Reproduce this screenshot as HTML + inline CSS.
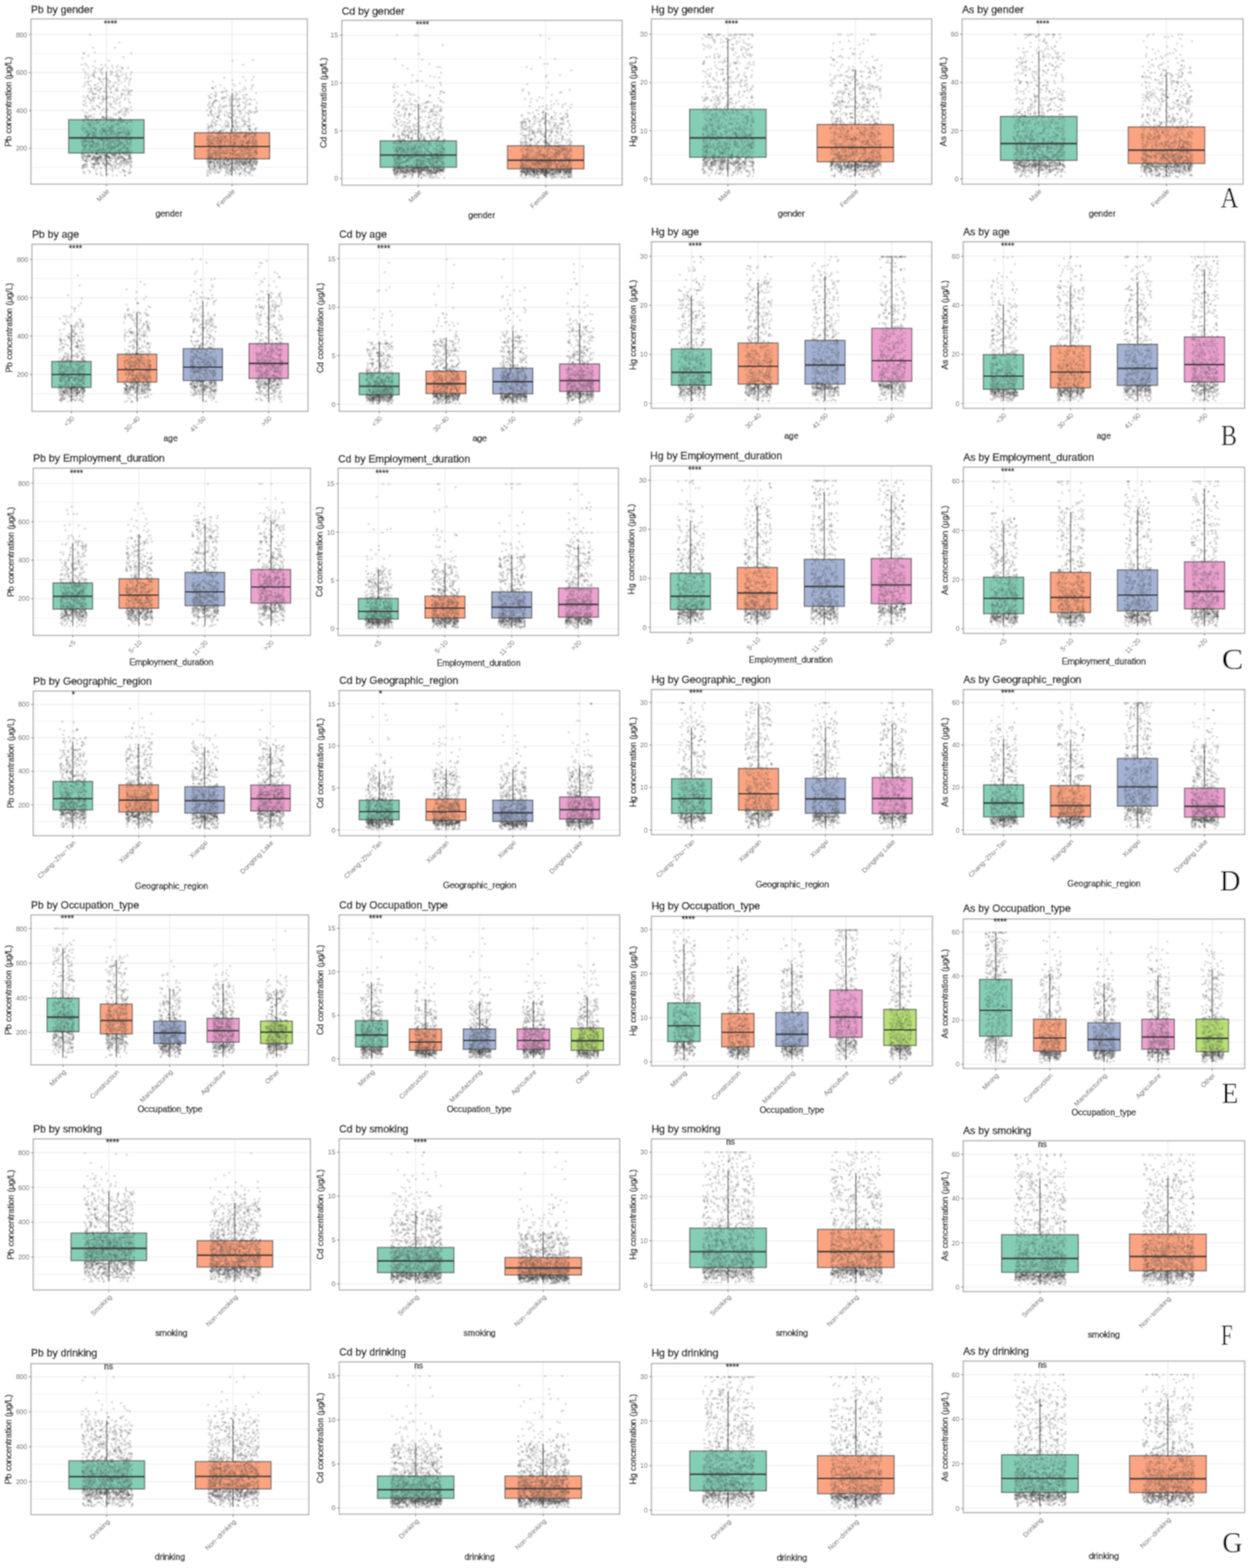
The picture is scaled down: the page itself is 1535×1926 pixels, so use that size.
<!DOCTYPE html><html><head><meta charset="utf-8"><title>Heavy metal concentrations by group</title>
<style>html,body{margin:0;padding:0;background:#fff}svg{display:block}.t{font-family:"Liberation Sans",Arial,sans-serif}.ti{font-size:12.85px;fill:#111;stroke:#111;stroke-width:.42px}.yl{font-size:8.4px;fill:#666;text-anchor:end}.xl{font-size:8.4px;fill:#666;text-anchor:end}.at{font-size:10.6px;fill:#111;stroke:#111;stroke-width:.33px;text-anchor:middle}.sg{font-size:10.6px;fill:#111;stroke:#111;stroke-width:.3px}.lt{font-family:"Liberation Serif","Times New Roman",serif;font-size:35.5px;fill:#111}.gm{stroke:#ececec;stroke-width:1.1;fill:none}.gn{stroke:#f1f1f1;stroke-width:1;fill:none}.pb{stroke:#a3a3a3;stroke-width:1.3;fill:none}.tk{stroke:#777;stroke-width:1;fill:none}.bx{stroke:#333;stroke-opacity:.7;stroke-width:1.35}.md{stroke:#3a3a3a;stroke-width:2.2}.wk{stroke:#6f6f6f;stroke-width:1.4}.pt{fill:none;stroke:none;marker:url(#d)}</style></head><body>
<svg width="1535" height="1926" viewBox="0 0 1535 1926">
<defs><marker id="d" viewBox="-2 -2 4 4" markerWidth="4" markerHeight="4" markerUnits="userSpaceOnUse" overflow="visible"><circle r="1.4" fill="#3c3c3c" fill-opacity=".185"/></marker></defs>
<filter id="bl" x="0" y="0" width="1535" height="1926" filterUnits="userSpaceOnUse"><feConvolveMatrix order="3" kernelMatrix="1 2 1 2 4 2 1 2 1" divisor="16" edgeMode="duplicate"/></filter>
<g filter="url(#bl)"><rect width="1535" height="1926" fill="#fff"/>
<g>
<path class="gn" d="M38 205.6H377.5"/>
<path class="gn" d="M38 159H377.5"/>
<path class="gn" d="M38 112.4H377.5"/>
<path class="gn" d="M38 65.8H377.5"/>
<path class="gm" d="M38 182.3H377.5"/>
<path class="gm" d="M38 135.7H377.5"/>
<path class="gm" d="M38 89.1H377.5"/>
<path class="gm" d="M38 42.5H377.5"/>
<path class="gm" d="M130.6 23.3V226.3"/>
<path class="gm" d="M284.9 23.3V226.3"/>
<rect x="84.3" y="147" width="92.6" height="41" fill="#85ceb7"/>
<rect x="238.6" y="163" width="92.6" height="32.3" fill="#fda481"/>
<path class="wk" d="M130.6 147V87.5M130.6 188V215.4"/>
<path class="wk" d="M284.9 163V115M284.9 195.3V215.4"/>
<path class="pt" d="M110.5 42.5l36 10-5 6-27 0-12 7 1 0 13-1 45 1-10 5-43-2-7 3 15 4 17-1 24 9-7 0-2-1-4-2-1 2-5 1-1-3-5 3-3-3-3 3-2-4-7 4-3-2-6 2-2-3-2-2-4 1 2 6 2 3 11 1 0-3 2 2 4-4 2 4 1-3 0 0 1 4 10-2 2 1 0 0 5-1 3-1 3 1 2-3 11 4-1 3-5 3-1-3-4 0-3 2-2 1-1-1-1-3 0 2-2 1-4-2-2 0-10 0-5 4-4 0-1-2 0-1-1-2 0 3-2-1-3 2-1-3-3 0-1 4 0 6 3-1 1-4 0 4 3-1 11-3 0 2 0-1 2 3 1 1 1-4 2-1 3 0 1 2 2 1 1 1 5 1 2 0 2-5 1 3 1-1 3 3 4-5 0 3 3-3 2 5 1-3 1-2-2 8-5 2-8-3-1 4-5-1 0-2-2 2-4 0 0-4-3 3-4-1-6 2 0-4-3 2-1 0-6 1-2-2-4 1-2 2 6 3 1 4 2-5 0 3 1 1 0-3 4-1 0 1 2-1 1 3 2-1 1 0 0 3 1-5 1 0 3 4 1-4 0 4 7-3 0-1 1 5 0 0 6-2 0-2 1 1 1 1 6-1 2 0 2 1 2-2 1 4 1-2 0 1 3-1 0 0-1 5-2-2-1 2-3 0-3-1-2 1 0 0 0-2-1 5-4-1-4-3-2 4-3 0-2-1-2-4-1 4-4 0-1 0-4-1-4-2 0 0-1 4-2-4 0 0-1 4 0-5-6 3 0 1-5 0 0 6 2-1 1-3 4 0 0 1 2 2 0 0 2-1 1-1 1-1 0 4 5-4 1 0 4 1 1 2 0 2 1-4 0 0 2 0 2-1 0 0 8 4 1-3 1 4 2-2 0-2 3 0 1 4 6-5 0 2 4-1 1 3 2 7-1-5-12 4-1-3-4 0-6 1 0-1 0 4-2-2-1-3-9 1-2-1-1 5-1-1-2-1-5 1-2-4-5 4-1-4-2 3-1-1-1 7 9 0 3-2 2 0 1 1 6-2 3 3 2-2 2 4 2-4 1 2 6-3 3 1 5 4 2-2 1 2 1-4 3-1 0 5 1-4 0 3 1-2 1 1 1-2 4 2-4 3-3 3-1-2-1 3-2-2-4-2 0 5-1-5-3 3 0-2-3 1-8 2-5 1-1 0-2-4-8 1-3 3-1-2-2 2 0-1-1 1-1-5-2 4 0 1 0-1-1 0 0-4-3 9 1 2 0 0 1-3 2-2 0 5 0-5 1 1 1 1 1 0 0 1 1 1 3 1 0-3 0 2 1 1 2-5 1 4 1-1 1 0 1-1 0 1 0 0 3 0 0 2 1-3 2-2 1 0 1 0 1 0 0 1 1 4 1-5 1 5 0-1 0-3 1 2 1-3 2 3 0 2 0-4 1 3 0-4 1 4 0 0 1-3 1 4 0-3 0 2 0-1 1 1 2-2 2 3 1-2 0 1 1-3 1 3 0 0 0-2 0-1 1 0 0 0 1 4 0-2 0 2 2-2 0 2 1-1 1 1 3 0 1-1 3 1 0-2 0 1 1 2-2 5-3-4-1 1 0-1-4 3-2-4-1 0-2 2 0 2-1-4-1 2 0 1-1-1-1 2 0-2-2 0-2 2-1 1 0-2 0 1-2-3-1 4-3-1 0 0-2-3-2 2 0-2-1 2-3 0-1 2-2-5 0 1-1-1 0 0-2 1-1 1-2 1 0-2-3 3 0-2-1 3 0-2 0-1 0 2-1-1 0-2-1 0 0 0-1 4-1-3-3 1-2 1-1 2 0 3 2 1 0-2 0-1 2 0 0 0 1 3 1-1 0 2 1 0 1-1 2-3 1 2 1 1 1-3 1 1 0-2 1 1 0-1 1 3 0 0 1-2 0 3 1-1 0 2 0-3 4 3 0 0 1-2 1-1 1-1 0 1 1 1 0 2 0 0 0-1 0-3 1 4 0-1 0 0 1 1 0-2 0 2 0-3 1-1 0 2 1 1 0 0 1-4 1 4 1-4 0 3 0 1 1-2 0-1 0 4 1-5 0 4 0-2 1 1 0-2 0 1 1 3 0-5 0 4 1-4 0 3 1 2 0 0 0-5 0 4 4 0 1-3 1 1 0 0 2-1 0 0 1 2 1-2 2 4 0-1 0-2 1-2 0 5 1-3 2-2 0 4 0 0 1-1 1 2 1-2 3 1 0-1-1 5-1-2-1 0 0 2 0 1 0-1-1-1 0 1 0-1 0 2-1 1 0-2-1 3-1-4 0 1 0 1-1 2 0-4-1 0-2 3-1-4 0 0 0 1-2-1 0 1 0 0-1 3 0-3 0-1 0 0-1 3 0-2-1-1 0 1 0 3 0-1 0 2-1 0-1-4 0 1-1 2 0-1-1-2-1 1-1-1 0 3-2-4 0 2 0 0 0 0 0-2-1 5 0-3-2 2 0-1-1 0-1-3 0 4-1 1 0-5 0 2 0 0 0-2-1 2 0 1-2-3-1 4-1 0 0-2-1-2 0 3 0-1-1-1-1 3-1-2-3 0 0 2 0 1-1-3 0 3-1-5 0 4-1-1 0-2 0 4 0-4-1-1 0 4 0 1 0-1 0-2 0 2-1-4 0 3-1-3-2 2 0-2 0 2-1 1 0 2-1-1 0-1 0-2 0 2 0-1 0-2 0 4-1 0-1 0 0-1 0-3-2 0-1 1-3 3 0 7 0-5 0 3 1-2 0 1 1 2 1-1 1-1 0 2 0 0 1-1 0 2 0-5 0 5 0-5 1 5 0 0 1-5 1 2 1-1 0 4 0-4 1 4 1 0 1-3 0 3 0-2 0-3 0 5 1-2 0 2 1 0 0-4 3 2 1-1 1 3 1-4 0 2 1-1 1 0 0 2 1-2 0-1 0 1 1 1 0-1 0 2 0-2 1 1 0 1 0-2 1 2 0-3 0 3 2 0 0 1 0-3 2 2 0-1 1 0 0 2 0-2 1 0 1-1 0 3 1-4 0 1 0 0 0 2 1 1 0-4 1 1 1 3 1-2 0-3 0 4 1 1 2-5 0 4 1 0 2-1 0 0 0 2 1 0 0 0 0-3 1 0 0 1 1 2 0-5 1 0 1 1 0-1 0 2 1 1 0-3 2 5 0-3 0-2 1 1 1 3 0-1 0-1 1 3 0-3 0-2 1 4 1-1 1-1 0 1 1-1 0-2 1 3 0-1 0 2 1-3 0-1 0 2 0 8-1-4 0 0-1 3 0-2-1 2-1-1 0 2-1-3 0 0-1 0 0 2-2 2 0-1 0 1 0-2-2 2 0-3 0 3-1-4 0 1-1-1-1-1 0 2 0 2 0-3-1 1 0-1 0 3-1-2 0-2 0 4-1-1 0 0-1 2 0 0 0 0-1-1 0-3 0 3-2-3 0 4 0-2-1-3 0 2-1 3-1-4-1-1-1 5 0-2-1-3 0 1 0 3-1-1 0-2 0 0-1 3 0 0-1-2-1 2 0-2-1 2 0 0-2 1-1-5 0 2 0 3 0-4 0 0-1 3 0-2 0 3-2-2-2 0-1 0-1-2 0 4 0-3 0 0-1 3 0-3 0 3-1-3-1 2 0-2 0 0-2 1 0-2-1-1 0 1 0-1 0 0 0 4-1 0 0 0 0-1 0-3-1 5-1 0 0-1-1 0 0-3-1 3 0-3-1 0 0-1-2 3 0 1-1 0 0 1 0-1-1-1 0-3-2 0 0 3 0 2 0-4-1 0 0 3 0-1 0-3 0 4 0 6 1 0 0-4 0 3 1-3 1 4 0-3 0-1 0 4 0-3 1 1 2 2 1-1 1 0 0 2 0-5 1 4 0-3 1 0 1 4 0-5 0 0 1 5 1-3 0 0 0 3 1-5 1 4 1 1 0-5 0 0 0 5 1 0 0-4 1 3 1 0 0 1 0-2 1 1 1-3 0 2 0 0 0-3 0 4 2 0 1-1 0 1 0-2 1 0 0 0 1 1 0 1 1-1 1 1 1-2 0 2 1-3 1 0 0 1 0 0 1-2 0 0 0 5 1-3 1 0 0 0 1-2 0 3 0 0 0-1 0-2 0 5 1-1 0-4 1 1 0 2 0-2 1 0 0-1 0 1 1 1 1 3 0-5 0 1 0 1 2-2 1 5 1-1 0 0 0 1 0-4 1 4 0-1 1-1 0 1 1-2 0 3 0-2 1-2 1 1 0 3 1-4 1 1 1-1 0 0 1 1 0 3 1-1 1-2 0 0 0 0 0-2 0 2 1 3 1-1 0 1 0-4 2 0 1 4 0 1-1 3 0-2-1 4 0-1-1-4 0 5 0 0 0 0 0-3-1 2 0-3 0 0-1-1 0 1 0 3-1-4 0 0 0 0-1 2 0 2 0 0-1-4 0 2-1-1 0 2-1-2 0 1 0 0-1-1 0 4 0-4 0-1-2 5 0-4 0 4-1-3 0 1-1-1 0 0 0-2 0 4-1-1-1-2-1 4-1-5 0 2 0 0-1 1 0-3 0 5 0-3 0 2 0 1-1-2 0 2-1-1 0 0 0-4 0 2-1 2 0-1-1 0 0 1-1-1-1-2 0 1 0 0-1-2 0 0 0 0-1 5-1-4 0 1 0 3-1 0 0-5 0 5 0-2-1 2 0 0 0-1-1 0 0-4 0 1-1 3 0 1 0-1-1-3 0-1-1 1 0 3-1-2 0-2-1 4 0 0-1-3 0-1-1 5-1-1 0 0-1-4-1 0 0 2 0 0-1 0 0 0 0 0 0 1 0 0 0-1-1 1-2 2-1 0-1-2-1-2 0-1-1 1 0 4-1 0 0 0-1 0 0-1-1 1 0-1-1 1 0-3-1 3 0-5-1 1-1 1-1 3 0 0 0-1-1-3-1 1 0 2-1-4 0 5 0-3 0 1 0 4 1 0 0 1 0 2 1-3 0 3 2 1 0 0 1-5 0 1 0 4 0-1 0-1 2-2 0 1 1 2 0-4 1 0 1 5 0-5 2 4 0-2 1 1 0 0 0-1 1 1 0 0 0-2 1 0 0-1 1 1 0 0 0 3 0-2 1-2 0 4 0-3 0 2 0 2 1-1 0 1 1-3 0 1 0-2 0 2 0-2 0 0 0 3 1 0 0-2 0-1 1 2 0-1 0-1 1-1 0 1 0 3 0-4 1 1 0-1 0 1 1 0 0 1 0 2 0-3 1 3 2 1 0-2 1-2 0 1 1 0 0 2 1-3 0 4 0-1 0-4 1 5 1-4 0-1 1 1 0-1 0 1 0 0 1 0 0 1 0 0 0 3 1-4 0 4 0-3 1 3 1-3 1 0 0-2 3 1 0 3 0-2 1 1 0 2 2-2 0-1 1-1 0 2 0-3 0 1 1 0 0 1 2-1 0 4 0-4 1 0 0 1 1-1 1 0 0 4 0-2 1-1 0 3 0-1 0 0 0 0 0-2 1 3 1-2 1 1 0 0 2-1 1-2 0 1 0 0 1 0 0 1 0 2 1-5 0 1 0 2 1-1 0 5 0-1-1 4-1-3 0 3-2-3 0 0-1 2 0-3-1 4 0-3-1 0-1 2-1-1-2-1 0 2-1-3-1 5 0-3 0-2-1 4-1-2-1 1-2-1 0 2-1-4-1 1 0 4-2-1 0-3-4 3 0-1 0 2-1-2-1 0-1-1 0 0 0 0-1 1 0-3 0 0-1 5 0 0-1-2-1 1 0 1-1-4 0 1-1 1 0-1-2-2-3 2 0 0 0 3 0-2-1-1 0-2-1 3 0-3 0 2-1 1-1-3 0 1-1 3 0-1-1 0 0 0 0 0 0 2-1-2-1 0-1-1-6-2 0 4 0-4 0 3-2 1 0 0-1-1-1 2-1 0 0 0 0 3 0 0 1-2 1 1 2 0 1-1 2 5 4-5 1 1 2 1 0 0 0-2 2 5 2-2 4-1 1 0 5 0 1 2 4-1 3 1 0-4 0 0 1 3 3-2 0 1 3 1 2-2 4 3 1 1 1 0 0-5 7 4 1-3 1-1-1 7-1 1-1 1-1-2-4 4 0-5 0 5-1-4-5 0-4 4-5 0 0-5-6 4-2 1-5 0-2-1 0-3-5 2 0 0-8-1 0-2-6 2-2 0 0-2"/>
<path class="pt" d="M285.5 74.5l25-1-12 6 13 15-13 0-23 1-14 5 24-2 16 0 8 0 1 6-1 2-9 1-6-5-6 3-2-2-16 1-6 2-4 1 1 1 0 0 3 5 8 0 0 0 2-1 1-4 2 4 1-1 7-1 4 3 5-1 4-2 3-1 7 0 6 5-11 2-2 0-3 1-7-2-1 1-1 2-3 0-1-3-3 4-3-3-2 3-3 0-9-2 0-2-1 4-1-2-4-2-2 4-1-2 1 8 0-5 2 0 3 5 1 0 0-2 1 0 1 0 0 0 3 1 4-4 0 1 2-1 1 4 1-4 5 2 1 3 0-3 4 0 1-1 2 0 1 4 0-3 2 2 0-3 2 0 0 0 4 4 1-5 1 0 2 4 1-2 3-1 2 1 4 0 3 4-1 5-7-3-1-1-2 1-3 0 0 3-1-5-6 3-1 1 0-3-1 3-1 0-3-1-1 1-2 0-2-3-1 3 0-1-4 1-1-1-2 2-1-1-1 1-3 0 0-3-2 3-7-1 0-4 0 1-1 1-1 2-3-3-1 2-1 6 3-3 0 0 1 5 1-1 0-1 4-3 5 2 1 3 1-2 1 2 6 0 6-3 2 0 1 3 2-2 4-1 1 2 1 1 1-1 3-2 2-2 5 5 1-2 2 2 4 0 2-4 1 3 0 1-3 1-4 0-3 2-1-1-3-1-1 4-2 1-2-4-2 1-4 3-2-4-2 3 0-1-1-1-3-1 0-1-2 4 0 1-1-4-3 3-1-2-6 1-1-3 0 3-1 2 0 0-1 0-2-4-2 4-1-2-2 0 0-2-1-1-2 3-1 0 5 7 2-2 3 2 1 0 1-4 2 1 2 2 6 1 2 1 3-5 1 0 0 0 1 4 1 1 0-3 1 3 2-1 1-1 1-3 3 0 3 1 1 3 1-2 1 2 1 1 1 0 3 0 1-5 0 2 1 1 5 5-4 2-1 0 0-4-1 4-1 1-1-1-2-2-1 0-1 3 0-3-2 2-3 1-1-5-2 5-1-5 0 4-1-4 0 2-3 3 0-1 0 1-1 0 0-3-4 3-1-4 0 1-1 2-1 0-1 1-1-4-1 3-6-1-4-1-1 0 0 2-1-4-2 0 0 5-2-1 0 0 0-3 0 3-2 1-2-3 0 3-1 3 2 2 0-3 0-1 4 1 1 4 1 0 2-2 2 2 3 0 1-1 0 1 1-1 1-4 0 4 2 0 1-2 4-2 4 4 0 0 1-1 0 0 4 0 0-2 1 3 0 0 2-4 1 2 3 0 0 3 7 0 3-3 1-1 0 3 0-1 0 0 1-1 2 3 4-2 0 0 0-2 2 0-1 8 0-3-1 3 0 0 0 0-1-2 0 4 0 0 0-4-2 2-1-3 0 1-2 4 0-3-1 0 0 0 0 0-1 1 0 0-1-1-1-1-1 1 0 2 0 0 0 1-1-1 0-2 0 1 0 1 0 1-1 0 0 0-1 0 0-5 0 5-3-5 0 1-1 2-2-2 0 4-1 0 0-3 0 3 0-5-2 4 0 0-1-2 0 3 0-2-1 1-1-4 0 4 0 0 0 0-1 1-1-2-1-1 0-2-2 3 0-2 0 1 0 3-1-2-3-3 0 5-1-4-1 4 0 0-1 0-1 0-1-4 0 2-1-1 0 3-2-2-1 2 0-5 0 1 0 1-1-2 0 3-1 0 0-2-1 1-3-2-3 1 0 4-1-1 0-3 0 4-2 0 0 0 0-5-1 3-1-3 0 5-1-1 0 5 0 0 0-1 1 3 0 0 0-4 0 2 0-3 1 3 1 0 0-2 0 2 2 1 0 1 1 0 0-2 1-1 1-2 0 4 0-2 1-2 0 5 0-3 1 0 1 2 1-4 0 0 0 1 0 3 1-3 0 4 0-1 1-3 0 1 0 0 1-1 0 4 0 0 0 0 1 0 0 0 1-2 0 1 0-4 0 0 0 4 1 1 0-4 0 4 1-2 0-1 1 0 1 3 1 0 0-4 0 0 1 1 0 0 0-2 1 5 1-1 0-1 1 1 1 1 1-5 0 3 1 0 0-3 0 1 0 3 0-3 0-1 3 3 0 2 1-2 0-2 1 2 1-1 1-1 0-1 1 0 0 3 1 2 1-4 1-1 0 5 1-2 1 2 1-4 0 4 1-1 0 1 1-5 0 5 2-4 0 0 0 1 1 2 2 1 0 0 1-5 0 4 0 1 1-3 0 1 1 1 1-3 1 4 0-5 0 0 1 4 0 1 0-1 0-4 1 2 0 1 0-1 1-2 1 4 1-1 0 1 0 1 1-5 1 6-1 4 0 0-1-3 0 2 0 0 0-3-1 0-1 1 0 2 0-1 0-2 0 5-1-3 0 3-1-3 0 1 0 2-1-1 0-3 0 0-2 1-1-1 0-1-1 1 0 0 0 3-1 0 0-4 0 1 0 2-1-2 0 0 0 1 0 3-1-4 0 0 0 0-1 2-2-1-1-2 0 4 0-2 0 3-1-1 0 1 0-2 0 2 0-1 0 1 0 0-1 0 0-2-1-1 0-2 0 5-1-4-1 2-1 0 0 2-2-5-1 0 0 2 0 2 0 0-1-3-1-1 0 2 0 1 0-3 0 2 0 0 0 0-1 2 0 1 0-1-1 0-1 0 0-3-1-1 0 0 0 1 0 4 0-5 0 3-1-2 0 3-1 1 0-1-1-1 0-2-2 4-1-1-1-4 0 0-1 4 0 0 0-1 0-2-1 3-2 1 0 0-1 0 0 0 0-4 0 1 0-1-1 3 0-2 0 3 0 0 0-5-1 4-1-3 0 2-1 2 0-2 0-2-1 0 0 2-2-3-1 5 0-2-1-1 0 2-1-1 0-1-1 0 0-1-1 1 0-1 0 4-1-3 0 2 0-2 0-2-1 5 0-5 0 0-1 1 0 2 0 0 0 2 0 0-1-5 0 3 0 1-1-2 0 8 1 0 1 0 0-1 1-1 0 2 0-3 0 4 1-3 1-1 1 3 1 0 0-4 1 4 1-4 0 0 0 1 1 2 0-3 0 5 1-5 1 1 0 4 1-2 1-2 0 2 1 2 0-1 0-3 0 0 1 3 0-3 0 1 0-1 1 1 1-1 0 1 0 2 2 1 0 0 1-3 2 3 0-5 0 3 1-1 1 3 0-2 2 0 0 0 1 0 2-3 0 4 0 0 1-2 0 3 0 0 0-2 1-1 0 3 0 0 0-1 0-1 0-2 2-1 1 5 0-1 0 0 1-4 0 3 1 1 1-2 1-1 0 2 1 1 1-2 0 0 1 1 0 2 0-4 1 4 0-5 0 4 1 1 1-5 0 1 0 1 1 1 0-3 0 5 1-3 0 2 0-1 0-3 1 3 1-1 0-1 1 2 0-1 0 1 0-1 2 1 0 0 0 1 1-1 0-3 1 0 0 3 1-1 0 1 1-2 1-1 1 1 0-1 0 3 1 2 0 0 0 0 1-3 0 3 0 0 1-5 0 3 0-3 0 8 0 0 0-1 0 0-1 3 0-3-1 3 0-2 0-1-1-1 0 1-1 4-1 0 0-3 0-2-1 2-1 2 0-4-1 4 0-1-1-1 0-2 0 4 0 0-1-4 0 0 0 2-1 1 0-2-1 2 0-1-1-2-1 1 0 2-1-1-1 2-1 1 0-1 0-2 0-1-1 2-1 0-1-2 0 4 0-5 0 5-2-1 0 0 0 1 0-3-1 2-1-1 0 0 0 0-1 1-1 1 0-1 0 0-1-4 0 0 0 1-1 3-1-1 0-1 0 1-1 0 0-1 0 0-1 1-1 1-1 0 0-3 0 1 0 0 0-1-1-1 0 5-3-3 0 1 0-1 0-2 0 0-1 2-1 0 0-1-1 2-1-3 0 2 0-1 0-1 0 1-2 2-1-2 0-1 0 2-1 0 0 3 0-4-1 2 0-2 0 4 0-2-1 2-1-5 0 0 0 2 0 0-1 3 0-1-1-4 0 5 0-4 0 2-1-3 0 3 0-1 0 1 0 1-1-3 0 0 0-1-1 4-1-2 0-1-1 2 0 0 0-1-1 3 0-1-2-2 0 3 0-1 0-1 0-3-1 5 0-2 0-2-1-1 0 4 0-1 0-2-1 10 0-2 1-2 0-1 0 4 0-3 1 2 0-1 0-2 0 2 1 3 0-2 0-2 0 0 0 0 1 3 0-3 0-1 1 5 0-4 0 2 0-3 1 1 0 0 0 1 0-2 1 3 0-1 1 2 0 0 1-1 1 1 0-3 0 2 0-2 0 3 1-1 0 0 1-1 1 1 0 1 1-1 1 1 0-2 0-2 1 2 0 0 0 3 0 0 0-1 0-4 1 1 0 2 1-3 1 5 1-5 0 4 0-4 0 5 1-1 1-1 0-2 0 0 1 3 0-3 0 0 0 0 0 3 1 1 0-3 0-1 1 4 0 0 1 0 0-2 0 0 0 2 0-2 1 2 0-3 0-2 2 5 0-3 0 1 1 0 0-1 0 0 1-2 0 5 1-5 0 5 0-3 1 0 1 0 0 2 0 0 0-2 1 0 1 2 0 0 1-2 0-1 0 1 0 2 0-3 2 4 0-2 0 2 1-4 0 3 0-2 0 1 1-2 1 4 0-2 0 2 1-5 0 3 1 1 1-3 0 4 0-5 0 3 1-1 0 3 1-2 0 1 1 1 0-1 0-2 1 0 0 2 0-1 1-3 0 5 0-4 1 1 0-2 1 0 0 4 0 1 1-2 0 2 0-5 0 5 1-2 0 2 0 0 1-2 0 0 0-3 1 2 1-1 0 3 0-2 0 0 1 3 0-2 0-1 1 1 1-2 0 3 0 1 1-2 0 4 0 0 0 0 0-1-1 3 0 1 0-3 0 3-1-1-1-3 0 1 0 1-1-1 0-1-1 0 0 4 0-1 0 1-1-3 0 4-1-2 0 2-1-1 0-3 0 4 0-3 0-1 0 3-1-4 0 0 0 3-1-3 0 2 0-1 0 0 0 1 0 3-2-4 0 1 0 3-1-1 0-4 0 2 0 1-1 0 0 0 0-2 0 0-1 0 0 0-1 3 0-2 0 2 0-4 0 2 0 0-1 0 0 2 0-4 0 3 0 1-1-1 0-1-1-1 0 0 0 2 0-3-1 0-1 4 0-3 0 4 0-5-1 4 0-2 0 2 0-3-1 0-1 2 0-3 0 0 0 5 0-3-1-1-1 1 0-2 0 3 0 0 0-3-1 1 0 3-1-1-1-2-1 1 0 1 0-1-1 1-1 0 0-1-1 1 0-3-1 4 0-2 0 3-1-1 0 1-1-2 0-3-1 2 0 2-1 0-1 0 0-4 0 4-1-3 0 2 0-1 0 2 0-2-1 0 0-1 0 2-1 1 0 1-1-5-1 1 0 2-1 0 0 2 0-3 0 3-1-3 0-1 0 4-1-2-1 1 0-3 0-1 0 0-1 0 0 1 0 0 0 2-3-1 0 2 0 1 0-2 0-3-1 1 0 1-1 3 0-4-1-1-1 1 0 4 0-3-1-2 0 1 0 0-1 0 0 1 0-1 0 2-1 1 0-4 0 5 0-5-1 1 0 2-1-2 0 10 2-1 0-3 0-1 0 0 1 2 1-1 0 3 0 0 2-1 1-1 1 0 0 2 1-4 0 0 1 2 0-2 0 4 2-4 0 4 3-3 0 2 0-2 1 1 0-1 0 2 1 2 0-5 1 1 2 0 1 1 1 0 1 3 0-5 0 0 1 5 0-2 1-1 0-1 1 3 2-1 0 2 1-3 0-1 0 4 1-1 0-4 1 1 0 1 1-2 1 3 0 1 0 0 1 1 0-5 1 1 0 1 2 1 0-2 1 3 0-4 1 4 2-2 0-2 1 2 0 0 1 3 2-1 1-1 0-3 0 5 1-3 0 1 2-2 1-1 2 1 0 2 2 0 0 2 0-1 1-3 0 1 1 0 0-2 1 4 0 1 1-2 0-1 1 1-4 8-2-4-1 3 0-2-1-1-1 1-1-1-2-1 0 5-1-5-1 3-4-1 0 0-1 3 0-2-1 0-4-2 0 2-5-3-1 4 0-1-1-3-1 1-1 3-1-2-1-1-1 1-1 3-8-3 0-1 0 0-2 0-2-1-1 2-2-2-3 3 0-2-2 0-1 4-1-3 0 3"/>
<rect x="84.9" y="147.6" width="91.4" height="39.8" fill="#85ceb7" fill-opacity="0.3"/>
<rect class="bx" x="84.3" y="147" width="92.6" height="41" fill="none"/>
<path class="md" d="M84.3 169.3H176.9"/>
<rect x="239.2" y="163.6" width="91.4" height="31.1" fill="#fda481" fill-opacity="0.3"/>
<rect class="bx" x="238.6" y="163" width="92.6" height="32.3" fill="none"/>
<path class="md" d="M238.6 180H331.2"/>
<rect class="pb" x="38" y="23.3" width="339.5" height="203"/>
<text class="t yl" x="33.4" y="185.3">200</text>
<text class="t yl" x="33.4" y="138.7">400</text>
<text class="t yl" x="33.4" y="92.1">600</text>
<text class="t yl" x="33.4" y="45.5">800</text>
<path class="tk" d="M35.4 182.3h2.6M35.4 135.7h2.6M35.4 89.1h2.6M35.4 42.5h2.6M130.6 226.3v2.6M284.9 226.3v2.6"/>
<text class="t xl" transform="translate(130.4 231.1) rotate(-45)" dy="6.2">Male</text>
<text class="t xl" transform="translate(284.7 231.1) rotate(-45)" dy="6.2">Female</text>
<text class="t ti" x="38" y="15.8">Pb by gender</text>
<text class="t at" x="207.5" y="266">gender</text>
<text class="t at" transform="translate(14.1 124.8) rotate(-90)">Pb concentration (μg/L)</text>
<text class="t sg" x="127.4" y="32.8">****</text>
</g>
<g>
<path class="gn" d="M419.8 190H764"/>
<path class="gn" d="M419.8 131.3H764"/>
<path class="gn" d="M419.8 72.6H764"/>
<path class="gm" d="M419.8 219.3H764"/>
<path class="gm" d="M419.8 160.6H764"/>
<path class="gm" d="M419.8 102H764"/>
<path class="gm" d="M419.8 43.3H764"/>
<path class="gm" d="M513.7 25V227.5"/>
<path class="gm" d="M670.1 25V227.5"/>
<rect x="466.7" y="173" width="93.9" height="32.5" fill="#85ceb7"/>
<rect x="623.2" y="179" width="93.9" height="28.5" fill="#fda481"/>
<path class="wk" d="M513.7 173V127M513.7 205.5V218.4"/>
<path class="wk" d="M670.1 179V138.3M670.1 207.5V218.4"/>
<path class="pt" d="M512.5 43.5l-3 0-22 0 56 12-29 11-29 6 33 1 22 9-3 0-10-4-33 2 6 4 16 3 25 2-2 6-6-1-5-1-22-1-1 9 6-2 2 0 5 0 22 2 1 3-9 3-4 0-5-2-26-1-9 2-4-3-1 3 0 1 2 6 14-1 2 1 40-1 0 0 3 1 1 0-5 2-12 2-1 0-19-1-3 0-2-1-10 2-5-3-4 3-1 8 1-2 1-1 7 2 3-2 1 2 6 0 1-3 6 2 2 1 3-4 10 5 1-1 1 1 3 0 9-5 2 3 1 1 3 1-4 6-3-2-1 2-3-2-1 0-8 2-1-5-1 0 0 5-3-4-3 2-3 1-3-1 0 2-3-3-3-1 0 1-4 0-3 0-2 2-5-2-1 2 0-2-2 3-2 4 4 2 5-3 0-2 3 1 1 1 0 1 1-2 5 0 3 3 2-1 5-1 2-1 1 4 2-2 1 2 2-1 0-4 6 5 1-1 0-2 0 1 1 2 1-3 1 2 1-4 2 5 4-1 1-2 1 2 0-1 1-2 0 10-3-2-2-3-2 3 0 0-1 0-2-2-1 2-4 0-1-3-4 5-7 0-10-3-2 0-1-1 0 4 0-2 0-1-5 1 0-3-1 5 0-3-4 1-2 1-1-4-2 3-3-2 0 5 2 2 0 2 1 0 3-2 2 3 8-3 3 2 6-4 1 2 4-1 1 4 2-5 3 3 6-3 0 0 1 5 2-5 0 4 4-2 2 3 1-4 5 1 0 1 3-3-3 9 0-3-1 1 0 4 0-1-3-2-3-1-1 4-1-4-1 2-4 0-2 1 0 1-1-4-9 4-1-1-2-3-1 4-1-2-3 1 0-2-4 3-1-5-2 1 0 4-2 0-1-5 0 4-2-4-1 3-2 1-3-2-2 0-1-2-2 5-2-2 3 3 4 2 5 3 2-2 0-2 0 4 1 0 3-3 0 2 2-4 1 2 1 3 1-1 1 0 2-4 1 3 0 0 2 1 2-1 1 2 1-3 2-1 2-1 4 0 1 3 2-3 0 0 7 5 2-3 2 0 0 0 2 3 1 0 0-5 1 1 1 4 1-4 0 9 0-3-5 4 0-4-6 1 0 1-2-3-2 5-1-4 0 3-3-3 0 1-4 3-3 0 0-3 0 2-1-1-2-3-2 5-1-3-1-1-1 1-3-1 0 3-1-4-3 1 0-1-1 4 0 0-1-1-1 1-2-1 0 2-2-2-1 1 0-2 0 0-1 0-3 3-1-1-1-4 0 5-5 0 0-2 0 0-1 2 5 6 0-1 2-4 0 3 1-1 1 0 0 2 1 1 0 0 2-1 0-1 1 0 1 0 0 1 1 1 0-5 4 1 0-1 0 1 0-1 3 2 1 3 0-4 0 1 0 0 1-1 2 4 2-1 1 0 2-3 1 1 0 3 1-1 1-2 0-1 2 4 1-2 1-2 0 2 1-2 0 3 0-2 0 3 1 0 0-1 6-3 1 3 1 0 0-2 3 2 1-3 0 2 2 1 1-2 0 1 0 0 1-2 0 0 0 0 1-1 1 5 4 0 0 0 1-2 0 0 0 1-1 3-1 1-1-2 0 5 0-1 0 0-2-3-1 3 0 0-1-3-2 4 0 0 0-1-1-3-1 1-4 3-1-1-1-2 0-1-1 4-1-5 0 1 0 1 0-2 0 3 0 1-2 0-1-3-1 4-1-3-1 2-1-1 0 1-2-3 0 3-1-1-1-1-2 3 0-4-2 1 0 1-1 2-1-1-1-1-3-3 0 5-1-4 0 3-2-2 0-2-1 5 0-4-1 2 0 1-1-3-1 3-1-3 0 1-2 0 0 1 0 2-2-5-1 4 0-4 0 2-1-2 0 0 0 1 0-1-1 0 0 0 0 3-2-1-1 2 0-2-2-1 0 0-1-1-1 1 0 1 0 5 0-1 0 5 2-1 1-3 0 2 0 1 0 0 0-3 1 3 0 1 0-4 0 4 1-5 0 4 0 1 1-3 0 2 1-1 0-1 0-2 0 1 1 2 0-2 0 0 0 2 1 2 0-4 1 4 0-3 0-1 1 2 0 0 0-2 1 3 1 0 0-1 0 1 1-2 0 3 1-5 2 3 0 2 0-2 0-1 0 0 0 3 1-2 0-1 0 2 0-4 2 4 1-3 1 1 0 0 0 1 0 0 1 1 0-4 1 2 0 3 0-1 1-3 0 1 0 1 0-2 1-1 0 4 0-4 1 2 1-1 1 2 0 2 0 0 2-4 0 4 0-3 0-2 0 0 2 0 0 0 0 5 1-4 0 2 3-3 1 1 1 1 0 0 1 2 0 0 2 1 0-3 0 0 0 3 0 0 7-3 0 2 2-2 1 2 0 0 1-2 0 2 2 1 1-5 1 3 0 1 1-2 1-1 1 0 0 1 1 1 0 1 0-2 1 1 0-1 0 1 0 4 0 3-1-4-1 2 0 2 0-3 0 4 0 0-1-1 0-4 0 5 0-1-1 0 0-3 0-1 0 2-1 1 0 2 0-4 0-1-2 2 0-2-1 3 0 1-1-2 0 0 0 3 0-1 0-2 0 0-1 1 0 1 0 0 0 0-1 0 0-2-1-1-1 2 0 2-1-2-1 2-1-2 0 2 0-4 0 1 0 1-1 1 0 1 0-4 0 0-1-1-1 5 0-4-1 3-3 0-1-4 0 3 0-1 0 3 0-4-1 4 0-1-1 1-1 0 0-4-1 4 0-5 0 3 0-3-1 5-1-5 0 4-1-1 0 0 0-1-1-2-1 5 0-3 0 2-1-2 0 2 0-3 0 4 0 0-1-4 0 3 0-2 0-2-1 1 0 2 0 2-1-4 0 3-2-2 0-1 0 4-2-5 0 1 0 3-1 0-1-3-1 3-1-2 0 0 0 3 0-1-1 1-1-3 0 2 0-3-1-1 0 5-1 0 0-4-1-1 0 5 0 0 0-5-1 0-1 4 0-1 0 1-1 1 0-3 0-2 0 2-2 3-1-4-1 2 0 2 0-1 0-4-1 0 0 5 0-3-1 1 0-3-1 4-1-1-1 2 0 0 0-1 0 3 0 0 1 2 0 1 0 0 0 1 1-2 1-1 1 1 0-1 1 1 0-1 0-1 0-1 1 3 0-2 0 3 0-4 0 4 1-2 0-1 0-1 0 0 0 0 1 4 0-2 0-2 1 1 0 2 1 1 2-2 0-2 1 1 0-1 0 1 1 0 2 3 0 0 1-2 0 1 0-3 0 4 0 1 1 0 0-3 0 2 0-4 1 0 1 0 0 1 0 2 1-1 0 1 0-2 1 0 0 0 1 0 0 0 1 3 0-3 2-1 0 0 1 2 0 2 1 0 0 1 1 0 0-1 0-1 1 2 0-5 1 5 0-3 0-1 0 3 1 0 1 0 0-3 1 1 1-1 0 3 1-3 0 0 1 4 0 0 1-2 0-2 1 0 0 1 1 3 2-2 0 0 0 2 0-2 0 0 1 2 0-2 1 0 0 0 1 1 0 1 1-5 1 2 0 0 0-1 0 2 0 0 0-3 1 5 0-4 0 4 1-2 0-2 1 1 0-1 0 1 1 0 1-2 0 2 1 1 0-2 0-1 0 4 0 1 1-5 0 2 0-1 0 1 1 1 0-3 0 2 0-2 1 4 0-3 0 4 1 0 0-3 0 1 1-3 1 1 0 1 0 3 0-2 2-1 1-1 0 8-1-3 0 1 0 2 0 0-1-2-1 1 0 2-1-3 0-1 0 4-3 1 0-1-1 0 0-4 0 1-1 0 0 4 0-5-1 2 0-1 0-1 0 1-1 4 0-5-1 4-1-1 0-3 0 2-1 0 0 3 0 0 0-1-1 0 0 0 0-3-1 4-1-3 0 2 0-1 0-3-1 2 0 0 0-1-1 0-2 4 0-5-1 1 0 4-2-1 0-1-1 0 0-3 0 0-1 3 0 1 0-3-1-1 0 2 0 2 0-4-1 5 0-2 0-1 0 2-1-4 0 4 0 0 0-3 0 1-1-2 0 5 0-5-1 4-1 1 0-2-1-1 0 2 0 1 0-4-1 3 0 0 0 1 0-4 0 3-1-2 0 1-2-3 0 5-1-3-1 2-1 0-2 0 0-4-2 5 0 0-1-5-1 5-1 0 0-5 0 5 0-5-1 1 0-1-1 0-1 2-1-1 0 0 0-1-2 2 0 0-1 3 0-5 0 2-1 0 0-1 0 3-1-1 0 0-1-3 0 5 0-3-1 0-1 2 0 1 0-4 0-1 0 2-1 1 0-3-1 2-1 2-1 6 1 0 0 1 0-2 0-3 1 0 0 4 0-1 0 1 0 1 0 0 0-3 1 0 0 0 0 1 1-1 1 2 0-4 0 4 1-4 0 4 0-1 0-2 0 1 0 2 1-2 0 1 0-3 0 3 0-2 1 0 0-1 0 0 0 2 0 0 1 1 0 0 0 1 1-4 0 4 0 1 0-3 0 2 1 1 0-2 1-3 0 2 0 1 0-2 0 1 1 1 0 0 0-1 2 2 0 0 0-2 0 1 1-2 1 1 0 3 0-5 0 4 0-4 0 5 0-1 0 1 1-2 0 1 1 1 0-5 0 3 0 0 0-2 2 2 0 0 1-3 0 4 0-1 0 2 0 0 1-1 0-2 0-2 0 5 0-5 1 1 0 2 0 1 0 1 1 0 0-2 0-1 0 2 0-3 0 3 0-2 1 1 0 0 0-1 1 1 0-1 1 0 0 0 0-1 0 4 0-5 0 4 1-1 0-1 0-2 0 1 1 3 0-2 0 0 0 0 1 3 0-2 0-1 0-1 0-1 1 2 0 0 0 2 0-2 1-1 0 2 0 2 0-5 1 3 0 2 0-2 1 0 0 1 0-2 0 3 0-3 0 0 0-1 1 3 0 1 0-2 0 1 0 0 1-3 0 4 0 0 1-3 0 2 0 0 0-1 0-2 1 4 0-4 0 2 0 0 0-2 0 1 1 2 0-4 0 0 0 1 0 3 1-2 0-1 0 4 1 0 0-1 0-4 0 2 0 2 0-3 0 0 0-1 1 2 0 1 0 1 0 0 1-3 0 0 0 2 1 2 0-1 0 1 1 0 1-4 0 3 0-3 0 3 0 0 0 1 1-3 2 1 0 2 0-3 0 1 0-1 1-2 0 4 0 0 0-1 1 0 0-2 0-1 1 1 0 4 0-1 1-2 0 3 0-2 0-2 0 2 1 0 0 2 0 0 1-3 0 1 0-1 0 2 1 0 0 1 0-5 0 1 1-1 0 4 0 0 0-1 0 2 0-2 0-3 1 4 0 1 0 0 0-3 1 2 0 0 0-4 0 5 0 0 0-1 1 1 0 0 1-2 0-1 0 0 0-2 0 3 1 1 0-1-1 4 0-1-1 0-2 0 0 4-2-4 0 1 0 1-1-2-2 0 0 0 0 0 0 1 0 1-1-2 0 3 0-3 0 5-1-3 0 0 0-1 0 1-1 0 0-2 0 2-1 0 0 0 0-2-1 1 0 0-1 1 0-2 0 4 0-4-1 3 0-1 0-2-1 3 0-2 0-1 0 3-1 2 0-4 0-1-1 0 0 0 0 2 0-2-1 3 0 0-1-1 0-2 0 1-1 2-1-3-1 0-1 4 0 1 0 0-2-2-1-3 0 1 0 2 0-3-1 1 0 3 0-3-1-1 0 2 0 3 0-2 0-3-1 2 0-2 0 1-2-1-1 2 0-2-1 0-1 0 0 0 0 2-1-2 0 1 0-1-1 0 0 2 0-2 0 1-1-1 0 4 0 0 0-4 0 2 0 3-1-5-1 3-1-2 0 2 0-3-1 0 0 1 0-1-1 2 0-2 0 5-1-4-1 2 0-2 0-1 0 0-1 0 0 2 0 0-1 0 0 0-1-1 0 1 0-2 0 2-1-2 0 0 0 5 0-5 0 0-1 0 0 0 0 2-1 0 0-1-1 0 0-1-1 2 0-2 0 0-1 2 0 2-1-4-1 0 0 1 0 0-1 4 0-2 0-2 0 2 0-3-1 3 0-3 0 1 0 1-1 3-1-3 0 1 0-3 0 4 0-2-1-1 4 7 7 0 2-2 0 0 1 1 0-1 1 0 7 2 1-2 11 2 0 0 6-2 4 0 1 2 1-2 2 2 1-1 3 0 3 1 7 0"/>
<path class="pt" d="M674.5 47.5l-11-4 0 27 18 2-9 6-4 0-22 4 6 2 49 2-14 6-16 0-1 2 3 7-2 6-24-4-6 8 1-2 7 4 38 0 2 0 10-3-22 6-15 3-13-4-5 6 7 4 1-4 7 2 7-3 10 4 7-1 18 5-7-1-3 1-1 3-5-4-5 0-3 2-6 0-5 1-4 1-12-1 8 5 2 0 7 2 0-1 3-3 2 1 4-1 4 4 16-2 4-3-3 10-1-3 0 4 0-2-2-2-2 4-4-4-6 0-1 3-4 1-4-3-2-1-2 4-2-2-1-3 0 0-5 2-5 2 0 1-2-5-4 1-2-1-7 3-1 1 1 7 1 0 1-3 1 2 2-2 2-1 1 3 1 0 0 0 4-3 2 4 1-5 0 3 3 2 0-4 3 3 1-1 1-2 1-1 1 2 0-1 2 4 3-1 0 0 3 1 1-3 1-2 0 0 2 2 3 0 6-1 1 1 1-1 0-1 1 4 0-2 4-2 2 4 0 1 2 3 0 2-7-2-1-1-2 1-1-1-1 1-2 2-1 1-2-4 0 1-1 2-1 0 0 0-1-4-4 4 0-3-2 0-5 0 0 0-5 3-1-1 0-3-6 2-2 0-1 3-3-4 0 4-5-5 0 0 0 4 0-1-2-3-2 5 0-3 0-2-1 1 0 2-1-3 0 5 1 4 1-2 1-1 1 2 1 0 1 1 1-1 2-1 0-1 1 5 1-1 1-3 0 2 2 1 1 0 6-2 1 2 1-3 0 3 2 1 1-3 6 1 1 1 2 0 2-1 1-2 1 3 0 1 2-4 3 4 0-4 1 1 2-1 3 1 0-1 0 2 8-2 4 3 0 6-2-4-3 3-3-2-2 4-1 0-2-2 0-3-3 2-1-2-1 5 0-5-2 4-4-3-1-1 0 0-1 4 0 0-1 1-4-2 0-3-1 5 0-4-1 4 0 0-1-3-1 1-2 0 0-3-1 1-3-1-1 0-2 5-1-2 0-3-1 2 0-2-1 1-1-1 0 2-3 0-1 2 0-1-3 1-1 0-2 0-1 0-1-3-2 1 1 6 4 0 0-2 1 4 1-3 3 0 1 2 1 1 0 1 0-2 1 0 0-1 1 0 2 1 2-3 6 4 1-2 3 3 1 0 1-5 0 4 1-1 0 1 3-2 2 3 2-3 0 2 5-1 0 2 4-3 4 1 0-2 0 1 3 1 3 1 2 0 1-2 2 3 0 2-1 3 0-2-1-2-1 3-3-2-3 3-3-4-1 5 0-1-2-3 0 3-1 1-1-4 0 4 0-4-2 0-1 4 0-1-1-3-4-1-1 5 0-1-1-2 0 1-1 2 0-1-1-2 0-1 0 1-1-1 0-1-1 5 0 0 0-5-1 1-1 0-3 4-4 0 0-5-1 0 0 0-1 3-1-1-2-2 0 4-5 0 0 0 0 0 0-2-2 3 0 0-1-3-2-1 0-1 0 4-1 0 0-3 0 3-1-4-2 2 0-2-2 2-1-2 0 0 0 3 0 7 1 0 1-1 0-2 2 0 1 2 1 0 1 1 0-1 1 1 0 1 0-4 1 2 0 1 0-3 0 2 3 1 0-1 0-3 1 5 1-4 1 3 0 0 1-3 3 0 1 1 0 0 2-1 0 1 0 3 2 0 0 0 0-1 1-3 0 4 1-3 3 0 0-1 1-1 1 4 0-3 0-1 1 4 2-2 0 0 0 2 1-2 0-2 0 4 2-4 1 1 0-1 1 2 1-2 0 3 2 0 0-3 0 3 1 1 1-4 0 4 1-4 0 3 0 2 1-1 0-4 0 0 1 1 0 4 1-3 0 3 1-5 1 2 0 0 0 1 0 2 1-1 0 1 0-5 1 5 0-2 0-1 0 1 1-2 0 1 0 1 1 0 0-3 0 3 1 1 1-2 0 1 1 2 0-5 0 4 0-2 2 3 1-1 0 0 1-2 0-1 0 2 1 2 0-2 0 3 0 4-1 1-1-3-1-2-1 1 0 1 0 2 0-2-1 3-1-1 0-3-1-1 0 3 0 1-1-1-1 1-1-2 0 1-1-3-2 2-1 2 0-4 0 1 0 4-1-3 0-2 0 3 0-2-1 2 0 2 0-4-1 2 0 1-1-3 0 1 0 0 0-2-1 5 0-3 0 0 0 0 0-2-1 5 0-1 0 1-1-3 0 2-1-3-1 3-1-3-1 0-1 2-2-3 0 3-1-2 0 4 0-2-1 2 0 0 0-5-1 3-1 1-1 1 0-4 0 4 0 0-1 0 0-2-1 2 0-2 0 0-1 1-1 0-1 0 0-1 0 1-1-3 0 1-1 0 0 3 0-5 0 3-1 2 0 0 0-4-1-1-1 4 0-2-1-1-1 3-2-4 0 3-2 2-1-4 0 0-1 4 0-5-1 4-1-2 0 1-1-1 0 1-1-1 0 3 0 0 0 0-1 0-2-1-1 1 0-4 0 3 0 0-1 1 0-5-2 11 1-2 0-1 0 3 0-1 1-3 1 1 0-1 1 3 0-2 1-2 0 1 0 3 1-3 0 0 0 3 1-2 0-2 1 0 0 2 0 1 0 2 1-5 1 3 0-1 0 0 0 3 0-1 1 0 1 1 1-4 0 1 0 3 0 0 1-2 0 0 2 1 0-3 0-1 0 1 2 1 0 2 0-1 1 0 0-3 0 4 0 1 1-3 0-1 1 4 0 0 1 0 1 0 0-2 0-2 0 3 2-1 0-2 0 4 1 0 0 0 0-2 0 1 0 1 1-5 0 5 1-2 0-3 0 5 1-4 0-1 0 3 0 2 1-5 0 4 0-1 1-3 1 2 0-1 0 4 1 0 0 0 0-1 1-2 0-1 0 4 1-2 0 1 0 1 1-3 0 3 0-4 0 2 0 2 0-3 1-2 0 5 0-1 1-4 1 1 1-1 0 2 0 3 1 0 0-2 1 2 0 0 1-2 0-3 0 0 0 3 0-2 2 0 1 4 0 0 1 0 0 0 1 0 0-3 1 2 1 1 1-2 2-2 0 3 1-4 0 1 0 0 1 0 0 4 0-3 1 1 0 2 0-5 0 5 0-2 1 0 0-2 1 1 1 1 1 0 0-2 0 1 2 2 0-4 0 8 0 3 0-5-1 3-1-2 0 1 0-1-1 3 0-1 0-3 0 0 0 0 0 0-1 5 0-1-2-1-1-1-1 2 0-4 0 0-1 4 0 1-1-3 0 2-1 1 0-2 0-2 0 0-1 4 0-5-1 1-1 3 0 1 0-3 0-2-1 2-1 1 0-3-1 3 0 2 0-2-1 2 0-1-1-2 0 3-1-3 0-2 0 1 0 3-1-3-1 1-1 2 0-3-1 0 0 2-1 1 0-3 0-1 0 3 0 1-1-4 0 1 0 4 0-4-1 4 0-4-1 1 0 1 0 0 0 1 0 0 0-4 0 1-1 0 0 4 0 0-1-1 0-2 0 2 0-4 0 2-1-1 0 0 0 0-1 4 0 0 0-4 0 0 0-1-1 5 0-3-1-1-1 0 0 0 0 0 0 3-1-1-1 2 0-5 0 4-1-1 0 0 0 0 0-2 0 0 0-1-1 3 0-3 0 5-1-3 0 2 0-1-1-1 0-1 0 1 0-1 0-1-1 4 0-3 0 0-1 3 0 0 0-3 0 1-1 0 0 3-1-4 0 3 0 1 0-2-1 0 0-3 0 3 0-1-1 0-1 3 0-2 0-1 0 0 0 2-1-4-2 4 0-4-1 2-1 3 0-4-1 4-1-1 0-4 0 1-1 3 0 1 0-5-1 3 0-1-1 2-1-2 0 1 0 2-1 0 0-1 0-2 0-1 0 4-1-1 0-2-1 2 0-2 0-2 0 7 0 0 0 1 0-2 1 0 0 3 0-3 0 1 1 4 0-3 0 3 1-2 0 1 0-2 1-1 0 1 0-1 0 0 0 3 0-3 0 4 1-3 0 0 0 0 0 1 0 0 1 2 1-4 0 4 0-3 0 1 0-3 0 4 1-1 0 2 0-3 0 2 0-2 1 3 0 0 0-4 0 3 1-1 0 0 1 1 0-2 0-2 0 1 0 0 1 4 0-2 0-1 0 0 0-2 0 3 1 2 0-2 0-2 1 4 0-2 0 1 0 1 1 0 0-1 1 1 0 0 0-3 0 3 0-1 0 1 0-3 1 2 1 1 0-2 0-2 1 3 1-3 0 4 0 0 0-1 1-4 0 5 0-4 1 0 0 2 1 0 0 2 1-2 0 0 1 0 0-2 0 2 0 2 0 0 0-3 1 3 0 0 0-1 0 1 0-1 1-1 0-3 0 5 0 0 0-2 0 1 1 1 0-2 0-2 0 1 0 2 1 1 0-1 1-3 0 0 0-1 0 5 1 0 0 0 0-3 0 2 0 1 0-3 1 3 0-1 1 1 0-5 0 5 0-3 1-1 0 1 0-2 0 1 1 0 0 2 0 2 0-1 1 1 0-4 0 2 1 2 0-5 1 4 0 1 0 0 0 0 0 0 1-2 0 1 0 0 0-2 0 2 0 1 2 0 0-1 1 1 0-5 0 3 1 2 0-3 0 2 1-4 0 5 0-1 0-4 0 2 1-1 0 3 0-3 0 2 1 1 0-3 0 3 0 0 1 1 1 0 0 0 0-2 1 2 0-1 0-2 0-1 0-1 0 5 0-4 0 4 1 0 0 0 1-1 0-3 0 0 1-1 0 3 0 1 0 0 1 0 0 0 0 1 0-1 1-4 0 4 0-4 0 1 1 3 0-2 0 1 1 1 0 1 0-4 0-1 0 0 1 5 0 0 0-4 0 3 0 1 1-4 0-1 0 2 0-2 1 4 0 0 0 1 0-1 1-1 0 2 0-2 1-2 0 2 0 1 0-2 0-2 1 1 0 3 0-2 0 2 0 1 0 0 0 5 0 1 0-3 0-1-1 0 0 2 0-3 0 1 0 0-1-1 0 4 0-2 0-1 0 0-1 0 0-1 0 4 0-2 0-1-1 2-1-3 0 3 0-3 0 0 0 5-1-5 0 2 0-1 0-1 0 2-1 1 0-2 0 1 0-1 0 0-1-1 0 3 0 2-1 0 0-5 0 3 0-3 0 1 0 0-2 2-1-2-1-1 0 1 0-1-1 2 0-1 0 0 0 0 0 1 0-2-1 5 0-2 0-3-1 0 0 0 0 1-1-1 0 3 0 0 0-3 0 1-1 3-1-4 0 2 0-1-1 0 0-1 0 2 0 1-1 0 0 1-1 0 0-3 0 1 0-2-1 3 0 0 0 0-1 0 0 2 0 0 0-2 0-3-1 2-1 1 0 0-1-3 0 1 0 0 0 1 0 2 0-3-1-1-1 2 0 0 0 0 0 0 0 0-1-1 0 2 0-2 0-1 0 4 0-3 0 4-1-5 0 2 0-2 0 0 0 0 0 0 0 1 0 1-1 2 0-4 0 5 0-3 0 2 0-3 0 2-1 2 0-5 0 5 0-3 0 3-1-5 0 2 0 0 0 2 0-2 0 1-1-3 0 1 0 1 0-2 0 0-1 0-1 2 0 1 0-3 0 3 0-2 0 0-1 0 0 0 0 0-1-1 0 4-1 0 0-4 0 0-1 2 0 1 0-3 0 0 0 0 0 0 0 5-1-5 0 0 0 3 0-3 0 3 0 0-1 1 0-1 0-1 0-1-1-1-1 4 0 1 0-3 0 3 0-4 0 0 0-1-1 0 0 2 0-1 0 1 0 1 0-3 0 3 0-2 0-1 0 1 0-1-1 0-1 5 0-5 0 1 0-1 0 0-1 3 0 1-1-4 0 3 0 1-1-1 0-3 0 2 0-2-1 0 0 4 0-3 0 2-1-3 0 0 0 2-1 0 0 0 0-2 0 4 0-4 0 1-1 3 0 0 0-2 0 3 0-5-1 3 0-1 0 3 0-2-1 1 0-3 0-1 0 2 0-2 0 1-1 0 0 0 0 0-1-1 0 0-1 1 0 0 0 2-1 2 0-5 0 3 0-3 0 1-1 3 0-4 0 0 0 0 0 6 3 2 3 0 5-1 3-1 2 1 1-1 3 2 2 0 0-1 10-1 0 1 4-1 2 2 1 0 0-2 2 0 1 1 0 0 3 0 4-1 1 2 1-1 2 1 2 0 3-1 1-1 0 1 0 0 1 0 2 0 0 0"/>
<rect x="467.3" y="173.6" width="92.7" height="31.3" fill="#85ceb7" fill-opacity="0.3"/>
<rect class="bx" x="466.7" y="173" width="93.9" height="32.5" fill="none"/>
<path class="md" d="M466.7 190.5H560.6"/>
<rect x="623.8" y="179.6" width="92.7" height="27.3" fill="#fda481" fill-opacity="0.3"/>
<rect class="bx" x="623.2" y="179" width="93.9" height="28.5" fill="none"/>
<path class="md" d="M623.2 196.8H717.1"/>
<rect class="pb" x="419.8" y="25" width="344.2" height="202.5"/>
<text class="t yl" x="415.2" y="222.3">0</text>
<text class="t yl" x="415.2" y="163.6">5</text>
<text class="t yl" x="415.2" y="105">10</text>
<text class="t yl" x="415.2" y="46.3">15</text>
<path class="tk" d="M417.2 219.3h2.6M417.2 160.6h2.6M417.2 102h2.6M417.2 43.3h2.6M513.7 227.5v2.6M670.1 227.5v2.6"/>
<text class="t xl" transform="translate(513.5 232.3) rotate(-45)" dy="6.2">Male</text>
<text class="t xl" transform="translate(669.9 232.3) rotate(-45)" dy="6.2">Female</text>
<text class="t ti" x="419.8" y="17.5">Cd by gender</text>
<text class="t at" x="591.5" y="267.5">gender</text>
<text class="t at" transform="translate(400.6 126.2) rotate(-90)">Cd concentration (μg/L)</text>
<text class="t sg" x="510.4" y="34.3">****</text>
</g>
<g>
<path class="gn" d="M799.8 190.2H1144.3"/>
<path class="gn" d="M799.8 130.9H1144.3"/>
<path class="gn" d="M799.8 71.6H1144.3"/>
<path class="gm" d="M799.8 219.8H1144.3"/>
<path class="gm" d="M799.8 160.5H1144.3"/>
<path class="gm" d="M799.8 101.3H1144.3"/>
<path class="gm" d="M799.8 42H1144.3"/>
<path class="gm" d="M893.8 23.3V226.3"/>
<path class="gm" d="M1050.3 23.3V226.3"/>
<rect x="846.8" y="134.3" width="94" height="59" fill="#85ceb7"/>
<rect x="1003.4" y="152.8" width="94" height="46" fill="#fda481"/>
<path class="wk" d="M893.8 134.3V48M893.8 193.3V216.8"/>
<path class="wk" d="M1050.3 152.8V85M1050.3 198.8V216.8"/>
<path class="pt" d="M924.5 44.5l-1-2 0 0-3 0-1 5-3-5-2 0-1 0-2 0-2 0-1 4 0-4-3 0-2 0-1 4 0-4-1 1-2 4-1-4-2-1-1 1-3 4-1 0-3-3-4-2-2 0-1 0-1 0-1 2-5 2 0-4 0 3-2-3 0 0-1 4-1-4 0 0 0 0-1 0-1 3-2-1-2-2-2 5 14 2 0-1 1 4 0-2 8 2 0-4 3 3 4 0 2-3 2 1 8 1 0 3 3-2 5-2 1 3 3 1 7 4-1 1-2-4-2 1-5 3-3-1-10-2 0 4-1-5-2 5-5-1-5-1-14 0-2 2-1-4-2 2-3-1-2-2 1 6 15 0 20 1 1-1 3 4 7-3 0-1 5 0 1 4 1-3 2-1 4 7-2 2-1-3 0 1-3 0-3 3-2-2 0-2-5 3-2 1-4-3-9 4-8-3-2 1 0 1-1-4-4 0 0 3 0 2-6-2-4 1-3 7 0-2 0 0 13 1 5 0 3-1 2 2 2-2 0-2 1 2 3 0 8 1 1 1 2 0 0 0 1-3 3 3 12-1 5 0 0 3-4 0-3-1 0 4-3 1-11 0-2-5-5 0-1 3-5 0-11 2-2-3-15-2 0 0 0 9 3 1 3-3 4-1 6 5 4-4 3 0 1 0 0 0 0 4 6-4 4 3 3 0 5-3 9 4 3-5 6 2 0 6-1 2-6 0-1 0-2-2-6-1-1 1-1 2-8 0-2 1-1 0-2-5-5 0-2 1-5 1-5 3-3-5-1 3 0 0-3-2-2 3-3 7 5-2 8-2 2 1 4 2 6-2 0 0 1-2 0 1 2 4 6-3 2 3 2 0 2-5 2 4 4 0 1-2 0 0 4 1 2-1 8 7-1 2-6-1 0-3-2 0-1 2-4 1-1-1-1-3-11 4-1-4-2 4-3-3-7 3-4 0-2 0-2 1-4-1-2-4 0 4-2-4-5 4 11 5 1 2 2-1 3-4 5 0 5 0 1 5 2-5 14 4 6 0 1 0 3-2 2 2 2-3 1 1 1 7 0 2-1 0-10-2-4 2-1-5-1 2-4 0-7 1-3-3-1 3-6-3-1 3-2 2-3-2 0 2-4 0-7 0-2-4-4 4 1 5 1-2 1 1 1-3 0 2 1-2 2 1 4 2 0 0 4-1 3 1 1-3 0 2 2 2 0-2 4-2 1 0 4 5 3-1 1-3 1 0 1 4 0-4 6 4 3-1 10-4 6 4 0-4 2 8-5-2-1 5-5-2-2 2-2-1-7-3-2 4-2-4-3-1-1 2-2 0-1 2 0-2-2 3-6-5-2 2-1-1-2 3-1-4 0 3-2-1-6 2-5-1-2 8 0-3 1-2 1 3 2-3 0 3 1-3 2 5 2-2 0 1 1-2 3-2 1 2 2 2 0-3 1-1 3 2 0 3 1-4 1 3 3 1 0-1 1-3 3 2 0 1 1-4 5 1 1 2 0 1 4-2 1 2 1 0 0-1 5 1 3-4 8 2 1 3 1 1 0 3-1-2-2-1-1 4-1 1-2-1-1 1-2-2-2 0-1-1-3-2-1 2-2 0-3-2-2 1 0-1-2 5-2-5 0 1-2-1 0 4-3-1 0-1-1-1 0 0-2 0 0-1-1 4-5-1-2-2 0 3 0-3-1 2 0-1-3 0-1 1 0-1 0 2-3-2-2-2-1 2-2-2-1 4 0 3 1 2 1-1 1 2 2-3 0 4 1-3 1 1 0-1 1 1 0 0 1 1 0-3 2-1 1 1 0-1 1 5 0-1 2-4 1 4 0-2 1 2 1 0 0-3 1-1 4 0 0 1 3 2 0 0 4 1 1-3 1 1 0 0 3 0 2-1 0 3 4-3 0 1 4 3 2 0 0-4 2 0 2 0 1 2 0-3 1 4 0-3 0 2 0 1 4 0 1-1 0-1 0-2 1 5 1-4 0 3 0 2-2 0-1 3 0 2 0-1-1 0-4-3 0 1 0-2-1 1-1 2-2 1 0-4 0 0-4 4 0 0-2-3-2 1 0-1-1-1-2 3-3-3-1 2 0 0 0 0-2-1-1 1 0-1-2 3-3-1 0 1-3-4-1 3-1-2 0 3-2 0-1 1 0-4-1 3 0-3-3 2-2 2-1-4-1 2 0 0-1 1 0 0-1-1-1-2 0 2-1-1-2 3 0 0-1-2-1 1-1-1-2 3 0 3 0-1 1 0 1 2 1-3 0 0 0 1 1 2 0-4 1 3 0 1 1-3 4 2 1-2 0 0 1 2 0 1 0 1 2 0 0-1 1-3 1 4 0 0 1-5 1 2 1-1 0-1 1 2 0 0 1-1 3-1 1 0 1 5 1-1 1 1 0-5 0 1 1 4 1-2 2 0 0 2 1-2 2 1 1-3 0 2 1 1 2-4 1 1 0 0 0 4 1-3 1 1 1 0 1-2 0-1 1 2 0 2 0-1 0-3 2 2 1 3 0-3 1 2 1 1 0-5 1 1 1 0 0 1 0 2 2-4 1 3 2 0 1-1 1 2 2 1 0-3 0 6-1-1-2 2 0-2 0 3 0 0 0-1-1 0 0 0-1 1-1 0-1-1 0 2-1-2-1 0 0 2 0-4-1 2 0 2 0-4-1 0-1 3-1 1 0-2-1-2-1 3-2-3-1 2 0 1-1 1-1 0 0-3-1 0 0 3 0-5 0 3 0 2 0-3 0 0 0 1-1-2-1 0-1 1 0-1-2 2-2 1-2 1-2 0 0-4-1-1 0 2-3 1-2 2 0-2-1-2 0 3-1-1 0-2-2 4-2-2-1 1 0-4-1 1 0 2-1 0-2-2 0 3 0 0 0-1-1-1 0-2-1 4 0-1-1-1-1 3-1 0 0-5 0 4 0-4-1 2 0 2-1 1-1-4 0 4-2 0-2-3 0 0 0 2 0-1 0 8 0-3 0 2 1 0 0 1 1-4 0 0 2 0 0 3 0 1 4-1 1-3 0 3 1-1 1-1 2 1 0-1 0-1 1 0 1 0 0 1 1 1 0 1 1-1 1-3 1 0 0 3 1-3 0 5 3-4 0 1 6-2 1 5 0-2 1-2 2 3 0-2 1 0 1-2 0 2 0 0 1-1 2 4 0-4 1 3 0 1 1-4 1-1 1 2 0-2 1 0 0 2 2-1 0-1 0 3 1 0 1 2 1-2 1-1 0-1 1-1 2 2 0-2 0 0 0 1 0 4 0-4 1 1 1 1 2 1 3-3 1 2 0-3 0 3 0-2 0 1 0 0 2 1 0 3 0 5 0-2-1-1 0-1 0-1-1 3-1-2 0 0 0 3-1 0 0 0-1 0 0 0 0-3 0 2-1 2 0-5-1 4 0 1 0-2-1 0 0-3-2 4-1-4-1 0-1 3-1 0 0-1-1-2-2 5-1 0-1-3-1-2-1 2 0-1 0 4-1-5 0 4 0 0 0-1-1-1 0 1-1-3 0 2-1 1-4 0 0 0 0-3-1 3-2-1-1 3 0-3-1 1 0-1 0 0 0 3-1-5-1 2 0-2 0 4-2 1 0-2-1-3-1 5-1 0 0-3-1-1 0-1-1 5 0-2-1-2-1 2 0-1-4 2 0 1 0-4-1 2-2 2-1 0-1-3 0-1-1 3-1-1-1 1 0-2 0 3-1 0 0-5 0 4-1 1 0 0-1-4-1 1-1 3 0 0-1 4 1 1 0-2 1-2 1 0 0 2 1-2 0 4 1 0 0 0 1-3 0 3 0-2 1-1 1 0 1 0 1 4 1-4 1 0 2 0 1 3 0-1 1 2 0-2 1-1 0-2 2 1 0 2 0-3 1 5 0-3 1 3 1-5 2 0 0 2 1 0 0 2 1 0 1 0 1-2 0 0 0 1 1 2 0-4 1 1 0-1 1 0 1 3 1-3 0 1 0 0 0 2 0-3 3 4 0-5 2 2 1 3 1-5 3 0 0 0 2 1 3 2 1-2 0 4 0-2 2-3 0 3 1 0 0-3 1 0 1 5 1-2 1 0 1 2 2-4 0 1 1-1 0-1 0 1 1 1 0-1 1 0 0 5 0 3-2-3-1 2-1-2-1 5 0-1-2-4-1 2 0 3 0-5-2 1-1 2-1 1 0 1 0-3-2 0 0-2 0 5-1-5-2 1-1 3 0 1 0-5-1 5-1-3-4 3-1-5 0 4 0-1-1 0 0 1 0 1 0 0 0-3 0 3-1-1-2 0-1-1-1 1 0-4 0 3-3 0 0-2 0-1-1 2-2-1 0 1 0 0 0 3 0-4-1 1 0-2 0 1 0 2-1 0-1-2 0 1-1-1 0-1 0 4-1 1-4-2 0 2-1-2 0-2-1 3 0 0 0 1-1-2 0 2-2-4-1 2-1-3-1 3-2-2 0 2 0-3-1 0 0 0 0 1 0 2-1 1 0 0-1-4 0 0-1 0-1 2 0 3 0-1 0 1 0 5 0 0 1 0 0-1 0 1 0-1 0 1 1-2 0-2 0 1 1 1 0 0 1-2 0 1 0 2 1 2 0-2 2 1 0 1 0-4 0 2 1 0 1 1 0-2 2-2 0 0 0 0 1 2 0-2 0 3 0 0 1 0 0 2 0-3 1-1 0 1 0 3 1-3 0 3 0-1 0 1 0 0 2-4 0 4 1 0 0-5 0 2 0 3 0-2 1-2 1 2 0-3 1 2 0 3 0-1 1-1 1 1 0-2 0 3 0 0 1-4 0 2 1 2 0-2 1 1 0-2 0 3 1-3 0 2 1 1 1-1 2 0 0 1 1-4 1 1 0-2 1 0 0 2 1 0 0 0 1 3 0-2 4-3 0 5 1-1 0-3 0 0 0-1 1 3 1 1 0-3 1 1 0 0 0-1 0 4 1-3 1 2 0-1 6 2 0-1 0-1 0-1 1 0 1 0 0-1 2 3 1-2 0-2 2 2 1 3 0-4 1 2 1 4 0 2-1-2 0 3 0-3 0 0 0 0-1 3-1 1 0-4-1-1-1 0 0 0-2 5-2-5-1 5 0-4 0 1 0 1-1-1 0 2 0-1-1-3 0 1 0 0-1-1 0 5 0-5 0 1-1 4-1-2 0-1-1 1-1 2 0-2-1 0 0 0 0-1-1 3 0-4 0-1 0 5-1-5 0 1 0-1-1 1 0 1 0 0-1-1 0 1-1 0 0-2 0 4-1 1 0-5 0 1 0 2-1 2 0-2-1-1 0 0-1 0 0 1-1 0-1-1 0-2 0 0-1 2-1 0-1 1 0 2-1 0 0 0-1-4 0 1-2-2 0 0 0 1-1-1 0 4 0-3-1-1 0 2 0 3 0-3-1 1 0-3 0 1-1 2 0-2 0 1 0 2-1 1 0-4 0-1-1 3-1-3-1 3-2-1-1 0 0 2 0-3-1 3 0-4 0 2-1 2 0 0 0-4-1 4 0-1 0-2 0 0-1 4 0-4 0-1-1 1 0 0 0 2 0-2 0 1 0 3 0-3 0 1-1 0 0 2-3-3-1-1 0-1 0 5-1-1 0-1 0-3-1 0 0 1 0 2 0-2 0 3-1-3 0 3-1-3-1 3 0-2 0 3-1 5 1-1 0-2 0 3 2 1 0-5 4 0 1 3 0-1 1 2 0-4 0 2 2 2 0-3 1-1 0 5 0-1 5-4 1 5 1-2 1-3 1 3 0-3 1 0 0 2 0-1 0 2 0 1 1-2 0 2 2 0 0-2 0 1 0 1 1-4 1 2 3 0 0 2 0-3 1 2 0 2 1-3 1-2 1 3 7 2 0-3 0 2 0-3 2-1 0 2 1 3 0-2 1 2 0-4 1 1 0 0 0 1 1-2 0 1 1 0 3 0 1 2 0-2 1-1 1 4 1 0 3-5 3 0 1 3 0-3 0 4 1 0 0 4 0-2-5 0 0 2 0 2-2-4-1 0-7 0 0 2-4-2-1 3-4-1 0-1-1 0-1 3-1 1-11-1-2-3-1 1-1 1-1 0-3-2-1 2-5-1-3 3-2-3-3-1 0 0-1 2-1-2 54 5 2 0 5 0"/>
<path class="pt" d="M1074.5 42.5l-3 0-2 0-24 0-4 1-9-1-3 0-6 11 8-2 11-1 18-2 0 5 5-4-10 5-11 5-22 3 12-2 13 5 2-5 10 3 12 6-15-3-1 5-6-5-2 0-5 5-8-1-2-2-2 1-10 1 2 3 1 0 1 0 3 3 30 0 7 0 10-2 3-1 5 7-9 3-1-1-1 0-6 1-3-2-15 1-5 0-8-3-2 3-8-2-4-1 9 7 9 2 2-1 2-2 4 1 1 0 0 0 3 3 1-2 5 1 1-1 3 1 6 1 1-5 1 3 0 1 5 0 1 1 0-5 7 2 0 8-5-2-7-2-2 4 0 0-9 0-1-1-6-2-2 3-1-1-3 1-2 1-2 0-1-2-2 0-4-1-2-1-1 2-3-1-3 1 0 2-6-4 1 7 1 3 2-4 8 4 5-3 5 2 5-2 1-2 3 4 2-2 0 0 7 3 5-5 13 2 3-2-2 10-2 1-1-1-2 1-2-1 0-1-2 0-2-2 0 4-1-3-5 2-2-1-1-1-1 3-1 0-2-5-1 1-1 1-8-2-1 0-4 2 0 1-1 0-1-2 0 2-14-3-2 3-2-1 10 8 2 1 1-2 2 2 2-1 1 1 1-4 0 0 3 0 3 3 3-2 1-2 7 0 1 2 3 3 1-5 4 0 3 1 2 0 4 1 6-1 1 3 0-2 1-2 0 8 0 3-14-5-5 2-1-2 0 5-1-5-2 1-3-1-4 5-6-3-3 0 0-1 0 4 0-4-7 0-1 0-1 4-4 0-1-5-1 4-5-4 3 7 1 0 2 4 1 0 1-2 3 1 1 0 0-2 0 2 1 1 2 0 5-1 2-3 2 1 2-2 2 3 1 2 8-3 0-2 1 2 3-1 1 4 1 0 0-3 0-1 2 3 2-2 3-2 1 1 4 10-1-4-4 3 0 1-5-2-1-3-1 5 0-5-1 4-3-2-1 1-1 2-4-3-1 2-2-4-3 4 0 1-3-1-3 0-2 1 0-5-2 4 0 1-1 0-4-2-3-3 0 3 0-3-3 3-1-1-1 0-2-2 0 4 0-1-2-3-2 10 1 1 5-1 1 0 4-4 0 5 1-3 16 1 4-2 0-1 2 5 3-5 2 4 1-4 1 0 1 3 2 0 1 0 2 2 8 0 3 0 0 2-7 2-1 2-1 0-4 0-6 0-1-4-2 3-4 0-5-3-3 0 0 4 0-4 0 0-5 1 0-1-1 2-2-3-3 2-8-1-2 1-1 3 0-4-2-1 1 10 0-3 4 4 0-4 1 4 1-1 1-2 0-1 0 0 0 3 3 1 0-1 0-4 1 2 1 2 7-3 5-1 0 0 1 0 1 0 3 4 4-1 4-3 4 4 2-1 1 0 1 0 3 2 3-2 0-3 1 4 1-1 3-2 1 1 3 3 0 3-4 0 0 0 0-1-1 4-1-3 0-2-1 1 0 0-1 3-1-2-1 3 0-1-3-2-1 2 0-2-5 1-1-1-4-2-3 2 0-2-1 3-3-2-1 2-1-2-3-1-2 0-4 3 0 1-2-1-1-1-1-2-1 4-1-1-1-1 0-2-5 0-1 3 0-1 0 3-2-2-1-2-1 0 0 3-3 3 0 1 1-2 0 1 3-1 2 5 0-3 2-1 2 1 1-1 2 2 0 2 0-4 0 3 2-4 0 0 1 1 0 2 1 0 1-1 3 3 0-4 1 4 0 0 0-1 0 0 4-1 0-2 0 1 0-2 1 0 5 1 1 0 1 0 1 0 1 2 2 0 1-3 2 5 1-4 0 3 0 0 0-4 1 5 0-4 2 1 0 1 1 1 3-3 1 1 1-2 0 2 0 3 2-5 0 2 0 1 2-1 2 2 1 1 2-3 0-1 2 7-2 1 0-2 0 1-1-2 0 2-1 1-3 1 0-1 0 2-1-4 0 2-1 2-1-4 0 1 0 0 0-1-1 3-1-4 0 5 0-3 0 3 0 0-1-5 0 1-1 4 0 0-1-2-1 0-3-2-1 2 0 0-1 1 0-1-1-2-1 1 0-1 0 0-1 3 0-2-1-2 0 0 0 5 0-3-1-2-2 4-2-1-1-2-2 4-2-2-3 2-1-2-2-2 0 2-1 1 0-3 0 4-1 0-1-5-1 3-1 0-1-2-2 1 0 2-1 1-1-3-2 0-1 1-1-2-1 0-1 2 0-1 0 3-1-5-3 1-1 9 1 1 1-5 1 4 1 0 1-3 0 2 1 1 1-1 1 2 2-5 0 3 0-3 3 0 0 0 0 0 2 3 1 2 1-5 0 2 1-2 1 4 0-1 1-3 1 3 0-3 0 2 1 1 2-3 0 3 1 0 1 0 0 0 0-1 0 1 1 1 0-1 0-1 1-1 0 2 1 1 1-1 0-2 0-1 1 1 0 2 0-3 0 1 0 3 0-2 1 2 0-2 2 0 0 0 2 1 0 2 0-5 3 5 1 0 0-3 1 3 1-5 0 5 1-5 1 5 0-2 1 1 1 0 0 0 1 1 1-2 1-2 2 2 0 2 0-2 1-2 2 2 1-1 0 2 0-4 3 0 0 5 1 0 0 0 2 0 1-1 0 6 0-1 0-1-1 3-1-1 0-1-2 0-2-2 0 3 0-1-1 0 0-2-1 1-1-2 0 0 0 5-1-5-1 4-1-1 0 2-2-1-1-3 0 3 0-3 0 1 0 2-1-4-1 2 0-1-1 1 0 1 0-2-1 2-1 1-1-4-1 2 0-1-1 4-1-5 0 2-1 3-5-2-2 2 0-1-1 0 0-4 0 5-1-4-1 3 0 1-1-3 0 3 0-4-2 2-1 2-1-4 0 3-3-4 0 4-2 1 0-4-2 4 0-3 0 2-2-2 0 3-1-2 0 1-1 1 0-3-2 1-2 2 0-2 0-2 0 1 0 3-2-3 0 1-1-1-1-2-2 1 0 7 1 1 0-2 0 2 0 1 2 1 1-3 0-1 1 4 1-2 0-3 1 2 1-2 0 2 0-1 0 3 2-3 3 1 0 2 0 0 1-3 1 0 0 0 0-1 1 2 0 2 1 1 1-1 0-1 0-2 1 4 0-5 1 1 1-1 1 4 0-2 1-2 0 1 0 1 0 1 1-1 1-2 0 2 1 0 0 0 0 3 0-2 1-1 2 0 0 2 1 1 0-4 1-1 0 1 0 1 1 1 0 1 0 0 1-4 1 0 1 2 1 0 1 2 0-4 1 0 1 2 0 0 1 2 0-3 0 1 1 2 0 0 1-3 0 1 0 0 0 1 1 1 1-3 2 1 1 1 2-2 0 0 1-1 1 3 0 1 0 0 1-3 1 4 1-4 0 1 0 3 0 0 1-4 1 4 1-4 0 3 2-1 1-2 0 2 1 0 0 8 0 0-1-5 0 4-1-3 0 2 0 2-1-3 0 0 0-2-2 4 0-3-3 2-1 1 0-3 0 0-1 0 0 4-1-1 0-4 0 1-1 0 0 0 0-1-1 4-1 0 0-2-2-1-1 3-1-4 0 5-1-3 0-1-1 1 0-2 0 3-1 0-1 1 0-1 0-1-1 1-1-3 0 1-3 2 0-1-2 2 0 1 0-5 0 1-1 0-1 3 0-2-1-2 0 3-1 1 0-2-1-1 0-1 0 2-1 2 0 0 0 0 0-3 0 0 0 2-1 2-2-1 0-1-1-2 0 0-2 3 0 1-1-2-1 2 0-1 0 1 0-5-1 1 0 4-1-1-1-4 0 2-1-2 0 5-1 0-1-2 0 2-1 0-1-4 0 3 0-3-1 0 0 4 0-4-1 3 0-1 0 2 0 0 0-2-1 0-1-2-1 2 0 0 0 0-1 0-1 1-1-3-2 2 0-2 0 10 2-2 0 2 0-2 0 2 1-1 1-2 0 2 0-2 2 0 0-2 1 1 1 2 1-2 1 0 0-1 0 1 0 1 0 2 0-2 1 3 0-5 0 3 0-1 0 3 1-2 1-1 0-2 0 0 1 4 0 0 0 1 0-4 1 3 1 0 0-3 1 2 0 1 1-1 0-3 1 2 0 3 1-1 0-2 0-2 2 0 0 5 1-5 0 0 0 1 1 4 0-3 0 2 2 1 1-1 1-3 0 3 1-4 0 3 4 2 1 0 0 0 1-1 0-2 0 3 1-2 0 2 0-4 1 0 0 0 2-1 1 5 0-1 1-4 0 2 1-1 0 4 0 0 1-1 0-1 1 1 0 0 1 1 0 0 0-3 1 1 0-1 1 1 0 1 0-4 0 1 1 1 2 2 0-1 0 1 1-4 0 1 0 3 0 0 1-2 1 3 0-1 0-4 0 5 2-5 0 2 1-2 0 1 0 0 1 3 0 1 1 0 0-4 0 0 2 4 0-1 0-4 1 2 0 0 0 6 0 2 0-1-2 0 0 0 0 1 0-3-1 4 0-2 0 0 0-1-1 1 0 0-1-3-1 2 0 1 0 0 0 2-1-1 0-2-1 2-1-3 0 4 0-5 0 5-1-4 0-1 0 2 0 3-1-1 0-3 0 2 0-3-1 2 0 1 0-2 0-1-1 1 0 1 0-2 0 3 0 1-1-2 0-2 0 4 0-3 0 1-1 2 0-3-1 0 0-1 0 5-1 0 0-3-1-2 0 1 0-1 0 0 0 0-1 5 0-2 0 2 0 0 0-5 0 1-1 0 0 0-1 1 0-2 0 4 0-4 0 5-1 0-1-2 0-1-1-2 0 3 0-3 0 5-1-1 0 1 0-4-1 3 0-3-1 1 0 2 0 1 0-5-1 4 0-1 0 1-1-1 0 1 0 1-1-2 0 2 0-3 0-2 0 5 0-3-1-1 0 3 0-1 0 0 0-2 0 1 0 2 0-4-1 5 0 0 0 0-1 0 0-1 0-1 0-3-1 1 0-1-1 4 0 1 0-5-1 5 0-2 0 1 0-1-1 1 0 1-1-1 0-3 0 4 0-5-1 2 0-1 0 0-1 3 0 0 0-2 0 3 0-3-1 3 0-1 0 0 0-4-2 2 0 3 0 0-1-2 0-2-1 1 0 1 0 0 0 2 0 0-1-1 0-3-2 4-1-3 0 3 0-1 0-3-1 1-1 3 0-1 0-2 0 2-1 1-1-2 0 1 0-4 0 3-1-1 0 2-1-3 0 2 0 2-1-1-2-3 0 1 0 1 0-3-1 1 0 3-1-2 0-1 0 3 0-3 0 2 0 1-1-1 0 0 0-2 0 3 0 1-1-5 0 6 1 0 0 5 1-5 0 3 0 0 0 1 3-4 1 3 0-2 0-1 2 3 0-3 1 4 1-3 0 0 1 0 0-1 0 1 1 1 1 2 0-3 0-1 0 5 0-2 0 1 1-2 0-2 0 3 0 1 0-3 0 3 1-3 1 2 1 1 1-4 1 1 0 2 0 1 0-4 0 2 1-1 1 0 0 0 0 1 0-2 1 1 0-1 0 0 1 0 0 3 1-1 0-1 0 1 0 2 2-3 0 1 0-1 0 3 0-2 1-2 0 0 0 5 0-5 1 0 1 4 1-3 0 3 0 0 0 0 1-3 0 3 0-3 0 3 0 1 0-4 0 1 0 3 1-1 1-4 0 2 1 0 0-2 0 1 0 1 1-1 0 2 1-3 1 0 0 4 0-4 1 0 0 1 0 4 0-1 1-4 1 5 1-2 0-2 0 3 0 1 1-2 0-3 0 4 0-3 1-1 0 3 1-3 0 4 1 0 0 1 0-4 0 1 2-2 0 2 0 0 0-1 1-1 0 4 0-4 1 0 0 2 0 3 0-5 0 0 1 4 0-4 0 3 1-1 1-2 0 0 0 4 1 1 0-3 0 1 1-3 0 1 0 1 0-1 1-1 1 0 0 0 1 5 0-3 0-2 1 4 0-4 1 0 0 5 1-1 2-4 0 10-1-3-5-1 0 1-1 0-1 0-1 2-1 1 0-2-2 0-3 1-2-1-4 1-4 0-1 1-1 0 0-4-2 0 0 1-2 2-1 1 0-4-1 5-3-5-3 0 0 1-3 2-3 2-2-4-2-1 0 3 0-2-2-1-1 1-4 2-1 2-3 0 3 1 0 0 16 0 4 0 0 0 14 1 0-1 3 1 9-1 1 0 2 0"/>
<rect x="847.4" y="134.9" width="92.8" height="57.8" fill="#85ceb7" fill-opacity="0.3"/>
<rect class="bx" x="846.8" y="134.3" width="94" height="59" fill="none"/>
<path class="md" d="M846.8 169.3H940.7"/>
<rect x="1004" y="153.4" width="92.8" height="44.8" fill="#fda481" fill-opacity="0.3"/>
<rect class="bx" x="1003.4" y="152.8" width="94" height="46" fill="none"/>
<path class="md" d="M1003.4 181H1097.3"/>
<rect class="pb" x="799.8" y="23.3" width="344.5" height="203"/>
<text class="t yl" x="795.2" y="222.8">0</text>
<text class="t yl" x="795.2" y="163.5">10</text>
<text class="t yl" x="795.2" y="104.3">20</text>
<text class="t yl" x="795.2" y="45">30</text>
<path class="tk" d="M797.2 219.8h2.6M797.2 160.5h2.6M797.2 101.3h2.6M797.2 42h2.6M893.8 226.3v2.6M1050.3 226.3v2.6"/>
<text class="t xl" transform="translate(893.6 231.1) rotate(-45)" dy="6.2">Male</text>
<text class="t xl" transform="translate(1050.1 231.1) rotate(-45)" dy="6.2">Female</text>
<text class="t ti" x="799.8" y="15.8">Hg by gender</text>
<text class="t at" x="971.8" y="266">gender</text>
<text class="t at" transform="translate(780.6 124.8) rotate(-90)">Hg concentration (μg/L)</text>
<text class="t sg" x="889.9" y="33">****</text>
</g>
<g>
<path class="gn" d="M1181.5 190.2H1526.5"/>
<path class="gn" d="M1181.5 130.9H1526.5"/>
<path class="gn" d="M1181.5 71.6H1526.5"/>
<path class="gm" d="M1181.5 219.8H1526.5"/>
<path class="gm" d="M1181.5 160.5H1526.5"/>
<path class="gm" d="M1181.5 101.3H1526.5"/>
<path class="gm" d="M1181.5 42H1526.5"/>
<path class="gm" d="M1275.6 23.3V226.3"/>
<path class="gm" d="M1432.4 23.3V226.3"/>
<rect x="1228.5" y="143" width="94.1" height="54" fill="#85ceb7"/>
<rect x="1385.4" y="155.8" width="94.1" height="45" fill="#fda481"/>
<path class="wk" d="M1275.6 143V62.5M1275.6 197V216.8"/>
<path class="wk" d="M1432.4 155.8V88.8M1432.4 200.8V216.8"/>
<path class="pt" d="M1302.5 46.5l-1-4-7 0 0 0-1 3 0-3-1 0-4 0-2 0-2 0-2 5-6-5-1 0-1 2-2 0 0 1-3-3-3 0-1 0-1 0-2 2 0-2-2 0-1 4-1-4-12 0 19 10 11-3 4 1 2 1 0-2 2 4 1-1 12-1-2 5 0 1-4 1-5-2-2 3-9-1-10-1-9 2-6 0 6 5 2 0 3-1 11-2 1 4 5-3 2 2 2-3 5-1 5 0 3 2 1 3 3-1 7 1-4 4-3 0 0 2-1-5-1 4-4 0-1 1-3-4-2 3-1-4-3 3-2-2 0 3-1-1-12-1-10 0-2 3-4-1-4 3 3 3 2-4 1 5 1 0 0-2 3 1 1 0 1-2 7 2 10-3 4 1 15 2 3-3 5 0 2 1-4 4-2 4-2-2-1 2-2 0-3-2 0 0-2-2-2 0-4 2-1 0-12 1-11 1-1-1-1 2-3-2-3-2-3 2-1 1 1 7 6-4 1 4 1-3 3 0 4-2 0 1 4 2 2 1 2 0 4-3 4 1 1 1 2 1 3-2 1-1 6 1 2-1 2 4 7 5-1-3-7 1 0 1-5-1-6-2-5 2-5 3-3-4-3 4-1-2-1-3-8 2 0 0-6-2-7 1 0 7 4-1 1 2 2 1 0 0 7 0 1 1 0 0 5 0 4-4 1 2 5-3 1 5 6-3 3 3 0-1 8-1 10 0 1-3-10 6-9 2-2 1-2-1-2 1-5 0-2 0-1-1-10-1 0 3-10-4 0 0-4 4-1 3 2 2 4 1 3 0 3-3 4 3 7-3 7 4 0-4 2 1 5 2 1-3 0-1 3 5 0-2 1 1 4-2 4 3 2-5 3 2 2 3 2-1-2 4 0 1-3-2-2 1-1 3-7-4-6 4-11 0 0-2-2 1-1-1-1 1 0 0-1-3-12 0-9-1-1 8 2-2 2 1 2 2 3-1 3-2 6 1 1 2 3 2 2-2 0 2 0-5 0 3 6 1 2-4 3 1 2 2 4 0 2-2 0 0 1 2 1-2 2-1 1 0 5 1 1 1 2 0 0-1 1 3 2-4 1 3-5 5-3 3-3-2-2-3-5 1-1 1-1 2-1-1-5-1-3 2-1-2-7 2-3-2-1-1-1 2 0 2-9-5-1 1-4-1-5 9 2-1 4 1 0 2 3-4 3 4 4-5 0 4 0-1 3-2 0 2 3-3 2 4 6 1 3-3 1-1 0 4 6-1 0 0 2-2 2 0 0 0 4 1 4 1 3-1 2-2 1 1 0 6-3 0 0 0-5 3-5-1-9 1 0-4-1 2-2-3 0 4-1-1-3-3-3 5-1-5 0 2-1-2-1 2-4-1 0 1-3-1-3 3-1 0 0 1 0-2 0-3-2 4 0 0-2-2 0 0-1 3-2-5-1 0-1 0-1 3-2-2-2 2 0 3 3 3 1 1 2-2 0 3 0-4 1 2 1-3 0 4 0-4 1 4 4 1 0-4 0 3 3-3 1-1 1 5 1 0 1-1 0-1 2-3 2 1 0 2 4 1 0-3 0 0 6 1 1 2 1-4 2 5 2 0 3 0 0-4 1-1 2 3 0 1 2-3 0 1 1 2 1-2 2 3 3-3 2-1 0 1 2 0 1 3 1-5 0 0 1 1 1 3-1 7 0-3-2 2-4-3 0 4-2-5 0 2-3-1 0 1-3-2-1 0-1 0-1 5 0-4 0 4-1-2-2 2-1-4-2 3-2-2 0 2 0-3-2 3 0-4-2 3-2-3 0 0 0 5-1-3 0-2-3 1 0 2-1 0-5-2-1 0-3 0 0 2-1-2-2-1-1 1 0 3-1-1-1 0 0 0 0-2 0-1-3 0-2 0 0 4 0 0-1-3-1 4-1-4-1 3-1-1 0 3 1 2 1-1 3 4 1 0 0 0 0-4 4 3 0 1 2-1 1 0 0 1 1-3 0-1 0-1 1 1 2-1 0 4 1-2 3 2 0-4 1 5 0-2 1 1 3 1 0-4 0 0 9 3 1 0 0-1 1 1 0-4 0 2 1-1 3 0 1 4 1-3 3-1 4 1 1-1 1-1 1 4 0-3 0 2 2-2 0 0 1 4 2-1 0-2 1-1 1 1 1 2 0 3-1 2 0 1 0-4-2 4-1-4-3 4 0 1-1-2 0 0-1 2-1 0 0-2 0 0-2-2-1 4 0-5 0 0-2 5-4-3-1 0-1 3-2-3-2-2-2 1 0 0 0 1-2-1-1 0 0 3 0-3-3 2 0-1-1 2-4-4 0 5 0-2-1 2-1 0 0-4-1-1 0 2 0 3 0-2-1 0-3-2 0-1 0 4-1 0-1 0-1 1 0-1-2-4-2 4-2 0-1 1-2-2 0-3 0 2-1 2 0 0 0-4-4 0 0 5 0 2 1 0 0 2 0-1 1 2 0-3 1 3 0 1 2-5 2 2 1 3 0 0 1-4 0-1 0 1 2 0 0 4 1-1 1-1 0-1 1 3 0 0 1-5 1 1 0 0 1 0 1-1 1 3 1 2 0-4 0 1 1 3 0-3 1 3 0-3 0 2 1-1 1 0 0-1 1 2 0 1 1-3 0 1 3-2 0 3 1-4 3 1 3 2 0 0 0-2 1 4 0-4 1 1 0 2 0-1 5-2 0 4 0 0 2-4 0 1 1 3 2-4 1 3 1-4 1 3 1-1 1 0 5 0 2 0 0-1 0 1 1 1 2 0 0 0 0-2-1 7 0 2 0-4 0 0-1 5 0 0 0-3-1-1 0 4-1-2-1 1 0 0-2-4 0 5-2-2 0 2 0-4-1 3 0-3-1 3 0-3-1 0 0 4 0-2-1 0-2-3 0 5 0-5 0 1-1-1 0 5 0-4-1 0 0 2-3 2-1-3 0 2-1 1 0-5 0 1-1 4-2-2-1-3 0 5-1 0 0-3 0 0 0-1 0 0 0 4-1-4-1 2 0-1-1 0 0 0-1 3 0 0-1-4 0 4-1 0 0 0 0-5-1 5 0-1-2-1 0 2-2-1-1-1-1 0-3 1 0-2-1 2 0-2-1 3-4-2 0-3 0 2-1 2-1-1-2-1 0 2 0-3-1-1 0 4 0-2 0 3-1-5-2 1-1 4 0-4-1 1 0 1 0 1-1 0-3 2 2 2 1 1 1-3 0 4 0-3 0 1 0-1 1 3 0 1 0-1 2-2 0 2 2-3 0 0 0 4 1 0 0-3 1 2 0 0 1-3 0 2 4 1 0-4 1 2 1 0 0 0 1 0 0-1 1-1 0 1 2 1 0-2 0 1 0 2 1 0 1-3 1 2 0-1 0 4 0-4 0 0 0 3 1-1 0-3 0 0 0 4 1 0 0-1 0 2 0-3 1-1 1 1 0-1 1 0 1 3 1 0 0-4 1 1 0 3 0 0 1-3 1 4 2-5 4 4 0 0 0-2 0-1 1-1 0 5 0-2 0-2 1 1 0-2 1 1 1-1 0 5 1-3 0-1 0 1 2 0 2 1 1-1 1 2 1-3 1 0 1 4 1-1 0 1 1-4 0 3 0 1 1-2 0 0 1-2 0 1 0 1 0-3 1 3 1 1 0-4 1 0 1 7-1 1 0-2 0 4-1-2 0 3 0-5-1 5-1-1 0-3 0 4-1-2 0-3-1 4-1-3-1 0 0 0-1 2 0-3-1 3 0 1 0-1-1 1-1-1 0 2 0-1-2 0 0-1 0 2-1-1 0-4-1 2 0-2-2 1 0-1-2 1-1 1-1-1-2 3 0 0-2-3-1-1 0 4 0-1-1 1 0 1 0-4-1 2-2 1-1 0-1-2 0 2 0-2-1 1 0 2-1-4-2-1 0 1-2 2 0-2 0 1-1 0 0 1 0 2-1-5-2 0 0 1-2 3 0-2 0 0 0 1-1-1 0 1-1-3 0 4-2 0-1-1-1-2 0-1-1 2 0 0 0 3-2-1 0-1 0-2 0 2-1-3-1 1-1 0 0 3-1 1-1-3-1 0 0-1 0 2-2 0 0 1 1 4 1-1 1 3 0 0 0 0 0 1 1-4 1 4 0-4 2 0 0 4 1-5 1 3 1 2 1-3 0 0 0 2 2 1 1 0 0-2 1-1 0-1 1 3 0-2 1-1 0 4 1-1 0-4 0 5 3-1 1-3 1 3 1 1 0-1 0-4 0 1 1 0 0 4 0-2 0-2 0 3 0-4 1 2 1 3 3-3 0-1 1 0 0 4 1-2 0 0 0-2 1 0 1 1 1-1 0 3 1-4 0 2 1-2 0 2 0-2 0 0 0 0 1 1 1-1 0 1 0-1 1 5 1-2 0 1 0-4 0 2 0-1 0 0 0 4 0-4 1 1 0 3 1-2 1 0 0 1 0-1 1-3 1 2 0 2 2-4 0 1 0-1 1 0 2 1 1 3 1-4 0 4 0-1 0-2 1 4 0-4 0 3 1-4 0 4 0-4 1 4 0-1 1-3 2 5 1-2 0 2 2-4-1 5 0 5-1-2 0 1 0 1 0-1-1-1-2-2 0 3 0-1-1 0 0-1 0 2 0-1 0-3 0 3 0-1-1 3 0-2 0 2-1 0 0-4-1 4 0-3-1 0 0 1 0 0 0 2-2-4 0-1 0 1 0 3-1 0 0-2 0 1-1-3 0 5-1-5 0 1-1 3 0-3 0 0-1 1 0 3-1-2 0-2-1 3 0 1 0-3 0 0 0-1-1 4-2 0 0-1 0 1-1-3 0 1-1 0 0 2 0 0-1-1 0-2 0-2-1 1 0 4 0-1 0 0-1 1-1-4 0 3 0-3 0 0 0 1-1 1 0 1 0 1-1-5 0 1 0 1 0 3 0-5-1 5 0-3 0 2 0 0-1-1 0 0 0-3-1 3 0 0 0 1-1 1 0-4-1 2 0-2 0 4 0-1-1 0 0-2 0 0 0 2 0 1 0-5 0 4-1-1 0-1 0 2-1 1 0 0 0-5 0 3 0-2-1 3 0 0-1 0 0-3 0 0 0 4 0 0 0-2-2 0-1 0 0 0 0 2 0-1 0-1-1-3 0 0 0 4 0-3-1 4 0-1-1 1-1-5 0 2 0-2 0 2-1 0 0 1-1 2-1-1 0 0 0 1 0-3 0 0 0-1-1 3-1-3 0 0-1 4 0-4 0-1 0 2 0 3 0 0-1-5 0 5 0-1 0 1-1-4 0 2 0 1 0-1 0-2 0 1-1-1 0 4 0-1 0-3-1 0 0 2 0 0-1 0 0 1 0-2 0-1-1 2 0 2-1-2 0-3 0 5 0-5-1 1 0 1-1 1 0 0 0-1-1-1 0 0 1 5 0 2 0-1 1 0 1 1 0 1 1-1 0 1 1-2 0-1 0 4 1-2 1 1 1 0 0 1 2-3 1-1 0 0 1 0 0 1 0 3 0-1 1-2 0 3 0 1 1-5 0 1 0 1 0-2 0 0 1 3 1-3 0 0 0 5 1-5 0 0 1 5 0-1 1-2 0-2 1 1 0 4 2-1 0-2 1-2 0 2 0-2 0 1 3-1 0 1 0 0 1 4 0-3 0-2 0 2 0 2 1-4 1 0 1 4 0 0 2-2 0 2 1-2 0 0 0-1 0 4 1-4 1 3 0-4 0 4 1 0 0 0 0-1 1 2 1-5 0 0 1 1 1 1 0 0 0 2 0-1 1-3 0 0 0 2 1-2 1 4 0-3 1 4 0-5 0 4 0-4 1 3 0-3 0 0 0 4 1 0 1 1 0-5 1 0 0 4 1-1 0 2 1-3 0 2 2-1 0-3 0 0 0 3 1-1 0 1 1 0 2 0 0 0 2 2 1-1 1 0 0-1 0-3 1 4 1-4 1 0 0 1 0 6-4 0 0-1-4 0-1 2 0-1-2 4-1-1-5-3 0 0-1-1-1 1 0 0-2 3-1-3-1 1-3 1-4-3-2 2-1-1-7 1 0-2 0 2-2-2-1 2-5-1-1 4 0-3-1-2-2 3 0-3 0 0-1 5 0-1-1-4-3 0-2 0-1 1-1-1 6 6 1 0 7 1 3-1 11 0 10 1 18-1 1 0"/>
<path class="pt" d="M1451.5 42.5l-2 5-2-5-8 2-5 1-4 0-14-3-6 0-2 2-4 6 41 3 18-3-12 6-18 1-25 1 7 2 3 5 4-3 14 3 4 0 2-5 2 2 5 5-5 4-11-5-3 2-3 3-2-2-18 0 0-3 3 10 4-3 5-1 9 5 6-2 12 2 5-3 2 0 8 8-7-1-3-1-1 0-16 2-8-3-2 0-2 2-6-1-2-1-3 3-8-1 2 8 4-3 3 3 2 0 4 0 5-5 5 1 0 1 3 0 0 0 2 3 14-3 2 0 1-2 1 4 2-4 6 5 2-5 0 4 1 1-10 1-1 3 0-3-1 4-2 0-1-1 0-3-3 1-5 3 0-2-1 0-1-2-2 0-5 3 0-1-4-2-1 2 0 0-14 2-2 1-2-2-1 2-3-1 0-1-1 1 4 6 1 1 6-5 5 1 1 1 3 0 2 3 3-5 0 4 5 0 0-3 5-1 1 4 1-1 2 0 1 1 3 0 0 1 1 0 0-1 0-4 4 5 5-3 5 8 0 0-1-2-2-2-4 2-3 2-4-3-2 3-5-4-1 2-5 0-1 2-6-3-3-1-12 4 0-4-4 4-5-2 5 4 1 4 3 1 2-1 3-2 4-2 3 2 3-1 0 1 3 1 3 0 1-2 6-1 4 3 0 0 1-1 5 2 4-3 8 2 2 0-1 7 0 0-1 1-5-5 0 5 0-4-2 2-1 0-4-1-1 2-7-3-6 0-1 4 0 0-1 0 0 0-2-4 0 3-2-1-1-1-1-2-1 2-8-2 0 4-2-2-1-2-1 5-1-3 0 0-2 2-2-3 0 4-1-4-1 3-1-1-3-1 0 4 1 4 2-1 1-3 2 1 2 3 0-2 9-2 2 2 1 2 3-3 0-1 1 4 0 0 2-1 11 2 4-1 1-1 1 0 0 0 5 2 0 0 6-1 1 0 0-1 0-2 2 4 0-5 0 2 3 2-3 4-1-2-2 1 0 0-4 0-2 3-3-1-1-1-1 3-1-3-3-1-1 4-6 0-2-4 0 3-8-3 0 2-8-3-8 5-6-3-1 5 7 0 4 3 0-3 4 4 1-2 1-2 2 4 2-4 1 0 0 2 7 0 5-1 2-1 2 0 8 2 1-1 0-1 2-1 3 0 2 4 0 0 0-3 3 1 1 2 3 5 0-2-1 3-5-4-11 2-1-1-5 4 0-3-5 2 0 0-2-4-10 5-2-3-1 0-3 0-1-1-4 2-3 2 0-3 0 0-1 1-5-1 0 1-1 2 0 0 4 4 5-1 5 0 1 2 0 0 1-1 5 2 9-5 1 3 1 2 1-5 2 4 0 1 2-4 0 1 1 3 1-2 0-2 1 0 0 3 0 1 1-2 3-1 4 2 0-3 0 0 2 3 5-1 1 2 3-5 2 11 0-5-1 5-4-5 0 4-1-2-3 0-1 3-1-1-3-4 0 3-1-3-3 4-5-2-1 2-2-4-2 5-6-5-3 2 0-2-1 0 0 1-1 3 0-2-1 2-1 0-2-1-3 0 0 2-5-1-2-4 0 2-2-2-1 0 0 5-3-2-1-3-1 3-1 2 1 3 2 2 1-4 0 2 5-2 2 3 1-1 2-1 1 2 1-2 1 2 1-1 1 3 0-1 0-2 1 3 1 0 2-4 0 2 3 0 0-2 1 4 2-3 1-1 0 3 1 1 1-2 1-1 2 2 1-3 5-1 0 2 3-1 0 0 1-1 1 5 0-4 0 2 0-3 3 2 0 1 1 1 1-4 0 0 1 2 2 1 2-3 5 4 2 4-1-2 0 1-2 3 0 1-1-5 0 3-1 2 0-3 0-2-1 2-5 2-1-4-2 2 0 0-3 1-2-1 0 1-1-3 0 5-1-1-1-1 0 1-3-3 0 4-2 0-1 0-2-5 0 3 0 0-2 1 0-2-2 1-1 0-1-3 0 0-1 0 0 1-1 0-1 3-2 1 0-2 0 2-1 0 0-3-1-2 0 5 0-1-3-2-1 2 0-2 0-2-4 4 0 0-1 1 0-1-1-2-1-1 0 1-2 2-4 0 0-1 0-3-2 3 0-1-1 1 0 4 1-1 0 0 0 4 1-1 0-3 1 1 0 4 3-5 1 5 1-5 0 0 0 2 1 2 0-3 0 1 2 1 1 0 1-1 2-1 0 1 1-2 0 0 0 3 1-3 0 4 1-3 1 3 0 1 0-5 2 3 0-2 1 0 0 1 1-1 7-1 0 5 1-5 1 5 1-2 0 2 2-3 1-1 4-1 1 3 0 1 2-3 1 4 2 0 1-5 0 1 0 0 1 4 0-1 0 0 1 0 1-1 0 1 2 1 1-5 0 5 2-3 1 3 1-4 0-1 4 0 1 1 0 7-1-2-1 3 0 1-1 1-1-5 0 0 0 3 0 0-1-2 0 1-1 2 0-2-1-2 0 1 0-1-1 2-2-2 0 2 0-2 0 2 0 3-1-2 0 1 0 1-3-3-1-2 0 1-1 3 0 0 0 1 0-3-3 0-1-2-1 0 0 0 0 3 0-3 0 5-1 0-1-4-1 0 0 0 0 4-1-3 0 0-2 3 0-3-1 2 0 1 0 0-1-5 0 0-2 1 0 2 0 1-1-4 0 3 0 0 0 2-1 0 0-5 0 3-2 2-1-3 0 0-1 2 0-2 0 0 0-2-2 2-1 0-1 2-1 0-2 0 0-3 0 3 0-3-1 2-3-3 0 4-1-3 0 4-2-4-3 3 0-2-1-2 0 1-1 3 0-2-1 3-1-1-1-1-2-1 0 0 0 4 1 0 0 5 1-2 0 1 0-3 2-1 0 5 1-3 1 2 2 1 1-2 1 1 2-1 0-3 0 4 1 0 0-3 2 4 0-2 2 0 0 2 0-1 0-4 1 0 1 5 3-5 1 2 0 3 1 0 1-1 1 1 0 0 0-5 2 5 0-3 0 0 1 2 2 1 1-1 0-2 0 1 0-3 2 0 1 2 1 0 0-1 0 4 1 0 1-4 1 3 1-1 1 1 2-2 1 1 0 0 0-1 0 0 2-2 1 5 0-5 1 1 0 0 0 1 0-1 0 4 1 0 0-5 0 1 1-1 0 2 1 3 0-5 0 4 0-3 0-1 1 3 0-2 1 2 1 2 0-4 0 0 1 4 0-1 1-2 0 2 0-1 0-2 3 2 1-3 0 4 0-4 0 4 1-1 1 1 0 6-1-2-1 3-1-1 0-1-1-1 0-2-2 0 0 2 0-2-1 5 0-4 0 0 0-1-1 2-2 3-1-1 0-2 0-2 0 1-2-1-1 5 0-4 0 3-2-4 0 0 0 5 0-2-1-1 0 0 0 3-2-1 0-1-1-2 0 1-1 1 0 0-1 1 0 1-1-1 0 1-1-1 0 1-1-2 0 2 0-1 0 0 0-4-1 2 0-2-1 3-1 2-1-3 0 3-1-4 0 3 0 0 0 0-1 0 0-3-1 3 0-2 0-1-2 2 0 0 0-1-1 2-1 0 0-4 0 5 0 0 0-1 0-1-1 1 0 1-1-4 0 1 0 3-2-3 0 1-1 2 0-5-1 2 0-1-1 2-1 0-1 2 0-3-1 2 0 1 0-4-1 4-1 0-1-1-1-3-1-1 0 0-1 5-1 0-2 0 0-1 0-1-1 1 0 1 0 0-1-1 0 1 0-4-1 0 0-1-1 3 0-1 0 3 0-2-1 0-1-2 0 2-1-3-1 7 1 2 0-1 0 1 1-3 0 5 1-2 0 0 0 2 2-3 0 3 0-1 0-2 0 3 1-2 1 1 0 0 0-3 1-1 1 1 1-1 1 0 0 2 1 1 0-3 0 0 2 1 3 2 0-1 1-2 0 0 0 1 1 1 4 1 0 2 0 0 1-4 0 0 0 1 1 2 1-2 0 0 1-1 0-1 0 0 0 2 1 1 0 2 0-5 1 2 0-1 1 0 0 1 0 3 1-2 0 0 0 0 0-3 1 4 0-2 0 2 1-1 1-2 1 0 0 0 0 4 1-4 1 0 1 3 0-4 0 5 1-2 0 2 0-4 0-1 0 4 1 1 0-3 0 0 1 0 0 3 1 0 0 0 0-2 1-2 0-1 0 3 0 1 2-4 0 1 0 2 1-1 0 2 0 1 0-4 0 2 1 1 0 0 0-4 1 1 0 4 1-5 0 2 0 0 0-1 0 1 0 0 1-2 0 1 0-1 1 4 1 1 0-5 1 5 1-1 0 0 1 0 0-4 0 0 0 0 1 2 0 2 0-3 1 0 0 3 0 0 1 1 0-2 1-2 0 1 0 2 1-1 1-2 1 3 0-3 0-1 1 4 0 7-1-5 0 5 0-2-1-2 0-1 0 5 0-3 0 2 0 0-1-2 0-2 0 1-1-1 0 5 0-1 0 1-1-3-1 3 0-2 0-2 0-1 0 4 0-4 0 2-1 1 0-1-1-1-1 4 0-2-1-2 0 4 0-5-1 5 0-3 0 0 0-2-1 2 0-1 0 1 0 0-1 2 0 1 0-3 0 2-1-1-1 1 0-3-1 3 0-3-1 2 0 2-1 0 0-2 0-2 0 4-1-3 0-1 0 4 0 0 0-1-1 0 0-3-1 4 0-1 0-4 0 3 0-2-1-1 0 4 0 1 0-5 0 1 0 0-1-1 0 4-3 0 0-1-1-1 0 3 0-2-1-1 0 0 0-2-1 5 0-4 0-1 0 3-1-3 0 1 0 4-1-1 0 1 0 0-1-5 0 5-1-2-2 2 0-2-1 2 0-3 0 2-1-4-1 5 0 0-1-3 0 2-1 1 0-1-1 0 0-2-2 0 0-1 0 4 0-2-1 0-1-3 0 1 0 4-1 0-1-4 0 4 0-5 0 2-2 1 0 2 0 0 0 0-1-2 0 0 0 2 0 0-1-5 0 1-1 3 0 1 0-3 0 3-1-1 0-4-1 3 0-2 0 1-1 1 0-3 0 4 0 0-1 0 0-2 0 2 0 0-1 0-1-3 0 1 0-1 0-1-1 0 0 1-1 0 0 4-1-3 0 1-1 1 0 1 0-1-1 7 0-3 0-1 1-1 2 0 0 4 1-1 0-3 0 1 0 2 0-3 1 3 0 2 0-5 0 4 0-4 1 1 0 3 0-2 1 0 0-2 0 1 1-1 1 2 0-1 0 1 0-1 1 1 0 2 1-4 0 3 1 0 0-1 0 2 0 1 1 0 0 0 1-5 0 0 1 1 1 0 1 4 0-4 0 3 0-3 0 2 1-3 0 3 0-2 0 4 1-1 0-1 1-3 0 5 0-5 0 0 0 2 1-1 1-1 0 1 0 2 1-1 1 2 1-4 0 4 0-1 2 1 0-4 1 1 0 1 1 3 0-1 0-3 0-1 1 0 0 5 0-5 0 1 0 0 1-1 1 0 0 1 1 2 1 1 0-3 0 0 0 2 0 0 1-3 1 5 0-5 1 3 0 2 0-4 0 0 0-1 1 1 1 4 0-4 1 0 0 3 0-4 0 0 0 4 1-3 0-1 1 2 0 3 0 0 1-3 0 1 0 2 1-5 0 0 0 2 1 3 0-5 1 0 0 0 0 5 0-1 1-2 0-2 0 2 1 3 0-4 1-1 0 4 1 1 0-4 2 1 0 1 0-1 1 2 0 0 0 0 0-4 0 1 0 0 0-1 1 5 0-4 0 2 1 2 1-4 1 1 0 3 1-2 0-3 0 2 0 1 0-1 0 2 1-4 0 4 0-3 0 4 0-2 0-1 1-1 0-1 1 5 0-5 0 4 0-1 1-2 0 10-1 0 0-1-2 1 0-5 0 1-4 1 0-2-2 4-1-1-1-2 0 0-1 0-2 3-1-3 0 0 0-1-1 1-1 0-1 0-2 0 0-1-3 3-1-2-1 0-1 1-1 1 0 2-1-3-1-1-1-1-1 4 0-4-1 4-3-2-4 1 0 0-1 2 0-2-1-3 0 3 0 2-1 0-1-4 0 4-1 0-1-4-1 3-3-4 0 4 0-1-1-3-1 2 0-2-1 1 0-1-2 0-1 2-1 2-1-2-1-1 0-1-1 0-3 6 7 0 6 0 6 0 3 0 4 0 2 1 1-1 3 0 1 0 2 0 7 0 2 1 1 0"/>
<rect x="1229.1" y="143.6" width="92.9" height="52.8" fill="#85ceb7" fill-opacity="0.3"/>
<rect class="bx" x="1228.5" y="143" width="94.1" height="54" fill="none"/>
<path class="md" d="M1228.5 176.3H1322.6"/>
<rect x="1386" y="156.4" width="92.9" height="43.8" fill="#fda481" fill-opacity="0.3"/>
<rect class="bx" x="1385.4" y="155.8" width="94.1" height="45" fill="none"/>
<path class="md" d="M1385.4 184.3H1479.5"/>
<rect class="pb" x="1181.5" y="23.3" width="345" height="203"/>
<text class="t yl" x="1176.9" y="222.8">0</text>
<text class="t yl" x="1176.9" y="163.5">20</text>
<text class="t yl" x="1176.9" y="104.3">40</text>
<text class="t yl" x="1176.9" y="45">60</text>
<path class="tk" d="M1178.9 219.8h2.6M1178.9 160.5h2.6M1178.9 101.3h2.6M1178.9 42h2.6M1275.6 226.3v2.6M1432.4 226.3v2.6"/>
<text class="t xl" transform="translate(1275.4 231.1) rotate(-45)" dy="6.2">Male</text>
<text class="t xl" transform="translate(1432.2 231.1) rotate(-45)" dy="6.2">Female</text>
<text class="t ti" x="1181.5" y="15.8">As by gender</text>
<text class="t at" x="1353.5" y="266">gender</text>
<text class="t at" transform="translate(1162.3 124.8) rotate(-90)">As concentration (μg/L)</text>
<text class="t sg" x="1272.2" y="33">****</text>
<text class="lt" transform="translate(1499.1 255.2) scale(0.846 1)">A</text>
</g>
<g>
<path class="gn" d="M39.3 483.6H378.3"/>
<path class="gn" d="M39.3 436.4H378.3"/>
<path class="gn" d="M39.3 389.2H378.3"/>
<path class="gn" d="M39.3 342.1H378.3"/>
<path class="gm" d="M39.3 460H378.3"/>
<path class="gm" d="M39.3 412.8H378.3"/>
<path class="gm" d="M39.3 365.7H378.3"/>
<path class="gm" d="M39.3 318.5H378.3"/>
<path class="gm" d="M87.7 300V505.3"/>
<path class="gm" d="M168.4 300V505.3"/>
<path class="gm" d="M249.2 300V505.3"/>
<path class="gm" d="M329.9 300V505.3"/>
<rect x="63.5" y="444" width="48.4" height="31.8" fill="#85ceb7"/>
<rect x="144.2" y="435" width="48.4" height="34.5" fill="#fda481"/>
<rect x="224.9" y="428.3" width="48.4" height="39.2" fill="#a4b3d5"/>
<rect x="305.7" y="422" width="48.4" height="42.8" fill="#eca1cf"/>
<path class="wk" d="M87.7 444V399M87.7 475.8V493.5"/>
<path class="wk" d="M168.4 435V383.3M168.4 469.5V493.5"/>
<path class="wk" d="M249.2 428.3V370.8M249.2 467.5V493.5"/>
<path class="wk" d="M329.9 422V360.8M329.9 464.8V493.5"/>
<path class="pt" d="M95.5 338.5l2 12-14 12 17 4-12 11 8-2 3-3-7 6-1 1 0 3-13 6 3 0 4 1 2-3 12 8 0-2-2 0-15 3-1-3-8-1 4 5 2 1 0 1 5-2 2 3 1 1 3 0 2 0 1-3 0 3 1-4 1 2 1 3 2-5 2 4 1 1 0-4 0 3 1 1 0-3-4 6-7-2-1 3 0 2-1 0 0-2-11-1-5 1 1 5 7 2 2 1 1-3 2 3 0-4 1 2 1 2 2 0 0 0 1-4 0 3 1-2 1-1 1 1 2 3 2-5 2 5 1-5 1 9-1-1-1 3-2 0-1-1-1 0 0-1-5-1-1 2-3-1-1 0 0 2-1-4-1 0 0-1 0 0-4 4-2-1-3 0-1 0 0 1 0 1-1-4 0 2 0 6 2-2 1 1 3 0 2 1 2 1 4-1 2-2 3 4 1 0 0-5 1 1 0-1 1 4 0-1 0 2 1 0 3-2 0 2 2-1 2 0 0 5-2-1-2 0-1 3-2-3-1-2-1 0-1 0-4 4-3-3 0 1-8-2-1 0-1 4 0-3-3 1-1 1 1 3 5 5 2-3 0-1 3 3 0 1 0-3 5 2 2 0 0 1 3 0 0-3 1 3 0-3 2 2 1-4 3 2 1 1 3-1 0 9-1-4 0 3-1 1 0-5 0 4-1-1 0-2-1 2 0-1 0 3-3 0-1-5-2 1 0 4-4-1-2-4-2 5 0-5-1 5 0-1-1 0-1-3 0 3 0-2-1 3 0 0-1-5 0 3-1 2 0 0-1-5-1 0-1 3 0 0 0-1-1 2-1 0-2-3-1 4 0 6 0-5 0 3 1-1 1 3 1-5 0 4 0 1 1 0 0-2 1-1 0-2 2 5 0-1 0-4 1 2 4 3 0-3 2-1 0 0 0 3 0-1 1 2 0-5 0 3 0-3 2 2 2 0 1 2 1 0 1-1 0-3 1 3 0 0 0 2 2-2 0-1 1-2 1 5 1-3 0 3 2 0 0 0 0-3 1 3 1-4-1 10 0-2-1 1-1-2-1-2 0 0 0 5 0-2-1 1 0-3-1 1-1 0 0-2 0 2 0 2-1-1 0 1 0-4-1 3 0 1-2 1-1-3-1 2-1 0 0 1-1 0 0-2 0-2-1 4 0-2-1-3 0 1-1 0 0 3-1-2-2 2 0-3-1 4 0-5 0 1 0 3 0-3-1 2-1 1-1-4 0 3 0 0-1-2-2-1 0 1-1 1 0 2-1-2-1 1 0-1 0-2-1 5 0-1 0 6 0-2 1 0 0-1 0 0 2 1 0-2 0 1 1 3 0 0 0 0 0 1 1-4 0 3 0-3 0 3 0-3 0 1 0 2 1-1 0 0 1-2 0 2 0-3 0 3 1-3 1 0 1 5 0-1 0-1 1-2 0 4 0-1 0 1 2-5 0 5 1-4 0 2 1 0 0 0 1 1 0-3 0 2 2-2 0 2 0-1 2 2 1-3 2-1 0 0 0 4 0-3 0 1 1 2 0-2 0 3 0-5 0 4 1 1 1-3 0 0 0-1 2 2 1 2 1-3 0 0 1 1 0 1 0-1 1 8 0-4-1 2 0-3-1 0 0 0 0 3 0-2-1 3 0-1 0 2-1-2 0-3 0 2 0-1-1 4 0-5-1 5 0-1 0 1-1-5-1 3 0-1 0-2 0 3-1 1-1-2-1 0 0-1 0 1-1 1 0 1 0-4 0 2 0 2-1-1-1 1 0 1 0 0 0-2-1-2-1 0 0 0-1 0 0 1-1-2 0 1-1 1 0 3-1-3 0 3 0-2 0 1 0 0 0-2 0 2 0-1 0-2 0 4-1-5-1 5-1-5-1 1 0 0-1 2 0 1 0-4 0 0-1 0 0 5-1-3 0 0-1-2 0 5 0-2-1 0 0-3 0 1-1 4 0 0 0-3 0 2 0 1-1 0 0-1 0-3 0 0-1 10 1-1 1 1 0-5 1 1 0-1 2 4 2-2 0 3 1-5 0 5 0-1 0-2 1 3 0-3 0-2 0 2 2 3 0-2 0-3 1 0 0 3 2-1 2 2 0 1 0-2 0 2 0-2 0 0 2 2 2-5 0 4 0 1 1-2 1 2 0-1 0-4 1 2 0 2 1 0 0-4 0 2 1-2 1 4 0 0 0-4 0 5 1-5 0 4 1-4 1 5 0-4 1 2 0-1 0 0 0-1 1 2 1 5-1 2 0 1 0 0 0-3 0 3-1-3 0 3-1-1 0-1 0 1 0-2 0 1 0 0 0-1-1 1 0-3-1 5 0-2 0 0 0-2-1 4 0-4-1 0-1-1 0 0-1 4 0 1 0-2 0-1 0 3-1-1 0 1 0-2 0-1 0 0 0 0-1 3-1-1 0 1 0-5 0 3-1-3 0 5 0-3 0-1 0 1 0-1 0 0-1 0 0 0 0 1-1 1 0-3 0 3 0 2 0-3-1 0 0-2-1 3 0-1 0 2 0 0 0-1 0 1 0-2-1 1-1 2 0-1 0-4 0 3-1-2 0 1 0-2-1 4-1-1 0 0 0-1-1 3-1-1 0 0-1 1 0-4 0 2-2-3-1 4 0-1 0-3-1 1-1 2 0-2 0-1 0 3-1-1 0-1-1 2 0 2 0 3 1-1 0 4 1-1 0-4 1 3 0-3 0 3 1 2 1-5 0 5 0-5 0 1 0 4 1-3 0-2 0 2 0-1 0 0 0 1 1 1 0-1 0-2 1 3 1-2 0-1 0 4 1 0 0-4 0 1 0 1 1-1 1 2 0 2 1-5 0 3 1-1 1-1 0 0 2 1 1-2 0 3 0-3 0 3 2-2 1 0 0 0 0 3 1-1 0-1 0 1 0 0 0 0 0 0 1-1 0-2 0 3 0 2 1-3 0 0 1-1 0 0 0 1 0-1 1 4 1-5 2 3 0 2 0-4 0 1 0 0 2-1 0 0 0 4 0-5-2 7 0 1-2 3-1 0 0-5 0 3-2 2-2-2-1-3 0 0-1 5-1-5-1 4-1-4 0 4-1-3-1 0 0 4 0-5-1 1 0 4-1-5-1 1-4 2 0-2-2 3 0 0 0-1-1-2-1 3 0-2-1-2 0 3-1-1 0 2-1 1 0 0 2 1 0 0 8 1 9-1 9 0 0 1"/>
<path class="pt" d="M172.5 346.5l5 3-10 9-12-3 24 9-3 3-10 0-11 7 13-2 1 0 0 0 13 4 2 1-5 3-9 3-6 0-7-3 0-1-1 2-3 4 0 4 0-1 4-1 0-1 1 0 2 1 1-1 1 2 5-2 1 3 3-5 1 1 5-1 2 1 1 2 0-1 2 1-2 7-1 1-7-1 0-2-4 1-2-2-2 3-1-2-1 0-2-2-7 1-1 5 13 1 1 3 1-3 4 0 3 4 2-3 0 1 0-2 4-1 0 3 1 0 0 2 1 0 1-4 0 9 0-2-1-1 0-1-2 0 0 3-3 2-1 0-2-4-3 4 0-3 0 1-3-3-6 5-2-4 0 4-2-2 0 2-5-2 0 7 0 0 0-3 2-1 2 5 3-5 0 0 1 2 0-2 2 1 1-1 1 4 3-1 0-2 2 1 3 2 1-1 2-1 0 3 1-1 0-1 2-2 1 4-3 5-5 0-1-2 0-1-5 4-1-3 0 3-1-2-1 1-3 1-7-1-1-3 6 10 1-5 1 5 3 0 0-2 4-1 1 0 0-2 1 4 5 0 3-4 1 5 2-3 1-1 0 1 1-1 1 4 1-3-1 5-2 3-1-3-5-1-1 5-2-4-1 1-1 0-4 3-2-5 0 1-1 1-6 2-4-1 1 8 0-3 1 2 0-3 2 4 1-5 0 2 1 2 0 0 2 1 1-4 1 2 2 1 1-3 1 3 0-2 0 0 0 1 0 0 1-1 0 1 0-1 2-1 0 3 1 0 1-4 1 3 0 2 0 0 2-2 1-3 3 2 2 2 0 0 0 1 0-3 2-2 1 0 0 11-1-1 0 1 0 0-1-3-1 2-2 0-2 0 0-3-2 3 0-3-1-1-1 5 0-2 0-1-1-1 0 3 0 1 0-5-1 5-1-3 0 2 0-1 0 2 0-1-1-2 0 2 0-2-1 1 0-1 0-2-2 5 0-1 0-4-1 0 0 1-2 1-2-1 0-1 0 5 0-4-2 4 0-2 0-1-2 0 0 3-1-1-1 0 0 1-1-1-1-3-1 4 0 1 0 5 1-4 0 2 2-1 2 1 0-2 1 1 0 0 0 3 1-5 0 3 0-1 1 3 0-1 1 1 0-3 0-2 1 5 0 0 1-3 0-2 0 0 0 0 1 2 0 3 1-2 0 0 0 2 0-5 1 3 0 2 0 0 0-5 1 0 0 2 1 0 0-1 0 1 1 2 1 0 0-4 0 4 1-3 0 1 2-1 0 2 1-3 0 2 2 0 0-1 0 2 0-1 1 2 0-1 1 2 2-4 0 1 1-1 1 4 0-1 0 1 0-2 1 2 0-4 1 3 0 0 0 0 0 1 0 2 0-1 0 1-1 1 0-2 0 3-1 2 0-1 0 0 0-1 0 2 0-1-2-1 0 2 0-3 0-2-1 4-1-2 0-2 0 5 0-1-2 0-1 1 0-5 0 3-1-2-2-1-1 4 0-3-1-1 0 0 0 2-1-1 0 2-1 0-1 0-1-1 0-1-1 1-1 2 0-4-1 5 0-5 0 5 0 0-1 0-1-4-1 4 0-5 0 0 0 3-1-1 0-1-1 3 0-3-1 4 0-1-2-2 0 0-1 0 0-1-1 4 0-2 0-3 0 2 1 6 0 2 0 0 1-2 1-2 1 5 1-4 0 2 0-1 0 3 0-3 0 1 1-2 0 2 2 1 0-3 0 3 1 0 0-4 0 5 0-1 1-4 0 0 0 2 1 3 0-1 2 0 0 1 1-4 0 3 1 1 0-2 1 1 1-3 1 4 0-2 0 0 0-2 1 4 0-5 1 4 0-1 0 0 1 1 0-3 1 4 1-2 0 2 1 0 1 0 0-1 0-2 1-1 0-1 1 4 1-4 0 2 0 2 1-4 0 5 1-1 0-2 0-2 1 5 1-5 0 10-1 1 0-3 0-1 0 0-1 0-1-1 0 2-1 2 0-2 0 3 0-5-1 4 0-1 0 2 0-4-1 2 0-2 0 0 0 3-1 1 0-1 0 0-1-3 0 0 0 2-1-3 0 3 0-2 0 1-1-1 0 1-1 1-1-3-1 3 0-2-2-1 0 5 0-1 0 1 0-2 0-1-1 1 0 0 0-1-1-2-1 0 0 1 0 1 0-1 0 0-1 4 0-3 0 3 0 0-1 0 0-3 0 1 0 0 0 1-1 0 0-2 0 2-1-2 0 2-1-1 0-3 0 3-1 0-1 1 0 0-1 0-3-2 0 2 0-2 0 3-2 0-2 4 1 0 0-1 1 2 0 0 1 1 0 0 1-5 3 3 0-2 1 0 0 4 1-3 0 0 1 2 0-2 0-2 0 0 1 4 0-3 0-1 1 4 1-1 0 1 0 0 0-2 1-1 0-1 1 2 0-2 1 3 0-2 0 0 1 0 0 4 1-2 0 0 0-3 0 5 1-5 0 5 0-5 1 4 1 1 0-5 1 2 1 2 0-2 1-2 0 2 0 2 0 0 0-3 1 4 1-1 0 1 1-1 0 0 0 0 1-2 0-1 1 3 0 1 0-4 0 2 1-1 0 3 0-4 0 4 1-1 0-2 1-1 0 4 0 6 0-1-1-1 0 1-1 1 0-4 0 0-1 4 0-5 0 3-1-2 0 1 0 2-1 0-1-1-1-3 0 4 0-3 0 2-2 2 0-1-1-1 0-1 0-1 0-1-1 4 0 1 0 0-3-3 0-2 0 3-1 2 0-1-1-1 0-2 0 0-1 3 0-2-2 0 0 2-1-4 0 1 0 3-1-2 0 1 0-2 0 0 0 2-1-3-1 1 0-1 0 1-1 4 0-1 0-3-1 2 0-1 0 0 0-1 0 2-1 1-1 0 0-4-1 0 0 3-1-2 0-1 0 0 0 2 0-2 0 4 0 1-1-2 0 2 0-1 0 0 0 0-1-1 0 1-1-2 0 7 0-3 2 3 0-2 1 1 1 2 0-3 0-1 1 4 1-4 0 1 0 1 2 3 1-1 4-2 1-1 0 0 1-1 1 4 0-4 2 2 1-1 0 3 2-1 1-3 0 1 1-1 0 3 1 0 1-2 0-1 0 0 1 2 0 0 3 3 0-3 4 2-3 3-2 0-2 1-1-1-5 1-3 2-3-2-3-2-4 3-2-1-4 5 3-1 5 1 0 0 1 0"/>
<path class="pt" d="M253.5 322.5l-7-4-10 0 5 15-2 3 24 6-4 1-13 0-7 2 7 5 14 0 1 2-3 4-10 3-10-1-1 0-3 4 7-2 4 5 2 0 3 0 10-3 5 6-2 2-1 0-2-4-4 1-1-1-2 0-5 3 0 2-7-4-8 2 9 3 4 4 7-1 1-3 8 1-17 5-2 3-3-2-2 0-4 10 1-5 1 3 3 2 1-3 5-1 2 3 2-4 1 4 5-2 0-2 3 5 5-2 0-1-2 6-2-1 0 1 0 2-1 1 0-3-2 2-1-2-2 2-1-1-4 1-4-1-2 1 0-2-2 0-2 0-1 3 0-2 0-1 7 8 2-2 1 0 4-1 1 4 1-3 0-2 2 2 1-1 2 3 1-2 0 2 2-4 0 3 1 2 3 0-1 1 0 5-4-2-2 2-2-4-2 2 0 2-3-4-1-1-1 4 0-1-1-2 0-1-3 0-7 1 0 3-1 1-3 6 1 0 2-5 0 0 3 0 3 4 3-1 1-2 8 1 2 1 1 1 0 1 5 3-1 1-1-3-4 1-1 0-1 4-1 0-1-5-3 0-2 2-5 2-1 1-1 0-2 0-4 0-1-1 2 4 2 2 1 1 2-2 3 1 0 1 1-1 1-1 1-2 0 4 1-3 1 0 2 1 2-1 5 0 1 0 3-2 0 4 1 6-1 0-2-3-1-1-1 2-1-2 0 0-2 0-1 4-1 0 0 0-2-1-2-1-1 2-2-1-1-3 0 0-1 1 0 1-2 3 0-1 0-2-1 3 0-1-3-3 0 2-1 1 0-1-2 2 0-3 0 0-1 9 0-5 0 0 1 0 2 5 0-4 1 1 1 1 1 1 0-1 0 1 1 1 0-1 0 1 1-4 1-1 2 1 0 1 1-2 1 5 1-4 1 3 0-3 2 4 0 0 1-5 0 2 0 1 0-1 0 0 1 1 1 0 2 1 2-3 0 0 1 4 0-5 2 5 2-4 2 3 0 3 0 4-1-1-1 1 0-3-1 3 0-2-1-2 0 3 0-1-1 0-2-2 0 4 0-4-1 1-1-2-1 5 0-3 0 1-1-3-2 5 0-2 0-1 0 2-1 0-1-2 0 3 0 0-1-1-1-1-1 2 0-3-1 0 0 1 0-1-1-2 0 2-1-1-1 0 0 1-1-1-1 1-1-2-2 0 0 3 0-1-1-1 0 2 0-2-1 4 0-1-1 0 0-4 0 0-1 4 0 1-1-3 0 4 1 0 0 5 0-1 1-1 0 2 0-1 1 1 0-5 0 1 0 1 0 2 0 1 0-4 1 4 0 0 1-1 0-3 1 4 1-1 1-4 1 0 1 1 0-1 0 3 0 0 1-3 0 3 1 0 1 2 0-1 1-3 0 0 2-1 0 2 0-1 1 3 1-2 0 2 1-1 1 0 0 0 0-1 1-2 0 2 0 0 1-2 0 1 1-1 0 4 1-3 0 3 0-1 1 1 0 0 0 1 0-4 0 4 1-3 3 0 0 3 0-5 1 2 1 3 0-2 0-3 0 1 1 2 0 4-1-1 0 4-1 0-2 1 0 0 0-4-2-1 0 4-1-4-1 5 0 0-1 0-1-5 0 2 0-2-1 3 0 0 0-3 0 0-1 1-1 4 0-5 0 2-1 1 0 1 0-4 0 5 0-1 0 1-1-5 0 0-1 0 0 4-1-3 0 0-1 3 0 1 0-4 0 1-1 0 0 3 0-4-1 1 0 1 0-2 0 0-1 3 0-4 0 3-1-2 0 4 0-2 0-2-1 2-1 1-1 1-1-3 0 3 0-3-2 3 0-2 0-1 0-1 0 3 0-2-1-1 0-1 0 1-1 2 0-3 0 3-1 2-1-2 0 4 0 4 1-5 0 5 2-4 1 4 0-3 0 3 1-5 0 2 0-1 0-1 1 2 0-2 1 5 1-4 0-1 0 0 1 0 0 0 1 0 0 2 0-2 1 0 0 4 1-4 0 2 1 0 2 1 0 0 1-1 1 2 0 1 0-2 2-1 0 0 1 2 0-4 1 3 0-1 0-2 2 3 1 2 1-5 0 0 1 2 0 0 1 1 1-3 0 2 0 3 0 0 0 0 1-4 0 0 1 4 0-5 0 4 0 1 0-5 1 2 0 1 0 0 1-1 0 5-1 4-2-1 0-1-1-3-2 3-1 1 0-2 0 3-3-5 0 2-1-2-1 3-1-2 0 1-1-2 0 5 0-3-3 1 0-1-1 3-1 0-1-5 0 1 0-1 0 1-1 2 0 2 0-1-1 1-1-4 0 4-1-3 0 1-1 2 0-3 0 3-2 0-2 0 0-3-2 0 0 0-1 7 1 1 0-1 0-3 0 3 0 1 1-1 1-3 0 0 0 4 0-3 1 1 1 2 0-3 0 4 1-2 1-1 1-1 1 3 0-2 0-1 1-1 0 0 0 4 1-3 1 4 1-5 0 1 0 0 0 4 0-5 0 4 0-3 0 3 1 1 0-4 1 2 1-3 0 1 0-1 1 4 0 1 1-5 1 5 1-2 0-1 1 3 2-4 0 4 1-4 0 2 0-1 1 2 0-2 1 0 0 1 0-2 0 0 0 1 0 3 1-4 1-1 1 5 0-4 1 2 0-3 0 3 0-1 1 0 0-1 0 3 1 0 0-2 0 8 0-4-1 5 0-3-1 3 0 0-1-1 0-4 0 0-1 5 0-5 0 5-1 0-1-1 0-2 0 3 0-4-1 2 0-1-1 0-1 0-1-2-1 0 0 2-1-1 0 1 0 1-1-3 0 0-1 1 0-1 0 4 0-1 0 1-1-2 0 1 0-3 0 5 0-1-1 1-2-2 0 1-1 1 0-5 0 0-1 1-2 4 0-1-1-4-1 1 0-1-1 2 0 2 0-3 0 0-1-1 0 1 0 0-1-1 0 2 0-1 0 4 0-1-1-3-1 2 0-3-1 2-1-1 0 6 1 4 2 0 0-2 1 2 1-5 0 2 1 2 0-2 1 2 0-3 2 0 1-1 0 4 1-1 1 1 0-3 2 0 1 4 1-4 1 3 1-4 1 4 1-3 2 4 1-3 0-2 1 1 0 0 1 3 0 1 3-4 0-1 1 2 1-2 0 4 1-4-3 9 0-1 0-1-1-1-1 5-2-3-2-1-7 4-4-3 7 5 1-1 12 1"/>
<path class="pt" d="M327.5 320.5l-6 3-2-1-1 5 19 7-23 1 26 1 2 4 1 0-7 5-12-3-2 4-2-1-2 4 12 1 9 2 5 7-12 0-4-2-6 1-2-1-5 4 8 4 5-4 2 1 2 3 0-2 2-3 5 5 3-2 0-2 1 1 1 3 1 5 0-2-7 3-3-2-2 1-3-4-2 5-5-2-4-1-1-2-2 2-2 7 0 2 4 0 0-3 1 3 1 0 1-1 3 0 6 0 4 0 0-1 1-2 2 3 1-2 1 1 1 1 2-1 0 1 3-3-3 9-4-4-1 4 0-2 0-2-3 3-2-1-1 3-1-5-7 1-1-1-2 4-5 4 1-2 2 3 2-1 0 1 5-2 3 4 4-2 1 2 2-3 1 2 0-1 7-1 1 2 1 0 1 4 0-1-3 2-1-2-12 0 0 1-2-1-9-1-1 4-1-2-2-2 2 8 2 0 1 0 6 3 1-5 3 1 2 1 1 3 2-2 1-3 0 5 1 0 0 0 5-2 2 6-3 1-2-4 0 3-1-2-4 2-3-2-2 2-15 1 1 2 1 4 0-4 4 1 0 3 2-3 16 0 0-1 2 1 2-1 1 3 0 1 2-2 1 6-2-1-2 4-2-3-1-1 0 1 0 0-6 1-3 1-3-3-1-1-4 3-2 1-1-1-5-2 0 8 2 1 0-2 2 3 0-5 3 5 0-2 3 1 1-1 0-3 1 3 0-1 0-1 7 2 0 1 1-4 0 3 3 2 1-2 0-2 1 4 1 0 0-3 1 1 2-1 1 1 0-3 0 5 1-5 1 2-1 9 0-2-1 1 0-1-1-1-1 2 0-1-1 1 0-2-2-1 0 1-1-1-2 3 0 1-1 0-1-4 0 3 0-1 0-1-1 3 0-5 0 4-1-1-1 1 0-3-1-1-1 5-3-3 0 1-1-2 0-1 0 4-1-2 0 3-3 0 0-2 0 1-1-4-6 1 0 7 0-2 1 3 0 0 1-2 0 2 1 1 0 0 2-3 0 1 0 0 1 2 1-2 0 2 1-3 2 2 1 1 1 1 1-3 0-2 1 5 1-5 0 1 0 2 0-1 1 3 2-4 0 3 0 1 0-5 1 1 0 2 1-1 3 0 2 0 0 1 0-3 3 5 0-2 0 0 0 1 0 0 2-2 0 3 0-1 1 0 0-2 1 9-1 0 0 0-1 0 0-3-1-2 0 5 0-2 0 2-2-2-2 1 0-1-3 1 0-2-1 0 0-1 0 1-1 0-2 3 0-5 0 0 0 2 0 2 0 1-1 0-1-4 0 4-1-1-1-4 0 3-1 1 0-4-1 5-1-1 0 1-1-3 0-2 0 4-2 1 0-1 0-3-1 0 0 1-1 2-1 0-1-3 0 4-1-1 0 0-1 1-1 0 0-4 0 2 0-3 0 3-1 6 2-2 0 2 1-2 0 0 1 3 1-3 0 4 0-2 1 0 2-2 0 2 1-1 0-1 1 0 0 3 0 0 0 0 1-4 1 5 0-3 1 2 0-1 1-2 0 1 0 1 0 2 1-2 1-2 0 3 2-1 1 0 0 1 1 1 0 0 0 0 1-3 0 0 0 3 1-5 0 5 0-4 1 3 1-1 0-1 0-1 1 1 2 0 1 2 0-2 1 2 0 0 0-1 1-1 1 1 0-1 0 2 0-1 0 1 1-1 0-2 0-1 0 4 0 4-1 2-1-3-1 4-1-4-1 3 0-1 0-1 0-2-1 0 0 2-1 0 0 3-1-4 0 4-1 0 0-2 0 0 0-2-1-1-1 2 0-2-1 0-1 3 0 1 0-4 0 4-1-1-1-1-1 0 0 3 0-5-1 5 0 0 0-5-1 5-1 0 0-3 0 1-1 2 0-5 0 4-3-4-1 3-1-1-1-2 0 0 0 1-1 3-1 1 0-5-1 2 0 0 0 3-1-4 0 3-2-4 0 4 0-3 0 3 1 2 1 4 0-4 2 0 0 5 1-3 0-2 0 3 1-1 0 3 1 0 0-5 0 3 0 1 0-4 1 3 1 2 1-3 0 0 0-1 0 0 1 2 0 1 1-2 0 1 0-3 1 1 1 2 0 1 0 1 0-4 0 3 2-2 1 1 0 2 4 0 0 0 0-1 0 0 0 1 1-5 0 0 0 5 1-5 0 1 1-1 0 5 1-4 0 4 1-5 0 0 1 3 1-3 1 3 0-1 0-2 1 1 0 1 0 2 1 1 0-5 0 8 0 2-1 1 0-3 0 3-1-3-1 2 0 0 0-1-1-2 0 0 0 0-1 3 0-3-1 0-1 3 0-2 0 2-1 1 0-1 0 0 0-4 0 1-1 4 0-3-1-2 0 3 0 2-2-5-1 5 0-1 0-3-1 3 0-1-1 2 0-2 0 0 0 2 0-4-1 4-1-3-1-2 0 4 0-2-1-2-1 1 0 0-1 3-2 1 0-5-1 0 0 4 0-3-1 0-1-1-1 2 0 3-1-5 0 1 0 3 0 0-2-2 0 1-1 3 0 0 1 1 0 1 1-2 0 3 0 2 0-5 2 2 0 0 1 2 0 0 1-4 0 0 1 2 0 2 0 0 2-3 0 3 1-2 0 3 1-1 0-2 0-2 0 2 1 1 0-1 0-2 0 4 0-1 0 1 1 1 1-2 0 0 0 1 1-3 1 2 0-3 0 2 0 0 0-1 1-1 1 4 0-4 0 3 1-1 1-2 1 1 0-1 0 5 1-1 0-4 0 5 2-4 1 4 1-1 0-1 0-2 0 3 1 1 0-1 0-1 0 1 1-4 1 3 1 1 1-3 1 2-3 4-1 1-2 0 0 1-2-3 0 2 0 0-1 3-1 0 0-1-1 1-1-3 0-2-1 0 0 3-1-1 0-1-2 1 0 1 0-2-2-1 0 5 0 0-2-3-1 0-1 1-1-1 0-1-3 0-1 0-1 3 0-4 0 4 0-2-1 1 0-3 0 1-1 0-1 0 0 7 0 0 3 0 0 1 1-3 1 4 0-3 1-1 2 3 1 2 2 0 1-1 0-3 2 4 3-2 1 0 2-3 0 3 2-1 0-1 2-1 3 3 1-2 1 2 0-3 1 7-1 3-1-3-1 1-1-2-4 0-1 1 0 3-4-1-5 0-2-3-4 5-1 0-1-2-4 1-1 0 16 3 15 0"/>
<rect x="64.1" y="444.6" width="47.2" height="30.6" fill="#85ceb7" fill-opacity="0.3"/>
<rect class="bx" x="63.5" y="444" width="48.4" height="31.8" fill="none"/>
<path class="md" d="M63.5 460H111.9"/>
<rect x="144.8" y="435.6" width="47.2" height="33.3" fill="#fda481" fill-opacity="0.3"/>
<rect class="bx" x="144.2" y="435" width="48.4" height="34.5" fill="none"/>
<path class="md" d="M144.2 454H192.7"/>
<rect x="225.5" y="428.9" width="47.2" height="38" fill="#a4b3d5" fill-opacity="0.3"/>
<rect class="bx" x="224.9" y="428.3" width="48.4" height="39.2" fill="none"/>
<path class="md" d="M224.9 451H273.4"/>
<rect x="306.3" y="422.6" width="47.2" height="41.6" fill="#eca1cf" fill-opacity="0.3"/>
<rect class="bx" x="305.7" y="422" width="48.4" height="42.8" fill="none"/>
<path class="md" d="M305.7 446.3H354.1"/>
<rect class="pb" x="39.3" y="300" width="339" height="205.3"/>
<text class="t yl" x="34.7" y="463">200</text>
<text class="t yl" x="34.7" y="415.8">400</text>
<text class="t yl" x="34.7" y="368.7">600</text>
<text class="t yl" x="34.7" y="321.5">800</text>
<path class="tk" d="M36.7 460h2.6M36.7 412.8h2.6M36.7 365.7h2.6M36.7 318.5h2.6M87.7 505.3v2.6M168.4 505.3v2.6M249.2 505.3v2.6M329.9 505.3v2.6"/>
<text class="t xl" transform="translate(87.5 510.1) rotate(-45)" dy="6.2">&lt;30</text>
<text class="t xl" transform="translate(168.2 510.1) rotate(-45)" dy="6.2">30~40</text>
<text class="t xl" transform="translate(249 510.1) rotate(-45)" dy="6.2">41~50</text>
<text class="t xl" transform="translate(329.7 510.1) rotate(-45)" dy="6.2">&gt;50</text>
<text class="t ti" x="39.3" y="292">Pb by age</text>
<text class="t at" x="209.5" y="542">age</text>
<text class="t at" transform="translate(15.4 402.6) rotate(-90)">Pb concentration (μg/L)</text>
<text class="t sg" x="84.4" y="309.3">****</text>
</g>
<g>
<path class="gn" d="M416.5 466.7H761"/>
<path class="gn" d="M416.5 407.1H761"/>
<path class="gn" d="M416.5 347.6H761"/>
<path class="gm" d="M416.5 496.5H761"/>
<path class="gm" d="M416.5 436.9H761"/>
<path class="gm" d="M416.5 377.4H761"/>
<path class="gm" d="M416.5 317.8H761"/>
<path class="gm" d="M465.7 300V505.3"/>
<path class="gm" d="M547.7 300V505.3"/>
<path class="gm" d="M629.8 300V505.3"/>
<path class="gm" d="M711.8 300V505.3"/>
<rect x="441.1" y="458.3" width="49.2" height="26.7" fill="#85ceb7"/>
<rect x="523.1" y="455.8" width="49.2" height="27.7" fill="#fda481"/>
<rect x="605.2" y="452.3" width="49.2" height="31.5" fill="#a4b3d5"/>
<rect x="687.2" y="447" width="49.2" height="33.8" fill="#eca1cf"/>
<path class="wk" d="M465.7 458.3V419.5M465.7 485V495.5"/>
<path class="wk" d="M547.7 455.8V414.5M547.7 483.5V495.5"/>
<path class="wk" d="M629.8 452.3V406.3M629.8 483.8V495.5"/>
<path class="wk" d="M711.8 447V397M711.8 480.8V495.5"/>
<path class="pt" d="M477.5 322.5l-5 12 6 18-4 4-9 0-2 1 16 25-20-2 10 5 12 2-13 3-2 5-8-4 8 10 15-2-10 8-19-3 11 6 9 1 8 2-7 5-21 2 3 2 1-1 0-1 1 3 4 0 3-2 1 1 1-1 2 1 3 0 2 0 1-1 0 0 0 0 0 1 1 3 0-4 2 1 0 2 2-2 1 3 0 0 1-5 1 6-1 3-3-2-1 1-3 3-1-3-2-2-9 2-3-2 0 1 0 0-1 2-1-1-2 3-2-2-2 1 0-1-1-1 1 4 2 3 0-1 1 3 0 0 2-3 6-1 1 0 0 1 0 3 0-5 1 1 0 1 1 3 0-1 1-2 1-2 1 4 0 1 0-1 2-3 0 1 1 1 4 1 1 0 0 1 2-2 0 2 3 2-3-1-2 3 0 1-1-2-4-1 0 2-1 2-2-1-3-4 0 3-1 1-2 1-5-2 0 0 0 0-3 0-3 5 0 3 3-3 1 0 2 0 0-1 0 1 0 2 0 0 1-2 6-2 1 4 1-1 0 0 0 2 1-4 0 4 0-3 2 2 2 1 2-4 0 2 0 2 0-3 2-2 5 0 1 5-1 6-3-4 0-1-1 5-1-3 0-2-1 1-2 2-1-1-3-2-1 2-1-2-4 2 0-1-2 2-1 1-2-4-3 5 0-3-2 2-1 1 0-1-1-2-1 3 1 5 0-1 0-3 0 3 1-2 0 3 1-2 0 0 2-1 0 4 1-3 0 1 0 0 0 2 1-4 1 3 0-1 0 2 1-1 1 1 0-5 1 1 0 2 2-2 2 0 0-1 1 4 1 1 1-5 2 5 1 0 0-3 1 2 2-2 0-2 3 5 2-4 3 2 0-2 0 2 0 2 1-2 0 6 0 2-1-4-1 4-1-4 0 1-2 0 0 1 0 2 0 0 0-5 0 2-2 0 0-2 0 2-1-2 0 1-1 3 0-1-1 1-1 1-1-1-1 0 0 0-1 1 0 0 0-1-1-1-1-2 0 0-1 3 0-2-1-1-1 0 0 1 0 0-1 1 0 2-1 0-3-3 0 3 0 0-1-5-1 0 0 3-1-2-1 1 0 1-3-3 0 3 0-1-1 2 0 0 0 1-1-1 1 7 1-5 0 3 0 2 1-2 1-2 0-1 0 4 0 0 1-1 0 0 0-1 3 0 1 3 1-5 0 5 0 0 1-4 0 4 0-5 0 5 0 0 0 0 0-4 0 1 1-2 0 2 0 2 1 0 0-1 0-2 1-1 0 1 1 3 0-2 0 0 1 1 0 0 0 1 0 0 1 1 0-5 0 3 1-2 1 1 0-1 0 0 0-1 1 2 0-1 1 4 0-4 0 2 1 1 0-1 0 0 0 2 1-4 0 2 0 2 0-5 1 0 0 0 0 4 2 0 1-3 0-1 2 2 0 3 0-2 1-3 0 5 1-5 0 1 1-1 0 2 0-2 0 0 1 5 0-3 0 9 0-2 0 0-1-1-1-1 0 3 0-1 0 1-1-4 0 1 0 0 0 0 0 2 0-2-1 0 0 2-1 2 0-1-1-4 0 4 0 0 0-3 0 4-1-3 0 2 0 1-1-3 0 1 0 0-1-1 0 2 0-2 0 0 0-1 0 4-1-5 0 5 0 0 0-1-1 0 0-4 0 5 0 0 0 0 0-1 0-4-1 1 0 2-1-2 0 4-1-2 0-3 0 5 0-4-1 0 0 1 0 2-1-4 0 5-1-5 0 4 0-3-1-1 0 3 0 0-1-2 0 2-1 2 0 0-1-2-1 0 0-2-1-1 0 4-1-3 0 0 0 1 0 2-2-4-1 4 0-4-1 5 0-1-1 1 0-1 0 1-1-1-1-2-2 8 1-4 0 2 0 3 0 0 0 0 1-1 1 1 0 0 0-2 1 2 0-5 0 5 1-5 0 1 0 3 2 1 0-1 0-2 0 1 1-1 0 0 0 1 1-3 0 3 0-3 0 1 0-1 0 5 1-4 0 0 1 2 0 0 0 2 1-1 0 0 0 0 0-4 0 5 1-1 0-3 0 1 0 3 0-4 0 0 1 4 0-5 0 4 0 1 1-1 0 0 0-1 0 2 0-1 1-1 0-3 0 0 0 0 0 0 1 5 0-1 1 1 0-2 0 0 0 1 0-3 0 1 1-1 0 1 1-2 0 5 0-3 1 1 0-2 0 1 0-2 1 5 0-4 0 3 0-4 1 5 0-3 0 2 0-3 1 2 0-3 0 2 1 1 0 0 0 0 1-1 0 0 0-1 0 4 1-3 0-2 0 1 0 3 1 0 0-3 1 1 0 3 0-3 0 3 1-2 0-1 0 2 0-3 1 1 0 3 0-1 1-2 0 2 0-4 0 3 0 2 0-5 1 0 0 3 0 2-1 5 0-3 0 0 0 4 0-4 0 0-1-1 0 1 0 0 0-1 0 2-1 0 0 1 0-3 0 2 0 2 0-1 0 2-1-2 0-2 0 2-1-2 0 4 0-3 0-1 0 3-1-1 0-3 0 2 0 1-1 1-1-4 0 2 0-1 0-1 0 4-1-3 0 4 0-5-1 2 0 2 0 1 0-2-1-1 0-2 0 4-1 1 0-4 0 0 0 0 0 2 0-1-1-1 0-1 0 4 0-4-1 2 0 0 0 1-1-3 0 2 0-1 0 2 0 2-1-2 0-1 0-1 0-1 0 5-1 0 0-5 0 1 0 0-1 1 0 0-1 2 0-4 0 3 0 2 0-5 0 1 0 0-1 1 0-2 0 5 0-3-1 0 0-2 0 1 0 3-1-4 0 3 0 2 0-4-1 4 0-3 0 2 0-1 0-1 0-1-1 1 0 0 0 2 0 0 0-1 0-3 0 3 0 2 0-4 0 4 0-5-1 3 0-1 0 3 0-2 0 1-1-4 0 3 0-1 0 1 0-1 0 1 0-3-1 5 0-5-1 5 0-5 0 1 0-1 0 5 0-1-1-1 0 0 0 2 0-4 0 2 0 2-1-3-1 1 0 2 0-1-1-2 0-1 0 0-1 1 1 4 4 2 1-2 0 0 2 0 0 1 0 2 1 0 0-2 4-1 0 1 1 2 1 0 0 0 1-3 0 0 1 1 1-1 3 0 1 1 3-1 1 1 1 0 0 3 0-4 1 0 0 1 1-1 2 3 0-1 2-2"/>
<path class="pt" d="M548.5 318.5l9 7-19 26 17 2 1-5-23 13 2 13 21 4-13 6 1 1 4 1 0 9-2-5-8 4 0-4-2 10 6 0 4-4 5 3 4-3 2 4 5-3-2 10-8-2-20 1 0 2 26 5 1-3 1 2 1 1 2 5 0-2-4 0-3 3-1 0-2 0-1-1-4 0-3-2-1 0-3 1 0 2-1-3 0 3-5-1-1 1-1 0-1 4 0 0 1 1 2-1 1 0 1-2 1 2 1 1 2 0 0 1 1-4 0-1 1 5 1-5 1 4 0-1 3 0 7 1 1-2 1 1 2-2 3 0 2 6-2 4-3-1 0 0 0 0 0-3-1 1-1 3-1-5 0 4-2 0-2 0-1-4-2 4 0 0-3-3 0 3 0-4-2 2-6 1-3 0-1-3-2 4 0 6 2 1 1-5 1 0 0 3 2-3 2 0 4 3 1 0 1-2 2 1 1-1 2 0 0 3 1 0 2-4 2 4 2-1 3 2 2 5-1-2-6 3-2-1-1 1-4-5-1 1-1 1-2 2-2-1-1 2-1-4-1 3-2-4-1 4-3-4-1 5-1-2-1 6 0-1 1 1 2-2 1-1 2 5 2-5 1 4 1 0 1-2 1 0 3-2 2 4 0-2 1 1 6 1 5 1 0 0 1-1 1-2 0 1 2-2-2 7-3-1-2 4 0-1 0-4 0 4-1-4-1 3 0-3-1 0-1 4 0 0-1-2 0 2-1-1-1 2-1-5 0 4 0 0-1-2-1 3 0-5-1 2 0-1-1 1-1 0 0-1-2 4-3 0-1-1-1 0-1-3 0-1 0 1-2 3 0-3-2 9 0 0 0-2 1 0 0-1 0 4 1-4 1 0 0 1 1 2 1 0 0-2 2 3 0 0 0-5 1 0 1 5 0-1 1-4 2 0 0 1 3 0 0 3 1-2 1 0 1 1 1 1 1 1 1 0 1-4 0 0 0-1 0 0 0 1 1 0 1 3 0-1 0 1 1-2 0 1 1 2 1-4 0-1 1 5 0-5 1 5 0-2 0-3 0 2 1 2 0 1 0-1 1-1 1 6 0 1-1-3 0 1 0 1-1 0 0-2 0 4-1-1-1-4 0 4 0-4 0 2 0-1-1 1 0 3 0-2-1 1-1-3-1 2 0 2 0-3 0 3 0 0 0-2-2-1 0 3 0-2-1 0 0 1 0-3-3 1-1-2-2 3 0 2 0-2 0-3 0 3 0-3-1 0 0 4-2 1-1-4 0 0 0 3-1-2 0 1 0 2 0-1-1 1-1-5 0 5 0-3 0 1-1 1 0-2 0-1-1 1 0-1-1 4 0-1 0 0-2-4 0 5 0-5 0 2-1 3 0 0-1-3 0-1-2 6 1 1 0-2 1 1 0 3 0-3 1 1 0-2 1 3 1-1 1 2 0 1 1-4 1 3 0 0 0 1 0 0 1-3 1 2 0-1 0 2 1-2 0-2 1 0 0-1 0 4 0 1 2-2 0 1 0 0 0 0 1-1 0 2 1-2 1-3 0 1 0 0 0 4 1-3 0 2 0 0 1 0 0 0 0-3 0 0 1-1 0 4 0-3 1 3 0-2 0 3 0-5 1 4 0-2 0-1 1 3 0 1 0-3 0 0 0 0 0 1 1 1 0-1 0 2 1-2 1-2 0 0 0 1 0 3 0 0 1 0 1-2 1-1 0-1 1 3 0 1 1-3 1 0 1 0 0 6 0-2 0 2-1 2-2 1 0 0 0-2 0 1-1-1 0-1-1 1 0 0 0 0 0-3 0 1 0 0-1 0-1 3-1-2-1-1 0 0 0 3-1 0-1-1 0-1 0 2 0 1 0-1-3-4-1 1 0 3 0-2 0 0-1-1 0 0 0 2 0 1-1-3 0 0 0 2-1 0 0-2-1-1 0 3-1 2 0 0 0-5 0 0 0 0-1 1-1-1 0 2-1 1 0 0-1 0 0 1 0 1-3 0 0-1 0-3 0 0 0 0-1 1 0-2-2 3 0-2-1 4 0 0 0-5-1 3 0-2 0-1 0 5-1 5 1-4 0 4 0 0 0-2 0-1 0 4 0-1 0-2 0 1 0-2 0 1 1-1 1 0 0-1 1 0 0 4 0 0 0-1 0 2 0-3 1 2 0 0 0-2 0 0 0 3 0-1 1-2 1-2 0 2 0 2 1-2 0 1 0-3 0 3 0 1 1-4 0 5 1-4 0 3 0 1 0 0 0-3 1-1 0 0 0 2 0-1 1 3 0-1 0 0 2-3 0 4 0-4 0-1 1 1 0-1 0 1 0 4 0-3 1 2 0 1 0-2 1-1 0-1 0-1 0 3 1 0 1 2 0 0 2-1 0-3 0 3 0-3 1-1 0 3 0-2 1 4 0-2 0 1 0 0 1 1 0-2 0 2 0-3 1 2 0-1 0-1 0 3 1-1 1-1 0 0 0-1 1 1 0 2 0-1 0-1 0 2 0-1 2 0 0-4 0 0 0 4 0-4 1 1 0 3 0-4 1 5 0-2 0 0 1 1 0 0 0 1-1 2 0-1 0 2-1-2 0 0 0 3 0-1 0 2 0-4 0 0-1 4 0-2 0 3 0-1 0-4-1 0 0 2-1 1 0-3-1 3 0-2 0 4 0-2-1-2 0-1 0 2 0 1 0 1-1-4 0 4 0 1-1 0 0-2 0-3 0 0 0 1 0 0-1 0-1 2 0-3-1 3 0-3 0 0 0 0-1 1 0-1 0 0 0 2 0 1 0 1-1-3 0 3 0-4 0 0-1 0 0 2 0 3 0-2 0-2 0 0-1 3 0-3 0 1 0-2-1 2 0-2 0 1 0 1-1-1 0 3 0-2-1 0 0 1-1 2 0 0 0-5 0 0-2 2 0 2 0-3 0 4 0-4-1-1 0 0 0 0 0 0-1 0 0 3 0 0-1 1 0-1-1-1 0 2 0-4 0 2-1 3 0-1 0-2-1-1 0 4 0-3 0-1 0-1 0 2 0-1-1-1 0 0 0 0 0 0 0 0-1 1 0-1-1 0 0 1 0 0 0 0-1 0-1 2 1 5 0 1 1-3 0 0 0 2 3 0 0 1 2-3 0 3 1-1 1-2 2 1 1 2 3 0 1-1 1 0 0-2 2 3 1-3 0 2 1 0 0-1 0 0 3 1 2-2 2 3 3-3 2 3"/>
<path class="pt" d="M618.5 318.5l-2 22 6 12 22 1-6 4-7-1-15 9 1-2 9-1 18 6-21 0 0 5 22 7-1 3-1-5-17 1 0 0-7 0-5 2 10 7 6-4 5 4 3 5-12 0-5-2 2 5 7 4 10 5-7 2-4-3 0-2-7 4-5 5 0-3 2 4 0 0 2-2 1-2 13 4 1 0 2 1 2 0 6-1-2 7-3-1-3 1 0-1-1-3 0-1 0 1-2-1 0 5-2-1 0 1 0-5-1 0-1 4-3-1 0 2-3-4 0 0-2 3 0-1-3-3-1 5-5-4 3 5 2 0 1 5 0-5 0 1 2 3 1-4 1 0 4 5 1-1 1-1 0 0 6-1 1-2 2 1 7 6-5 1-1-1-1 3-1 1-2-5-3 0-1 1-1 0-1 4-5 0 0-3-1-2 0 5 0-5-6 2-1-1 0 4-1-5-1 5 0 0 1 6 2 0 1-5 4 0 1 0 0 0 1 4 0-2 1 0 1-2 1 0 0 5 10-5 1 0 0 0 3 1 0 1 3 2 1 2-1 2-2 1-1-2 0 2-1 2-1-1-1-1-1-2-6 0-2 0-2 4-1-3 0 3-1-1 0-3-2 1 0 1-2-1 0-2-4 4 0-3-4 7 1 3 2-4 0-1 1 4 0 0 2-3 2-1 0 4 1-4 2 2 1 3 0-1 1-1 0 2 2-5 1 5 1 0 0-1 3 0 1 0 3-4 2 1 5-1 1 1 0 8-1-3-2 4-1 0 0-3 0 4-1-1 0-3-1 3 0-4-2 2 0 3-2-3 0 0-1 2 0-3 0 2-1 0 0 1-1-3 0 1-2 3-1-5-3 3 0-3 0 4 0-1 0 2-1-3 0 1 0 0 0 2-1-2-4 1 0 0-1 1-1-5-1 1-1 0-1 4-2 6 1-1 1-2 1 3 0-3 0-2 0 1 1 4 0-1 0 1 0-1 1-4 0 3 1-3 0 0 1 1 0 4 0 0 1-3 1 3 0-1 0-1 0-1 0 1 0 1 0 1 1-2 0 0 0 2 1-1 0-2 1-1 0-1 0 1 0 1 0 1 0 0 3-1 0 1 1 0 0 2 2 0 0-4 2 3 0-1 1-2 0 2 0-3 1 1 0 2 0-3 0 2 0 3 1-5 0 1 2-1 0 3 0 0 1-3 0 1 1 4 2-3 1-1 0 3 0 0 0 1 1-1 1 4 0-1-1 2 0 1 0-4 0 1 0-1-1 2 0 1 0 2 0-4-1 4 0-4-1 4-1-2-1-3 0 0-1 4-2-1-1-3 0 5 0-4 0 2 0-1 0 3 0-1-1-3 0 3 0-4-2 1 0 3 0-1 0 0-1 1 0-1-1-1 0 2 0 1-1 0-1-5 0 0-1 1 0 3 0-1-2 0-1-1 0 1 0-2-1-1 0 2 0 1 0-1 0 1-1 0 0-2-1 3 0-2 0 3 0-5-1 0 0 2 0 1 0-2-1 4 0-4 0 4 0-1-1-2 0-1 0 2-1-2 0-1-1 3 0-2 0 3 0-1-1-1 0 1 0-1-1-1-1 6 1 4 0-5 1 3 1-2 1 3 0 0 0-1 1 1 1-4 1 0 0 2 0 1 1-1 0-1 0 4 2-4 0 4 1-5 2 5 1-5 0 1 0 2 0 1 1-4 1 1 0 3 2-2 1 1 0-3 0 1 0 4 1-1 0-1 0 2 1-5 0 4 0-2 0 2 1-4 1 5 0-4 1-1 0 1 0 0 0 1 2 0 0-1 1 4 0-3 0-2 0 2 0-2 1 1 0 2 1 2 0-1 0 1 1-4 0 2 1 2 1 0 0-3 0 3 0 6 0-4-1-1-1 4-1 0-2-1 0 0 0-1 0-2 0 4-1 0 0-4 0 3-1-3 0 2 0 0 0 2-2 1 0-5-2 5 0-5 0 4-1-3 0 4-1-2-2 0 0-2 0 4-1-2 0-2 0 3 0 1-1-1-1-2 0 3 0-2 0-1-1 0 0-1 0-1 0 3-1-1 0 2-1-3 0 1-1 1 0-3-2 5 0-5-1 3 0 2-1-5 0 4 0-3-1 0-1 1-2 0 0 1-1-1 0 2 0-1-1 1 0 1-1-3 1 8 1-1 0-1 0 2 0-1 0 0 0-1 1 0 1-2 1 1 0 3 1 0 0-1 1 2 1 0 1-1 0 1 1 0 0 0 0-3 1 3 0-2 0-1 0 3 1-1 0 0 0 1 0-3 0 2 0-1 1-2 0 2 0 1 1-2 1 0 0 1 0 0 0-1 0 2 1-3 1 2 0-2 0 3 0 0 1-4 0 5 1-4 0 4 1-1 1 0 0-4 0 5 1-2 0 2 1-5 0 4 0-4 1 5 0-2 0 1 0 0 1 0 0-4 0 4 0 0 0 0 1-3 0 4 0-4 1 4 0-1 0 1 1-1 0-4 0 3 1 2 1-2 0-2 0 3 0-2 1 0 0 0 0 3 1-5 0 0 1 4 0-4 0 1 0 2 0 6 0-3 0 5 0-4 0 0 0 2-1 2 0-3 0-2 0 1 0-1-1 1 0-1 0 0 0 2 0 1 0-3-1 0 0 3 0-3 0 0 0 5-1-4-1-1 0 1 0-1-1 1 0 4 0-2-1-2 0 0 0 1-1 2 0 0 0-1 0-2-1-1 0 1-1 1-1-1 0-1 0 4 0-4 0 4 0-3 0 0-1-1 0 3 0-1 0 2-1-3 0 0 0 1 0 2 0-4-1 1 0-1-1 0 0 0 0 2-1 0 0 2-1-4 0 4-1-1 0 2 0-2 0 0-1 2 0-4 0 1-1 0 0 2 0-2 0 0 0-2-1 1-1 0 0 3 0 0 0-2 0-1-1 0 0-1-1 2 0-2 0 2 0-2-1 1 0 2 0-2 0 2 0-1 0 0 0 0 0-2-1 1 0-1 0 0 0 2 0-1 0 0-1 4 0-3 0-2 0 1 0 0-1 3 0-2 0 2 0 0-1 1 0-1 0-4 0 4 0-2-1-2 0 0 0 3 0-3-1 3 0-2 0-1 0 2 0-1-1 1 0 3 2 2 1 2 2-3 4 2 0-1 0-1 1 0 4 1 0-1 1 3 2-3 0 1 1-1 1 0 1 1 0 1 1 0 4-2 2 1 2-1 2 1 1 0"/>
<path class="pt" d="M704.5 324.5l11 3-11 7 1 8 2 7 1-1-7 7-4 5 23 2-3 9-21 1 7 4 7 0 7 1 4-2-10 7-14 3 14-1 8 3 5-2 3 1-2 8-9 0-3-2-6 1-3 1-4-3-1 2-3 6 3-1 2-1 7-1 1 2 2 3 5 0 3 0 2-1 7 3-2 4-6-1-1-1 0-3 0 0-2 1-2 4-4-2-1 1-1 1-2-1-3 0-1-2 0-2-1 5 0-2 0 0-3-3-1 5 1 1 0 4 5-1 2 2 2-1 3-1 0-2 1 3 1 1 0 0 2-4 1 2 2-1 4 3 0-5 2 0 2 4 2 2-1 0-1 4-1-4-1 2-1 2-6 0-4-2-4 2-2-1-8 0-1 2-1 0 1 1 0 1 2 0 1 3 6 0 2-4 1 4 0-1 1 2 2 0 4-5 1 5 3-5 2 2 1 5-3 1 0 3 0-2-1 1-1-1-1-3-1 0-1 3 0-3-2 5 0 0-2-3-1 2-3 1-3 0-1-4-6 4-2 6 1 0 6-3 0 3 1-1 0-2 0 2 1 1 1-3 1 1 1-3 1 0 1 3 0 0 3-2 1 0 0 4 2-4 0 4 1-3 0-1 2 3 6-1 0-2 3 0-1 7-2 2-1-1-1-3-2 5-6-3-1-2 0 4 0 1-3 0 0-3-1 2-1-1-1 1-3-2-2-1-2-1-1 2-1-2 0 2 0 3-1 6 0-4 3 3 1-3 1 0 0 0 1-1 1 5 0-2 0 2 6-1 2 1 0-3 3 1 0-3 0 1 0 3 1-2 0 0 0 3 2-5 2 2 0 3 1-5 0 4 5 2 0 4 0 0-1-4-2 3-1-1-2 0 0 0-1-1-1 1-1 3-1-5-1 5 0 0-2-3 0 0 0 2-1 1 0-2 0-1-2 2 0-3 0 4 0-5-1 5-2-3-1 3 0-5-3 0-2 2 0 2-1-1-2-1 0 1-1 0 0-2 0 3-1 1 0-2 0 0-2 1 1 4 0-2 1 2 1 3 1-5 0 4 0-2 1 3 1-2 1 0 0 1 0 0 1-4 1 1 1 3 0 0 0 1 0-4 1 2 0 2 0-5 1 4 2-1 0-1 0 0 0 2 0 0 0-1 0-3 2 5 0-5 0 5 1-2 0 1 0-4 1 4 1-4 0 4 0-3 1-1 0 4 0 1 0-2 0-3 1 4 0 1 0-4 1-1 1 5 0 0 0-1 2-2 0 2 1-4 0 1 1 3 1-3 1-1 0 3 0-2 1 2 1 0 0-1 1-1 0 4 0-5 1 4 0 7-1-1 0-2-1-2-1 3 0-2-1 2 0 1-1-4-1 4-1-1 0 0-1-3-2 3-1-1 0 2 0 0-1-4-1 2 0 3 0 0 0-3-1 2 0 0-1-2 0 3 0-3 0-1 0-1-1 2 0 0 0 3-1-1 0-4 0 2-1 2-1-2-1-1-2 3 0 1-1-5 0 4-1 1 0-2-1 0 0 2-2-1 0-3-1 2 0 0-1 0 0 0 0 0 0 0-1 1 0-3-1-1-1 4 0-2 0 6 0-1 0 4 0-1 1 0 0-2 0 1 0 1 0 1 1-2 0-3 1 3 0 0 1-2 0 2 0-2 1 1 0 3 1-5 1 5 0-3 1-1 0 4 1 0 0-2 0-2 1 4 0-4 0 4 2-1 1-2 0-2 0 0 1 0 1 3 0 0 0-2 0 2 1 2 0-3 1 3 1-1 0 1 0 0 1-5 0 3 1 2 0-2 1-1 0 3 1 0 0-5 0 5 1-3 1 1 0-1 0 3 0-1 1 0 0-4 1 1 0-1 0 5 1-2 0 2 0-3 0 1 0-2 0 1 1 3 0-3 1 1 0-1 1 2 0-3 0 2 0 0 1 0 0-1 0-1 0 1 0 1 0 1 1-4 0 4 0 5 0 0 0 2-1-4 0 3 0 1-1-4 0 1 0-2-1 3 0 1 0 0 0-2 0-2-1 1 0 3 0-3 0 0-1-1 0 0 0 0-3 4 0-4 0 2 0 3 0-2 0-3 0 3-2-1 0 0-1-2 0 4 0-1-1-3 0 0-1 5 0-3 0 0-1 2 0-3-1 0-1 3 0-4-1 2 0 1-1 2 0 0 0-2-1-1 0 0 0 3-1 0 0-1 0-1 0 0-1-2 0 2 0 0-1-2 0 1-2 1 0-3-1 5 0-4 0 1 0 2 0 0 0-4-1 1-1 4 0 0 0-5 0 1 0-1-1 3 0-1 0-1 0 3 0 0 0 1-1-3-2 3-1-3 0 3 0-3 0 2 0-4 0 10 0 0 0-2 0 1 1-2 0 3 0-1 0-2 0 4 0 0 0-1 1-2 0 0 0-1 0 1 0-2 0 3 0-1 1-1 0 0 0 0 0 3 0 0 0-2 0 3 0-5 2 3 1-1 0-1 0-1 0 5 1-2 0 2 0-1 0-2 0 0 1 1 0 2 0-5 1 1 1 2 0 1 0-3 0 2 0 0 0-3 1 0 0 0 1 1 1-1 0 4 0-1 0-1 0 1 1 0 0 0 1 0 0 2 0-3 0 0 1-1 0 2 0-1 0 3 0-1 1-1 0 2 0-3 0 2 1 0 0-4 0 0 1 3 0 1 0-1 1-2 0 2 0 1 1-1 0 2 1-1 1-3 1 3 0 0 0 0 0-3 0 2 1 0 0 2 0-1 0 1 0-3 1 3 0-4 1 4 0-2 0-3 0 1 0 4 1-1 1 0 0-3 0 3 0-1 0 0 1 1 0-2 1-1 0 4 0-2 0-1 0-2 1 5 0-2 0 3 0 2-1-2 0 5-1-3 0 2 0-4-1 2 0-1 0-1-1 0-1 4-1 0 0-2 0 0-1-2 0 2-1 2-1-4 0 5 0-1 0-3-3-1 0 4-1-2-2-2 0 0 0 1 0 0-1 0-1-1 0 2 0 1 0-1-1 1 0-1-1-2-1 1-1 1-1-2 0 0 0 1-1 3-1-1-1 2-1 0 0 0 0-4 0 4-1-2-1-3 0 1 0-1 0 0-1 1-1 4 0-4 0 1 0 0-1-1 0 4 0-1-1-2 0 0 0 0 0 7 2-2 15 0 0 2 1-2 1 1 1-2 1 0 0 2 1-1 5-1 1 1"/>
<rect x="441.7" y="458.9" width="48" height="25.5" fill="#85ceb7" fill-opacity="0.3"/>
<rect class="bx" x="441.1" y="458.3" width="49.2" height="26.7" fill="none"/>
<path class="md" d="M441.1 474.5H490.3"/>
<rect x="523.7" y="456.4" width="48" height="26.5" fill="#fda481" fill-opacity="0.3"/>
<rect class="bx" x="523.1" y="455.8" width="49.2" height="27.7" fill="none"/>
<path class="md" d="M523.1 471.3H572.3"/>
<rect x="605.8" y="452.9" width="48" height="30.3" fill="#a4b3d5" fill-opacity="0.3"/>
<rect class="bx" x="605.2" y="452.3" width="49.2" height="31.5" fill="none"/>
<path class="md" d="M605.2 468.8H654.4"/>
<rect x="687.8" y="447.6" width="48" height="32.6" fill="#eca1cf" fill-opacity="0.3"/>
<rect class="bx" x="687.2" y="447" width="49.2" height="33.8" fill="none"/>
<path class="md" d="M687.2 467.5H736.4"/>
<rect class="pb" x="416.5" y="300" width="344.5" height="205.3"/>
<text class="t yl" x="411.9" y="499.5">0</text>
<text class="t yl" x="411.9" y="439.9">5</text>
<text class="t yl" x="411.9" y="380.4">10</text>
<text class="t yl" x="411.9" y="320.8">15</text>
<path class="tk" d="M413.9 496.5h2.6M413.9 436.9h2.6M413.9 377.4h2.6M413.9 317.8h2.6M465.7 505.3v2.6M547.7 505.3v2.6M629.8 505.3v2.6M711.8 505.3v2.6"/>
<text class="t xl" transform="translate(465.5 510.1) rotate(-45)" dy="6.2">&lt;30</text>
<text class="t xl" transform="translate(547.5 510.1) rotate(-45)" dy="6.2">30~40</text>
<text class="t xl" transform="translate(629.6 510.1) rotate(-45)" dy="6.2">41~50</text>
<text class="t xl" transform="translate(711.6 510.1) rotate(-45)" dy="6.2">&gt;50</text>
<text class="t ti" x="416.5" y="292">Cd by age</text>
<text class="t at" x="589" y="542">age</text>
<text class="t at" transform="translate(397.3 402.6) rotate(-90)">Cd concentration (μg/L)</text>
<text class="t sg" x="462.9" y="309.3">****</text>
</g>
<g>
<path class="gn" d="M799.8 465.4H1144.3"/>
<path class="gn" d="M799.8 405.1H1144.3"/>
<path class="gn" d="M799.8 344.9H1144.3"/>
<path class="gm" d="M799.8 495.5H1144.3"/>
<path class="gm" d="M799.8 435.3H1144.3"/>
<path class="gm" d="M799.8 375H1144.3"/>
<path class="gm" d="M799.8 314.8H1144.3"/>
<path class="gm" d="M849 297V501.5"/>
<path class="gm" d="M931 297V501.5"/>
<path class="gm" d="M1013.1 297V501.5"/>
<path class="gm" d="M1095.1 297V501.5"/>
<rect x="824.4" y="428.5" width="49.2" height="44.8" fill="#85ceb7"/>
<rect x="906.4" y="421.3" width="49.2" height="50.5" fill="#fda481"/>
<rect x="988.5" y="418" width="49.2" height="53.8" fill="#a4b3d5"/>
<rect x="1070.5" y="403.3" width="49.2" height="65.2" fill="#eca1cf"/>
<path class="wk" d="M849 428.5V364M849 473.3V492.5"/>
<path class="wk" d="M931 421.3V347M931 471.8V492.5"/>
<path class="wk" d="M1013.1 418V339.5M1013.1 471.8V492.5"/>
<path class="wk" d="M1095.1 403.3V314.5M1095.1 468.5V492.5"/>
<path class="pt" d="M850.5 315.5l10 0 0 0 3 3-3 4-8-1-7 8 6-1 2 2-1 2-1 0-5 0-12 5 31 2-1 4-9 3 0 0-1-4-3 2-9-1-2 9 18-3 0-1 1 4 3 1 1-4-3 7-2 0-1 0-2 0 0 1-3-2-5 0-2 3-2 1-7-2-2-1-1 0 6 5 1 2 3-1 1 1 0 1 2 1 3-2 6-2 7 4 1 6-4-1-3 1-5-3-2 1-2-2-1 2-3-2-3-1-2 3 0-1-3 0 0 2-2-3 2 7 3-1 0 2 4 2 0 0 2-3 2-1 4 0 8 1 2-1 2 2 2 3-1 0-4 3-1 1-4 0-3 0-1 1-2-1-1-3-2 0 0 3-4 0-4-4-1 1-3-1 4 10 1 1 1-2 0 2 0-4 6 3 2-2 2 2 1-3 4 4 0-2 1 0 2 0 1-1 4-2 1 4 1 0 1-1-5 4-5-1-1 4 0-4-3 1-2 2 0-2-3 3-6-1-7-2 4 8 1-2 0 4 3-4 0 0 4 1 1 2 4-4 3 2 9 3 0-5 1 4 1 1 1-5-1 8-3-1-1 2 0 2-2-3 0 1-2-1-1 1-3-2-2 4-8-5-3 3-2 0-2 1-2 0 1 7 1-4 8 4 3-5 7 1 3 0 1-1 1 1 4 2 1-2 2 8-2-1-8-1-1 2-3 0-2 2-1-4-4 2-3-2-4 2-3 4 0 0 5 3 4-1 1 0 0-1 1 3 0-4 2-1 4 3 1 2 2-5 1 2 1 2 4 0 1 0 1-4 0 3 0-3 1 0 0 1 0 8-4 2-2-4-2 3-3-1-1 1-1-3-1 4-1-4-1 1 0 3-3-4-3 3 0-4-1 4 0 1-2-2-2-3-2 6 0 5 3-4 0 0 1 3 1-2 3 2 0 0 2-4 1 1 0 3 1 1 0-3 1-1 3 2 0-1 1 3 3 0 2 0 1-2 3 2 2-2 0-2 0 3 1-2 0 3 1-2 1 4-1 2-1 0 0 1-3 0 0-1-1 1-1-4 0 2-1 2-2-2 0-1 0 4-1-3 0 0 0 1 0 2-3-1 0-1-1-1 0-1-1-1-1 3 0 2-1-2-1-1 0 0 0 3-2-5-1 4 0-2-1 3 0-4-1 3 0-4 0 2-1-2 0 3 0-1-2-2-1 0-2 1-1 3-1 3 1-1 3 5 0-3 2 2 3 0 3-2 1 0 0 0 0-1 1 2 1 0 3 1 3 0 1-3 1-1 1 5 2-4 0 1 1 0 0-1 0 2 0 0 1-2 1 2 1 2 1-1 0 1 1-3 0 2 0 3-3 2-1-1-1-2-1 2 0-2-2 3-1 0-1-2-1 2-1 0 0-2-1-1 0 1 0 1-1-1-2 2 0 1 0 1-1 0-1-1-1-2 0-2 0 2-1 0-1 2 0-3-1 1 0 0 0 2-1-3 0 3-1 0 0-4-1 4 0-2 0 0-1 1 0-1-1-2-2 1-1 2-1-3 0 4 0-1 0 8 0-1 0 1 1 0 0-5 2 3 0-1 1-1 0-1 0 0 0 4 1-2 0 1 3-1 1 3 1-1 1 0 1 0 0 0 1-4 0 1 1 1 1 3 0-5 1 3 1-2 0 4 1 0 0 0 1-3 0 0 0-2 2 2 0-2 0 4 2 0 0-1 0-3 0 1 0 3 2 0 0 1 1-1 0-3 0-1 0 2 1 3 1 0 0-5 0 0 0 5 1 0 0-1 1 1 0 0 0-3 1 5 0 4-2-5 0 1 0 4 0 0-1-1 0-1-1-1 0-2 0 5 0-5 0 2-1-1-1 2 0 2 0-2-1 1 0 1-1-1 0 0 0-3-1 0 0 1 0 1 0-1-2 2 0-1-1 0-1-1-1 3-1-5 0 4-1-2 0 2-2 0 0 0 0 0 0 1-1-5-1 0-2 2-1-2-1 4 0-2 0 2 0-3-1 3 0-4 0 0-1 3-1-3 0 3 0 2-1-4 0 4 0-2 0-1-1 0 0 2 0-4 0 5-1 0 0-3-2 0 0 9 0-5 0 0 1 4 0 0 0 0 1 1 0-4 0-1 1 4 1 1 0-5 1 5 0-5 0 4 0-1 0-1 1 3 0-4 1 2 0-1 1 2 1-4 1 2 0 3 1-2 0-3 1 5 1-2 1-3 0 3 0-1 0 2 0 0 1 1 1-4 0 0 0-1 0 2 0 3 1-1 0 0 2-2 0 1 0 0 0-1 0-1 0 3 1-4 0 4 1-2 0-2 1 3 0-3 0 4 0 0 2 0 0 0 0 0 0-3 1 3 1-3 0 2 0-2 0-1 2 4 0-4 0 5 0-4 0-1 1 2 0-2 0 0 1 3 0-2 0 2 1 2 0 0 0 0 0-5 1 0 0 4 0-3 0 5 0 3 0-2 0 2 0-2-1 4 0-3 0 2 0-1-1-2-2 2 0 1-1-4 0 3 0 2 0-1-1-2 0 2 0-1-1 1 0-3 0 1 0-1 0 1 0-1-1 1 0 0 0 1 0-3-1 2 0 2 0-3-1 3-1-3 0-1-1 5 0-1 0-2 0 0 0 2-1-4 0 4-1 0 0-3-1 1 0-1-1 3 0 1 0-3 0-1-1 4-1-3 0 0 0-2 0 5-1-2 0 0-1 0 0 2 0-2-1 1 0-1-1 0-1-3 0 2-1 3 0-3-1-1 0 2-1 2 0 0 0 0-1-1 0-3-1 4 0 0 0-2-1-1-1 2 0-3 0 2 0-1-1-1 0 2-1-3 0 0 1 9 0 1 1 0 0-3 0 0 0 3 1-4 0 2 0 0 0-1 0 0 2 3 1-2 1 3 0-4 0 4 2-2 1-1 0 0 0-1 1 2 0 1 1-2 1 3 0-1 0-4 0 1 1-1 0 5 1-5 1 4 0-2 0-2 0 3 1-1 0 1 0-1 0 0 1-1 1 3 1-2 0-2 0 2 1-1 0 2 3 0 0-3 0 4 1 0 1-3 0 1 1-1 3 2 0-1 0 0 1 3 1 0 0-5 0 4 0-3 0 10-1-3 0 1-2 0-3-3-1 1 0 4-3-5-5 4-1 1 0 0-1-3-6-2-1 3-3-3 0 3-2-3-1 0-2 1 7 5 7 0"/>
<path class="pt" d="M921.5 316.5l18-1 0 0 7 0-28 11 2 1 1 0 8 2 1-2-5 8-4-4-4-1 0 7 22 3 3-4 4 6-2 4-2 1-2-3 0 3-2-2 0 2-7-3-10-2-1 2-2 4 1 2 2 2 9-4 3 4 1-2 1-1 3-1 3 1 1 3 1-4 3 4-2 6-3 1-1-4-2 4-3-1 0-2-3 2-1 1-2-5-4 0-1 2-1 0-5 9 1-4 2-1 4 4 2 1 3-3 1-2 16 8-1 3-2-1-1 0 0 1-4-5-3 2-7 3 0 0-3-1-5-3 0 1-4-2 0 4-2-4 9 9 4 2 3-1 2-4 5 5 0-4 8 3 0-3-2 9-2-4-5 5-1-5-3 0-4 5-1-4 0 4-4-2-2 2-5-3-1 1 3 8 1-1 1-3 7 4 1-3 3-2 0 1 2 3 2 1 2-2 2-3 1 1 0 2 2-2 3 1 1 6-2 2-4-2-5 1 0-1-5 2-3-2-2 3 0-1 0-1-5 1-2-2 0 9 3 0 0-1 9 0 1 1 3-2 1-2 0 0 1 4 0-2 2-1 2-2 3 2 1 5-1-1-4 5-2-5-9 2-1-2-1 0 0 2-3 3-5-5-1 1 3 9 2-2 5-1 0 1 1 2 5-4 1 0 2 2 3-1 3 3 1-2 0 2 1-2 2 2-4 7-5 0-1-1-4-4 0 3-2-3-3 5-1-4 0 0-3 1-2-1 0 4-1 0-1-1-1-2 0 1-1-3-2 9 2 0 0 2 0-4 4 0 5-1 1 2 0 3 1-3 5 3 0-3 1-2 1 2 2 3 0 0 2 0 1-1 1-1 1 2 0-4 4 0 0 7-2 2-2 0-1-1-1 1-2-3-1 3-2-4-1 2 0-1-1 4-1-5 0 1-5 4-1-1 0 0-2 1-1-1-1 1 0-5-1 3 0 2-4-5-1 1-2-1 0 4 0 7 1-1 1 1 1-4 0 2 0-3 1 4 0 1 0-3 1 1 0 0 1 2 0-3 2 0 1 1 2 0 1 2 1-3 0 0 0-1 2 2 0-1 1 0 0 3 2 0 4-1 2-3 0 2 1-2 0 4 0 0 1-1 0-2 2 2 0 1 1-3 1-1 2-1 0 4 0 5 0 2-1-1 0-3 0 4-1-3-2 0-1 3 0-3-2 1-1-2 0-1 0 4-1 1 0 0-1-1-2 1-3-5-1 4 0 0-3-1 0 2-2-4 0 3-1-2 0 3-1-4 0 0-1 4 0-3-1 2-1-4 0 0-1 5-1-2 0 2-1-4-1 0-1 4-1 4 3-2 0 4 0 0 1-1 1-1 1 2 0-4 1 0 0 4 0-5 1 5 2-1 1 1 0-5 0 2 1 0 2-1 1 2 1 0 0-2 0 2 0 1 0-3 1 3 1-4 0 4 0 0 2-1 1-1 2 1 1-3 2 0 0 2 1-1 1 3 1-4 0 1 1 0 0 0 0 3 0-4 1 4 0 0 1-4 0 5 0-5-1 6 0 1 0 2-1 2 0-2-2-3 0 1-1 3 0-3 0 2-6 0 0-2-1 4-3-1-1 0-3-4 0 3-2 2-1-4 0 0-2 0-1 3 0-1-1 2-1-1-2-4 0 2-3 2 0-3 1 9 1 0 1-4 2 2 0 3 1-3 1 0 0 0 0-1 2 2 0-2 0 3 1-1 0-2 2 2 0 2 1-4 1 1 1 2 2-3 0 2 0-3 0 0 1 5 0 0 0-4 1 0 2 1 0 0 0 3 2-1 1 1 1-3 0 0 0 2 0 0 1 1 0-5 0 0 1 5 1 0 0-2 0-3 1 2 0 1 0-2 1 3 1-4 1 7-2 2 0-2 0 4 0 0-1-5 0 1-1-1 0 2 0-2-1 3-1 1-1-2 0-1-2 1 0-2 0 0-2 0 0 4-2 1-2 0-1 0 0-3 0 0 0 3 0-1-1 1 0-1-1 1-1 0 0-3-1 0 0-2 0 5-1-2-1 2 0-2 0 1-1-4 0 1-1 4 0-4-1 2 0 1 0-4 0 4-2-4-1 2-1-1-2 1 0 3 1 6 0-4 0 3 1 1 1-1 0 1 0-1 0-4 0 3 1-1 0 0 0-1 0 4 1-4 0 4 1-5 0 2 0 2 1-2 1 1 1-2 0 2 0-3 0 2 1-1 1 3 0-4 0 4 0 1 0-1 0-1 0 1 0 0 1-1 0 1 0-3 0 4 1-1 2 1 0-5 1 5 1-1 1-3 2 3 0-4 0 1 0 4 0-5 1 1 0 3 0-1 1-2 0 2 0-1 1-1 0 2 1 2 0-1 1-1 0 1 2 0 0-1 1 1 1 1 0-2 0 1 1 1 0 0 1-4 0 1 0 0 0 5 0 0 0 2-1-1 0 0 0-1-1-1 0 4 0-3-1 2 0-2 0 1 0 0 0 2 0-3 0-1-1 1 0 0 0 3-1 1 0 0 0-4 0 4 0-1 0-2-1-1 0 0 0-1 0 3 0-1-1 2 0 0 0-3-1-1-1 1 0 4 0-1 0-3-1 2-1 0 0 1 0-1-1 0-2 1 0-3 0 4 0 0-1-2-1-2 0 2-1-2 0 1 0 0 0 0 0-2-1 1 0-1-1 1-1 2-1-2 0 2 0-2 0 0 0 3 0-1 0 2 0-3 0 0-1 2 0-1-1 0 0 1 0 1 0-2-1-1 0-1 0 2-1-1 0 0 0 3 0 0 0 0-1 0 0-3-1 0 0-2 0 4-1-1 0 2-1-4-1-1 0 2-1 1 0 2-1-3 0-2 0 7 0 1 1-1 0 1 0 1 0 1 2 1 0 0 1-2 0-1 0-1 0 4 1-1 0-4 1 2 1 0 0 2 1-1 0-3 2 5 0-1 0-3 1 2 0-2 0 2 0 0 0-2 1-1 1 0 0 3 0-3 3 4 1-4 0 2 2 0 0-1 0-1 2 0 0 5 1 0 0-2 2 2 1-3 0 1 0-2 1 0 0-1 0 1 1 4 0-3 0 0 1 1 0 1 2 1 0 0 1-5 0 1-1 7-4-1 0-1-3 1-2 0-3 1-4 2 0 1-1-4 0-1-2 3-2-1-4-2-1 0-4 5 21 1 0 0 7 0 1 0"/>
<path class="pt" d="M1020.5 315.5l6 0 3 4-1 1-10-1-18 4-3 3 12 1 3-1 4-1 12 9-7 1-9-1-6-1-2-1-6 8 1-2 8 0 1-1 5 3 1-4 0 5 4-2 2-2 9 8-1 0-4 1-3-2-8-2-2 1-4 3-1-3-8 1 0 9 2-1 3-1 5 1 4-1 2 0 8-3 1 0 1 5 1-3 3 9-1-3-5-2-4 4-1-3-1 0-4 1-9 2-1 0-4-2 7 7 1 0 8 2 0-3 1-2 4 0 4 4 1 1 3-5 2 5-1 3-4 0-2 0-4-1-1 4-5 0 0 0-1 0-1-4-4 1-1 3-5-3-2 1 1 4 2 0 1 4 12 0 7-4 1 4 7-2-9 3-2 0-2 4-4-4-5 2-5 3-1-5 0 2-3 0 1 9 2 0 1-5 12 4 0-2 2 1 1 0 3 2 3-3 5-1 1 3 0 5-3 1-5-1-1-2-2 4-2-1 0 0-5-4-5 0-2 1-2 1-5 7 2-3 4 0 1 2 5-2 4 1 5 3 1 0 1-1 1-2 1 3 3-3 1 10-3-2-1-1 0 3-3-5-3 4-1-4 0 3-2-1-1 1-2 0-9-3-1 4-1-4-1 7 1 2 6 1 0 1 2-2 0 0 4-3 1 2 1 1 2 1 1-1 0 2 6 0 1-3 0 3 2-1 1-2 3-1-1 10 0 0 0-1 0 1-1-2-1 1 0-1-2 2-1-5 0 4-2-3-3 2-1 2-4-2-2-2 0 4-2 0-5-1-1-3-2 2-1-1-1 1-1-2-1 1 0 7 4 0 1-3 2 0 0 3 3-1 1-2 0 3 1 1 4 1 0-5 2 5 1-3 1 1 3-3 0 2 1 0 3-2 0 2 0 0 2 0 1-2 0 5 0-2 1-2 1 1 0 7-1-3-1 5-1-2-1-2-3 2 0-1-1 1 0 1 0 1-2-2-1-2-1 1-1-1 0-1-1 5-2-3-1 0-2 3-2-4-1-1-1 4-1 0 0-3 0 3-2-3-3-1-2 0 0 1-1 6 1 3 1-4 1 4 2-4 2 3 1-1 0 0 1 3 2 0 1-4 1 1 2 3 0-5 2 5 1-5 0 1 3 4 3-4 0 4 0-4 1 4 2-5 0 2 0-1 2 3 0-2 1 2 0 0 2 0 0-3 0 3 0-3 0 0 0 0 0 8 0-3-1 0 0 5 0-3-2-1-2 4-1-2 0 2-2 0-2-5 0 2-1 1-2-2 0 0 0-1-1 3-2-1-1 2 0 1-3-1-1 0 0 1 0 0 0-2 0-2 0 4 0-2-1 2-1-2-2 2-1-3-1 2-1-1 0 1-1 1 0-3-1 0 0 1-1-1-1 2 0 2 2 1 0 2 0-1 1 0 1-2 2 1 1 3 0-4 1 0 0 0 2 3 0 2 0-1 2-1 0-1 1 1 0-3 0 4 0 0 1-2 1-2 0 5 0 0 0-2 2-2 0 1 0 1 1 1 4-4 1 2 0-2 1 3 0 0 0 2 2 0 0 0 0-4 2-1 0 1 2 1 0 1 1 0 1-3 0 9-1 1 0-4 0 1 0 2 0 1 0 1 0-3 0-1 0 0-1 3 0-1 0-3-1 5 0-1-1-1 0-1-2 3-1 0-1-4 0 4-2-1 0-4-1 2-2-1-1 1 0 3-2 0 0-1-1-2-1 0-2 1-3-3-1 5-1-5 0 5 0-5-1 2 0 3-1-3 0 3-1-1 0-2-2 3-1-3 0-2-1 3 0 5 2-2 1 3 1 2 0-3 1-1 1 1 1-1 1 2 0 0 0-1 1-1 1 0 1 1 0 1 1-3 1 5 0-5 1 4 0-2 1 0 0 1 1-2 2 0 0-1 1 5 0-2 0 0 3-3 1 4 0 1 2-4 0-1 0 2 1 3 1-5 1 1 1 1 0 1 1 0 2-1 0 3-2 3-1 1-1-1-2-1-1 2 0 1 0-4-1 2 0 3-1-4-3 2-1-2 0 3-1-3-2 3-2 1-1-1 0-2-1 2-2-4-1 0-3 2-2-2 0 4 0-1 0-1-1 1-1 0-2-1 0 2 0 6 0-2 1-1 0 1 1-1 0 1 2-2 0 5 1-2 0-2 0-1 1 1 0 1 0 2 0 1 1-2 0 0 0-2 0 1 0 1 1 1 0-2 0-1 1 0 1 4 1 0 0-3 0 3 0-3 1 0 0 0 0 1 0 1 1 1 0-1 1-2 1-2 0 5 0-1 1 1 1-5 0 1 2 1 0-2 1 1 0-1 1 1 0 4 0-2 0 2 3-1 3-4 0 2 3 0 0 0 1-2 0 2 0 2 0-3 1 5 0 3 0-1-1 0 0 0 0-2-2 2 0 0 0-1-1 2 0 1 0-3 0 4 0-3 0 1 0 0 0 2-1-1-1-1-1 0 0-1 0 0-1-2 0 4 0-3 0 2-1 0 0-2 0 3-1-2 0-2 0 0-1 3 0-3 0 2-1 1 0 0 0 0 0-3-1 1 0 0 0 1-1 1 0 0 0-3 0 0 0 2-1 0 0-1 0-1-1 4-1-1 0 0 0-2 0 0-1 2 0 0 0-3-1 5 0-4 0 0-1-1 0 3 0 2 0-5 0 4-1 0-1-2 0 3 0-3 0 1 0-2 0 3 0-2-1 0-1 1 0 1 0-3 0 2-1-1 0 1 0-1 0 0-1-1 0 2 0-3-1 2 0-1 0 1 0 1 0-1-1-2-1 3-1-3 0 2 0 0-1 0 0 1-1-2 0-1 0 1 0 7 1 1 0 1 0-4 1 3 1-1 0 2 1 0 0-4 0 4 1-1 0-1 0-2 0 5 0-4 0 3 1-4 1 2 1-2 0 5 0-4 1 2 2-3 0 5 0-3 1 0 2 1 1-3 1 4 3 0 1-3 1 2 0-3 0 0 1 2 1 3 0-5 2 1 0 4 1 0 1 0 0-3 0-1 0-1 0 2 3-2 0 2 1-2 0 0 1 5 0 0 0-2 0-2-5 10-1-5-1 4-2-3-2-1-2 0-4 3 0 0-1-3 0 1-3 1-5 2-1 1-1-5-3 0 7 6 6 0 0 0 5 0 4 0 6 0"/>
<path class="pt" d="M1082.5 315.5l1 0 0 0 1 0 1 0 3 0 0 0 1 0 2 0 0 0 1 0 1 0 1 0 3 0 1 0 2 0 0 0 0 0 2 2 2-2 0 0 1 0 1 0 0 0 0 0 2 0 0 0 3 0 0 0-12 8-2-1-1-3-3 4-3-4 0 3-2 0-8-4 1 10 16-1 3 0 10 3-4 1 0-1-1 1-7 3-3-1-2-2-8 8 2 1 23 6-1-4-10 1-6 4-10 0-2 3 6 2 0-2 0 2 12-1 3-2 2 4 4 5-2-1-13-1-4 1-2 1-3 0-3-2 5 4 1 2 5 3 3-1 5-4 1 2 8-2 1 5 1 6-3-3 0-2-6 2-2-1-10 1-1 3-1-1-6-4-1 6 1 2 1 0 1 1 3-2 0 4 6-1 2 1 2-3 2 1 4 0 8-2-1 5-1 0-6 2-2 2-3 1 0-2 0-3 0 2-3 2 0-4-7 3-1-1-1 3 0-3-7 9 0-1 1-2 4-2 1 1 1 4 2 0 3-4 0 0 1-1 4 2 0 0 7-2 7 3 1-1 0 3-2 3 0 0-7 0-1 0-3 1 0 1-1-3-2 4-6-5-1 1-9 6 4-1 2 1 2 2 0-2 8 3 2-4 1 5 1 0 3 0 0 0 3-1 1-2 1 2 1 1-2 4-1 1 0-4-5 3-3 0 0-2-1 3-4-2-2-1-1 3-1-4 0 5 0-2-4 1 0-2-1 9 1-4 1 0 2 1 1 3 0-1 1-1 2 2 1-4 0 4 0 0 1-1 1-3 2 0 1 1 1 0 5 2 2 1 2-2 0 0 2-3 2 1 0 6-3 1-1 2 0 1-1-3-3 0-1 3-1-5-10 3-4 0 0-3 0 1-1 2-1 2-1-1 0-2-1-1-1-1 0 5-2-2 0 0 0 7 3-4 0 4 1 1 3 0 1-4 3 1 0 0 1 0 3-1 1 2 0-3 1 5 0 0 0 0 1-1 1-2 0-2 1 2 2-2 0 0 1 2 0 2 1-4 2 2 1-2 2 0 2 3 0 3-1 4 0 0-2 1-1-3-5-1 0 1-1-2-3 3 0-2-1 0 0 0-1 0-1 3-1 1-1-1 0 0-1-3-1 2 0 1 0-2-1 0-1-2-1 0-2 2-1 1-2 2-1-1 0 1-2-2 0 1 0-4 1 10 0 1 0-2 1-1 0 1 0-2 1 3 1 0 1 0 0-1 0-2 2 4 0 0 2-5 1 5 0-1 2 1 0-3 5 3 0-2 0 2 1-3 1 2 1-4 2 0 0 1 1-1 1 3 2-2 0 0 4 4 1 6-1 0-1-2 0-2-1 4 0-3-1 2-1-2-1 2 0-1 0 2 0-2-1 2-2-1-3-1 0-2-2-1-2 2 0 0 0-2 0 1-1 2 0-1-1 1-1 1-1 0-2 0-1-1 0-3 0 1-4 1-1-1 0-1-1 1-3 1 0 1 0 3 0 5 4-2 1 1 4-4 1 2 0 0 1-2 0 5 1 0 1-2 1-3 0 5 3-3 1-2 0 2 1 2 4 0 0 0 0 0 1 1 0 0 1-2 1 2 0-2 1-1 0-1 0-1 2 1 2 0 0 1 1 0 0-1 0 5 0 3-1-1 0-2 0 2-1-2-2 0-1 5 0 0-1-4-1 2-1-1 0 0-1 2-1 0-1-4 0 0-1 3-2 2 0-4-1 1 0 0-2 0-3-1 0 3-2-2-1 1 0 2-1-2 0-1 0 3-2-3-1-1-1 4 0-3 0 2-4-4 0 1 0 0 1 9 0 0 0-3 1-1 0 4 1-3 0 3 0-1 1 1 1 0 0 0 0-4 0 2 1 0 0-2 1 2 3-1 1 0 4 4 0-5 1 5 0-3 1-1 1 2 0-2 0 2 1 0 1-2 0 2 0-3 1 4 0-1 0-2 2 0 1 2 4 1 0-2 1 1 1 1 1 1 0-4 0 0 0-1-1 7 0 4-1-3-1-2-1 3 0-3-1 2 0 3-1 0 0-5-1 0 0 4 0-1 0 2-1-4 0 2-1 0 0-3-1 0 0 2-1 2-2 0-1-1 0-2-1 3 0 0 0-2-1 1-2 0 0 1-1-3-1 2 0 0-1-2-2 0 0 4-1-5 0 2 0-2-2 5 0-5-1 2-1 2 0-3 0 0 0 3-2-1-1 2 0-5 0 8 0 1 0 1 0 0 1 1 0-2 1 1 0 1 0-5 0 5 0-1 1 0 0-4 0 0 1 1 0 1 0 1 1 2 1 0 0-3 0 3 0-2 1 2 1-4 1 4 0-2 0-1 0 3 1-5 1 4 0-4 0 4 0 1 0-5 0 5 1 0 1 0 0-1 0-4 0 5 0-5 0 2 1 2 0-4 0 1 1 4 0-3 1 3 1-2 1-1 0-1 0 3 1-1 0-1 1-2 1 4 0-4 0 3 0 2 1-3 0 1 1-2 0 0 0 0 1 2 1 2 0-1 1-4 0 5 0-4 1-1 1 3 0 0 1-1 0 2 0-3 0 4 1 0 1-3 0 2 1-3 0 4 0 2 0 1-1 0 0 3-1-4 0 2 0-2-2-1 0 4 0-2-1 3-1-4 0 0 0 3 0-3-1 4 0-1 0-2-1 2 0-3-3 4 0-5-1 0 0 3 0 2-1-2-1-1 0 3-1-4-1 1 0 0 0-1 0 2-1-2 0 0 0 1-1-2 0 2-1 1 0 2-1-4 0 2 0-2-1 3 0-2 0-1 0 2 0-2 0-1-1 1 0-1-1 2 0-1 0 0-1-1 0 3 0-3-1 1 0 0-1 1 0-1-1 3 0-4 0 0-1 0-1 3 0 0-1-2-1-1 0 0 0 4 0-4 1 9 1-3 1 4 0-2 1 2 1 1 1-3 0 0 0-1 1 4 1-5 2 3 2-1 4-1 1 0 0 1 1 1 2-2 1 2 1 2 1-3 0 1 0 2 2-3 0-1 1 0 1-1 0 1 1-1 0 2 0 1 1 1 0 3-2-1-2 0-5 4-1-3 0 2-5-2-6 2-1 1-5 1-2 0-1-4 24 5 4 0"/>
<rect x="825" y="429.1" width="48" height="43.6" fill="#85ceb7" fill-opacity="0.3"/>
<rect class="bx" x="824.4" y="428.5" width="49.2" height="44.8" fill="none"/>
<path class="md" d="M824.4 457.3H873.6"/>
<rect x="907" y="421.9" width="48" height="49.3" fill="#fda481" fill-opacity="0.3"/>
<rect class="bx" x="906.4" y="421.3" width="49.2" height="50.5" fill="none"/>
<path class="md" d="M906.4 450H955.6"/>
<rect x="989.1" y="418.6" width="48" height="52.6" fill="#a4b3d5" fill-opacity="0.3"/>
<rect class="bx" x="988.5" y="418" width="49.2" height="53.8" fill="none"/>
<path class="md" d="M988.5 448.3H1037.7"/>
<rect x="1071.1" y="403.9" width="48" height="64" fill="#eca1cf" fill-opacity="0.3"/>
<rect class="bx" x="1070.5" y="403.3" width="49.2" height="65.2" fill="none"/>
<path class="md" d="M1070.5 443H1119.7"/>
<rect class="pb" x="799.8" y="297" width="344.5" height="204.5"/>
<text class="t yl" x="795.2" y="498.5">0</text>
<text class="t yl" x="795.2" y="438.3">10</text>
<text class="t yl" x="795.2" y="378">20</text>
<text class="t yl" x="795.2" y="317.8">30</text>
<path class="tk" d="M797.2 495.5h2.6M797.2 435.3h2.6M797.2 375h2.6M797.2 314.8h2.6M849 501.5v2.6M931 501.5v2.6M1013.1 501.5v2.6M1095.1 501.5v2.6"/>
<text class="t xl" transform="translate(848.8 506.3) rotate(-45)" dy="6.2">&lt;30</text>
<text class="t xl" transform="translate(930.8 506.3) rotate(-45)" dy="6.2">30~40</text>
<text class="t xl" transform="translate(1012.9 506.3) rotate(-45)" dy="6.2">41~50</text>
<text class="t xl" transform="translate(1094.9 506.3) rotate(-45)" dy="6.2">&gt;50</text>
<text class="t ti" x="799.8" y="289">Hg by age</text>
<text class="t at" x="971.8" y="539">age</text>
<text class="t at" transform="translate(780.6 399.2) rotate(-90)">Hg concentration (μg/L)</text>
<text class="t sg" x="845.4" y="306">****</text>
</g>
<g>
<path class="gn" d="M1182.8 465.4H1528.5"/>
<path class="gn" d="M1182.8 405.1H1528.5"/>
<path class="gn" d="M1182.8 344.9H1528.5"/>
<path class="gm" d="M1182.8 495.5H1528.5"/>
<path class="gm" d="M1182.8 435.3H1528.5"/>
<path class="gm" d="M1182.8 375H1528.5"/>
<path class="gm" d="M1182.8 314.8H1528.5"/>
<path class="gm" d="M1232.2 297V501.5"/>
<path class="gm" d="M1314.5 297V501.5"/>
<path class="gm" d="M1396.8 297V501.5"/>
<path class="gm" d="M1479.1 297V501.5"/>
<rect x="1207.5" y="435.5" width="49.4" height="42.8" fill="#85ceb7"/>
<rect x="1289.8" y="424.8" width="49.4" height="51.7" fill="#fda481"/>
<rect x="1372.1" y="422.8" width="49.4" height="50.7" fill="#a4b3d5"/>
<rect x="1454.4" y="413.8" width="49.4" height="55.5" fill="#eca1cf"/>
<path class="wk" d="M1232.2 435.5V374M1232.2 478.3V492.5"/>
<path class="wk" d="M1314.5 424.8V350.8M1314.5 476.5V492.5"/>
<path class="wk" d="M1396.8 422.8V347M1396.8 473.5V492.5"/>
<path class="wk" d="M1479.1 413.8V330.8M1479.1 469.3V492.5"/>
<path class="pt" d="M1232.5 315.5l5 1 6-1-22 4 25 5-5 10-15 1 4 4 6 1 7 7-18 0-1-5-4 4-1-2-2 8 1-2 7 3 4-3 15 0 4 5-2 4-3-4 0 1-14-2-12 11 1-5 3 1 1 0 8-1 14 7-5-1-6 4 0-4-7 3 0 2-7-1-1-4 1 8 7-1 2 1 0 0 10-2 2 1 2 3 2 0 2-3 1 4 1-2-7 3-2 5-1-2-1 0-10-1-2-2-3 4 1 6 1-1 0-2 2 3 6-2 8 2 7-3 1 4 0 5-1-1-1-1-1-1-2 2-2-3-6 4-1 0-1 1-4-4 0 0-2 3-2-2-2-2-5 1 0 6 4 2 2-3 1 5 1-1 0-4 4 1 4 1 3 2 4-3 0-1 3 1 0 2 3 3-6 0-2 2 0-2-2 5-7-3-1 2-2-4-3 5-4-1 0-2-2 2 0 0 0-1 0 8 0-1 0 0 1-1 2 0 3 0 2-2 1 0 8 4 3-5 1 3 1 2 2-2 3-2 2 4 0 3-1 0-3 3-3-3-2-2-3 2-1-2-2 1-2 1-2 1-2 0-2 2 0-2-4 0-1-1 0 0-2 2-1 5 2-2 1 0 1 1 9 2 0 0 2-4 0 4 0-4 3 4 7-3 8 9-1 1-2-1-1-3-2 4-1-4-3-1-4 1-8 0-2 2-2-3-1 5-2-2-1 0-3-3 2 10 0-4 2 3 0 1 1 1 0-3 1 2 4-1 1-2 1 3 1 1 1 0 3 0 2-5 1 2 0 1 1-1 2 0 0 0 1 3 1-5 0 2 2-1 1-1 0 3 1 1 0-2 1-2 1 2 0 2 0 0 1 6-2-2 0-2-2 1 0 1-2 2-2 1-1-3-1 3-1-4-1 3-2-4 0 4-6 0-1 1 0-2-3-1-1-2-1 1 0 0 0 4-1-3 0-1-2-1 0 2 0-1 0 1-1 1-2 4 0 2 2-1 0 1 0 0 1 2 1 0 0-2 0-1 3-1 0 2 0 1 0 0 1 0 0-1 0 0 1-2 2 0 2 1 0-1 1 3 1-1 2 2 1-4 1 2 1-3 1 4 0-3 0 4 1-2 1 2 0-3 1 1 3 2 2-5 1 1 2 3 0 4 0-2-1 1-1-1-1 0-2 5 0-2-1 0 0 0-2 1 0 1 0-4 0-1-1 5-1-3-1-1 0 3-2-2 0 2 0 1 0-4 0 4-2-4-2 1-1 1 0 1 0-2-1 3 0 0 0 0-2-1 0 1-1-1 0 0-1 1 0-1 0 0-1 1-1-2-3-1-1 2-1-1 0 1 0-4-1 5 0-5 0 2-1 0 1 8 0-3 0 0 0 2 1-1 0 1 0-2 2 1 2 0 0 2 1-2 0-1 1 1 0-1 0 2 1 0 2-3 1 2 0 3 3-5 2 4 0-2 1-1 1 3 0-1 0-1 0 3 1-2 0 0 0 2 1-3 0 3 0-4 0 4 1-4 1 1 0 2 1-3 0 1 1 0 0 1 1 1 0 1 2-2 0 1 1 0 0 1 1-1 0-3 2 9 0-3 0 2-1 1-2 1 0 0 0-4 0 0 0 2-1 1 0-3-1 4 0-1-1-3 0 3 0 0-1-4-1 3 0-1 0 0-1 2 0-4-1 1-2 3 0-4 0 2-1 0 0-2-1 4-1 1 0-3-1 0 0 0 0 3-1-4-1 1-1 2-1-2-1 1-3 0-1 0 0 0-1 2 0-3-1-1 0 0 0 3-1-2 0 3-1 0 0-3 0 3-1 0 0-5 0 4 0-3-1 0 0 2 0 0 0-3-1 9 0-2 0 4 1 0 1-5 0 4 0 1 0-2 1-3 0 5 0-3 2 0 0 2 0-2 1 2 1-3 0 3 1 1 0-3 0 2 1-1 0-1 0-1 0 2 0 1 1-4 0 0 0 5 1-5 1 4 1 0 0-4 0 4 1 0 0-2 3 3 0-3 0 2 1-1 2-3 0 5 1-2 0 1 0-4 1 3 0 1 0-4 0 3 0-3 0 1 2 2 0-2 1 1 1 0 0 1 1-1 0 1 1 1 0 1 0-1 1 0 0-3 0 2 0 1 2-3 0 1-1 4 0 4 0 1 0 0 0-3 0 3-1-5 0 4 0 1-1-2 0-1-1-1 0-1-1 5 0-2-1-3-1 1 0 0 0 0-1 1-1 3 0-4 0 2-2 1-1-1 0 0 0-1-1 3-1-1 0-4-1 4 0 1 0 0 0-4-1-1 0 0 0 2-1-1 0 4-1 0-1-4-1 2 0 1 0 1 0-4-1 4-1 0 0-2 0-1 0 0 0 2 0 0-1-3 0 1-1 3-1-3 0 1 0-2 0-1-1 1-1-1 0 5 0-4-1 3 0-4-1 5 0-3 0 0-1 0 0 3-1 0 0-3 0 7 0 1 0-4 1 1 0 0 0-1 1 2 0-2 0 3 1 2 0-5 0 0 0 3 0 2 1-3 0-2 1 5 0-3 0 1 0-3 0 2 0-1 0 0 0 3 1-1 0 0 0-2 0 2 0-1 0 1 0-1 1-2 0 0 0 1 1 4 1-1 0-4 0 3 1-3 0 0 0 1 0 0 0 0 1-1 0 3 1 0 0-1 1 2 0 1 0-4 1 1 0 1 1-2 0 1 1-2 0 5 0-4 1 1 0 2 1 1 0-5 1 4 0-4 1 1 0 3 0 0 0-4 0 1 0 2 0 0 1-3 0 2 1 0 0 0 0 2 1 1 0-3 0-2 0 3 0-1 1 1 0 2 0-4 0 2 1 0 0 2 0-2 0-2 1 0 0 3 1-1 0-2 0 0 0 2 1-1 0 2 0-3 0 4 0-4 0 4 0-2 1-2 0 2 0 0 0-2 0 3 0-1 2-1 0-2 0 5 0 0 0-4 0 4 0-4 1 1 0-1 0 1 1 3 0-2 0-2 0 5-2 0-1 0-1 0 0 2-1-2 0 3-1-1 0 3-2-1 0-1-1 1 0-4-1 2-1 1-1-1 0 0-2 0 0-1 0 4-2-4-2-1 0 5-1-5-1 1 0 0-1 2 0-3-2 1-1-1 0 1-2 0-1-1 0 3-1-3-1 2-1 1-1 2-2-1 13 2 8 0 2 0 3 0"/>
<path class="pt" d="M1306.5 317.5l7 0 1-2 1 0 7 0-10 7-12 4 7 1 4-1 4 3 6-3 5 1 0-1-9 5-1 3-5-4-6 1-1 3-2 4 17 1 2 0 6-2 1 1-1 6 0-2-12 0-4 4-9-1 0 0-4 7 2 1 0-3 1 3 1-1 4-1 3 1 6-4 1 3 13 2 1 0 1 4-2-2-4 2-1-1-4 3-1-4 0 2-8 1-6 0-3-4-2 5-2 5 1 0 6-2 3-1 2 2 5-1 0-1 3 1 0 2 5 1 1-5 5 1 0 5-2 1-2 0-1-1-4 4-4-4 0 4-3-4-1 5-3 0-7-3-1 0 0 2-1-4-1 9 1-1 8-2 2 1 0 2 5 0 0 0 15-1-2 5-11-1 0 0-4 4-4-2-8-2-3 11 2 0 1-3 2 1 3-1 1 2 6 1 6-1 5-1 6-1 0 8 0 1-7-3-2 0 0 3 0-2-5-2-1 4-3-3-5 0 0-1-8 4 2 4 1-2 2 4 0-4 2 4 3-4 6 0 4 3 0-2 1 2 0 1 4-5 6 6-4 3-1 0 0-3-1 3-1 2-2-4-1 1 0 0-7 3-2-2-2 1 0 0-4-1-6-1 5 9 6 0 0-2 6-2 2 3 1-4 5 2 0-2 4 4 0 3-4 3-2-4-5 5 0-4 0-1-1 3-6-1-2-2-2 2-3 0-2 0-3 6 0 2 2-4 1 3 1 0 4 1 1 0 1-1 6-3 0 5 1-1 1 0 1 0 2 0 0 0 1 1 1-5 3 3 4 1 2 7 0-2 0-2 0 4-1-4-1 1-3-2-3 2-1-2-1 1-1 4-3-1-1-3-2 4 0-1-1-4 0 4-1-4-1 5 0-2-3 2-6-2-1 0-2-2 1 6 2 1 0-2 1 1 3 1 2 3 0-1 1 1 0-5 2 3 0-1 0-1 1 2 1 0 6-1 0-2 0 0 1 2 0-1 2 3 2 1 2-3 0 3 1-5 0 1 1 3 2 0 1 1 0-1 1 6-1-1-1 2-1-2-2-2 0 3 0 1-1-4-1 4 0-5-4 2-1 2-2-3 0 3-2 0-1-3-2 1-2-1 0 4-1-1-1-4-1 4-1-1 0 1-1 1-2-5-1 4-1 0-2-2 0 8 0 0 2 1 0-3 3 1 1 1 1-3 1 2 1 2 1-2 1 0 0 2 0-1 0 1 0 0 1-1 0 1 0-2 2-2 0-1 1 2 1 2 0-2 1 0 2-2 0 0 1 4 1-1 1-1 1-1 0 2 1 2 0 0 2-1 0-1 1 1 2 0 1 1 1-3 0-1 1 3 0-4 0 8 0-2 0 5-1-5-2 5-1-3-1 0 0 2-2-2-1 2-1-1-2-2-1 2-1 1 0 1-2-3 0 0 0 2-1-1 0-3 0 2-1-2-2 4 0-1-1 2-1-2 0 2-1-5-1 2-3-1 0-1-1 3 0 2 0-2-1-2-1 2 0-1-1-2 0 4-1-4-1 3 0-3 0 0-1 6 1 1 0 3 1 0 1-3 0 0 1 2 1 2 1-2 0-2 1 1 1 3 0 0 1-2 0-1 0-2 1 2 0-2 1 0 1 4 1 1 0-5 1 1 0-1 2 0 0 3 0-1 0-1 0 1 1 1 0 0 0 1 1-2 0 3 0 0 3-1 0 1 0-2 0 1 1 1 3-4 0 2 1 0 3-3 0 2 0 2 1-4 0 0 0 1 1-1 0 2 0 0 0-1 1 0 0 7 0 0 0 1-1 1 0 0-2-4-1 0 0 1 0 0 0 2-2-3-1 4-1-2-1 1-1-1 0 1 0 2-1-2 0 1 0-3-3 1-1 2-1-1-2 1-1 0 0-1 0-1 0-2-1 3-2 1 0-3-2 2 0 2-1-5-1 5 0-2-1 2 0-4-1-1 0 3-1 1 0 0 0-1 0 2-1-3 0 0 0-1-1 1-1 7 1 2 0-3 0 2 1-1 0 2 0-2 1 1 0-4 1 1 0-1 0 4 1 0 3-2 0 0 0 3 1-1 0-1 0-1 1 3 0-3 1-2 1 2 1 0 0 1 1 2 2-4 0 1 3 2 0 0 1 0 0 1 0-3 1-1 0 4 0-5 0 5 0-1 3 1 1-4 0 2 0 0 1 1 0 0 1-4 0 1 2 1 1 0 1-2 2 11 0-1-1-1 0 2 0-1 0-2-1 0 0-2-1 4 0-1-1 1 0 1 0-2-1-2-1 2-1-2 0 4 0 0 0 0-1-2 0-1 0 1 0-2 0 1-1 3 0-4 0 4 0-1-1-3 0 4-1-5 0 0 0 0-1 4 0 1 0 0-1 0-2 0 0-1-1 0 0-2 0-1-1 4 0-5-1 5-1-3 0-2-1 4 0-3 0 3-1 1 0-2 0 2 0-1 0 1-1-3-1 3 0-3 0 2 0 0-1 1 0-3 0 3 0-3-1 2-1-2 0 1 0 2-2-2 0-2-1 4 0 0-1-2 0 2 0-1 0 0-2-4 0 3 0 1 0-3 0 3-1 5 0 1 1-2 0-2 1 0 0 0 0 2 0 0 0-2 1 3 0 1 0 1 1 0 0-5 0 5 0-2 0-3 0 3 1 1 0-2 0 0 0 3 0-4 0-1 0 4 1-2 1-1 0 0 0 0 0-1 1 2 0-2 0 2 1 2 0-4 0 0 0 3 1 0 1 2 0-1 1-3 0 2 0-3 1 4 0-4 1 1 0 1 0-2 0 2 1 3 0-2 0-2 0 0 1 2 0 2 1-5 0 4 0-1 0-3 1 1 0 3 1-2 0-2 0 0 1 2 0-1 2 0 1 0 1 1 0 0 0 0 0-1 0 4 1-2 0 1 0-1 0-2 0 0 0 1 0-1 2 0 1 2 0-3 0 5 0-2 0 1 1 0 0-1 1-1 0 2 0-4 1 1 0-1 0 1 0-1 0 1 1 0 0 0-1 6-1 2-1-3-1 2-3-2-2 1-1-1 0 4-2-2-1 2 0-2-1-2-2 0 0 1 0 4 0-4-1-1-1 1-1-1 0 3-1 2-2-4-4-1-1 0 0 0-1 4-1 1 0-4-1 2-1 2 0-5 0 0 0 3 0 3 7 0 7 0 11 0"/>
<path class="pt" d="M1381.5 316.5l2-1 1 0 1 0 11 0 0 0 10 0 1 0 5 0 0 3-2 2-28 6 12 1 2 1 4-1 3-2 0 8-4 1-8-3-2 2 6 4 1 3 1-4 8 0 2 4 2-4 4 10-3-1-2-1-1 3-9-1-2-4-1 5 0-5-4 1-2-1-3 10 1-1 9-1 12 2 4-2 1 7-1 1-3-3-8 1-3-2-1 5-7-3-1 0-2 0-2-2-1 0-2 1 6 6 1 2 0-1 3 0 3-2 6 1 3 1 7-1 1 1 1 3-7 6-2-5-2 3-1 1-2-3-3 4-1-1-5-3-3 0 0 0-1 2 0 0-3 6 2-1 3 3 9-1 1-1 1-1 3-1 1 1 3 3 3-3-4 6 0-1-3-1-5 5-2-4-6 3-2-2-1 2-4-4-1 3 1 8 2-3 6 3 4 0 1-5 2 3 2-3 0 4 0-2 2-2 0 2 1 0 2 3 0 0 8 0 0 5-4 0-1-3-1 2 0 0-1-2-3 1-2-2-2 2-1-1 0 3-1 1-7-5 0 0 0 3-2 2 0-2-5 2 0 2 1 0 5 1 2 2 6-4 3 4 2 1 4-2 1-3 4 4 1-2 1 6-13-2-3 0 0 3-5 0-9 0-2 2 1 3 2-1 1 0 1-1 5 3 0-1 7 1 5-2 3 3 2 1 1 0 5 4-3 0-3 1-1-2-2 2-3-3-2 3 0-3-2-1-1 5-2-5-1 1-6 3-3 1-1-3-2 1 5 8 0-4 6 2 1 1 0 0 3 0 3-2 1 1 2-3 2 4 1-1 1 0 1 0 1 1 2 0 3-2 0 4-1 4-1-1-1 2 0 0 0-3-1 2 0 1 0-4-2 3 0 0-1-1-5 0-4 0 0-3-1 5-1-2-2 1 0-2-1-2-1 4-2-2-2 3-1-1-1 1 0-5-2 5-1 0-1 6 0-5 1 2 0 2 1 0 0-1 1 2 1-2 1 0 1 1 1 1 0-1 1-2 1-1 0-1 3 5 0-2 0-1 1 3 4-2 0-3 0 0 1 1 1 2 1 2 1-2 0-2 0 1 4 3 2-2 1 1 0-1 4-1 0-2 0 3 0 3 0 2-1-2 0 3-2-3 0 0-3 2 0-2 0 4-1-4-1 5-1-4-1 4 0-1-4 0-4-1-1-1-1 3 0-1 0-4 0 2-1-2 0 3-1 2 0-2-1 1 0-3-3 1 0 2-1-3-1 4 0-3-1 1-1 2-2-1 0-2 1 9 2-4 0-1 1 4 3 1 1-1 1-4 1 4 0-4 0 5 1-5 2 2 0-1 0 0 1 0 1-1 0 5 0-5 0 4 2-1 0 0 2 0 1 1 2 1 0-3 1-2 0 5 1-1 1 1 0-1 1 0 0 0 2-1 1 0 1-1 0 3 1 0 1-3 0 8-1-1-3 1-2-1-2-2 0 0 0 0-2 3-1-2-1 1 0-1-1-1 0 1 0 0-2 3 0-4-1 2 0-2-1 0 0 4 0-4 0 1 0 0-1 0-1 1 0-2-1 2 0 1 0-1 0-2-3 4 0-1-1 0-2-2-1-1-2 4-1-1 0-4-2 3 1 7 0 0 1 1 1-1 1-3 0 1 0 2 0-1 2 0 0 0 1-1 0 3 1-2 0-3 1 2 1 2 0-3 0 2 2-1 0 0 0-2 1 5 1-3 0-2 0 4 1 0 1-1 0-3 1 0 0 2 3 3 0-5 1 2 1 1 1-1 1-2 0 0 0 4 1-2 0 0 1 3 0-4 1 1 2 2 0 0 0-3 1 0 0 3 1 1 0-2 1-2 0 9-2-1 0-2 0-1 0 1-1 0 0 1 0 1-1 0-1 0 0 0-1 1 0-4-1 4-2-2 0 2 0-2 0-1-1 4 0 0 0-3-1-1 0 2 0 1 0-1 0 1-1 0 0 0-1 1-1-2 0 2-1-5-2 5 0-3 0-1-1 0-2 3-2-1-1 0 0 2-1-3 0 2-1-1-1 0-1 1-1-4-1 0-1 5 0 0 0-3-1 2-1 0 0 0-1-1 1 7 0 0 0-3 0 2 1-2 1 2 0-3 0 2 1 0 1 3 0-5 2 0 0 1 0 4 1-1 1-1 1 2 0 0 1-4 0 0 1 3 0-4 0 0 1 0 0 3 0 0 1 2 1 0 0-4 0-1 0 4 0 0 1 1 1-1 0 1 1-1 1-2 0-1 0 3 2 1 0-2 0-1 1 1 0-1 1 3 0-1 0-2 1 1 2 0 0-2 0 3 0 1 0-2 0-2 0 4 1-3 1-1 0 3 0 0 0 1 0-5 1 0 1 0 1 0 0 1 0 4 1 0 0-5 0 5 0 6 0-1 0 0 0-3-1 3 0-4 0 3-1 2 0-4 0-1 0 1 0 3-1 1 0-1 0-2 0-2-1 2 0 1-1-3 0 5-1-2 0 0 0 2 0-3 0 1 0 2 0-1 0-4-1 5 0-5-1 0 0 0-1 1 0 0 0 2-1 0 0-2 0 0 0 4-1-3-1-2 0 2 0 3 0-3 0 2 0 1 0-1 0 0-1-4 0 0-1 0 0 1 0 3-1 0 0 1 0-2-1-3-1 2 0 3 0-3-1-1-1 3-1-3 0 3-2 0 0 0-1-3 0-1-1 2 0 1 0-3 0 3-1-1-1 3 0-1 0-3-1 4 0-4 0 2 0 1 0-2-1-2 0 4-1-4 0 5 0-1 0-3 0 3-1 1 0-4-1 2 0 1-1-1 0-1 0 6 1-2 0 0 0 5 1-4 1-1 0 1 0 0 0 0 0 1 1 3 0-1 0-3 2 0 0 3 1-1 2 2 1-1 0-3 0 3 1-2 0-2 0 0 0 0 1 0 0 1 1 3 0-4 1 4 0-2 1 3 0-4 1-1 0 3 1 0 1-3 1 5 0-5 1 4 0 0 1-2 0-2 2 0 2 1 1 4 0-3 0-1 0 3 1-4 1 5 1-5 0 0 1 3 1-1 0-1 1-1 0 1 0 3 1-2 0 8 0-3-2-1-1 0-2 4 0-3-3-1-3 2-1-2-4 0 0 4-4 1-3-2 0-1-2-2-1 2-1-2 0 2-2 3-3-1 13 2 9 0 7 0 1 0"/>
<path class="pt" d="M1463.5 315.5l4 0 4 0 0 0 3 1 2-1 4 0 2 0 3 0 4 0 4 0 1 0 1 5-1 3-4-3 0 0-9 1-7 0-7-3-3 4 5 5 0 1 1-2 0 0 2-1 4 2 4-2 1-1 1 4 5-1 8 2 0-5 0 10-9-3-1 3 0 1-1-5-8 1 0 2-3-2-4 4-2-5-1 2-2 5 5 2 3-1 4-1 1 1 2-2 5 2 3-1 4 2 2-2-1 8-4-1-1 1-2-3-1 0-9 3-6-1-2 3-1 5 6-1 0 1 5-2 5 0 2-2 2 4 2-3 6 0-1 8-13 1 0 1-2-1 0 1-10-4-2 5 3 0 2 1 1 3 3-4 0 5 1-5 3 3 4-2 0 2 0 0 7-1 2 2 2-2 1 4-4 2-3 1-4-1-1-1-2 4 0 0-3 0-4 0-3-3-3-2-1 2-1 3-2-2 2 8 9-4 0 4 1 0 7 0 3-4 0 0 6 2 0 6-2-1-5 3-1-2-1 2-8-1-3-1-7 0 0 2-1 3 2 1 2 1 1 0 6 0 0 1 6-4 7-1 2 0 1 4 3-1 0 3-13 3-8 2 0-5-6 0-2 0-1 5-1 6 8 0 1-1 3 0 0 0 3 0 4-1 11 0 0-2 0-1 1 3 0 6-1 0-3-3-4 5-7-2-1 0 0-2-3 3-3 0-6-3-2 8 1-1 2 2 1-2 3 3 4-2 1 1 0-4 5 2 3 3 4-1 6 1 1 0-4 3 0 2-3 1 0-2-1-2 0 3-6-1-1 2-2-5-4 0-2 4 0 0-1-1-3 1-1-1 0-2-1 1-1 1 0-1-1 1 0-3-1 2 1 7 1 1 3 1 1-4 0 4 1-2 3-3 0 3 0 2 0-2 0-1 1 3 0-1 3-3 0 2 1-3 0 4 0-2 1 2 0-2 2 0 1 2 1-4 0 5 0-5 1 4 2 0 0-4 0 0 1 4 2-2 0 3 0-5 1 3 2 2 0-3 2-1 0 9 0-2-1-2-3 5-1-3-3 1-2 2-1 0-1-3-4 3-1-1 0-2-2 0 0 2-2-2-2 0-2 2-1-4-1 3-1-1-1 3-2 3 2 0 0-2 0 2 1-2 0 5 2 0 1-5 0 4 1-1 1 2 1-1 0-3 0-1 1 3 0 2 1-5 1 2 0-2 1 5 0-3 0-2 2 4 1-2 0 0 0 0 0 2 6-2 0-1 2 4 2-5 1 1 1 2 1-3 1 5 1-3 2 1-1 7 0-1-2-3 0 5 0-2 0 2-2-3-1 0-1 2-2 0 0-3 0-1-1 4-1-1-1 0-4 1-1 0-1-1-2-2 0 2-2-2-2-1 0 3 0-3-2 4 0-1-2-2 0 3-3 1 0-1-1 0 0-2-1 7 1-1 0 1 0-3 1 4 0-2 1 1 0-2 1 2 0 0 0-1 2 3 0-5 1 5 1-1 1-3 0 3 1-1 0 2 0-5 1 1 2-1 0 1 1 4 0-4 3 2 1-2 0 3 1-4 1 3 1 0 0 1 2 0 2-1 0-2 2 0 0 3 2-3 3 3-1 2 0 5 0-5-2 4 0-1-1-1-1 2-1-1-1 0-1 0-2 1 0-3 0 3 0 1 0-1-1-3 0 0 0 1 0-1-1 1 0-2 0 2-2-1 0 4-2-3-1 3 0-2-1-2-2-1 0 4 0-2 0 3-1-4-4-1 0 4-2 0 0-2-1 0 0 0 0 3-1 0 0-5 0 3-1-1 0 1-2 2 0-3 1 7 1 1 0-2 1 2 1-4 0 1 1 2 0-2 1 4 2-1 2 1 0-2 1-2 0 0 1 4 0 0 2-3 1-2 1 2 1 3 0-5 0 2 0 2 0-2 1-1 1 0 0-1 0 1 0 2 1 0 2 0 0 0 0-1 3-1 0 0 1 2 1 2 1-3 1 0 0-1 1 1 0-1 0 1 0 0 1-2 1 2 0 7-1-2 0 0-1 2-1 1 0 1 0-1-1-1 0 1 0-3-1 0 0 0-1 2 0 1-1-3-1 3-1-1 0 2 0-4 0 1-2-2 0 3-1-1 0 2 0-3 0 0 0 0-1-1-1 3-1 2-1-4-1 0-2 0 0 2 0 1-1-1 0-1-1 3-2-1 0-3 0 0-1 3 0 1-1-4 0 1 0 3 0 0-1-2 0-2-1 1-1-2 0 5 0-5-1 3 0-2 0 1-1-2-1 2 0 0 0 3 0-2-1 1 0 2 1 5 0-5 0 5 0 0 1-3 1-1 0 4 1-5 1 0 0 5 1-4 0 4 1 0 0-1 0-1 1-1 0-1 1 2 0 1 0-1 1-2 0 2 0-3 1 1 0 4 1 0 0 0 0-1 1-1 0-2 0 0 1-1 0 5 1-1 0 1 2-4 1 0 0 3 1-1 0 2 0-1 0 0 3 1 0-1 1-2 0 0 1-1 1-1 0 1 1 1 0 3 0-3 1 2 1-3 0 4 0-1 1 1 0-4 1 3 0 0 0-4 2 5 0-4 0 0 0 3 0 7 0-2-1 2-1-1 0-4-2 2 0 2-1-2-1-2 0 2 0-1-1 0 0 0-1 0 0 1 0 0 0 1 0-1-1 3-1-5 0 3 0-1 0 1-1 1 0-4-1 4 0-4-1 4-1 0 0 1 0-2-1-2 0-1 0 2 0 2-1 1 0-1 0-3-1 3 0-2 0 2-1 0-1 1 0-4 0-1-1 5 0-5 0 5-1-5 0 5-2-5 0 0-1 2-1 1-1 2 0-1-1 1 0-4 0 1-2-1-1-1 0 5-1-1 0 1-1-5 0 3 1 3 0 0 2 0 1 0 1 5 0-3 0 0 2 0 1-1 1 3 1-1 0-1 0-2 1 4 0-1 1 1 0-2 1 0 2 0 0-2 1 1 0 1 1 2 1-4 2 1 0 1 1-2 0 5 0-4 1 0 2-1 1 2 0 1 1-2 1-1 1 0 1 2 1-2 1 4 2-1-2 3-3 0-1 2-1-2 0 4-4-4-1 1 0-1-3 1 0 3-1 0-4 0-2-4-1 4-2-4-4 3-2 0 0 3 8 0 4 0 6 0 0 0 9 0"/>
<rect x="1208.1" y="436.1" width="48.2" height="41.6" fill="#85ceb7" fill-opacity="0.3"/>
<rect class="bx" x="1207.5" y="435.5" width="49.4" height="42.8" fill="none"/>
<path class="md" d="M1207.5 462H1256.9"/>
<rect x="1290.4" y="425.4" width="48.2" height="50.5" fill="#fda481" fill-opacity="0.3"/>
<rect class="bx" x="1289.8" y="424.8" width="49.4" height="51.7" fill="none"/>
<path class="md" d="M1289.8 457H1339.2"/>
<rect x="1372.7" y="423.4" width="48.2" height="49.5" fill="#a4b3d5" fill-opacity="0.3"/>
<rect class="bx" x="1372.1" y="422.8" width="49.4" height="50.7" fill="none"/>
<path class="md" d="M1372.1 452.5H1421.5"/>
<rect x="1455" y="414.4" width="48.2" height="54.3" fill="#eca1cf" fill-opacity="0.3"/>
<rect class="bx" x="1454.4" y="413.8" width="49.4" height="55.5" fill="none"/>
<path class="md" d="M1454.4 447.8H1503.8"/>
<rect class="pb" x="1182.8" y="297" width="345.7" height="204.5"/>
<text class="t yl" x="1178.2" y="498.5">0</text>
<text class="t yl" x="1178.2" y="438.3">20</text>
<text class="t yl" x="1178.2" y="378">40</text>
<text class="t yl" x="1178.2" y="317.8">60</text>
<path class="tk" d="M1180.2 495.5h2.6M1180.2 435.3h2.6M1180.2 375h2.6M1180.2 314.8h2.6M1232.2 501.5v2.6M1314.5 501.5v2.6M1396.8 501.5v2.6M1479.1 501.5v2.6"/>
<text class="t xl" transform="translate(1232 506.3) rotate(-45)" dy="6.2">&lt;30</text>
<text class="t xl" transform="translate(1314.3 506.3) rotate(-45)" dy="6.2">30~40</text>
<text class="t xl" transform="translate(1396.6 506.3) rotate(-45)" dy="6.2">41~50</text>
<text class="t xl" transform="translate(1478.9 506.3) rotate(-45)" dy="6.2">&gt;50</text>
<text class="t ti" x="1182.8" y="289">As by age</text>
<text class="t at" x="1355.5" y="539">age</text>
<text class="t at" transform="translate(1163.6 399.2) rotate(-90)">As concentration (μg/L)</text>
<text class="t sg" x="1229.2" y="306">****</text>
<text class="lt" transform="translate(1499.3 547) scale(0.838 1)">B</text>
</g>
<g>
<path class="gn" d="M40.8 758.9H381.3"/>
<path class="gn" d="M40.8 711.7H381.3"/>
<path class="gn" d="M40.8 664.4H381.3"/>
<path class="gn" d="M40.8 617.1H381.3"/>
<path class="gm" d="M40.8 735.3H381.3"/>
<path class="gm" d="M40.8 688H381.3"/>
<path class="gm" d="M40.8 640.8H381.3"/>
<path class="gm" d="M40.8 593.5H381.3"/>
<path class="gm" d="M89.4 575V780.5"/>
<path class="gm" d="M170.5 575V780.5"/>
<path class="gm" d="M251.6 575V780.5"/>
<path class="gm" d="M332.7 575V780.5"/>
<rect x="65.1" y="716" width="48.6" height="32.3" fill="#85ceb7"/>
<rect x="146.2" y="710.8" width="48.6" height="36.5" fill="#fda481"/>
<rect x="227.3" y="703" width="48.6" height="41" fill="#a4b3d5"/>
<rect x="308.3" y="699.5" width="48.6" height="41.3" fill="#eca1cf"/>
<path class="wk" d="M89.4 716V666.8M89.4 748.3V768.9"/>
<path class="wk" d="M170.5 710.8V656M170.5 747.3V768.9"/>
<path class="wk" d="M251.6 703V643M251.6 744V768.9"/>
<path class="wk" d="M332.7 699.5V639.3M332.7 740.8V768.9"/>
<path class="pt" d="M87.5 622.5l-5 4 12 5-4 0-7 0 13 14-11-1-6 1 1 6 24-2-7 9-8 1-2-2-3 1-1 3 7 1 3 2 3 1 1-1 3 1 5 3 0 2 0 1-1-1-2 1-1-1 0-3 0 4-2-1-4-4 0 2 0 2-3-4-3 3-8-2-1 2-4-1 10 9 0-4 1-1 3 3 2-1 3 3 6-4 0 1 3 3 0-4 1 2-2 7 0 1-1-4-1 1-1 3-4-4 0 3-1-3-6 4-3-2-1 0-8-3 0 3-3-3 0 9 5 2 4-2 1-3 0 4 7-2 3-2 2 3 0 2 0 0 2-5 8 9-2 0-3 2-1-5-3 3 0-1-1-2-2 2-2-2-1 2-1 0-1 3-1-3 0 3-1-2-6-2-1 3 0-3-1 1 0 2-4-3 0 9 1-4 2 3 3-2 0 4 1-5 1 3 0 1 1-2 4-2 1 3 0-1 2 0 0 2 1 0 0-2 2 0 0-1 4-1 1 2 1 1 1-2 2 5-2 1-2 1-1 2-1 0 0-3-5 4-1-1-4-3-1 0-2 4-1-2-1-1-2 1-1 2-3-2-1 0-1 1 0 6 0-1 2 0 3 0 4-3 1 0 0 3 4 0 1 0 4-3 1 3 1-3 1 2 1 3 0 0 3-4 0 2 2 0 2 0 1 0 0 1 1 6-1 1 0-4 0 1-2 3 0-5-2 4-1-2 0 2-2 1 0 0-1-1 0-4 0 5 0-1 0-1-1-1 0 2 0-3-2 4 0 0-1-2-1 0 0 2 0-2-1 0 0-2 0 3-1-4 0 0 0 5 0-3-1 3-1 0-1-5 0 3-1 0 0-2-1 1 0-2-2 3-2-2 0 1 0 3-1-3-2 2-1-2 0-1-1 1-1-1-1-1 0 6 0 5 0-5 1 3 3-2 0 1 0-2 1 4 1 1 0 0 0-4 1 1 0 3 2-4 0 1 1 3 0-4 0 1 1 3 2-4 1 0 0 2 0-3 1 2 0 0 1-1 0 3 2-2 0 3 0-2 0 2 1 0 0-2 0 1 0-4 0 0 1 0 1 0 0 1 0-1 2 1 1 2 0 2 1-5 0 5 1 0 0-1 1-2 0 3 0 0 1-4 0 1 0-2 1 4 0 0 2-2 0 0 0 8-2-4 0 2-1 2-1-4 0 1 0 1 0-2 0 3 0 1-1-4 0 1-1 4-1 0 0-3 0 1-1-3 0 2 0 1 0-3 0 2 0-1 0 1-1 3 0-4 0 2 0-1-1 1 0-1 0 3 0-1-1-3 0 4 0 0 0 0 0-3 0 3-1 0-1 0 0-1-1 0 0 1 0-5 0 2-2 1 0 2 0-3 0-2-1 2 0 1 0 0 0 2 0-1-1-1-1-2 0 4 0-3-2-1 0 0 0 1-1 2 0 0-1-2 0-1 0 4-1-3 0 1 0 0-1 1 0-1-1-1-1 0 0 1 0 1 0-1-1 2 0-4-1 3 0 0 0-3 0 1-2 9 0-1 1-2 0 3 0-3 0 2 0 1 1-4 0 1 1 0 1-2 0 1 0 0 1 2 0-1 0 1 2 1 1-1 0 1 0-4 1 0 0 3 0-1 2-2 1 3 0-3 1 2 0-1 0-1 0 4 0-1 0 1 1-4 1 5 1-1 0-3 0 4 0-2 0-2 1-1 0 4 0 1 0-5 1 2 1-1 0-1 0 5 0-3 1 2 0 1 0-2 1 2 0-3 1-2 1 5 2-3 0-1 0 3 1-1 1-3 1 4 0-1 0-1 0 3 1-2 1 2 0-5 0 3 1 6 0 2 0-1-1-2 0 1-1 1-1 1-1-4 0 1-1 1 0-1 0 2-1-1-1-3 0 4 0-1-1-2-1 2 0 1 0-3 0 1-1 3 0-3-1 0 0 0-1 0 0-2-2 0 0 5 0-2-1-3 0 1 0 4-1-2-1 2-1 0 0-1-1 1 0 0 0-1-1-2 0 0 0-1 0 1 0 2-2-2-1 1 0-3-1 2-2 2 0-2-1 3-1-5 0 3-2-1 0 3 0-2 0-2-1 0 0 5 0 0 0 3 1-3 0 4 0-1 1-1 1-2 1 5 0-2 0-2 0-1 0 0 1 5 0 0 1-2 1 0 0-2 1 0 0-1 0 3 0-3 0 0 0 2 1-2 0 0 0 2 1 2 0-1 0-1 0 3 2-4 0 3 0 0 0-1 1 1 0-2 0 0 0 1 1-1 0 3 0 0 1-1 0-3 0 3 0-2 0-1 1-1 0 3 0 2 0-5 1 5 1-3 0-2 1 3 0 1 1-2 0 1 1 0 1 0 1 2 0-2 1-2 0 4 1-4 0-1 0 0 0 5 1-5 0 5 0-4 0-1 1 1 0 0 1 3 0-3 1 4 0-4 0 3 1-1 0 2 1-4 1 9 0 1-1-3 0 0 0 1 0-1-1 2 0-4 0 0 0 1 0 2-2-1 0-2 0 5-1-2 0-3-1 1 0 0 0 3-1-3 0 1 0-1-1 4 0-5-1 2 0 2 0-1 0 0 0 1-1-3-1 0-1 1 0 0 0-2 0 5 0-1-1 1 0-2 0 0 0-3 0 0-1 1 0 2 0-2-1 0 0 3 0-4-1 0 0 1-1 4 0-2-1 0 0-3 0 0 0 3-1-1 0 1 0-2-1-1 0 4 0 1 0 0-1-5-1 5-1 0-1 0 0-1 0-1 0 0 0-3-1 1 0-1 0 5 0-1 0-3 0 2-1-3 0 0 0 2 0 2 0-2 0-2 0 3-1-1 0-1-1 4-1 0-1-3 0 1-1-3 0 4-1 1 0 4 1 0 1-2 0 1 0 0 1 1 0-2 2 0 0-1 0 0 0 4 1-4 0 0 0 4 1-4 2 4 0-2 0 0 1 3 0-5 0 0 0 3 3-3 2 2 1 1 1-3 2 1 1 2 0-2 1-1 1 2 0 3 1-2 0-3 0 5 0 0 0-4 2-1 0 3 0-3 1 1 0 4 1-3 0 3 0-5 0 1 0-1 0 1 1-1 0 0 2 3 0 0 0-3 2 1-1 5-2 2-3-2-1 2-2 3-3-3-7-2 0 1-5 1-1 2-1-4-1 0-3 0 0 3 0 2-2-2 5 3 6 1 9 0 7-1 3 0"/>
<path class="pt" d="M169.5 618.5l-4 8 8-2 3 6-15 7 6 2 12-2 1 6-3 3-13 0-7-2 3 8 8-4 8 3 4 2 2-2 2 6-2 1-10 1-1-1-3 0-11 3 4-1 0 1 0-1 4 5 1-1 4 1 1-5 5 5 3-1 1-2 5-1 1 4-5 2-3-1-1 0 0 1-1 2-3-2-2 1-2 2-2-1-1 0-4 1-6-4-1 5 1 3 1-1 6-1 2 0 0 5 0-1 2 1 1-1 1-1 3 1 2-1 2-1 10 9-1-4-5 0-2 4-1 0-2-2-4-1-2 2 0-1-3 1-2 1-1-3-1-2-2 3-2 2-1-3 0 2-1-3 0-1-1 2 0-1 1 6 1 1 0-1 2 4 4 0 6-5 3 3 1-3 3 5 6-3 2 0 1-1 0 0 1 6-1 1 0-1-4 0 0 1 0-1-2 4-1 0-2-5 0 5-1-1-1-2-2 0-1-1 0 4-1-3-1 3-2-5-1 5 0 0-1-3-1 2-6 0-1-3-1 1-1-2-1 10 1-1 0 1 0-4 0 2 1 3 3-5 1 4 0-2 0-2 0 0 4 1 1 3 1-4 1 3 1-2 2 3 1-1 2-2 1 0 0 3 0-3 6 2 2-3 0 1 1 0 0 4 1-3 1 2 0-1 1 2-2 5 0 0-2 1-1-2-1-2 0 3-4-3-6 2-2-3-1 3 0 1-2 1 0 0 0-3-4 3 0-1-3 5 1 2 3 0 0-3 1 3 1-3 1-1 0-1 2 1 0-1 0 5 0 0 1 0 0-3 0 2 1-1 3-1 1 2 6-3 1 1 1 0 0-1 1 3 0 0 3 0 0-2 1-1 0 4 0 6 0-4-1-1-1 0 0 0-1 3 0-3-1 0 0 4-1 0-2 0 0 1 0-2-1 0 0 2-1-1 0 1-1-3-1 0 0 0 0 0-2 3-1-2 0-1-1-1-1 0-1 1 0-2 0 3-1 2 0-1 0 1 0-3-1 3 0 0-4-3 0 1-3-1 0-2-1 0-3 4 0 0-1-4 0 4-1 4 0 1 1 0 1-2 0 3 0-3 0 3 1 1 0-1 1 0 0-2 1 2 0-2 1 2 0-1 2 0 0 0 0-3 0 2 1-1 1-1 0 3 0 2 2-1 0-2 0 0 0 2 0 0 1 0 0-3 1 4 0 0 0-5 1 3 2 0 1-3 1 1 0 2 0-1 1-1 0-1 1 2 0-1 0 4 1-4 1 1 0 1 0 1 2-2 3 0 1 3 0 0 1-1 2-1 0 2 0-2-2 8-1-5 0 4 0 0-1-4 0 1 0 0-1-1 0 4-1-3 0 1-1 3 0-2 0-3-1 2-1 2 0 1 0-4-1 4-1 0 0-2 0 2-1-5 0 2 0 2-1-4 0 1 0 4-1-4 0 0-1 4 0-1 0 0 0 0-1-1-1 1 0 1-1 0 0-4-1 1 0-2-1 0 0 5-1-1-1 1-1-4 0-1-1 1-1 2-1 0-1 0 0 2 0-3 0-2-1 4 0-2-1 0-1-1 0 0 0 1-1-1 0-1 0 5 0 0 0-1-1-4 1 10 1-1 1-1 1 3 0-5 0 0 1 1 1 4 1-3 0 1 1-3 0 1 1 1 0 3 1-1 0-4 0 0 1 3 0 2 1-1 0-4 0 2 0 2 1 0 0 0 0-1 0-2 1-1 1 1 0 4 0-1 0-3 0-1 1 5 1-1 0-4 0 4 1 0 0 0 1-1 0 2 1-4 1 4 3 0 1-5 0 4 0-2 0 1 0-2 1-1 0 2 0 1 0-1 1-1 0 1 0 3 0-3 1-2 0 5 0-2 0 1 2 1 0-5 1 1 1 2 0 1 0 1 0 5 0 1-1 0 0-4 0 3 0 0-1-4-1 2 0 0 0 2-1 0 0-4 0 1 0 0-2 0-1 0 0 1 0 0 0-1-2 2 0-1 0-1-1 4 0-2-2-1 0 2-1-1 0 1 0-2 0 0 0-1-1 2 0 0-1-3 0 4-1-3 0 1 0-2-1 2 0 0-1-1 0 0-2 2-1 0 0-3-1 3-1 0 0-1-1 0-1-2-2 5-1-5 0 3 0-3 0 1-1-1-2 2 0 2 0 1-1-1 1 6 0-2 1 1 0 2 1-4 1 1 0 2 0-4 2 1 1 3 0 1 0-3 0 3 0-1 0 0 0 1 1-5 1 2 0 2 1-3 0 1 0 2 1-4 0 1 1 3 1 0 0 0 1 0 1-3 0 0 1 1 0-2 0 5 2-5 1 4 0-2 0 1 1-3 0 3 1 0 0 2 0-5 0 1 0 4 1-1 0-1 1 0 0 2 0-5 1 5 0-5 1 0 0 3 1 2 0-4 0 3 1 1 0-1 0-4 0 4 1 0 2-4 0 2 1 2 0-2 0 3 2-3-1 4 0 1 0 1 0-1-1 1 0-1 0 4 0-5 0 0-1 2 0 1-1 2 0-4 0 0-2-1 0 2 0 0 0 0-1 1 0-1 0 0 0-1 0 0 0 4-1-1-1 1 0-2-1 2 0-2 0 1 0-4-2 1 0-1-1 0 0 2-1 1 0 1 0-1 0-2-1 1 0 1 0 1 0-1-1-2 0 2-1 1 0-4 0 4 0-2-1 0 0-2-1 3 0-2-1 0 0 4 0 0-2-5 0 4-1-3-1-1 0 2 0 2 0-4 0 4 0-2 0-1-1 2 0-1 0-1 0-1 0 0-1 3 0 2-1 0 0 0 0-3 0 1-1-3 0 1 0-1 0 2-1 1 0-3-1 4 0 0 0-4 0 4 0-1 0-2-1 2 0-3 0 5-2-4 0 1 2 4 1 4 0-2 0 2 1-2 0-2 1 0 0 1 0 2 0 1 1 1 0 0 1-5 0 4 1-2 1-2 1 1 1-1 0 2 0 2 1-4 0 1 0 2 0 2 1-2 0-1 1 1 1 2 1-1 0-4 1 0 3 2 0 0 1-2 0 3 2-1 0 2 0 1 0-5 1 1 0 4 1-1 0 0 0-4 0 1 1 2 0-1 1-1 0 0 0 2 3 0 0-2 1 0 1-1 0 2 0 1 0 1 1-1-1 4-2 4-2 0-3-1 0 1-8-2-2-2-2-1-2 0 0 4-2-4-1 3 0-2-4 5"/>
<path class="pt" d="M255.5 594.5l-5 29-5-5-2 3 24 12-8 2-2 0-10-5-5 3-4 0 0 6 3-1 1 3 1-3 1 3 5-3 1 0 2-1 6 2 8-3 0 10-2-1-5 1-2-3-6 4 0-1-3-3-4-1 0 5 0-3-1-2-2 4 0-4-1 4 1 4 1 0 0 0 1 3 2-1 1-2 3-2 3 1 2-1 0 5 2-4 1 3 0-2 2 0 1 3 2-1 1-1 3 0 1-3 0 11 0-4-2 4-4-5-2 5 0 0-1-2 0 2-1-1-1 1-9-5-1 2-4 2-5 0-1 0 0 0 0-2 0-2 6 7 2 0 6 4 3-1 0-4 0 5 4-4 2 0 2 4 0-4 3 3 0-3 1 3 1 2-5 0-5 0-1 3-7-1 0 3-3-4 0 3 0-4-9 8 3 3 3 0 0-5 1 0 0 3 1-1 10 3 0 0 2-5 0 3 6-3 2 0 0 5 1-3 0 1 2 6-5 1-1-4 0 2-1 1 0 2-5-5-3 1-2-1 0 2-1 1-1-2-2 0-1 1-1-2-2 1 0 0-1 0-1-1 0 0-3 2-2 7 1 1 4-4 1 4 0-1 3-1 4-1 2 2 7-3 4 4 0-1 1 0 3-3 1 3-2 5-5 2-1-3-2 3-3-3-4 4-3-4-1-1-2 4-4-4 0 1-2 0-1 3 0 7 0-2 3 1 1 1 1-4 1-1 1 2 0-1 1 2 6 2 2 0 1-1 2-1 0 0 5-3 0 5 2-4 1 0 0 0 0 3 2-4 1 8 0-2 0 3-2 1 0 1-1-4-2 4-1-2 0 2-1 0 0-2 0-3-1 2-1 3 0-2-1 0 0-3-2 3 0 2-1-5 0 3-3 2-3-4-2 1-2 2 0-2-3-1 0 1-1 1 0-3 0 0-3 3 1 6 1-1 5 3 1-4 4 4 0 0 1-1 1 1 1-3 1 3 4-1 2 1 2-5 0 4 1-4 0 5 1-1 0-3 4 3 2 4-1-1 0 1 0 1-2-2 0 4 0-3 0-1-1 4 0-5-2 5-2-5-1 5 0-4 0 3-1 1 0-1-1-4 0 4-1-2 0-1-1 1 0 0 0 2-1 0-1-3-1 1-1 0 0-2-5 1 0 1 0 3-1 0 0-1-1-1-1 1 0 0 0 0 0-3 0 3-1 1-1 0-1-5-2 2 0 0 0 3-1-1-1-3 0 2 0 1 0 1 0 3 1-1 0-1 0 0 1 4 0 0 0-1 0 2 1-1 1-1 0 2 0-5 1 0 0 4 0 0 0-3 0 2 2 2 1-3 0-1 1 4 0-3 0 3 0-1 4-2 0 1 0-3 0 1 1 1 0-1 0-1 1 5 0-2 2 2 0-3 2 3 1-3 2 0 0 1 1 1 1-3 1-1 0 2 0 2 1-2 0 2 0 1 1-4 0 2 1-3 0 1 2 3 0 1 0-1 0-2 1 1 0 0 1-3-1 11-1-3 0-2-1 0 0 1 0 1-1 1-1-2-1 0 0 0-1 3 0-2 0 2 0 0-2 1 0 0-1-1-1-4 0 4-1 1 0-4 0 4 0-3-1 2 0-3-1 3 0-1 0 1-1-3-1-1 0 1 0 4-1-2 0 0-1-2-2-1 0 0 0 4-1-1-1-2 0-1-1 4 0-4 0 5 0-1 0 0 0-2-1 3 0-1 0-2 0 3-1-2-1-2-1 2 0 0 0 0 0-1-2 0-1 0-2-1 0 1 0 9 0-1 1-1 0-2 1 3 0 0 0-1 1 2 0-4 1-1 0 3 0-3 0 2 1 1 0 2 0-2 0-1 0-2 0 1 1 3 1-3 0 4 0-3 1 2 0-1 1 2 0-3 0-2 1 5 0-1 0-3 1-1 0 5 0-4 0 0 1 1 2 3 0-3 0 1 0-3 0 1 0-1 0 1 1 1 1 0 0 2 0 0 1-4 0 1 0 2 1-1 1 2 0-3 1-1 0 5 1-5 1 0 1 2 0 3 0-5 1 4 0-3 1 0 0 0 0 0 1 0 0-1 0 3 1 2 0-3 0-1 0 3 0 1 1-2 1 2 0-4 1 1 0 1 0-3 0 4 0 1 1-3 0 3 1-3 0 6-1 3 0 0-1-1-1 1 0-1-1 0 0 0-2 0 0-2 0 3-1-2-1-3 0 2-1 3 0-3 0-1-1-1-1 0 0 1 0 3-1 1 0-5 0 1-1 4 0-5-1 2 0 0-1 3 0 0 0-1-1-2-2 1 0-2-1 2-1-1 0 1 0 2 0-4-1 2 0 0 0-2-1 1-1-1 0 2 0-3 0 4 0 1 0-5-1 5 0-4 0 1-1-1-1 4 0-1 0-2-1 0 0 1 0-2-1 0-1 2 0-3-1 2 0 0 0 2 0 0-1-2 0-2 0 1-1 8 0 0 1-1 0 1 0 2 1-5 1 5 0-3 0 0 1 1 0 0 1-1 0 0 1 3 0-4 0 3 1-1 1 1 0 1 0-1 1 0 1-3 1 3 0-2 0-2 0 1 0-1 1 5 0-3 1 3 0-1 1 0 0 0 0-3 0 3 0-1 0-2 1-1 0 4 0-3 0-1 0 1 1 2 1-1 1 2 0 0 0 1 0-1 0-2 1 0 1-1 0 2 1 2 0-3 1 0 0 0 2-2 0 2 1 0 0-1 1 4 0-3 1 0 0 2 0-3 1-1 0 5 1-2 1-1 0 1 1-1 0-2 0 5 0-5 0 5 0 4 0-3 0 0 0 0 0 3-1-2 0 1-1 0 0 2 0-4-2 0 0 3 0-3 0 2 0-1-1 0-1 3-2 1 0-3-1 3-2-5-1 4-1-4 0 5-1-4-2-1 0 0-1 3-1-1 0 1 0-3 0 3-1-2-2-1-2 1-1 1 0 3-1-5 0 2-1 2-1-4-1 3-1 2 0-5-1 5 0-5-1 0 0 2 0 0 2 5 1-1 2 0 1 1 1 3 0-2 0 0 1 0 0-1 2 1 3-1 1 0 2 4 1-5 1 2 0-2 2 0 0 1 0 0 1 2 1-3 2 4 2-3 0 1 0 3 0-4 2 0 0-1 2 5 1 0-3 6-4-3-1-2-17 0-3 3-2 1-1 0 0-2-1 1 6 3 8 1 8 0 2-1 2 0"/>
<path class="pt" d="M333.5 594.5l-12 0-3 0 7 18 13 0 8 5-18 6 2 3 4 3 4-2 9-2 1 3 0 2-5 0-1 4-4-4-1 4-5-1-6 2 0 0-2-4-5-1 4 11 1-2 1 0 0-1 4-2 2 3 1-3 3 2 1 2 1 0 1-2 3-1 7 8-2 1-3 0-3-2 0 1-1 0 0 0-1 2-2-4-1-1-1 0-6 1-11 3 0 3 7 4 2-4 5 1 1 2 2 1 3-3 5-2 1 1 0 3 2-1 2-3 1 2-1 5-6 3-7 1 0 0-1-2 0 2-3-3-4 3-2 0 0-4 0 3-4-3 0 0-2 0 1 9 1 1 1 0 0 0 4-3 1 2 0-4 1 0 0 5 5 0 0-5 0 2 15-1 1 2 1 8-3-5-1 0 0 3-3 1-1-1-2-3-8 4 0 0-3-2-2-2-6 2-1-2-2 8 1-1 3 1 7 2 0 0 2-1 7-2 2 1 0 0 2 2 1-2 2 0 0 3 2 6-2-1 0-1-1-3 0 5-1-2-1-1-5-1-1 2 0-3-1 5-1-1 0-2-6 2-1 1-3-3-4 0-1 0 0 1-1 8 0 0 1-2 3-3 9 5 1 0 0-4 1 3 1-4 1 1 1-1 0 2 0-2 2 1 2 2 0-2 1 1 1-2 3 5 1-5 3 3-1 7-1-4 0 1-3 3-3-1-2-2-1 3-1 0-1-4-2 2 0 0-1 3-2-4-2 4-1-2-3 1-1-2-6 6 2 2 2 0 1 0 0-4 0 1 3-1 1 1 2-1 2 2 1 1 0-1 1 3 1-1 1-4 1 5 0-4 1 1 1 0 3 3 2-1 1-2 0-2 1 3 0-1 3 0 0-2 1 10 0-1-1 1 0-3-1 3-1-4-1 0-2 0-1 3-1-2 0 1-1 3-2-3 0 0-1-2-1 0-1 0-1 0-2 2 0 2-1 0-4 0-1 0 0-3-1 1 0 2-3-2-1 2-1 1-1-2 0-1-1 2 0 2 0 4 0-2 1 0 1 3 3 0 0-5 1 1 0-1 1 5 0-5 1 1 0 3 1 1 0-1 1-4 0 2 0 3 0-1 1-1 0-2 1 1 0 2 1-4 0 0 1 0 0 1 0-1 0 2 0 2 1 1 0 0 0 0 0-1 1 1 0-1 0-3 2 2 1-1 1 2 0-4 0 0 0 3 1 0 0-2 0 4 0-3 1-2 0 2 0 1 1-2 0-1 1 1 1 3 0-2 0-2 0 1 1 1 4 2 0 1 0-4 0 2 1-1 0 1 1 1 0-1 0 6 0-2-1 4 0-2 0-2 0 0-2 1 0 3 0-2 0 2-2-5-1 0 0 1 0-1-1 1 0 1 0 1-1-1 0 2 0 0-2-1-1 1-2-4 0 0 0 1-2 3 0 1-1-3 0 3-1-3 0 0-1-1 0 3 0 0 0-2-2-1 0 0 0 4 0-1-1-2 0 3 0 0-1-3-1 2 0-1 0-3-1 2 0-2 0 1-1 2 0-2-1 2 0 1-2 0 0 1 0-2 0 2-2-1 0 1-1-4 0 2-1-3-1 7 1 2 1-1 0 3 0-5 2 4 1-4 1 5 0-2 0 2 1-3 0-2 0 2 1 1 0 1 0-1 0-1 1-1 0 2 0-1 0 0 1 3 1-4 1-1 0 0 0 1 1 3 2 1 2 0 1-3 1-1 1-1 0 2 1 2 2-2 2 3 1-3 0 1 2-3 1 4 2 1 1-2 0-2 0-1 0 6-1 5-1-2 0-1-1 3-1 0 0 0-2 0 0-2 0 1-1-1 0-2-1 4-1 0-1-3-1 0 0 0-3 3-1 0 0-4 0 0-1 0 0 3 0 0-1 1 0-1 0 1-1 0 0-5-2 0 0 5-1-1 0 0 0-3-1-1 0 3-1-3-1 5 0-5-1 3-1-1 0 0 0 0-1 1 0 0 0-2-1-1-1 4 0 1-1-2-1-1 1 8 0-1 1 0 0-3 1 4 0-3 0 4 1-4 0 3 0-3 0 1 4-1 0 4 0-1 0-2 0-2 0 5 1-3 0 3 0 0 1-3 0-1 0 3 0-2 1 1 0-3 1 3 1-1 2 2 0-2 2 1 1-2 0 0 2 4 0-5 0 5 1-5 0 1 0 2 1-1 0-2 1 1 0 1 1-1 0 4 1-4 0-1 1 1 0 1 0 3 1-3 0 2 1 0 0-4 1 4 1 0 0-2 0 3 1 0 0-4 0 2 1 2 0 6 0-3-2 0 0-2-1 1-1 1 0 3-1-4 0 4 0-3-1-1-1 4 0 0 0 0 0 0-1-2 0-1 0-1-1 1 0-1-1 2 0-2 0-1-1 0 0 4 0 0-1 1 0 0 0-2-1 2 0 0 0-5 0 1-2 3 0-3-1 3 0-4-1 0 0 4-1-1-1-3-2 2 0-2-1 2-1 2-1 0 0 0-1-3 0 0-1-1 0 4-1-2-1 1 0-2-1 3-2 1 0-5-1 4 0 7 0-3 2-1 0 2 0 0 2 0 0 1 1-4 0 1 1 1 0-2 0 3 0-2 1 2 0 2 0-2 0-3 0 5 1-4 0-1 0 1 0 1 1 2 0-1 0 1 0-2 0-2 1 2 0 2 0-3 0-1 0 1 1 3 1-4 1 2 0 0 0 2 0-4 1 2 0 2 0-2 1 3 0-2 0 2 1-1 0-4 2 2 1 0 1 0 0 2 0 0 1-3 0 2 1 0 2-1 1-1 1-1 0 5 0-2 1-3 0 2 0 2 0 0 0-3 0 1 2-2 0 4 0 1 1-2 0 2 0-3 1 0 1 3 0 2-2 4-1-3-1 3-1-2-2-2-2 0-1-1 0 2-1 3-1-4 0-1 0 0-1 2-1-1 0-1-1 0 0 2 0 0 0-2-1 0 0 3-1-2-2 4-2 0-1-5-1 0-1 4 0-3 0 1-1-1 0 4 0 0-1-2-1 1 0-1-1 1-3 0 0-1 0 6 1-2 3-1 1 5 1-5 2 4 2-1 1-2 1-1 0 3 2-1 1 1 0-3 1 4 0 1 2-4 1 4 3-4 6 4 1 0 0-5 1 1 0 5-6 5 0-5-3 1-1 1-4 0-12 3-1 0 0-1-1-1-1-1 0 0-2-1"/>
<rect x="65.7" y="716.6" width="47.4" height="31.1" fill="#85ceb7" fill-opacity="0.3"/>
<rect class="bx" x="65.1" y="716" width="48.6" height="32.3" fill="none"/>
<path class="md" d="M65.1 732.5H113.8"/>
<rect x="146.8" y="711.4" width="47.4" height="35.3" fill="#fda481" fill-opacity="0.3"/>
<rect class="bx" x="146.2" y="710.8" width="48.6" height="36.5" fill="none"/>
<path class="md" d="M146.2 731H194.8"/>
<rect x="227.9" y="703.6" width="47.4" height="39.8" fill="#a4b3d5" fill-opacity="0.3"/>
<rect class="bx" x="227.3" y="703" width="48.6" height="41" fill="none"/>
<path class="md" d="M227.3 727H275.9"/>
<rect x="308.9" y="700.1" width="47.4" height="40.1" fill="#eca1cf" fill-opacity="0.3"/>
<rect class="bx" x="308.3" y="699.5" width="48.6" height="41.3" fill="none"/>
<path class="md" d="M308.3 721H357"/>
<rect class="pb" x="40.8" y="575" width="340.5" height="205.5"/>
<text class="t yl" x="36.2" y="738.3">200</text>
<text class="t yl" x="36.2" y="691">400</text>
<text class="t yl" x="36.2" y="643.8">600</text>
<text class="t yl" x="36.2" y="596.5">800</text>
<path class="tk" d="M38.2 735.3h2.6M38.2 688h2.6M38.2 640.8h2.6M38.2 593.5h2.6M89.4 780.5v2.6M170.5 780.5v2.6M251.6 780.5v2.6M332.7 780.5v2.6"/>
<text class="t xl" transform="translate(89.2 785.3) rotate(-45)" dy="6.2">&lt;5</text>
<text class="t xl" transform="translate(170.3 785.3) rotate(-45)" dy="6.2">5~10</text>
<text class="t xl" transform="translate(251.4 785.3) rotate(-45)" dy="6.2">11~20</text>
<text class="t xl" transform="translate(332.5 785.3) rotate(-45)" dy="6.2">&gt;20</text>
<text class="t ti" x="40.8" y="566.8">Pb by Employment_duration</text>
<text class="t at" x="210.5" y="816.8">Employment_duration</text>
<text class="t at" transform="translate(16.9 677.8) rotate(-90)">Pb concentration (μg/L)</text>
<text class="t sg" x="85.7" y="584.5">****</text>
</g>
<g>
<path class="gn" d="M415.3 742.6H759.5"/>
<path class="gn" d="M415.3 683.3H759.5"/>
<path class="gn" d="M415.3 624H759.5"/>
<path class="gm" d="M415.3 772.3H759.5"/>
<path class="gm" d="M415.3 713H759.5"/>
<path class="gm" d="M415.3 653.6H759.5"/>
<path class="gm" d="M415.3 594.3H759.5"/>
<path class="gm" d="M464.5 575V780.5"/>
<path class="gm" d="M546.4 575V780.5"/>
<path class="gm" d="M628.4 575V780.5"/>
<path class="gm" d="M710.3 575V780.5"/>
<rect x="439.9" y="735" width="49.2" height="25.5" fill="#85ceb7"/>
<rect x="521.8" y="732.3" width="49.2" height="27" fill="#fda481"/>
<rect x="603.8" y="727" width="49.2" height="32.3" fill="#a4b3d5"/>
<rect x="685.7" y="722.3" width="49.2" height="36" fill="#eca1cf"/>
<path class="wk" d="M464.5 735V699.3M464.5 760.5V771.4"/>
<path class="wk" d="M546.4 732.3V691.8M546.4 759.3V771.4"/>
<path class="wk" d="M628.4 727V681.8M628.4 759.3V771.4"/>
<path class="wk" d="M710.3 722.3V669.3M710.3 758.3V771.4"/>
<path class="pt" d="M477.5 594.5l-7 0-8 16-10 33 6 7 17 0 4-1-10 5-4 16-10 5 10 0 13 7-17-2-11 3 1 4 5-1 15 0-2 9-19 0-1 6 13 0 0-3 3 2 1 1 1-1 3-3 0 4 1-1 2-2 4 3 2-1 0 4-1 2-1-2-5 1-2-3-1 4 0-2-1-1-1 2-1-3-1 4 0 0-1-3-4 2-1 1-3-2-4 0-1 1-1 4 2 3 1 1 1-4 1 2 3-3 0 3 0 1 3-2 7 0 0 3 1 0 1-4 0 1 3-2 1 1 5 1 2 8-5 0 0-2-1-1-1-1-3 2 0 1-1-3-3 1 0 1 0 0-2-1-3 4 0-2-1 0-1-2 0 1 0 2 0-3-2 4-1-3-1-1 0 4-1-5-1 0-1 0-1 3 0-3-3 4 0 0 1 7 2-4 1-1 1 1 2 3 0-3 2 4 1-4 1 1 3-2 1 1 0 2 2 1 0-3 0 3 1-1 1 2 0-2 0-1 1 1 1-1 2 0 1-1 1 3 1-1 0 1 1 1 0-3 0-2 1 2 2-2 0 1 1 1 0 9-3-5 0 4-1 1-1-2-2 2-1-1 0-4 0 4-5-2-2 0 0-2-3 0-4 2-1 2 0-1-2-3-1 3-3 1-2 1-1-4 1 6 0 2 1 1 1 0 0-2 2 0 1 1 1 1 0-3 0 0 2 0 0-1 0 3 2-3 1 5 0-5 1 4 1 0 1-1 0 2 0-3 0 2 1-3 0 0 0-1 1 2 1 1 0-2 0 3 1 1 1-1 0-4 1 1 3-1 1 4 0-2 1 3 2-4 1 4 1-1 1-2 2 7-1-2 0 4-1-5 0 4-1-1-1 0 0-1 0 3-1-1-1-3 0 1-1-1 0 4-1-5-2 3 0-2 0 2 0-2-1 1 0 0-3 2 0-4 0 5-1 0 0-4-1 1 0 2-2 1-1-1 0-3 0 0-1 3 0-2 0 0 0 2-1-2 0-2-2 2-1 0-1 1-1-3 0 4 0-1-1 2-1-4-1 1-1 1 0-1 0-2-1 1-1 5 0 1 2 0 2 4 0-4 2 3 0-1 0-3 0 2 0 2 1-3 0 2 0 2 1-2 1 0 0-3 1 0 0 1 0 3 1 1 0-3 0 3 0-3 1 1 0 2 0-3 1 2 0-2 0-1 1-1 0 3 0-1 0 3 1-1 1-3 0 2 0 2 3-1 1 0 1-1 1-3 0 2 1-2 0 0 0 4 0-2 0 0 1-1 0 2 1 0 0 0 0 0 0 2 1-3 0 3 1-4 0 0 0 0 0 1 1-1 0 3 1-3 0 0 0 3 1-1 0-3 0 2 1 1 0 2 0-1 0-1 0 0 1-3 0 6-1 5-1-1 0-2 0 0 0-1-1 2 0-2 0-1 0 4 0 0-1-3 0 3 0 0-1-2 0 1-1 1 0-4 0 3 0-3-1 3 0 1-1-2 0 3-1 0 0-2 0 1-1-4 0 1 0 2 0-1 0-2-1 4-1-2 0 0-1 3 0 0 0-3-1 1 0 2 0 0 0-2-1-3 0 0 0 2 0 3 0-4-1 2 0 2-2-1 0-2 0-1 0 3-1 0 0-4-1 2 0 0 0 0 0 1 0-2 0 4 0-3 0-1 0 2-1-3 0 0-1 3 0-3 0 0 0 2 0 1 0 1-1-4 0 5-1-5 0 5 0-4 0 4-1-4 0 4 0 0 0-5-1 0 0 2 0-1 0 3 0-3 0 0-1-1-1 5 0-1 0-3-1 2 0-2 0 2 0-2-1 3-1-2 0 1-1-3-1 2 0 9 0-4 1-1 0 2 0 3 0-1 1-4 0 2 0 1 0-1 1 2 0-4 0 3 1 1 0 1 0 0 0-4 1 4 0 0 0-2 1-3 1 2 0 2 0-1 0 1 0-2 1 2 0-1 0 0 1 2 0-5 0 1 0 0 0 3 0-3 0 3 0-3 1 4 0-5 0 2 1 0 0 3 0-2 0-3 0 1 0-1 0 2 1 0 0 3 0-5 0 3 1 2 0-3 0 3 0-4 1 4 0-3 0 3 0 0 0-2 0-1 0 3 1 0 0-2 0 0 0-3 1 0 0 2 1 3 1-4 0 0 0 1 1 3 0-1 1 0 0-3 0-1 1 0 0 5 0-4 1 0 0 4 0-4 0 1 0-1 0 2 1-1 1 3 0-1 0-4 0 1 0-1 0 1 0 4 1-2 0 2 0-4 1 4 0-4 0 0 1 1 0 1 0-1 0 1 1-1 0 0 0 1 0 1 1-2 0 0 0 3 0-1 0-2 1-1 0-1 0 3 0-2 0 1 0 3 1 0 0-3 0 0 1-1 0 1 0-1 0-1 1 3 0 5 0 0-1-1 0 1 0 2-1-3 0 1-1-2 0 1-1 1 0 1 0 0 0-2 0 0-1 0 0-1 0 5 0-3 0-2 0 3-1 0 0-3 0 0 0 4 0-3-1-1-1 1 0 1 0-1 0 2 0 2 0-4 0 2 0-1 0 2 0-4-1 0 0 4 0 0 0-3 0 2-1 1 0-2 0-1-1 1 0 0 0 2-1-1 0-3 0 1-1 0 0 0 0 2 0-2-1 0 0 3 0-4 0 3-1-3 0 1 0 4 0-3 0 3 0-4-1 2 0-3 0 0 0 5 0-4 0 2 0-1 0 1 0-2-1 2 0-3-1 3 0-1 0 1 0-2 0 1-1 2 0-2 0 2 0-3 0 4 0-3 0-1-1 0 0 1 0-2 0 2 0 2-1-1 0 2-1-2 0-1 0-1 0 1-1-2 0 3 0 2 0-1 0-2 0 1 0 0 0-1-1 3 0-2 0 0 0-2 0-1 0 4 0-3-1-1 0 1 0-1 0 2 0-1 0 3-1-2 0 0-1-1 0 3 0-2 0-2 0 0-1 3 0-2 0 1 0-1-1-1 0 2 0-1 0-1 0 4 0-4 0 0 0 1-1 1 0 0 0-1 0 1 0 2-1 0-1-4 0 0 0 3 0 1 0 2 0 0 1 3 2-3 0 3 1-1 1 0 0 1 1-3 1 0 1 2 0 1 3-3 3 2 0-1 4 2 0-2 3 2 1-1 1-2 0 0 1 3 2-3 1 3 1-3 0 2 1-1 3-1 0 3"/>
<path class="pt" d="M559.5 598.5l-20-4-2 0 2 7 9 21-15 6 6-2-3 25 0-2 6 3 18 5 0 0-2-1-21 1-5 0 6 6 2-3 6 4-6 7-5 0 3 1 15 5 6 6-18 0-1-1-3-1-7 8 9-3 4 1 3 0 4-1 3 2 2-3 2 4 0 6-4-1-3 0-3-2-7-2-5 5-3-2-1 8 0-1 2-1 1 0 2 1 1-1 6 2 0-1 7-3 2 0 0 0 1-1 1 5 0-1 1-2 3-2 2 1 1 9-1-4-1 4-4-3-1 1 0-1-2 2-2 1-2-2 0 3-1-2-3-3-1 2-3-2-2 0-2 2-1 1-1 1-1-2-2-2 0 1-1 8 1 0 2-3 0 0 2 1 1 3 2-4 1 4 1-1 2-1 3 3 0-4 0 3 1-3 5 1 2 3 3 0 2-5 1 5 3-5 0 2-5 5-1 3 0-2 0-2-1 5 0-2-3 2 0-3-4-2-3 2-1-2-3 2-1 2-2-2 0-1-3-1-3 4-1-2-1 6 1 1 1 0 1 1 1-1 4 0 0 2 0-1 0-1 1 1 0 1 1-2 1 1 2-4 0 4 1-4 1 5 0 0 1-5 0 3 1-2 0 4 1-2 1 2 3-5 1 0 2 2 1 2 2 1 0-1 5-1 0 3-1 2-1 0 0 2-1-3 0 3-2 1-1-1 0 1-2-2-1-1 0 2-1-3-5 4-2-1-1-4 0 1-2-1-1 3 0 0 0 0-1-2-2 1-2-1 0 4-1 0-3-1-2 1 0 0-1 0 0 5 0 1 1 0 1-5 0 1 1-1 0 5 1-3 0-1 3 1 0-1 2 1 0 1 0-1 0-2 0 5 0 0 1-3 0 0 0 2 1 1 0 0 1-5 0 3 1-3 0 5 1-1 0-1 1-2 0 2 0 1 1-3 1 0 2 1 0 3 1-2 0 1 1-1 1 0 1 1 1 0 0 1 2-4 0 2 1-2 0 1 1 1 1 1 1 1 1-4 1 0 0 1 1-1-1 8 0-1 0 1 0-1-1 3 0-1 0-3 0 2-1-1 0 0-1 3 0-4-1-1-1 3 0-2 0 2-1-2 0 1-1 2 0-2 0 1 0 0 0-3 0 1 0-1 0 2-1 2 0-2 0 0-1-2 0 4-1-4 0 0-1 1 0 1 0 2 0-2 0 1-1 2 0 0 0-5 0 4 0-4 0 0-1 1 0 4 0-3-1-2 0 3 0 2-2-4-1 3 0-2 0 2-1 1 0-5 0 4-1-1 0 1 0 0 0-2 0 1-1 0-1 0-1-1-1 2-1-2 0 2 0 0 0 1 0-1-1-2-1 0 0 1-1-1 0 1 0 1 0-4 0 5 0 0 0 0 0-1-1-3 0-1 0 5 0-4 0 3 0-1-1-1-1 1-1 2 0-2 0 2-1 0 0 0 0 0 0 4 1 2 0 0 1-3 1-1 0 2 0 2 1-5 0 0 1 3 0 2 0-4 1 4 0-4 0 4 1-5 0 2 3-1 0-1 0 5 2-5 0 0 0 5 0-5 1 3 0-2 0 3 0-1 1-1 0 3 0-3 0 3 0-4 0 3 2-3 0 4 1-5 0 3 1 2 1-3 0-2 0 3 0-2 0 0 2 1 1 1 0-1 0-2 0 4 1 0 0 1 0 0 1-1 0-2 0 0 1-1 1 3 0-1 0 2 0-3 1-1 0 1 1 2 0-4 0 4 1 1 0-4 1 2 0-3 0 3 0 0 0-2 0-1 1 0 1 2 0 2 1 2 0 5-1-2 0 0 0 1-1 0 0-3 0 2-1-3 0 4-1 0 0-3 0 1-1 1-1 0-1-1 0-2 0 2-1-1 0-1 0 3-1 1 0 1-1-2 0-1-1-2-1 0 0 0 0 3-1 0 0-3 0 2-1 2 0-1-1-3 0 2-1-1 0 2-1 2-1-1 0-2-1 2 0-4 0 5 0 0-1-2-1 1-1-1-1-1 0 2-1-4-1 5 0 0-2-1 0-1-1-2-1 1 0-1 0-1 0 4-1-1 0-3 0 0 0 3 0-3-1 5 0-1 0 1 0 0-1-5 0 3-1-1 0 4 0 3 1 0 0 1 0 1 0 0 0-4 0-1 1 4 0-1 0-1 0 3 2 0 0-1 1-3 0-1 0 0 0 0 0 0 1 1 0 1 1-2 0 5 0-5 0 5 0-1 1-1 0-3 0 5 0-3 0 1 2-3 0 2 1 1 0 0 0 1 0 0 1 1 0 0 0-1 0-4 1 5 0 0 0-5 0 5 0-3 1 2 0-1 1-2 0 4 0-5 1 3 0 2 0-5 1 5 0-2 0-1 0-2 0 3 1-2 0 3 0 0 1 1 0-2 0-3 0 0 1 0 0 0 0 2 0 2 1 0 0-3 0 1 0 2 0 1 1-3 0 1 1-2 0 3 0 0 0 1 1-1 0 1 1 0 1 0 0-2 1 1 0 1 0-5 0 3 0-2 0 0 0 2 1-1 0-2 0 4 0 1 1 0 0-4 0 3 0-1 1-1 0 0 1 2 0 0 0-2 0 1 1-1 0 2 0 2 0 1 0-1 0 1-1 0 0 1 0 0 0-2 0 5-1-1 0-4 0 0 0 1-1 2 0-3 0 4-1-2 0-1 0-1 0 4 0 0-1-2 0 1 0-1 0 1 0 1 0-1-1-1 0 1 0-2 0 4-2-5-1 1 0 0 0-1 0 4 0-4-1 3 0-1 0 2-1-2 0-1 0-1 0 2 0-1 0-1-1 4 0 0-1-2 0-1 0 3 0-2-1-1 0 1 0 1 0 0-1-3 0 0 0 5-1-4 0 1-1-2 0 2 0-2-1 4 0-4-1 0 0 2 0 2-1-2 0-1-1 3 0-2 0 1 0 1-1-2 0 2 0-2 0 2 0-4 0 1-1 4 0-5 0 1 0-1 0 2-1-2 0 3 0 1-1-4 0 3-1 1 0-3 0 1 0 1-1 1 0-2 0 3 0-1-1-4-1 2 0-2 0 0 0 4 0-4-1 1 0 1 0 3-1-4 0 0 0 0 0 0 0 7 1-1 5 0 0-1 3 3 2-2 0 0 2-1 2 0 0 2 0-1 0 0 2 1 7-1 0 0 1 0 0 0 1-1 1 0 1 2 0 0 2 0 1 0"/>
<path class="pt" d="M638.5 594.5l-3 0-6 0-1 5-1-5-6 0 20 35-16 4 18 10-8 2-22-3 6 10 18 3-24 3 24 7 4 6-14-2-1-2-5 1-3-1-2 0 0 10 5-2 7-2 6-1 2 2 8 9-1-3 0 3-3 0-6-3-6 2-3-2-1 2-11 4 0 1 0-2 1 1 1 2 3-2 1-2 0 0 1 5 1-5 1 4 1 0 1-4 0 4 3-4 0 1 2 0 6-1 0 1 3-1 0 2 1 1 0-3 0 5 1-1 2-4 0 1 1 9-2-3-1 0-1 2-2 2-1-5-8 1-1 0-2 2-5 2-1-4-4 3-1 1 0-3 0 3-1-4 0 2-1 2 2 1 0 0 2 1 6 3 1-2 1 1 2 1 0-1 1 1 1-4 1 3 2-1 3 1 0-3 1 5 5-1 2-1 2-2-3 8 0 2 0-2-1 2-1 0-4-1 0 0-1-1-5 2 0-4-1 4 0-3-1-1-3 0-1 2-1 2-4-4-1-1 0 5-1-1-1-2-1 2-1-3-1 8 2 2 1-1 2-3 1 4 0-1 2 0 1 0 2-2 6 0 2 1 1 0 3-1 1 2 0 1 3-4 1 1 0-1 1-1 4 0-2 7 0 2-1-2-3 3 0 0-1 0-1-3 0-1-3 3-2-3-1 5-1-1-2-2 0 3 0 0-3-2-5 0 0-1-3-2-2 0-1 1 0 6 0 3 2 0 7 0 2-3 2 3 0-4 1 2 1 3 0-1 1 1 0-2 1 2 2-1 1-1 1 0 2 0 0 1 3-2 2 2 3 4-1-2-1 1-1 1 0 3-1-2-2-2-1 4 0-2 0 1-1-1-1-2-2 4-1-3 0-1-1-1-1 4 0 0-1 0-1 1-1-4 0-1-3 5 0-2-1-1-1-2-1 4-1 0-2 1-1-5-1 5-1 0-1-1-1-2 0-1-1 2-1-1 0 8 0-2 0-2 1 5 0-5 0 3 1 0 0-2 1 1 1 3 0 0 0-2 0-1 3 2 0-4 0 1 0 0 2 0 1 3 1-3 0 4 0 0 0-5 1 2 1 0 1-2 0 2 1 0 0-1 0 4 2-3 1-2 1 4 0-2 1 3 1-2 0 0 0 0 0-2 1 1 1-1 0 4 1-1 0 1 0-4 0-1 1 4 1 1 0-3 1 2 1 0 1 1 1 0 0-4 0 4 0-1 1-4 0 2 1-1 0 3 0-3 0 2 1 5-1 2-1-3 0 2-1-2 0 3 0-3-1 1 0-2 0 3-2 1 0-4 0 0-1 5 0-5 0 0 0 3 0-2 0-1-1 2 0 0 0 3 0-3 0 0-1 2 0 0 0 1 0-1-1-4 0 1 0 2-1-2 0 3 0-3-2 2-1 1 0-3-1 1 0 0 0 0 0 1 0 1-1 0 0-4-1 4 0-1-1-3-1 3 0 0-1 0-3 1-1-1 0 0 0 0-1-1 0 0 0 3 0-4 0 2-2-1 0 0 0 3 0 0-1-1-1 0 0 0-1 0 0-4 0 0-3 5 1 3 1-2 0 4 1 0 0-3 0-1 1 3 0-1 1 3 0-1 0 0 1 0 0-1 1 2 1-1 1-4 1 0 0 3 2 2 0-3 1 3 0-2 0-2 1 0 0-1 0 3 1-2 0 1 1 2 0-2 2 3 1-2 1 2 1-2 0 0 1 2 1-1 0-2 2 1 1 1 0-3 0 0 0 3 0-3 0 2 1-3 0 3 1 2 0-5 1 1 0-1 1 1 1 4 1 0 0-3 0-1 0 4 0-4 0 3 1-3 0-1 0 11-1-2-1-1 0 1-1 2 0-3 0 1 0 1-1-4 0 5 0-3-2-2-1 2-2-1-1 1-1 0-1 0-2 2 0-3 0 4 0-1 0 0-1 1 0-4 0 3 0 1-1-4 0-1 0 0-1 4 0-4 0 5 0-2-1-2 0 1 0 1-1-3 0 5 0-5-1 3-2-2-1 4-1-4 0 0-1-1 0 4 0-4 0 4-2 0 0-2 0 2 0 0 0 1 0-1 0 1-1-3 0 0 0 0 0-1 0 2-1-1 0 3-1-1 0 0-1 0-1-1 0-3-1 5 0-2 0 5 0 2 1 1 0-3 0 0 0 3 1-4 0-1 1 2 0 3 0-3 0 1 1-3 0 2 0-2 1 4 0 0 0-1 0 0 1-3 0 3 0-2 1 4 0-2 0 1 0 0 0-3 1 2 0-1 1 3 0-4 0 4 0-4 1-1 1 2 1 1 0 0 0-2 1 3 0 1 0-2 0 2 0-1 0-2 1-2 0 4 0-4 0 1 0-1 0 3 0 2 1-3 0 0 0 1 0-1 1 1 0 2 1-1 0-1 1-3 0 4 0 1 0 0 1-3 0-2 0 5 0-1 1 1 1-1 0 1 0-2 1 0 0 1 0 0 0-3 1 1 0 2 1 1 0-2 0-2 0 2 0 2 1-1 0-2 0 3 0 0 0-1 0-3 1 4 0-3 0-2 0 5 1-2 0-2 0 4 1-2 1 1 0 0 0-1 1 0 0-3 0 3 1-2 0 0 1 1 0 2 0 3 0 3 0-4 0 4 0-3-1 2-1-1 0-2-2 1 0 2 0-1-1-1 0-1 0 1 0 0-1-1 0 4 0-2 0-1-1 0 0 0 0-1 0 1 0 1-1 2-1-3 0 2 0-3-1 3 0-3 0 2-1-2 0 2 0 0 0-2 0 5 0-5-1 1 0 4 0 0 0 0 0-3-1 3 0-3-1-1 0 3 0-4 0 1-2 1 0 0 0 3 0-3 0 0-1 3 0-1-1-4 0 2-1 1 0 1 0 1 0-5-1 1 0 1 0-2-1 2-1-2 0 5 0-1 0-4 0 1 0-1 0 1 0-1-1 5-1-5 0 1 0 2 0 2-1-3 0 3 0 0 0-1-1-4 0 1 0 0-1 3 0-2 0-2 0 0 0 2 0-2 0 0-1 0 0 0 0 2 0 0-1 0 0-1 0 1 0 1 0 0 0-3 0 5-1 0 0-5-1 0 0 0 0 2-1 3 0-3 0 0 0-1 3 6 3 0 0 1 3 0 3-2 0 2 0 1 3-2 1-1 5 2 1-1 1-1 2 1 0 1 2-1 0 2 0-1 2 0 1-1 1 0 1 0 0-1"/>
<path class="pt" d="M708.5 594.5l-3 0 4 8 5 5-14 6 23 4 2 5-5 1-6 1 6 0 4 2-26 4 1 8 5-2 2 1 19 0-18 7-9 5 14 4 1-1 3-4 10 6-6 0-5 1-7 0-3 4-2-5-3 11 1-3 3 3 4-2 1 0 1 1 1 1 11 0 2 6-1-5-7 5-1-5-12 1-2 4-1-1-1 0-2-1 0 1-2-1 1 7 3-4 1 4 4-4 1 1 0 1 3-1 1 1 1-1 0 0 1 3 2-3 4 0 6 0 4 2-3 8-1-4 0-1 0 0-1 0-3 3-2-1-1-1 0 1-3-1-2 0-3 4-2-1-4-1-3-2-1 4 0-5-3 5 3 2 6 4 0-3 3-2 1 3 2 0 1 2 7-3 4 0 0 1 1-3 1 2 3 2-2 6-2-3-1 1-1 3 0-5 0 0-2 1-1 1-2-2-2 1-1 3-1 1 0-3-1 3-1 0-3 0-5-3-2 3-3-5 0 4-1 4 8-2 3 2 1 2 0-4 2 2 1 1 5-3 2 2 8 9-1-2-4 0-1-2-2 1-3 2 0 1-1-3 0 2-1 1 0-2-1 2-2-4-4 2-5 0 0-3-3 2-3 9 2 0 1-3 5 1 1-2 1-1 2 2 0 0 5-1 5 3 0-4 0 4 3 0 0 0 2-4 4 9 0 2-1 0-2 0-1-5-1 4-3-4-1 0-2 5-1-2-4-1-2 0-1 2 0 1-2-3-2-2 0 3 0-3-1 1-1 3-1-3-1 2-1-1 0 3-3-5-1 10 0-1 0 1 2 0 0-3 1 3 1 0 1-3 0 1 0-2 0 0 1 5 3 0 0-1 0-2 0-2 3 4 0-2 0 0 3 1 0 1 1 1 0-1 2-1 1 0 0 1 1-1 0 1 1 0 2-2 0 3 0-1 3 0 1 1 0-3 1 2 2 1 1-1 1 0 0 3-1-1 0 1 0 2-1 1 0-3-2 2-2 2 0 0-1-2-1 1-3-2-1-1 0 3-1 1-2-5-1 2 0-2-2 4-1-1-2-3-1 4 0-3-1 0 0 3-2-1 0-3 0 5 0-1-1-3-1 3 0-1-1-1-4 9 2-1 0-3 0-1 0 5 1-4 1 2 0 1 0-4 0 5 1-1 1 0 0 1 0-1 1-1 0-3 1 5 1-2 0-3 0 4 0 1 1-2 0-3 1 4 1 0 0 0 0-1 1 2 1-1 1-4 0 2 0 0 1-2 1 3 1-1 0 0 2 3 0 0 1-2 0 1 0 1 1-4 0 0 1 4 0-4 0 4 2-4 1 3 0-3 0 3 1 1 0-4 1-1 0 5 0-1 1 1 0-2 0-2 1 4 0-5 1 1 0-1 1 4 0 2 0 4 0-1 0 0-1-3 0 1 0 4 0 0-1 0 0-4-1 1 0 1-1 2-2-4 0 3-1 0 0 0 0-4-1 2 0 0 0-1-1-1 0 0-1 0 0 2 0-1 0 3-1-1 0-1-1 0 0 1 0 2 0-1-1 0 0-2 0 2-1-2-1 1-1-1 0 2 0-4 0 3-1 0 0-1-1-2 0 5-1 0 0-5 0 2-1-1-1 2 0 1 0-4 0 1-1 2-1 1 0 1-1-3 0 0 0-2-1 2-1 3 0-3 0 0-2 3 0-2 0-3 0 1-1 1 0-1-1 2 0-3-1 1 0 1 0 3-1 0 0 5 1-2 0-2 2 2 0-1 1-1 1 3 0 2 1-4 0 4 1-4 0 0 1 2 0-3 1 0 0 3 1 1 1-3 1-1 1 1 0 4 1-3 0 1 1-3 0 0 1 5 1-2 1 2 0-3 1 2 0 1 1-4 2 0 0 1 1 3 0-5 2 3 0 1 1-4 0 4 0-3 1 0 0 2 0 1 0-4 0 2 0-1 1 4 1-3 0-2 1 2 0-2 0 4 1 0 1-4 1 7-1 4 0 0 0-1-1 1 0-3 0 3-1-2 0-1-1 2-1 1 0-3-1 1 0 2-1-1 0 0 0-4 0 2-1 2 0 0-1 1 0 0 0-2 0-1-2-2 0 4-2-4-1 3 0-1 0 1-1 0 0 1-1 1 0-2-1-1 0 0-1 1 0-1 0 1-1 2 0 0 0-3-1 2 0-3 0 1-1-1 0 0 0 1 0 0-1 3 0 0-1-1 0-2-1 2 0-2-1 2 0 1-2-3 0 2-1-3-1-1 0 4 0 0-1 1 0-3 0-1-1 1 0 2 0 0 0 1-1-5 0 5-1 0 0-3 1 9 0-3 0 3 0-5 0 4 1-1 0-1 0 3 1-4 0 4 0 0 1-2 0 1 0-1 0-2 0 1 0 0 0-1 1 4 0-5 0 5 0-2 0-2 1 2 0-3 0 1 1 1 0 0 0-2 1 4 0-2 0-2 0 2 1-2 1 0 0 5 1-1 0-1 0-2 0 1 1 1 1 2 0 0 0-2 0 1 0 0 0 1 1-2 1 2 0-2 0-1 0-1 1-1 0 1 0 4 0 0 0-4 1 2 0 2 0-3 1 3 0-3 0 2 0 0 0 1 0-2 1 1 0-1 0-1 1 2 0-2 0-1 2-1 0 1 0 0 1 0 0 2 0 2 0-1 0 1 1-5 0 3 1 0 0 0 1 0 0 1 0-3 1 3 0 1 0-2 0-1 0-2 1 5 0 0 0 0 1-5 0 2 0 3 0-5 0 3 1 2 0-3 0-1 1 4 0 0 1 0 0 5 0-3 0 1-1-2 0 4 0-4 0 0 0 2-1 0-1-1 0 0-1 0 0 1 0 1 0 2-1-1 0-1 0-1 0-2 0 1-1 3 0-1 0-1 0-1-1 2-1-3 0 1 0 3 0-4 0 5 0-4-1 0-1-1-1 4 0-2 0 2 0-4-1 5 0-2-1 0 0-3 0 2 0 2 0-2-1-1 0 0-2-1 0 2-1 0 0-1 0 0-1 4-1-2 0 1-1-2 0-2-2 2 0 1-1 2-1-3-1-2 0 0 0 4 0-3-1 0 0 2 0-1 0 0-1 2-1-3 0 0 0 0-1 3 0 0 0-3 0-1-1 1-1-1 0 1 0 2 0-2 0 1 0 0 0-2-1 3 0-3 0 4 0-4 1 8 2-2 7 0 1 1 1 2 2 0 0-2 17-1"/>
<rect x="440.5" y="735.6" width="48" height="24.3" fill="#85ceb7" fill-opacity="0.3"/>
<rect class="bx" x="439.9" y="735" width="49.2" height="25.5" fill="none"/>
<path class="md" d="M439.9 751H489.1"/>
<rect x="522.4" y="732.9" width="48" height="25.8" fill="#fda481" fill-opacity="0.3"/>
<rect class="bx" x="521.8" y="732.3" width="49.2" height="27" fill="none"/>
<path class="md" d="M521.8 747H571"/>
<rect x="604.4" y="727.6" width="48" height="31.1" fill="#a4b3d5" fill-opacity="0.3"/>
<rect class="bx" x="603.8" y="727" width="49.2" height="32.3" fill="none"/>
<path class="md" d="M603.8 745.8H653"/>
<rect x="686.3" y="722.9" width="48" height="34.8" fill="#eca1cf" fill-opacity="0.3"/>
<rect class="bx" x="685.7" y="722.3" width="49.2" height="36" fill="none"/>
<path class="md" d="M685.7 742.3H734.9"/>
<rect class="pb" x="415.3" y="575" width="344.2" height="205.5"/>
<text class="t yl" x="410.7" y="775.3">0</text>
<text class="t yl" x="410.7" y="716">5</text>
<text class="t yl" x="410.7" y="656.6">10</text>
<text class="t yl" x="410.7" y="597.3">15</text>
<path class="tk" d="M412.7 772.3h2.6M412.7 713h2.6M412.7 653.6h2.6M412.7 594.3h2.6M464.5 780.5v2.6M546.4 780.5v2.6M628.4 780.5v2.6M710.3 780.5v2.6"/>
<text class="t xl" transform="translate(464.3 785.3) rotate(-45)" dy="6.2">&lt;5</text>
<text class="t xl" transform="translate(546.2 785.3) rotate(-45)" dy="6.2">5~10</text>
<text class="t xl" transform="translate(628.2 785.3) rotate(-45)" dy="6.2">11~20</text>
<text class="t xl" transform="translate(710.1 785.3) rotate(-45)" dy="6.2">&gt;20</text>
<text class="t ti" x="415.3" y="567.5">Cd by Employment_duration</text>
<text class="t at" x="587.8" y="817.5">Employment_duration</text>
<text class="t at" transform="translate(396.1 677.8) rotate(-90)">Cd concentration (μg/L)</text>
<text class="t sg" x="460.9" y="585.3">****</text>
</g>
<g>
<path class="gn" d="M798.5 740.4H1143.8"/>
<path class="gn" d="M798.5 680.2H1143.8"/>
<path class="gn" d="M798.5 620.1H1143.8"/>
<path class="gm" d="M798.5 770.5H1143.8"/>
<path class="gm" d="M798.5 710.3H1143.8"/>
<path class="gm" d="M798.5 650.2H1143.8"/>
<path class="gm" d="M798.5 590H1143.8"/>
<path class="gm" d="M847.8 572.3V776.8"/>
<path class="gm" d="M930 572.3V776.8"/>
<path class="gm" d="M1012.3 572.3V776.8"/>
<path class="gm" d="M1094.5 572.3V776.8"/>
<rect x="823.2" y="704" width="49.3" height="44.8" fill="#85ceb7"/>
<rect x="905.4" y="697" width="49.3" height="51.5" fill="#fda481"/>
<rect x="987.6" y="687" width="49.3" height="57.8" fill="#a4b3d5"/>
<rect x="1069.8" y="686" width="49.3" height="55.5" fill="#eca1cf"/>
<path class="wk" d="M847.8 704V639.8M847.8 748.8V767.5"/>
<path class="wk" d="M930 697V621.5M930 748.5V767.5"/>
<path class="wk" d="M1012.3 687V604.3M1012.3 744.8V767.5"/>
<path class="wk" d="M1094.5 686V608.5M1094.5 741.5V767.5"/>
<path class="pt" d="M832.5 591.5l10-1 4 2 2 0 2-2 0 0 8 9-4 0-3-5-14 8 6 13 19 7-14-3-3 0-8 0-3-1 8 6 4 3 1 0 3 1 1-2 1 2 9 6-12 1-17-1 1 4 1 1 9-1 6 2 12 1-3 1-2 4-3 1-1 0 0-2-9 1-9 0-2-1 2 3 1 3 2 2 8-1 1-2 5-1 1 3 1 0 2 1 9 3-1-1-4 2-4-2-10 4-1-2-1-3-1 4-8 1-1 2 8 4 1-1 0-3 1 3 6-1 10 1 2-4 3 0-1 10 0-3-5 2-1-3-1 3-1-2-3 4-2-2-2-1 0 0 0 2-1-1-8-3-2 1-5-1 0 9 0-1 1 0 1 1 6-1 1 1 4 2 1-2 3 0 1-1 1 3 2-5 0 2 1-1 0 4 5-3 3 1-1 6 0 2-5-2-1-1-3-2-2 1-1 0 0 3-2-2-1 2-2-3-5 3-1-1-3-2-2 4-1 0-1 5 4 0 0 0 1 1 1-2 0-2 1 1 4-1 3 2 0-2 1 0 0-1 1 0 2 5 3-2 1-1 4 2 4-1 1-2 1 0 0 1 0 7-4-3-2 3-3 0-5-1-3 2-1-4-2 4-1-3-3 3-2-3-4 2-1 0-1 7 4-3 2-1 1 4 0-4 1 3 5-3 0 1 1 0 1 4 1-3 4-2 1 0 1 4 4-1 0-3 1 2 1 1 1-3 1 3 0 2 1-1 2 7-1-1-1-1-1-3 0 0 0 2-2 1-1 1-2-1-1-1-1 1 0 2-4-1-2-2 0 0-2 2 0 1-4-3 0 2 0 0-1-3-4 1 0-1-2 0-1 1-1 1 0 2-1 3 1 3 0-5 0 2 1 2 0-2 1 2 0 1 4 0 1 0 0-3 2 0 0 3 1-4 2 3 1-4 0 4 2 0 1-4 0 5 2-5 1 1 0 0 0 1 1-1 7-1 1 2 1 3 0-5 1 1 1 4 0 4 0-3-1 3 0-3-1 0-1 5-2-3-1 2-2-4 0 3-1-3-3 3 0-3 0 2 0-1-2 4-1-2-1 2-1-3-1 1-2 1-1-2 0 3-1-2 0-1-1-1-1 1 0 0-1 3-1 0 0 0-1-5-5 5 0-2 0 1 0 0 0 1 0-2 0 7 1-1 0 2 0-2 1-1 0-1 1 3 1-3 2 3 0 0 0-2 0 0 2-1 0 2 0-1 0 2 2 0 0-1 1-2 0 4 1-2 1 0 1-3 2 2 1 2 0-2 0-1 3 1 1-2 1 3 2-3 1 2 1 2 1-4 1 1 1 3 0-4 2 1 1-1 0 11 0-5 0 1 0-1-1 0 0 4-1-4 0 2-1 3-1-1-1-1-1 0-1-3 0 0-1 0-1 1 0 1 0 3-1-5-1 1-1 0 0 4-1 0 0-3 0 1-1 2-1-1-1-3 0-1-1 1 0 4-1-5-1 3-1-3-1 5 0 0-1-4 0-1-1 3-1-3 0 4 0 1-3-2-1 1-1-3 0 2 0-1-1 0 0 2 0-1-3 3 1 5 0-3 0 0 1-2 0 3 0 0 1 1 5-3 0-1 1 1 0 3 0-3 1 1 2 1 3 1 0-2 1-2 1 4 1 0 0 0 2-2 0 3 1-1 0-1 1 0 0-3 2 0 0 3 5 2 0 0 0-4 0 2 1-2 3 3 0-4 0 7 0 2-1-3 0 3 0-1 0-1 0-1-1 2 0 2 0-1 0 2-1-1 0-3 0 3-1-1 0 2-1-4 0-1-1 2 0-1-2 4 0-5 0 0 0 4-1 0 0-2-1 2 0-1-1 2 0 0 0-4-1 1 0 3 0 0-1-1-1-3 0 4 0 0-1 0-1-5 0 1 0 2-2 0 0-1 0 0-1 2-1-2-1-2 0 4 0 0-1 1 0-3-1 3 0-2 0 1 0 0-1 1 0 0 0-5-1 1-1 1 0-2 0 0-1 2 0 0-2-1 0 4 0-2 0 2-1-5 0 2 0-2-1 5-1-1 0-2-1 6 1 0 0 1 0 1 0-3 1-1 0 1 0 0 0 3 1 1 0-1 0 1 1-4 1 4 0-5 1 1 0 4 1-2 0-2 1 4 1-3 0 0 0-1 0 0 2 2 0 0 0-3 1 3 0-1 0 1 0-1 0-2 0 4 1-1 0 0 1-2 0 4 0-1 1-2 0 3 1-4 0 3 0-1 1-3 0 5 1-2 0-3 0 1 1 3 0 1 0-5 2 0 1 5 0-2 1 0 0 0 0 2 0-2 0-2 1-1 0 2 0 1 0-2 1 3 0-3 0 0 1 2 1-1 1 3 0-1 1-1 0-3 1 4 0 0 0-1 1-2 0 3 1 1 1-3 0 0-1 6 0-2-1 3-1-3 0 3 0 1-1 1 0-1 0-1-1-3-2 4 0-1 0-1-1 2 0 1-1-3 0 3-1-3 0 1 0-1 0 3 0-1-1-4 0 1 0 4-1-4 0 0 0 1 0 1 0 0-1-1 0 1 0-3 0 1-1 3 0-4 0 3 0 0 0 1-1-3 0 0 0 4 0 0 0-2 0-2-1 3 0-2 0 3-1-5 0 2-1-2 0 2 0 2 0-1-1-2-1 2 0 0 0 2 0 0 0-5 0 2-1 0 0 3 0-3 0-2-2 5 0-3 0 0 0 0 0 0-1 3 0-4 0 0-1 4 0 0 0-5 0 1-1 1 0-1 0 1 0-1-1 3 0-1 0 2-1-2 0 0 0-2 0 3-1-1 0-3-1 4 0-1 0 1 0 1 0-1-1-2 0 2 0-1 0-2-1 2 0 0 0 6 0 1 1-2 0-1 0 1 0 0 0-1 0 1 3-1 0 1 1 2 1-2 0 2 1-4 1 5 0-2 2-2 0 0 1 4 1-5 0 4 1-2 0 1 0-2 0 0 0 1 0-1 1 2 0-3 1 2 1 2 0-3 1 0 0-1 1 1 1 1 0-2 0 4 1-4 1 5 0-1 1 1 0 0 1-4 1-1 0 1 1 1 1 3 1-1 0 0 0-2 2-1 0 2 1 1 0-4 1 2 0 2 1 5-7-1-3-1-1-1-4 1-3 0-2 2 0-1-2-2 0 3-3-2-3 2-2 1-1 0 0-4-1 1 0 3"/>
<path class="pt" d="M914.5 590.5l6 0 6 0 7 0 12 3 1 5 0 1-1-2-1-3-25 3-2 3 13 5 4-4 12 10-20-3-10-2 5 9 5-2 0 3 2-4 8 5 0-5 7 2-3 4-2 5-5-2-1 1-3 1-1-2-1-2-4 3-6 2 2 3 8-1 1-2 1 0 5 0 8 1 0 3 2-1 1 5-2 3-1-2 0 0-2-3-7 1-2 0-1 2-6 0-7-1-2 5 6 3 4 1 6-3 1 1 0-1 14-2-1 7 0 4 0-2-4-1-2-1-6 1-5 3-2-5-5 3 0 1-5-4-2 2 3 4 5 4 3-3 10 2 4-3 2 5 5-3 0 4-1 1-5 0 0 3-3-4-4 4-1-2-1-2 0 3-1 1 0-3-3-1-1 5-7-3-5 6 1 2 2-1 5-3 1 4 1-3 5-1 5 0 2 4 1 0 1 1 3 0 2 0 3-3-6 4 0 2-4 0-4 0-10 3-3 0-3-2 0-1-1-2-1 1 0 4 3 4 2 1 1-4 4 0 1 5 3-4 1 3 3-4 9 2 4-2 0 3-1 3-3 0-3 4-1-2-1 2-7-2 0 3-1-4-2 0-1 3-5 1 0 0-1-4-3 1 0 1-1-1-1 1 0 8 3-3 1-2 1 1 0 1 1 1 2-2 8-1 3 2 3 2 9-2-1 9-1-4-2 4-2 0-2-2 0 0-1 1-2-2-1-2 0 3-2-2 0 1-2 3-3 0-1-5-7 0 0 4-2-2-1-1 0 0-1 2 1 6 1-1 3-1 8 4 4-2 0 2 1-3 0 0 1 3 1-1 3-4 0 3 2-3 1 1 1-1 0 2 3 0 2 7-2-3-2 0 0 3-1-1-3-1-3 3 0-2 0 3 0 0-2-5 0 0-1 5-1-4-1-1-1 5 0 0 0-2-1-1-1-1-1-1-1 3 0-1 0-1 0 1-4-1-2-1-1 3-1 2-1-2-1 2-1-2 2 5 0 0 1 1 0 2 0 0 1-1 0-2 1 0 2 0 0 3 1 0 2-5 1 5 1-2 4 0 2-3 1 2 2-1 1 1 1 3 1-5 3 0 2 0 0 1 2 0 1 9 0-4-1 4-1-1-2 1-1 0-1-4-1 4 0-2 0-1 0 3 0-3-1-1-1 0-1 1 0 1-1 1-2-1 0-2-2 0 0 2 0 0-2-1 0-1-1 1 0 3-1-4 0 3 0-1-3 3-1 0-1 0-1-2 0-2-1-1-1 0 0 5-1-4-3 4 0-3 0 0 0 2-1-1 1 5 0-1 1 0 0 1 1-2 0 2 0 0 1 1 0 1 0-2 1-1 0 0 1 4 0-4 0 3 1 1 1 0 2 0 2-5 0 4 1 1 2-3 0 1 0-2 2 1 1 2 1 1 1 0 1-5 1 0 0 0 0 5 2-3 1-2 1 0 1 1 3 4 1-3 0 0 1 5 0 1-1 2-1 1 0-4-1 0 0-1-1 2 0 0 0 2 0-3 0 0 0 2-1-1-1 1-2 1-1 1 0 0-1-4-1-1 0 3 0-2-1-1-1 3 0 0-1 1 0-3-1 1-1 3 0-4-1 3-1 0-2-4 0 5-1-1-1-1-1 2 0 0-1-3-1 0 0-2-1 2-1-2 0 3 0 2-1-3-2-1 0 4 0-4 0 0-1-1 0 3-1-3 0 10 0-3 1 2 0 2 0-2 2-2 1 2 0-3 2 3 0-3 0 0 0 1 2-1 0 5 1 0 0-1 1-4 0 5 0-4 0-1 2 2 0-1 1-1 0 2 1-2 1 3 0-2 0 0 1 3 1-1 2 1 2-4 0 0 1 3 1 1 1-3 3 2 0-3 1 4 0-1 1 0 1-1 0 1 0-3 0 5 0 0 1 0 0 6 0-3-1-2 0 1 0 4-1 0 0-4 0 1-1-2-1 0 0 4-1-4 0 1 0 1-1 2 0-1-2 1 0-3-4 4-1 0 0-4-1 4 0-3 0-1-2 2 0-2 0-1 0 2-1 2-1-4 0 5 0-3 0 1 0-2-1 4 0-1 0-1 0 0 0 2-1-5 0 3 0 1-1-3 0 3 0-3-1 1 0-2-1 3 0-2 0 2 0-3-2 1 0-1 0 5-1-1-1 0 0-1-1-2 0 4 0 0-1-2 0 0-1 1 0-1 0 1 0-3-1 3 0-3 0 2 0 5 1 2 0-3 0 3 1-1 0 1 0-1 0 2 1-1 0-1 0-2 1-1 0 4 0-4 2 1 1 1 0 1 0 2 0-3 0 3 1-2 1-1 1 0 0-2 2 3 0-2 0 2 0 0 1-3 0 5 1-5 0 0 1 1 3 0 1 1 0 1 1 2 0-4 1 3 1 1 0-3 0 3 0-5 0 0 0 1 1-1 0 3 1-3 0 2 0-2 0 2 2 2 0 0 0 1 1-5 1 3 1 0 1 1 1 1 0-4 0 2 0-1 1 2 0 5-1-2-1 2 0-2 0 4-1-3 0-1-1-1 0 4-1-1 0 2-1-2-1 2 0-2 0-2 0 1 0-2 0 4-1-3 0 1 0 3 0-4 0 2-1 2 0-2-1-3 0 5 0 0-1-2 0 0-1 0 0 2 0-4 0 3 0-4 0 2-1-1 0 2 0 1-1-4 0 3-1-1 0 2-1-2 0 1 0-2 0 1-1 3 0-4-1 2 0-2-1 0 0-1 0 1 0 4-1-1 0-3 0 2-1 0 0 1 0 0-1-4 0 4 0-4-1 4 0-3 0 0-1 3-1-2 0 1-1 0 0 1 0-1-1 1 0-1 0 0 0-2-1 2 0 0 0 1-1 1-1-4 0 4 0-1-1-3 0 2 0-2 0 0-1-1 0 10 0-4 0 1 1-1 0 4 1 1 1-5 0 4 4 0 1-1 0-1 0 1 0-3 1 2 0-1 3-1 0 3 0 2 1 0 0-4 1 3 0-2 0 0 1-1 0-1 0 0 2 1 0 0 2-1 0 4 2-4 1 0 1 2 0 0 0 2 1-4 0 0 1 3 1-2 0 2 0 1 0-4 2 3 0 0 1 0 0-1 0 0 2 0 0-2-6 7-4 3 0-4-4 2 0-2 0 0-2 3-1-2-6 3-1-3-2 1-1 0 0 0 0 0-4-2"/>
<path class="pt" d="M999.5 590.5l2 0 1 0 1 1 1-1 1 0 2 0 1 0 3 0 1 2 2-2 0 0 3 0 5 0 3 0 1 0-4 6-24 1-1 1 3 7 0 0 1-5 3 4 2-2 1-2 3 1 5-1 2 0 9 3-1 3-7 0-1 2-5 0-1-2-4 1-1-1-1 2-3 0-3-2 3 7 0-1 0 1 4-1 6 1 3 2 12 1 1 2-4 1-4-1-2 2-1-2-8 0-2 5-1-3 0 1-5 1-1-2-3 1 1 7 8-4 21 6-3 5-3-5-1 0 0 2-3 1 0-3-10 4-2 1 0 0-5-1-2-1 0 4 7-1 2 2 2 3 1-2 4-1 4-1 1 1 9 1-6 6-2 1 0 0 0-3-1 2-1 1-8 1-1-5-1 1-1 2-3 0 0-1-6 1 0-1-2 5 2 0 1 2 8 1 0-3 1 1 1 1 1-2 5 0 3 4 2-2 1 1 1 1 3 1-5 4-1-4-1 2-18 1-1-2-3 0 0 9 3-4 0 5 2-1 6-3 1 3 3-2 6 1 0-2 4 0 0 2 7-3-4 6-4 5-1-3-13 1-4 2-1 0-4-1-1 0 1 3 4 3 0-4 0 5 3-2 3 0 3-3 3 3 2-3 7 0 1 1 2 2 0-1 0 8-3-1-2-1-2 0-1 1-3 2-1-4 0 2-3-1-2 0-1-2-2 3-2-3 0 1-6 2 0 4 3 3 0-1 1 2 1-2 1-2 2 4 4-1 2-1 0 2 7-3 2 3 1-1 4-2 2 6-1 3 0 0-1-5-3 0-5 4-2-3-1-1-1 5-3-1-2 1-1-3-2 3 0-3-4-2-1 3-1-3-2 3 0-1-1 1 0 6 0 2 2-2 1 1 0-2 3-2 0 4 2-1 2 0 1 2 3 0 1-1 1-2 0 3 2-3 0-2 1 1 0 1 1 3 1-3 2-2 0 2 0 2 1 0 6-2 1 3 0 5-1-3-2-1-1 1 0 2-1 1 0-3-1 2 0-1 0 2-1-2-2 0-4 2 0-3-1 2-1-1-2 2 0-2 0 3 0-5-1 4-6-4-2 4 0-1 0 0 0-2-2 3-1-3 0 2-1-1-1 0 0 0 0 1 0 7 0 0 1-2 1 0 2-1 0 2 0-3 1 3 1-2 1 4 0-2 1 2 0-4 0 1 1 1 0-3 0 2 1 1 1-1 0-2 0 1 1 4 0-4 0 0 5 2 0 0 0-3 1 4 1-4 1 4 0 0 0 1 2-1 1-3 3-1 2 5 1-1 0-4 0 1 1 1 1-2 0 5 0-2 1-3 1 3-1 7-1 0-1 0-1-4-2 4-3 1-1-1 0-3-1-1 0 0-2 1 0 3-1 0 0-1 0-3 0 5-1-5 0 1 0 2 0-3-1 0 0 4-2-3-1 1-1 2-1-1 0-1-1 0 0 1-1-3 0 2-1 1 0-3 0 3-2 0 0 2-1-4-1 0-1 1 0 2 0-3 0-1-2 3-1 4 0 0 0-1 2 4 0 1 0-4 2 1 4 2 0-1 1-1 3 0 0-1 0 3 1 0 1 1 1-2 1-1 0-2 1 4 1-3 1 4 3-1 1 1 3-3 1 3 1-4 0-1 2 0 2 5-1 6-2 0-1-3-1-1-4 3-1-2-1-2-1 4 0-3 0 3 0-1 0 2 0-3-2 1-1 1-4-2-1 1 0-1 0-2-1 2 0 0-1-1-1 3-1 1-3-5-1 1-1 4-1-4-1-1 0 1-1 4 0 0 0-1-1-2 0 4 2 4 2-1 1 2 0 0 2-1 1-1 2 0 0-1 2 0 0 0 0-1 1 0 0 2 1 1 0 0 1 0 1 0 0 1 0-2 2 0 2 0 1-1 0 3 1-5 1 0 0 1 0 3 0-4 0 0 1 4 1 0 0 0 2 0 1-4 1 5 0-4 3 0 0-1 0 6 0 4 0-1-1-1 0 2 0-4-1 2-1 0-1-1 0 4-3-5 0 2 0 0-1-2 0 2 0 3 0-2-1-1 0 2-1 1 0-4 0 3-1-2-1 0 0-2-1 2 0 0-1 0-1 0-1 0 0 2 0-2 0-2-1 0-1 1-1 4 0 0 0-2 0 1-1-3 0 0 0 4 0-2-1 2-2-2 0-1 0 2 0-3 0 2-1-3 0 5 0 0-1-4-2-1-1 5-2-3 0 2 0 0 0 1-1-3-1 8 1 0 0-2 0 1 1-1 0 2 0-3 2 4 1-2 0 2 1-1 0-4 1 3 0 2 2-2 1 0 0 1 0-3 0 0 1 3 0-2 1-2 0 5 1 0 0-4 1 3 0 0 0-3 1-1 0 4 2 1 1-1 2-2 0-1 0 4 0-3 1-1 0-1 1 5 0-4 1 3 0 1 0-4 1 1 0 3 0-1 0 1 1-4 0 2 0 2 0-3 1 1 0-3 1 2 0 0 0 2 0-1 0 1 0-4 0 3 1-1 0 3 3-2 1 0 0-3 0 5 0 5 0-2-1 2-1-4-1 3 0 1-1-2 0 3 0-4 0 1 0 0-1-1 0 0 0 4-1-4 0-1 0 3-1-1 0 3-1-1 0-1-1 1 0-3 0 4 0-1 0 0 0 1 0-1-1-3-1 1 0 2 0-3-1 0-1 2 0-3 0 5 0-5 0 2-1 1-1 1 0-1 0 0 0 0 0 0-1-2 0 3-1-2 0 3 0 0 0-2-1 0-1-3-1 0 0 3-1-1 0 3 0-4 0 3-1-1 0-1 0-1 0 2-1 1 0-1-1 0 0-1-1-2 0 5-1-5 0 0 0 1-1 0 0-1-2 2 0-2-1 0 0 2-1-2-1 3 0 1 0-3 0 8 0-2 1 2 0 2 2-3 0 2 0 1 2-5 0 2 2-2 0 4 2 0 1-2 1 0 0 3 1-5 0 0 1 0 0 0 1 2 2 0 1 0 0-1 2 1 0-1 1 2 0 0 0 1 2 1 0-1 0-1 1-1 0 3 1 0 0-1 0-2 3 1 1 0 0-2 0 1 0-1 2 0 0 0 0 4 1-5 1 1 0 2 0 1 0 3-1 2-5 0-1 1-10-1-4 2-5-3 0 1-6 0"/>
<path class="pt" d="M1079.5 593.5l3-3 1 0 4 0 2 0 10 2 1 1 1-3 5 0 3 4-6 5-6-2-7-1-4-1-2 1-4 4 1 3 5 2 2-3 3 0 0 0 3 3 3 0 2-1 4-1 7 5-1 0-9 3-1-3-3 0 0 3-6-3-1-1-1 1-1 3-8-4 0 6 6 3 5-3 6 3 6-3 5 3 1-1 0 0 1-1-4 6-1 1-5-3 0 5-1-2-14-2 4 7 0 0 4 1 0-1 3 1 0 0 2 2 0-1 1-2 1-2 1 0 3 2 4-2 0 0 1 1 3 4-2 5-6 1-1 0-2-4 0 2-2 1-4-4-7 5-1-1-3-2-1 1 6 5 3 0 2-2 1 0 3 3 5 1 0-4 2 1 0 0 6 5-1 2 0-1-1 0-1 0-5-1-5 0-2 3-3 2 0-1-4 0-6 0-1 1-1 3 7 0 8 1 4-3 5 4 1-4 3 2 0-1 2 0 0 8-6-3 0 1-3 2-1-3 0 5-1-1-3-2-2 2-5-4 0 2-8 0-2 4 5 3 2 1 0-2 3 1 0-3 2 0 3 1 1 3 0 1 2-2 3-3 2 2 1 0 0-1 5 5-1 2-1 0-3 1-3 2-1-5 0 4-2-2-1 0-3 2-2 1-3-1 0 1-5 0-2-4 2 5 7 4 1-2 1-2 1 3 3 0 0-1 4 0 3-1 0 1 7 7-3 1-4 1-3-4 0 3-2 1-4-3-5 0-2-2-2 1-6 2 0 1 1 6 1 0 0 0 2-3 0 2 4 2 0 0 3 0 1-4 3-1 0 5 4 0 2 0 0 0 2-1 0-3 1 3 2-4 2 1 2 9-1 1-1 0-1-2-1 2-1-1-2-3 0 1-3 1-1 0 0-1-2-1-3 2 0-1-1 2-1-1-1-3-1 2-4 0 0 3 0-4-1 4-1-4-1 3-1 0-1 0 0 7 0-5 1 3 1-2 2 4 1-4 3-1 2 0 1 2 2 1 0-2 0 0 0 3 0-4 1 4 1-1 2-2 0 1 0 2 2-3 0 0 3 1 2 3 4-4 1-1 1 1 0 5 0 4-2 0-1-3-1 0 0 2 0-1-1 2-1 1 0-3-1 3-1-1-1 0-1-3-1 4-1-4-1 1 0 2-1-3-1 1 0-2-2 4-1-4 0 3 0-3 0 3-1-2-1-1-2 3-1 1 0-1 0 0 0 2-1-1-1 0-2-2 0 1-1 0-2-1-2 5 2 4 0-3 1 1 0-3 2 3 0-3 0 5 1-5 0 2 0-2 2 4 2-1 0 1 2-3 0-1 2 1 0 0 2 1 1 0 1 2 0-4 1 3 0 1 0 1 1-2 0 2 1-2 0-3 1 1 2 3 2-1 1-3 0 5 1-3 0 3 2-3 1 2 1-2 0-1 0-1 1 4-1 6 0-3-1-1 0 1-3 3 0-4-1 4-1-4-1 0 0 4-2-2-1-1 0 3-1-3 0 4-1-4 0 3 0-2-3 0-1 3-1-2-1-1-2-2-1 2 0 0 0 3-1-3-1-2 0 5 0-2 0-2-1 0 0-1-1 1-1 3 0 1-2-4 0 1-1-1 0 4 0-4-2 1 0-2 0 10 0 0 1-4 0 0 0 0 0 5 1-1 0-3 1-1 0 1 0-1 0 0 1 4 1-3 1 2 1-2 1 2 0 2 3-1 1-2 1 3 1-5 0 0 0 5 4-2 1-3 0 3 0-3 1 5 3-5 0 5 0-4 1 1 0-1 0 4 3-4 3 0 0 1 0 2 1 0 0-1 0 3 0 3-1-1-2 1-2 1 0-1-1 0-1-2-1-1-2 0 0 5-2-5-1 4 0-3-1 4-1-3 0 2 0-3 0 0-1-1-1 1 0 1-1 2 0-3-2-1-1 4 0-3 0 2 0 0-1-2-1 0 0 2 0 2 0-5-2 1 0 4-1 0 0-2 0 2-1-3-1-2 0 4 0 0-1-2 0 2 0 0-2 0 0 0 0 4 0 2 0-3 0 3 1-1 1 2 3-5 0 5 0-3 2 3 0-5 0 5 0-1 1 1 0-5 0 4 4 1 0-2 3 2 1-3 0-2 0 3 1-3 1 5 0-1 0-4 1 1 2 4 0-2 1 2 0-2 0 1 0 1 3-2 0-1 1-2 1 1 2 4 2-3 0 8 0 1 0-1 0-2-1 2 0-3-1 3 0 0 0-1 0 0-1 2 0-5 0 2-1-2-1 2 0-1-1-1 0 1 0 0-1 0 0 2-2 1 0-2-1-1 0 4-2-1-1-2-1 2-1-4-1 0-3 5-2 0 0-5-1 0-1 4 0-4 0 1-1-1 0 3 0 1 0 0-2-4-1 4-1 1 0-5-2 3-1 0 0 1 0-4-1 1 1 6 0 1 0 2 0-1 1-2 0-1 1 2 0 3 0 0 2-1 0-4 0 3 0 0 1 0 0 2 0 0 0-2 0 0 1-1 1-2 1 3 0 1 3-1 0 2 0 0 1-5 0 1 1 3 0-4 1 2 0 3 0-3 0 1 1 1 0-2 0 2 0-4 1 2 0-1 0 3 2 1 0-3 0 0 1 1 0 0 1-2 0 1 0 2 0-1 1-2 0 1 0 3 1-5 0 1 0-1 0 0 1 1 2 3 1 0 0 0 0-4 0 4 2 0 0-4 0 3 0 2 0-1 0-3 0 1 2 3 1-1 0-1 0 0 0 1 0-1 0 0 0 2 1 0 0-2-1 5 0-2 0 2-3 1-1 0 0-3-1 1 0 1-1 0-2 1 0 1 0-1 0-2-1-1-1 3 0 1-1-1 0 1 0-2-1-1-1-1-1 1 0 2-1-3 0 4 0-1 0-1-1-1-1-1 0 1-1 2 0-1 0-1-1 0-1-1-1 0 0 2-2-1-1 0 0 2-1 0 0 0-1 2 0-4 0 2-1-2-1-1 0 5 0-3 0 0-1 0 0 3-1-5 0 1-1 0 0 0-1 1 1 5 0 1 2 2 0-4 5 0 5 0 6 2 3 3 1-3 0-2 0 0 2 0 0 5 3-5 0 0 1 1 3 2 1-1 0 2-2 3-8-1-4 4-2-2-3 0-3-1-3 1 0 3-7-5-1 4"/>
<rect x="823.8" y="704.6" width="48.1" height="43.6" fill="#85ceb7" fill-opacity="0.3"/>
<rect class="bx" x="823.2" y="704" width="49.3" height="44.8" fill="none"/>
<path class="md" d="M823.2 732.3H872.5"/>
<rect x="906" y="697.6" width="48.1" height="50.3" fill="#fda481" fill-opacity="0.3"/>
<rect class="bx" x="905.4" y="697" width="49.3" height="51.5" fill="none"/>
<path class="md" d="M905.4 728.3H954.7"/>
<rect x="988.2" y="687.6" width="48.1" height="56.6" fill="#a4b3d5" fill-opacity="0.3"/>
<rect class="bx" x="987.6" y="687" width="49.3" height="57.8" fill="none"/>
<path class="md" d="M987.6 720.3H1036.9"/>
<rect x="1070.4" y="686.6" width="48.1" height="54.3" fill="#eca1cf" fill-opacity="0.3"/>
<rect class="bx" x="1069.8" y="686" width="49.3" height="55.5" fill="none"/>
<path class="md" d="M1069.8 718.5H1119.1"/>
<rect class="pb" x="798.5" y="572.3" width="345.3" height="204.5"/>
<text class="t yl" x="793.9" y="773.5">0</text>
<text class="t yl" x="793.9" y="713.3">10</text>
<text class="t yl" x="793.9" y="653.2">20</text>
<text class="t yl" x="793.9" y="593">30</text>
<path class="tk" d="M795.9 770.5h2.6M795.9 710.3h2.6M795.9 650.2h2.6M795.9 590h2.6M847.8 776.8v2.6M930 776.8v2.6M1012.3 776.8v2.6M1094.5 776.8v2.6"/>
<text class="t xl" transform="translate(847.6 781.6) rotate(-45)" dy="6.2">&lt;5</text>
<text class="t xl" transform="translate(929.8 781.6) rotate(-45)" dy="6.2">5~10</text>
<text class="t xl" transform="translate(1012.1 781.6) rotate(-45)" dy="6.2">11~20</text>
<text class="t xl" transform="translate(1094.3 781.6) rotate(-45)" dy="6.2">&gt;20</text>
<text class="t ti" x="798.5" y="563.8">Hg by Employment_duration</text>
<text class="t at" x="971" y="814.3">Employment_duration</text>
<text class="t at" transform="translate(779.3 674.5) rotate(-90)">Hg concentration (μg/L)</text>
<text class="t sg" x="844.9" y="581">****</text>
</g>
<g>
<path class="gn" d="M1183 742.1H1528.5"/>
<path class="gn" d="M1183 681.8H1528.5"/>
<path class="gn" d="M1183 621.5H1528.5"/>
<path class="gm" d="M1183 772.3H1528.5"/>
<path class="gm" d="M1183 712H1528.5"/>
<path class="gm" d="M1183 651.6H1528.5"/>
<path class="gm" d="M1183 591.3H1528.5"/>
<path class="gm" d="M1232.4 573.8V778"/>
<path class="gm" d="M1314.6 573.8V778"/>
<path class="gm" d="M1396.9 573.8V778"/>
<path class="gm" d="M1479.1 573.8V778"/>
<rect x="1207.7" y="709" width="49.4" height="44.8" fill="#85ceb7"/>
<rect x="1289.9" y="703" width="49.4" height="49.5" fill="#fda481"/>
<rect x="1372.2" y="700" width="49.4" height="50.5" fill="#a4b3d5"/>
<rect x="1454.5" y="690" width="49.4" height="58" fill="#eca1cf"/>
<path class="wk" d="M1232.4 709V643.8M1232.4 753.8V769.3"/>
<path class="wk" d="M1314.6 703V629.3M1314.6 752.5V769.3"/>
<path class="wk" d="M1396.9 700V625.5M1396.9 750.5V769.3"/>
<path class="wk" d="M1479.1 690V600.5M1479.1 748V769.3"/>
<path class="pt" d="M1219.5 591.5l1 0 3 1 3-1 8 0 5 3-19 5 21 2 0 10-24 5 27-1-20 8 7 4-9 3-1 0-1 5-1-5-1 1-1-1 1 9 5 2 7-1 1 1 5-2 2-1 2 1 0-3 1 5 1 0 3-4 0 0 0-1 3 9-1 0-1 2-7-1-1-2-4 0-4-1-5 4-2 0-5 0-2 5 1 1 3-3 1 2 9 0 0-3 4 4 0-4 3 3 0 0 3-4 3 0 5 3 0 4-2 4 0-3 0 2-6-2-1 1-8 2-1-2-1-1-4 3-1-4-1 2-6 2 6 3 4 2 3 0 0-1 17-2-1 5-2 4 0-3-1-1-2 3-2-2-5 2-1-2-2 3-4 0 0 0-5-3-4 1-2 3 1 1 0 1 1 1 1 2 1-3 1 3 2 1 1-5 8 1 4 2 5 2 5-4 2 0 0 6-6 3-6-3 0 0-1 4-2-2-8 0-1 1 0-3-1 1-1 2-5-3 1 5 3 1 1 1 1-1 1 4 1-1 1 0 2-1 1 2 0 0 1-4 0 1 0-2 2 4 2-4 1 5 2-2 2 1 4 1 1-5 1 1 2-1-2 10-1-2-1-2-1 3-1 2-2-4-4-1 0 1-2 1-1 2-2 0-5-3-1 0-1 3 0 1-1-4-1 0-2 4-2-2 2 5 2 0 10 1 2-2 2 4 3-1 1-3 1-1 5 5 0-2 1 1 2-1 0 7 0-1-2 2-1-1-2 0-5-4 0 3-1-1-2 2-6-3-2 0-1 3-2-4 0 4 0 0-2-3 0 3-2 1 0-1-1 2 0 1 1 4 1-5 0 3 2 1 1 0 3-3 1 3 0-3 2 2 0 1 5-2 1 2 2-4 1 0 0 2 0 3 0-1 0 0 1 0 0-4 2 4 3-1 3 1 0-1 0-3 1 9-2-3 0 5-1 0-1-2-2-2-1 3-1 1 0-2-1-2-1 0 0 0-1 4 0-3 0 1 0 1 0-2-2 2-1-1-1-1-1 0-2 3 0-2-3 0 0-1 0-2-2 1-1 2-1-3-7 0 0 5-1-2 0 6 1 2 0-2 2 1 1-2 1-1 3-1 1 4 1-1 0 1 2-3 1 1 0 2 0 0 1 0 1 0 0-1 0-1 0 3 2 0 2-2 3-1 0 2 0 0 0 0 1-2 1-1 0 4 0-2 2 2 0-3 1-2 0 4 2-3 0 3 0-2 1 1 1-1 0 0 2 2 0 7 0 0-1-1-1-1 0 2 0 0 0-1-1-4 0 2 0 0 0-1-1 4-1-1 0-1-2-1 0-1 0 1 0 2 0-1-1-1 0 1 0-3-1 0 0 2-1 0-3 0 0-2 0 1 0 3-1-1 0-2-1 3 0 0-2 0 0-2-1-2-1 4-1-4-2 0 0 2-2 1-1 2 0-4-1 1 0 1 0-2 0 4 0-3-2-2 0 0 0 5 0-3 0 1-5 3 1 2 0 1 1-1 1-1 0 0 2 2 0 2 0-3 1-2 0 3 0 0 0-2 2 1 0 1 2-1 0 2 0-3 0 1 0 3 2-1 1-4 0 5 0-1 1-1 1 0 0-3 1 1 1 4 0-1 2 1 0-3 1 0 0 3 0-3 1-2 0 2 0 0 0-1 1 1 0 2 2-1 0-3 2 3 0-3 1 0 0 3 1-3 1 5 0-1 0-4 0 4 2 0 0-3 0 4 1-2 0-2 0 3 1-2-1 8-1-4-1 5 0-1-1-4-3 4 0-4 0 2-4 2-1-1-1 2-1-1 0-2 0-1-1 4 0 0-1-5 0 1 0 0-1 1 0 1-2 2-1 0 0-1 0 1 0-3-2-2-2 5 0-1 0-1-1-1 0 2 0 1 0-3-1-1 0 4-2-1-2 0 0 1 0 0-1-4 0 4 0-1 0 0-2 0 1 3 1 2 0 1 1 1 0-4 1 2 0-3 1 0 0 0 1 4 1-4 0 1 1 4 2-3 0-1 1 2 0-2 1 0 1 1 1-1 1-1 0 5 1-3 1 2 0-1 0 0 1-3 4 5 0 0 0-3 1 2 0-1 0-3 1 0 1 2 0 2 0 1 1-1 0-1 1-2 0-1 1 1 1 0 0 3 1-4 1 0 1 4 0 1 0 4 0 2-1-3 0 3 0-4-1 3 0 1 0-5 0 0 0 1-1 1 0 1-1-1 0 3 0-1-1-4-1 1-1 3 0 1 0-4 0 2-1-3 0 1 0 1-1 1 0 0 0-3 0 5-1-1 0-1 0-1 0 2 0 0 0-4-1 1 0 2-1-2 0 0 0 1-2 1 0 0-1-2 0 4 0-3-1 3 0-5 0 3-2 2 0-5-2 5 0-3-2-2 0 1 0-1 0 0-1 3 0-1 0 0 0 0-1 0 0 2 0 1-1-1-1 1-1-2 0-2 0 3-1-4 0 5 0-3 0 0-1-2-1 1 0 2-1 1-1 7 0-2 1-3 0 3 0-1 0-2 1 1 0-1 1 0 0 3 0-3 0 2 0-2 0 3 0-1 1 1 0-3 0 5 0-2 1-1 0 3 0-2 0-1 0-1 0 4 1-1 0 0 0-2 0 1 0 2 1 0 0-4 0 1 0-1 0 1 1-1 0 3 0-1 0-3 1 2 0-1 0-1 1 5 0-4 0 1 0 0 0 1 1-1 0-1 0 0 1-1 0 1 0 1 0-2 1 3 1 1 0-4 0 2 1 2 0-4 1 5 0 0 1-4 1 0 0 1 0-2 1 3 0 0 0 1 0-1 1-3 0 4 0-1 0 0 1 1 0 0 0-1 1-2 0 1 0-2 0 0 1 4 0-2 2 3 0 0 0 0 0-3 1 3 0-4 0 2 0 0 1-2 1 1 1 0 0 1 0 0 1-2 0 1 0 0 0-1 0 2 0-1 0-1 0 4 1-3 0 3 0-1 1 0 0-1 1-2 0 1 0-1 0 7-1-2 0 1-1 0-1 2-1 2 0-5 0 2 0-2 0 2-1 1 0 0-1-3 0 3-2 0 0-1-1-1-1 1-1-2 0 2-7 1 0-2-2-1-1 2 0-1-1-1 0 3-2-2-1 3 0-4-1 1 0-1-5 0 0 5-1-4 0 1 0-2-1 1 0 1 10 5 7 0 2-1 2 1 5 0"/>
<path class="pt" d="M1299.5 591.5l0 1 2 1 2-2 1 0 6 0 2 0 15 2-17 1-6 1 0 10 8-3 14 0 4 6-30 7 22 2 3-1 3-1-4 3-3 1-4 3-17 0 1 2 1 5 1 0 1-2 3 2 2-5 1 1 0-1 3 1 4 4 7-2 3-2 1 3 2-2-1 8 0-3-2 3-7 0-4-1-1-3-6 0-2 5-1-3-6 2 0 5 1-3 2 5 0-3 1 2 2-3 9 3 1-4 4 2 4-1 2 0 4 0-7 7-4 1-5 0-1 0-6-2-1-1-1 4-5-1-1 7 3-2 2 3 5-5 1 3 2-2 6 2 7-3 2 1 1 2 1-2 1 3 1-2-2 7 0-1-1 2-3-4-3 5-7-1-4-3-5 0-1 3 0-1-2 0 0 2-5 2 5 2 1 0 4-3 2 1 10 0 2 0 7 1 0 3 1-2-5 8-2 0-5 0-6-5-3 4-3-2-1 3-7 0 7 3 4 0 3 1 1 0 0 2 3 0 2 0 5-3 1 2 2-3 1-1 1 1 2 7-8-2-10 2-1 0-1 0-1 2-7 1-2 0 10 5 2 0 1 1 2 0 1-3 1 1 1 1 5 1 3-5 1 5 0-3 2-1 2 8-2-2 0 4-1 0-1-5 0 4 0-3-2 4-2-5 0 4-5-2-9-1 0 2-1-1 0 2-4 1-5 5 1-1 0 1 0 0 1 1 1-2 0 2 2 0 2-2 4 0 0-1 4 3 5-3 1 1 5-3 1 5 1 0 4 5-3-3 0 4-3-4-1 4-1 0 0-5-2 4-3-2 0 1-5-3-2 3-4-2-1 4 0-3-1 3-1-1-2 1-1-2-1-3-1 1-1 3 2 6 0-2 4 0 0 0 1-2 2 4 1-2 1-1 0 0 7 0 5-1 1 3 0 2 1-4 0 0 1 4 0-5 1 1 0 2 3-1 0 2 2 0 1 3-1-1-1 0 0 0-1 1 0 2-1 0 0-2-2-1-1 5 0 0 0-1-1-1 0-2-1 2-1-2-1 0-2 1 0 2 0-1-1 1-2-1-1 1 0-2-1-1-2-1-2 2-1 0-1 2-1-2 0-1-3 0 0 2 0 2-2-4-1 0 0 4 0-3 0-2-1 5 0-2 0-2-1 2 0 6 3-2 0 3 1 1 0-1 2-3 0 0 1 3 0-3 1 1 2-1 0 2 0 1 1 0 3-2 0 0 0 3 3-1 0 1 2-5 0 4 1-1 1 0 1 0 0 1 3-1 1-1 2-2 0 0 0 3 1 2 0 0 0-3 0 3 1 0 0-4 1 1 1-1 0 3 0 0 1-3 0 5-1 0 0 0-1 1 0 0 0 3-1 0 0 1-1 0 0 0-2-1-2-1 0 0 0 1-1-4-1 1 0 0-1 0 0 4 0-1-1 1 0-4-1 4 0-1-1-2-1-2 0 1 0 3 0-4 0 2-2 1 0 2 0-4-1 4 0-1-2-1 0 2-1-1 0 1-1-2 0-2-1 3-1 0 0-4-1 0 0 5-1-3 0 2 0-4-1 2-1-2-1 0-2 5 0-4-2 10 2 0 0-1 0-3 0 2 1-2 1 1 0 2 1 1 0-5 0 5 1-1 0-2 3 3 1-1 0-4 0 1 1 4 1-1 0 0 0-2 1 1 2-2 2 2 0 2 1-5 1 3 0 1 0-2 1-1 0 2 1 2 0-5 1 1 0 3 1-1 0 2 1 0 1 0 0-2 1 2 0-1 2-4 3 5 1 0 1 0-1 3 0 0-1 3 0 0-1-4-1-1-1 1-2 1-1-1 0 0-1-1-1 3 0 2-1-4 0 3-1 0 0-4-2 3-3 1-1 1-1-4 0-1-1 1 0 4-1-2 0-1 0-2-1 4 0 0 0 0-1-1 0-1 0-1-1-1-1 0-1 5 0-1-1-1 0-1-1 3 0-1-1-1 0 2 0-1-3-4 0 8 1-2 0 3 0-3 0 0 1 3 0 2 0-4 2 3 1 1 0-2 0 1 1 0 0 1 0-4 1 0 1 0 0 3 1 0 0-1 2-3 0 3 0 0 1-2 0 4 0 0 0-5 1 2 0-1 0 2 1-3 1 4 0-2 1 0 1 3 1-1 1-4 0 4 4 0 0-4 0 4 0 1 0-3 1 2 0-1 0-3 1 2 0 3 0-4 0 3 2-3 1 3 2-2 0-1 0 2 0 2 0-2 1 1 0 1 0-2 0-3 1 6 0 1 0-1-1 4 0-2-1-2 0 5-1-5 0 1-1 3 0-4 0 5-1-1 0 1 0-2 0-3 0 3-1 2 0 0 0-4-1 4-1-1 0 1-1-3-1 3 0-2-1-1 0 0 0 1-1 2 0 0-1 0 0-3-1 1 0-2-1 1 0 3 0-5 0 3-1-1 0-1 0 0-1-1-1 1-1 3 0 1-1 0 0-1-1-2 0-1 0 2 0 1-1 1 0-5-1 4 0-1-1 1 0-2-1 0 0 2 0-3-1 3-1-2 0 2-1-3 0 3 0 0-1-1-1-1-2 3 0 0 0 0-1-1 1 7 0-4 0 1 0-1 1 4 1-2 0-3 0 3 0-2 1 0 0 2 1-3 0 0 1 2 0 1 1-2 0-1 1 0 0 1 0 1 1 1 0-1 0 2 1-3 0 0 0 4 1-4 0 2 1 0 0 1 0-1 0-1 1 0 0 0 0-1 0 3 0-1 2-3 0 3 0-2 0 0 0 1 0 2 0-2 1-2 0 2 0-1 0-1 1 0 0 3 0-1 1-2 1 2 0 2 1-4 1 3 0 1 1-2 0 0 0 0 1 1 0-1 0-1 0 3 0-1 1 1 0-2 0-2 0 1 1-1 1 1 1 1 0 2 1-4 0 0 1 2 0-1 0 3 1-2 0-2 0 3 1-3 1 3 0-3 0 0 1 3 0-1 0 1 0 1 0 3-1-1 0 2-1-2 0 0-1 0 0 0-2 5-1-5-1 1-3 0 0 2-1-1 0-2-1 1 0 0-1-1 0 3-1-3 0 2-1 0-1 0 0 0-1 3 0-4-1 1-1 1 0-3 0 2-3 1-1-1 0-1-4 2-2-3-1 1 0 2-1-2-1 0 4 5 9 0 5 0 3 1 2-1 6 0"/>
<path class="pt" d="M1384.5 591.5l1 0 0 0 1 0 16 0 9 0-10 4-15 4-1-4 8 7 10 1 4 8-1 0-15-2-7 2-1-4-2 1 1 9 4-2 2 1 11-3 0 3 4 0 7 1 0 0-6 4-4-1-2 3-3-1-10 0-3-1-1-1 4 8 2-4 6 4 5-4 0 4 4-3 1 4 0-1 4-2 2-2 2 7-1 4-2-5 0 1-3 3 0-1-3 0-3-1-1-2 0 1-12 3-3-1-2-2 7 8 2-3 5 5 1-2 1 2 2-1 1 1 2-2 4 0 4 2 0-5 1 5-9 1 0 0-1 2-3 3-3-5-7 0-8 2 7 5 0 2 1 2 7-4 3 3 4-4 8 2 1 0-1 8-1-1-1-3-2 4-1 1-1-1-1 1-8-5 0 2 0 0-8 2 0-2-4 5 0 0 4 2 0 1 1-1 0-3 12 2 9-2 3 5 1 0 0-3-13 7-2 0-11 0-2-1-3-1 2 7 2-2 4 5 3 0 2-2 1 2 1-2 4-2 5 1 7 0-2 8-4-3-2 4-10 0-3-4-6 3 0-1-3-3 1 7 4 0 0 3 9-3 1-1 3 0 5 2 6 1-2 3-3 4 0-3-4 2-4-1-1 1-6 1 0-1-1 0-2-3-1 4 0-2-2 0-5 0 0 9 1-5 4 1 2 1 1 3 1-4 0 2 2-3 2 5 0 0 3-4 1 1 5-2 3 2 1-2 1 5 0-4 2 3 0-3 1 3 0-2 1 0 0 2 1-3 0 6-1 4-4-1 0-3-2 4-2-4-1 3-1 0 0-4 0 0-1 0-1 2-1 3-1-2 0-3-1 2 0 2-2 1-1-4-4-1-1 4-4-3-2 2 0-2 0-1-2 5 0 6 1-3 1-1 0-1 1 0 1 1 0 4 1 0 0-1 1-3 0 3 0-3 1 1 2 3 2 0 2 0 3-5 1 1 2 4 0 0 0 0 1-4 1 3 0-2 1 3 1-2 0 0 0-3 2 1 4-1 0 2 0 2 2-2 0-2 0 2 1 2 0 6 0-4-1 5 0-2 0 2-1-4 0 0-1 3 0-1 0 0-3 0-2 0 0 0 0 1-1 1 0 0 0-5-1 5 0-2 0-1-4 2-1-1 0 1 0-3-1 4-1-1-3-3 0-1 0 0-2 3 0 0-1-1 0 0-2 1 0-3-1 2-2 0-1 0 0 0-1 0-1-1-1 9 1-4 0 2 2 3 0-5 1 0 0 2 2 3 1-2 1 1 0 0 1-3 0-1 0 2 0-1 1 1 0-1 3 2 2-1 2-2 1 4 0-1 0 2 1-5 1 5 0-4 0-1 1 2 0 2 1 0 0-3 1-1 0 3 2 0 2 2 1-1 1-3 1 3 1 0 0-1 0 4 0 4-1-2-3 0 0-3 0 5-1-1-1-1-1-2-1 0-1 0 0 1 0 2-2-2 0 1 0-1 0-2-1 2-2 3 0-4-1 3-2-4 0 2-6 1-2-2-1 4 0-1 0-1-2-2-1 1-1 2 0-1 0-3-1 4-1-4 1 8 0 3 0 0 2-3 1-1 0 2 1-2 0 2 3-3 1 0 1 1 1 0 0-1 1 1 0-1 0 2 1 1 1 1 2 1 1-3 0 3 0-5 1 4 0-1 0 0 0-3 1 3 0 2 1 0 0 0 1-5 2 3 0-3 0 5 1-2 0 2 0-5 1 5 2-1 1-3 5 2 0 1-2 7 0-4 0 3-1-1 0-3-1 1 0 2-3 0 0-3-1 0 0 0 0 3-1 2 0-4-1 4-1-1-1-3-2 4 0-1 0-2 0 0-1 1 0-3 0 4 0 1-1-1 0 0 0-4-1 2 0 0-1 0 0-2-1 4 0-3 0 2 0 2-2-2 0 0 0-3-1 0-1 1 0 3 0-2 0-2-1 2 0 2-1-1-3 2 0-4 0 3 0 1-1 0 0-3-1 3 0 0-2-5-1 4 0 6 1-2 0 1 1 0 0 2 1-2 1 2 1-5 0 4 0-1 1 0 0-1 0 3 0-3 1-2 1 0 0 1 1 0 2 4 0 0 0-1 2-3 1 3 0 1 0 0 1-1 0 1 0-3 1-2 1 4 1 1 1-3 1 1 0-3 0 2 1-1 1 4 1-4 0 4 0-4 2 2 1 0 0 1 0-4 1 1 0 4 2-2 0-2 0 1 0 1 0 2 1-3 0-1 2-1 1 5 0-3 0-2 0 7-1 0-1 4 0-3 0 0-1 2 0-1 0 1-1 1 0 0 0 0 0-1-1-2 0 0 0 3 0-1 0-1-2 2 0 0 0-1-1 0 0 0-1-3 0 3 0-3-1 4 0-5 0 2-2-2 0 4 0-2-1 3 0-4 0 1-1 3-1 0 0 0 0-3-1 1 0 1 0-3 0 4 0-1-1-2-1 1 0 2-1-1-1 1 0 0 0-1 0 1-1 0 0 0 0-5 0 2 0 2-1-1 0-2 0-1 0 2-1-2 0 3 0 2-1-3 0 2 0-1 0 2-1-2-1 0 0-1 0 1-2 1 0-1-1-2 0 3 0-1 0 0-1-3 0 0-1 2-1 3 0 2 1 4 0-3 0-1 0 0 1 1 0 0 1 1 1-1 0-1 1-1 0 3 1-2 0-1 0 2 0-1 0 1 1-2 0 5 1-4 0 2 0 1 0-1 0 0 0-1 1-2 0 3 0-1 0 1 0-1 0-1 1 0 0-1 0 3 0-2 1-1 0 0 0 1 1 4 0-5 0 4 0 0 1-3 1 0 0 4 0-5 0 4 0-4 0 3 1-2 0 4 1-5 1 3 2-1 0 3 0-2 1 0 0 2 0-4 1 2 0-3 0 5 0-2 1 0 0 0 0-2 0 2 1 1 0 1 0-1 2-2 0 2 1 1 0-1 1-4 1 1 0-1 1 5 0 0 1-3 0 3 0-3 0 0 1 3 1-3 0 9-1-4 0 2-1 0 0-3-4 1 0-1 0 2 0-1 0-1-1 5 0-2-2-3 0 1 0-1-1 4-1-2 0-1-1 0-1 1-1 1 0-3-1 1-1 0 0 0-1 0-1 0-1 1-1 0-1 1 0 0-2-3 0 0-1 1 0 3-1-3-2 0 0 2-1-3-3 0-1 3 1 3 3 1 19-1"/>
<path class="pt" d="M1465.5 591.5l3 0 2 0 2 0 2 0 9 0 3 0 6 0 3 0 0 0 0 5-4 1-6-3-5 3-7-3-10 7 15 0 1 0 4 3 1-1 7 6-1 0-13-2-9 2 0-3-2 5-1-1 0 4 3-1 0 4 0-2 1-3 1 3 1 2 6-2 0 2 2-4 8 2 7 1 0 1-1 5-1-2-10 1-3 1-7-3-3 1 2 8 3-3 10 0 3 2 8-3-7 10-5-2-1 1-7-3-11 1 2 9 4-1 0-1 2 0 1 1 5-3 6 0 8 1 4 0 0 7-2-1-2 2-2-2-3 3 0-3-2 1-1 0-4-2-2 0-1 0-4 3-4 1-5-4-1 6 7 3 13 2 4-2 1 1 4-1 2 7-1-3-1-1-4 1-5 1-7 0-1-1-5 3-5 0-2 3 2 4 2-5 0 1 2 2 4 0 7-2 11 3 0-3 3-1 1 1-2 7 0-2-6 5-1-5-1 1-3 3-15-1-1 1 0-4-1 3-1-3-1 0 0 3 0-3 7 10 1-3 3 2 1 0 0 2 3 0 2-1 1 0 9-3 0 2 2 2 1-1 0-4-3 9 0-3-6 5-5-4-5 0-3 3-4 0-2 1-2 3 3 1 6-3 3 5 1 0 2-3 2 3 0-3 3 3 3-1 2-1 1-1 3-2 1 4 1 5-3-1 0 2-2 1-1-3 0 3 0-1-8-4-1 5-2-3-1 2 0-3-6 3-1-3-1 3-2-1 0 0 0 2-1-5-1 1-1 3 1 5 1-3 0 4 2 1 0-5 1 5 1-4 1 2 2-1 1 0 1 0 2-2 2 3 1-3 7 5 3-4 1 0 5 3 0 5 0-2 0 1 0 3 0-3-2-1 0 1-2 2 0-3-4 1 0 1 0-3-1 0-1 2 0 3 0-2 0 0-1 0-1 1 0-1 0-1-2 3 0-3-1 1 0-3-1 0 0 2-1 3 0 0 0-5 0 3-1-1-1-1-1 3 0 0-1-2-2 0-2 3 0-5 0 3-2-2 0 3 0-1-1-3 0 2-2 0 0 2-1 0 0-4 1 7 0 2 0 0 3-1 5 0 1 2 1 0 0 0 1-2 0 1 1 2 1-2 1 0 2 2 0-4 1 1 1-1 0 4 0-5 1 4 4-1 0-1 2-1 1 3 0-4 4 2 0 0 0 1-3 7-4 0 0-2 0-1-1 3 0-4-2 4-1 1-3-1 0-1-1 0-2-3 0 3-2-2-1 2-1 0 0-1-2 1 0-2-1 0-3 3 0 1-1-1 0-3-1 0 0 2 0 1-1 0 0-1 0 0 0 4 2 3 0-4 3 0 1 5 1-3 0-1 1 3 0 0 4-4 0 0 2 4 2-4 0 5 1-2 0-2 0-1 0 1 1 0 0 4 1-5 0 2 3-1 0 4 1-4 1 2 0-2 2 0 0 2 0-3 0 3 0-1 2 0 1-1 2 5-2 3-1-3 0 0-2 0-1 0-1 3-2 0 0 2 0-2-1 1-2-4 0 2-1-2-1 4-1 0 0-2 0 3-1-4 0 4 0-2-1-1-2 1-2-3 0 0-1 1-1 1-1 0-1 0 0 3 0-3-1-2 0 2 0 1 0-2-2 4 0-4-2 0 0 3 0 1-1-1 0-2 0 0-1 2 0-3-1 0 1 6 0 3 1-3 0 1 1-2 0 0 1 4 1-4 0 4 2-1 0-3 0 0 3 5 0-1 1 1 1-4 0 1 0 0 0 2 2 0 0 0 0 0 0 1 0-3 0-1 4 1 1 0 1 1 0-3 1 0 0 0 2 2 2-2 0 5 0-2 1 1 1 0 0-2 0-1 0 2 1-2 1 0 1 4 0-4 1 2 0-2 0-1 1 0 0 4 0 1 0-4 0 2 1-1-1 4 0 4 0-4-1 0-2 3 0-1-1 2-2-3 0 4 0-4-1 0 0 3-1-1-1 0 0-3-1 4 0-3-1-1 0 4-1 0 0-4 0 5-1-3-1-1 0 2-1 1 0-4-1 0 0 5 0-5-1 1-2-1 0 3-1-1-2-2 0 4-1 1-1-4-1 3 0-4 0 2-2 1-1-1 0 2 0-1-1-1 0 0-1 3-1-3 0 1 0 2-1 1 0 3 0 0 1 1 1-1 0-3 0 2 1 0 2-1 0 3 0 0 0 0 1-2 0-1 2 2 1 2 2-3 1 2 0-3 1 3 0 1 1-2 0 1 1 1 0-1 1-2 0 1 0 0 1 0 1 2 0-3 1 1 0-1 0-1 1 4 0-4 0 3 0-4 1 3 1-2 0-1 1 5 0-3 0 2 1 0 0 0 0 0 0-3 2 3 1-2 0 1 5 5 0 1 0-3 0 0 0 5 0-5-1 5 0-2 0 1 0-2 0 3 0-1 0-3-1 0-1 2 0-3 0 4-1-3 0 2 0 1-1-4 0 3 0 0-1-2 0-1 0 0-1 2 0-1-1-1 0 4-2-1 0 1 0 0 0-1-1-2 0 3 0-1 0 0 0-2-1 2 0 1 0 1 0-2-1-3 0 4-1-1 0-2 0 1 0-2 0 2 0 2-2 0 0 0 0-2-1 3 0 0-1-4-1 1 0-2-1 2 0 3 0-2-1-3 0 0 0 3 0-1-1 2 0 1 0-4-1 1-2 0 0 0-1 1 0 2-1-1 0-2 0 3 0-4 0-1-1 3-1 1 0 0-2-2 0 3 0-5-1 0 0 2 0 8 0-3 0 4 2-3 1 1 0 0 1-1 0-2 0 1 2 1 0-1 1 1 0 2 1-3 1 1 0 0 1 0 1-1 1 2 0-3 0 5 0-1 1-3 0 0 1 2 0 1 2-3 1 1 1-1 0-1 0 5 2-3 1 3 0-5 1 2 1 1 1 2 0 0 0-4 2 1 0-2 0 1 0 2 0 2 1-2 1-1 0-2 0 0 1 1 1 0 0-1 1 5 0-5 0 2 0-1 1 0 0-1 0 2 0-2 0 1 0 3-1 4-1 3-1 0-2-4-1 0-1 2-3 0 0-1-1-1 0 0-1 4-3-4-2-1 0 3-2-1-1 2-3-4-1 0 0 3-1 1-1-2-1 0-1 2-3-2 5 4 2 1 20-1 3 1"/>
<rect x="1208.3" y="709.6" width="48.2" height="43.6" fill="#85ceb7" fill-opacity="0.3"/>
<rect class="bx" x="1207.7" y="709" width="49.4" height="44.8" fill="none"/>
<path class="md" d="M1207.7 735H1257"/>
<rect x="1290.5" y="703.6" width="48.2" height="48.3" fill="#fda481" fill-opacity="0.3"/>
<rect class="bx" x="1289.9" y="703" width="49.4" height="49.5" fill="none"/>
<path class="md" d="M1289.9 733.8H1339.3"/>
<rect x="1372.8" y="700.6" width="48.2" height="49.3" fill="#a4b3d5" fill-opacity="0.3"/>
<rect class="bx" x="1372.2" y="700" width="49.4" height="50.5" fill="none"/>
<path class="md" d="M1372.2 731H1421.6"/>
<rect x="1455.1" y="690.6" width="48.2" height="56.8" fill="#eca1cf" fill-opacity="0.3"/>
<rect class="bx" x="1454.5" y="690" width="49.4" height="58" fill="none"/>
<path class="md" d="M1454.5 726.3H1503.8"/>
<rect class="pb" x="1183" y="573.8" width="345.5" height="204.2"/>
<text class="t yl" x="1178.4" y="775.3">0</text>
<text class="t yl" x="1178.4" y="715">20</text>
<text class="t yl" x="1178.4" y="654.6">40</text>
<text class="t yl" x="1178.4" y="594.3">60</text>
<path class="tk" d="M1180.4 772.3h2.6M1180.4 712h2.6M1180.4 651.6h2.6M1180.4 591.3h2.6M1232.4 778v2.6M1314.6 778v2.6M1396.9 778v2.6M1479.1 778v2.6"/>
<text class="t xl" transform="translate(1232.2 782.8) rotate(-45)" dy="6.2">&lt;5</text>
<text class="t xl" transform="translate(1314.4 782.8) rotate(-45)" dy="6.2">5~10</text>
<text class="t xl" transform="translate(1396.7 782.8) rotate(-45)" dy="6.2">11~20</text>
<text class="t xl" transform="translate(1478.9 782.8) rotate(-45)" dy="6.2">&gt;20</text>
<text class="t ti" x="1183" y="565.5">As by Employment_duration</text>
<text class="t at" x="1355.5" y="815.5">Employment_duration</text>
<text class="t at" transform="translate(1163.8 675.9) rotate(-90)">As concentration (μg/L)</text>
<text class="t sg" x="1229.2" y="583">****</text>
<text class="lt" transform="translate(1500.3 822) scale(1.119 1)">C</text>
</g>
<g>
<path class="gn" d="M40.8 1009H380.8"/>
<path class="gn" d="M40.8 968H380.8"/>
<path class="gn" d="M40.8 926.9H380.8"/>
<path class="gn" d="M40.8 885.8H380.8"/>
<path class="gm" d="M40.8 988.5H380.8"/>
<path class="gm" d="M40.8 947.4H380.8"/>
<path class="gm" d="M40.8 906.4H380.8"/>
<path class="gm" d="M40.8 865.3H380.8"/>
<path class="gm" d="M89.4 848.8V1026.5"/>
<path class="gm" d="M170.3 848.8V1026.5"/>
<path class="gm" d="M251.3 848.8V1026.5"/>
<path class="gm" d="M332.2 848.8V1026.5"/>
<rect x="65.1" y="959.8" width="48.6" height="35" fill="#85ceb7"/>
<rect x="146" y="964" width="48.6" height="33.5" fill="#fda481"/>
<rect x="227" y="966.3" width="48.6" height="32.5" fill="#a4b3d5"/>
<rect x="307.9" y="964.3" width="48.6" height="32" fill="#eca1cf"/>
<path class="wk" d="M89.4 959.8V910.8M89.4 994.8V1017.7"/>
<path class="wk" d="M170.3 964V914M170.3 997.5V1017.7"/>
<path class="wk" d="M251.3 966.3V918.3M251.3 998.8V1017.7"/>
<path class="wk" d="M332.2 964.3V917.8M332.2 996.3V1017.7"/>
<path class="pt" d="M90.5 887.5l-14-1 19 10-1-1 0 1-1 1-4 1-11-1-5-2 4 7 7 3 21 0-1 2-3 4-1 0-2-4-4 2-4-3 0 1-4 2-1 2-5-1-2-3-1 3 0 1 2 2 1 4 9 0 5-4 6 2 0 1 1-1 1-3 2 2-6 6-1 0-2 1-1 0-2-1 0 1-1 0-1 0-3-3 0 2-3 3-1 0 0-2-5 0-1 1-3-1 2 7 1-4 2 1 0 2 5 2 4-2 0-3 1 0 1 4 1-3 1 4 4-4 2 3 0-1 0 2 1-4 3 1 0 2 0 0 1-4 2 10-5 1-1-2-3 1-1-3 0 1-2 1-2-3-2 2-2 2-4 0 0-4-1 5-1-1 0-2 0 1 0-3-6 0-2 1 1 7 0 1 0 1 1-3 2 3 4-1 1-2 0 1 2-1 0 4 1-2 0 1 1 1 4-5 1 3 1-3 2 5 0-3 3 1 0 0 5-1 2 1 1-3-2 11-4-4-5 4-4-5-2 4-1 1-1-4 0 4-3-3-1 2 0 1-1 0-1-4-2 2-1 0-2-2-1-1 0 3 0 3 2 5 0-2 1-1 4-2 0 1 1 4 1-5 3 1 0 0 1 1 1 1 0-2 1 4 1-1 1 1 1-1 0 1 1-2 2 2 0-4 1 3 2-1 2 1 1-1 1-3 0 5 4-3-2 7 0-1-1 2-1-1-2-3-2 4 0 0-2 0 0-1-2 1 0 0-5-4-3 5 0-2 0-1-1-1-1 1 0 0-4 1-2-1-2-1-2 3-1 7 2-5 0 1 1 2 0 0 1 1 0-4 2 1 1 0 1 3 1-1 4-3 0 5 0 0 1 0 0 0 1-5 0 5 1-4 1 4 0-4 2 1 1-1 0 3 0-2 0 0 1 3 1-2 1 0 4-2 1 0 1 3 0-1 0 1 0-3 0-1 0 4 1-1 0-1 0 2 1 0 0-3 1 10 0-5-1 4-1 0 0 0-1-2 0-2-1 2-1 2 0-3-2-1 0 2-1 2-2-2-1 1-2 2 0-2-2-2 0-1 0 1-2 2-1 1-3-1-1 2-1-4 0 1-1 3 0-3-1 0 0 2-1-3-1 0 0 1-4-2 0 2-1 3 1 1 0 2 0 0 1 2 0 0 1-2 0-2 1 5 0 0 1-3 1-2 1 5 0-4 0 0 1 0 1 4 0-3 0 1 0-1 0 2 0 0 1 1 0-4 0 1 0 3 1-3 1 1 0 0 0 2 1-3 1-1 1 2 1-2 0-1 6 1 0-1 1 5 0-3 0 2 1-4 1 1 1 0 0 1 1-1 0-1 1 5 1-5 0 0 1 3 0 2 0-1 2-4 0 0 0 6 0 3 0 2-1 0 0-1 0-2 0 3-1-1 0 1 0-2 0 2 0 0-3-4 0 4-1-4-1 3-1-3 0 3 0 1 0-3 0-2 0 1 0 4-1-3 0 2 0 1 0 0-2-1-1-1 0-2-1 0-2 2-1 2 0-2-1 1-1-4 0 2-2 3 0-5 0 2 0 0 0-1-1 2-1 2 0-1-1-4 0 3-1-3 0 4 0-2 0 3 0-3-1 2 0-3-1-1 0 2 0 2-1-1 0 0-1-2-1 0-1 0-1 0 0 1-1 0 0 6 1-2 0 3 1-1 0 3 0-3 1 3 0-3 0 3 1-3 0 0 1 3 0-3 0 0 0 2 0 1 0 0 1-3 1-2 0 4 0-4 0 4 0-2 1-2 1 4 1-2 0 0 0 0 0-2 0 4 1-1 0 2 1-2 0 1 1 1 0-5 0 2 0 0 0 0 1 0 0 0 0-2 0 0 0 1 1-1 1 2 0 1 0-3 1 5 0-3 0-1 0 3 0 1 1-2 0-3 0 2 1 0 0 1 1-1 1 0 0 2 0-3 0 4 2-3 0 3 1-4 3-1 0 4 0 1 1 0 1-5 0 4 0-2 0 2 0 0 1-1 0 2 0-2 1 1 0 1 1-3 1 3-1 1 0 4 0 1-1-3 0 0 0 0-2 1 0 0-1-3 0 0-1 3 0 2 0-1 0-1-1-3 0 0 0 1-1 4 0-5-1 4 0-4-1 0 0 2-2-2 0 1-1 3 0-4-1 2 0 3-1 0 0-3 0 2 0-1 0 1-1-2 0 0 0-2-1 0 0 3 0-3-1 1 0 3 0-3 0 4-1 0 0-1-1-4 0 1 0 0 0 2 0-2-1 4 0-2-1-1 0 2-1 0 0 1-1-2 0 2 0-4 0 1-1 1-1-2 0 0 0 3 0-1 0-2-1 4 0-2 0-2 0-1-1 4-1 1 0-1-1-2 0 0 0-2-1 5 0-4 0 0-1 3 0-3 0 4 0-5 0 2-1 3 0 1 1 5 0-1 1 0 0 0 0-3 0 2 0-2 0 0 1-1 0 1 0 3 0 1 0-3 1 0 0 0 0-1 0 3 0-2 1 1 0 1 0 0 0-1 1-3 1 0 0 4 0-2 1 1 0-1 0 1 1-1 1 0 0 0 0-1 0 1 1-1 0 1 1 1 0-3 1 5 0-1 0-1 0-2 0 1 0 1 1 1 0-4 1 1 0-1 0 0 0 1 1 3 1-3 0 3 0 0 1 0 0 0 0-2 0 3 0-3 1-2 0 1 1 1 0 0 0 0 1 2 0 0 0-1 1-1 1-2 0 3 1 0 0-3 1 0 1 4 0 0 0-2 0-2 1 1 0 4 0-5 0 4 0 1 1-1 0-3 0 0 1-1 0 1 0 3 0 0 1-2 0 0 0-2 0 0 0 0 1 3 0 1 1 0 0-3 0 6-1 2 0-1 0-1-2 2 0-2 0 2 0 0 0-3 0 2-1 1 0 1-2 1 0-5-1 3 0-3 0 4-1-3 0 0-2 1 0 0-1-1-1 3 0-3-1-1 0 3-1 0-2 2 0-5-1 1-1-1 0 2 0 3 0-2-1 0 0 0-2 2-1-3 0 1 0 0-2-3 0 5 0-2-1 2 0-3-1-2-3 0-1 3-1-1 1 8 2-2 0 1 1 2 2-1 1-1 1 0 2-3 2 1 1 0 0-1 3 1 1 1 1 3 3-5 3 2 1 0 4 1 0 0 1-2 0-1 1 8-8-1 0 2-13-2-6 0-1 0-1 0"/>
<path class="pt" d="M159.5 870.5l26 6-11 6-10 6 8 5 4 0 1 6-15-5 0 0-8 11 4-1 3-3 6 3 6-1 13-2 0 10-3-4-1 4-3-5-18 0-2 9 7-1 4 0 4 3 2 0 0-2 6 2 0 0 2-2 1-3 1 1-1 7-1-1-5 2-1 1-8-2-1 0 0-1-3-1-2 4-3 0-2-4 0 2 0 1-2-1-1 0-1 3-1 4 1-3 4 4 0 1 1-3 1 1 2 1 4 0 2-4 0 5 0-1 1 0 2-4 1 5 3-2 0-3 1 2 3 1 2-1 3 0 1 0-1 8-1-4 0 0-1 3-3-1-2 1 0-1-1 3-7-1-1 1-2-5-3 1-6 0 0 1-1-1-1 0-1 4 0-1 0-2 0-1 1 8 1 2 3-5 2 0 2 5 3 0 1-1 3 1 6-3 2-2 1 4 0 0 2 0 2 0 0-3 0 0 2 5-7 2-1-2-2 2 0 0-1 0-4-1-2 0-1 0-2 4 0-4-2 1-3-1-3 2-3-1 0 5 5-1 2 3 0-1 4 1 1 1 1-2 2-2 1 2 1 3 0-5 0 2 5 1 4-3 2 3 2 6-1-3-1 1-1 0-1 4-6-4-1 1 0-1 0 0-1-1-3 4-1-3 0-1-1 3 0 1-4 0-2 1-2-1-3 0-1-3-2 1 1 6 1 0 0 3 0-3 2-2 0 1 1 1 1 1 0 1 0-3 0 4 1-4 0 1 2 3 0 0 1-5 1 1 3 4 0-1 1 0 0-3 0 2 1 1 1-1 1-1 0-1 1 1 1 1 3 2 1-1 0-2 0-1 0 1 4 3 0-4 2 1 0-1 1 3 0-2 1 1 0-2 0 5-1 5 0-5 0 5 0-3-1 2-1-2 0 0-1-2 0 1-1 4-1 0 0-3-1-1-1 3-1-1-1 2-1-5-1 5-1-5 0 5 0-4-1 3-1-4 0 1 0-1-1 1-1 3 0 0-2 1-1-4-1 3 0 0-1 1-2-4-1 3-1-4-2 3 0 2 0-5-2 1-1 3 0-4 0 8 0-2 1 1 0 3 0-2 0 0 0 2 0 1 0-1 1 1 2 0 1-3 1-2 0 5 1-1 2-2 0 2 1-3 0 3 0-2 1 3 1-2 1-1 1 2 0-4 2 3 2 0 1 1 1-1 1-3 0 5 1-4 0 4 1-5 0 4 2-2 0 3 0 0 0-2 0 1 0-2 0-1 1 1 0 0 0 3 0 0 1 0 0-3 0 0 1 1 0 1 1-4 1 3 1-1 0 0-1 7-1 1-1 0-1-1 0 1 0-4 0 2-1 2 0-2 0 0-1 1 0 0 0-1-1-2 0 3 0-3-1 4 0-3 0 4-1-5 0 0 0 2-1 0-1 1 0-2 0 0-1-1 0 1-1 2 0-3 0 3-2-2 0 1 0 3 0-3 0 3 0-4-2 0 0-1 0 5-1-2 0-1-1 0 0 0 0 1 0-2-1 0 0 3 0 1 0-5 0 3 0-3-1 5-1-4 0 0-1 1 0-1 0 3-1-2 0-1-1 0 0 4 0-5-1 0-1 4 0-3-1 1 0-2-2 3 0 1 0 1-1-5 0 2-1 9 0-1 1-2 2 0 1 1 1 0 0 0 0-1 0 3 0-5 1 5 1-1 1-4 3 2 0 1 1 2 0-4 0 3 0-1 1 1 0 0 0-4 1 1 0 0 0-1 2 4 0-2 0 3 0-2 1-1 1 0 1-1 1 3 1 1 0-3 0 2 1-1 1-1 0 1 0-2 1 4 0-3 1-1 0 4 0-2 0-1 1 3 0-2 1 2 0-3 1-1 1-1 0 4 0-2 1 1 1-2 0 4 0-3 0-1 0 4 0-1 1 4-1 2 0-1 0 2 0-5-1 3 0 0 0 0 0-2 0 3-1 0 0-2-1 2-1-1 0-2 0 4-1 0-1-5-1 3 0 2 0-3 0 2 0-3 0 1-1-1 0 1-1-2 0 3 0-1-2 1-1-1 0-1 0-1 0 3 0 2 0-5-1 1 0 1 0-2 0 4 0 0 0-2-1 1-1-2 0 4 0-1-2 0 0 0 0-3 0 3-1-2-1 0 0 3 0 0 0-1 0-1-1 2 0-5-1 1-1 2 0-3 0 2-1 2 0 0 0 0-1 1-1-3-2-2 0 5 0 0 0-5-1 5 0-4 0 2-1 2 0-4-1 0 0 1 0-1 0 0-1 0 0 8 1 0 0 1 0-3 0 3 0 0 0 0 1-1 0 1 0 1 0-5 0 0 1 3 0 1 0-1 0 1 2-4 1 2 1 3 0-3 0-1 0 2 0 2 1-4 0 0 0 3 0-1 0 1 1-1 0 2 0-3 0 3 1-3 0 0 1-2 1 4 0 1 1 0 0-5 1 3 0 1 0 1 1 0 0-2 0 0 0 1 1-1 0-3 0 0 1 5 0-1 0-1 0 2 0-2 1 0 0 1 2-4 0 1 0 2 1-1 0 0 0 0 0-1 0 3 0-4 1 2 1 2 0-4 1 3 1 2 0-2 0 0 1 2 0-3 0-2 1 4 2 1 0-1 0-1 1 1 0-4 0 4 0-4 1 5 0-2 0-2 0 0 0 0 0-1 1 1 0 1 0 3-1 3 0-1 0 4-2-1 0 1 0-5-1 4 0 1 0-2-1-3 0 0 0 4-1 0 0-1 0 1-1-3 0 1-1 0-1 1 0 2 0-4 0 3-1 0 0-1 0-2 0 2-1-3-1 3-1-1-1 2 0-1-1 0 0 2 0-3-2 2 0-4 0 2 0 0-1-1 0 1-1 3 0-3 0-1 0-1-1 0 0 0-1 0 0 0 0 0 0 1 0 0-1 0 0 0 0 0 0 0-1-1 0 2-1-2-1 0 0 4-1-4-1 1 0-1 0 0 0 5-1-2 0-1 0 3 0-2-1 0 0 0 0-2-1 1 0 1 0-3-1 4 0 0-1-2 1 7 1-3 0 4 1-4 0 1 0 0 1-1 4 3 1-3 1 0 1 0 0 1 2 1 0 2 1 0 2-2 1 0 0 2 2-2 1-2 0 0 1 3 0-1 1 3 1-5 1 2 1-1 1 0 1-1 1 5 2-5 0 5 2-3 0-1 0 1 0-2-2 8-9-2-2 1-8 2-9-2"/>
<path class="pt" d="M249.5 886.5l-7-2-6 5 9 13 4 1 15 0-7 3 0 3-4-3-16 4-2 3 2-1 0 5 1-2 3 2 6-3 14 0 5 3 1 6-4-5-8 5 0-1-2 1-2-5-4 0-4 1-2 2-1-1-1-1-1-1-1 5-2-1 4 2 2 3 1 1 1-4 4 1 2 3 0-3 0 1 7 2 0-4 5 0 3 5 3 2-3-1-5 3-5 2-1-3-5-1 0 4-2-3-1-1-3 4-6 2 6-1 3 3 1 2 0-4 1 4 1-4 6 2 2-2 1 4 2-2 2-1 0-1 3 4 2 5-1-1 0-1 0 1 0 0-4 0-3 0 0 2-1-5-1 1-4-1-1 2 0-1-2-1-2 2-1 1-1 1 0 1-3-3-1 0-1-2 0 2-1-1-3 3-1 7 1-4 0 3 1-2 1 3 4-4 1 4 2-3 0 0 4 1 1-1 4 2 2-1 0 1 0-1 1-3 2 5 1-4 1 4 3-2 2 3-3 0-6 4-2-2-2-1-1 0-2 0-1 1-2 1 0 2-1-2 0 1-3-1-2-2-1 0 0 2-2-3-1 4 0-3 0 2-1-2 1 7 0 0 2 3 3-3 2 0 0 1 1-1 1 1 3-1 4-1 4 3 1-4 4 5 2 0 0-1 2 0 0-2 0 2 1 7 0-5-2 0 0 4-2-2 0 1-1 2 0-4-1 0 0-1-1 1-1 1 0-2-2 2 0-2-1 5 0 0 0-1-1-3 0 1-2-2-1 5 0 0 0-2-2 2-1-4-1 3 0 1 0 0-1-3-1-1-1 1-1 2 0 1-1 0 0 0 0-3-2 0 0-1 0 4-1-1-2-1 0 2 0-4-1 3-1-1 0-3 0 3-1 8 1-4 0-1 0 3 1-1 1 3 0-2 1-1 1 3 1-1 1 0 1 1 0-3 1 3 1-5 0 1 1 3 1 1 0-2 0-1 1 3 0-3 1 1 0 0 0 1 0 1 0-3 0 0 1 2 0 1 0-2 2 1 0-3 1 1 2-1 1 2 0 1 0-3 1 2 0 2 1-2 0 2 0 0 0-3 1 2 1-4 1 4 0-2 1 2 0-3 0 2 0-2 0 3 0-3 0 1 0 2 1-2 0-2 1 5 2 0 1-1 0 1 0 5-1 1-1-2 0-1 0 2-1-3-1 2 0 1-1 0-1 1 0 0 0-4 0-1 0 4 0 1-1 0-1 0 0-3 0-2-1 0 0 3-2 0 0-3 0 1 0 3-1-1 0-1 0 1-1 1-2-3-1-1 0 0-1 1 0 1 0 2 0-3 0 4-1 0 0 0 0-2 0-3-1 1 0 4-1 0-1-2-2 1 0-1 0 1 0 1-2 0-1-3 0-2 0 2 0 0 0 3 0-5-1 5 0-4 0 2 0 2 0-2-1-2 0 4 0-5-1 2 0-1 0 4-1-2 0 2 0-1 0 1 0-2 0 0 0 0-1 1 0-3-1 0 1 5 0 3 1 1 2-4 1 5 0-1 0-2 1 3 0-2 0-1 1 1 1 2 0 0 1 0 0-1 0-2 0 3 1-2 0 2 0-3 0 1 1 1 1-1 1-3 1 3 1 0 0 0 1 1 0-1 0 1 1-4 0 4 0-1 1-3 0 1 0 2 0 0 1-1 0 2 1-4 1 5 1-4 0 1 0 3 0-4 0 0 1 1 0-2 0 0 1 2 0 0 0 3 0 0 1-2 0-2 0 4 1-3 1 1 0-1 0 1 0-1 0 0 0 3 1 0 0-2 1-1 0-1 1 1 0-2 1 5 1-2 0-3 0 6 0 5 0-3 0-1-2 3 0-3 0 0 0 3-1-2 0-2-1 1 0-1-1 5-1-2 0 1 0 1 0-3-1-1 0 0-1-1 0 2-1 3 0-4 0 3 0 0-1 0 0 1 0-3-1 3 0-4 0 2-1 2 0-4-1 4-1-3 0 2-1-1 0-2 0-1 0 4 0-3-1 3 0 0 0 0-1-2 0-1-1 4-1 0-1 0 0-3-1 3 0-1-2-3-1 4 0-3-1-1-1 2 0 2 0-4-1 3 0-3 0 0-1 0 0 3 0-2 0 0-1 0 0 3-2-1 0-1 0 2-1-3 0 9 1-2 1 2 0-2 1 1 0-3 0 2 1-3 0 4 1-2 0 3 1-1 0-3 0 4 1-4 0 1 0-2 1 2 0-2 1 2 1-1 0 3 1 1 0-3 0 3 1-4 0 2 0 2 1-2 0-2 1 0 0-1 0 5 1-2 0-3 1 5 0-3 1 1 1-1 1 2 0-3 0 2 1 0 0 0 0 1 0-3 2 3 0-2 0 1 0-2 1 3 0 0 1-2 0 0 0 2 0 0 1 1 0 0 1-1 0-3 0 4 1-1 1-3 0 3 0 0 1 1 0-3 0 2 0 1 1-4 0 2 1 1 1-1 0-1 0 7 0 1-1-3 0 1 0 3 0-4 0 0 0 0-1-1 0 0 0 2 0-1 0 0-1 1 0-2-1 4 0-3-1 0 0 2 0-3 0 1 0 0 0-1-1 4 0-4-1 3-1 1 0-1 0 1 0 0-1-3 0 2-1 1-1-1 0-2-1 1 0-2-1 3 0-1 0-2 0 5-1 0 0-3 0 0 0-2 0 5-1-3 0 1 0 1 0-4-1 4 0-1 0-1 0 0 0 2 0 0 0-4 0 3 0 2-1-4 0 0 0-1-1 2 0-2 0 1 0-1 0 3-1 2 0-3 0 2 0-3-1-1 0 2 0-2 0 0 0 5-1-3 0-1-1 2 0-2 0 1-1 1-1-3 0 2-1-1 0 2 0 2-1-3 0 1 0-1 0 0 0-1-1-1-2 3 0 0 0-2-1-1-1 3 0 1 0 1 0-2 0 6 0 0 2-1 0 0 0 2 1-3 1-1 2 2 1 0 1-1 2 4 0-5 1 2 0-1 0-1 1 3 0-3 0 1 3-1 0 4 1-4 0 2 1 2 1-2 1-1 1-1 0 0 1 2 0-1 1-1 1 5 1-4 0 3 0-1 1 0 1-2 1 3 0 1 2-5 1 0 1 3 0 0-1 3 0 2 0 0-2 1-1-1-2 0-4 2-1-1-1 0-2 0-1-2-1 2-1-3-4 1-1 0 0 2 0-3-1 2-2 0-1-1-5 2"/>
<path class="pt" d="M321.5 872.5l10 16 4 4-16 4 8 9 11 4-10-2-7 3-3-1 1 6 0-2 5-1 3 3 0-3 3 4 5-2 0 0 3 2 1 0 3-1 4 2 1 0 1-1-1 5-2-1-1 2-2-3-3 3 0-3 0-1-2 4-7-1-3 0 0-2-2 1-1-1-1 0-1 1 0 9 1-5 0 4 4-2 1 0 2 3 1-2 0 0 1-1 5 2 1-3 8 2 0 8-1-2 0 2-1 0 0-1-1-1-1-1-2-2-2 4-4-3 0 2-1-3 0 4 0 1-3-5 0 0-2 3 0-3-1 3-3-3-1 2-2 1-1-3 0 5-2-4 0 0 0 9 0-1 3 1 3 0 4-4 0 3 1 0 1-3 1 2 1 0 2-1 1 0 4 0 2-1 3 5 2-2 1-3 0 3 1 1-4 5-1-2-4 1-3 1-4 0-1 1-5-3-1 1-1 2-1-3-2 1-3 2-2-1 0 7 4-4 2 3 5-2 0 2 1-3 2 3 0 2 2-2 0 1 1 1 0-1 1 1 1-1 1 1 0-4 0 0 3 4 0-5 2 0 1 4 0-3 1 3 0-3 2-1 0 5 3-1 0 1-2 2-4 2-3 2-1-4-3-1-1 4-4-4-1 1 0 1-1 1 0 0-2 0-3 0 0 2-6-5 0 7 2 3 0-2 2-1 0 3 3-3 1-1 0 0 1 5 0-2 0-3 3 5 0-2 1 1 0 0 0 0 3-3 1 4 1-3 1 2 0 1 0-3 2 0 0 3 1 0 1-4 1 3 0-4 1 4 1 1 3 0 0-3 1-1 1 3-1 5-1 1-1-1 0 1 0 1 0-5-1 4-1-1-1 0 0-3-1 0 0 3-1 0 0 2 0-2-1 1-1-2 0 3 0-4 0 4-1-5 0 4-1 1-1-4-1 4 0 0 0 0-1-4 0 4-1-1 0-3-1 4-1 0-2 0-1-3-2-1 0-1-1 2 0-2-1 0-1 4-1 1 0-4 0 2-2-1 0 3 0-1 0 0-1-3-1-1-1 11 0 0 1 0 1-1 0-2 0 1 0 0 0-2 0-1 0 5 0 0 2-2 0 0 0 0 0-2 0 2 0 0 0-2 1 3 0 1 0-2 1-2 0 2 0 0 1 2 0-2 0-2 0 0 1 4 0 0 1-1 0-4 0 0 1 4 0 0 1 1 0-5 0 5 0-2 0-3 0 1 1 0 0 4 0-1 0-1 1 1 0-2 0 1 1-2 0 0 0 4 0-2 0 0 1 2 1-2 1-1 0 1 2 1 0-1 1 2 0 0 0 0 0-2 1 2 0-2 0-3 0 5 0-5 1 0 2 3 0-1 1 1 0 1 0-1 0 1 0-3 1 2 0-3 0 3 0 0 1-1 1 0 0-1 0 1 1-2 0 1 0 4 1-3 1 0 0-2 0 5 0-1 1-1 0-3 0 8 0 0-1-1 0-1 0 3-1-3 0 1-1 0-1 3 0-3 0 3 0-4-2 5 0-5 0 3-1-2 0 0 0 4-1-1 0-4-1 0 0 4-1-2 0-2-1 0 0 4 0-4-1 2 0-2 0 1-2 2 0 0-2-3 0 3 0 1-1 0-1 0 0 1 0 0 0-2-1 0-2-3-1 3 0 0 0 0-1-3 0 4-2 0 0-2-1 1 0 2-1-4 0 3-1-2 0 0 0 0-1 2 0-4 0 2-1 2 0 1 0-5-2 1 0 2 1 7 0-2 2-2 0 5 1-2 0-2 1-1 0 5 0 0 1-4 0 2 1-1 0 0 0 2 0 1 1 0 0-4 0 1 1 0 0 2 0-1 0-3 0 3 1 1 0-3 0-1 1 0 0 3 0-1 1 2 1-4 0 2 0-2 2 4 0-4 1 2 0-1 0 1 1 0 1-2 1 4 1-2 1 3 1-4 1 4 0-3 1 3 0-2 0-1 1 1 0-2 1 0 0 1 1 3 0-5 0 1 0 1 2 2 0-3 1 3 1-2 0 3 1-2 0-3 0 8-1 0 0 1-1-3-1 2 0 0 0-1 0 3-1-2 0-1-2 3 0-3 0 3-1 0 0-1-1 2-1-3 0 2 0-2-1-2-1 2 0-1-1-1 0 5 0-3 0 0-1 2 0-3 0 3 0 0-1-2 0 1-1-2 0 4-1-5 0 5 0-1 0-4-1 5-1-5 0 1-1 2 0 0 0-3 0 2-1 2 0-3-1-1 0 4 0-2-1-1 0-1 0 3-1 1 0-1-1 2 0-4-1 4 0-4-1 4 0-4 0 2 0 2 0-1-3 0 0-3 0 4 0-2 0-3-1 0 0 3 0 0 0-3 0 4 0 0-1 0 0-1 0 0 0 0 0 1-1-3 0 1 0 7 0 0 0 0 1 0 0-2 0 4 0-3 1 1 0-3 1 5 0-2 0-3 0 1 0 1 1 1 0 1 0-4 0 0 0 0 1 4 0 0 1-1 0-1 0 1 1-3 0 4 0 0 1-2 0 3 1-3 0 2 1-2 0-2 1 5 1-5 0 2 0-2 0 1 0-1 1 3 1 0 0 2 0-1 1-4 2 4 0-2 0 2 0 1 1-4 0 4 0-1 0-2 0-1 0 3 0-1 0 0 0 2 1-3 0 3 0-1 1 0 0-1 0 0 0 2 2-5 0 1 0 1 1-1 0 2 0 2 1-5 0 1 0 0 0 4 0-4 2 0 1 1 0-2 0 1 0 0 0-1 0 1 1 2 0 0 2 1 1-1 0-1 0-1 1 4 0-2-1 3-1 0-1 2-1 0 0 3-1-1 0-4 0 1 0 2 0 2-2-4-1-1-1 0-1 0-1 3-1-3 0 4-1 1-1-5-1 5 0-4-1 2 0-2-2 3 0-4 0 4-1-3 0 0-1 3-1-4 0 0-2 1 0-1-3 3 0 0-1 2 0-3-1 2-1-2 0 1 0-3-1 5-1-4 0 1 0 0 0 3 0-4 0 2 1 6 0-3 1 5 1-5 2 0 1 4 2-2 0 1 1-2 0 0 3 1 0 0 2-2 1 1 1-1 1 5 1-3 2-2 0 2 2-2 0 4 2-1 0 2 2-2 0 0 0-2 2 4 1-4 0 2 0 0 1 0-1 7-2-3-1-1-3 0-5 0-4 1 0-1-3 2-6 0-2-2 0 2-1 0"/>
<rect x="65.7" y="960.4" width="47.4" height="33.8" fill="#85ceb7" fill-opacity="0.3"/>
<rect class="bx" x="65.1" y="959.8" width="48.6" height="35" fill="none"/>
<path class="md" d="M65.1 981H113.7"/>
<rect x="146.6" y="964.6" width="47.4" height="32.3" fill="#fda481" fill-opacity="0.3"/>
<rect class="bx" x="146" y="964" width="48.6" height="33.5" fill="none"/>
<path class="md" d="M146 982.8H194.6"/>
<rect x="227.6" y="966.9" width="47.4" height="31.3" fill="#a4b3d5" fill-opacity="0.3"/>
<rect class="bx" x="227" y="966.3" width="48.6" height="32.5" fill="none"/>
<path class="md" d="M227 983.5H275.6"/>
<rect x="308.5" y="964.9" width="47.4" height="30.8" fill="#eca1cf" fill-opacity="0.3"/>
<rect class="bx" x="307.9" y="964.3" width="48.6" height="32" fill="none"/>
<path class="md" d="M307.9 981H356.5"/>
<rect class="pb" x="40.8" y="848.8" width="340" height="177.7"/>
<text class="t yl" x="36.2" y="991.5">200</text>
<text class="t yl" x="36.2" y="950.4">400</text>
<text class="t yl" x="36.2" y="909.4">600</text>
<text class="t yl" x="36.2" y="868.3">800</text>
<path class="tk" d="M38.2 988.5h2.6M38.2 947.4h2.6M38.2 906.4h2.6M38.2 865.3h2.6M89.4 1026.5v2.6M170.3 1026.5v2.6M251.3 1026.5v2.6M332.2 1026.5v2.6"/>
<text class="t xl" transform="translate(89.2 1031.3) rotate(-45)" dy="6.2">Chang~Zhu~Tan</text>
<text class="t xl" transform="translate(170.1 1031.3) rotate(-45)" dy="6.2">Xiangnan</text>
<text class="t xl" transform="translate(251.1 1031.3) rotate(-45)" dy="6.2">Xiangxi</text>
<text class="t xl" transform="translate(332 1031.3) rotate(-45)" dy="6.2">Dongting Lake</text>
<text class="t ti" x="40.8" y="840.8">Pb by Geographic_region</text>
<text class="t at" x="210.5" y="1091.5">Geographic_region</text>
<text class="t at" transform="translate(16.9 937.6) rotate(-90)">Pb concentration (μg/L)</text>
<text class="t sg" x="87.9" y="857">*</text>
</g>
<g>
<path class="gn" d="M416.5 993.7H761"/>
<path class="gn" d="M416.5 942H761"/>
<path class="gn" d="M416.5 890.3H761"/>
<path class="gm" d="M416.5 1019.5H761"/>
<path class="gm" d="M416.5 967.8H761"/>
<path class="gm" d="M416.5 916.2H761"/>
<path class="gm" d="M416.5 864.5H761"/>
<path class="gm" d="M465.7 848.3V1026.5"/>
<path class="gm" d="M547.7 848.3V1026.5"/>
<path class="gm" d="M629.8 848.3V1026.5"/>
<path class="gm" d="M711.8 848.3V1026.5"/>
<rect x="441.1" y="982.8" width="49.2" height="24.2" fill="#85ceb7"/>
<rect x="523.1" y="981.5" width="49.2" height="26.3" fill="#fda481"/>
<rect x="605.2" y="982.8" width="49.2" height="26.2" fill="#a4b3d5"/>
<rect x="687.2" y="978.8" width="49.2" height="27.5" fill="#eca1cf"/>
<path class="wk" d="M465.7 982.8V949M465.7 1007V1018.7"/>
<path class="wk" d="M547.7 981.5V944.5M547.7 1007.8V1018.7"/>
<path class="wk" d="M629.8 982.8V944.5M629.8 1009V1018.7"/>
<path class="wk" d="M711.8 978.8V940.3M711.8 1006.3V1018.7"/>
<path class="pt" d="M470.5 864.5l-13 16 16-2 2 6 2 24-1-2-19 5-3-4 8 19 5 2 0-2 13 4-8 4-12 6 1 0 9-4 2 1 0 0 7 8-1 2-7 0-11 0-1-2-3-2 0 3-4 3 0 4 1-3 1 1 3-2 1 3 1 0 6-4 6 1 0 1 1 3 6-5 4 5 0 1-1 2-1 2-2-4-1 0-4 1 0-1-1 4-5 0-5-3-1 1 0-1-1 3-2-4 0 1 0 3-2-1-1-1-1 2-2 7 0-1 0 1 1-3 3-2 0 4 4-3 0 1 3 2 0-3 1 1 0 3 1-3 0 3 2-4 2 3 0 1 1-1 2 0 4-1 1 0 0-3 0 2 2 3 1-3 1-1 0 2 0-3-1 9 0 0 0-2-2 3-1-4-1 0-3 2 0-1 0 0-1 2 0-3-1 1-2 0-1 4 0-3-1 1-5 0-1 2-1-4-1 0-2-1 0 3-5-3 0 5 0-3 0 2-1-1-2 1 0 7 3-3 2 0 0 3 0-5 3 4 8-2 2 1 1 0 2 2 0-3 0-1 0 4 1-4 0 2 4 0 1 1 4-1 0 0 1 0 1 3-1 3-1 0-1 2-1-5 0 4-4-2-1 0 0 2 0 0-2 0 0-3-1 4-1-1 0 0 0 0 0 1 0-2-1 0 0 0-1 1 0-1-2 1 0-3 0 1-1 0 0 1-1 2-2-4-2 0 0 4 0-2-1 0 0 0-1-1 0 1-2-3 0 3-2 1 0-3-2 3-1 0 0-1 0 4 1 1 0 3 0-2 0-2 1-1 0 3 0-3 0 3 1-1 0 3 0-4 0 1 1-1 0 0 1 2 0 1 1-1 2-1 0-1 2 4 1 0 1-2 0 2 0 0 0-5 0 3 1-2 0 0 1 1 0 2 1-2 0 3 0-4 1 2 0-1 1 2 1 0 0-2 1 3 1-4 2 2 0 1 0-3 0 0 1-1 1 1 1 3 0-1 0 1 1-3 0 2 1 2 0-1 0-3 1 0 0 2 0-3 1 0 0 3 0 0 0 1 1-4 0 5 1 0 0-1 1-1 0 6-1-1-1 0 0 2 0 0-1-2 0 2 0-2-1 3-1-2 0-3 0 2-1 2 0 1 0-1 0 1-1 0 0-2-1 1 0-1 0-1 0 3-1-3 0-2 0 5-1-1 0-1 0 0-2-2 0 4 0-5-1 4 0-2 0 1-1 1 0 1 0-4-1-1 0 0 0 0 0 5 0-4-1-1 0 4-1-3-1 3 0-2-1 3 0-2-1 0 0-2 0 4-1 0 0 0-1-5 0 0 0 0-1 5 0 0-1-1 0 1 0-1 0 0-2-1-1-2-1 4-1-2 0-2 0-1 0 3 0-2 0-1-1 0 0 4 0 0 0-1 0 1 0-3-1 3-1-2 0 2 0-4-1 1 2 9 0-3 0-1 1 0 0 0 0 1 0 2 1 0 0-3 0 4 0 0 0-4 1 0 1 4 0-2 0-2 0 1 1 0 1 4 1 0 1-1 0 1 0-5 2 1 0 1 1 3 0-1 0-3 0 2 1-2 0 1 0 3 0-2 0-1 1-1 0 2 0-3 1 2 0-1 0 2 1-1 0-1 0-1 1 1 0 2 0 2 0-2 1 2 0-4 0 3 1 1 0-4 1 3 0 1 0-5 1 3 0 1 1-2 0 2 1-1 0-1 0 0 1-2 0 5 1-5 1 2 0-1 1-1 0 4 0 0 0-1 1-1 0 3 0-5 1 2 0 1 0 2 0-2 1 0 0 2 0-1 1-1 0-3 1 1 0-1 0 2-1 4 0 5 0 0 0-3 0 1-1 0 0 2 0-3-2-1 0 3-1 1 0-4 0 0 0-1 0 3 0 1 0-1-1 0 0-3 0 1 0 2 0 0 0 0 0-3-1 1 0 0-1-1 0 0 0 3 0-2-1 1 0 0 0-1 0 2-1 0 0 1 0-3 0 0 0 2 0 1 0 1-1-2 0 1 0-3 0 1 0 0-1-1-1 4 0-3 0-2-1 5 0-5 0 1 0 3-1-4 0 4 0-2 0 3-1 0 0-1 0-3 0-1 0 4-1 0 0-1 0 0-1-2 0 1-1-1-1 1 0 1-1 2 0-1-1 0 0-3 0 0 0 2-1 2 0-4 0 0-1 3 0 0-1-1 0-3 0 4-1-3 0 2 0 1 0 1 0 0 0-2 0 0 0-3-1 0 0 4 0 1 0 0 0-1-1 0 0 1 0-3-1 2 0-2 0 2 0-2-1 0 0 0 0 3-1-1 0-4 0 0 0 2 0 3 0-2 0-2-1 4 0-3-1 3 0-1 0 3 1 0 0 1 1 1 0-2 0 1 0 1 0-3 1 2 0 3 0-2 0 2 0-3 0 1 0-1 0-1 0 4 0-5 0 3 1-1 0-1 0 2 0-2 1 2 0 2 0-4 0-1 0 0 1 4 0-4 0 3 0-3 0 3 0-2 0 3 0-3 1 1 0 1 0-3 0 1 0 1 0 1 0-2 1 3 0 1 0-1 0-2 0 1 0-1 0-1 0 4 0-4 0-1 0 4 0-4 0 3 0-2 1 3 0 1 0-3 0-1 1 0 1 0 0 0 0 1 0-2 1 4 0-3 0 1 0 3 0-2 0-1 1 1 0 0 0 1 0-4 0 3 1-1 0-2 0 2 0 2 0-4 0 0 0 1 1 4 0-1 0-3 1 1 0 2 1 0 0-3 1 3 0-3 1 0 0-1 0 0 0 2 0 2 1-2 0 0 0 3 0-2 0 1 1-2 0-2 1 2 0-1 1 1 0-1 0 0 1 1 0-2 0 0 0 2 1-1 0 2 0 1 0-2 1 1 0-2 0 1 0 2 1-1 0-3 0 1 1 2 0-1 1-1 0-1 0 3 0-2 0-1 1 0 0 4 0-3 1 3 0-4 0 5 0-3 0 1 0 1 0-1 1-3 0 1 0 0 0 3 0-1 0-3 0 0 1 3 0 1 0 1-4 2-2-1-1 0 0 0-2 0 0 1-3 2-1 1-1-2-1-2-1 1 0-1-2 1 0-1-1 5 0-3 0 0-1 0-1-1 0-1 0 3-2-3 0 1-1 3 0-4-1 1 0-1-1 4-1-3 0 2-2-1 0-2 0 2-1 1-1-1-1-1-1 0"/>
<path class="pt" d="M559.5 864.5l2 0-1 8-20 21 4-1 20 13-9 2-8-1-8 5 0-4-7 6 7 3 3-3 4 1 18 6-27 7 3-2 14-1 8 5 0 6-1 0-8-1-1 1-16 2 3 2 3-3 16 1 3 0-1 8-2-3-1 5-4-5-2 5-9-5 0 0-2 3-3 0-2-1-1 2-3 0 1 3 1 4 0 0 1 0 0-3 0 2 0-2 1 0 3 2 2-3 1-1 1 3 0-3 3 3 1 1 2-1 4 0 0-1 0 1 1-1 1-1 0 4 1-5 1 4 0 0 0 1 1-1 1-1 2 2 0-4 1 4 3 1-4 4 0-3-2 2 0-1-4 1 0-1-4-2-1 5 0-1-3-2-1 0 0 0-2-2 0 2-3 0 0-1-4 0-2 2-2 0 1 4 1 3 1-3 0 0 2 0 1-1 1 1 1 3 3-1 2-2 1 3 0 0 1-3 2 1 0 0 3 1 0-2 2 2 1 0 1 1 1-1 0 2 1-5 1 3 3-3 2 5 0 2-1 2-1-2-1 3-6-2-3 2-3-3-3 4-1-5-1 3 0-1-1 3 0-4-1-1-3 2-1-1 0 2-1-2 0 3-4 0-1 4 0 3 1-3 0 2 1-2 3 1 1 2 1-4 1 4 1-4 1 3 0 1 1-2 0-1 0 0 3 3 3 0 1-3 0-2 0 4 2 1 3-1 3 0 1-1 3-2 0 3 1-2 0-2 0 11-2-5 0 3-2 2 0-3-1 3-1 0-3-3-1 1-3 0 0-2 0 2-1 0-1 1-2-2-1-1-1 2 0-3 0 5-1-1 0 1-1-1 0 0-1-3-2 1 0 1 0 0-1-2 0 0 0 0-1 3-1 0-1 1-1 0-1 6 1-3 1 0 1-1 0 2 0 0 0-1 1 2 1-2 1 3 1-2 1 0 0 1 0 1 2-1 0-2 0-2 1 3 0-1 1-2 1 5 0-3 0 3 0-5 0 1 2 1 0-1 0-1 0 4 0-4 1 0 0 4 1 1 1-3 0 2 0 1 1-2 0 0 0 0 1 2 0-1 0 1 0-2 1 0 0-1 1 3 1-2 0-1 0 2 0 1 1-3 1 1 0 2 0-3 1 0 0-2 1 3 0-2 0 3 0-4 0 3 1 0 0-1 0 3 1-1 0-4 0 3 0 0 0-3 0 3 1 2 0-2 1 2 0 5 0-1 0 2-1-1 0-3 0 0 0 4 0-4 0 3-1 1 0-5 0 0 0 5 0-4-1 2 0 2-1-1-1 1 0 0 0-4-1 0 0 0 0 3 0 0-1 0 0-4 0 5-1 0 0-2 0 0-1-1 0-1 0-1 0 5-1-3 0-2 0 0 0 4 0 0-1-1 0-3 0 4 0-2-1-2 0 4 0 1-1-3 0 2 0-2 0 2 0-2-1 1 0-1-1-1 0 1-1 0 0 0-1 0 0 0 0 1-1-3 0 5 0-3-1-2 0 4 0 1-1-1 0-3 0-1-1 0 0 0 0 0 0 1-1-1 0 4 0 0-1-4-1 1 0 0 0-1 0 2-1-2 0 4 0-1 0 0-1-1 0-1 0 3 0 0-1-2 0 0 0-1-2 4-2-3 0 2-1-1-1 3 0 3 1 0 0-3 0 2 0 0 0 3 1-5 0 4 1 1 1-2 0 0 0 2 1 0 2-3 0 0 1-2 0 5 0-3 0 1 1-2 1 1 0 2 0-2 0 3 0-3 0 0 1 0 0-2 0 3 1-1 0 0 1 0 1 3 0-3 1-1 0 3 0-2 1 1 0 0 0-1 0-2 1 0 0 5 2-1 1 0 0-4 0 1 0-1 2 4 0-3 1 0 0 4 0-5 1 2 0 2 0-3 1 4 0-5 1 3 1-2 1-1 0 4 0-4 1 4 1 1 3 0 0 1-1 5 0-4-1 0 0 2-2-1-1 1-1-2 0-1 0 5 0 0-1-2 0-2 0-1-1 4-1-3 0-1-1 4 0 0 0-2-1 3 0-1 0 1-2-2 0-1 0-1 0 3 0 0-1-3 0 1 0 3 0 0-1-2 0 0-1 2 0-4 0 0 0 4-1-2 0-1 0 0 0-2-1 5 0 0 0-3 0 3-1-3 0 1 0-3-1 5 0-2 0-1 0 0 0-2 0 4 0 0-1-2 0 0 0 2 0-4 0 2 0 2-1-1-1 1 0 0 0 0 0 1 0 0 0-3 0 2 0 1-1 0 0-3 0 1-1 2 0 0-1-5-1 5 0-2 0 0 0-1 0-1-1 2-1 1-1-2 0 1 0 0 0 2 0-3-1 3 0-4 0 3 0-1-1 2 0-5 0 3 0 0-1 1 1 2 0 1 0-1 0 1 0 2 0 0 0-1 0 0 1 0 0 1 0 1 0 0 1-2 0-2 0 1 0 1 1 3 0-3 0 2 0-4 1 3 0 2 1-3 0 3 0-4 0 3 0 0 0-4 1 5 0 0 0-4 0 0 0 2 1-2 0 2 0-2 0 3 1-2 0-2 1 1 0-1 0 3 0-2 0 4 0-5 1 1 0 0 0 3 0-3 0-1 1 3 0 1 0-4 0 1 0 4 0-3 0 2 1-4 0 4 0-1 1-1 0 1 1-2 0 0 0 3 0-3 1 3 0-4 0 3 1-1 0 0 0 3 0-1 1 0 0-1 0-2 0 4 1 0 0-4 0 3 0-1 1 0 0-1 0 2 0 0 0 0 0-2 0 2 1-4 0 4 0-2 1-1 0-1 0 4 0-3 0 1 0 3 0-2 1-2 0 0 0 3 0-3 0 2 1 1 0-2 0 0 0 3 0-3 0 3 0-2 0-3 0 4 0 1 1-4 0 2 1 1 0-1 1 0 0 0 0-1 1 2 0-3 0 2 0-1 0 1 1-2 0 2 0-2 0 0 0-1 0 3 0 0 0-1 1 0 0 0 0-2 0 3 0-1 0-2 1 1 0 1 0-1 1 0 0 1 0-2 0 5 0-3 0 1 0-1 1 2 0-3 0-1 0 0 0 2 0 4-1 0 0 3 0 0-2 1-3-1 0-3 0 2 0-2-1 4-1-1 0 1-1-3 0 3-4-4 0 1-1-1 0 4-3 1 0-5-1 0-3 0 0 1-2 3-3 0 0-3 0 3 0 0-2-4 0 3-1-3 0 1-1 3"/>
<path class="pt" d="M616.5 877.5l7 15-6 11 15 0 2 8-16 0 26 6-9 3-1 5 0 0 5 3-14 3-10 9 5-2 2-1 1 2 10 1 0 1 3-4 1-1 8 7-1 0-4 4-6-2 0 2-2 0-1-5 0 5-14 0-2-4-1 4 4 3 0 2 2-1 3 2 1-4 1 3 0-3 3 1 5 1 6-2 2 1 1-2 1 2 0-2 1 5 1-5 0 6-1 2-4 3-4 0-3-2-1-3-1 3-1-1-1 2-6-2-1-1 0 4 0-1 0-3-2-1-3 4-1-2-1-1-1 8 0 0 3 2 1 0 1-2 1-2 1 1 3-1 4 4 4-1 0 0 4-2 1 2 3-1 1 2 0-3 1 1 1-3 1 5 1 2 0 2-1-3 0 5 0-4-1 0 0 2-1-3 0 1 0 4-1-4-3 3 0 0-3-1-1 0-1 1 0 0-1-4-3 4-1-1-2 1 0-4 0 1-1 3 0 1-1-4-2 4-3 0-2-5-1 2-1-2 0 2-1-1 0 6 0 3 2 1 1-4 1 1 0 3 3 0 0 0 0-2 0 2 1-2 0-2 2 2 0-1 1 3 1-1 3 1 0-1 1-2 1 1 1 0 4-3 0 1 2 1 0 1 1 1 0-4 3 0 1 5 2-5 0 5 0 0 1 4-1 2-1-4-1 4-1 0-1-2 0 1-1-4 0 1-1 2 0 1-1 1 0-3-2 2 0 1-1 0-3-2 0-2-1 1 0 2-2-3-1 3 0 1-2 0-1-3 0 3 0-5-1 4 0 0-2-4 0 1-1 3-1-4-2 5-1-4 0 3-1 1-1-1 0-2 0 3 0-5-1 6 0 3 2 1 0-1 2 0 1-1 0 2 2-2 1 0 1 1 2 0 0-3 1 5 1 0 0 0 1-1 0-3 0 4 1-3 0 2 0-3 0-1 1 3 1 0 1 0 0-1 2 1 1 2 0-4 0 2 1-2 0 4 1-3 0 1 1 1 0-1 0 2 1-1 0 0 1 0 0-1 0-2 0 0 1 3 1-1 0-1 2-1 0 0 0 4 0-1 1-2 1 5-1 2 0-2 0 1 0-2-1 2 0 1 0 1-1-1 0-3 0 0 0 3 0 1-1-1 0-2 0 0 0 0 0 1-1 2-1 0 0-2 0 2-1-1 0 1 0-4 0 4 0-2-1 2-2-1 0 0-1-2 0 3 0-2-1 0 0-2 0 1-1 2 0 1-1 1-2 0-1-2-1 2 0-1-1-4-1 1 0 3 0 1-1 0 0-4-1 4 0-4 0 4-1 0-1-5 0 1 0 0-2-1 0 3 0-2 0 1-1 1 0-2 0 0 0 1-1 0 0-2-1 2 0 2 0-1 0 2-1-2 0 2-1-4 0 4-1-1 0-4 0 3 0-1-1 9 0-3 1 3 0-3 1 3 0-5 0 0 0 4 0 1 1-4 0-1 0 2 0 0 0 2 0-3 0 4 1-4 0 2 0 1 1-4 1 0 0 5 0-4 0 0 1 4 0 0 0-5 1 1 0 2 0-2 0 1 1 0 0 3 0-1 1-4 0 5 0 0 0-3 1-2 1 5 0-3 0 0 1 3 0-5 1 4 0-4 0 4 0-3 1 4 0-2 1 1 0-2 0-2 0 5 2 0 1-5 0 4 0-3 1 0 1 0 0 0 0 2 0-3 0 5 1-3 0 2 1-3 0 2 1-2 0 1 1 1 1-3 1 0 0 3 0 1 0-2 0-2 1 4 1-3 0 1 0-2 0 4 1-2 1 2 0-3 1 3 0 1 1-1 0-4 0 4 0 1 0 5 0 0 0 0-1-2 0-1 0-1-1 5 0-5 0 2 0-1-1 3 0-1 0-1-1-2 0 5-1-5 0 5 0 0 0-3 0-1 0 2-1 2 0-1 0-4-1 0-1 3-1-2 0 4 0-1 0 1-1-3-1-1 0 3 0-1-1-3 0 1 0 4-2-5 0 4 0-2 0 2-1 1 0-2-1 0 0 2-1-4 0 1-1-2 0 5-1-4 0 2 0 0 0 2 0-2-1 0 0 2-1-1 0-3 0 1 0-2-1 2 0 1 0-3 0 1 0-1-1 3 0-3-1 0-1 2 0 3 0-4 0-1 0 3 0 1-1 0 0 1 0-2 0 2-1-5 0 0 0 5 0-3 0 0 0-2 0 2-2 1 0 0 0 0 0 0-1 0 0 2 0-5 0 4 0-1-1-2 0 1 0-1-1 3-1 1 0 6 1-3 0-2 1 4 0-2 0-2 1 0 0 2 0 1 0-1 1 3 0-1 0-3 1 1 0 3 0-1 0-2 0 3 1-1 0-2 0-2 0 5 0-1 0-4 1 3 0 1 1-1 0-1 0-1 0 2 1-3 0 3 0 0 0 1 0 0 1-1 0-1 0 0 0 1 0-2 0 2 0-2 0 2 1 1 0 0 0 0 0-2 0 3 1-1 0-3 0 2 0 0 0 1 0 1 0-2 1 0 0 0 0-1 1 0 0 3 1-3 0 3 0 0 0-2 0-2 0 2 0-1 0 2 0-1 1 2 0 0 0-3 0 0 0 0 0 2 0-2 1 2 1-3 0 4 0-2 0 1 1 0 0 0 1 1 0-2 0-1 0 1 0 0 0-1 0 2 0-1 1-3 0 0 0 5 0-1 0-4 1 3 0-1 0 2 0 1 1-4 0 1 0 2 0-1 0-2 1 0 0 1 0 2 0 0 1-4 0 3 0 1 0-4 1 5 0-5 0 5 0-3 0 0 0-1 0 1 1 2 0 0 0 1 0-2 1 2 0-2 0 0 0 0 0 0 1 1 0-4 0 3 0 2 1-1 0-4 0 0 0 2 0 3 0-4 1 2 0-2 0-1 1 3 0-3 0 4 0-3 0 2 1 0 0 2 0-1 0-4 0 0 0 3 0 1 0-1 0 1 0 0 0 2 0 1-1 0 0-1 0 4 0-4-1 0-1 2-1 1 0-2-2 0-1 2-1 1-2-3-1-1 0 2 0 0-1-2 0 0 0 0 0 0 0 0 0 1-1-1-1 0 0 4-1-3 0 0 0-1 0 2-2-1-1-1 0 3-1 1-1-4 0 4-1-1 0 2-1-4 0 3-3-3 0-1-1 0 0 0 0 0-1 0-2 3-1 0-1-3 0 1-1 0 0 0 0 2-1-3"/>
<path class="pt" d="M710.5 864.5l15 0 0 0 1 0-15 21-3 0-10 14 22 2 1 1 1 7-5 2-14 1 6 3 13 6-5 1-9 1-1-3-5 9 16-2 4-1 2 2 2 0-20 5-2 2 2 1 4 2 6 0 6 3 1 0 3-1 2 7-2-5 0 1-1 0-2 3-2-4-4 0-1 0-4 5-2-2-3 0 0 2-1-2-2-3-1 5-5-4-1 2 1 7 0-4 2 1 1 0 0 3 1 1 0 0 1-5 0 2 1 0 0 2 5-2 1 2 1-4 0 3 3-3 0 3 1-2 0 4 3 0 1-2 0 0 2-2 0 1 0 3 1-1 2 0 0 0 0 1 0-2 0-2 1 2 1-3 2 10-1-2-4 1-1-2-1 0 0 2-4-3 0 4-1 0-3 1-1 0-3-3 0-2-1 3-2-1-1 3 0 0-3-5 0 0-1 0-1 3-1 1 0-3 0 2-2 5 4 3 0-5 1 4 4-3 0 4 1 0 2-5 4 4 1-1 1-3 1 4 3-2 1 3 2-5 2 1 0 0 2 1 1-1-1 5-1 1 0 2-3-3 0 4-1 1-1-5-2 2-3 1 0-3-2 2-2 3 0-4-3 1-1-1-1 3 0-3-1 4 0-1-2-4 0 5-1-5-2 3-1-3-1 1-1 6 0 0 0 2 0-2 2 3 1-4 0 2 0 1 0 0 1 1 1-2 2 1 1 1 0-3 1 4 0 0 0-2 1 1 0-3 1 4 0-5 0 4 0-3 1 4 0 0 0-5 2 0 1 1 1 3 0-3 0 0 0 3 2-3 2 4 2-4 1 2 5 7 0 0 0-3 0 3-1-3 0 4 0 0-1-3-1 3 0-5 0 2 0 2-1 0-1 1-1-4 0 2-1 0 0 1-1 0-1 1-2-2 0-1 0 1-1 0-1 2-1-5 0 0-1 5 0-4-2 4 0-4-1 4-1-4 0 4 0-2-1-1-2 1 0 0-1-3 0 2 0 3-2 0 0-4-1 2-1-3-1 5 0-3-1 6 0 3 2-3 0 1 0 2 0 0 1-1 0-3 0 4 1-4 0 1 1-1 1-1 0 5 0 0 1-2 1 1 0-2 1 1 0-3 0 2 0-1 0-1 1 1 0-1 2 1 1 1 0 3 0-5 0 2 1 1 0 0 1-2 0 2 0 1 0-2 0 0 0 1 1 0 0 2 0-2 0 1 0-4 3 2 1 0 1 2 0-3 1 1 0 3 0-3 0-2 2 0 0 5 2-1 0-1 0 2 0-3 1 1 0 0 1 2 0-3 1 3 0-1 0-1 1 0 0-3 0 0 0 5 1-2 0 2 0-3 0 1 1 2 0-4 0 9 0 0 0-2-1-2 0 3 0-1-1 3 0-1-1-4-1 0 0 5-1 0 0-5-1 4 0-1 0 2-2-2-1-1 0 2-1 1 0-2-1-2 0 2 0 0 0-3 0 3-1-1-1-1 0-1-1 3-3-2-1 2 0-3 0 4-1-4 0 4 0 0 0-2 0-2-1 3 0 2 0 0 0-4-1-1 0 1 0 2 0-3 0 1 0 0-1 0 0 1 0 0-1-1-1 1-1-2 0 3 0 1-1 1 0-3 0 1 0-3 0 0-1 4 0 1-1-2-1 2 0-3-1-1 0 1-2 8 0 1 1-2 0-1 1-2 2 2 0 0 0 1 1 1 0 1 1-3 0 3 1-5 0 1 1 4 0-5 0 0 0 0 1 5 0-1 0-4 1 1 1 2 0 2 0-4 0 2 1-3 1 2 0 1 1-2 0 4 1-2 0 2 0-3 1 1 1 1 0 1 1 0 0-4 0 3 1 1 0-1 0 0 1-3 0 4 0-2 0-2 0-1 1 4 0-4 0 1 0 4 1-3 1-2 0 4 1 0 0-1 0 2 1-1 3-1 1 1 0-4 0 2 0 0 0 3 1-5 0 0 0 1 0-1 0 1 0 3 1-1 0-3 0 3 0-3 0 0 1 4 0 1 0 3 0 1-1-3 0 1 0 2-1 2 0-3 0 3-1-4 0 2 0 1 0-1 0 2 0-3 0 2-1-3-1 0 0 1 0 0-1 2 0 1 0-1-1 1 0-2 0 2 0-2-1-1 0 1 0 0 0-1 0-1 0 4-1-4-1-1 0 1 0 3-1-2 0 1-1 0 0 1-1-4 0 2 0-1 0-1 0 4-1-3 0 1-1 0-1 3 0-1 0 0 0 0-1 0 0-2 0-2 0 0-1 5-1-1 0-3 0 3 0-2-1 1-1 1 0-1-1-2 0 2 0-3-1 4 0-2-1 2 0 0 0 0 0 0 0-4 0 3 0 2 0-5-2 2 0 0 0-2 0 5 0 0-1-4-1 2 0 0 0-1 0-2 0 3-1 2 0 0 0-3 0 1 0-2 0 2-1 0-1-1 0 3-1 0 0-5 0 3 0 1 0-2-1 4 0 1 0-1 1 3 0 2 0-4 0 1 0 1 1 1 0-3 0 1 0 3 0-5 0 1 1 4 0-2 0 2 0 0 0-3 1 0 0-1 0 3 0-3 0 0 1-1 0 0 1 1 0 1 0 0 0-2 0 4 0 1 0-4 1 1 0 0 0 1 0-2 0 4 1-4 0-1 0 0 0 1 0 1 1-1 0 3 0-2 0 2 0-3 1 0 0 0 1 2 0-2 0 2 0-2 1 2 0-2 1 0 1 3 0-4 0 0 0 2 1 0 0 1 0-2 0 0 0 1 0 3 1-4 0-1 1 1 1 0 0-1 0 5 0-4 0 0 0 3 0-3 0 0 1-1 0 0 1 5 0-3 0 3 0-4 1 1 0-1 0 4 0-1 0-3 1 2 0-3 1 1 0 3 0-3 0 3 0-4 0 0 1 4 0-3 0 0 0 2 0-3 0 1 1 3 0-2 0 2 1 0 0-4 0 2 0-1 0-1 0 2 0 0 1 1 0 0 1 1 0 0 0-1 0-2 1 0 0 0 0 0 0 3 0-4 1 2 0-2 0 2 1 1 0 0 0-3 1 2 0 0 0-1 0-1 0 2 1 1 0 3-1 3 0-3-2 2-4-2 0 0-4 1-1 0 0 1-3 2 0-2-2-1 0-1 0 2 0-1-1 0-2-1-1 0-1 3 0-3-1 5 0-1-2-4-2 3 0-2-2-1-1 1 0-1-2 4 0-4"/>
<rect x="441.7" y="983.4" width="48" height="23" fill="#85ceb7" fill-opacity="0.3"/>
<rect class="bx" x="441.1" y="982.8" width="49.2" height="24.2" fill="none"/>
<path class="md" d="M441.1 997H490.3"/>
<rect x="523.7" y="982.1" width="48" height="25.1" fill="#fda481" fill-opacity="0.3"/>
<rect class="bx" x="523.1" y="981.5" width="49.2" height="26.3" fill="none"/>
<path class="md" d="M523.1 997H572.3"/>
<rect x="605.8" y="983.4" width="48" height="25" fill="#a4b3d5" fill-opacity="0.3"/>
<rect class="bx" x="605.2" y="982.8" width="49.2" height="26.2" fill="none"/>
<path class="md" d="M605.2 998.3H654.4"/>
<rect x="687.8" y="979.4" width="48" height="26.3" fill="#eca1cf" fill-opacity="0.3"/>
<rect class="bx" x="687.2" y="978.8" width="49.2" height="27.5" fill="none"/>
<path class="md" d="M687.2 994.5H736.4"/>
<rect class="pb" x="416.5" y="848.3" width="344.5" height="178.2"/>
<text class="t yl" x="411.9" y="1022.5">0</text>
<text class="t yl" x="411.9" y="970.8">5</text>
<text class="t yl" x="411.9" y="919.2">10</text>
<text class="t yl" x="411.9" y="867.5">15</text>
<path class="tk" d="M413.9 1019.5h2.6M413.9 967.8h2.6M413.9 916.2h2.6M413.9 864.5h2.6M465.7 1026.5v2.6M547.7 1026.5v2.6M629.8 1026.5v2.6M711.8 1026.5v2.6"/>
<text class="t xl" transform="translate(465.5 1031.3) rotate(-45)" dy="6.2">Chang~Zhu~Tan</text>
<text class="t xl" transform="translate(547.5 1031.3) rotate(-45)" dy="6.2">Xiangnan</text>
<text class="t xl" transform="translate(629.6 1031.3) rotate(-45)" dy="6.2">Xiangxi</text>
<text class="t xl" transform="translate(711.6 1031.3) rotate(-45)" dy="6.2">Dongting Lake</text>
<text class="t ti" x="416.5" y="840">Cd by Geographic_region</text>
<text class="t at" x="589" y="1090.8">Geographic_region</text>
<text class="t at" transform="translate(397.3 937.4) rotate(-90)">Cd concentration (μg/L)</text>
<text class="t sg" x="465.2" y="856.3">*</text>
</g>
<g>
<path class="gn" d="M800 993.4H1145"/>
<path class="gn" d="M800 941.1H1145"/>
<path class="gn" d="M800 888.9H1145"/>
<path class="gm" d="M800 1019.5H1145"/>
<path class="gm" d="M800 967.3H1145"/>
<path class="gm" d="M800 915H1145"/>
<path class="gm" d="M800 862.8H1145"/>
<path class="gm" d="M849.3 847V1025.3"/>
<path class="gm" d="M931.4 847V1025.3"/>
<path class="gm" d="M1013.6 847V1025.3"/>
<path class="gm" d="M1095.7 847V1025.3"/>
<rect x="824.6" y="956.5" width="49.3" height="42.8" fill="#85ceb7"/>
<rect x="906.8" y="943.8" width="49.3" height="51.5" fill="#fda481"/>
<rect x="988.9" y="956" width="49.3" height="43" fill="#a4b3d5"/>
<rect x="1071.1" y="955" width="49.3" height="44.5" fill="#eca1cf"/>
<path class="wk" d="M849.3 956.5V893.8M849.3 999.3V1016.9"/>
<path class="wk" d="M931.4 943.8V867.5M931.4 995.3V1016.9"/>
<path class="wk" d="M1013.6 956V893.3M1013.6 999V1016.9"/>
<path class="wk" d="M1095.7 955V889M1095.7 999.5V1016.9"/>
<path class="pt" d="M865.5 863.5l-13 0-13 0-1 0-1 0-3 0 13 5 15-1 1 4-10 4-6-4-10 0-1 0 5 5 6 3 2 2 10-1 2 6-6-2-1 2-4 0-6 1 0-5-3 3-6 8 2-5 1 3 8 1 5 0 5-2 0 0 2-1 3 3 1 0 2 0 1 4-4 2-8-4 0 1-7 2-2-3 0 5 0-2-7 5 10-1 3-1 1 2 2 2 0 0 7 0 0 0 3-3 2 10 0-1-4-2 0 0-2 1-1 1 0-1-6-3 0 0-2 1-1 0-3 4-1 0-2-1-3-2-6 3 1 4 2-3 6 3 3 2 0-2 3-2 1 4 0-4 7 2 1 0 6 8-1-1-11 1-2-3-4 0-4-2-2 5-2-2-4-1-1 4 8 3 1-1 5 3 4-5 0 0 1 1 0 2 1-1 1-2 1 5 1-5 1 4 2 1 2-1 0 1 3-3 1 0-1 5-2 3-5 1-1-2-11-1-5-2 0 4-1-1 0-3-6 9 5 2 2 0 8-4 7 3 2-3 1 4 4-3 1 2 2 1 1 2-1-1-2 0-3 5-4 0 0-2-5-2 0 4-5-1 0 0-3-2-1 0-1 0-2-1-2 0 0 2-2 6 2-1 1 0 2 1 1 2 2-1 1-4 2 0 1 3 5 2 0-1 3-3 3-1 0 1 2 1 3 1 1-3-3 9-1 0-1 1-1-2-4 1 0-2-3 3-1 1-4-3-1 1-1-2-2-1-1 4-1-3-2 3-1 0-1-3-2 4-1 4 3 0 0-1 1-1 2 2 0-1 1-1 1 0 0 0 1-1 1 3 1-2 2 4 0-5 1 2 0-2 2 5 0-1 2-1 0 2 3-4 2-1 0 0 0 3 0-1 1 1 0-1 2 3 0 0 1-1 1 0 0-2 1-1 0 2 0 1 0 1 1-5 0 2 1 2 1 1 0-3 1 9-1-1-2-4 0 4-1-2 0 2-1-4 0 5 0-4 0 4-1 0-2-1-1 0 0 0 0-4 0 1-1 4-1 0-1 0 0-3-1-1-1 2 0 1 0 1-1-3 0 1 0-1-1 2 0-3-1 3 0-4 0 4-1-2-1 3-1-1 0 1-2-4-1 3 0-2-1 2 0-4 0 2 0-2-1 3 0-3-1 0 0 4-1-2-1 2 0 1 0-2-1-3 0 3 0-3-2 3 0-2-2 0 0 9 0-1 1 0 1 0 3-2 1 4 1-1 0 0 0-3 1 3 2-2 1 3 0-5 1 2 1 3 1-5 0 4 1 1 1 0 0-3 1 2 0-2 1 1 0-2 0 4 0-3 1 3 0 0 0-2 1 1 0-1 0 2 1-5 0 4 1 0 0-2 1 0 0 0 0 1 2 0 0 2 1 0 0 0 0-1 3 0 0 0 0-4 2 5 0 0 0-4 0 0 1 3-1 7 0-5-1 4 0-2 0-1-1 0 0 1 0 3 0 0 0-4-1 4 0-2-2 1 0-1 0 0-1-2 0 0 0 0 0 0 0-1-1 3-1-2 0 0-1 0 0 0 0 1-1 1 0-1-2-2 0 1-1 1 0-1-1 4-4-2 0-1 0 0-1 3-2-2 0 2-1 0 0-5 0 5-1-4 0-1-1 5 0-1-1 1 0-1-1-3 0-1 0 3 0-2-2 0 0 2-1-3 0 1 0 4-1-1 0-3 0 3 0-2-1 3 2 4 0 0 0-3 0 0 1 4 1 1 0-4 0 2 1 0 0 2 0-5 1 0 0 2 0-1 0 4 1-5 0 0 1 5 0-4 1 0 1 2 0 0 1-2 0 2 0-3 1 4 1-3 0 1 1 0 0 1 0 0 1-3 1 0 0 0 1 3 0 2 1-2 1-3 0 5 3 0 1-4 2 2 0-1 0 0 1 1 0-3 0 2 0-2 1 2 0-1 0 0 0-1 1 3 0 2 2-1 0-3 0 3 1-2 0-1 0 1 0 2 1 7-1-1 0-1-1-3 0 1-2 3 0-1 0 1 0-1-1-2 0 4 0-2-1 2-1-2 0-3-1 0 0 4 0-1-2 2 0-4 0-1-1 2-1 2 0-1 0 2 0-2-1-1 0-1-1 0 0-1 0 4 0-3 0 3-1-1 0-3 0 0-2 3-1-2 0 3 0 0-3-1-1-3 0 4 0-2 0 2-1 0 0 1-1-4-1 1 0 1-1-3-1 5 0-3-4-1 0 2 0-2-1 0 0 4 0 6 1-5 1 2 0 0 1 2 0 1 0 0 0-5 0 2 1 3 0-3 0 3 1-4 0 4 0-2 1-2 1 3 1-4 0 5 1-2 0 2 0-5 0 4 1 0 0 0 0-3 0-1 1 5 1-2 1-3 1 2 0 0 0 2 1-4 0 5 1-1 0 1 0-5 0 5 0-5 1 3 0-3 1 0 2 3 0 2 2-2 0-1 0-1 1 4 0 0 1-3 0 1 1-1 0 1 0 0 1 2 2-1 1 0 0-2 0 2 0 0 0-2 0 0 1 1 0 0 0-3 1 0 0 2 0 3 1-2 0-3 0 0 0 11 0-2 0-1 0 0-1-1 0 0 0 2 0-1-1 3 0-3 0 2-1-2 0-2 0 1-1 0 0 3 0 0 0-1-1-3 0 4 0 0-1-2 0 0 0 3-1-3 0 3 0-3 0-1 0 1-1-1 0-1 0 1-1 0 0-1 0 3-1-3-1 2 0 0-1 1-1-2 0 3 0-3 0 1 0-2-1 0 0 3 0-1 0 2 0-4-1 4-1 0 0-2 0 3-1-3 0 2 0-3 0 2 0-3 0 1-1-1 0 1-1 0 0-1 0 1-1 1 0-1 0 3-1 0 0-1-1-2 0 1-1 1 0-2 0 2 0-1-1 0 0 2 0 1 0 0 0-4-1 3 0-1 0 1-1-2 0 2 0-2-1 1-1-2 0 2-1 1 0-3 0 1 0-2-1 0 0 3 0 0 0-1-2-2 1 7 1 0 2 1 2 3 1-4 1 1 0 1 0-1 1-1 1-1 0 1 0 1 0-2 0 2 1-2 0 5 2-5 1 1 0-1 0 0 1 4 1-1 0-2 2 0 2 1 1 0 1-2 4 0 1 0 0 0 2 0 3 1-3 7-11 1-1 0-5 0-1-1-8 0-3-1"/>
<path class="pt" d="M943.5 863.5l-1 0-5 0-8 0-6 0 0 0-2 0 2 5 4-3 4 0 1 1 1 3 6-2 2 1 4-3 0 7-1-2-1 4-3-3-6-1-3 3-4-2-2 1-4-2 0 4-5 0 0 4 0 0 5 3 1-5 3 0 6 0 1 2 2 2 1-4 6 0 0 5 1 0 5 5-2-3-1 1-1-2-4 0-3 1 0-1-17 5-2-1 1 7 9-2 8-2 2-1 0 3 2-3 3 2 2 0 1 0 1 1-7 5-8-1-5 0-2 0-5 0 0 1-3 4 0 3 4 1 2 1 1-4 0 1 2-2 0 5 2-4 5-1 1 5 1-4 7 2 1 2 1 3-4-1 0 2 0-2-4-1-3 2-1 3-2 0-8-4-1 4-2-4-2 1-1 7 1-1 2-2 1 2 3 3 2-5 3 4 1-4 1 4 1 1 0-4 3 1 3-2 0 5 1-3 9 0 2-1-9 10-10-2-2-3-1 4-4 1-1-4-5-1-1 2 0 0 1 5 4 4 4 0 1-5 0 5 3 0 3-5 1 5 3 0 1 0 5 0 1-4 0 2 2-2 2-1-2 9-6-3-7 3-2 0-3 1-3-3-2 0-2-1-1 1 0 1 0 0 2 5 1 3 0 1 2-2 0-1 8 1 0 2 1-3 9 2 5-3 1 2 0-1 0 0 0 6-5 0-1 0 0-1-2 0-3 0 0 2-2-3 0 3-1-2-3-1-2 2-4 1-1 0-3 0-3 2-1-3-1-1 1 5 1 0 0 2 1 1 1 1 0 1 1-5 1 2 0 1 1 1 2-3 1 1 0 3 3-5 1 4 2 0 0-3 0 1 0-2 1 5 2-1 0 1 1-4 2 2 3-1 0-1 1-1 1 3 0 1 2-4 3 9-3 0-1 0-1 0 0-1-1 2-2-4-1 4 0-2-1 0-2 0-2 0-4 0 0 1 0 0-2-1 0 0-1 0 0 2-1 0 0-3-1 1 0-2-7 4-1 2 0 3 3 1 0 1 1-5 1 0 1 5 3-4 0 0 1-1 0 4 1-1 1 2 0-3 1 2 0-3 0 0 1 3 0 0 2-3 1 1 0 1 1-3 0 4 0-2 2 3 2-5 0 0 1 1 0 3 1-2 1 2 0-1 1 2 0 0 0-4 1 0 1 1 0 1 1-1 1 3 1 3-3-1 0 1-4 3-1 0-1-2 0-3-1 1 0 1-1 1-1 0-1 1 0-2 0 0-2 1-2-1 0-2-1 5-1-1 0-3-1 0-3 0-1 2-1-2-1 2 0-3-1 0 0 3-1 0 0 0-1 1 0 1 0-3 0-1 0 4-1-4 0 2-1 1 0 0 0 0 0 5 1 0 2-2 0 3 0-3 1 0 0 4 0-1 0-3 1 0 0-1 1 2 0 0 0-2 1 3 1 1 1-3 1 3 0-2 0 2 1-1 0-2 1 1 0 0 1 1 0 1 1-2 0 2 1-3 1-1 0 2 1 2 0 1 2 0 1-2 3 0 0 1 0 0 2 0 1-3 2 3 1-1 0 2 1-1 0-2 1 2 1 4-1 0-1-1 0 1-2 0-1 2 0 0-1-1-1 2 0-5-2 2-2 0-1 2 0 0-1-3-2 0 0 0-1 3 0 0 0 0 0 1-1-3 0 0-2 2-1-4 0 0-1 0 0 3 0 0 0-1-2 0 0 0-1-1-1 0 0-1 0 3-2-1-1 0 0 0 0-1-1 2 0 2-1-1-1-4 0 4 0 0-1 1-1-2 0 8 0-1 1-3 0 0 0 3 1 1 2-2 0-3 1 5 0 0 2-1 1-3 0 4 1-1 0-3 2 1 0-2 0 4 0-3 0 1 1-1 0 1 0-2 0 3 1 2 0-5 1 4 1-1 0-2 1 1 1 1 1-2 0 4 0-5 1 4 2-2 1-2 2 0 0 3 1 0 0 1 0-1 1-1 1-1 0 2 1 1 1-4 0 3 1 2 0-5 0 2 3 3-1 6-1-3 0 1 0-1-1 3 0-5-1 0-1 5 0-2-1 1 0 1 0-5 0 2 0 0 0-1-1 0-2 0 0-1 0 4-1 0-1-1-2-3 0 3-1-1 0-1-2 0 0 4-2-2-1-1 0-1 0 0-1 1 0-1-1 2-1-1 0-1 0 4-1-2 0-1-1 1-1-2-2 3-1-2 0 1-1 0 0 2-1-1 0 0 0-1 0-1-1 3-1-1 0-3 0 2 0 1 0-2-1-1 0 3 0-1 0 7 0-4 1 3 0-3 0 0 0 0 0 1 1 2 0 1 1-2 0 2 1-2 0-1 1-1 0 4 0-4 2 1 1 4 0-1 0 0 1 1 0-1 1-1 1 2 0-2 0 0 0 0 0 1 1 0 0-1 0-3 0 2 1-1 0 2 1 0 0 0 0 0 0 0 1 0 0 1 0-1 0-1 0-2 0 1 0 3 1-2 1 3 1-2 0 0 0-3 1 2 1 3 0-4 0-1 0 2 0 3 1-4 0 2 0 1 0 0 0 1 1-2 1-3 0 4 0 0 0-3 1 0 1 3 0-3 0 1 0-1 0 0 1 3 0-3 0 0 2-1 0 4 0-2 0 1 1-3 0 2 0 0 1 3 0-1 0-1 0-3 1 4 0 0 0-1 0-2 0 4 0 0 1-4 0 4 0-1 1-1 0 0 0 2-1 1-3 0 0 0 0 1 0 3 0-4 0 3 0-2-1-1 0 3-1 0 0-3 0 0-2 2 0 2 0 0 0-3-1 3-1-4 0 1 0-1-1 2 0 3-1-5 0 2-1-2 0 4 0-4-1 5 0-2-1-1-1-1-1-1-1 3-1 1 0 1-1-2 0 2-1-3 0-2 0 4-2-2 0 1-1 0 0 1 0-4-1 5 0-4-1-1 0 2 0 2 0-2-1-2 0 4-1-3 0 1-1-1 0 1-2-2-1 2 0 0-1 4 1 1 1 0 0-1 4 1 0 2 0 1 1-1 1-1 0 2 0-4 1 5 0-2 1 0 4 0 1-3 0 0 0 1 2 3 1-3 0 0 6-1 5 4 1-3-2 5-4 1-3-1-2 0-1 2-7-2-7 2 0-2 0 2-1 0"/>
<path class="pt" d="M1017.5 863.5l-3 0-1 0-1 0-2 0-9 3 5-2 3 5 9-1 8 6-23 4 8 2 4-3 10-1 2 11-3-1 0-1-3-3-1 1-8 3 0 1-8-3-6 1 8 3 1 4 1 0 5-2 2 3 2 0 1-5 1 0 4 2 4-1-2 5-2 3-1 1-2-4-2 0-10 1-2 4-3-4 0 1-3-2-2 2 0 9 0-3 2 1 4 1 4-2 0 3 14-3 4-2 0 0 3 10-4 0-1 0-10-3-2 3 0-1 0 0-3-2-3 3-2 2 0 1 3 1 6 1 2-2 2 3 0-3 6 0 0 3 2-4 0 5 0 0 3 3-9 1-1 2-3-1-6-4 0 3-2 0-8-2-2 4 2 4 2 0 1 1 1-2 0 1 0 0 3 2 2 0 2-3 1 2 0-2 2 1 3-2 1 3 5 1 7-5 1 6-3 1-1 4-4-4 0 1-2-1-3 0-2-1 0 4-4-3-1 2-2 2-4-2 0 2-6-2 1 4 3-1 1 0 1 0 0 3 4-2 0 3 1-1 6-2 0 3 2-4 1 0 2 2 1 1 1 0 4 0-1 5-4 2-1-4-1 0-2 5-1-2-3 2-1-5-1 3-3 1-2-3-1 1-2 0-1-2-2 4-1-4-1 11 1-4 3 4 1 0 2-4 1-1 0 4 1-1 1-2 0 2 2 0 2-3 0 0 7 4 4 1 4 0 1-3 1 0 0 9-1-2-1-3-1 4 0 1-3-4-1 4-1-4-4 2-3 1 0-2 0 2 0-3-1 4 0-2-1 2-1-1-4 1-1 0-1-2 0 1 0-1-1 1-1-2 0 2-1 1-2-5-2 0 0 9 0 0 3-2 2 0 0 0 3-1 0 1 1 3 0-4 1 4 0 0 1-4 3 4 2 1 0-5 0 3 1 0 1-3 0 5 2-1 1 0 0-3 1 0 3 3 0 1 1-2 1 0 1-2 2-1 2 7-1-1-1 4-1-2-2 0 0 2-1 1-1-3-1-1 0 1-1 0-1-2-1 4-2-2-2 3 0-1-1-3 0 4-1-4-1 2 0-1 0 2-1 0-1-2 0-1-1 3 0 1 0-3 0 3-3-1 0-3-1 3-1 1-2-4-2 4 0-1-1 0 0-1-1 1-1-3 0-1 0 1 0 0 4 5 0 1 0 2 0 1 0-1 3 0 1 0 0 0 4-3 0 5 1-3 1-2 0 0 0 2 1-2 1 3 0 2 0-4 1 4 1 0 0-1 0-1 1-2 0 1 1 1 1-1 1 2 0 1 1-1 0-2 1-2 0 3 1-1 1 3 0 0 0-3 2 0 1 3 0 0 1-5 2 1-1 7 0-1 0-1 0 5-1-5 0 1-1-1-1 1 0 2 0 2-1-1-1 0 0 1 0 0-1-2-1 1 0-4-1 5 0-1-1-2 0 0 0 3-1-4 0-1-1 4-2-2 0-1-1 2 0-1 0 0-1 0 0 1-1 1-1-4 0 4-1-2 0 0-1 0-1-1 0 3-1-3 0 1 0 0-3-2 0 0-2 3-1 2 0-4 0 1-1-1 0 4 0-4 0 2 0-1 0-1-1 3 0-4 0 4-1 0 0 3 0 2 0 0 2 0 0-2 1 0 0-1 1 0 0 5 2-1 0-1 2-2 0 1 0-1 1 4 1-5 1 1 0-1 1 2 4 1 1 2 0-3 0-1 1 2 0-3 1 0 1 5 0 0 0-1 0 1 2-5 0 3 0 1 2-4 0 5 0 0 0-4 2 4 0-5 0 5 1-4 0 2 1-2 0 1 0 1 0-2 1 3 1-2 0 3 0-4 1 2 0 2 1-4 0 8-1 1 0 1-2-2 0 0 0-1-1 3 0-5 0 0 0 2 0 3-1-2 0 0 0 2-1-2 0 2-1 0-1-2 0 1 0-3 0 2 0-1 0 2-1 0 0-4 0 5-3-5 0 0 0 3-2-1-1 1 0-1-1 1-2 2-2-1 0-1-1-2 0 0-1 1 0 0 0-2-1 5 0-1-1 1 0-2 0-3-4 3 0 0-1-3 0 4-1-4-1 1 0 0 0 1 0-1 0 2 0-3-1 3 0 1-1-4 0 2 1 9 0 0 1-5 1 4 0-3 0 0 0 3 1 0 0-1 0-3 0 0 0 5 0-4 1-1 0 0 0 4 0 1 0-1 0-3 1 2 0 1 1-2 0 3 0-2 1 0 0-1 1-2 0 5 0-1 0-2 1-1 0 0 0 4 0-1 1-1 0 2 0-3 0 2 1 1 0-5 0 1 1 4 0-2 0 2 1-4 0 3 0-2 0 0 2 1 0 0 1 1 1 1 0-5 1 5 1-2 0-2 0 2 1-1 0 3 0 0 2-5 0 3 1-1 0 1 1-1 0 3 0-3 1 1 1-1 0-1 1 2 0-2 0 0 0 4 0-3 0 0 0 3 1-2 1-3 0 1 0-1 0 4 1 0 0 1 0 0 0-5 0 0 1 1 0 0 0 0 0 1 1-2 0 7-1 2 0-3 0 2-2-1-1 0 0-1 0 5-1-1-1-4 0 0 0 1-1 2 0-2 0 4 0-2 0-2-1 0 0 4 0-3-1 3 0 0 0 0 0-5-1 5 0-4 0 0 0 0 0 3-1-4-1 2-1 0 0-1 0 1 0 1 0 2-1-5 0 1-1 0 0 0-1 3 0 0 0-3 0 4-1-3 0 1 0-2 0 0 0 1-1-2 0 3 0-2-1 4 0-4-2-1 0 3 0-3-1 4 0-4-1 2 0 1-1-2 0 4 0-5 0 2 0-1 0 4 0-4 0 1 0 2-1 0 0-2 0-1 0-1-1 1 0 4 0-5 0 5-1-5 0 5 0-3 0-2-1 5 0-3 0 1 0-3 0 1 0 1-1-2 0 1-1-1 0 3 0-1 0 3-1-4 0 4 0-4 0 1-1 2 0-4 0 6 0 0 1 1 2 4 1 0 1-2 2-1 1 2 0-1 2-2 0 2 0-3 1 2 1-2 0 0 0 1 1 1 1-2 1 4 0-3 1 1 0-2 0 0 3 5 1-5 1 5 1-3 0 0 0-1 2 4 1-3 0-1 0 0 1-1 1 0 2 2 1-2 0 3 2-1-7 6-9 1-5-2-1-1-10 2"/>
<path class="pt" d="M1108.5 863.5l-12 0-2 0-1 0-2 0-9 0 15 6 0 0 11-2 1-3-20 7-4 8 3-1 12-1 10 4 2-4-1 9-5-1-3-2-6 4-3-1-3 1-3-3-1-1-5 4 1 3 1-1 2-1 0 0 1 2 7 1 3-2 2 0 1 4 0-2 12 8-1-2-3-1-1 2 0-3-1 4-7-4 0 0-1 0-6 1-1 0-1 3 0-2-1-3-3 3-1-1-1 2-3 2 4 3 0-2 3 2 0-1 0 3 10-2 1-3 0 1 4 1 3 3 2 4-1-1-5-1-3 3-2 1-2-5 0 2-6-2-5 2 0-2-1 1-1 2-1-2 0 7 0 0 8 1 6-1 6-1 0 1 2-2 1 1 0-1 1 4 1-4 2 3 1 4-1 1-1 2-1 1 0 0-3-2-6-2 0 2-3-2-1 4-1-4-11 7 1-2 3 4 0-4 5 2 0 1 4 1 3-2 1 1 0-1 1-1 6 4 0-3 1-1 5 1 0 5-7 2-9 0-8-2-1-1-1 1-5 1 0 8 1 0 2-3 5 0 1 0 1 1 3 0 0 1 1 1 0-2 1 3 0-1 2 0 1 1 1-5 1 2 0 1 1 0 2 2 5 0 2-2 1 6-2 1 0-1-2 1 0-2-5 0-1 0-1 2-1-4-4 5-1-4-1 2 0 2-1-5 0 3-2 0-1-2 0 4-9 2 1 2 0 1 2 1 1-4 1 3 0 0 2-3 1-1 5 2 2-1 1 3 1-2 4-2 1 0 0 1 0 4 2-1 4-3 2 4 2 6-1 0-1-3-1 3-1 0 0-1-1 1 0-3-1 1 0 0 0-1-1 1-2-3-1 3 0-3-1 4 0-4 0 3-1-3-2 2 0 3-1-4-1 2-1-1-2 2-1-1-2 2 0-5-2 5-1 0-1-3-1-1 0 1 0 1 0-3-4 4-1-2 0 1 1 7 0-3 1 2 1-1 1 1 0-1 0 2 2-3 1 2 1 1 0-3 0 2 0-1 0 3 0-5 2 4 1-3 2-1 0 1 1-1 1 4 0 0 0-1 1 0 1-3 2 5 1-2 2-1 0 1 1 2 5-1 0-1 2 0 0-3 1 9-2 1-1 1-1 0 0-2 0-2 0 2-1-1-1 0-1 1 0-3-1 4-2 0 0-2-2 3 0-2-1-2 0-1-1 2 0-1-1 4-1-2-4-3-2 0-1 4 0-2-1 3 0-5-1 0-1 5-1-2-1 2-1-5-1 2 0 3 0-2 0-1-1 8 0-1 1-3 0 0 2 4 0 1 1-2 3-1 1 0 0-2 0 4 2-2 0-1 1-1 2 4 2-4 1 2 1-2 0 4 0 0 0-2 1 3 1-1 0-1 0-1 0-1 1 4 2 0 0-1 0 0 1-1 0 2 0-1 0 1 1-1 0-1 2-3 3 5 1-5 1 9-1-2-1 2 0-1-1-1 0 1 0 0-1 2 0 0-1-1 0 2 0-2 0 0 0-1-1-1-1 4-1-2 0-1-1-1-1 1-1 1-2 2-1-4-2-1 0 2-1 3-1-2 0 2 0 0-2-5 0 2 0-2-1 3 0-3-1 2 0 0 0 3-1 0 0-4-1 1 0 3-1-5 0 1-1 2 0 1-1 1 0-2 0-1-1-2 0 2 0 0-1-1 0 0 0 1-2-1 0 2 0 0-1 5 0 3 1-2 1-1 0 2 0-2 3 2 0 1 1 0 0-1 1-2 0 1 0-2 3 3 1 1 3-4 0 3 1 0 2-4 1 5 1-2 1 1 0 1 0-5 1 3 0 0 1 2 0-3 0 1 0-3 1 3 1 1 1 0 1 1 2 0 0-3 1 1 0-3 0 5 1-4 1 0 0 3 0 0 1-1 1-1 0 5 0 1-1 2 0-3 0-1-1 2 0 1 0-2 0 4-1-5 0 0-2 1 0 4 0-2-1-2 0 0-1 3-2-1-1 2-1 0-2-3 0 2 0 1-1-3-1 1 0-2-1 1 0 2-2-4-1 5-1-2 0-3-1 5-2-1-3 1-1-1-2-2-1 0 0 3-2-2-1 6 1-1 0-1 0 0 0 0 0 2 0-3 1 2 0 0 0-1 0 1 1 1 0-1 0 2 0 1 1-3 0 2 0-3 0-1 1 4 0-1 0-2 0 3 0 1 1-3 0 1 0 1 0-2 0 0 1 2 0-2 0 1 0-3 1 3 0 1 1-1 0 1 1-1 0 1 0 1 0-2 0 0 1 0 0-1 0 3 1 0 1-2 0 1 0-4 1 2 0 3 0-5 2 0 0 2 0 0 1-1 0 3 0-4 0 5 0-3 1 0 1 0 0-1 2 3 0 0 1-4 0 2 0 1 0-1 0 0 1-2 0 3 0 1 0-1 1 0 0-2 0 0 0 4 0-5 1 2 0 0 1 3 1-4 1 4 0 0 1-1 1-3 0 1 0-2 0 4 2 1 0 0 0 0 0 0 0-3 1 2 0 1 0-3 0 3 0-2 0 7 0-2 0 0 0 1 0-1-1-1 0-1-1 5 0-3 0 0 0-1 0 1 0-1-1 0 0 0 0 2 0 2 0-4 0 0 0 1-1-2 0 4 0-3-1-1 0 5 0-1 0-2-1-1-1-1 0 3 0-2 0 1-1 3 0-5 0 4 0-1 0-2 0 3-1-2-1 0 0 2 0-1 0 0-2-1 0-2-1 1 0 1-1 3 0-4 0-1-1 1 0 3 0-4-2 2 0 0 0 3 0-3 0 0 0 1-1 1 0-3-1 1 0 3 0-2 0 1-1-3 0 0-1 0 0 2-1-2 0 2 0 2-1-2 0-3-1 3 0 0-1-2 0 3 0-4-1 3 0-1 0 0 0 2 0 1 0-2-1-3 0 3 0-2 0 0 0 0 0 1-1 2 0-2-1-2-1 3-1-3 0 1-1 1 0 1 0-1 0 0-1 4 1 0 1 3 1 0 0-1 2 0 0 0 1-2 2 0 0 1 1 1 2 3 0-4 1 0 2 2 0-1 0-1 3 0 3-1 1 4 0-1 4-3 1 2 1-2 0 5 0-3 0 3 2-3 1-1 0 1 1-2 1 5 0-4 0 0 0-1 0 1 0 0-6 7-3 0-4-1-1 2-2-1-4 0-2 1-4 0"/>
<rect x="825.2" y="957.1" width="48.1" height="41.6" fill="#85ceb7" fill-opacity="0.3"/>
<rect class="bx" x="824.6" y="956.5" width="49.3" height="42.8" fill="none"/>
<path class="md" d="M824.6 981H873.9"/>
<rect x="907.4" y="944.4" width="48.1" height="50.3" fill="#fda481" fill-opacity="0.3"/>
<rect class="bx" x="906.8" y="943.8" width="49.3" height="51.5" fill="none"/>
<path class="md" d="M906.8 975H956.1"/>
<rect x="989.5" y="956.6" width="48.1" height="41.8" fill="#a4b3d5" fill-opacity="0.3"/>
<rect class="bx" x="988.9" y="956" width="49.3" height="43" fill="none"/>
<path class="md" d="M988.9 981.3H1038.2"/>
<rect x="1071.7" y="955.6" width="48.1" height="43.3" fill="#eca1cf" fill-opacity="0.3"/>
<rect class="bx" x="1071.1" y="955" width="49.3" height="44.5" fill="none"/>
<path class="md" d="M1071.1 980.8H1120.4"/>
<rect class="pb" x="800" y="847" width="345" height="178.3"/>
<text class="t yl" x="795.4" y="1022.5">0</text>
<text class="t yl" x="795.4" y="970.3">10</text>
<text class="t yl" x="795.4" y="918">20</text>
<text class="t yl" x="795.4" y="865.8">30</text>
<path class="tk" d="M797.4 1019.5h2.6M797.4 967.3h2.6M797.4 915h2.6M797.4 862.8h2.6M849.3 1025.3v2.6M931.4 1025.3v2.6M1013.6 1025.3v2.6M1095.7 1025.3v2.6"/>
<text class="t xl" transform="translate(849.1 1030.1) rotate(-45)" dy="6.2">Chang~Zhu~Tan</text>
<text class="t xl" transform="translate(931.2 1030.1) rotate(-45)" dy="6.2">Xiangnan</text>
<text class="t xl" transform="translate(1013.4 1030.1) rotate(-45)" dy="6.2">Xiangxi</text>
<text class="t xl" transform="translate(1095.5 1030.1) rotate(-45)" dy="6.2">Dongting Lake</text>
<text class="t ti" x="800" y="839">Hg by Geographic_region</text>
<text class="t at" x="973" y="1089.5">Geographic_region</text>
<text class="t at" transform="translate(780.8 936.1) rotate(-90)">Hg concentration (μg/L)</text>
<text class="t sg" x="846.2" y="854.5">****</text>
</g>
<g>
<path class="gn" d="M1183 993.4H1528.5"/>
<path class="gn" d="M1183 941.1H1528.5"/>
<path class="gn" d="M1183 888.9H1528.5"/>
<path class="gm" d="M1183 1019.5H1528.5"/>
<path class="gm" d="M1183 967.3H1528.5"/>
<path class="gm" d="M1183 915H1528.5"/>
<path class="gm" d="M1183 862.8H1528.5"/>
<path class="gm" d="M1232.4 847V1025"/>
<path class="gm" d="M1314.6 847V1025"/>
<path class="gm" d="M1396.9 847V1025"/>
<path class="gm" d="M1479.1 847V1025"/>
<rect x="1207.7" y="964" width="49.4" height="39.5" fill="#85ceb7"/>
<rect x="1289.9" y="964.8" width="49.4" height="38.7" fill="#fda481"/>
<rect x="1372.2" y="931.5" width="49.4" height="58.8" fill="#a4b3d5"/>
<rect x="1454.5" y="968.3" width="49.4" height="35.5" fill="#eca1cf"/>
<path class="wk" d="M1232.4 964V907M1232.4 1003.5V1016.9"/>
<path class="wk" d="M1314.6 964.8V908.3M1314.6 1003.5V1016.9"/>
<path class="wk" d="M1396.9 931.5V862.8M1396.9 990.3V1016.9"/>
<path class="wk" d="M1479.1 968.3V916.5M1479.1 1003.8V1016.9"/>
<path class="pt" d="M1244.5 863.5l-14 3 18 4-22 10 19 7-28-2 7 6 3-2 13 4 3-1 0 2-1 3-3-3-3 5-8-2 0-2-1 0-2 0 0-1-3 3-5 2 8 1 3 5 3-1 6 0 10-1 0 5-1-2-1 2-10 1-9 1 0 0-4-3-3 0-2-1-1 3 1 6 1-3 3 1 4 1 6 1 1 0 1 1 3-3 0 2 2 2 1 0 4-2 3-3 2 9-1-3-1 4-2-2-3 2-2 0-3-3 0-1-4 2-3 2-1-2-7 0-2 1-2 8 4-1 1-4 0 1 2 2 2 0 0 0 6-2 5 1 0 1 1-1 1 0 1 3 1-1 5 0 1-1 0 8-2-4-2 3-4-2-2 0-3 0-1 2-1-3-6 1-2-2-2 3-1 2-1-3-2 2 0 0 0-4-2 9 11 0 5 0 0 0 0-2 3-1 3 1 2 3 3-4 0 2 2 0 3 3-1 5-4 1-1-1-1 0 0 0 0-1-1-3-1 5-1-4 0 1 0 0-2-1 0-1-2 1-10 0 0 3-2 1-1-5-2 5-2-1 0-1 3 6 0 2 4 0 5-1 2-3 2 2 0 1 2-4 1 0 6 0 2 1 3 1 0 5 0 4-1-4 0 3-2 1-1-5-3 0-2 0-6 0-1 4 0 1 0-2-2 2-2-2 0-1-1 2 0-2 0 2-8-3-1 4-1 4 4 0 1-3 0 5 1-2 0 0 2 1 5-2 2 1 0 0 0 2 0 0 5 0 1-2 4 2 0-2 2 0 4 2 0-2 1 1 0 0 0 0 1-3 0 6 0 1-1 1-1 0-4-1-1 0-1-1-2 4 0 0 0-4-1 2-1 2 0-4 0-1-1 2-1 3 0-3-2-2 0 3-2 0-2 2-1-2 0-3 0 4-1-1 0-1-1-2-1 3-1-3 0 0-2 5-5-5-1 3 0 8 2-2 0-3 1 1 0 1 1-1 1 4 1-2 0 1 1-3 0 0 1 0 2-1 1 2 1 1 0 2 1 0 2-2 0 1 1 0 1-1 1-1 0 2 2-3 0 0 2 0 0 0 1 0 0-1 1 4 0-3 0-1 1 3 1 1 1 0 1 1 1-4 0 2 1 1 1-4 0 5 2-1-1 5 0 1-1-1 0-2 0 4 0 0 0-1-1-4-1 3-2 0-2 2 0-5-1 0-1 2 0-1-1 4 0-3-1 2 0 1-1-5 0 3 0 2 0-5-2 5-1-1 0 1-1-1 0 1 0 0-1-1-1-2 0 1-2-2 0 0-2 0 0 4-1-5 0 5 0-2 0 0 0 2-1-5-1 4 0 1 0-2 0-1-4 2 0-3 0 2-1 2 0 0 0-3 0 1 0 2 0-3-1 2 0 0 0 1 1 5 0-1 0-3 0 5 2-5 0 5 1-2 0 1 0 1 1-4 0 4 0-4 0 0 1 2 1-2 0 4 0-4 0 1 1 0 0 2 1 1 1-3 1 2 0-2 0-2 1 3 1-2 0 3 0-3 1 4 0-4 0 4 0-3 1 3 0-4 1 1 0 1 1 1 1 0 0-3 1 2 0-3 1 0 0 2 0 1 0-3 1 0 1 1 0 0 2 4 1-4 0 0 0 3 2-1 0-3 0 5 0-1 2 0 1-2 0 2 1-1 0-3 1 8-1 1-1-2 0 2-2 0-1-2-1 0-2 3-1-4 0 4-1-2 0 1 0 0 0 1 0-2-1-2 0 1-1 2-1 2-1-5 0 0-1 1 0 0-1 1 0 0-3 0 0 0 0-2-1 2 0 1-1 1-1-2-2 3 0-1-1-4-1 4-1-1 0 0-1 0 0-1 0 0-1 0-1 1-1 0 0 2 0-2-1-2 0 2 0 0-1-3 0 7 1 0 0-1 0 3 1 0 0 2 1-2 0-3 1 3 0 2 1-3 1 1 0-3 2 1 0 0 1 3 0-3 0-1 0 1 2 1 0 1 1-3 0 1 2 4 0-2 1-3 0 2 0 3 0-2 1-3 2 5 0 0 1-3 0 1 1-1 1-1 1 3 0 0 0 1 1 0 0 0 1-3 1 1 0-3 1 5 0-3 0 1 1-2 0 4 2-2 0 2 0-4 0 0 0 0 0-1 0 0 1 2 0 3 0-1 0 1 0-4 1 4 0 0 0-1 0-3 2 10-1-4 0 0 0 3 0-2-1-1 0 1-1 2 0 1 0-3 0-1-1 3 0-1 0 0 0 2 0-3-1-1 0 3 0-1-1-3 0 3 0-2 0 0 0 4 0 0 0-4-1 2 0-1 0 0 0 2-1 1 0-1 0-3 0 2 0-1 0 1-1-3 0 3 0-1 0 1 0-3 0 0-1 5-1-1 0 1 0-4 0 0 0 3 0-2 0 2-1-4 0 2 0 1 0 1-1 1 0-4 0 2-1-2 0 0 0-1-1 3 0 1 0-2 0 2 0-1-1-1 0 3 0-2-1 0 0 2 0-1-1-4 0 3 0 1 0-4 0 4 0-3 0 2-1 1 0 1 0 0 0 0 0-5-1 4 0-1 0-2 0 2-1 2 0 0 0-2 0 2 0-1 0-2 0 3 0 0 0-4-1 4 0-2 0-2 0 3 0-4-1 0 0 2 0 2-1 0 0-2 0 2-1-3 0 3 0-1-1 1 0-4-1 1 0 1-1 2 0 1-1-4 0 2 0 0 0-1-1 3 0-2-1-1 0 3-1 0-1-1 0-1 0 1 0 5 1-2 0-1 0 4 0-4 0 0 1 1 1 1 0 1 0 0 0-1 0 0 0-1 0 3 1-1 1-2 0 4 0-2 0 2 1-1 0-3 0 1 1 1 0-3 0 0 2 1 0-1 1 1 0 1 1 2 0-2 1 3 0-1 0-4 0 0 0 0 1 0 0 0 1 5 0-1 1-1 0-3 1 0 1 1 0 3 0-3 1 0 0 0 0 0 0 4 1-5 0 3 1-3 0 4 1-1 0 2 1-3 0-2 0 1 1 3 0-2 1-2 1 3 1-1 0-2 1 0 0 2 1 1 0 1 0-3 1-1 0 3 0-3 0 0 0 2 1-1 0-1 0 1 1 2 0-2 0-1 1 1 1 3 0-1-8 4 0 0 0-1-2 1-3-1-2 0-1 0-1 0-2 1-5-1-1 2-1-2-3 3-2-1"/>
<path class="pt" d="M1300.5 863.5l15 6 1-4 0 6-14 2 2 3 11 5 5-4 3 9-19-2-5 8 1-1 2-2 0 3 2-2 18 0 6 3 3 3-4-2-10 5-2-2-1 0-4 1-4-1-5-1-1-2-2 7 2 4 7 0 1-3 2-2 0 0 5 0 1 4 3-4 1 0 1 2 8 0 0 1 1-1 0 1 0 4-1 3-10-4-9 5-8-5-3 10 0-2 1-1 0 1 0-1 2 1 1 0 2 2 2-4 2 2 5 1 3 0 2-3 3 3 2 0 3 5-4 2-2-2-2 1-1-1-1 1-6 0-3-1 0-2-5 0-3 9 8 0 2-2 0 2 3 2 1-3 1 2 0-1 1-1 4 2 1 1 2-3 5 1 1 4-1 0-2 4-5-2-1 2-1-1-2-2 0 2-2-3 0 0-1-1-1 4-1 1-5-3-1 3-1-3-2-1-2 1 0 1-1 5 3-1 0 0 4 4 2 0 2-1 4-4 5 2 2 0 2-1 2 4 2 0 0-1 0 0 0 0 2-3 0 5-1 1-3-1-3 0-2 2-4-2-1 0-5 1-1 1-2-2-2 4 0-2-3-2 0 4-4 4 0-1 2 4 2-4 2 3 2 0 0-3 1 1 0 2 4 0 1 1 1-4 0 4 0-1 7 1 2-1 1 0 2 1 0-1 2 0 1 0 1 1-2 3-1 1-1 1-2-3 0 1-1-2-3 0-1 4-1 1-4-2-3 1-1-3-5 4 0-1 0 1-5-2-1 8 0 0 1-3 8-1 1 3 4-4 5 1 0 3 1-2 1 0 2 1 0 1 1 1 1 0 0-2 0-1 6 3 1 4-1-3-4 1 0 4-1 0-1-5 0 3-1-1 0 0-3 3-4-3 0 0 0 2 0-3 0 2-2 2-1 0 0-1-1 1-1-4-2 1-1 0-1 2-1-4-1 2-1-2-1 3 0 2-1-1-1-4 0 5 0-3-2-2 0 9 1-2 0 3 0-2 0-2 0 2 0 3 1-3 0 0 1 0 1-2 0 5 1-3 0 2 2-4 2 2 6 1 2-3 1 0 0 3 0-2 1 1 0 3 0-3 1 0 0 0 0 2 1-4 2 3 0-2 0 1 2-2 2 5 0-1 2 1 3-2 0 3 0 1-1 2-1 1-1-2 0 2-2-4 0 4-2 0-1-1-1-1-1-2-1 1 0 4-1-3 0 2-1-1 0 0-1 0-1 2-1-1 0-3-2 0-1 0-1 4 0-4-1 3-1-2-1 0-3-1 0 1-1 2 0-1 0-1-2 0-2-2 0 3 0 1-1 0 0-4-1 1 0 0 0 10 1-3 0-1 1 0 0-1 0 5 1 0 0 0 2 0 0-3 0-1 0-1 1 4 0-4 1 0 0 2 2-2 0 2 1 0 0 2 0-1 1-3 1 0 0 2 1 2 1-3 0 3 0-3 2 0 0 3 2-3 0 2 1 2 0-2 0-3 0 2 1-1 1 0 0 2 0-1 1-1 1 4 0 0 0-4 2 2 0 2 0-3 1 0 1 0 1 1 0-1 1 0 0 3 1 0 0 0 2-5 0 9 0 2 0 0-1-4-1 1 0 2-1-4 0 5 0-2 0-2-1 2 0 0-1-3 0 2-1 1 0-2-1-1-1 2 0-1-1-1 0 3 0 0 0-3-1 1-1 3 0-1 0 1 0 1 0-4-1-1 0 5 0-1-2-4 0 0-1 2 0 2-1 0 0-4 0 3 0 1 0-2 0 3 0-4-1 0-1 1-1-1 0 3 0-2 0-1 0 1-1 2 0 1 0-5-1 3-2 0 0-1 0-2-1 1 0 4-1-1 0-1 0-2-1-1 0 1-1-1 0 5 0-1 0 0-1-1-1-2 0 1-1-1 0 3-1 4 1 3 0-3 1 3 0-3 0 1 0 2 0-2 1 0 0-2 0 3 0 1 0-4 1 1 0 2 1-2 0-1 1 4 0-3 0 2 0-1 0-1 0 0 0 2 1 0 1 1 0-1 0-1 0 1 0-2 0-1 1 3 0-3 1 2 0-2 1-1 0 5 0-4 0 0 0 2 1-2 0 4 0-1 0-2 1-1 1 4 0 0 1-2 0-2 0 2 0 0 1-1 1-1 0 2 0 2 1 0 1-2 0 2 0-4 0 0 0 3 1 1 0-5 0 2 1 3 0-3 0 0 0 3 1 0 0 0 0-3 0 1 0-3 1 1 1-1 0 5 0-1 1-3 0 1 0-1 1 2 0 1 0-3 1 1 0 1 0-3 1 1 0 1 0-2 0 0 1 2 0-1 1 0 1-1 0 4 1-4 0 11-1-4 0 0 0 0 0 1-1-2 0 3 0-2 0 4-1-3 0 2 0 1-1 0-1-5 0 5 0-3 0 2 0 1 0-5-1 1 0-1-1 0 0 3 0-2 0 2 0 0 0 1-1 1 0-1 0-1-1 1 0-3 0 3 0 0 0 1-1 0-1-2 0 1 0-3 0 1-1 1 0 0 0 1 0 1-1-1 0 0 0 1-1 0 0-4 0-1 0 1 0 2-1 1 0-3 0 2 0-3 0 1-1 3 0-3-1 3 0-2 0 2 0-1 0-1 0 1 0-2-1 4 0-1-1 0 0-3 0 3-1-1 0-3 0 5-1 0 0 0 0-4 0 4-1-5 0 4 0-2 0 2-1 1 0-2-2 2-1-1-1 1 0-5 0 4-1 1 0-1 0 0 0 1-1-3-1-1-1 1 0 1-1-2 0 2 0 0-1-2 0 3 0 4 0-1 0 1 1 2 0-3 1 2 0-1 0 3 1-5 1 0 0 4 1-3 0 1 1-2 1 1 0 0 0 0 1 1 0-1 0 1 1 0 1 1 0-3 0 0 1 1 0 3 0-2 1-1 0 0 0-1 1 2 1 0 1 1 0 0 0-1 0 0 0 3 0-4 0 1 0 0 2 0 0-2 1 5 1-5 0 5 0 0 1-1 0-1 0-2 1 3 0 0 0-1 1-3 0 4 1-1 0-1 1 3 0-4 1 2 0-1 1 0 0 3 1-3 0-2 0 0 0 1 1 1 0-2 0 1 0 0 1-1 0 0 0 4 0-4 0 3 0-3 1 0 1 0 1 3 0 2 0-5 1 2-2 4-1 0-5 0-2 1 0 2-2-2-6 2-1-2-1 1 0 0-11-1"/>
<path class="pt" d="M1413.5 863.5l-4 0-1 0-1 0-5 0 0 0 0 0-2 0 0 0-1 0-1 0 0 0-3 0-2 0-8 0-1 0-3 0 0 0 1 2 6 3 1 0 3-4 1 5 1-3 2 0 0 3 1-3 1 0 2 3 3-3 0 0 1 3 0-4 3 1 1 2 2 1 2-2-3 6-3-3-1 3-1 2-11-2-1-3-4 4 0-4-5 3 0 5 4 1 1-3 0 2 4 1 0-2 0 0 7 2 2-3 7 1 3 3-2 7-4-2-4 1 0-3-1 2-1-2 0-1-1 5-4-5-6 0-1 0-2 5-1 3 4 3 2-1 2-1 7 0 6-2 6 0 0-1 2 9-1-2-3-1 0 1-3-1 0 5-1-2-4-3-1 1-4 2-8 0-2-3 0 0 0 4-5 3 2 3 6-1 1 2 5-1 4-1 4 2 2-3 3 2 1-2 0 2 3 0-3 4-1 0 0-2-1 1-3 1-1-1-7 1-7 1-5 1-2-3 1 7 3 2 5 0 0 1 2-1 2 1 0-3 1 2 5 0 3-2 4-1 0 1 3 3 2-4-1 5-1 1-1-1-1 2-5 2-1-2-6 0-2 1-5-2-5-1-1 1-1-1 0 0-2 7 0 4 2-2 0 1 1 0 0-1 1 2 5-2 0 2 1-2 2 2 0-1 1-2 1 3 1 0 8-4 0 1 2-2 2 2 3-2 2 3 0 8-2-1-2-3-2-1-1 1-5 1 0 1-1 0-2 0-1 2-3-3-1 0 0 1-1-3-1 4-3-1-5-1-1 1-1 0 9 7 1-2 2 0 0 0 6-2 1 0 1 1 4 3 1-3 4 4 0-1 2-2 0-1 1-1 0 6 0 2 0-2-1 3-2-2 0 0-1 4 0-5 0 4-1-4 0 4 0-3-1 3 0 1-2-2 0-1-1-1 0-1-2 4-1-1 0 1 0 0 0-4 0 2-1 2-2-2-2 3 0 0-1-3 0 0-2 1-1-2 0 3-4 1 0-4-3 1 0 0-1 1 0 0-1 0 0-3-1 0 0 3 0-2-1 9 0-1 2 0 2-2 2 3 3-1 0 0 1-3 1 3 1-2 1 1 0-2 0 1 0 2 1 2 1-1 1-1 3-2 1-1 0 3 2-1 2-2 1 1 0 3 1-4 1 1 1 1 1-2 3 3 0 3 0 1-1 2-2-2-1 4 0-2 0-3-1 4-1-2 0-2-1 1-1 3 0 1-1-1-3-4-1 3 0-2-4 1 0 2-2 1-3-4 0 0-1 4 0-2 0-3-1 3 0 0 0 1-2-3 0-1 0 3-2-2-1 1-2 3-2 3 1 3 1 0 0-4 1 2 0 1 1-2 6-1 0 3 1-3 0 1 1-2 0 4 2-2 0 0 0 2 2-2 1-2 1 3 2 1 1-1 1-3 1 1 2 1 2 0 1 2 2 0 0-2 0 2 3 5-1-3 0 1-1 1 0 1-1-3 0 4-1 0-2-1 0 0-2-2-1 3 0-4 0 2 0-2-2 2 0 1 0-2-1 4-2-5 0 2 0 1-1 2-1-5 0 0 0 5 0 0-1 0-3-1-1-2 0-2-1 1-1 1-2 2-1 1 0-2-1 1-2 1-1 0-1-4 0 2-1 0 0 1 0 0-1 2 1 0 0 3 1 1 1 1 0-5 0 4 2 0 0-2 1 1 0 2 0-2 1 1 2-1 1 2 0-3 2 0 1 0 0-2 0 1 1 2 1 2 2-3 0 0 1 1 0 1 1-2 0 1 0-2 1 1 1 2 0 1 1-5 0 1 0 2 1-1 1 3 1 0 0 0 1-1 0-4 1 3 0 1 1 0 1-2 2-2 0 2 0-2 2 4 0-3 0 5-1 4-1-1 0-2-1 1 0 3-1-1 0-1 0 0-1 2-1-5 0 2 0-1-1 1-1 1 0-1-1 0 0 3 0-4-1 0 0 3 0-3 0 3-1-2 0 3-1-3 0 3-2-2 0 2-1-5 0 2-4-1 0 4-1 0-1-5 0 5 0 0 0-3 0 0-1-1 0-1 0 0-1 4-1 0 0-2 0 1-1-1 0 1-1-2 0-1-1 4-1-1-2 2 0-5-1 4 0-2-1-1 0 0 1 9 0-2 1 0 0 0 1-1 0 0 1 4 0-4 1 4 1-3 0-1 1 3 2-1 0-2 1-1 0 5 0-4 0 4 0-5 1 1 1 3 1-1 0-1 1 2 1-1 2 0 2 2 1-2 0-1 1 1 0-3 0 2 1 3 1 0 0-4 0 0 1 4 0-5 1 1 0 2 0-2 0 4 2-3 0 1 1 2 1-2 1 1 0 1 1 0 1 4 0-2-1 3 0 1-1-1 0-4-2 4 0-1-1-1-1-2 0 2-1 2 0-3 0 3-2-4-1 4-1-2 0 2 0-3-1 4 0 0 0-3-1 1 0 2-1-4 0 2 0 1-1-1-1 1 0-1-1 0-2 0 0 2-1-2 0 2-1-2 0 1 0 0-1-3 0 4 0-3-1-1-1-1 0 5 0-2-1 2 0 0 0-2 0-1-2-1 0 2 0 1 0 0-1-1 0-1 0 3-1 0 0-1-1-2 0-2-2 1 0 0 0 2 0 5 1 3 1-2 1-3 0 5 0-3 0 2 1-4 2 0 0 0 1 3 3-1 0-1 1 4 0-5 1 2 1 3 0-3 1 0 0-1 0-1 0 4 1-2 0-1 0 4 1-5 1 0 0 2 1-2 0 3 0-2 0 1 1 0 0 0 0-2 1 5 0-2 0-2 0-1 1 0 0 3 0 2 1-2 0 1 0-3 1-1 0 4 0-1 1 0 0-2 1 0 0 0 1-1 2 2 0-1 1 0 0 2 0 1 1-3 2 3 0-2 0 3-2 4 0 0-3-1-1 3-4-2 0 2-1-4-1 0 0 0 0 4-1 0 0-3-3 3-1-2-1 1-1 0 0-4-3 5-3-3 0 1-1 0 0-2-1 0-2 2-2-3 0 4 0-2-1 3 0-4 0 3 4 2 3 4 0-4 10 4 5-3 1 2 3-3 2 0 2 1 1 6-2 1-11 0-1-2-4 1-3 1-3-2-5 1"/>
<path class="pt" d="M1467.5 864.5l11 1 12 7-1 0-5 10-2 0-9 1-8 4 1 5 5 1 20-5-3 7-1 4-3 0 0 0-2-2 0 0 7 7 5 1-9 2-5 1-11 0-3 3 0 6 0-2 10 0 2 1 0-2 0 2 2-4 0 3 1 2 8-5 2 4 2 1 2 0 0-2 0 3-1 3-7-1-3 2-5 0 0 1-1 0-1-5-2 0-8 2-2-2 0 5-2-1 0 0 0 0 0 6 8-4 0 4 3 0 1 1 9-5 3 1 7-1 1 9-3 1 0-2-1 3-2-5-1 3-3-3-5 0-2 4-1-3 0 4-2-1-1-3-1-1 0 5-1-3-3 0-1-2-1 1-1 4-2-1 3 4 2 3 3 0 2 0 0-3 2 3 2-4 1-1 5 1 1 0 1 0 2 3 7-4-8 6-1 3 0 2-2-1 0 0-1-2-1 0-1 3-3-4-1 4-3-2-2 0-1-2 0 1-1-1 0 4-1-3-1 3 1 4 0-2 1 1 0 1 1 0 0 1 0 0 1-3 1 2 7-1 2 2 0-1 4 2 1-4 1 4 0-1 0 1 1-5 2 1 2 2 3 5-1 1-2 0 0-2-3-1-4 3-3 0-1 1-2 1-1-3-1 1-2 2-2-5-1 0-1 3-2-2 0-1-2 3-2 1 0-3-1-1 0 5 0-1 0 2 0 5 1-1 1-4 1 0 1 5 6-3 1 2 4 0 0-1 1 2 1-2 1-1 4 0 0 2 2-4 1 5 1-5 2 0 2 1 0 8-1 2-1-1-1-3-3-1-1 1-2 0 0 2 0-3-1 4-2-3 0-1 0 2-1 1-2 0-3 0-1-3 0 2-1 3-1-4-3-1-1 3-1 1 0 0-4-4 0 2-2 0 0 1 0 4 0 0 2-1 0 2 0 2 1 0 1-1 0 0 1 1 0-2 1 0 1 1 0-1 3-2 0 4 1-2 2 3 0-2 1-2 1 1 0 1 1-1 0-2 1 2 0 3 1-1 0-4 1 0 0 5 1-3 0-1 3 4 1-5 0 3 0 2 1 0 1-3 1 2 1-4 2 5 1 0 0-5 1 2 0-2 1 7-1 1 0 3 0-3-2-2-1 1 0 2-1 2-1 0 0-1-1 0 0 1-1-5 0 3-1 1 0 1-2-1-1-3-1 0 0 3 0-1-2-2-1 2 0 1-2 0-2-1 0-2-1 2 0 2-1-1 0-3-1 1-1-1 0-1 0 3 0-2-1 4-1-3 0 3 0-3-1-1-1 4 0-5-1 4 0-4 0 5-2-1 0-3 0 4-1-1 0 0 0 0-1 0 0 0 0 3 0 1 0-1 1 0 0 1 0 1 1 1 0 0 3-4 0 3 0-2 1 4 0-2 0 0 0-1 1-1 0 3 0-1 0 2 1-2 0 2 1-3 0 3 2-2 0-3 1 4 2-2 1 1 0 2 2-4 0 3 1-1 1-2 1 0 0 4 1-3 0 2 0-2 0 1 1 0 1 1 1-1 0-1 1-1 0 3 2-2 0 1 0 2 1-5 0 3 1-1 1 1 0 1 0-1 1-3 0 5 1 0 0-5 0 4 0 2-2 5 0 0 0-4 0 1-1 2-1-3 0 4 0-2-1-1 0 0-1 3 0-3 0 2-1-2 0 1 0 2 0 0 0 0 0-5 0 2-1-2 0 2-1 0-1 1 0-1-1 0 0-2 0 3-1 0 0-1-1 2-1-3 0 3-1 0 0 0 0-1 0-3-1 4 0-3-1 1 0 1 0-2-1 4 0-5 0 4 0 0-1-3-1-1 0 3-1-2 0 0 0 4-1 0-1-3 0 2 0 0 0-1-1-3 0 5 0 0 0 0-1-1 0-3 0 1-1-1 0 1 0 0-1-1-1 1 0 2-1-4-1 0-1 5 0-4-1 0 0 1 0-1 1 7 0-2 1 3 0 1 0 0 0-4 1 1 0-1 1 5 0-1 0 1 1-3 0 0 0 0 1-2 0 2 0 2 0-2 0 1 1-3 0 0 0 3 0-3 1 1 0 2 1 1 1-3 0 0 0 0 2-1 0 3 0 2 0-5 1 2 0 0 0 0 1 2 0-4 0 1 0 4 0-5 1 1 0 1 0 2 1-1 0-3 1 5 0-2 0 2 0 0 0-2 0 2 1-4 0 3 1-2 0 3 1 0 0-2 1 0 0-2 1 1 0-2 0 4 0 0 1-2 0 1 0-1 2 3 1-4 0 4 0 0 2-3 0 0 1 1 0-3 0 1 0 3 0-1 1 1 0-1 0 2 0-2 0 2 1-1 1-2 0 3 0 5 0 0 0-4 0 1 0-1 0 2-1-1-1-1-2 5 0-2 0-1 0 2 0-3 0 4-1-5 0 5 0-5-1 5 0-2-1 0 0 1 0 1 0-2 0-1-1 2 0-3 0 1 0-1 0 4-1-1 0 1 0-1 0 1 0 0 0-2-1-3 0 0 0 5-1 0 0-1-2-3 0 3 0-4 0 4-1 0 0 1 0-1 0-1 0 1 0-3-1 0 0 4 0-1-1 1 0-3 0 3 0 0 0-5 0 0-1 5 0-2 0 2 0-2-1 2 0-3 0 1-1 2 0-2-1 0 0 0 0 0-1 0 0 2 0-4 0 4 0 0 0 0-1 0 0-1-1 0 0-4 0 4 0 0 0 1-1 0 0-1 0 1 0-1 0 1-1-4 0 1 0 3-1-1 0-1-1 2 0 0 0-1 0 0-1 0 0 1 0-2 0-3 0 4-1 0 0-3 0-1 0 2 0 3-1 0 0-5 0 4 0 0-1 0 0-1 0-1 0 2-1-4 0 5 0 5 0-3 0 2 0-2 1 0 1-1 1 3 1 1 0-3 0 3 0 0 1 0 0-2 2-2 2 5 0-4 1-1 1 1 0 0 1 0 0 0 0 0 0 1 1 0 1 3 0-4 1-1 1 0 1 4 1-3 0-1 0 0 0 1 1-1 1 1 0 1 0-2 0 0 0 0 1 1 0-1 1 2 1 0 0-2 1 3 1 0 0-2 0 0 1-1 1 0 0 0 0 1 1 3 0 1 1-2 0-3 1 2 1 3 0-5 1 2 0-1 1 2-2 3-2 3-12-1-1-1-1-1-5 2 0-1-1 0-4-1-1 0 0 2-2-2-1 1 0 1-1-2"/>
<rect x="1208.3" y="964.6" width="48.2" height="38.3" fill="#85ceb7" fill-opacity="0.3"/>
<rect class="bx" x="1207.7" y="964" width="49.4" height="39.5" fill="none"/>
<path class="md" d="M1207.7 986.3H1257"/>
<rect x="1290.5" y="965.4" width="48.2" height="37.5" fill="#fda481" fill-opacity="0.3"/>
<rect class="bx" x="1289.9" y="964.8" width="49.4" height="38.7" fill="none"/>
<path class="md" d="M1289.9 989.5H1339.3"/>
<rect x="1372.8" y="932.1" width="48.2" height="57.6" fill="#a4b3d5" fill-opacity="0.3"/>
<rect class="bx" x="1372.2" y="931.5" width="49.4" height="58.8" fill="none"/>
<path class="md" d="M1372.2 966.5H1421.6"/>
<rect x="1455.1" y="968.9" width="48.2" height="34.3" fill="#eca1cf" fill-opacity="0.3"/>
<rect class="bx" x="1454.5" y="968.3" width="49.4" height="35.5" fill="none"/>
<path class="md" d="M1454.5 990.3H1503.8"/>
<rect class="pb" x="1183" y="847" width="345.5" height="178"/>
<text class="t yl" x="1178.4" y="1022.5">0</text>
<text class="t yl" x="1178.4" y="970.3">20</text>
<text class="t yl" x="1178.4" y="918">40</text>
<text class="t yl" x="1178.4" y="865.8">60</text>
<path class="tk" d="M1180.4 1019.5h2.6M1180.4 967.3h2.6M1180.4 915h2.6M1180.4 862.8h2.6M1232.4 1025v2.6M1314.6 1025v2.6M1396.9 1025v2.6M1479.1 1025v2.6"/>
<text class="t xl" transform="translate(1232.2 1029.8) rotate(-45)" dy="6.2">Chang~Zhu~Tan</text>
<text class="t xl" transform="translate(1314.4 1029.8) rotate(-45)" dy="6.2">Xiangnan</text>
<text class="t xl" transform="translate(1396.7 1029.8) rotate(-45)" dy="6.2">Xiangxi</text>
<text class="t xl" transform="translate(1478.9 1029.8) rotate(-45)" dy="6.2">Dongting Lake</text>
<text class="t ti" x="1183" y="839">As by Geographic_region</text>
<text class="t at" x="1355.5" y="1089">Geographic_region</text>
<text class="t at" transform="translate(1163.8 936) rotate(-90)">As concentration (μg/L)</text>
<text class="t sg" x="1229.2" y="854.5">****</text>
<text class="lt" transform="translate(1498.1 1094.1) scale(0.988 1)">D</text>
</g>
<g>
<path class="gn" d="M38 1289.6H378.8"/>
<path class="gn" d="M38 1247H378.8"/>
<path class="gn" d="M38 1204.4H378.8"/>
<path class="gn" d="M38 1161.8H378.8"/>
<path class="gm" d="M38 1268.3H378.8"/>
<path class="gm" d="M38 1225.7H378.8"/>
<path class="gm" d="M38 1183.1H378.8"/>
<path class="gm" d="M38 1140.5H378.8"/>
<path class="gm" d="M77.3 1123.8V1308"/>
<path class="gm" d="M142.9 1123.8V1308"/>
<path class="gm" d="M208.4 1123.8V1308"/>
<path class="gm" d="M273.9 1123.8V1308"/>
<path class="gm" d="M339.5 1123.8V1308"/>
<rect x="57.7" y="1226" width="39.3" height="41.3" fill="#85ceb7"/>
<rect x="123.2" y="1233.3" width="39.3" height="36.7" fill="#fda481"/>
<rect x="188.7" y="1254.3" width="39.3" height="27.5" fill="#a4b3d5"/>
<rect x="254.3" y="1250.8" width="39.3" height="29.5" fill="#eca1cf"/>
<rect x="319.8" y="1254.3" width="39.3" height="27.5" fill="#b8e076"/>
<path class="wk" d="M77.3 1226V1165.5M77.3 1267.3V1298.5"/>
<path class="wk" d="M142.9 1233.3V1179.3M142.9 1270V1298.5"/>
<path class="wk" d="M208.4 1254.3V1213.5M208.4 1281.8V1298.5"/>
<path class="wk" d="M273.9 1250.8V1208M273.9 1280.3V1298.5"/>
<path class="wk" d="M339.5 1254.3V1214.8M339.5 1281.8V1298.5"/>
<path class="pt" d="M67.5 1140.5l2 0 3 0 4 0 3 0 3 0-5 6 13 9-3 5-2-2-3 3-8-1-2 0-7 4 0 3 3 0 1 2 0-4 1-1 1 2 0 2 6-3 2 1 0 3 0 0 1-5 4 4 2-2 3 0-1 4-3 5-2-2-1 0-1 2-4-5-2 2-2 2-7-2-1 9 2-1 0-4 2 4 1-1 1-3 1 2 7-2 3 2 1 1 0 2 4 0 3-5-2 8-1 2 0-1-3 2 0-5 0 4-6-1-4-1-3-1-5 1-1 0 1 8 2-4 8 1 1 3 1 1 6-3 0 3 3-1 1 2 0 4-3-1 0 2-3-4-4 3-1-4-2 4 0 0-2-4 0 5-2 0-6-3 11 9 1-5 1 2 0 2 4-3 2 3 0-4 1 3 0 0 2-1 1 2 0-1 2 2 0-1-6 5-2 2-1-3-7 0 0 3-4 0-1-2-1-1-2-1-2 4 1 5 4 1 5-2 1 2 6-3 9 1 0-3-1 11-1-4-4 3 0-1-3-2-1 2-1-3-2 4-2-1-1-2-6 4 0-4-3 1 0-1-1 4 3 2 4 2 1-1 2-2 0 3 2 1 0-3 2-1 1 4 1-1 1-1 1-1 0 4 1-4 1 2 0 0 0-1 0 0 3-1 0 2 1 1 1 5 0 0-3-3 0 0 0 0-1 5-1-1 0-4 0 5-1 0-1 0-3-3-1 0 0 2-1 0 0-1-1 2 0-1-1-4-1 0-1 1-1 1 0-2 0 2 0-1-1 3-1-3 0 1-1 1-1-1-1-2 0 1-1 4-1-1 0-2 0 3 0 0 0 5 0 0 3 0 0-2 0 2 0-3 3 2 1-2 2 4 0-4 2 0 0 0 1 0 1 0 0 3 0-4 0 3 1 2 0-3 0 0 2-1 2 2 1-1 2 2 1 0 3-4 0 11-2 0 0-5 0 1 0 2 0 1-1-4-2 0 0 4 0 0-1-2 0-1-1 0 0 2 0 2-1-5 0 3 0-2-1 3 0 1 0-3-2 3 0-1 0 0-1-4 0 3 0 1 0-2-1 2 0-1 0-3-1 3-1 0 0 2-1-4 0-1 0 0 0 1-1 2 0-2-1 0-1 2 0 2 0-1 0-1 0-2-1 2-2 1-1-2-1 3-1-1 0 5 2-2 0 0 1-1 0 2 2 2 0-2 1-2 0 3 0 2 0-5 1 0 1 4 1-3 1 1 0 2 2 0 1-4 0 0 1 4 0-1 1-1 1 3 0-3 2 3 0-3 1 1 0 1 0-4 0 2 1 0 1-2 0 2 0 2 0-2 1 1 0 1 0-4 0 3 0 0 1 2 1-1 1-4 0 2 0 1 0 4 0 2 0 1 0-3-1 3 0 1 0 0-1-3 0 2-3-1-1 0-1 2 0-3 0 3-1-2 0 0 0-1-1 1 0-2-1 2 0-2-1 0-1 4-1-5 0 2-1-1-1 4 0-5 0 2-1 1 0 0 0-3-1 3-1 2-1-1-1 1 0-3-1 2 0-4-2 1 0 2-3-3 1 8 0 0 0 3 1 0 0-3 2 3 0 0 0-4 1 2 0-1 0-1 1 4 0-1 1 1 0-4 1 0 0 4 1-3 0 2 0-2 1 1 0 0 1 1 0-3 0-1 2 5 0-2 0 2 1-5 0 2 0-2 0 0 1 5 0-4 0 4 0-3 0 0 0-2 1 0 2 3 0 0 0-2 1 4 1-3 0 0 0 3 1-1 2-2 0-1 0-1 1 3 0-3 0 2 0 3 1-3 0 1 1 1 0 7 0-5-1 3-1 0-1 1 0 0 0-3 0-1 0 0-2 4 0-1 0-3 0 0-1 2 0 0-1 1 0 0-1-1 0 0-2-1-1 0-2 4 0-4 0 2-1-1 0-1 0-1 0 5-1-2 0-2 0 0-1-1 0 0-2 1 0 0-1-1 0 4-2 1 0-1 0-4 0 1 0-1-1 4 0 1-1-3 0-2-1 3 0 2 0 0-1 0-1 6 1 0 0-3 1 0 0 1 0-1 0 0 2-1 0 2 1-2 0-1 1 1 1 4 1-1 0-3 1 0 0 2 0 0 2-1 0 0 0 0 1 0 0 3 1-2 0 0 0 1 0-3 1 4 1-5 2 2 0 3 0-5 3 3 0 0 1-2 1 4 0-2 2 2 0 0 1-2 0-3 0 4 0-3 0 1 1 1 0-1-1 8-2-1 0 1-1-1-1-1 0 0-1-2-1 0 0 3-1 0-1-2-2 1 0 0-1 1 0-2-2-1-3 1 0 2-1 1 0-4-2 5 0-4 0 2-2 2 0-3 0 3 0-1-1-2-1 3-1-3-1 3 3 4 1-2 2 0 0 4 3-4 0 1 0 1 1-3 0 1 3 3 1-2 0-2 0 5 5 0 1-2 1-3 1 3 1-1 1 0 0 2 0-2 1 0 0 5-1 1-3 0-2 0-1 1-3-2-7 1-1 0-4 2-2-3 12 7 3 0 1 0"/>
<path class="pt" d="M140.5 1154.5l-5 9 21 10-4 2-5-1-9 1-8 6 1-5 6 3 4 1 5-1 0-3 3 1 2 5-2 0-1 0-1 4-5 0-1-1-1-2-1 3 0 0-1 0-2 0-1 1-1 0-4 4 4 1 3-4 0 3 7 2 1-4 1 0 7 1 2-1-2 6-1 2 0-2-3 2-1-2-2 0 0-1-6 3-1-2 0 4-4-4-1 2-2-3 0 10 1 1 0 0 2-1 4-1 7 2 3-5 3 5 4 4-6-2-2 3-6-1-2 1 0 1-2-3-3 2 0-4-4 6 1 1 1 3 1-2 3 3 3 0 0-4 0-1 4 4 1-3 2 2 2 1 1 1 0 0 1-1 2-1 0 0 3 1-4 2-1 1-2 4 0-2-1 2-3-1-5-3-3 2-4-1-3 3 0 6 6-4 1 1 6-1 2 1 4 0 0 0 1 3 0-3 1 1 2 0 0 1 1-1 1 1 0-2 1-2 0 1-1 7 0 1 0 2-1-1-1-4 0 3-2 1-1-4 0 4-1 1 0-1 0 0-5 0 0-4-2 2 0 0-1 0-2 2-1-4 0 4-1 0-1 1-3 0 0-5-1 3-1-1 0 0 1 9 0 0 1-1 0-3 0 4 0-3 1 0 0 3 0 0 0-5 1 2 2-2 2 5 1-1 2 1 0-2 1 2 1-2 1-2 0 0 2 2 0-3 1 5 0-3 0-1 2 2 0 0 0 2 1-3 1 1 0 0 1-2 1 4 0-5 0 4 0-4 1 3 0 4 0 2 0-1 0 2-2-1 0-1-1 2 0-1 0-1-1-1 0 3-1-2-1 1-1 2 0-4 0 1 0 3-1-5 0 3-1 2 0-2-1 1-1 1 0-3-1 0 0 3 0-5 0 1-2 0-1 4-1-4 0 3 0-1-3 1 0-4-1 5 0 0 0-1 0-4-1 0 0 2 0 2 0-3 0-1 0 4-2 0 0 0-1 1-1-1 0-2 0 5 1-1 1 2 0 3 0-2 0 0 1-1 1 0 0-2 1 0 0 5 1-1 0-4 0 5 0-5 1 3 0-3 1 3 1-2 0 2 0 1 0-1 1 0 0 2 0 0 1 0 2-1 1 0 1-1 0-2 0 1 0 0 0 0 0 0 0-2 1 5 0 0 0-2 2 0 1 2 2-2 0-1 0 3 1 0 2-3 0 0 1 2 0-1 0-3 0 10 0-3 0 3-1-3-1-1 0 3 0 2-1-2 0 2-1-1 0-1 0 1 0-1 0-1 0 0-1-2-1 0 0 0 0 2 0 2 0-3-1 1 0 2 0-3-1-1 0 3-2-2-1 0 0 2-2-2 0-1-1 3-1-2-1 2 0 1 0-4-1 5 0-1 0 1-1 0 0-4 0 0-2 3 0-1-1 1 0-1 0-2 0 4 0-3-1-1-1 0-1 4 0-3-1 2 0 7 0-5 1 2 0 1 1-3 0 1 1-1 0 3 1-3 0 3 0 2 1-3 0 2 0-1 0-1 1 3 1-1 1-2 0 0 0 2 0-4 1 5 1-2 1-1 0 1 0 2 2-1 1 1 0 0 1-3 0-1 1 2 0 2 0 0 1-4 0-1 0 4 1-1 1-1 0-2 0 2 0 0 2-1 1 2 0 1 0-3 1 1 0 1 0 1 1-4 0 2 1 1 1 2-1 5-1-4 0 0 0 4-1-3 0 0 0 2 0 1-1 0-1-4-1 0 0 0 0 2-1-2 0 0 0 5-2-1-2 0-1 0-1 1 0-5 0 2-1 2 0-4-1 5-1-2-1-3 0 3-1 2 0-5-1 3-1-2-1-1 0 0-1 0-1 5 0 0-1 0-1-2 0 0 0 1 0 1-1-5 0 3 0 2 0 5 0-2 1 3 0-4 1-1 0 5 1-5 0 3 0-1 0 2 1-4 1 5 1-5 0 3 1 1 0 1 0-4 0 3 1-3 0 2 0-3 0 3 1-1 1 1 0 1 1-3 0 2 0 2 1-1 0-4 1 2 0 2 0-4 1 2 0 1 1 0 0 1 0-2 1 1 1 1 0-4 0 5 1-5 0 4 0-2 1-2 0 5 0-1 1-4 0 4 0-2 0-1 0 4 1-5 0 5 0-3 1-1 1-1 2 1 0 0 1 9 0-1-2-2 0 2 0-2 0 2-2 2 0-3-1-1-1 2-1-1 0-2 0 3 0 2-1-1 0-1-1 0-1-3 0 3-1-2 0 4 0 0-1-3-1 2 0-4-2 3-1-2-1-1 0 3-1 2-1 0 0 0 0-3 0 1-1 0-1-1 0 3-1-3 0 2 0-2-1-2-1 2 0 3 0-3-1 1 0-3-1 3 2 7 0-2 0 1 1-1 0 1 0-3 1 2 0 0 0-2 2 0 1 2 0 1 4-2 0 4 2-3 0 2 0 0 1-3 1 2 0-1 1 3 2-2 4-2 1 2 0 2 1-4 1 8-3-2-6 2-1-2-1 1-2-2-5 5-3 0 0-5-4 8 5-2 12 2"/>
<path class="pt" d="M210.5 1180.5l3 7-8 8 0 2-5 0-1 1 1 6 6 1 10-1 4 3-4 0-11 4-9 2 2 1 1 0 9 2 4-1 0 2 0-1 1 1 3-5 2 0 2 3 1 1-3 2-1 2-1 2-2 1-1-1 0-2 0 0 0-1-2 4-8-1-2 1-4-4 3 10 3-4 2 4 5-3 3 0 1 3 2-1 2-1 1 2 1-4 1 4-1 3-1-2-2 4-1-2-4 3-1 0-3-4 0 2-1-2-1 0-1-1 0 3-2-3-1 1-1 2 0 2-1-4 0 1 0 1-3 2-1-3-1 9 1-1 6-1 1 1 5-3 2 0 1 2 4-3 0 4 3 0 1-3 1 1 0-2 1 11-4-3-1 2-3-1 0 1 0-1 0-3 0 5-1-4-1 4 0-4-3 3-1 0 0-1 0 0-1 1-1-4-5 1-2 4-1 0-1-5 0 4 0 7 0-1 0-2 2 3 0-1 0-4 1 3 4 1 1-3 2 1 1 0 1 2 0-2 2 3 0-3 3 2 0-3 1 1 0 1 0-1 1 1 1 0 0 2 1-1 3-4 1 4 0 7-1-5-1 5 0-5-2 3-1-2-1 3-1 1 0-4 0 3 0-2-1 2 0-2 0 3 0-4-1 4 0-2 0-3-2 0 0 2-1 0-1 2 0 1-1 0-2-1 0 0 0-2-1 0-2-2 0 4-2-2 0 1-1 0 0-2 0 4 0-4 0 4-1-2 0 0-1 2-1 0-1 3 1 1 2 2 1 0 0-1 2 0 0-4 1 0 0 0 0 3 0 2 2-1 0-1 0-2 0 3 2-2 0 2 2 0 0 1 0-2 1-3 0 3 0 0 0-1 0-2 0 1 1 2 0 1 1 1 0-1 1 1 0-2 0-2 0 1 1-2 0 1 1 4 0-3 0 0 2 0 0 2 0-2 0-1 1 4 0-2 1 1 0-2 0-2 1 2 0-1 0 4 1 0 1-5 0 4 0 3 0 2-1 2 0-5 0 2-1 2-1-4 0 1-1 1-1-1 0 4 0-5-1 2 0-1 0 1 0-2 0 5-1 0 0-4 0 0 0 0 0 4-1-3-1 0 0 3 0 0 0-4-1 2 0-3-1 2 0-1 0 2-1-1 0 3 0-3 0-2 0 2-1 1 0 1-2-2 0-1 0-1 0 3 0 1-1-1 0-1 0 0-1 1 0-1-1-2 0 0 0 0 0 4-1-3 0 0 0 4 0-3-1-2 0 5 0-1 0 1-1-1 0-4 0 0 0 1-1 0 0-1 0 1-1 4-1-4 0 0-1 2 0 1 0-2 0 6 0 1 1-1 0-1 0 3 0-3 1 4 1 0 0-4 0 2 1 2 1-2 0 0 0-3 0 3 0-3 1 0 0 2 0 3 1-4 1 3 0 0 0-1 1-2 0 1 0 3 2 0 0-2 0 0 0 2 0-3 1 1 0 0 0-2 0 4 1-4 0 1 1-2 1 0 0 3 0-2 0 0 0-1 0 1 1 0 0-1 1 0 0 3 1 2 0-5 0 0 1 2 0 1 0 1 0-4 0 0 1 1 1 2 0-2 0 3 1 0 0-4 0 5 1-5 3 8-1 0 0-1 0 4 0 0 0-3-1 3 0-4 0 4 0-3 0-1-1 4 0 0 0-2 0 1 0-3 0 1-1 1 0 2 0-1 0-3 0-1 0 4-1-3 0 3 0-3-1 3 0-4-1 0-1 1 0 1 0 0-1 2 0 0-1 1 0-1-2 1 0-3-1-2 0 1 0 4 0-2-1 1 0 0 0-4 0 2 0-2 0 5-1-5 0 0 0 1-1 3 0-1 0 2-1-2 0 0 0 1-1 1 0-2-1-3 0 1 0 4-1-5 0 1 0 2-1 1 0 0 0 0 0-4-1 4-1-1 0-1 0 1 0-3-1 3 0 1-1-1 0 0 0-1 0-2-2 4 0 2 0 1 1 0 0 3 1 0 0-2 0 3 1-1 0-3 0 3 0 0 0-3 0 2 1 2 0-4 0 1 0-2 0 3 1-3 0 1 1 1 0 2 0-3 0 0 0-1 1 1 0 0 0 3 1-3 0-1 0 4 0-3 0-1 0 0 1 0 0 5 0 0 0-4 1 1 2 2 0 0 0-1 0-2 0 2 0 2 1-2 0-2 0 0 1 0 1 2 0 0 0-1 1 0 0 1 0-3 1 0 1 3 0-2 0 4 0 0 1-2 0 2 0-4 1 0 1 1 0-1 1 1 0 2 0-2 0 0 1 1 0 1 1 1 0-3 0-1 1-1 0 3 1 2 0-5 0 5 0-4 0 4 0 1 0 4-1-1 0 0-1-2 0 2 0-3 0 5-1-5-1 1-2 1 0 0-1 1-3-3-2 2-1 2-1-4 0 1-1-1 0 3-1-2-1 1 0-1 0 0-1 2 0-3-2 0 0 2 0-2 0 3-1-3-1 5 0-3 0 1 0-3-4 2 2 5 0 1 9-2 0 0 2 1 3-1 4 2 0-2 3 2"/>
<path class="pt" d="M282.5 1186.5l-16-2-3 2 15 5 2 7-3-3-4-1-1 3-7 0 0 6 8 2 3-1 2-2 8 9-4 0-1 0 0-2-1-2-1 4-7-1-4 0-1 1 0-3 0-2-2 3-1-1-2 3-1 2 1 1 2 1 4-1 1 0 3-1 5 4 3-4 6 2 1 4-5 1-3 2-1-2-1-2-3 4 0 0-1-2-5 0-1 2-1-1 0-2-4 3 1 4 4 3 0-3 0 3 7 0 1 0 0-2 1-1 2 1 0 1 3-4 3 0 1 5 1 2-1 3-5-1-1-1-3 0-1 2-2-4-4 5-1-5-4 5-1-1-2-2 0 0 0-2 4 6 2 3 0 2 3-3 5 2 1-1 5-2 1 4 0-3 0-2 1 5 1 0 3-4-1 5-1 0 0 2-1 1-1 1 0 1-4-4-1 0-1 0 0-1 0 5-1-2-1 2-1-2-2 0 0-2-1 2 0-2 0-1-1 0 0 3-3 1-1-2-2 0-1 3 0-1-1 1-1 0 0 6 1-5 1 1 0 4 1-2 1 2 0-4 0 0 0 3 1-2 1 0 1 3 0-1 0-2 0-1 0 0 2 3 1-1 1-1 0 3 1 0 0-1 2-3 1 3 0 0 1-2 0 0 0-2 2 4 0-2 1 3 0 0 0 0 1-2 0 2 2-1 1-2 0 1 0 0 1-2 2 7-1 2-1-4-1 0 0 4-1 0 0-2-1 3 0-4 0 1-1 2-1-4 0 1-1 4 0-5 0 3 0 2-1-4 0 2 0 2 0-3 0 2-1 0 0-3 0 2-3-2 0 3-1-1 0-2 0 2-1 0 0-1 0 1-1-1 0-1 0 2 0 2 0-5-3 1 0-1 0 2 0 0 0-2 0 3-1 2-1 0-1-5 0 0-1 5 0-2 0 2-1-3 0 2 0 1 0-3-1 1 0-1 0 2 0-4 0 11 0-3 0 1 0-3 1 4 0-2 0 1 0 2 1-1 1 1 0-1 0-4 1 1 0 3 0-3 0 1 1 0 0 2 0 1 0 0 0-4 0 1 1-1 0 2 0-1 1 0 0 3 0-3 0 3 0-3 1-1 0 0 0 1 1 1 0 0 0-2 1 0 0 1 0-2 0 2 1 1 0 2 1-4 0 4 1-3 0 2 0 1 0-1 1 1 1-3 0-2 0 1 0-1 1 4 0-1 1-3 0 2 1 0 0-1 1 0 0 0 0-1 0 0 0 2 0 0 0 3 1-4 0 0 0 2 0 2 0 0 1-2 1-2 0 2 2 1 1-1 0 4-1 3 0-1 0 0-1 2 0 0 0-3 0 1-1-3-1 1 0-1 0 0 0 3-1 2 0-3 0-2-2 0 0 2 0 0 0 0-1 0-1 3 0-5-1 5-1 0 0-3 0-2-1 1 0 2-1-2-1 0-1 1 0 2 0-3-1 4 0-5 0 4-1-3 0 4 0-2-1 2 0 0-1-5 0 5 0 0 0-3-1 1 0-2 0-1-1 1 0 0-1 4 0-5 0 3-1-3 0 1-1 0 0-1-1 1 0-1 0 4 0-4 0 1-1 6 1-1 1 1 0 4 0-5 1 2 0 0 0 2 1-1 0-2 0 2 2 2 0-2 0 1 2-2 0-2 0 3 1 0 1 1 1 0 0-2 0-2 0 0 1 2 0 0 0-2 0 0 1 1 0-1 2 0 1 0 0 4 0-2 1 3 1 0 0-3 0 0 0 3 1 0 0-2 0-3 0 4 1-3 1 3 0 1 0-5 1 1 1-1 0 0 0 1 0 3 0-2 1-2 0 0 0 5 1-5 0 2 1 6 0 3-1-4 0 2-1 2 0-3-1 3-1-5 0 1-1 2 0 0-1 1 0 1 0-3-1-2 0 5-1-2-1-3 0 5 0-2 0 1 0-2 0 3-1 0-1-4-1 3 0 0-2-2 0 3-1 0 0-5 0 0 0 5 0 0 0 0 0-4-2-1 0 4-1 1 0-5 0 3-1 1-1-2-1 2 0 1 0-5-1 2-1 2 0 1 0 0-1-4 0 4-1-4 0 0-1 4 0-4 0 2 0 0 0 6 1 0 0-2 0 2 1-1 0-1 1 3 0-2 1-1 0 1 0 1 1 1 1 1 0-4 1-1 0 2 0 2 0-2 1 2 0 0 0-2 0-1 1 2 0-3 0 4 0 1 0-5 1 0 0 2 0-2 0 1 1 0 1 2 0-1 1 2 0-4 0 2 0-1 0 0 0 0 0-1 1 1 0 3 0 1 0-3 1 1 0-2 0-1 0 3 1 0 0-2 0 0 1 1 1-1 0 0 1 4 0-4 1 4 0 0 0 0 1-5 0 3 1-1 0 0 1-2 0 3 0 1 0-4 1 2 1-2 0 1 0 4 1-1-1 3-1 1-1 1-3 0 0-2-3 0-2 4 0-3-1-1-1-1-1 3-1-1-2 1-3-1 0 1-2-1 0-1-1 0 0 0-1 2-2-2 2 6 0-1 0 1 3-1 0 1 12 1"/>
<path class="pt" d="M350.5 1143.5l-15 11 1 12 15 33-7-1-15 5 0 1 11 0 10-3 1 4 0 5-6-1-2-2-2-1-10 4-3 1-1-5-1 9 17 2 1-1 2 0 3-2 1 3-1 4-2 1 0-4-1 5 0-4-1-1 0 1-4 1 0-1-4 2 0 1-1-4-1 0-2 4-1-1-1-1-2 2 0 1-1-5 0 2-2-1 1 9 1 0 0-4 1 3 0 1 1-2 0 1 1-2 1 0 0 0 2 1 1 1 4 0 0 1 1-2 2 0 0 0 0 1 1-1 1 1 0 0 1-3 0 5 2-5 5 5-2 4-1 2-2 0-4-4-3 2 0-1-1-1-1 4-1-1 0 0-4-3 0 0-3 9 2-3 1-1 0 5 1-5 0 1 0 4 0 0 12-3 2 1 4-3-1 7 0 4-1 0 0-4-1 3 0-2-1 1-2 1-2-3-1 2-9-2 0 4-1-2 0 1-1-1-3 0-2 7 0-4 0 1 3 3 3-3 0 3 2 0 1-4 1 1 1 1 0 0 1 3 0-3 1 1 2 0 2 1 0 1 0-1 6 1 0 0 0 0 2 0 0 1 0 2-1 3-3 0-1 0-1 0 0-5 0 5-1 0 0-4 0 4 0-5-1 5 0 0 0-4 0 3-1 0 0 1 0 0-1 0-1-1 0-2 0 3-1-3 0-2-1 5 0-2-1-1 0 0 0 2-1-1 0-2 0-1 0 4 0-1-1-2 0 3-1-2 0 0-1-2-1 5 0-1 0-2-1 1-1-3-1 5-1-4-3 6 1 2 0 0 0 0 0-2 0 0 1 0 1 0 0 0 0 2 0 1 1-3 1 3 0 0 0-1 1-2 0-1 0 5 0 0 0-3 0 2 1 1 0-5 0 5 0 0 0-1 1 0 1-4 0 1 0 0 1 0 0 4 0-2 0 1 1-1 0-3 0 2 0-1 0 2 0 2 1 0 0-5 1 2 0 2 0 1 1 0 0-5 1 1 1 2 0-3 0 4 0-3 0 2 1-3 0 4 1-4 0 2 0 2 1 0 0 1 0-5 0 2 0-1 1 4 0-5 0 3 0 1 1 1 0 0 0-2 1-2 0-1 1 3 0 1 1-3 0 2 0-1 1 3 0-1 0 0 0-2 0-2 0 4 0 0 0-2 1 0 0 9-1 0-1-1-1-2-1-2 0 3-1-2 0 2 0-3 0 4-1 0 0 1-1-4 0-1 0 0 0 1-1 0 0-1-1 5 0-2-1-2-1 2 0 1 0 0 0-4-1 5 0-4 0 3 0 0 0-2-1 2 0 0 0-1 0-1 0 3 0-3-1 2-1-3 0 1 0 0 0-2 0 5-1-4-1 1 0 2-1-3-1 0 0 4 0-4 0-1-1 1 0-1 0 3-1 1-1 0 0-4 0 0 0 5 0 0-3-3 0 1 0 8 1-3 0 3 0-1 1 1 0-2 0-1 0-1 1 0 0-1 1 3 0-2 1-1 0 5 0 0 1-2 0 1 0 1 1-4 0 4 0-4 0 3 1 0 0-2 2-2 0 5 0-3 1-1 0 4 0-1 1 0 0-4 1 0 0 1 0 0 1 0 0 2 0-1 1-2 0 1 0-1 0 2 0 0 1-2 0 2 0 3 0 0 0-5 1 2 0 0 0-1 2 3 0-2 0 2 0 0 1-3 1 2 1-3 1 1 0 1 0 1 0-3 0 3 0-3 1 0 0 4 1-4 0 0 1 3-1 5 0 1 0 1 0 0-1 1 0-2 0 2-1-4 0-1 0 4 0-1 0-3 0 0-1 2-1 2 0 0-1-1-2 2-1-2 0 0 0-1-1 2-1-2 0-2 0 5 0 0 0-2 0-2-1 3-1-3 0 3 0-1 0-1-1-1 0 3 0 1 0-1-1-2 0-2 0 2 0 3 0-2-1-3 0 2 0 3-1-5 0 0 0 5 0-2-1 0 0-2 0 4 0-3-1 2 0-4 0 4 0 0-1-1 0 1-1-2 0 3-1-1-1-1 0-1 0-1-1 4 0-5 0 0 0 5 0 0-1-4 0 3-1 0-1-4 1 9 1-1 1-1 0 1 0 3 1-4 0-1 0 3 0-2 0 0 0 3 0-2 0-1 1-1 0 5 0-3 1-2 0 5 0-4 0-1 1 1 0 2 0 0 2-2 0-1 0 0 1 4 0-1 0 0 1-3 0 3 0-3 0 5 1-4 0 1 0-1 1-1 0 5 1-1 0-3 0 2 1 2 0-3 0-2 1 5 0-1 0-4 1 0 0 1 0 3 0-2 0 1 1 0 1-1 0-2 0 5 0-4 0 3 1-1 0 2 0-4 0 4 0-3 2 2 0-3 1 2 0-3 1 4 0-3 0 3 1-1 0-1 0 0 1 0 0-2 0 1-2 7-1-1-5 4 0-5-3 5-2 0-1-5-2 4 0-4-1 0 0 2 0-1 0 0-1 2-1 0-1-3 0 3 0 1-1-1-1-3 0 1-2 4 0-2-1 3 0 3 8-1 9-1"/>
<rect x="58.3" y="1226.6" width="38.1" height="40.1" fill="#85ceb7" fill-opacity="0.3"/>
<rect class="bx" x="57.7" y="1226" width="39.3" height="41.3" fill="none"/>
<path class="md" d="M57.7 1249.3H97"/>
<rect x="123.8" y="1233.9" width="38.1" height="35.5" fill="#fda481" fill-opacity="0.3"/>
<rect class="bx" x="123.2" y="1233.3" width="39.3" height="36.7" fill="none"/>
<path class="md" d="M123.2 1253.5H162.5"/>
<rect x="189.3" y="1254.9" width="38.1" height="26.3" fill="#a4b3d5" fill-opacity="0.3"/>
<rect class="bx" x="188.7" y="1254.3" width="39.3" height="27.5" fill="none"/>
<path class="md" d="M188.7 1268.8H228.1"/>
<rect x="254.9" y="1251.4" width="38.1" height="28.3" fill="#eca1cf" fill-opacity="0.3"/>
<rect class="bx" x="254.3" y="1250.8" width="39.3" height="29.5" fill="none"/>
<path class="md" d="M254.3 1266H293.6"/>
<rect x="320.4" y="1254.9" width="38.1" height="26.3" fill="#b8e076" fill-opacity="0.3"/>
<rect class="bx" x="319.8" y="1254.3" width="39.3" height="27.5" fill="none"/>
<path class="md" d="M319.8 1267.8H359.1"/>
<rect class="pb" x="38" y="1123.8" width="340.8" height="184.2"/>
<text class="t yl" x="33.4" y="1271.3">200</text>
<text class="t yl" x="33.4" y="1228.7">400</text>
<text class="t yl" x="33.4" y="1186.1">600</text>
<text class="t yl" x="33.4" y="1143.5">800</text>
<path class="tk" d="M35.4 1268.3h2.6M35.4 1225.7h2.6M35.4 1183.1h2.6M35.4 1140.5h2.6M77.3 1308v2.6M142.9 1308v2.6M208.4 1308v2.6M273.9 1308v2.6M339.5 1308v2.6"/>
<text class="t xl" transform="translate(77.1 1312.8) rotate(-45)" dy="6.2">Mining</text>
<text class="t xl" transform="translate(142.7 1312.8) rotate(-45)" dy="6.2">Construction</text>
<text class="t xl" transform="translate(208.2 1312.8) rotate(-45)" dy="6.2">Manufacturing</text>
<text class="t xl" transform="translate(273.7 1312.8) rotate(-45)" dy="6.2">Agriculture</text>
<text class="t xl" transform="translate(339.3 1312.8) rotate(-45)" dy="6.2">Other</text>
<text class="t ti" x="38" y="1115.5">Pb by Occupation_type</text>
<text class="t at" x="208.8" y="1365.5">Occupation_type</text>
<text class="t at" transform="translate(14.1 1215.9) rotate(-90)">Pb concentration (μg/L)</text>
<text class="t sg" x="74.4" y="1131.5">****</text>
</g>
<g>
<path class="gn" d="M416.5 1273.8H761"/>
<path class="gn" d="M416.5 1220.4H761"/>
<path class="gn" d="M416.5 1167H761"/>
<path class="gm" d="M416.5 1300.5H761"/>
<path class="gm" d="M416.5 1247.1H761"/>
<path class="gm" d="M416.5 1193.7H761"/>
<path class="gm" d="M416.5 1140.3H761"/>
<path class="gm" d="M456.2 1123.8V1308"/>
<path class="gm" d="M522.5 1123.8V1308"/>
<path class="gm" d="M588.8 1123.8V1308"/>
<path class="gm" d="M655 1123.8V1308"/>
<path class="gm" d="M721.2 1123.8V1308"/>
<rect x="436.4" y="1253.5" width="39.8" height="32.5" fill="#85ceb7"/>
<rect x="502.6" y="1263.8" width="39.8" height="26.5" fill="#fda481"/>
<rect x="568.9" y="1263.8" width="39.8" height="25.2" fill="#a4b3d5"/>
<rect x="635.1" y="1263.8" width="39.8" height="25.2" fill="#eca1cf"/>
<rect x="701.4" y="1263" width="39.8" height="27.3" fill="#b8e076"/>
<path class="wk" d="M456.2 1253.5V1206.8M456.2 1286V1299.6"/>
<path class="wk" d="M522.5 1263.8V1227.5M522.5 1290.3V1299.6"/>
<path class="wk" d="M588.8 1263.8V1230M588.8 1289V1299.6"/>
<path class="wk" d="M655 1263.8V1229.3M655 1289V1299.6"/>
<path class="wk" d="M721.2 1263V1224.3M721.2 1290.3V1299.6"/>
<path class="pt" d="M458.5 1146.5l-5 7 10 3 5 19-18 14 13-1-8 6-4 0-6 3 19 5 1 0 4 8-3-1-2-2-1 2-5 0-1 2-2 0-3-1-1-1-1 2-5-5 6 10 1 1 1-4 0 0 4 2 3 0 0 1 1 1 1-4 4 3 1 0 0 3-6 1-3 2-1-3-1-1 0 1-3 4-1-3-3 1-6 8 0-4 1 1 1 0 1 2 1-3 2 4 0-1 2-4 4 3 1 0 1-1 4-2 2 1 1 3 5 2-3 1 0 0-2 0-2 4 0 0-1-4 0 4-1-1-2 1-5-2-6-1-3 9 5-1 0-2 1-2 1 0 0 0 3 4 1 1 2-4 2-1 4 5 1-1 1-4 0 4 1-4 3 11-1-5 0 3-1-3-1 4-1-1 0-1-2 2 0 1-1-2-1-1 0-2 0 2 0 0-1 1-2-2 0 0-1-1 0 4-1-3-4 4 0-5 0 1-2 3-1-2-4 0 0 6 1 1 5-3 2 4 0-1 2-2 1 3 2-2 0 2 1-1 0-2 7 4 0-5 1 3 1 0 0 6 0-2 0 3 0 1 0-2 0 2-1-1-1-4 0 3 0-3-1 0-1 5 0-4 0 1 0 1-1 2-2-3 0 1-2 2-1-3 0-1-1 0 0 3 0-4 0 4-1-4 0 2-2 2-1-2-1 3 0 0-2-3 0-2-2 1 0 4-1-5 0 1 0 0-1-1-1 5 0-4 0 3 0 1-1-2 0 2-1-1 0 4 0 2 0-2 1-2 0 5 0-1 1-1 1-1 0 2 0-4 1 1 2 2 1 2 0-2 1 0 0 0 0 1 0 1 1-3 0-2 1 2 0-1 0 4 0 0 0-5 1 0 0 1 1 4 1 0 0-1 0-1 1-3 0 0 1 1 2 3 1-2 0 0 0 0 1-1 1 3 1 1 0-3 0 3 0-2 1 0 0 1 0 0 1-1 1-1 0 0 1 1 1 0 0 2 0-1 0 7 0-5-1 1-1 3-1-2-1-2 0 0 0 3 0 0-1 0-2-3 0 4 0 0 0-1-1 2 0-5-1 4-1-2 0-1-2 1 0 0-2-2 0 2 0 1-1-2-1 1 0-1-1 4 0-5 0 5 0-4-1 3 0-2 0 1-1 1-1-3 0-1 0 0 0 2 0 0 0 0-1 1-1 0 0 1-1-2 0-2 0 4-1-1 0-1 0 1-1-3 0 0 0 1 0 3 0-4 0 4 0 3 1 3 1-1 0-2 1 2 0-2 0 1 0-2 0 1 2 4 0-4 2 3 0-2 1 0 2 2 0-3 0 4 0-5 0 4 1 0 0-2 1-2 1 3 0 2 1-2 0 2 1-2 0-2 0 0 1 0 2 0 0 0 1-1 0 1 1 4 1-1 0-1 1-1 1 1 1 2 1 0 0 4-1 0 0-3 0 1 0-1 0 3-1-3 0 4 0-4-2 5 0-1 0-3-1 4 0-5-1 1-1 3 0-1-3-3 0 4 0 0-1-4 0 3-1 2 0 0 0-3 0 0-1 3 0-4-1 2 0-3-1 5-1 0 0 0-1 0 0-3 0 2 0-4-1 2-1 1-1-1 0 0 0-1 0 4-2 0 0-1-2-4 0 1 0-1 0 5 0 0-1-5 0 4-1 1 0-4 0 6 0 4 0-3 1-2 0 1 0 3 0 1 0 0 0-2 1 1 0-2 0 1 0-2 1 2 0 1 0-2 0 2 0-3 0 3 0 1 1-3 0 1 0 1 0 1 1-2 0 2 0-3 0 0 0 3 0 0 0-4 1 0 0 2 1-1 0 1 1-3 0 3 0-3 0 5 0-1 2 1 0-1 0 1 0-5 0 4 1 1 0 0 0-2 0-2 0 3 1-2 1 0 0 0 0 3 1-5 0 4 1 0 0 0 1-1 0 0 0-1 0 3 0 0 0 0 0-4 2 3 0 0 0-3 1 2 0-1 0 3 0-1 1-1 0 1 0 1 1 0 1-4 0 2 0-2 0-1 0 4 0 0 0 0 1 1 0-1 1 0 0-2 0 0 0-1 0 4 0-2 1-1 0 3 0-3 0-1 0-1 1 1 0 3 0-2 0 8 0 1 0-1-1-4-1 4 0-3 0 0 0 3 0-2 0-2-1 1 0 0-1-1 0 2 0 2 0 0-1-3 0 0 0-1-1 0 0 0 0 4 0 1 0-1-1-2 0 0-1 1 0 1-1-3 0-1 0 1 0 2 0-2-1 1 0-1-1 2 0-2 0-1 0 0 0 2-1-1 0 0-1 0 0 1 0 3-1-2 0-3-1 5-1-5 0 2 0 3-1-2-1 1-1-1 0-3 0 2 0-2-1 1 0-1-1 1 0 1 0 3 0-3 0 1-1-3 0 0-1 3 0 1 0-2 0-1-1-1 0 3 0 0 0 2 0-3-2 1 0-3 0 8 2-2 0 3 1-3 0 3 1-3 2 1 0 2 1-1 1 1 1-3 4 0 0 3 1-3 0 2 4 0 3 1 3-2"/>
<path class="pt" d="M520.5 1142.5l11 9-20 2 23 1-10 4-1 6 4 23-12-5 16 7-20 8 22 11-11-1-8-1-4 10 2 0 8-3 9-1 3 8-6 2-14-1-1-3-2 1 2 10 0 0 1-4 6 3 3 0 2 1 3-1 1 1 2 0 5 5-1-4-7 0-2 3-1 2-2-2-9-3-3 5 1 4 0 2 1-4 3 3 0 1 0-1 0-2 0-1 3 4 4-3 3 0 3 3 1-1 1-1 3 2 2 0 1 2-5 2-1 1-1 0 0-3 0 1-3-1 0 4 0-3-1-1-1 4-2-5-3 3-5 1-3 1 0 3 0 1 3-1 7 0 9 0 1 2 2-2 1 1 0-3 1 2 1-2 0 2 0 1 0 7-3-3-1-1 0 4-6-1-1-1 0 3-2-1 0-1-1 1 0 0-2 1-1-2 0 2-1-2-2-2-2-1-2 0-1 2-1 1 1 5 1 2 1-3 0 2 0-2 0 3 1 0 0-3 1-1 0 5 0 0 4-3 1-2 2 3 0-2 1 4 0-2 0 1 1-3 0 2 1 2 0-5 1 1 2 3 1 0 0-4 1 1 1 3 2 1 0-4 1-1 0 4 0-4 1 4 1-4 0 5 0 4 0-1-1 2 0 1-1-5-1 5-1-1 0 1 0-4-3 3-1-2 0 1 0-3-2 0 0 2 0 3 0-4-2 3 0-2-1 1 0 0 0-1-1 2 0-1 0-1-1 2-1-1 0 0-1-3 0 1 0-1 0 4-1-2-1 2 0-4-1 5-1-3 0 3 0-3-1-1 0 4 0-1 0 0-1-2-1-2 0 5 0-5-1 0 0 4 0-4 0 5-1-1 0 0 0 4 2 3 0-1 0-4 1 4 0-3 0 3 1 1 1-1 0-4 0 5 1-5 0 5 1-5 0 5 0-2 0 1 1 1 0-3 1 2 0-2 0 3 0-1 2-4 0 3 1 0 0-3 1 1 0 3 0-3 0 0 1-1 0 0 1 1 0 1 0-2 0 5 0-1 1-2 0-1 1 2 0-3 2 5 0-5 1 4 1-1 0 2 0-2 1-3 1 2 0 3 0-5 0 0 1 1 1 0 0-1 0 4 0-3 0-1 1 3 0 6-1 2 0-4 0 4 0 0 0 0-1-2-1-2 0-1-1 1 0 2 0 0-1-1-2 1 0 2 0 0 0-5 0 1-1 1 0 0 0-2 0 5-1-3 0 1-1 0 0 1 0-4 0 5-1-5 0 1-1 3-1-2 0-1 0-1 0 1-2-1-1 2-1 1 0-3 0 4 0-3-1 4 0 0-1-3 0 0 0 0-1-2 0 4 0 1 0 0 0-4 0 1 0-2 0 0-1 0 0 2 0 1 0-1 0 1-1 0 0 1 0 1-3-4 0 4 0-3 0 0 0 8 0-3 0 1 0 3 1-1 0-3 1 1 0 3 0-3 0 1 0-3 1 3 0 2 0-4 0-1 1 0 0 0 0 5 0-1 0-2 0-2 0 2 0 2 0-2 0-1 1 3 0-1 1 0 0 0 0 2 1 0 0-3 0-2 1 2 0 0 0 1 0 2 1-1 0-3 0 3 1-2 0-2 0 4 1-2 0 2 0-2 1-2 0 3 0 0 0-1 0 0 1 2 0-1 0-1 0 2 0 0 1-1 0 1 0-2 0 2 0-2 1 3 0-4 0 3 0-2 1 3 0 0 0-3 0-1 1 1 0 1 0-3 0 4 1 0 0-4 1 4 1 0 1-2 0-1 1 4 0-2 0-1 0 2 0-1 0 1 1-3 0 2 0-3 0 1 0-1 0 1 0 0 2 2 0 0 1-2 0 8-1 2 0-3 0-1-1 1 0 2 0 0 0-1 0-2-1 3 0-3-1 0 0 1 0 1 0-1 0-2 0 3-1-1 0 1 0 2 0-3-1 1 0 0 0 2-1-2-1 0 0-3 0 2 0 0 0 1 0 2-1-3 0 1 0 2 0 0 0-1 0 1-1-5 0 3 0 2 0-2 0 2 0 0 0-1 0-2 0 1 0 2-1-5 0 0 0 4-1-1 0 0 0 2 0-5-1 2 0-2 0 1 0 0 0-1 0 4 0 1 0-2 0 0 0-2 0 3-1-2-1 3 0 0 0-5 0 5 0-4-1 4 0-5 0 5 0-2 0-1-1-1 0 1 0 2 0-1 0 2 0-2 0-2-1 2 0-2 0 0 0 2 0-1-1-2 0 3 0 0 0 1 0-1 0 2 0-4 0 2 0-3-1 5 0-1 0-1-1-1 0-1 0 0-1 2 0-2 0 3 0-1 0 1-1-4 0 0 0 2 0-1 0 2 0-1-1-1 0 2 0-3 0 1 0 1 0 2-1 1 0 0 0-5 0 3 0-3 0 3-1-1 0 0 0-2 0 5 0-3-1 2 0 2 2 0 1 1 2 0 2 1 2-2 0 2 1 0 1-1 2 1 1 0 0-1 3 1 0-2 0 3 1-3 0 0 2 0 0 0 0 0 1 1 0-1 2 1 1 2 1 0"/>
<path class="pt" d="M593.5 1140.5l-1 12 3 7-14 10 10 5-14 0 12 17-11 8 17 1 5 0-15 6-3 2-3 9 10-2 13 0-4 7 0 0-4 1-1-1-2-1-4-3-10 2 2 9 12-2 10 4 0 1-2 0-1 0-2-1-5-1-1 3 0 0-2 2 0 0-1-2-2 1-4-3-3 3-2-4 0 6 1 2 1 0 1 2 1-4 2 3 2 2 0-5 1 3 1 0 2-2 4-1 0 4 4-1 2-3 0 4 4 0 0 5-2-3-1 0-3 0-1 2-3-2-3 0 0 1-4 2 0-1-1 1-1-3-1 0 0 1-2 3-1 0-2-2 0 9 4-2 1-3 0 5 3-3 1 1 0-1 2-1 1 4 0 0 2-1 1 1 1-2 4 2 0-1 0 0 0-3 1 4 2-2 1-3 0 10-4-2 0-1 0 2-1-2-3 4 0-4-1 3 0 0 0 0-1-1 0 1-2-2 0 0-1 2-2 0 0-1-1 2 0-3-1 0-2 3-1-2-2 0-3 2 1 3 0 1 1-2 0 1 1-1 0 4 1-1 2-4 1 5 1-4 0 1 1 3 1 0 2-2 1-3 1 4 2-1 0 0 2-3 0 4 1-4 0 2 1-1 1 4 0-4 0 2 0-2 1 4 0-3 0 1 0 0 1-3 1 4 0-1 1 1 0 1 0 3-1 1 0-2 0 0 0 1-2 3 0-2 0 2-1-5 0 0 0 0-1 3 0-2 0 3 0 0 0-3 0-1-2 4 0-1 0-2-1 2 0-1-1-1 0 2-1 0 0-3-1 0 0 0 0 1-1 1 0-2 0 4-1 0 0-2 0 3-1-2 0 0 0 0-1-1 0-1-1 1 0 2 0-2-1 2-1-3 0 3-1 0 0 0 0-4 0 3 0 2 0-4-1 3 0-1-1-3 0 0-1 1 0 4 0-5-2 2-1 3 0 5 0-1 0 1 0 1 1-5 0 1 1 0 1-1 0 4 1-4 0 5 0-4 1 1 0 1 0-3 0 5 0-1 1-4 0 4 1 0 0-3 0 2 1-2 0 3 1-3 0 0 0 2 0-3 1 5 0-4 0 2 0-1 1 0 2-1 0 3 0-1 0-2 0 3 1-4 0 4 1 1 0-1 0-4 0 2 0 1 1 0 0-2 0 0 1 1 1 3 0-2 1 1 0 0 0 1 1-1 0-1 1 1 0-3 0 0 0-1 1 5 0-5 0 4 0 1 0-1 0-4 1 3 0-2 0 3 1-2 0-1 1 0 0 4 0 1-1 3 0 0-1-3 0 4-1-2 0 3 0-1 0-1-1-1 0 0 0 3-1-3-1 0-1 3 0-1-1-3 0-1 0 2-1 2-1-1 0-2 0 0-1 1 0 0 0 1-1 1 0-1-1 0-1-2 0 4 0-2 0 1-1-3-1 3-1-3 0 1 0-1-1 4-1-4 0 1 0 1 0-3-1 1 0 1 0 3 0-5 0 0 0 3-1 2 0-1 0-3 0 4-1-2-1 2 0 0-1 0 0-5 0 5-1 0 0-3 0 7 0 1 0-1 1 2 0-2 0 1 0-1 0 1 0-4 1 3 0-1 0 2 1-2 0 1 0-1 0-2 0 1 0-1 1 2 1-1 0 0 0 2 1-2 0 4 0 0 1-1 0 1 1-3 0 1 0-3 1 5 0-2 1-3 0 2 1-2 0 2 0-1 1 4 0-3 0 0 1 3 0-2 2 0 0 2 0-4 1 2 0 2 0-2 0 0 0 1 1 1 0 0 0-5 0 5 0-2 0-3 1 2 0 2 0-2 0-2 1 3 0-1 0 0 0 3 0-2 1-2 0 3 1 0 0 1 1-2 0 0 0-1 1 3 0-3 0 1 0 1 2 0 0-4 0 0 0 3 1 5 0-1 0 0-1 0 0-1 0 1 0 0 0 4 0-4-1-1 0 0 0 2-1-2 0 2 0-1 0 1-1 0 0 0-1-1-1-1 0 5 0-4 0 0 0 1 0 0-1 0 0-2 0 5 0-3 0 2 0 1-1-4-1 0 0 4 0-2 0-2-1-1 0 1 0 1 0-1 0 3 0-1 0 0-1-1 0 2 0-2 0 0-1 2 0 1 0 0 0-1 0-3 0 1 0-1 0-1 0 0-1 0 0 4 0-1 0-1 0 1-1-2 0 3 0-3 0 0 0 1 0-1 0 1-1 1 0-3 0 3 0-2 0-1 0 5-1-2 0-1 0 0 0-1 0 0 0 1 0-2 0 4-1-1-1-3 0 0 0 5 0-5-1 1 0 4 0-2 0-1-1-1 0 2-1-1 0 3 0-1 0-1 0-1-1-2 0 0-1 3 0-3 0 5 0-5 0 1-1 1 0-1-1 1 0 0 0-1-1 1 0-2 0 2 0 0 0 3 0 3 1 0 1 0 2-1 0 0 3 1 0-2 1 3 1-1 0-2 1 2 4 0 1 1 0-2 1-1 0 1 1-1 3 1 1 1 0 0 1-1 1-1 0 0 1 3 1-1 0-2 1 2"/>
<path class="pt" d="M654.5 1140.5l5 0 1 31-7 7-5 6 16 14-15 0-3 7 22 2-6 0-3 3-1-4-2 1 5 7 4 8-10 1-2-5-3 1-2 0-5 9 6-4 2 2 10 1 4-3 1 6-1 0 0 3-1 1 0-1 0-3-1 2-1 0-3 1-1 0 0-2-3 0 0 1-1 0 0 1-6-2-5-1-1 7 0-1 1 4 3-1 1-2 0-1 1 0 2 5 1-2 1 1 2-4 0 2 6 0 2 1 5 2 1 3-1 3-2-1-1 0-3-1 0-3-1 4 0-3-5-1 0 0 0 1-1 1 0-2-3 4-2-4 0 3 0 2-1-1 0-4-1 0 0 3-1 2-1-3-1 1-2-2 2 10 0-3 1 3 1-3 1 1 1 0 2-2 1 2 0-2 2 4 0 0 1-5 2 1 0 4 0-3 3-2 1 5 0 0 4 0 0-3 2 2 0-2 1 2 0 1 1 6 0 0-3 0-1-5 0 4-1 0 0 0 0 0-1-3 0 4-4-5-1 0-2 5-1 0-4-4-1-1-1 0 0 0-1 0-1 2-1-1-1 1-1-1-1 3 0 3 1 1 0 2 0-2 1 3 0 0 0-2 1-1 1-1 0 0 1 2 0 1 0 1 3-3 1 1 0 1 0-1 1 0 0 2 0 0 2-2 1 0 2 2 0-3 0 0 2 2 0-4 1 2 0 1 1 1 4-1 0-1 1 1 1-1 0 1 1 0 0-1 0 4 0 2-1 1 0 0-1 0 0 1-1-2-1 3 0-4 0 4-1-5 0 4-1-2-1-2 0 1 0 4 0-3 0 2-2-4 0 0 0 1 0 4-1-2 0 1-1-4 0 2-1 2 0 0 0-1 0-3-1 3-1 1 0-1-1 1 0 0 0-3 0 4 0-5-1 4-1-3-1 4 0-2 0 2 0-1 0-4-1 2 0 3 0-3-1 0-1-1-1 0-1 2 0 2 0-3 0-2-1 0 0 5 0-1-1-1 0 0-1-1 0 9 0-4 0 2 1-2 0 1 0 3 0 0 0-4 1 3 0 0 1 1 0-5 0 5 1-2 0-1 0-1 1 1 0-2 1 0 1 5 1-1 0-2 0 3 1 0 0-2 0 2 0-2 1-3 0 2 1 0 1-2 1 5 1-5 0 3 1 0 1 2 0-5 0 1 2-1 0 1 1 0 0 1 1 0 0 0 1 1 2-3 0 1 0 2 0 0 1 2 0-4 1 2 0 1 0-1 1 1 0 7 0-5 0 4 0 0-1-2-1 2-1-4 0 1 0-1 0 3 0 1-1 0-1-1-1-2 0 0 0-1 0 3-1 0 0-1 0 1 0-2-1 4 0-3 0-2-1 4 0-1 0 2 0 0 0-5-1 1 0-1-1 1 0-1 0 5 0-5-1 4 0-4 0 3 0 0-1-2 0-1 0 2 0-2 0 5 0-1 0-4 0 2 0 1-1 1-1 1 0-2 0 1-1-1 0-1-1 2-1-4-1 3 0 0-1 2 0-5 0 1-1 4 0 0 0-1-1-3 0-1 0 3-1-3 0 3-1 0 0-2-1 4 0-4 0-1-1 5 0 5 0-3 0 1 0-2 0 0 0 5 2-4 0 0 0 1 0 0 0 2 1-3 0 1 0 3 1 0 0-2 0 1 0-1 1-2 0 4 1-4 1 1 0-2 1 4 0-3 1 1 0-2 1 1 0 2 0 2 0 0 1-4 0 4 0-3 1-2 0 0 0 3 0 0 1 2 0-3 0 3 0-4 1 3 0-3 1 3 0-2 0-1 0 3 0-4 1 1 0 3 1-1 0 2 0-4 0 3 0-2 1 3 0-4 0 1 0 2 1 1 0-4 0 1 0-1 1 2 0-1 1 1 0-1 0 2 1 0 0 1 0-2 0 0 1-3 1 4 0-2 0 1 0-1 1 0 0 1 0 1 0-3 1 4 0-3 0-2 0 6 0 5 0-4 0 2 0-2-1-1 0 1 0 2 0 2 0-4-1 1-1 0 0 2 0-1-1 2 0-2 0-3-1 0 0 1 0 3 0 0 0 1-1-2 0 1 0-4 0 4 0-1 0-3-1 2 0-2 0 3-1-1 0-2 0 0 0 1 0 2-1-2 0 0 0 1-1 0 0 1 0 2 0-1 0 0 0-2 0-2-1 3 0 2 0-4-1 1 0-2 0 4 0-3 0 0 0-1-1 3 0-3 0 2 0 2 0-3-1 0 0 4 0-5-1 3 0-1 0-1-1 2 0-3 0 2 0 0 0-1 0 4-1-3 0-1 0 2 0 0 0 2 0-3 0-2-1 2 0-1 0 2 0-1 0 1-1-2 0 2-1-3 0 0-1 5 0 0-1-1 0-3 0 1-1-2 0 3-1-3 0 1 0 0 0 0-1-1 0 2 0 2 0-4 0 2 0 1 0-2-1 0 0-1 0 4 1 4 1-2 0 2 0 1 3-2 0 0 0-1 0 2 0 1 2-1 2-2 4 1 1 0 8 2 1-1 0-1 0 2 2 0 0-2"/>
<path class="pt" d="M715.5 1140.5l14 12-10 6 10 26-1 1-15 2-3-2 15 7 5 0-2 3-11-1 0 6 9 2 5 0 3 8-2-1-6 0-3 2-3-4-6 7 14 5-9 4-1 0-1 0 0-5-8 1 7 8 3-1 0 2 1-2 2 1 7 1 1 1 1-2 2 0 0 5-1-2-1 4 0 1-1-4-1 4-3 0-1-5-2 3-1-3-2 3-2-2-4 1-1 2-2-3 0 9 2-1 0 1 0-2 2-1 2 0 0 4 0-5 0 1 1-1 3 4 1 1 2 0 5-2 0 2 1-1 2-3 1-1 0 4 1-2-2 8-4-4-1 5-1-3-1-1 0 3-2-1 0-3-3 1 0 4-1-5-2 1 0 0-2 3-1 1-1 0-2-3-2 8 1-3 1 3 1-3 0-1 1 2 1 0 1 0 1 1 1 2 0-4 1-1 0 0 0 0 5 0 0 2 0-1 1 4 3-3 6 3 1 1 0 1-2-1-2 4-1-3-1 4 0-1-1-4 0 1-1 1-2-1 0 2-3-1-1-2-4 5-2-2-1 0-3 2 0-3 0 1 0 2-1-4 1 9 1 0 1-2 1-1 0 2 0 0 0 2 1 0 0-5 1 3 0 0 0-1 1 2 1-2 1 3 1-2 2 2 2-3 1 2 0-2 0-2 0 5 0-3 0 0 1-1 0 4 0-1 0 1 0-1 1-1 0 0 1 2 0 0 1-4 0 1 0-1 1-1 1 5 0-1 1 0 0-1 1-3 2 1 0 6 0 4 0 0-1-2 0 2 0-2 0 0-1 0 0-2 0 2 0-2-1 2 0 1-1-1-1 1 0-2-1-2 0 1 0-1 0 2 0-2 0 1-1-1 0 4-2 1 0-2 0 2-1-1 0 0-1-4-1 0-1 5-1-2-2-1 0-1 0 2 0-3 0 4-1 0 0-2-1 3-1-3 0 2 0-1-1-2 0-1 0 0 0 4 0 0-1-4-1 4 0-4 0 5-1-2 0 0 0 2-2 6 0 0 0 0 1-2 0 2 1-3 0 3 0-2 0 0 0-3 1 3 0 2 0-4 0 1 1 2 0-1 0-2 0 1 1 2 0-1 0 1 0 1 1-3 0-2 1 2 0 0 0 0 0 2 1-2 0 0 1 1 3-2 0-1 1 1 0 4 0-2 0-3 0 3 1 1 0-1 1 2 1-2 0 1 0-4 0 1 1 4 1-1 0-4 1 4 0-1 0-2 1 3 0-1 0-2 0 0 0-1 1 5 0-4 1 4 0 0 1-3 0-2 1 4 0-4 0 4 1-3 0 1 0 1 0-3 0 9 0 2 0-5-2 1 0 2-1 0 0 2-1-5 0 3-1-3 0 0 0 0-1 3-1 0 0-1 0-1-1 4 0 0 0-3 0-2 0 2-1 3-1-1 0-4 0 0 0 5-1-1-1 0 0-4 0 3-1 1 0 1 0-4-1 4 0-4 0 3-1-1 0 2 0-1 0-4 0 1 0 3-1 1 0-4-1-1 0 1-1 1-1 1-1 1 0 1 0-1 0-2 0 3 0-1 0-2-1-1-1 0 0 1 0 0 0 3-1-5 0 3 0-3-1 3-1 1 0-3 0 0-1 1 0-2 0 6 1 2 0-2 0 0 0 5 1 0 0-1 0-2 1-1 1 1 0 1 0 1 1-2 0 3 0-5 0 2 1-1 0 4 0-1 0-1 0 2 0-1 1-2 0-1 0 4 1 0 0-2 0-2 0 0 0 0 1 3 1 0 1-3 2 1 0-2 0 5 0-3 0-2 0 5 1-3 1 1 1-1 1 2 0-3 0 1 1 1 0-1 1-2 0 1 0 2 0-2 0 2 0 1 2-2 0 1 0 2 0 0 0-1 1-1 1 0 0-2 0 0 0 1 0 0 0 1 2 0 0 1 0-4 1 5 0 3 0 1 0-2 0 0 0 1 0 3 0-1-1-3 0 2 0 2 0-1-1-2 0 0-1-1 0 2-1-3 0 1 0 0-1 0 0 1 0 2 0 0 0-3 0 1-1-2 0 3 0-2-1 2 0 2 0 0-1-1-1 1 0-3 0 2 0-2-1 0 0-2-1 5 0-2 0 2 0-3 0-1-1 3-1 0 0-3 0 0-1 3 0-1 0 0 0 2-1-1 0 1 0-3 0-2 0 3-1 2 0-5 0 3 0 0 0-1-1-1 0 1 0 2 0-1 0 1 0-1-1 0 0-1 0 3 0-3-1 1 0 2 0-1 0-4 0 1-1 2 0-1 0 2 0-2-1 2-1 0 0-2-1 0 0 3 0-2 0-3 0 2 0 3 0 0 0-5 0 3 0-2-1-1 0 3 0-1 0-1 0 3-1-2 0 2 0-4-1 2 0 6 1-1 0-1 3 1 1 0 1-1 0 2 1-1 2-1 0 0 1 1 0 2 0-1 2-1 1 2 1-3 1 3 0-2 1-1 0 3 0 0 1 0 0-3 2 0 0 0 2 0 0 0 0 1 1 2 3-2 0-1 0 0 0 3 1-2"/>
<rect x="437" y="1254.1" width="38.5" height="31.3" fill="#85ceb7" fill-opacity="0.3"/>
<rect class="bx" x="436.4" y="1253.5" width="39.8" height="32.5" fill="none"/>
<path class="md" d="M436.4 1271.3H476.1"/>
<rect x="503.2" y="1264.4" width="38.5" height="25.3" fill="#fda481" fill-opacity="0.3"/>
<rect class="bx" x="502.6" y="1263.8" width="39.8" height="26.5" fill="none"/>
<path class="md" d="M502.6 1280H542.4"/>
<rect x="569.5" y="1264.4" width="38.5" height="24" fill="#a4b3d5" fill-opacity="0.3"/>
<rect class="bx" x="568.9" y="1263.8" width="39.8" height="25.2" fill="none"/>
<path class="md" d="M568.9 1278H608.6"/>
<rect x="635.7" y="1264.4" width="38.5" height="24" fill="#eca1cf" fill-opacity="0.3"/>
<rect class="bx" x="635.1" y="1263.8" width="39.8" height="25.2" fill="none"/>
<path class="md" d="M635.1 1278H674.9"/>
<rect x="702" y="1263.6" width="38.5" height="26.1" fill="#b8e076" fill-opacity="0.3"/>
<rect class="bx" x="701.4" y="1263" width="39.8" height="27.3" fill="none"/>
<path class="md" d="M701.4 1278.3H741.1"/>
<rect class="pb" x="416.5" y="1123.8" width="344.5" height="184.2"/>
<text class="t yl" x="411.9" y="1303.5">0</text>
<text class="t yl" x="411.9" y="1250.1">5</text>
<text class="t yl" x="411.9" y="1196.7">10</text>
<text class="t yl" x="411.9" y="1143.3">15</text>
<path class="tk" d="M413.9 1300.5h2.6M413.9 1247.1h2.6M413.9 1193.7h2.6M413.9 1140.3h2.6M456.2 1308v2.6M522.5 1308v2.6M588.8 1308v2.6M655 1308v2.6M721.2 1308v2.6"/>
<text class="t xl" transform="translate(456.1 1312.8) rotate(-45)" dy="6.2">Mining</text>
<text class="t xl" transform="translate(522.3 1312.8) rotate(-45)" dy="6.2">Construction</text>
<text class="t xl" transform="translate(588.5 1312.8) rotate(-45)" dy="6.2">Manufacturing</text>
<text class="t xl" transform="translate(654.8 1312.8) rotate(-45)" dy="6.2">Agriculture</text>
<text class="t xl" transform="translate(721 1312.8) rotate(-45)" dy="6.2">Other</text>
<text class="t ti" x="416.5" y="1115.5">Cd by Occupation_type</text>
<text class="t at" x="588.5" y="1365.5">Occupation_type</text>
<text class="t at" transform="translate(397.3 1215.9) rotate(-90)">Cd concentration (μg/L)</text>
<text class="t sg" x="452.9" y="1131.5">****</text>
</g>
<g>
<path class="gn" d="M800 1277.2H1145"/>
<path class="gn" d="M800 1223H1145"/>
<path class="gn" d="M800 1168.9H1145"/>
<path class="gm" d="M800 1304.3H1145"/>
<path class="gm" d="M800 1250.1H1145"/>
<path class="gm" d="M800 1196H1145"/>
<path class="gm" d="M800 1141.8H1145"/>
<path class="gm" d="M839.8 1125.5V1309.3"/>
<path class="gm" d="M906.2 1125.5V1309.3"/>
<path class="gm" d="M972.5 1125.5V1309.3"/>
<path class="gm" d="M1038.8 1125.5V1309.3"/>
<path class="gm" d="M1105.2 1125.5V1309.3"/>
<rect x="819.9" y="1231.8" width="39.8" height="47.7" fill="#85ceb7"/>
<rect x="886.2" y="1244.8" width="39.8" height="41.2" fill="#fda481"/>
<rect x="952.6" y="1243.5" width="39.8" height="41.8" fill="#a4b3d5"/>
<rect x="1018.9" y="1216" width="39.8" height="58.3" fill="#eca1cf"/>
<rect x="1085.3" y="1239.8" width="39.8" height="44.5" fill="#b8e076"/>
<path class="wk" d="M839.8 1231.8V1160.5M839.8 1279.5V1301.6"/>
<path class="wk" d="M906.2 1244.8V1186.3M906.2 1286V1301.6"/>
<path class="wk" d="M972.5 1243.5V1183.8M972.5 1285.3V1301.6"/>
<path class="wk" d="M1038.8 1216V1141.8M1038.8 1274.3V1301.6"/>
<path class="wk" d="M1105.2 1239.8V1176.8M1105.2 1284.3V1301.6"/>
<path class="pt" d="M827.5 1145.5l1-3 4 0 7 0 6 0 0 9-10-5-4 4-4 6 2 1 10-4 0 2 3-1 1 2 0 1 9-2 1 5-1 1 0 1-5-4-7 1-1 2-11-2-1 5 2 4 5 0 1-1 3-1 1 2 5 1 3-1 2-4 3 2-1 7 0 1-2-4-8 2-9 3-2-2 0 0-3 6 1 1 2 1 3-5 8 1 12 2 0 4-1 0-1 2-2-1-1 2-5-3-4 2-1 0-8 2-1-5 6 11 3 0 2-2 2 0 4-1 1 0 4 4 0 5-2-4-1-1-2 2-2 3-4-3-3-1-3 2-2-3 0 4-1-4-4 9 2 0 6-2 0 0 1 3 4-4 2 4 0-2 2-2 6 2 2 2-5 3 0 1-2-2-1 0 0 2-13-1-2 2 0 5 1-1 0 0 3 4 7-3 6 0 0-2 6 2 0 9 0-5-1 4-1-1-3 1-2 1-1-2-6 1 0-2-5 1-1 0-1-1-2 2-1-1-1-2 2 6 3 1 1 0 2 2 4-4 3 4 1 1 1-4 0 2 2 2 0-4 1 3 2-2 0-2 2 1 1 4 0 4 0-1-5 2-1-2-1-1 0 4-2-2 0-1-1 1-4 2-4-2-2-2-2 2-1-1-2 0 0 7 2-1 0 2 1-4 1 5 0-4 1-1 2 4 2 1 0-1 1 1 4-1 0-3 2 0 1 0 1-1 4 0 1 1 3 0 0 7 0 0-2 1-3 2 0-4 0 3-1-3-1 4-2 0 0 0-1-2 0-3-1 1 0 3 0 1-1-5 0 3 0 1 0-2 0 2-1 0-1 0 0-2 0 1-1-1-1 2 0-3-1-1 0 3-1-3-1 1 0 4-1-4-2 0-2 2 0-2-2 0 0 4 0-5 0 5 0-2 0 3 0 5 1-5 0 4 2-3 2 1 1-2 2 4 0-3 0 2 0 0 1-1 8-1 1 0 0 0 2 3 1 0 1 0 1-4 0 3 3-1 0 7-1-2-1 4 0-3 0-2 0 2-2 0-1-2-1 1 0 3-2-2 0 1-1 1-1-2 0-2 0 5-1-2-1-2 0 4-1-2 0 1 0 1-1-4 0 4 0-4-2 2 0 2-1-4-2 3-1-4-1 2 0 2-1-1 0-3-1 1 0 2-1-3 0 3-1-2 0 1 0 0-1 2 0-1 0 0 2 5 0 2 1-4 1 4 0-4 0 0 0 2 1-2 0 1 0 4 0-4 0 0 1 2 0-3 0 1 0-1 1 4 1-2 1 0 0 0 0 2 2 0 0 0 0-3 1 4 1-1 0 0 0-2 1-1 0 0 0 3 1-1 0 0 1-3 1 3 0 0 2-2 0-1 1 3 0-1 1 3 1-3 0-1 0 1 1 1 0 1 2 5 0 0 0-3-1 0 0 2-1 3 0 0-1-2-1-1-1 3 0-2 0 2-1-3-2 1-1-2 0-1 0 5-1-2 0-3 0 4 0-2-2 3-1-4 0 1-1-2-1 1 0 4 0-2-2-1-2 3 0-5 0 2 0 1-1-3-3 2-1 0 0 2-1-2 1 5 0 1 0 2 0-3 0-1 2 5 0-1 1-4 2 5 0 0 0-5 0 0 2 0 0 2 0-1 0-1 1 2 0 3 0 0 1-5 3 0 0 0 1 1 0 0 0-1 1 2 1 0 0-2 0 1 1 2 0-2 1-1 0 2 0 1 1-1 1 3 0 0 0 0 0-3 0 1 0-2 1 3 0-4 1 5 1 0 0-1 0-4 0 1 1 0 1 6-1-1-1 1-1 3 0 0 0-1-1-3 0 3-1-1-1-1 0 3 0 0 0 0 0-1-1 0 0-1 0-2 0 1-1 4 0-1 0-2 0 1-1-1-2-1-1 0 0 0 0 0 0 2-1 2 0-2 0-1 0 3-1 0 0 0 0-4 0 0-1 1 0 2 0 1 0 0-1-2-1-1-1-1-1 0 0 1-1 3 0-5-1 3 0 0 0 1 0-1 0 0 0-1 0 1-2 2-1-5 0 2-1-1 0 7 1-2 0 2 1 3 0-3 0-2 1 3 0-1 0 3 1-3 0-2 0 0 0 3 1-2 0 4 1-3 1-2 1 4 0-2 0 1 0-2 2 1 0-1 1 1 0 1 0-2 1 2 0-1 0-2 0 0 0 5 1-5 0 0 0 4 0-3 0 4 0-2 1-2 0 1 1 2 0 1 1-2 0 2 1-2 2 2 0-2 0 0 1-3 0 2 0-1 0 1 2 0 0 3 1-5 0 5 1-4 0 0 1 1 1 1 0-1-1 8 0 0-2-4 0 1-2-1 0 0 0 1-1 3-1 1 0-5 0 1 0 2-1 1-2-4 0 0-6 4-1-1-2-1-1 2 0-4-1 0-1 0-1 3 0-2 0 0 0 1-1 2 0 0-1-4 0 11 0-5 3 5 3-2 2 2 2-1 2 1 1-2 0-3 3 5 7-5 0 0-8 6"/>
<path class="pt" d="M899.5 1142.5l18 0-5 5-8 3-7 1-3 4 12-3 10 1-22 11 12 7-8 1-4 5 1-1 15 5 1-2 2-3 2 3 0 1 3 7-7-4-18 5 4 5 1 0 1-4 7 4 1-1 0-1 3-1 5 1 1 7-3-2-6 2 0 0-2 1 0-1-2 0-10-4 5 11 1-4 0 3 1-4 0 1 6 1 0 3 2 0 2-1 2-3 0 1 1 1 2-2 3 6-2 3-2 0-7-3-1 2-1-3 0 0-1 3-3 0 0-2-4 4-1-4-1 3 0 3 1 1 3 3 3-3 3 0 4 0 0 3 2-1 0-1 2 2 5-1-1 5-3-1-5 0-2 0 0 3 0 0-9-1-2 6 3-3 2-1 2 0 1 3 0-3 2 4 1-4 2 5 0-1 2 0 4-1 1-2 2 8-3 1-1 1-4 0-1-3-1 2-1 1-1-5 0 0-5 5-2-4-4-1-1 7 0 2 3 0 9 1 0-2 0 2 1-1 1 1 0 1 9-2 0 1 1 0-1 6-1 0-2-4-1 2 0-2 0 1-2 2-5 0-1-1-2-2-1 4-3-4-1 3-1 1 0-4-1 3 0-2-1 0-1 3-1 6 0 0 2 1 0-3 1 1 1-2 1 1 2-2 1 1 1-1 1 5 1-5 1 4 1 0 0-1 1-2 1 2 0-1 0-1 1 3 1-1 1 2 1-5 1 3 1 0 0 0 0 1 1-1 0-2 1 3 1-2 0 1 1 1 1 6 0-2-1 2-1-4-2 1 0 3 0 0-1 0-1 1 0-5-1 0-1 5-1-3 0 0 0 1-2 0 0 2-1 0 0 0 0 0-1 0 0-5-2 2-1 2-1-3-1 2-1-1-2-2 0 1-2 1-1 2 0-1 0-1 0 1-1 1-1 5 1 0 1-3 1 4 0 0 0-3 0 4 0-3 1-2 1 4 0-3 0 4 0-1 1-3 0 2 1 1 2-2 0 0 1 1 1-1 1-1 1 3 0-1 2 1 0 0 1-4 0 0 1 4 0 0 1-3 0-1 0 1 1 0 0-1 1 5 0-5 1 1 0-1 0 4 2-1 0 0 1-3 1 5 0-3 1 2 0 0 0-2 0 9-1-1-2-3-1 4 0-1-1 1-1 0-1-4 0 4 0-5 0 4 0-2-1 2 0-2-1-1-1 1 0 1 0-2-1 0-1 4 0-5-1 4 0 1 0-3-1 3-1 0-1-5 0 0 0 5-1-5 0 2-2 1-1-3-1 2 0 0-1 1-1 0-1-3-1 4 0-3 0 0 0 3 0 5 0 2 0-3 1 2 0-2 0-2 0 2 1 1 0-3 2 0 0 1 0-1 1 4 0 0 1-4 0 1 3-1 0 0 1 5 0-2 1-1 2-2 2 3 1 0 0-2 0-1 1 2 0-1 0 0 1 3 0-4 1 2 1 0 1-1 0 1 0-1 0 3 0 1 1-5 1 4 1 1 0-4 1 0 0 8 0 2 0-5-1 3-1-2 0 4 0-4 0 0-1 2-1 2 0-1-2-3-1 2 0 2 0 0-1-4-1 1-1 2 0-3 0 0 0 1-1-1 0 2-1 1 0-3 0 1 0 0-1 0 0-2 0 2-1-2-2 2-1 3-1 0 0 0 0-2-1 2 0-1 0-2-1 1 0-1-1-1 0 1 0 0-1 3-1-2 0-3-1 5 0-3-1-1-1 8 0 1 0-4 1 3 0 0 1 1 0-2 1 2 1 0 0-4 0 4 1-2 0 1 0-3 1 3 0 1 0 0 1 0 0 1 1-1 0 1 0-2 0-3 0 5 1-1 0-1 1-1 0 3 0-1 1-1 0 0 1 1 0-2 0 1 1-2 0 2 0 0 1 0 1 0 0-3 0 5 0-4 1 4 0-1 0-3 1 3 0-4 0 5 1-2 0 1 1 0 0-1 0 0 0 1 1-3 0 2 1-3 0 4 1 0 1-3 1 2 0-3 0 4 1 0 0-3 1 3 0-3 0 0 0 1 0 3 0-2 0 2 0 0 0 5 0-2 0-2-1 1 0 2-1 1 0-4 0 1 0 2-1-2 0 0 0 2-1-3 0 2-1 2 0 1 0-1 0-4-1 1 0 2 0-3 0 4-1 0 0-4 0 1 0 4 0-2-1 0 0-2 0 4-1-5-1 2 0 0 0-1 0 3 0-2-1-2 0 5 0-1 0-2-1-2 0 0 0 1 0 3 0-1 0-3 0 2-1 2 0 0 0-4 0 4-1-1 0 1 0-3-1 4-1-5-1 0 0 0 0 5 0-3-1 3-1-2 0 0 0-3 0 5-1-5 0 2 0 2-1-4 0 2 0 1 0-3-1 2 0 3 0-3 0-1-1 1 0-2 0 1-1 2 0-1 0-1-2 3 3 3 0 0 2-1 1 1 0 1 0-2 0 0 3 4 1-2 1-2 1 3 1-2 4 3 0 1 1-5 1 4 1-3 1-1 1 2 1-1 1 1 1-2 0 5 1-4"/>
<path class="pt" d="M976.5 1142.5l-14 11 11 0 3 2 7 4-2 3 0-3-15 2-2 0-5 4 23 4 1 0 3-2-2 8-1-2-16 6 3 2 2-1 3-3 10 5-1 4 0 1-3-2-3 1-1-4-6 2-11 8 2 1 0 0 0 0 1-3 0 0 3 2 0-1 0 1 1-1 1-2 2 2 1-2 4 4 7 0 2 1 0 5 0-1-2 0-3 0-1 1-2-3-3 1-1 2 0-5 0 0-1 2 0-2-5 5 0-3-4-1-2 9 1 0 0-1 11-1 2 1 3-2 0 3 3 0 1-4 2 0 0 0 2 4-2 5-4 1-1-4-2 1-3 1-1 1 0-1-2-2-1 4-2-3-1 4 0-1-3-1-1-2-3-1 0 5 1 2 3 0 13 1 0 2 2-1 0 0 1 2 2 0 4-5-4 10-1-3-2 2-3 0-1-2-1-1-1 0-1 5-1 0-1-5 0 5-1-3-6 0 0 3-1-4 0 7 0-2 3 0 5 0 9 1 3 2 1-2 3 4 0 0 1 3-1 0-1 2-2 0-1-1 0 1-5 0-1-2 0-2-3 1-1 3-7-4-2 2-1-1-2 4 1 5 2 0 0-3 0 0 2 3 1-2 2-2 0 3 3-3 4 5 1-4 1 2 1 0 2-2 1-1 1 3 1 2 2-2-1 4 0 3-2-1-1 1 0 0 0-2 0 1 0 1-1-2-1 3-4-2-1-3 0 1-1 0-2-1-2 4 0-1-4 0-1 0 0-2 0 4-2-3-1 3 0 4 1-1 2 1 1 2 1 0 1 0 3-5 0 2 0 2 1-1 2 2 0 0 1-1 0-4 1 2 1 0 1 3 0-2 2-3 2 3 4 0 1-3 0 6 0 4 0 0-1 1 0-2-1-2-1-1-2 5 0-1 0 0-4 1-2-5-1 3 0 0-2 0-2 1-2-3 0 3-1-4-1 4-1-2-1 2 0-3-1 2 0-3-1 0-1 3-1 0 1 8 1 0 1 0 0-5 1 2 0-2 1 5 1-3 1 2 0-4 0 1 2 1 0 2 1 0 1 1 0-3 2-1 1 0 0 3 1 0 0-3 1 0 0-1 1 5 0-2 1 0 0-2 0 3 0-2 3 3 1-5 0 2 2-2 0 0 1 0 1 4 0 1 1 0 0 3 0 0 0-2-1 3-1-2 0 4 0-2 0-3-2 1-1 3-1-1-1-3-1 0 0 5-1-4 0 1-1 3 0-1 0-4-2 0 0 4 0-2 0 0-1-2 0 4 0-1 0-1-1 1 0-3-2 2 0 3 0-5 0 1 0 0-1 2-1 1 0 0-1-3 0 3-2-4 0 3 0 0 0-2 0 2-2-2-1 2-1 1-1-2 0 2 0-2 1 7 1-2 1 3 0-4 1 1 0 4 0 0 2 0 0-2 0-1 1 1 0 1 1-2 1 3 1-4 0 1 0-1 0-1 0 1 2 1 1-2 0 2 1-1 0 3 1 0 1-2 1 2 2-4 2 3 0 2 0 0 0-1 0 0 1 1 0-1 1 0 0 1 0-4 1 2 1-1 1 7-1-3-2 5-1-2 0-1 0-1-1-1 0 1 0 3-1-4 0 3 0 2-1-5-1 4 0 0-1 0 0 0-1 0 0-1 0-2-1 4 0 0-1 0 0-5 0 2-1 2-1 0 0-2 0 3-1-4 0 4-2-3 0 3 0-2-1-1-1 1 0 2 0-1-1 0-1 0-1 0 0-1 0-3-1 3 0-3-1 4 0 0 0 1-1 0 0-5 0 1 0 0 0 3-1-1 0-3 0 0-1 2 1 8 0-1 0-3 0 3 1 2 0-1 1-2 1 0 0 0 0 1 0 2 1-3 0 2 0 0 0 0 0 0 0 0 1-3 0 4 0-3 0 1 0-2 1 2 1-1 0 3 1-3 1-1 0 4 0-5 0 4 0-1 1-3 0 0 1 2 0 3 0-4 0 4 0-4 1 1 0 1 0 2 1-1 0-1 0 0 1-2 0 4 0-5 1 5 0-5 0 2 1-2 0 5 0-1 0 0 0-2 1 3 0-3 0-1 0 3 1-1 0 1 1-2 1 1 1 2 0-5 0 4 1-2 0-2 1 5 1 0 0-1 0 0 1-2 0 1 1-3 0 3-1 4 0 2 0-3-1 2-1-2 0 3 0-3-1 4 0-4-1 2-1 0 0 3 0-5-1 1 0 0-1 0 0 3 0 1 0-3 0 1-1 2-1-4 0-1-1 4-1-2 0 1 0 1 0-3-1-1 0 5-1-1-1-1 0-1 0 0 0 0-1 1 0-1 0 0 0 3 0-3 0-2 0 0-1 3 0-3 0 2 0-1-1 0-1 1 0 3-1-3 0-2 0 5 0 0 0 0 0-4-1 2 0-3-1 0-2 1 0 3 0 1-2-5 0 2 0 0-1-1 3 5 0 2 2-2 1 5 2-3 0-2 2 2 1-2 6 0 1 0 1 2 1-2 1 4 5-4 0 5 0-5 0 6"/>
<path class="pt" d="M1026.5 1143.5l2-1 2 3 0-3 1 0 1 3 1-1 1-2 1 0 2 0 2 0 1 0 2 0 1 0 0 0 1 0 2 0 1 0 2 0 1 0 0 0 2 2 0-2 0 5-8 3-2-3-4 4-1-2-4-1 0 2-3-1 0 0-4 5 2-1 2 2 5-2 5-1 5 0 1 3 1-3 2 3 3-2-2 7-4 2-8-1-4 1-8-4 0 2 9 6 0-1 11 1 1-1 1-1 3 5 1-3-1 6-5 3-8-3-5 2-2 0 0-4-1 1-3 2-1 8 0-2 3 0 4-1 1 3 8-2 1-2 0 1 2 1 3-2 0-1 1 1-1 6-2 2-2 1-2 1-1 0-5-1-1-4-2 4-3-3 4 10 0-3 9 3 6-4 0 0 1 2 0 6-11 0-3 1-8 0-1-2 2 8 1-4 2 1 0 1 2-1 2-1 0 4 2 1 4 0 2-2 1-2 0 3 0-2 1 3 2-3 3-1-4 10-2-1-1-1-5-2-3 1-1 2-1 1-1-1-3-1-3 1-1-4 2 8 3 1 1-2 1 4 1-2 0 2 3 0 2 0 0-3 0 2 1-3 0 3 4-4 5 1 1 2 1-1-3 7-3 1-1 1-1-3-3-2-2 1-1 2-5-3-3 4 0-2 0 0-1-2 0 11 0-4 3 3 0-3 1 4 3-2 0 1 2-1 1 0 0 1 2 0 2 1 1-4 0 3 0-1 2 0 1-2 2 0 1 1 0-1 1 3 1-2 0 2 0 3-3 1 0-1-1 3-2 0-2-2-3-2-3 3-1-2 0 1-2 2 0-1-2 1-1-1-2 1-1-2-2-2 1 10 4 0 0-2 2-2 0 5 0-1 1-1 0-2 1 3 0 1 2 0 1 0 1-3 0 2 1-1 1 2 0-4 1 2 1 1 4 0 1-4 0 5 1-3 1 0 2 6 0 0-1 2 0-3 0 3 0-4-1 0 0 3 0 1 0 0-1-2-1 3 0 0 0-5-1 1-1 0-2 3-2 0 0-4 0 2-2 3 0-2-1-1-1 3 0-3-1 3 0-4-2 4-1-2 0 2-1-4-1 0-2 0 0 0 0 3-1-4 0 4 0-4-1 4-1-4 0 3-1 1 1 7 2-4 1 4 1-1 0-1 0-2 1 3 0 0 1-4 0 4 0 0 1-2 0 3 3-5 0 0 0 2 0 2 0-1 1-3 0 5 2-5 1 5 0 0 1-3 1-1 1-1 2 5 2-3 0 1 0-2 2 4 2 6-1-4 0 2-1-3-1 3 0-2-1 0-4 2-1-3 0 4-1-4 0 5 0-4-1 0 0 4 0 0-1-3-2-2-1 0 0 3 0 0-4 2-1-3 0-2 0 2-1-1 0 3 0 0-1-4 0 2-2-1 0 3 0-2-1 1 0-3 0 0-1 2 1 5 0 2 1 1 0-4 1 1 0 0 1 4 0 0 0 0 2-4 1 0 0 4 1-4 2 4 0-5 1 0 2 2 1 0 0 0 1 1 0 2 1-4 0-1 0 1 0 0 0 1 1 2 2-1 1-1 3-1 1 4 0-2 1 2 0-4 0 2 1 3 0 0-1 2 0 1-1-1-2-2 0 5 0-3-2 1 0-1-1-2-1 4 0-4 0 3-1-1-1 3-2-2-1-3 0 4-1-4 0 3-2 2-2-3 0-2 0 1-1 3 0-4 0 4-1-3-1 4 0-3-1 0 0 2-1-3-1 4 0-3-1 1 0 2 0-2 0-3-1 2 0 2 0 3 1 2 1 1 1-1 0 1 2-1 0 2 0-2 1 1 1 0 0-1 1 1 1-4 0 2 3-2 0 5 0 0 2 0 0-3 1 1 1 2 0-3 3 1 1-3 0 2 0 0 2 1 0 2 0 0 1 0 0-5 1 0 2 2-1 8 0-2 0-2 0 2 0 2 0 1-1-3 0-1 0 0-1-1 0 3-1 2 0 0-1-5-1 5-1-3 0-1 0-1 0 2-1 2 0-2 0 2-1 1 0-3-1 2 0-1 0 0 0 1-1-1 0 2 0-5-1 4-1-4-1 1 0 2 0 0-2 1 0-2-1 1 0-3-1 0-1 4-1-2 0-1-1 4 0-5 0 5 0-3-1 2 0-1 0 1-1 1 0-4 0 2-3 2 0 0 1 2 0 2 1 1 0 0 2 1 0-5 1 1 1 1 1-2 0 4 1-1 1 2 0-1 0 0 0-3 1 4 1 0 0-3 2-2 1 1 0 4 2-3 0 3 1-4 0 0 2 2 0-2 1 1 1 1 1-2 0-1 0 0 0 2 1 0 0 3 0-5 1 4 0-3 0 2 1 2 0 4 0-1-3 3-1-5-2 1 0 0-2 2 0 1-5-4-2 1 0 0-2 3-1-2-2-1 0 3 0-4-1 0 0 5-1-5-3 1 1 9 0-4 3 3 1 2 5-5 0 0 2 4 0-1 0-1 3 0 4 4"/>
<path class="pt" d="M1094.5 1142.5l15 0-1 4-10 9 7 2 13 2-5 4-10-3-3-2 0 0-5 1-3-1 19 7-6 9-3-4-1 5-1-3-2 2-1 0 0-1-2-1 0 9 2 0 1-3 1 1 3 1 3-4 0 1 1-1 12 1 0 8-5 2-3-4-14 0-3 1 2 8 1-4 0 5 1-2 4 1 1 0 2-4 0 3 8 2 3-5 1 4 1-1 1 6-9-3 0 5 0-3-1 1-1-3-2 5-6 0-4-1 1 6 1-1 4-2 2 4 4-1 5-3 6 10 0-1 0-4-1 4-6 1-3 0 0-1-7 0-4-3-2-1-1 0-1 6 0 3 1 1 3 1 1-3 9-2 1 5 1-5 3 0 2 5 3-1 1 7-1 0 0-5-1 1-8 2-1 0 0-1-3-1-1 1 0 3-1-4-1 2-1-2-1 3-2-3-3 10 1-5 0 3 2 1 0-4 3 2 1 3 1 0 5-4 3 0 4 4 2 1-4 4-6 0-3-1-1 2-2-4-1 4 0-5-7 2 0 7 1 2 1-3 0 3 1 0 3 0 2-5 1 5 2 0 0-1 3-1 2 0 0-2 1 3 0-2 0-1 1 3 0-3 3 2 2 2 1 3 0 2-1-4-1 5-1 0-1-5 0 1 0 3-3-4 0 5-1-2-2-1 0 1-4 2-1-1 0-4 0 4 0 0-1-2 0 2 0-1-3 2 0 0-1-3-2-1-1 3 0 5 2 0 1 2 1-2 1-2 1 3 2-2 1 0 0 3 1-4 0 1 1-1 0 3 1-1 1 1 1 1 0-5 1 1 0 0 3 4 0-1 1-2 0 2 1-1 0 0 1 0 2 1 0-3 1 0 0 4 0-4 1 7 0 2 0-4 0 5-1 0-1-4 0 4-1 0 0 0 0-4-1-1 0 4 0 0-3-3 0-1 0 3-2 1 0-1 0-1-2 1 0 0-1 2 0-3 0 3 0-2-1 0 0-1 0-2 0 2-1-2 0 5-1-4 0 0-1 3 0-1 0-3-2 3 0 2 0-5 0 3 0 0-3-3 0 2-1 3 0-2-1 2-1-3-1 2 0-2-1 0 1 9 0-1 0-1 1-2 0 4 1-5 0 2 1-1 1 4 0 0 1-2 1-2 1 1 0-1 1-1 1 5 0-1 1-3 1-1 0 5 0-1 1-1 0 1 0 1 1-4 0 2 0-3 1 0 0 2 1 1 0-2 0 0 1 1 2-1 1 4 0-4 2 4 2-1 1 0 0-2 1 3 0 0 0 5 0-4 0 2 0-2 0 4-2 0 0-4-1 4-1-3-2-1-1 1-1 4-2 0 0-1-2 1-1-2-1 2-1-3-1 3 0-1-1-1-2 1-1-3-1 2-1-3-1 2-1 1-2 1 0 0 0 4 1 1 1 2 0-3 0 0 1-1 0-1 2 3 0-3 1 0 0 3 1 1 1-2 0-2 0 3 1 2 0-3 1 1 2 2 0 0 1-2 0-1 1-1 0 1 2 2 0 0 0 1 0 0 1-1 1 0 0 0 1-2 0 3 0-4 3-1 0 2 1 2 1 0 0 0 1-3 1 2 0 0-1 3-2 3 0-1-1 3-1-3 0 0-1 0 0-2 0 2-1-1-1 4-1 0-1-2 0-2-2 1 0 3 0-4-1 4 0 0 0-3 0 1-1-3-1 1 0 2-1-2 0 4-1 0 0-5 0 0-2 5-2-2 0 0-1-1 0 0 0 1-2 2 0-2 0-2 0 2 0 0 0-1-1 2 0 1-1-4 0 4 2 6 0-3 0 3 0-1 1-1 0-1 1 3 0-1 0 0 1-3 1 0 0 0 1 1 0 2 0 1 0-3 0 0 0 2 0-4 1 5 0 0 0-2 0-1 1 1 0 0 0-1 0 3 0-1 1 0 0 0 0-1 0-3 0 4 0-4 1 4 0-4 0 2 1 1 0 2 0-4 0 3 0-3 2 2 0 2 0 0 0-5 0 2 0-2 1 4 0-1 0 1 0 1 0-4 1 2 1-1 0-1 0 0 1 2 0 1 0 0 0-2 1-2 0 4 0-2 0 1 0 0 0-2 1 4 0-4 0 2 0 1 1-3 0 0 0 1 1-2 0 5 0-2 0-1 1-1 0 1 0 1 1-3 0 5 0-3 0-2 0 5 1-1 0 1 0-3 1 1 0-3 0 9 0 1 0-2-1 0 0 0 0 3 0-1-2-1 0 1 0-4 0 4 0-4-1 2 0-2 0 4-1-2 0-2 0 0-1 1 0 1-1 3-1 0 0-4 0 4-1-2 0-3-2 4 0-3-1-1 0 2 0-2-1 0 0 2-1 0 0 1 0 2 0-3-1-1-1-1-1 0 0 2-1-2-2 4 0-4-1 3-1-1-1 2 0 1-1-4 0 2 0 1 0-2-1-1-1 1 1 5 1 0 2-1 0 5 0-2 5-3 4 4 2-1 0-3 1 4 1-4 2 5 0-4 1 4 1-2 0-3 0 3 4-3"/>
<rect x="820.5" y="1232.4" width="38.6" height="46.5" fill="#85ceb7" fill-opacity="0.3"/>
<rect class="bx" x="819.9" y="1231.8" width="39.8" height="47.7" fill="none"/>
<path class="md" d="M819.9 1260H859.7"/>
<rect x="886.9" y="1245.4" width="38.6" height="40" fill="#fda481" fill-opacity="0.3"/>
<rect class="bx" x="886.2" y="1244.8" width="39.8" height="41.2" fill="none"/>
<path class="md" d="M886.2 1268H926.1"/>
<rect x="953.2" y="1244.1" width="38.6" height="40.6" fill="#a4b3d5" fill-opacity="0.3"/>
<rect class="bx" x="952.6" y="1243.5" width="39.8" height="41.8" fill="none"/>
<path class="md" d="M952.6 1270.3H992.4"/>
<rect x="1019.5" y="1216.6" width="38.6" height="57.1" fill="#eca1cf" fill-opacity="0.3"/>
<rect class="bx" x="1018.9" y="1216" width="39.8" height="58.3" fill="none"/>
<path class="md" d="M1018.9 1249.3H1058.8"/>
<rect x="1085.9" y="1240.4" width="38.6" height="43.3" fill="#b8e076" fill-opacity="0.3"/>
<rect class="bx" x="1085.3" y="1239.8" width="39.8" height="44.5" fill="none"/>
<path class="md" d="M1085.3 1265H1125.1"/>
<rect class="pb" x="800" y="1125.5" width="345" height="183.8"/>
<text class="t yl" x="795.4" y="1307.3">0</text>
<text class="t yl" x="795.4" y="1253.1">10</text>
<text class="t yl" x="795.4" y="1199">20</text>
<text class="t yl" x="795.4" y="1144.8">30</text>
<path class="tk" d="M797.4 1304.3h2.6M797.4 1250.1h2.6M797.4 1196h2.6M797.4 1141.8h2.6M839.8 1309.3v2.6M906.2 1309.3v2.6M972.5 1309.3v2.6M1038.8 1309.3v2.6M1105.2 1309.3v2.6"/>
<text class="t xl" transform="translate(839.6 1314.1) rotate(-45)" dy="6.2">Mining</text>
<text class="t xl" transform="translate(906 1314.1) rotate(-45)" dy="6.2">Construction</text>
<text class="t xl" transform="translate(972.3 1314.1) rotate(-45)" dy="6.2">Manufacturing</text>
<text class="t xl" transform="translate(1038.6 1314.1) rotate(-45)" dy="6.2">Agriculture</text>
<text class="t xl" transform="translate(1105 1314.1) rotate(-45)" dy="6.2">Other</text>
<text class="t ti" x="800" y="1116.8">Hg by Occupation_type</text>
<text class="t at" x="972.5" y="1366.8">Occupation_type</text>
<text class="t at" transform="translate(780.8 1217.4) rotate(-90)">Hg concentration (μg/L)</text>
<text class="t sg" x="836.9" y="1133.3">****</text>
</g>
<g>
<path class="gn" d="M1182.8 1280.2H1528.5"/>
<path class="gn" d="M1182.8 1226H1528.5"/>
<path class="gn" d="M1182.8 1171.9H1528.5"/>
<path class="gm" d="M1182.8 1307.3H1528.5"/>
<path class="gm" d="M1182.8 1253.1H1528.5"/>
<path class="gm" d="M1182.8 1199H1528.5"/>
<path class="gm" d="M1182.8 1144.8H1528.5"/>
<path class="gm" d="M1222.7 1128.8V1312.5"/>
<path class="gm" d="M1289.2 1128.8V1312.5"/>
<path class="gm" d="M1355.7 1128.8V1312.5"/>
<path class="gm" d="M1422.1 1128.8V1312.5"/>
<path class="gm" d="M1488.6 1128.8V1312.5"/>
<rect x="1202.7" y="1203" width="39.9" height="69.8" fill="#85ceb7"/>
<rect x="1269.2" y="1251.8" width="39.9" height="39.5" fill="#fda481"/>
<rect x="1335.7" y="1256.3" width="39.9" height="34.2" fill="#a4b3d5"/>
<rect x="1402.2" y="1251.8" width="39.9" height="37" fill="#eca1cf"/>
<rect x="1468.7" y="1251.8" width="39.9" height="40" fill="#b8e076"/>
<path class="wk" d="M1222.7 1203V1144.8M1222.7 1272.8V1304.6"/>
<path class="wk" d="M1289.2 1251.8V1195.5M1289.2 1291.3V1304.6"/>
<path class="wk" d="M1355.7 1256.3V1208M1355.7 1290.5V1304.6"/>
<path class="wk" d="M1422.1 1251.8V1198M1422.1 1288.8V1304.6"/>
<path class="wk" d="M1488.6 1251.8V1190.5M1488.6 1291.8V1304.6"/>
<path class="pt" d="M1210.5 1145.5l4 0 1 0 4 0 0 0 1 0 5 0 2 0 0 0 2 0 0 0 1 0 3 0 2 0-4 1-9 1-3 3-1 0-4-1 0 2 0-1-3-3 0 0-1 4 0-4 2 10 4-3 1 2 1 0 1-2 2 1 0 0 3-2 1 4 0-5 2 5 2-4 3 2 0 0 4 0-3 3-2 1-6 2-2 1-1-3-1 1-2 2-1-4-4 2-1 0-1 1-2 0 0 0 1 5 2-1 0 0 8-1 0 3 1 1 0-4 1 0 0 4 3-3 1 2 1 1 1-4 1 1 0 3 5 4-3 0-4 1-2-2-1-1 0 4-1-2-3 2-4-2-2 3 0-2-4 1 0 7 2-2 1-1 3 2 1 0 2 0 2-2 0-1 1 4 3-2 1 1 2-3 1 3 2-4 4 0-4 9-5-3-1 5 0-5 0 4-2 0-1 0-1-4-5 1 0 3-1-4-1 3-1 2 0-2-1 1-1-4-1 4 0-1 0 5 5 2 3 1 0-5 0 2 1 0 1-1 1 3 1-1 0-1 1-1 0 3 8-1 0-2 2 4 1 1-2 0 0 0-4 0 0 4-1-1-2 0 0 1-2 1 0-3-3 1 0 0-5-1 0-2-1 2-2-1-1 0-2-1 1 6 1 0 5 4 1-4 2 0 1 1 0-1 2 5 2-2 0 0 1-3 0 4 0 0 1 1 0-2 1-1 4 3 0 0 2-2 2 7-4 1-5-4-1 3-1-2-2-1-2 2-2 1-1 0-2-2-4-2-2 4 0-4 0 5-1 3 3 0 2-2 2 0 0 2 3-1 0 3 2-2 2-2 1 5 1 0 3-3 1 1 1-1 0 3 0-5 1 0 3 0 1 0 0 5 0-2 1-1-4 6-1 3-1-3 0 2-2-1-1-1-1 3 0-3-1 2-2-3-1 0 0 3 0-1-2 2 0-2-1 0-3-2 0-1-2 0 0 5-1 0-2-3-1 8 0-1 0 0 2 2 0-5 1 5 1 0 0-2 0-2 0 4 1-2 2-3 0 3 1 2 1-3 3 0 2 0 1 1 1-3 1 5 0 0 4-3 1 1 2 1 1-4 1 10-3-2-2 2 0 1 0 0-5-2 0-2 0 3-1 1-1-2 0-2 0 4-4-2 0 2-1-5-1 0-2 2-1 0 0-1-1 2 0 2-2-4 0 2-1 1 0 0-2 5 1 2 1 0 1-5 1 5 0-5 1 1 2-1 3 4 0 0 0-4 1 5 1 0 0-5 2 0 1 5 2-2 0 0 3-2 0 4 1-5 1 0 0 0 1 5 0-5 0 5 1-5 2 1 1-1 0 11-2 0-1 0-1-3-3-2-1 2 0 0-1-2-1 5-1-3-1-2 0 1-1 3-1-1-1-2-3-1-2 2 0 3-1-1-1 0-1-2-1-2-2 3 0 0 2 6 1 1 1 0 0-1 4 0 1 0 0-2 1 0 3 4 3-2 0-3 0 3 1 2 0-3 2-1 2 1 0-2 0 3 2 2 1-2 0-1 0 3 1 6 0 0 0-2-2-1-2 3 0-5-2 2-1 3-1-1 0-3-1 0 0 2-1-2-1 2-4 1-2-2 0 0-3 1-1-1 0 2-2-1-2 2 1 2 1-1 5 0 0 2 1-2 0 4 1-4 2 1 2 2 1-1 0-2 2 4 0-4 0 5 4-3 1 3 1-3 1-1 1 3 1 6 0-1-1 2-1-4-1 2 0 1-1-4-1 2-1 0-2 3-3-1-1-2 0-2-1 1-3 4-1-2 0-3 0 1-1 2-1 0-2-3 0 0-1 2-2 0-1 2 0-1 0 8 1 0 1-1 0-4 1 5 0-3 0 2 1-3 0-1 0 5 1 0 0 0 0-4 1 3 0 0 0-2 0 0 1 0 0-2 0 5 0-2 1-2 1 0 0 2 0-1 0 0 0 2 1-4 0 5 0-2 0-2 2 3 3 1 0-5 0 2 0 2 1-3 0 1 1 2 2-2 1-2 1 5 0 0 2-5 3 5 0 4-1 0 0-1 0 1-1-1 0 3-3-4 0 1-1 3-1-5 0 5 0-3-1-2 0 3 0 1-1-3 0 3-1-2-1 3-1-3-1 1 0-3-1 0-1 5-1-3 0 3 0-5-1 1 0-1-1 4-1-2 0 0 0-2-2 1-1 3 0 1 0-2-1-2-2-1 0 5-1-3 0 1 0-2 0 7 0-1 0 4 1-1 1-2 1-2 1 5 0 0 1 0 0-5 1 3 0-3 1 2 2 3 1-2 1 1 0-4 1 4 1-4 2 4 0-4 1 2 0-2 2 1 4 1 0 0 1-1 2 4 1-1 0-3-1 8-1-3-4 1-3 4-2-3-3-2 0 1-2 2-1 0-2-3-2 5 0-3-1-1-2 4-3-5 0 2 1 6 1 1 6-1 9 3 2-3 7 1-1 5 0-2-2 2 0-1-2 1 0-2-4 1-10-1"/>
<path class="pt" d="M1295.5 1145.5l4 6-11-1-7 5 4 1 7 10 9 2 1 7-7-2-10-3 12 10 5 2 0 2-2 1-2 0-15-1-1 0-2 7 7 2 2-1 1-4 1 3 2 1 4-3 2 2 1 0 2 5 0 1-1 2-2-5-7 5-1-2-4 1 0 0-4-1-5 6 1 0 2 1 1-4 2 0 1 0 4 2 0 0 1 0 0 3 1-5 2 2 4-1 2 0-5 6-2 4-2-3-5-2-4 5 0-3-2 0-1 1 0 1-1-4 2 11 2-2 7-3 3 3 1-1 1-1 0-1 1 1 2 1 2 2 2-4 0 4 1 3-1 2-4 0-4 1 0 1-2 0-5-3-1 2-1-1-1 0-5 6 3-3 3 3 1-3 0 1 1 4 2-2 1-1 3-2 8 1 1 9-1-2 0-2-1 0-1 4-12-3-3 0-5 0 0 3-1 3 2 4 2-3 2-2 6 4 0 1 7 0 2 0 3 0 1-4 1 1 0 2-4 3-1 0-6 2 0-2-1 4-1-5-1 0-1 3-1 0-1 1-1 0-1-3-2-1 0 1-5 5 3 0 0 5 2 0 2-1 1-3 1-1 0 1 1 2 0 2 5-5 1 3 0 1 3-3 0 3 1-1 0 2 4-4 0 4 1-5 0 5 1 6 0-2 0-1-1 1-1-1 0 1-1 2 0 0-1-2 0 1-1-3-2 2 0 0-2 1 0 0 0 0-2 0-2-4 0 2-1 0-3 2 0 1-2-4-1 1-1 1-1-2 0 4-1 0 0-3-1 2-2 7 1-1 0-4 1 1 1 0 2 4 0-5 1 0 0 3 5-3 0 3 0-2 1 2 0 2 1 0 0-4 1-1 1 0 3 0 1 4 1-2 0-1 3 1 0 1 0 2 1-5 0 2 2 6 0 3-1-4-3-1-1 4 0 0 0 1-1-5-1 2-2-1 0 0-2 4-1-5 0 5 0-5-1 0-2 4 0 1-2-1 0 1 0-5-2 3 0 0-1-1-1 2-2 0-2 0-1 0 0-4 0 6 0 1 0-1 1 2 1 0 0 0 0 2 1-3 0 0 1 0 0-1 1 0 0 1 0 4 1-3 0 2 0 1 2-1 0-4 1 4 3-4 0 0 1 1 0 4 0-2 0 0 1-3 0 3 1-2 1 4 1-5 1 0 0 3 1-3 0 3 0 1 1 0 0 1 1-5 0 3 0 1 0 1 1 0 0 0 0-4 1 2 1 2 1-3 0-2 1 0 0 6-1 5 0-3 0 3-1-1 0-2 0 0-1-1 0 0 0 1 0 2-1-1 0 1-1-4-1 3 0 1 0-2-1 2 0-3-1-1 0 3 0-1 0 3-1-2-1 1-1-4 0 2 0-2 0 5-1-4 0-1-1 4 0-4-2 2 0-1 0 0 0 2-1-2 0 0-1 4 0-4 0 2 0 0-1 0 0-3-1 2-1-2 0 2 0-1 0 3-1-2-1-1 0 1 0 1-1 0 0 2 0-5 0 4 0-3-2 4-1 6 1-2 0-1 0 0 4 2 0 1 0 0 0-4 1 4 1-2 0 1 0-1 0-3 0 4 1-4 1 1 1-1 0 4 0-4 0 0 1 3 0 1 1 1 0 0 1-1 2-1 0 0 0 2 0-4 0-1 1 0 0 3 1-3 1 0 0 4 0 1 0-3 0 0 1 3 1-2 0-1 2 0 0 1 1-1 0 0 0-2 0 4 1-1 1 1 1 5 0-1-1 2 0-1 0-3 0 3 0 0-1 2 0-2 0 2 0-3 0 3 0-4-2 3 0-2 0 3 0-1 0-1 0-3 0 5 0-1-1 0 0-1 0-1 0 0-1 2-1 0 0-3 0 3 0 0 0-4 0 3 0 0-1-3 0 4 0-2-1 3 0-2-1 0 0 1 0-4 0 2 0-2-1 3 0-2 0 4-1 0 0-1 0-3 0 2 0-1-1 0-1 0-1-2 0 3 0 1 0 0 0 0 0-1 0 2-1-2 0-1 0 1-1-1 0 0 0 1 0 1 0-1-1 2 0-5 0 2 0 2 0-1-1-1 0 2 0-1 0 2 0-1 0-4 0 3 0-3-1 0 0 0 0 3 0 1 0-3 0 0 0 2-1 2 0-3 0-1-1 3 0-3 0 0 0 4 0-2-1 0 0-1 0-2 0 2 0-1 0 3 0-4-1 2 0 2 0-1-1-1 0 1-1-2 0 5 0 4 1-4 1 4 2-3 1 3 0-1 0-3 1 0 0 1 0 2 1-3 0 5 0-5 2 0 1 0 0 0 0 1 0-1 0 4 1 0 0-3 1 2 0-1 0 1 1-3 0 1 0 3 1-4 0 3 1-3 1 0 0 0 1 1 1 2 0-1 0 1 0-1 1-1 0-1 0 5 1-2 0-3 0 1 0-1 0 3 0 0 0-1 1-1 0 3 0-4 0 3 1-1 0 2 0-1 1 2 0 0 1-1 0-2 1 0 1-2 0 0-5 6-11 1-2-1-2 1-3 2-2-1"/>
<path class="pt" d="M1363.5 1145.5l-16 20 17 5-13 2-1 9 9-1 0-3 2 7-14 6 1-1 9 2 9 1-1 6-9 0-2 1-6 0 12 3 1 0 5 1-3 5-2 1-1 2 0-4-3 2-4 2-2-4-1 4-2-5-1 3-1-2-3 7 1 3 5-2 8-1 1-2 2 2 0 1 1 0 1-3 3 5 0-1 0-2 2 4-2 3-2 2 0 0-4-4-3 4-1-3-1 2 0 1-2-2-1-1-2 2-1-4-1 3-2-2-2 3 1 6 0-2 1 0 9-2 2 1 1 4 0 0 1 0 1-1 1-2 1-2 3 4 1-1 1 0 1 2 0-3 1 2 1-2-2 9-1-4-3 4-2 0 0-1-5 1-1 0-4-5-3 2 0 0 0-1-1 0-2 1-1 1-1 4 7 4 1-2 1-2 4 4 1-2 0 2 6-4 1 3 3-2 1 3 1-5-3 10 0-2-5 2 0-3-1-1-1 3-1 2-3-5-2 3-1-1-2 3 0-5 0 4 0-3 0 0-1 4-1-3 0 2-1-1-1-3-3 11 3 0 0-3 3 2 2 0 1 0 4-2 0 1 1-2 0 2 1 2 0 0 1-5 4 4 1-1 1 1 0 0 1 0 2 1 1 6-2-1-1 0-1-1 0-3-2 2 0 1-1 2 0-1-2 1 0 0-1-1-1 0-1-2-3-2-1 0-3 4-1 0 0-3-3 0-1 0-3 6 0 1 0 1 2-3 1 1 0 3 0-2 1 2 4-4 1 0 0 4 0 1 1-3 1-2 1 4 0-2 1 1 0-2 2 2 0-3 0 4 1-3 0 2 0 2 0 0 1-2 1-1 0-1 2 3 0-3 0 1 2 3 0-3 2 0 1-1 0 4 0-2-1 3 0 2-2 2-1-1 0-3 0 4-1-2 0-2-1 1-1 1-2 3-1-5-1 2-1 3-1-4-1 4 0-2 0-3 0 4 0-1-1 2 0-1-2-3 0 2-2-1 0 0 0 3-1 0-1-1 0-4-2 2 0-1 0 1-1 3 0-4 0 0-1 8 1 2 0-3 1 1 0 1 0-1 1-2 0 1 0-1 0 4 1-2 0-2 0-1 0 1 1 3 1-4 2 3 0-2 0-1 0 1 1 2 0 1 0-3 0 4 2 0 0-4 1-1 0 1 0 2 3-3 0 3 1 1 0 0 0-3 0-1 0 2 0 3 1-1 1 0 1-2 0 1 0 1 0 1 1-2 0 2 1-2 0 2 1-2 0-2 1 1 0 1 1 1 0-4 0 4 0-1 0-1 1 1 0-1 1 2 1-2 0 1 0 7-1-4 0 4-1-1-1-2 0 1 0 1 0 2-1-5 0 1-1 3-1-2 0 2 0-1-1-2 0 0 0 3-2-3 0 1-1 3-1-5 0 5-1 0-1 0 0-2 0-2-1 4-1-1 0 1-1-3 0-1 0 4-1-5 0 3 0-1-1-2 0 0-1 3 0 1 0-1 0 0 0 2 0-2 0 2 0-3 0 0-1 1 0 0 0-2 0 3 0-1 0 2 0-3-1-1-1-1-2 4-1 0-1 0 0-3 0 1 0 7 0 0 1 2 0-1 1-1 0 2 0-4 1 0 0-1 0 5 1-2 0 2 0-1 1-3 0 4 0-5 2 3 0-3 0 1 0 2 1-2 1-1 0 4 0 0 1-3 0 1 0 3 1 0 0 0 1-5 0 3 2 0 0-3 0 5 1-5 1 4 0-3 0-1 1 0 1 4 0-3 1 3 0 0 1 1 0-1 1 0 0-4 0 5 0-5 1 1 0-1 0 0 1 3 0 2 0-1 1-2 0-1 1 3 0-2 0-2 1 3 0 5-1 2 0-2 0 3-1-4 0 3 0-3-1 4 0-1 0-2 0 0-1 1 0 0 0 2 0-4 0 0-1 3-1-3 0 4 0-1 0-3 0 1-1 3 0-2 0 1 0-2 0 0-1 1 0-2 0 1-1 1 0 0 0-2-1 3 0-1-1-2 0 3 0 0 0-2-1 3 0-5 0 3-1-3 0 0 0 1-1 1 0 3 0-5 0 1-1 2 0 2 0-4 0 3-1-4 0 0 0 2 0 0 0 0 0 3-1-2 0-2 0 1 0-1 0-1 0 0 0 4-1-2 0 2 0-2-1-1 0 2 0 1 0-2-1 2-1-4-1 0 0 1 0 3-1-4 0 0 0 2 0-1-1 2 0-3 0 1 0 4 0-1 0-1 0-1 0 2-1-3 0 3 0-4 0 2-1 3 0-2 0 0-1-1 1 4 0 0 1 1 0 3 0-4 1 4 0-1 0 0 0-1 1 1 1 2 1-3 0 2 1 1 0-2 0-3 1 1 0 2 0 0 2 1 1-3 0 1 1-1 0 0 1 3 0 0 0-1 0-3 1 0 1 0 1 0 2 0 0 0 0 4 0-2 2-1 1 2 0-2 1 3 0-1 0-1 1-1 0 2 0-3 1 1 0-1 0 2 1 0 1-1-1 6-4 1-4 0 0-2 0 1-6-1"/>
<path class="pt" d="M1433.5 1156.5l-20 7 6 2 8 1 6 4-19 0-4 2-1 3 3 4 8 1 0-1 5-1 1 7-16 3 2 2 1 0 0 0 1-1 0 2 1 1 3 1 1 0 2-3 3 0 5-2 5 0 1 7-11 3 0 1 0-3-9-2-5 1 2 10 6-1 2 1 4 0 2-5 5 0 4 1 0 3-2 4-9 3-2-2-1-1 0-2-2 1 0 3-6 6 5-3 1 2 8 0 3-2 2 1 0 0 0 0 3-1 0 6 0 3-3-3-1 3-2-3-3 0-5-1-1 5-4-2-4 0-1 1-1-2-1 3 0-5 1 8 3 1 3-2 0 2 0-2 2 3 0-4 3 1 0 1 0 3 4-1 0-2 1 0 9 9 0-3-3 0-2 1-4-2-1 4-2-5-9 2-3-1-2 0 0 3 1 2 2 5 1-5 0 5 0-1 2 1 2-1 3-3 4 4 1-3 2-1 0-1 0 2 3 0 1-1 4-1 0 10-3-2 0 1-1 2-2-4 0-1-2 1-2 1-2 2 0-3-1 3-1-1-6 1 0-3-2-1-1 1-2-1 1 11 1 0 2-3 3-2 2 2 0-2 0 4 0 0 1-2 0-1 1 2 1-1 1-2 1 4 3-1 0 0 1-2 1 1 2 2 0-1 1 0 0 2 1-1 0-1 0-2 2 6-1 3-1-3 0 2 0 1-1-2-1-1 0 4 0-3-1 3-1-1-1 1 0-3 0-1-1 3-1 0 0 0 0 1 0 0 0-4-1 3-1-4-1 3-1 0 0 1-2 0-1 1 0-5 0 2-3 2-2-3 0 2 0 0 0 1-1 1 0 0-1-3-2 0-1 2 0 3 0 3 2-2 0 2 1-4 1 3 0-2 2 3 0-1 3 2 1 0 1-4 1 2 1-1 1-1 0 4 2-1 0-1 1 2 0-2 0-1 0 1 0-1 0 3 0-2 2-3 1 1 0 0 1 3 1-2 2 2 0-1 2-3 0 9-1 0 0-2 0 3 0-3 0 4-1-4-1 1 0 3 0-3 0 0-1 1 0 0-1 2 0-4-1 1-1 3-1-3 0 0 0 1 0-1 0 2-1-3 0 0-1 4-1-4 0 3-1-1 0 2-2-4-1-1 0 3 0-3-1 4-1-1-1 2 0-2 0 0 0 2 0 0-1-1-1-2 0-2 0 5 0-3-1-2 0 4-1 0-1-2 0 1-2 2-1-4 0-1 0 4 0 2 0 0 1 3 0-1 1 3 2-4 1-1 1 3 0-3 1 4 0 0 1 1 1-5 1 1 1 3 1-1 2 2 0 0 1-3 1-2 0 5 0-4 1 4 1-4 0-1 0 4 1-3 1 3 1-1 0 2 1 0 1-2 0-3 0 3 1-3 1 0 0 1 0 1 1 8 0-4-1 1 0-1 0 0-1 2 0 2 0 0-1 0 0-3-1 4-1-1 0-3 0 1 0 0 0 3-1-1 0-2 0 0-1 0 0 3 0 0 0-5 0 1-1 3 0-1-1 1 0-3-1 3 0 0 0-2 0-1-1 3 0 0 0-3 0 0-1 4 0-4-1 2 0 0-1-2 0 3-1-3 0-1 0 0-1 4-1-2 0-1 0 0-1 0 0-1 0 3-2 0 0-1 0 0 0 1 0-2-1 4-1-1 0-2 0-1 0 0-1 3 0-2 0 2-1-3-1 0-1 3 0 7 1-4 1 3 0-1 0 0 0-1 1-2 1 3 0-1 1 2 0-4 0 3 1 0 0 1 0-4 2 2 0-1 0-1 0 2 1 1 1 1 1 1 0 0 0-2 1 1 1 0 1-2 0-2 3 1 0-1 0 5 1 0 1-1 0 0 0 0 0-3 0 3 1 0 2-1 1 1 0-2 1 1 1 1 0 1 0-5 0 3 0 2 1-4 0 4 0-4 0 0 0 7 0 2 0 1-1-1 0-1 0-1 0-1 0 2 0 2-1-4 0 1 0 1 0 0 0-1 0 0 0-2 0 3-1-1 0-2 0 0 0 2 0-1-1 0 0-1 0 5-1-2 0-3 0 1-1 2-1 2 0-5 0 0-1 0 0 3 0 2 0-1 0-2-1 3-1-3 0 0 0 0-1 1 0 1 0-1 0-1 0 1-1-3 0 4 0-3-1-1-1 2 0-1-1-1 0 2 0 1 0 0-1-1 0-2 0 2-1 2 0-2 0 1 0-1-1 0 0 1 0-2 0 2-2-2 0 4 0-1 0-4 0 0 0 1-1 0 0 0 0-1 0 2 0 0 0 1-1-1-1 1-1 0 0 1 0 0 0-2 0-2-1 2 0 1 0-1 0-1 0 1 0-2-1 5 0-3 0 0 0 4 0 1 1 4 1-1 1-3 1 0 1-1 1 2 0-2 0 2 0-1 4 1 3-2 0 0 1 1 0 4 3-2 0 0 0 2 1-5 0 0 0 4 0 0 0-4 0 1 2 4 2 0 1-1 1-4 0 0 1 4 1 0 0 4-9 0 0 0-3-2-2 2-3-2-7 0"/>
<path class="pt" d="M1499.5 1145.5l-14 16-9-2 5 7 1 2 5 0 4 1-1 3-1 3-1-4-4 2-4 8 11-4 8 3-4 6-1-3-8 0-3-1-4 3-4 5 2 2 7-1 1 2 1-1 1-4 4 2 4 3 6-4 1 8-2 0-1-2-2 2-1-2-1 3-9-1-2 2-1-3-6 3 3 6 1-2 4 1 4-2 1-1 1-1 0 2 2-1 0-1 1 1 0 1 2 1 5 4-4 2-3 2-1-1 0-2-3 1-5-2-2 3-3-3-2 1-2 1 5 8 0 0 3-3 1 2 1-2 2 1 3-1 0 2 1-2 2 3 1-1 4-2 1 4-1 4-3-3-5 1-4 3-6-1-1 1-1 0-2-2 0 2 2 3 2-2 2 1 1 2 0 2 2-1 2-1 2 2 2-4 3 0 2-1 1 3 2 5-1 3-2-1-6-1-3 2 0-3-1-2-6 4-5 2 1 4 4-1 4-3 0 4 1 1 0-2 1 1 0 1 5-4 3 1 0 0 0 5-2 2-1 1-2-4 0 4 0 1-3-5-6 0-1 2-4 1 0 6 1-1 1 1 0 2 1-3 1-1 0 2 2 1 1-4 2 0 0 5 0-4 0 0 3 4 2-2 1-1 1 2 0-3 1 0 0 0 1 4 1 0 1-3 3-2 0 1 3 1 0 0 0 7-4 0-1-3-2 3 0 2-1-3-1-1 0 2-1-3 0 1-1-1-1 5-1 0-1-1 0-3-2 3-1-1 0-3-1 2-2-1-2 1-2 3-1-5-1 1-1 4 1 2 2 0 0 4 0-2 1-2 2-1 0 3 0 2 1-4 0-1 0 1 1-1 1 3 0-1 0-2 2 5 0 0 2-5 2 2 1 1 1 0 0 2 0-5 1 3 3 0 0-3 1 4 2-1 1 0 0 0 1-2 0 10 0 0-2-1 0 0-1-1-1 0-1 2 0-1-1-2-1-1-1 4 0 0-1-2-1-3-1 4 0 1-1-2-1-3 0 4 0 0-2-4-1 1 0 0-1 1-1 0 0-1-3 3-1-3 0-1-1 3-1-1 0 1 0 0-1-3 0 3 1 5 1 2 0-2 0 2 1 0 0-2 1-1 1-1 0 4 1 1 0-2 0 1 0-3 1 4 0-2 0-2 0 1 0 2 1-4 0 3 0-3 0 5 1-5 0 0 1 0 0 1 0 1 0-1 1 4 0-5 1 0 1 2 0 3 1-1 0-1 0 2 0-1 1-1 2 0 0 0 1-3 0 5 2-4 0 4 0-5 0 1 1 3 1-4 1 5 0-3 1 2 0 0 0 4 0 0 0 0 0-2-1 1 0 4-1-5-1 2 0 0-1 3 0-3 0-2 0 1-1 4 0-4-1 0 0 1-1 3-1-2-1 1-1 1 0-4-2 3-1 1 0-2-1 2 0-5-1 2-1 1 0-2-1-1 0 1 0 0 0 0-2 2 0-1-1 0 0-1 0 4-1-4-1 3 0 0-1-2 0-1-1 8 1 0 2-1 0 1 1 1 0-3 1 1 0 2 1 0 0-4 2 0 1 5 0-3 0 1 0-1 0 0 0-1 1 4 0-1 0-3 0 4 1 0 0-1 1-1 1 1 0-4 0 1 0 4 0-4 0 2 0-2 2 4 1-2 1 2 0-2 0-3 1 4 0 1 0-2 0 2 0-5 1 3 0 1 1-2 1 0 0 3 0-4 1 0 0-1 2 5 0-1 1-2 1 2 0 0 0 5 0 0-1 2 0-1 0-4 0 5-1-2 0 2-1-3 0-2-1 0-1 0 0 0 0 5 0-1 0 1 0-2 0-2 0 2-1 2 0-4 0 3 0-2 0 2 0-3-1 4 0-2 0 0 0-1 0 1-1 2 0-3-1 2 0 1-1-3 0 3 0-3 0 0 0-2-1 3 0 0 0-1 0 2-1-1 0 1 0 1 0 0-1-4 0 1 0 1 0-1-1 1 0 0 0 0 0-3-1 3 0 0 0 1 0-4-1 3 0 2 0-3-1 3 0-2-1-1 0 3-1-3 0 3-1 0 0-2-1-1 0 3 0-1 0-1-1-1 0 3 0 0 0 0 0-3 0 1-1-2 0 0 0 0 0 3 0-2 0 1-1-1 0-1 0 3 0-2-1 2-1-4 0 2-1-2 0 5 1 5 0-4 1 2 0 0 0 3 0-4 0-1 0 2 0-2 1 1 0 3 0-2 1 1 0-3 0 0 1 1 0-1 1 5 0-4 0-1 2 0 0 1 0-1 1 0 1 3 1-3 0 1 1 3 0-3 0 2 0 0 0-2 1-1 0 3 1 0 0 1 0-3 0-1 0 1 2 1 0-2 0 0 2 3 0-3 1 1 0 4 1-4 1 1 0-2 0 0 0 1 0-1 0 0 1 5 0-5 0 1 0 2 1-1 0 1 0-2 1 2 1-2 0 4 0-4 0-1 1 3 0-3 0 3 1-3-9 8-2-2 0 0-1 0-1 0 0 1-2 0-5-1-2 2-1 0-2-1-1 0"/>
<rect x="1203.3" y="1203.6" width="38.7" height="68.6" fill="#85ceb7" fill-opacity="0.3"/>
<rect class="bx" x="1202.7" y="1203" width="39.9" height="69.8" fill="none"/>
<path class="md" d="M1202.7 1241H1242.6"/>
<rect x="1269.8" y="1252.4" width="38.7" height="38.3" fill="#fda481" fill-opacity="0.3"/>
<rect class="bx" x="1269.2" y="1251.8" width="39.9" height="39.5" fill="none"/>
<path class="md" d="M1269.2 1275H1309.1"/>
<rect x="1336.3" y="1256.9" width="38.7" height="33" fill="#a4b3d5" fill-opacity="0.3"/>
<rect class="bx" x="1335.7" y="1256.3" width="39.9" height="34.2" fill="none"/>
<path class="md" d="M1335.7 1276.8H1375.6"/>
<rect x="1402.8" y="1252.4" width="38.7" height="35.8" fill="#eca1cf" fill-opacity="0.3"/>
<rect class="bx" x="1402.2" y="1251.8" width="39.9" height="37" fill="none"/>
<path class="md" d="M1402.2 1273.8H1442.1"/>
<rect x="1469.3" y="1252.4" width="38.7" height="38.8" fill="#b8e076" fill-opacity="0.3"/>
<rect class="bx" x="1468.7" y="1251.8" width="39.9" height="40" fill="none"/>
<path class="md" d="M1468.7 1275.3H1508.6"/>
<rect class="pb" x="1182.8" y="1128.8" width="345.7" height="183.7"/>
<text class="t yl" x="1178.2" y="1310.3">0</text>
<text class="t yl" x="1178.2" y="1256.1">20</text>
<text class="t yl" x="1178.2" y="1202">40</text>
<text class="t yl" x="1178.2" y="1147.8">60</text>
<path class="tk" d="M1180.2 1307.3h2.6M1180.2 1253.1h2.6M1180.2 1199h2.6M1180.2 1144.8h2.6M1222.7 1312.5v2.6M1289.2 1312.5v2.6M1355.7 1312.5v2.6M1422.1 1312.5v2.6M1488.6 1312.5v2.6"/>
<text class="t xl" transform="translate(1222.5 1317.3) rotate(-45)" dy="6.2">Mining</text>
<text class="t xl" transform="translate(1289 1317.3) rotate(-45)" dy="6.2">Construction</text>
<text class="t xl" transform="translate(1355.5 1317.3) rotate(-45)" dy="6.2">Manufacturing</text>
<text class="t xl" transform="translate(1421.9 1317.3) rotate(-45)" dy="6.2">Agriculture</text>
<text class="t xl" transform="translate(1488.4 1317.3) rotate(-45)" dy="6.2">Other</text>
<text class="t ti" x="1182.8" y="1120">As by Occupation_type</text>
<text class="t at" x="1355.5" y="1370">Occupation_type</text>
<text class="t at" transform="translate(1163.6 1220.7) rotate(-90)">As concentration (μg/L)</text>
<text class="t sg" x="1219.9" y="1136">****</text>
<text class="lt" transform="translate(1500.2 1354.8) scale(0.942 1)">E</text>
</g>
<g>
<path class="gn" d="M40.8 1565.4H381.3"/>
<path class="gn" d="M40.8 1522.6H381.3"/>
<path class="gn" d="M40.8 1479.9H381.3"/>
<path class="gn" d="M40.8 1437.2H381.3"/>
<path class="gm" d="M40.8 1544H381.3"/>
<path class="gm" d="M40.8 1501.3H381.3"/>
<path class="gm" d="M40.8 1458.5H381.3"/>
<path class="gm" d="M40.8 1415.8H381.3"/>
<path class="gm" d="M133.7 1399V1584.5"/>
<path class="gm" d="M288.4 1399V1584.5"/>
<rect x="87.2" y="1514.5" width="92.9" height="34" fill="#85ceb7"/>
<rect x="242" y="1524" width="92.9" height="32.5" fill="#fda481"/>
<path class="wk" d="M133.7 1514.5V1463.3M133.7 1548.5V1574.3"/>
<path class="wk" d="M288.4 1524V1477.5M288.4 1556.5V1574.3"/>
<path class="pt" d="M104.5 1416.5l38 1 13 1-44 10 13 5-17 11 6-3 4 3 13-3 10 3-8 6-8-2-8-1-1 1-4 0-8 8 12 0 2 0 1-4 4 3 13 1 1-2 5 2 1-4 21 11-8 0-1-4 0 2-20 2-8 0-1-2-5 1-13-2-4-2 5 6 0 5 4-1 1-2 0-1 2 2 6 2 6-4 4-1 2 3 11-1 0 2 1-3 0 2 7-1 1 1 4 2 2-5 1 1 1 2 0 0 1-2 2 1-5 9-1-4-2 4-1-2-2 2 0-5-2 4-7 1 0-5-1 2-3 3-3-5 0 4-1 0-2-2-1-1-7 2 0 2-2-3-4 0-3 3-1-1 0-3-1 1-9 3-2-4-1 2 2 6 0 0 2 1 0-3 1 2 4-3 0 4 1-3 6 4 4-4 3 2 2 2 2-1 2-1 11 1 0 1 2-5 1 1 2 2 1 1 2-2 2 3 0-4 2 4 1-5 2 3 3-2 0 2 1 2 3-5-3 9 0-1-3-2 0 4-4 1-1-3 0-1-3 2 0 0 0 0-2 1 0-2-1 2-1 1 0-1-4 1-2-4 0-1 0 4-2-4-2 2-2 3-2-3-1 2 0-4 0 2-8 3-5-2-2 0 0-2-1 2 0 1-1-1-1-2-4 2-1-1-1 0 0 2-3 6 3 1 2-4 1 3 1-1 2 1 2-1 0 1 1 1 0-3 3-1 6 4 1-1 1-3 2 1 0 2 1 1 5 0 4-5 3 2 2 1 1 2 1-2 3 2 5-2 0-2 0 0 4 2 2 2 1-1 1-3-3 10 0-2-4 0 0 1-1-3 0 3-1-4-1 1-3-1-3 5-4-3-1 1 0-1-1 1-2 1 0-4-3 0-1 0-6 4-3-3-2 2-2 1-1 0-1-3-1 3-1-2 0 1 0-2 0 2-1-1-1-1-4 2-4-1-1-1-4 6 2 2 4-3 1 5 0-4 1 0 0 4 0 0 0-2 1-2 0 2 3 2 4-5 2 2 3-2 2 0 1 2 3 1 0-2 0 4 1-1 0-3 2-1 4 0 1 4 3 0 0 0 4 1 1-4 2 0 1 3 0-3 1 1 2-2 1 1 1-1 2 0 2 1 1 2 3 0 1-1-1 7-4 2-2-1-1-2-2-2-3 4 0 0-1-4-1 1-3 2-1 1-2-4-4 5-1 0 0-1-2 0-1-1-2-2-2-1 0 5-7-4-5-1-1 1-1 0-5 0-3 1-1 3-1-1 0-1-1-3-1 6 1 4 0-3 0 0 1-1 0 4 0 0 0-1 2-1 0 1 2-1 3 1 0-2 0 4 1-1 0-2 0 0 0 2 0-2 1 3 0-2 3-2 1 2 1-2 2 1 1 2 0 1 0 0 1-2 0-2 1 2 1 0 1-2 0 0 1 1 2 2 1-2 0 0 1 3 1-2 1-3 1 3 1 1 1-1 1 2 2 0 0-1 1-2 5 0 3 3 3-3 0 1 0 1 1-1 0-1 1-2 0 4 1 1 0-3 1-1 0 2 1 0 1 2 0-5 5 2 0 2 1 0 1-1-1 8-1-3 0-2-1 1-2 3 0-3 0-1-1 2 0 3-1-4-1 2-1-1 0-2-1 2-1 2 0-4-1 5-1-3 0-1-1 0 0 1 0-1-1 1-1 1-1-1 0-2-1 5 0-1 0-2-1-2 0 3-1 0 0 0-3 2 0-3-1-1 0 3-1-1-1 2 0-3 0 3-1-1-2 0-1-2-1 3-1-2 0 1-1 0 0-3 0-1 0 5-1 0-1-5 0 5 0-2 0-1 0-2-1 0 0 5 0-5-1 1 0 0 0 1-1 3-1 0 0-5 0 2-1 3 0 0-1-4-1 2 0 0 0 1-1-3 0 0 0 0-1 4 0-4 0 4-1-2-1-3 0 1 0 0-1 3-1 0-1-4 0 3 0 0 0-1-1 0 0 2 0-1-1 0-1 2 0-1-1 1-1-5-1 5-1-5 0 5-1-2-1 2 0 0-1-4-2 1-1 0 1 8 0 1 1-3 0 3 0-2 0 2 1-5 1 1 0 0 0 1 0 1 1-1 0 2 0 0 0-2 0 2 1 1 1-4 1 2 1 1 1-1 1 1 0 0 0 0 1-3 1 4 1-2 0-3 1 2 0-2 0 5 0-4 1 3 1-4 1 3 0 0 1 0 0 2 0-1 3-3 0-1 0 5 0-5 0 0 0 2 0 2 0 1 1-4 0 0 0-1 1 5 0-2 1-2 2 3 0-2 1 0 0 3 1-2 0-1 0 2 1-2 0 1 0-3 1 5 0-2 0-2 0 3 0-4 0 4 1-3 0 0 0 1 0 1 0-2 1 2 0-2 0 3 2-3 0 2 1 2 0-4 1 4 0-4 1 1 0-2 0 5 0-1 2-1 0 1 0-3 0 0 1-1 0 5 0-3 0 3 0-4 1 2 1-3 1 3 0 2 1-2 0 1 1-4 0 5 0-4 2 2 1-3 1 3 0 1 0-2 1-1 1 0 0 4 1-4 1 0 0 3 0-2 1-2 0 4 0-1 1-1 0 1 0-1 1 2 0-1 0-2 1 1 1 3 0-3 0-1 1 3 1 0 0 6 0-2 0 0 0 0-1 0-1 1 0-2-1 3-1 0 0 0 0 0-1-3 0 1-1 3 0 0 0-1-1-4 0 4 0 1 0-1-1-2 0 0-2 2 0 0 0-3-1 2 0-2 0 4-1-1-1 0-1-2 0 0-1 2 0-2 0-2 0 1-2 1 0-2 0 5 0-3-1 3-1 0 0-2-1-2-1 3 0 0 0-2 0 2-1-4 0 1-2 0 0 1 0 2 0-2 0-2 0 0-1 1 0-1 0 3-1-2 0 4 0-4-1 1 0 3 0 0-1-5-1 5 0-3 0-2-1 0 0 5-1-4 0 1-1 2 0-1 0-1-1 3 0-2 0-2 0 3 0-1 0 1 0-3-1 0 0 2 0 2 0-2-1 1 0-2-1 0 0 0 0 3-1-3-1 3 0 0 0-3 0-1 0 3-1-4 0 1 0 3 0 0 0-1-1-2 0 3 0-2-1-1 0 1-2-2 0 0-1 2-2 3 0-2 0-3 0 1-1 4-1-4 0 2 0-2-1-1 0 1 0 0-1 1 0 0 0 3-1-3 0 1 0 2-1-3 0 0-1 3 0-3-1 3 0-4-1 1 0-1 0 2 0 0 0-1-1 0-1 3 0-2-1 1-3-2 0 4 0 5 1-1 0-2 1 1 0 0 0 1 0-4 1 4 0 0 1-4 0 2 0 2 1-3 0 2 1-3 0 5 0 0 1-4 0-1 0 1 1 4 0-2 1 1 0 1 0-3 0-1 0 2 1-2 0 4 0-1 0-1 1-3 1 1 0 3 0-2 0-2 1 2 1 2 0-1 1 1 0-2 0-1 1 3 0-3 0 3 1 1 0-4 0 2 1-2 0-1 0 4 1 0 0 1 1-5 0 1 1 2 0 1 0-2 1 2 0-1 0 1 0-4 0 0 0 4 1-3 0 0 0 0 0-1 1 3 1-2 0 2 1 2 0 0 1 0 2-5 0 3 0 0 1 2 0-2 1-3 0 2 1 3 0-3 0 2 0 0 0 0 1 1 2-1 0-3 1 3 1 1 0-4 0 3 0 1 1 0 0-4 0 4 1-3 1 3 0-2 1 2 1-3 0-2 0 4 0-4 1 0 2 4 0 1 0-5 0 0 1 0 0 4 1-1 0-2 0-1 1 4 0-2 0-1 1 2 1-2 0-1 0 1 0 2 0 1 1-1 0 2 0 0 1 0 1-2 0 2 1-2 0-3 0 1 1 2 1-2 1 1 0 1 0-2 0 4 0-2 0 1 1-4 2 0 1 1 0 7 0-1 0 3-1-2-4-2 0 4-1 1 0-2 0-1-1-2-1 4 0-4-1 5-1-1 0-4 0 0 0 3 0 0-1 2 0 0 0-5 0 1-1 3 0 0-1-1-1-3 0 5 0-1-1 0-1 0 0-3-1 3 0 1-1-3-1-1 0 0-1 3-1-1 0-2-1 3 0-4 0 1 0 0 0 2-1 0 0-3 0 0 0 1 0 2 0-1-2-2 0 1-1-1-1 3 0 1-1-1 0-1 0-2 0 5-1-5-1 2 0 3-2-3 0-1 0-1 0 3-1-2 0 4-1-1 0 0-1-1-1-1 0 1 0-2-1 0-1 0 0 3 0-1-1 2 0-4-1 0 0 0 0 4-1-1-1-2-1 0 0 1-1-1-1 1 0-1 0 2-1-3-1 1 0 0-1-1 0 3 0 0 0-1 0 0 0 2-2-4 0 2-1 0 0-2-1 0 0 2 0-2 0-1 0 5-1 0 0 0 0-4 0 0 0 2-1-1 0-2 0 1 0-1 0 1-3 1 0-2 0 3 0-1 0-2-1 1-1 2 0 0-1-1 0-1-1 10 0-5 1 3 0 0 0 0 0 0 0-1 1 2 0-3 1 4 0-5 0 0 1 5 0-3 0 0 1 3 0-4 0 0 1 4 0-3 1 0 0 1 1-2 0 2 1-3 0 3 1 0 0 2 0 0 0-1 0-2 1-1 0 1 1-1 0 0 1 0 0 2 0 2 0-3 1 3 1-1 0 0 0 1 0-3 1 1 0 1 0 0 0-4 1 4 0-2 0 2 1-2 1 2 0-1 1 0 0-1 2 1 0 2 0-2 1 1 0-4 0 3 1-3 1 5 0 0 0-2 1 1 2 0 0-1 0 2 2 0 0-3 0 2 1 1 0-2 1-1 0-1 1 3 0-2 0-2 0 3 0 1 1-3 0-1 1 2 1 1 0-3 1 5 0-3 0 3 0-5 0 3 1-3 0 2 2 2 0-4 1 5 0-4 1-1 0 3 0-3 1 2 1 0 0-2 0 0 0 0 1 5 1-3 0 1 0-1 1-1 0 2 0 0 1 2 0-2 1 2 0 0 0-2 0 1 0 0 1-4 0 3 1 1 0-1 0 0 0 0 1-1 2 1 0 1 1 1 0-4 0 0 1 3 0-2 0 0 0 1 1 2 0-2 1-3 0 2 0 2 0-3 1 3 0-2 0 1 0-3 1 4 1 1 0-2 0-3 0 0 1 2-2 7 0-2 0 2-1-3-1 5 0-2 0-1-1 1 0-2-1-1 0 1 0 0 0-1 0 4-2 0-1-4-2 0-3 3-1-2 0 3 0-4-1 5 0-5-1 3-1 2-2-1 0 0-1-2 0 1 0-3 0 2 0 3-1 0 0-5 0 4-1-4 0 3-1 0 0-3-1 5 0-4-1 2-1 1 0 0-1-3 0 0-2 1-1-1-1 1 0 2 0-1 0 0 0-2 0 4-3 0 0-3-1 1 0-2 0 3 0-1 0 1-2 1 0-1 0-4 0 4-1-3 0 1-1 0-1 0 0 0-1 0 0 0-1 2 0-2 0-1 0 0-1 3 0 0-1 0-2-2-3 2 0 1-1-4 0 4-1-2 0-3 0 0-1 0 0 0 0 3-1-3 0 2-1 1 0-1 0 2-2-1-1 2 0-3-1-2 0 3 0-2-1 1 0-1-1 1 0 1-1 1 1 4 0-1 0 2 1 0 0 2 0-5 2 1 1 1 1 3 0-3 0 1 3-1 1-2 1 4 1 1 0 0 4-4 0 2 1 0 0 1 1-4 1 3 3 1 1 1 0-1 0-1 1 0 0 0 1 2 0-3 0 0 2-1 0 3 0 1 1-2 1-1 0-2 2 0 1 2 2 1 1 2 0-2 1-2 1 0 0-1 1 1 1 2 0-2 1 3 0 0 1-3 1 2 2-2 0-1 0 5 0-4 1 4 2 0 0-1 2-3 0 4 1-4 0 4 0-4 2 3 0-2 0 1 1 0 0 2 2-1 1 0 1-3 0 3 0-2 1 2 1-4 2 0 0 0 0 9-3-3-3 3-1 0-2 1-2-2-1 1-2 0 0-2-1 2-2 0-1-1-2-2 0 2-1 0-1 0-2 1-1-1-3-2-2 0-2 1 0 0 0 4-1-4-1 0-4 3-1 0-1-2 0-2-3 3-1 1-2-4 0 4-1-2-1-1 0 1-3-2-2 4-1-4-1 2-2-1-4 4 7 3 2-2 1 2 8-1 6 1 0-1 21 0 3-1 5 1 0 0"/>
<path class="pt" d="M308.5 1416.5l-33 27 6-3 35 11-52-3 25 4 7 4 23 7-3-4-11 3-5-1-21-3-11 5-10-4 12 5 5 3 9 0 4-3 1 0 1 3 0 0 5 1 5-1 0 0 18 5-1 3-5-2-11-1-2 0-2 0-3-2-8 4-1-3-18 2-4-3-1 3-3 4 2 1 8 0 3 2 2 1 4-3 2 3 3-2 4-1 2 1 3 2 3-3 0 2 2-1 3-3 0 2 1-1 6 4 3-1 0-2 2 3 1-4 0 2 0-2 2 4 1-4 3 9-1-2-1 1 0 0 0 0-1-1-1-2-2 4 0 1-4-2-3 0-1 2 0-5-1 3 0 0 0 2-1-5 0 4-2-2-1-2-3 1-2 3-1-3 0 3-1-4-2 5 0-3-2-2-1 1-1-1-3 3-3 2-1-2-5-1-4-2-3 2-3 3-1-2-3 2 2 4 0 0 0-2 1 0 3 4 6-3 1 0 6 1 1-3 2 1 1 3 2-1 0 1 3 0 0-3 2 0 1 0 2 3 5-3 0 0 1 2 0-1 2-2 2 4 0-4 2 5 0-3 4 1 5-3 2 0 2 4 0 2-7 1-3 2 0 2-1 0 0-2-3 1-4-4-2 1 0 3-3-2 0 3-1-4-3 2 0-1-5 3-1-3 0 1-3-1-1-2 0 4-1-1-2 2-1-5-4 0 0 3-1 2-1-2-2 0-5 2-2-5-2 4-3 6 1-4 4 5 2-5 3 5 0-5 0 5 1-3 1-1 1 0 1 3 0 0 2-1 2-1 1 3 2-4 0 2 1-3 0 0 1 4 0-2 4 3 1-3 0 3 2 0 1-1 0 1 4-4 1 2 1 1 3-1 1 2 1-5 0 0 2 5 0-4 1 4 0-2 1-1 2-1 0 3 1 0 3 0 2-4 2 4 0-2 2 2 0-3 0 4 2 0-3 5 0-4-1 2 0 0-4 1 0 2-6-4 0 1-1-1-2 4 0-1-4-4-1 2 0 2-1 1 0-1-2-3-1 4-4-1-1-2-3 0-4-2 0 4 0 1 0-3-4-1-2 3-1 1 0-3-1 3-1-1-2 1-2-1 0-1-3 2-3-2-1 1-2 7 1-3 0 3 2-1 0-2 1-1 0 1 0 2 4 0 0-1 1-1 0 0 0-2 1 5 3-1 2 0 1-1 0 2 0 0 1-3 0-2 0 5 4-1 1-1 1 0 2-3 1 2 0 2 2-2 2-1 1 0 1 1 2 1 1-1 0 3 1 0 2-2 2 2 1-1 0 0 1-1 2-3 1 5 4-4 1 3 1-2 1-1 1 2 1-2 1 0 3-1 3 11 0 0 0-1-5 0 0 0-2-3-2 2 0 2 0-3-1 1-1 1-1 1-1-4-3 4-3 0-1-3 0 3-1 0-1-2-1 0 0 2 0 0-1 0-5-1 0-2-2 2-3 1 0-3 0 2-1 1-1-4-2 1-2 2-2 0-2-1-1-3-2 5-1-1 0 0-1 1-1-4-1 3 0-2-1 0 0-1 0 2-1 0 0-1-2-2 0 5-1-5-2 5 0-3 0 1-1-2-1 3-1-3 0 4 1 4 2 1 0-3 0 1 0 0 1 3 0 0 0-4 2-1 0 2 0 1 1-2 0 1 1 3 1-4 0 3 0-1 0 2 0-2 1 2 0-2 0 2 0-5 1 4 1 1 0 0 1-2 0 2 1-2 1-3 1 2 0 2 1-2 0 1 0-2 0-1 0 3 0-3 1 5 1-4 0 4 1-4 0 2 0 1 3-1 1 1 1 0 1-1 1 0 1 2 0-2 3 1 1-1 0 1 3 0 0 1 0-3 1 1 0-2 0 0 1 2 0-1 1 3 0-5 0 0 1 5 4-3 0-2 1 1 0 2 1-2 0-1 0 5 1-1 0 1 2-1 0-4 1 4 0-3 0-1 1 4 0-1 1 1 0-1 1-2 1 4 0-3 1 1 1-3 1 4 0 1 0-4 2 2 1 0 0-3 0 3 1-2 0 0 1 4 0 5 0 0 0 0-2 1 0 0-1-2 0-1-1 0 0-1-1 4 0-5 0 5 0 0-1-2 0-3 0 4-1-3-1 2-2-2-1-1-1 1 0 2 0 0-1 2-1-2-2 0 0 0 0-2-1-1-2 2 0-2 0 4 0-1 0 0-1 0 0 0-1 0 0-3 0 1 0 3-1-4-1 1-1 0-1-1 0 5 0-4 0 4-1 0 0-4 0-1-2 0 0 1 0 3-1-1 0-1 0 2-1 0-1 1 0 0-1 0 0-4 0 4-1-1 0-2-1 1-1 2-1-2 0-3 0 3-1-3 0 1 0 3 0-3 0 3 0 1 0-4-1 0-1 1-1 2 0-1-1-3-1 2 0 0 0 2-1-3-1 2-1 2 0-4 0 4-1-4-1-1 0 5 0-5 0 5 0-1 0 1 0-3 0 0 0 1-1-1 0 0-1 3 0 0 0 0 0-3 0 1-4-3 0 5-1-2-1 0-1 1 0-2 0 1-1 1 0 0 0-2 0 1-1 2 0-1-1 1 0-4 0 4-1-5 0 5 0-5 0 4-1-3 0 2 0 2 1 3 0-1 1-1 0 3 0 1 1-1 1 1 1 1 0-1 0-1 1-1 0 3 1-1 0 1 1-5 0 3 0-2 0 0 3 4 0-5 0 1 0 2 1 1 1-2 0-1 0 0 0 0 1 4 1-2 0 0 0 0 1-3 1 2 0 2 0-4 1 5 1-3 1-2 0 0 0 2 1-2 0 3 1 2 0-4 0 3 0 1 1-2 0-1 0 3 0-4 0-1 1 1 1 4 0-1 0-1 1-2 1 3 1-1 1 2 1-5 0 0 0 4 0 0 1-3 0 1 0 2 1-1 2 2 1-3 0 0 0-1 1 0 0-1 0 0 1 5 0-3 2 1 1-1 1 0 1 2 0 0 0-2 1 3 0-1 0 0 1-1 0 2 0-1 1-3 0 0 2 3 0-1 0-1 1-2 0 0 0 0 2 5 0-1 0 1 1-2 1-3 1 4 3-4 1 3 0 2 0-1 0-1 1 0 0-1 0 0 1 0 1 1 0-2 0 1 0 2 1 1 0 3 0-2 0 3-1-2 0 0 0 2-1 2 0-4 0 2-1-2 0-1 0 2 0 3 0-2-1-2 0 1 0 1-2 1 0 0-1-4 0 2-1 0 0-2 0 3 0-1 0 2-1 1 0 0-1-1 0 1-1-4 0 2 0-2-1 1 0-2-1 4 0-3 0 1-1 2 0-2-1 3 0-1 0-3-2 3 0 1 0-4-1 2 0-2 0 0 0-1-2 5 0-4-1-1 0 1 0 4 0-5-1 5 0-5 0 4 0-3-1 2 0-2 0 2 0 2-1-3 0 0-1-1 0 2 0 2-1 0 0-1-1 0 0 0 0-2-1 0-1 2 0-1 0-2-2-1 0 3-2-3 0 0-2 3-1 2 0-4-1-1-1 2-3 3 0-1-1-2 0 0 0 2 0 1-1 0 0-4 0 3 0-4-1 0-1 0-1 2 0 1 0-3 0 0 0 2-2 1-1-2-1 4 0-2-1-1 0 1-1 0 0-2-1-1 0 1-1 0 0 0-2 1-1 2 0-2-1-1 0 2 0-2 0 2-1-3 0 1 0 4-1-2 0 2 0-3-1-2 0 5 0-1 0 5 0 0 0 1 1-4 0 3 0 2 0 0 1 0 0-1 0-4 1 0 0 5 0-3 0 2 1-4 1 0 0 4 0-1 0 2 1-4 1 3 0-2 1 2 0-3 0 3 0-1 0 2 0-4 1 2 1 0 0 1 0-3 1 4 0-2 1-3 0 2 1-2 0 0 1 1 2 4 0 0 0-5 2 1 0 2 0-2 0 2 1 2 1-3 0-2 0 4 0 1 0-1 0 1 1-4 1 4 0-3 0 1 0 0 1 1 1-2 1 3 1-5 1 2 0 0 1 1 0-2 1 1 0 1 1 0 0-2 0 4 0 0 1-2 1-2 1 0 0 1 0-1 0 2 0-1 1 3 0-1 1-4 0 1 0 4 0-1 0-2 1-1 0 1 0-2 0 5 0-1 1-4 0 2 0 0 1 0 0-2 0 2 1-2 0 1 0 0 1 2 0-3 1 1 0 0 1 2 0-2 0 0 1 0 1 3 0-2 1-2 0 1 0 4 0-1 3-4 0 1 0 4 0-1 0-3 2 3 3-3 0 1 1-1 0-1 0 1 0 4 0 0 0-3 1 1 0-3 1 3 0-3 0 2 0 0 1-2 0 5 1-1 1-4 0 5 0-2 1-3 0 3 0-2 1 4 0 2 0 4 0-3 0 2 0 0-2 0 0 0 0-2-1-1 0 1-1 1 0 2-1 0 0 0 0-3-1 0 0 2 0-4-1 5 0 0-1-5-1 5 0-2-1 0 0-3-1 1 0 3-1 1 0 0 0-3 0 1-1 2 0 0-1 0-1-3-1 3 0 0-1-5-1 5 0-2 0 0 0 2 0-3 0 2-1-3 0 3 0-3 0 2 0-1 0-2-1 4 0 0 0 1-1-2 0-2-1 3 0-3-1-1 0 4 0-3 0 2 0-1 0 3 0-3 0 3 0-4-1 3 0-2-1 0 0 0 0 1 0 0-1-1 0-2 0 1 0-1 0 4-1-4 0 0 0 0-1 4 0 1 0-1-1-2 0 2-1 1 0-5 0 5 0-1 0-3-1 3 0-4-1 4 0-1 0 2-1-2 0-1 0-2 0 4 0 1 0-5-1 4 0-1 0-3 0 4 0 0 0-4-1 3 0 2-1 0 0 0 0-1-1-4 0 0-1 5 0 0-1-3 0 2 0-3 0 4-1 0 0-1 0-4-1 4 0-2-1 2 0 1 0-3 0 3-1-3 0 1 0-3-1 1 0 4 0-3 0 2-2 1 0-4 0 3 0-3 0 1-1-2 0 1-1 0 0-1 0 1 0 4-1-2 0 1 0 0 0 1 0-1-1-3 0 3-1 1 0 0 0-3-1-2-1 2 0 0 0-1 0-1 0 5-1-3 0-1 0-1 0 4 0 1 0-2 0-2-1 4 0-5-1 1 0 4 0-4-1 3 0-4 0 4-1-4 0 4-1 1 0-2 0-2 0 2-1 2 0-2-1 2 0-5 0 6 0 1 0 0 1 2 0-2 0 1 0-1 1 1 0-2 0 1 2-1 0 0 1 4 0-3 2 0 1 3 0-3 0 0 1 1 0 2 0-2 0 0 1-2 0 0 1 3 0-3 0 4 0-4 0 5 0 0 0-2 1-3 1 5 1-5 0 5 1 0 0-2 0 2 1 0 0-3 1 3 0-1 0-2 0 1 0 1 1-4 0 1 0 2 0-3 0 0 1 5 0-2 1-3 0 5 1-5 0 2 0-1 0 1 0 1 0 2 1-3 0-2 0 5 0-5 0 4 0-3 1 3 0-2 1-2 0 0 0 5 1-1 0-4 1 2 1 1 0 2 1-2 0-3 1 2 2-2 0 5 0-4 1-1 0 4 0-3 1 0 0 2 0-2 0 1 0 1 1-1 1 3 0-3 0 0 1 0 0 0 0 2 1-4 0 1 0-1 0 0 0 4 2-1 1-3 2 3 0 0 0-1 0-1 0 0 1 0 1 2 0 1 1 1 0 0 1-4 0 2 0-3 1 2 0 3 1-4 1 1 0 2 0-2 1-1 0 2 0-3 0 0 0 0 1 0 1 3 0-2 2 4 1 0 0-4 0 0 0 0 1 0 1-1 0 3 1-3 0 1 0 4 0 0 0-2 1-2 0 4 0-2 1 0 0-2 1 3 0-2 0 2 0 2-2 1 0 0-1-1 0 0-1 4-1-3-2 2-1 1 0 0-1-1 0 0-1 0 0 2 0-3-2 0-1 0-1-2-1 1-1 1-1 0-2-2-2 4 0-3-3-1 0 0-1 4-1-1 0 0-1-3-1 2 0-1-1 2 0-3 0 5-1-5-1 2-1 2 0-3-1 0-3 1-1 0 0 2 0-3-1 0 0 1-1 3 0-4-1 1 0-2-1 2 0 3-1-1 0-2 0 1-2-3-1 4-5-2-1 0 0-2-4 3 0-1-1 3-1-5-2 1 0 3-1 0-1 1 0-4 10 7 0-2 3 2 1 0 5 0 9-1 9 0 1 1 14-2 0 1 4 1"/>
<rect x="87.8" y="1515.1" width="91.7" height="32.8" fill="#85ceb7" fill-opacity="0.3"/>
<rect class="bx" x="87.2" y="1514.5" width="92.9" height="34" fill="none"/>
<path class="md" d="M87.2 1533.3H180.1"/>
<rect x="242.6" y="1524.6" width="91.7" height="31.3" fill="#fda481" fill-opacity="0.3"/>
<rect class="bx" x="242" y="1524" width="92.9" height="32.5" fill="none"/>
<path class="md" d="M242 1541.8H334.9"/>
<rect class="pb" x="40.8" y="1399" width="340.5" height="185.5"/>
<text class="t yl" x="36.2" y="1547">200</text>
<text class="t yl" x="36.2" y="1504.3">400</text>
<text class="t yl" x="36.2" y="1461.5">600</text>
<text class="t yl" x="36.2" y="1418.8">800</text>
<path class="tk" d="M38.2 1544h2.6M38.2 1501.3h2.6M38.2 1458.5h2.6M38.2 1415.8h2.6M133.7 1584.5v2.6M288.4 1584.5v2.6"/>
<text class="t xl" transform="translate(133.5 1589.3) rotate(-45)" dy="6.2">Smoking</text>
<text class="t xl" transform="translate(288.2 1589.3) rotate(-45)" dy="6.2">Non~smoking</text>
<text class="t ti" x="40.8" y="1390.8">Pb by smoking</text>
<text class="t at" x="210.5" y="1640.8">smoking</text>
<text class="t at" transform="translate(16.9 1491.8) rotate(-90)">Pb concentration (μg/L)</text>
<text class="t sg" x="129.9" y="1407">****</text>
</g>
<g>
<path class="gn" d="M416.5 1550H761"/>
<path class="gn" d="M416.5 1496.2H761"/>
<path class="gn" d="M416.5 1442.2H761"/>
<path class="gm" d="M416.5 1577H761"/>
<path class="gm" d="M416.5 1523.1H761"/>
<path class="gm" d="M416.5 1469.2H761"/>
<path class="gm" d="M416.5 1415.3H761"/>
<path class="gm" d="M510.5 1398.8V1584.5"/>
<path class="gm" d="M667 1398.8V1584.5"/>
<rect x="463.5" y="1532.3" width="94" height="31" fill="#85ceb7"/>
<rect x="620.1" y="1544.5" width="94" height="21.8" fill="#fda481"/>
<path class="wk" d="M510.5 1532.3V1487M510.5 1563.3V1576.1"/>
<path class="wk" d="M667 1544.5V1512.8M667 1566.3V1576.1"/>
<path class="pt" d="M520.5 1415.5l0 0-20 0-20 2 38 2 1 11 15 9-46-2 8 6 10 1 13-3 16 3-10 4-15 0-8 3-2-2 41 7-38 2-5 5-2-4-3-1-11 7 3 1 5 3 12-1 3-2 7-2 5 0 5 1 2-1 2 4 2 1-14 2-6 1-8 3-2-3-1 3-4-1-2-4-4 4-3 5 3 2 8-2 3 1 9-2 3 2 6-3 25 4 0 4-2-2-1 0-8 4-1 0-2-2-5 1-10-3-6 2-8-3-3 4-4 1-4-1-3 6 0 0 1-3 1 3 1-4 7 0 0 3 5 0 0 2 4-4 0 3 3 0 0 0 3 0 3-4 4 2 2 0 1 0 0-2 0 3 1-3 4 5 1-1 1 1 1-4 1 1 0 3 1 0 5-4 0 4 2-2 5 2 0-3-1 9-1-4-1 4 0-1-2 1 0-3-1-2-1 3 0 1-3-1 0-3-1 5-1-5 0 5-1 0-1-2-2 1-1-1-1 0-5 0-6-2 0 1 0 2-1-4 0 5 0-5-9 3-1-3-1 5-1-1 0-4 0 4-8 0-4-2-6 0 0 3-2 6 1-2 2-2 0 2 1-1 3 2 2-3 1 1 2 2 1 0 1-2 0 0 0-1 1 4 1-1 1-1 1 0 0 1 2-1 4 1 2-4 2 0 0 1 1 0 1 1 2 0 1 0 5 1 1 2 1-5 4 0 0 3 1 2 4-3 2-2 1 4 4-2 7 6-1-2-1 1-1 1 0-1 0 2-4 0 0 2-2-5-3 3-1 0 0 1-1-3 0 1-3 1 0-2-2 3 0-3-1 0-2 3-2-1-1 1-6 1-3-5-2 3-1-3-1 4-2 0-1 0 0-2-1-1-1 4-1-1-2 0-1 0 0 0-1-1-6 0-1 2 0 0 0-5-5 5-1 0 1 2 2 1 1 3 1-5 2 4 0-2 3-1 0 1 2-1 3 4 1-1 1-1 1-1 2 0 0 1 5 0 2 0 0 0 8-3 1 4 8 0 2 1 3-4 2 4 1-5 2 5 0-5 1 4 0 0 1-3 1 3 0-4 1 3 1-1 1 8-1 1 0-3-1 3-7-3 0-1-2 1 0 3-1-5-1 1-2-1-4 2 0 2-3-2 0-2-1 1-2 3-2-2-1 2 0-3-2 1-2 1-1 2 0-4-5 1-2-1-1 4-3-1-3-3-6 4-2 0 0-2-3 2-2-5-1 5 1 6 1-3 7 2 0 0 1-4 2 0 1 0 4 0 1 1 0 2 1-2 1 1 3 0 2 3 0-5 1 4 1 0 1-2 1 2 2 0 0-3 0-1 1 3 1-3 1 0 1 3 0 1 1 1 1-5 1 3 4 1 0-4 7 5 0-3 1-1 0 1 1 3 0-4 1 4 2-2 2-2 0 2 1-3 0 1 3 1 0 1 1 1 0-1 1 2 0 6-1-1 0 0-2-4-1 3-3-1 0 3-2-1 0-3 0-1-1 4-1 1-2-3 0 2-1 0 0-1 0 2-1-4 0 1-1-1 0 4-1-1 0-1-2-1-1-2-1 2 0 3 0-4-3 3 0 0-4-1 0-1-1 2-2 0 0 1 0-1-1 0-2 1 0-3 0 1-1 2-3-4 0 3-1-1 0-3-2 0-1 3-3 0 0 0 0-2-1 4 0-1-1-1-1 2-2-4-1 4-2-3 0 2-1-1-1 0-3-1-1 0 0-2-2 1 0 2 0 1-1-4-1 3 0 5 0 2 1-2 1 0 0-1 1 0 0 4 2 0 0-2 0 2 0-5 0 3 1-2 0-1 0 1 0 1 0 2 2-4 0 3 0-3 0 1 2 4 0-5 0 5 1-3 1 1 0 0 0 0 0-1 0-2 1 4 2-3 0 1 0-2 0 4 0 1 0-1 1-3 1 3 0-1 2-1 0 2 1 1 0-1 0-4 1 5 0-1 0-4 0 0 0 1 1 4 0-4 0 0 0 4 0-5 1 1 1-1 0 4 1-4 1 2 0 0 1 1 0-3 1 2 0 0 1 2 0 0 1-4 0 4 1-2 0 0 1 1 0 2 0-1 0 1 0-3 1 2 0 1 1-1 0-2 1-1 2 0 0 1 1-1 0-1 0 3 0 1 1-3 0 0 3-1 0 3 1 1 0-3 1-1 1 5 0-2 0 0 0-1 1-2 0 1 1 0 0 3 0-4 1 4 1 1 1-2 1-3 0 5 0 0 1-4 1 3 0 0 0-3 1 3 1-3 0 2 0-3 0 5 1-3 0 1 1 0 0-2 0 4 1-2 0-1 0 2 0 0 0 0 1 1 0-3 0 1 0-3 0 5 2-4 1 0 1 10 0-2-1-2 0 2 0 2 0-2-1 1 0 0-1 1 0-5 0 4-1-2 0 3-1-3 0 2 0-3 0 3-1-3 0 2 0-2-1 1 0 1 0 0-1-3 0 3-1-2-1 3 0 1 0-2 0 1 0-1 0-1 0 3-2-2 0 1 0 1-1-5 0 2 0 1 0-2-1 4 0-3 0 0 0-1-1 4 0-1 0-2 0-1 0-1-1 5 0-5 0 5 0-5 0 3-1-3-1 3 0-3-2 5 0-5 0 5 0-5 0 4-1-4-1 1-1 1 0-2-1 1 0 3-1 0 0-4-1 1 0 2 0-1-1 2 0-4 0 1 0-1-1 0 0 5 0-2 0 1 0-2-1 1 0-2-1 3 0 0-1-4 0 3 0 0 0-2 0-1-1 4 0-2-1 2-1-2 0 1-1 0 0-3-1 3 0-3-2 2-1 1-1 1 0 1 0-1 0-2 0-2 0 3-1-1 0 0 0-1 0 0 0 3-1-2 0 0 0 3 0-2-1-1-1-2 0 5 0-5-1 5 0-2-1 1 0-4-1 1-3-1 0 1 0-1-1 0-1 2 0 0 0 3 0-4-1 1-1 0 0 1 0-1 0-1 0 1-1 2 0-2 0 0 0 1-1-2 0-1 0 1 0 2-1-1 0 3 0-2-1 0 0 0 0 2-1-1 0-1-1-2-1 1 0 2-1-2 1 6 0-2 0 2 0-1 1 4 2-1 0-3 0-1 0 5 0-3 0-1 1-1 0 0 1 0 1 0 0 5 1-5 0 1 0 4 1-2 1 1 0-4 0 5 1-5 0 4 0-3 0 3 1-4 0 5 1 0 0-2 0-1 0-2 1 5 1 0 0-5 1 0 0 1 0 0 0-1 1 2 0 1 1 2 1-5 0 3 1-1 1 3 1 0 0-1 1-1 0-2 1 2 0-2 0 0 2 2 0-2 1 3 2 1 0-3 1 3 0-3 0 2 2-4 0 1 0-1 0 2 1 3 0-4 1 3 0-3 1 1 0-1 1 0 0 0 0 1 0 1 1 0 1-1 0 3 0-5 0 3 1-2 2 3 0-1 0 0 0 2 1-4 1 4 0-3 1 0 0-2 1 1 2-1 0 2 0 3 0-3 1-1 0 0 1 1 1-2 0 1 1 0 0 1 1 1 0 2 1 0 0-4 1-1 0 4 1-1 0 1 0-3 1 0 1 4 1-4 0 0 0 0 1 1 0 1 0 0 0-1 1 3 0 0 0-2 2-1-1 8-1-1 0-3-1 5 0-2 0-2 0-1-1 3 0-3 0 5-1-2 0-1 0 3 0-5 0 4-1-4 0 4 0 0-1-3 0-1 0 5 0-4 0 3-1-3 0 2-1 0 0-2 0 4 0-3 0 1-1 2 0-4 0 2 0-2-1 4 0-3-1 2 0 0 0-1 0 0-1-1 0-2-1 5 0 0-1-1 0-2 0 3-1-4 0 3-1-2-1 3-2-4-2 4 0 0 0-2-1 1 0-1 0-2 0 4-2-3 0 1 0 0-1-3 0 4-2-4 0 2 0 0-1 3 0-4 0 4 0-5-1 4-1-4 0 4 0 0 0-1-1-1 0 0-1-2-1 3 0 1-1-2 0 1 0 0 0 2-3-3 0 2 0 0-1-4 0 0 0 4 0 0-1-2-1-1 0 4 0-3-1-1-1 0 0 1 0 1 0-2 0 3 0 0-1-3 0 2 0-3-1 3 0 1-1-2 0-1-2 3-1-4-2 3 0 0 0-2-1 1-1 1 0-3 0 0-1 4 0-4 0 4-1-1 0 1 0 0 0-2 0-2 0 5 0 0-1-3 0 1-1 0 0-2 0 0-1 1-1 3 0-2 0 0-2 0 0-1 0 3-1-5-1 1 1 9 0-3 0 0 1 4 0-1 0 0 1 0 0-3 1 1 0-2 1 0 1 1 0 2 1-2 0 2 0-1 1 0 0 1 0 2 0-4 1 2 0 0 1 1 0-3 1 2 0-3 1 4 0-3 0 2 0 2 1-1 0-3 0 4 0-2 1 0 0-1 1 0 0 1 0 0 0 0 0-2 1 1 0-2 0 2 0 2 0-4 0 0 0 3 1 2 0-2 0-1 1-1 0-1 1 2 0 2 0-1 1 0 0 2 0-2 0 2 0-1 0-1 1-1 0 3 0-3 0 2 1-4 1 5 0-4 0-1 1 5 0-1 0 0 0 0 1 1 0-3 0-2 0 5 1-5 0 1 0 2 1 1 0 1 1-1 1-2 1 1 0 2 1-5 0 5 0 0 1-3 0 3 3-2 0 2 0-3 0 3 0-5 1 1 0 3 0 0 0 1 0 0 1-3 0 2 1-4 0 0 1 5 0 0 1-5 0 4 1 1 0 0 1-3 0 0 1 3 0-3 0-1 0 3 0-1 0 1 0-1 1-2 0 4 0 0 1-2 0-3 0 1 0 0 0 4 1-4 0 0 0 2 1 2 1-3 0-1 0 3 1 1 0-1 0-3 0 2 0 1 0 0 1-2 0-1 1 0 0-1 0 2 0 3 0-5 1 1 0 2 0 1 0-3 1-1 1 4 0 1 0-5 0 4 0-4 1 3 0 2 0-4 0 3 1 1 0 0 0-4 1 4 0-2 0 2 2-5 0 3 0 2 0 0 0-2 1 2 0-3 0 1 1 0 1 1 0 1 0-2 0-3 0 6 0 1 0 3-1-2 0 1 0 0-1 1 0-2-1 0 0 2 0 0 0-4 0 3-1-2 0 4 0 0-1-4 0 3 0-4-1 2 0-1 0 1 0 3-1-5 0 3 0-2-1-1 0 0 0 0-1 1 0 0-1 2 0 0 0-1-1 3 0-2 0-3 0 0-1 5 0-2 0-3-1 0 0 1 0 1-1-1 0 3 0 1-1-2 0-1-1 1 0 0 0-2 0-1 0 4 0-2 0-2 0 0-1 2 0 2 0-4 0 3 0 0-1-1 0 0 0 2 0-2 0-2-1 0 0 0 0 2-1 0 0 0 0 1 0-2 0 0 0 1-1-2-1 3 0-2 0 4-1-2 0-2-1 3 0-4 0 3 0 0-2 1 0-3 0 0-1-1 0 1-1 2 0 1 0-3 0 3 0-1 0 1 0-1-1-2 0 4-1-4 0-1-1 0 0 1 0 2 0 2-1-4 0 4 0-5 0 2-1-2-1 4-1-4 0 2 0-2 0 1 0 0 0-1-1 1 0 0-1 4 0-5 0 4-1-2 0 0 0-1 0 1 0-1 0 3-1-4 0 0 0 4 0 1 0 0-1-1 0 0-1-2 0-2 0 3 0-2-1 3 0 0 0-2 0 0-1 1 0 0 0-3 0 3-1-3 0 1 0-1-1 0 0 0-1 2 0 0 0-2 0 0-1 1 0 0 0 1-1-2 0 1 0 3 0-2 0-2-1 2 0-2-1 0-1 1 0 2-1-3 0 0 0 5 0-5-1 3 0-3 0 0 0 2 0 2-1-2 0 2 0-3 0 2 0-2 0 3-1-4 0 4 0-2-2 0 0 0 0 0 0-2-1 5 0-4 0 0 0 1 0 0-1 0 0 0 0-2-1 0 0 0 0 0 0 3-1-3 0 5 0-1 0-4 0 5 0-2 0-1 2 6 0 1 1-3 1 0 6 2 0 0 1 0 0 0 0 1 1-2 0-1 0 0 1 3 0-3 1 1 1-1 1 1 2 1 13-2 3 0 0 3 0 0 0 0 0-1 1-1 1 2 3-1 0-1 1 0 0 0 1 3 1-4 1 0 0 1 0 0 0 2 1-2 2 0 1 3 1-3 2 2 2-2 0 0 2 2 3 1 1-1 2 0 1-1"/>
<path class="pt" d="M683.5 1415.5l-16 0-29 0 56 11-13 7 9 3-46 5 49 7-54 12 38 7 11 7-6-3-44 2 9 8 27-2 4 0 7 1 10-3-15 5-1 1 0 1-5 1-22 0-12-1 2 4 12 4 14 0 6-2 3 1 15-3 3 11-28-3-5 0-16 2-3 1-6-2-1 4 0 4 1 0 16-4 2 3 1-3 8 4 1-5 8 0 0 3 9 1 1-1 0 2 2-4 10 7-13-2-7 0-12 4-11-3-2 1-1-1-13 1 1 6 1 2 2 0 0 0 5 1 1-1 1-1 1-3 0 4 1-2 2 3 6-5 3 4 1-2 2 3 1-1 0 0 4-1 1 0 0 1 3 1 1-2 3 2 0-2 1-1 1-1 1 2 0-1 4-1 1 3 2 0 2-3 1 2 1 2 8 2-2 2-1 2-2-3 0 0-2 1 0 0-4 0-1 2-1-2 0 2-1-3 0-2 0 3-3 2-4-3 0-1-1 0-1 1-1-1 0 1-1 1 0-1-2 0-1-2-2 5-4-1 0-1-1-3-2 1-2 4-5-1 0-4 0 0 0 3-2 0 0-2-4 2-1-1-1 1 0 1-1-1 0-3 0 0-1 1-2 3-1 1-1-1 0-1-1-1 0-2-3 9 1-2 2 3 2 1 0-3 1 3 2-4 1 3 1 0 0 1 1-1 6-3 1 0 2-1 0 0 1 1 2 4 3-5 1 0 2 4 4-3 1 0 1 3 1-4 2 3 1-1 3 1 0-3 0 1 3 3 0 1 0-3 5 2 2-1 0 0 1 0 0-1 1 3 2 0 1-3 1 3 1 0 0-3 1 2 1-1-4 8-1-4-1 3-4 0 0-2-8-1 0 0 0-1 0 2-2 0 0 1-1-2-1 2-1 2-1-5 0 1-1 1-2 1-1 0 0 0-1 1-2-2 0-1 0 3-2 1 0-1-1 1-3-2 0 1-2 1 0-5-1 4-4 0 0 0-2-2-2 2-1 1 0-4-2 0-1 1 0 2-2-3-1 2 0-2-1 1-3-2 0 0-1 5 0-2 0 4 0 2 1 0 2 0 1 2 1-4 1 1 1 0 2 1 0-3 0 3 0-1 2-2 1 3 0-3 1 4 1-4 0 5 1-2 0-2 5 0 1 1 0-1 1 3 0-4 1 1 0 4 1-4 0 0 2 2 3 1 2-1 0 0 0-2 1-1 1 0 0 1 0 0 1 4 1-4 1 4 0-1 1 0 0 1 1-1 0 0 1-4 1 0 1 5 0-3 0 3 2 0 1-1 0-4 1 5 4 0 0-1 1 0 0-4 0 2 1 0 0 3 1-3 1 3 1-2 1-3 0 3 1 0 2-2 0 1 2-2 1 2 0 5 0 2-1 1 0-3-1 2-1-1-1 3-1 0 0-5-1 1-1 4 0-1-2 1 0-2 0 0-1-3-1 5-1-2 0 2 0-1-1-1 0 0-1 0-1-3 0 1 0 3 0-1-1 1-1 1-1-2 0-3-2 3 0 1-1-2 0 0 0 0 0 1-2 2-1-2-2 0 0 1 0 1 0 0 0-4 0 2-1 0 0 0 0-3-2 5-1-2-2 0-2-1-1 2-1-3 0 4 0-1-2 1-1 0-1-1 0 1-1 0 0-4 0 0-1 4-1-4-1 4 0-3 0 2 0 1-1-4-1-1 0 4 0-3-1 4 0-5 0 0 0 4 0 0 0 0 0 0-3-1-1 1-1 0 0-4-1 5 0-4 0 4 0-5-1 5-1-3-1 0 0 0-1-1 0 2-1-1 0 1-1 0-1 1-1 0 0-3-1 7 1 1 0-2 1 2 1 2 0 0 0-3 0 2 0-1 1 1 0-1 0 1 0-2 1-1 0 1 0-1 0 2 0 0 1 0 0-3 1 2 1-1 0 1 0 0 0 0 1 2 0 1 0-1 1-4 0 5 0-5 0 5 0-2 0 0 1-1 0-1 1 0 0-1 1 5 0-5 0 4 0-4 1 3 0-2 0 2 0-3 0 1 0 2 0 2 1-1 1-3 0 1 0 3 1 0 0-1 0 1 0-1 1 1 0 0 0-1 0-2 0 2 0-2 1 2 0 0 0-1 0 0 0 0 1 2 0-4 1-1 0 5 1-5 0 3 1-1 0 3 1-5 0 2 0 0 0 0 0 0 2 1 1-3 0 0 0 0 0 3 1-1 0 2 0-4 0 4 0-4 0 4 0 1 2-1 1-3 0 2 1 2 0-2 1-1 1 1 0 1 1-2 0 3 0-1 0-2 0 1 1 1 0-1 2 1 0-1 0-1 1 0 0 2 0-3 0 0 1 4 0-4 0 4 0-1 1-2 0-2 1 5 0-1 1-4 1 5 0 0 1-2 0 2 0-1 1-1 0-2 0 1 0-1 1-1 0 2 0 1 0 0 1-2 0-1 0 2 0-1 1 2 1 0 0 1 0 1 1-1 0-3 1 3 0 1 1-1 0-1 0 0 1 0 0-2 2 2 0 1 0-2 0 2 2-4 0 2 0-1 0-1 0 3 0 2 2-2 1 1 0-1 1 2 0-2 0-1 0 1 0 7 0-4 0 5-1-5 0 1 0 2 0 1 0-3 0-1-1 3 0 0 0 2-1-3 0 3-1-1 0 1 0-5 0 3-1-1 0 3 0 0-1-1 0-4 0 1 0-1-1 0 0 5 0 0-1-3 0-2-1 4 0 1-1 0 0-4 0 4 0-4-1 2-1 2 0 0-1-2 0-2 0-1 0 5-1-1 0-1-1-3 0 2 0-1 0 2 0-3 0 1 0 0-1 1 0 2 0-4-1 5 0 0 0-3 0 3 0-2 0 0-1-2 0 2-1 2 0-3 0 1 0 1 0-2-2 1-2 0 0 1 0 1 0-3 0-1-1 2-1 0 0-1 0 2 0 0-1 1 0-4 0 4 0-3-1-2 0 3 0 2 0-2 0 2-1 0 0-1 0-4 0 3-1 2-1-2 0-2 0 3 0 0 0-3-1 1 0-2 0 1-1-1 0 5-1 0 0-1 0 0 0 0 0-3-1 2 0-1 0-2 0 1 0 2 0 1-1-1-1 1 0-2 0-1 0 3 0 0 0 1-1-1 0-3-1-1 0 0-1 0-1 4 0-1 0 2 0-5 0 4-1 0 0-1 0-1 0 3 0-1-1-4 0 2 0-2 0 1 0 4-1-1 0-4 0 1-1 1 0 0 0 3 0 0 0-2-1-2 0 4-1-5 0 2 0 0-1 3 0-1 0 0 0-2-1-2 0 3 0 0-1 2 0-2 0 2 0 0 0-1-2-3 0 3-1 0 0-4 0 0 0 5 0-2 0 0-1-1 0-2 0 5-1-1 0-1-1 0-1-1-1-2-1 0 0 1 0 4-1 0-1-4 0 0 0 1 0 3-1 0-1-4 0 1 0 9 0-5 0 1 1-1 0 5 0 0 0-3 0 2 1 1 0-3 0 3 1-1 0-2 1-1 1 3 0-2 0-2 0 2 0 0 0 1 1 2 0-2 0-1 1 0 0 2 0-1 0-1 1-2 0 2 1 1 0 2 1-1 0-2 0 2 0-2 1 0 1 2 0-2 0 0 0-1 0 3 1 1 0-3 0-1 1 3 0-4 0 4 0-3 0 0 0 3 0-4 0 3 1-1 0 1 0-1 0-2 0 1 0 4 0-2 0-2 1 4 0 0 0-4 0 4 0-3 1 2 0 0 0-2 1 2 0-2 0-1 1 3 1-3 0 1 0 2 0-4 0 0 1 0 0 2 0-2 0 1 0 3 1 0 0-1 0-2 0 3 1 1 0 0 0-3 0-2 1 5 0-2 0-3 0 4 0-3 1 0 1-1 0 4 0 1 0 0 1-3 0 1 0 0 0 2 0-5 0 4 0-4 0 5 0 0 1-3 0 2 0-1 0 2 0-2 0-1 1 3 0 0 0-5 1 4 0 0 1-4 0 3 0 0 0-3 0 3 1-3 0 5 0-1 1 1 0-1 0 1 0-4 0 4 1-5 0 2 0 1 0 2 0-1 1 1 0-2 1-1 1-1 0 1 0-1 1 0 0 4 0-2 0-3 0 4 0-1 1 2 0 0 0-5 0 4 1-3 0 3 0 0 0-3 0-1 0 4 1-1 0-1 1-2 0 0 1 4 0-4 1 2 0-1 0 2 0-2 1 4 0-2 2-1 0 3 0-4 0 2 0-3 0 0 0 0 1 5 1-5 0 4 0-3 0 1 0 0 1 0 0 0 0 1 0-2 0-1 1 4 0 0 0-4 0 1 0 0 0 3 1-4 0 2 0 2 1 0 0-2 0 3 0-4 0 2 1 0 1-2 0 0 0 3 1 1 0-2 0-1 0 0 1 1 0 1 1 1 0-1 0-4 0 1 0 2 1-2 0-1 0 4 1-2 0 2 0-3 1-1 0 1 0 0 1 4 0-3 0-1 0-1 0 9 0 1 0-4-1 4 0-2 0 3 0-1-1 1 0-1 0-3 0 1-1 1 0-2 0 2 0 1 0-1 0 1 0-2-1 2 0-1 0-1 0 0 0 1-1 2 0-3 0-1 0 0 0 2 0 1 0-4-1 2 0 3 0-2 0 0-1-2 0 2 0-2-1 0 0-1 0 2 0 3 0-3-1 3 0-3 0-2 0 3 0 2-1-1 0-4 0 2 0 1 0 1 0-3-1 2 0-1 0 0 0-2 0 4 0 0 0-1-1 0 0 2 0-5 0 1-1 0 0 1 0 0 0-2-1 0 0 3 0-1 0-2 0 1 0-1 0 2 0-1-1 3 0-4 0 5 0-2 0 1 0 1 0-5-1 5 0-4 0 1 0 0-1 2 0 0-1-2 0 0 0 1 0 1-1-2 0-1 0 2 0-1 0 0 0 3 0-2-1-1 0 2 0 0 0-4-1 5 0-5 0 0 0 5 0-2-1-1 0 2 0 0 0 0 0-1 0-2-1 3 0-2 0 0 0 1 0-3 0 3 0-1 0-1-1-1 0 2 0 2 0-2-1 1 0-2 0 2 0-2 0-1-1 1 0-1 0 5 0-2 0-1-1 2 0 1-1-4 0 1 0 2 0-2 0 2 0-4 0 0-1 5 0-4 0 0 0 1 0 0-1 2 0 0-1-1 0-2 0 1 0 0 0-2 0 2-1 2 0-2 0 3 0 0 0-1 0-2 0-1 0-1 0 4 0-2 0 2-1 0 0-2 0-1-1 1 0-1 0 1-1 1 0-1 0-1 0 2 0-3-1 0 0 0-1 5 0-3-1 1 0 2 0 0 0-3 0 1 0-1-1 1 0-3 0 0 0 5 0-4-1 3 0-1 0-2 0 2-1-1 0 0 0 0 0 0 0-1 0-1-1 4 0-1 0-2 0 3-1 1 0-1 0-1 0-1-1-2 0 5 0 0 0-2 0-1-1 2 0-1 0 0 0-1 0 0 0 2 0 1 0-3 0 2 0 0 0-1 0 1 0 0 0-3-1-1 0 0 0 5-1-2 0 2 0-2 0-2 0 2-1 0 0-1 0 1 0-1 0 3 0-2-1 2 0-2-1-2 0-1 0 3 0-2 0 0 0 3-1-4 0 1 0 1 0-1-1 1 0-1 0 2 0 0-1-1 0-2-1 4 0 0 0-4 0 3 0 2 0-3 0-2-1 3 0-1-1 0 0 1 0 1 0 0 0 0-1 0 0-1 0-3 0 3-1 1 0-4 0 1 0 2 0 2-1-1 0-1 0-3 0 2 0 1-1-1 0 2 0-1 0 1 0-3 0 4 0 0 0-4 0 3 0-4 0 2-1-1 0 4 0-1 0-4 0 4 0-2-1 2 0-2 0-1 1 9 1-4 0 0 1 2 1 1 1-1 2-2 0 2 0-2 2 2 1-1 0 0 1-1 0 2 1 0 1 0 0-1 0-1 0 0 1 0 1 0 0 0 1 1 1 3 1 0 0-4 2 0 0 0 1 3 1-1 0-1 0-1 1 0 0 4 2-4 7 0 0 4 2-2 2-1 0 0 3 3 2 0 0-1 0-3 0 1 1 3 1-2 1 1 0-2 0 3 0-3 0 2 1-1 1 2 0-4 1 1 0-1 0 3 0 0 1-3 1 2 0 0 0-2 0 1 1-1 1 2 0 0 3-1 1-1 0 0 1 4 0-4 0 1 1-1 0 1 1-1 0 0 1 1 0 0 3 2 0 1 0-4"/>
<rect x="464.1" y="1532.9" width="92.8" height="29.8" fill="#85ceb7" fill-opacity="0.3"/>
<rect class="bx" x="463.5" y="1532.3" width="94" height="31" fill="none"/>
<path class="md" d="M463.5 1548.8H557.4"/>
<rect x="620.7" y="1545.1" width="92.8" height="20.6" fill="#fda481" fill-opacity="0.3"/>
<rect class="bx" x="620.1" y="1544.5" width="94" height="21.8" fill="none"/>
<path class="md" d="M620.1 1557.3H714"/>
<rect class="pb" x="416.5" y="1398.8" width="344.5" height="185.7"/>
<text class="t yl" x="411.9" y="1580">0</text>
<text class="t yl" x="411.9" y="1526.1">5</text>
<text class="t yl" x="411.9" y="1472.2">10</text>
<text class="t yl" x="411.9" y="1418.3">15</text>
<path class="tk" d="M413.9 1577h2.6M413.9 1523.1h2.6M413.9 1469.2h2.6M413.9 1415.3h2.6M510.5 1584.5v2.6M667 1584.5v2.6"/>
<text class="t xl" transform="translate(510.3 1589.3) rotate(-45)" dy="6.2">Smoking</text>
<text class="t xl" transform="translate(666.8 1589.3) rotate(-45)" dy="6.2">Non~smoking</text>
<text class="t ti" x="416.5" y="1390.8">Cd by smoking</text>
<text class="t at" x="589" y="1640.8">smoking</text>
<text class="t at" transform="translate(397.3 1491.7) rotate(-90)">Cd concentration (μg/L)</text>
<text class="t sg" x="507.7" y="1407">****</text>
</g>
<g>
<path class="gn" d="M800 1551.3H1145"/>
<path class="gn" d="M800 1496.9H1145"/>
<path class="gn" d="M800 1442.5H1145"/>
<path class="gm" d="M800 1578.5H1145"/>
<path class="gm" d="M800 1524.1H1145"/>
<path class="gm" d="M800 1469.7H1145"/>
<path class="gm" d="M800 1415.3H1145"/>
<path class="gm" d="M894.1 1399V1584.5"/>
<path class="gm" d="M1050.9 1399V1584.5"/>
<rect x="847" y="1508.5" width="94.1" height="48.5" fill="#85ceb7"/>
<rect x="1003.9" y="1510" width="94.1" height="47" fill="#fda481"/>
<path class="wk" d="M894.1 1508.5V1437.5M894.1 1557V1575.8"/>
<path class="wk" d="M1050.9 1510V1440.8M1050.9 1557V1575.8"/>
<path class="pt" d="M915.5 1415.5l-3 0-1 0-2 0-1 0-4 0-2 0-1 0-5 0-4 0-6 0-1 0-5 0-10 0-4 0 17 5 5 0 7-1 8-2 4 1 2 2 11-1 1 3-1 1-4 1-4 2-7-3-5 0-1-1-3 2-1 2 0-4 0 3-1 1 0 0-8-1-5 2-18 1 2 4 1-1 8-2 0-1 3 2 5 2 1 0 5-2 10 3 0-4 1 4 5-4 1 4 10-1 1 1 2 0 6-1 1-4-7 10-2 0-4-4-1 1-1 3-9 0-2-3-4 1 0 3-7-3 0 2-1 1-5-3-1 3-4-5-5 5-6 6 2-3 2 0 6 3 3-1 2-3 1 3 6 1 2-1 1 1 4-5 1 3 2 2 4-1 3-4 0 4 7-1 4 2 4-1 1 1 2 3-2 0-1 3-2 0-1-1-3-1 0-1-1 0-7 3-1-4-2-1-5 5-3-3-8 0-5 1-4-2 0-1-6 2-1 0-8 8 4-1 3 0 3-1 0 3 2-4 4-1 3 1 1-1 2 3 4 0 6 2 2-5 2 5 5-2 0 2 1-3 1 2 0-2 13 1 0 0 6-2 0 4 0 3-1 0-6 3-1-2-2 2 0-3-1 1 0 2-2-3-9 2-1-1 0-3-1 4-3-2-3 0-3 2-5-3-8 0 0 3-4 1 0 0-12 6 3 0 2-5 1 3 6 2 16-1 5-1 1-3 2 4 1-4 1 4 10 1 8-4 1 0 5 3 0-4-5 11-2 0 0-2-4-1 0 3-7-2-3 0 0 1-3-4-2 4 0-1 0 0-5 1 0 0 0-1-2-2-2 0-1 3-1 0 0-2-2-2-3 2-3 0-1 0-2-2-4 4-4-1-1 2 0 0 0-4-2 0-2 2 0 2 0-1 1 2 4 2 4-2 3 1 1 1 3 2 2 1 7-4 2 2 1 2 3-4 3 3 1-4 2 4 3 1 2 0 0-5 1 3 6-2 0 2 0-2 4-1 2 5 1-4 2 2 1-3 2 7-1 4-5 0-1-2-2 2-2-2-1 1-3 0-1-4-7 0-2 4 0 1-3-1-2-4-2 2-2 2-1-2-1 2-3-3-4 2-1-3-6 4-3-4-5 1 0-1-1 0-1 2-2 9 1-1 0-1 3-2 1-1 9 0 8 0 1 2 8-2 0 0 2 1 5 4 2 0 3-3 0 0 4 3 0-4 1 2 4-2 2 3 1-1 2 2 3-4 1 4 1 2-2 0-1 2-3-3 0 1 0 2-1-3-1 0-1 3-3-1-1 1-1 0-4-1-9-1-4 3-1-4-4 4-2-4 0 5-2 0 0-2-4 0-9-1-2-2-1 1-2 1-4-1 1 10 0-4 1 1 1 2 1-1 3-3 4 4 1-3 0 4 3-2 1 1 3-4 0 2 1 3 1 0 0-1 1-4 3 5 3-3 0 3 3-2 1-2 1 3 2-1 6 1 1-1 2-1 2 0 1-1 2 2 0 1 3 0 2 0 2-2 2 2 0-4 3 5 0-4 0 1-1 9 0 0 0 0-1-5-2 3-1-2-1 1-1 3-2 0-1-2-1-1 0 1-2 0-2-2 0 2-4 2-1-3-1-2 0 0-1 3-1 1-1 1-1-2-2 1 0 0-2-4 0 5-1-2-1-2-2 1-2 2-3 0-1 0 0-4-1 4-1-4 0 0-1 2-1-2-3 2-1 2-3-3-2 4-1-3-1-1-4 2-1 5 1 0 1 0 2 1 0 2 1-5 1 2 1 0 1 1 0 1 4 0 0-2 2-1 0 4 0-1 1-1 0-1 1 1 1-2 1 3 0 1 1-4 1-1 1 1 2 1 6 0 1 1 1 0 0 2 1-2 1 1 0 1 1-5 1 1 2 2 2 1 1-3 0 4 2-3 1 2 2-1 1 1 4-4 4 2 0-1 2 1 0 3 0-1 4-2 0-1 0 7 0-1-1 2-2-2-1 1-1 1-1-1-2 1 0 2-1-3-1-2-1 0 0 1 0 2 0 0 0-1-2-1-2-1-1 4-1-3-1-1-1 1 0 2 0-2-1 3 0 0-2 1-2 0-1 0-1-2-1 0 0 1 0-2-1-1-1 3 0 1-1-2 0 1-1 0-2-4-3 4 0 1-3 0 0-5-1 5 0 0-1-1-2-2-1 3-1-2 0 1-1 0 0 1 0-2 0-3-2 5 0-1-2 0-1-3-1-1-1 0-3 0-1 2 0 2 0-1-1 0 0-2-1 1-1 3-2-2 0 7 1 0 0-1 3-3 2 1 1 4 0 0 0-5 0 5 1 0 2-4 1 3 1-4 3 4 1-4 0 4 0 1 0-4 0-1 0 1 0 0 2 4 0-2 1-3 3 0 0 0 1 4 0-3 1 1 0 1 0 2 0-5 0 2 0 1 1 0 0 2 0-3 1 0 0 1 2-2 0 2 1-2 3-1 0 2 0 2 1-2 0-2 1 4 1-4 0 2 0 1 1 2 1-3 2 3 1-4 1 0 5 1 0 3 0 0 1-4 0 3 1 0 1-1 3 2 0-5 0 4 1-1 4 0 1-2 1 2 2 1 0-4 1 9 0 2-1-4 0 3-1 1-1-3-4 3-1-3 0 1-1-1 0 0 0-2-2 5 0-3 0-1-1-1-1 3 0 1-1-3 0 4 0 0-1-1 0-1-4 1 0-3-1 3 0-4-2 1-1-1 0 3-1-3 0 5 0-4-1 3 0-2 0-1-1 2-1-1 0-2 0 2-4-2-1 2-2 1-1-2 0 2 0-1-1-2-2 4 0-1-1-2-1 4 0-1 0 1-2-5-2 0-2 1 0-1-1 3 0-2 0 4-1-5-2 5 0 0 0-5-1 2 0 3 0-5-2 5 0 0-1-3 0-1-1-1 0 4 0 1 0-2-1 2 0-5-3 3-1 0-1-2 0 1-1-1 0 4 0-4 0 9 0-1 1-1 0 1 0 1 0-3 0 3 0 0 2-4 0 2 1 2 1-2 0-2 1 5 0-3 1 2 0 0 0-1 0 2 1-5 0 1 1 3 0-3 1 4 0-2 0-3 1 1 0-1 2 4 1 1 1-3 1 2 0 0 1-1 0-1 1-1 1 3 0 1 1-2 1 1 1 1 0-2 0-2 1 3 1-4 2 0 1 2 2-2 0 5 2-5 1 4 1-4 3 3 0-2 2 0 0 4 0-5 1 0 0 5 2-2 1-3 1 3 0 2 0-5 1 5 0-2 2 0 1 0 2 2 1-3 0 0 0 0 2 1 0 2 1-5 0 4 0-2 0-2 0 4 4-1 0 1 0-2 1 3 0-5 1 4 0 1 1-1 0-2 1-1 1 9-1-3-1-1-1 4 0 0 0 0-1-2 0 3 0 0 0-4-2 3 0-1 0 0-1-1 0-2 0 0 0 5-1 0 0-1-1-2 0 1 0 1-1 0 0 0-1-2 0 2-2 1-1 0 0-2 0 2-2-4 0 2 0 1 0-3-1-1 0 2 0-2 0 2-1-2-2 5-1-4 0 2 0 0-1 0 0-2-2 3 0 1 0-3-1 3-1 0-1-1-3-2 0 2 0-4-1 0-1 4 0-4-2 0 0 2-1 1 0 0-1 0-1-2 0 3 0-4 0 2-1-1-2 2 0 1-1-4 0 4 0 0 0-1-1 2 0-4-1 1-1 2 0 0 0-3 0 0-1 2 0-1-1 1 0 2-1-1-1-1 0-2-1 2 0 2-1-5 0 5-1-1-2-2-1 0 0 1-1 2 0-5-1 5 0-2-1 0-1-3 0 4 0 0-1-3-1-1 0 2 0 2-1-2-1-2 0 1 0 2 2 5 0 2 3-3 0 3 1 0 1 1 1 0 0-2 1 1 0-1 1-3 0 5 1-4 0 3 1-3 0 0 0 2 2 1 0-3 0 4 1-5 0 0 1 4 2-3 0 1 1-1 0 3 1-2 0 1 0 2 1-1 0 1 1-3 1-1 0 2 0-3 1 3 1 2 1-3 1 3 0-5 0 2 0 2 1-4 1 2 0-1 1-1 1 5 0 0 2 0 1-5 0 2 1 3 0-3 0-1 1 0 0 2 1-2 0 4 1-1 0-4 0 2 0 3 2 0 0 0 1-4 0 1 0-2 1 0 0 4 1-2 0 0 0 2 1-4 1 2 1 1 0-1 0 1 1-1 0-1 0 3 1-1 1 2 0-3 0 2 0-2 0 2 1 1 1-3 0-1 0-1 1 5 1-3 0 2 1 1 0-4 0 2 0-2 1 0 1 3 1 0 0-4 2 2 0 0 0 0 1 0 0 3 1-3 0 2 0-3 0-1 0 2 0 1 1-2 0 3 0 7-1-2 0 2 0-2-1 2-1-2 0-1 0-1 0-1-1 4 0-2 0 1 0-3-1 1 0 1 0 2-1-1 0-1 0-1-1 4-1-3-1 1 0-2 0 2 0 1-1 0-1 1-1-2 0-2 0 3-1 1 0-4 0-1 0 2-1 0 0-1 0 4 0-2-1 1 0-2 0 2-2-1 0 1 0-2-2 1-1 1-1 1 0-5-1 4-2 0 0 0-1 0 0-4-1 0-1 2 0 1-1 2-1-3 0 0-1 1 0-2 0-1-2 4-1-2 0 1 0 1-2-4 0 0-1 5 0-2-2-2 0 1 0 2 0-3-1 1 0-1-1-1 0 5 0-5 0 1-1 4 0-3-1-1 0 4 0-5-1 3-1 2 0 0 0-4-2 1 0-1-1-1 0 5-1 0 0-3 0 0 0 0-1 3-1 0 0 0 0-5 0 2-1-1 0 2 0 2-1-5 0 3 0 1-1-2-1 2 0 0 0-1-1 0 0 2-1-3 0 1 0-1-1 2 0-1-1 1-1 0 0 1-1-3 0-2-1 5 0-2 0-2-1 4 0 0 0 2 0 2 0 0 1-3 0 2 0 2 1-1 0-1 0 0 0 0 1-1 1-1 1 4 0-4 0 3 0-3 1 0 1 3 0 0 1-1 0 0 1-2 0 3 1-1 0-1 0-1 0 4 0-1 0 0 0 2 1-4 0 1 0 3 1-5 0 1 1 3 0-2 0 2 1-2 0-1 1 0 0 3 0-2 1-1 1-1 0 1 0 1 0-2 0 3 0-2 1-1 0 5 1-4 0 0 0 2 1-1 1 0 0 3 0-3 1-2 0 2 0 2 0 0 1-3 0-1 1 2 0-2 1 1 0 3 0-3 1 0 1-1 0 2 0-2 1 2 0 1 0 1 0-3 1 1 0 0 0 3 0-2 0 1 1 1 0-1 1-2 0-2 0 1 0-1 0 1 1 4 0-5 0 5 1-4 0-1 0 0 1 3 0-1 1-1 1-1 0 4 0-3 0 0 0 1 1 2 0-3 1 2 1-1 0 0 0 0 0-1 0 4 1-5 0 5 0-3 0 2 1-3 0 0 0 0 1 3 0-1 1 0 1-2 0 3 0-4 1 2 0-2 1 5 0-3 1 3 1-5 0 4 0-2 1 2 0 1 0 0 0-4 0 3 1 1 0 0 1-2 0-2 0 0 0 4 2-1 0-2 0-1 0-1 1 2 0-2 0 2 1 1 0 2 0 0 1-3 1-1 0 0 0 3 0-3 0 2 1 0 0-1 1 3 0-4 0 2 0-3 0 5 0 0 0-3 2 1 1 7 0-2-2 0 0-1-1 2 0 1 0-1-2 1-1-4 0 1-1 2-1 0-2-2 0 0-1 1-1 1 0-2-2-1-1 3-2-3-1 4-1-1-1-2 0-1-1 1-1-1-1 2 0-2 0 1-2 1 0 0 0 0-1 2 0-1 0 0-1-2-1 1 0-1-1-1-1 2-2 0-1 1-1-2 0 4-1-5-1 0 0 3-2-3 0 4-1-2 0-2 0 5-1-4-2-1 0 0-1 0-2 1 0 3 0-2-1 1-1 1-1-3 0 3-1-1 0-3-1 5 0-2-1-2-2 2-1-2 0 1 0-2-1 0 0 2 0 0-1 3-1 0 0-2-1 0 0 0-1-1 0 1 0 1 0-2 0 3-1-5 0 1-1 2-1 6 2-1 3 1 5 0 5 0 3 0 4 0 1-3 3 0 14 3 0-2 4 1 0-2 2 0 6 0 3 0 2 3 2-2 1 0 2 1"/>
<path class="pt" d="M1078.5 1415.5l-8 0-1 0-10 0-1 0-7 0-2 0-8 0-14 0-2 0-3 4 20-1 3 0 2 1 5-2 10 3 4-3 9 3 4 3-13 0-4 3-4 1 0-4-6-1-4 1-3 4-9 0-5 0-4-2-6 2 10 5 8-3 1 1 1 2 3-1 2-1 2-2 21 5 9-1 1 4-17 0 0-1-6 1-2 3-7-3-3 2 0 1-5-2-3-3-5 1-3 4-3-2-1 0-2-1-2 0 5 9 3 0 4 0 10-2 1-1 8 3 4 0 4-3 0 2 5-2 1-1 6 1 2 2 4-3 1-1 1 3 1 0-5 3-5 4-2-2-1 1-1-2-2-1-3 1-6 0 0-1-1 5 0 0-8-5-3 3-9-1-1-2-6 0-1 4 0 1-2-4-2 1 0-2-2 4 3 2 2 1 2 4 2-2 4 0 2 2 14-1 4 1 0-4 3 2 3 1 1 1 1-1 5-3 3 1 4 0 7 8-5-4-2 2-6 3 0-5-2 0-1 2 0 1-2 1-7-4-2 5-1-3-1 3-8-3-2 1-3 0-1 0-7 0-3 1-1-3-2 4 0-4-1 0-3 7 1 0 1 3 5 0 1-2 2-3 0 3 0-3 1 0 1 4 2-3 10 3 1 1 1-1 1-1 2 0 2 2 4-5 5 5 5-3 0-2 4 4 1-3 0 4 1-3 3 2 1-1 1 1 1 1 0-5 2 1 0 2 1 0 1 5-3-1-2 0 0 0-3 0-1 4-2 0-2-5-1 0 0 0-2 1-14 1-3 1 0-3-1 2-2 2-2-4-2 3-1 2-2-1-5 0-2-2-3 0-4 1-3 1 3 2 17 2 1 3 2-4 4 0 3 0 1 2 18-2 1 2 0 0 1 1 3-1 1-2 2 2 3 2 1-3 0 2-1 7 0-5-3 3-3 0-2-2 0-1-2 1-8 2-1 1-2 0-5-4 0 5-3-3-1 3-2 0-2 0-2 0-3-4 0 3-3 0-3 0-1-2-1 3 0-1-2-1 0 0-1-2-5 1-4 1-2 5 1-1 6 4 6-2 7 2 1-4 3 0 8 4 2-4 6 3 6-2 1-1 11 0 3 3 0 6-4 1 0 0-3 0 0-5-1 4-2-2-9 2-3 1-1-4-2 1-2 0 0 0-1 2-4 0-3-1-2 2-6-3-1-2-8 4-3 1-1 0-1-3 0 2-1 5 0 1 0-3 1 1 2 1 7 2 1-2 1-2 4 4 3-3 4 1 0-1 0-1 4 0 2-1 1 4 2 1 3-2 4-1 0 3 2-2 0 1 0-4 1 3 0 1 0-1 9-3 4 2 2-1 1 2 0-3-1 11 0-3-1-1-3 1-4 1 0-2 0 3-1 0-3 0-2-1 0-1-4 0 0 3 0-3-1 0-3 0-1 1-3-2-3 2 0 0-1 2-4-1-1 1-3-3 0 0 0-2-3 1-1 1-6 2-1-3-6-1-1 4-2 1-2 3 0 1 0-1 1 0 0 3 2-3 0 1 0 2 1-4 0 2 2 0 3-3 0 1 0-1 0 1 1 0 1 2 0 0 2-2 4 4 4-3 0 0 0 2 1 0 2 0 2-1 1-1 1 0 1 1 0-2 1 1 0-1 4 1 0 1 3-3 0 4 0-2 1 2 1-2 2 0 4-1 2-1 2 2 0 1 0-1 1-1 1 0 1 2 1-3 1 5 1-2 1 2 2 0 0-5 4 4-1 2 0 5-1-5 0 0-1 5-1-4 0 0-1 4 0 0 0-3-1 2-1-2 0-1 0 0 0 0-1 0 0-1 0 0-1 4-1-2-1-1-2 0-1 2-2-1-2 3-2-5 0 4-1-4-2 4-1-2-1 3 0-3 0-1 0 4-1-2 0 0-1-3-1 5 0-2-2-2-1 2 0 0 0-1-2 2 0-2 0 3-1-5 0 0 0 4-2 0 0-1-2 2 0-4-1 2 0-1-1 1 0-1-2 2-1 1-1-1-2-1-1 0-1 0 0 0-1-1-1-1 0 3-1-2 0-2-1 1 0 3-1-4-1 2 0-2-1 5-1-1-3-3 0 3-1 0 0-2-1 0-1 3 0 5 0-3 1 4 0 0 0-4 1 3 0-3 0 2 1 1 1 0 0 1 0 0 1-5 1 4 0 1 1-4 1 0 1-1 2 1 0 4 0-4 1 4 1-2 1 2 0-5 2 0 2 1 0-1 1 3 1 0 1-3 2 3 0-2 0 0 0-1 1 3 0-1 0-2 3 5 3-5 2 3 0 0 1 2 1-5 3 5 0-5 0 5 0-1 2-3 0 0 0 2 1 1 0-1 0-1 0 1 1-1 1 1 1-3 2 2 0-2 0 0 1 5 0-4 1 0 0 4 0-1 1-1 1 1 0 1 0-1 0 1 1-2 0 1 0-4 0 3 2-1 0-2 0 5 2-4 0 2 2-3 0 4 1-3 0 2 3 1 0-1 0-1 1 0 1 3 0 2 0-1-2 3-2-1-1 1-1-1 0-2 0 0-1 4 0-3 0 0 0 0-1 1 0-2-1 4-3-2-1-1 0 3 0-2 0 0-1-1-1 1 0-1-3 4-1-5 0 1 0 0-1 2 0 0-2 1 0-4-1 0-3 0-1 0 0 2 0 0-1 3-1-1 0-1-1 1 0-3 0 4-1 0 0-1 0-2-1-2-1 4 0 1-1-2 0 0-1-3 0 4-1 1-1-5-1 4-1-1 0-1 0 1 0-1-2-2 0 3-1 0 0 1 0 0 0 1-2-3-1 1-1 1 0 0-1-1-2-2-1 1-1-2-1 4 0-3 0 4-1-5 0 5-1-4-1 0 0 3-2 1-1 0 0-2-1 0-1 1 0 0-1-4-1 1 0 3 0 0 0 4 0 1 0-1 0-2 1 5 0-4 1 1 1 1 1 0 0 0 1-1 0 1 1 0 0-1 1 0 1 3 0-3 1 3 0-4 0 4 1-5 1 4 0-2 0 1 1-3 0 2 1 1 0-2 1 2 1-2 1 3 1 1 0-2 0-3 0 5 1-1 0-4 2 1 1 1 0 0 1 1 0 0 1-3 0 3 0 1 1-1 0-1 0 0 1 0 0-1 0 3 1 0 1-2 1 2 1 1 0-4 0 0 4 1 1 2 2-1 3 1 0 0 0-3 0 3 0-1 1 2 1-1 0-1 0-2 2 0 0-1 0 3 2 2 1-4 0 2 1-1 1 0 1 0 0 2 1 1 1-5 0 0 0 5 1-4 1 0 3 0 2 4 0-3 0 2 0 0 1 0 1 0 0-4 0 2 2 2 0 4 0 0-1-2 0 1 0 3 0-2-1-2 0 1 0 2-1 0 0 2 0-5 0 1 0 0 0 0-1 3 0-4-1 5-1-5-1 3 0-2-1 0-1 2-1 0-1 1 0-1 0-1-1-1 0 0 0 3 0 0-1 0 0-2 0 0 0 0 0 2 0-3-1 1 0-2 0 5-1-5 0 3-1 0 0-3 0 4-1 0 0-1-1 2 0-4 0 2 0-3-2 1-1 1 0 1 0 0 0-1 0 2-3-1 0-3 0 1 0 4 0-2-1-1-1 0-1 2-2-3-1 3 0-1 0 2-1-1 0-3-1 0 0 4-1-4 0 0-4 0 0 3-2-4-1 1 0 2-1-2 0 3 0 0-1-3-1-1 0 3-2-3-1 5 0-2-2 1 0 1-1-4 0 2 0-1 0 1 0-2-1 3 0-4-1 5-1 0 0-5-1 1-1-1-1 0-1 1 0 2 0 0-1-1-1 2-1-4-1 5 0-4 0 1 0 2 0-3-1 3-1 0 0 4 1-2 0 2 0-1 1 0 0 4 1-5 1 0 4 5 0-4 1 0 0-1 1 3 1 2 1 0 0 0 1-2 0-3 2 4 0 0 0 1 1 0 2-2 0 0 2-2 0 4 0-5 1 3 0-3 0 3 0-2 0 1 1 0 1 1 1 1 0-2 1 0 1-1 0 4 0-3 1 2 0 1 0-2 0-2 0 0 1 2 0 2 0 0 2-1 1-1 0-1 0-1 1 3 0-3 1 1 1 3 1-2 0-3 0 4 0-4 2 0 0 3 2 2 0-2 1 0 2 2 2-5 1 1 0 1 1 2 0 1 0-5 1 2 0 3 1-5 0 3 0-3 0 4 1-2 0 1 2-1 0-1 1 1 2-2 0 2 0 2 0-1 1 0 0 1 1-3 0 1 0 1 0-3 1 3 2-2 0 0 0 4 0-5 0 5 1-1 0 1 0-3 1 2 0-2 1 1 0-1 0 8 0-2-1-1 0 3-1-3 0 3-1-1 0 0-1-3-1 4-1-3 0 2 0 2-1-5 0 1 0 4-1-3 0-1 0 3-1-2 0 3-1-4-2 4 0-5 0 5 0-1-1 0 0-1 0-2-1 3 0 0-1 0-1 0-1-4 0 5 0-1-1-2 0 1 0 1 0 0 0 0-2-4-1 1 0 4-1 0 0-5 0 3-1-1 0 2 0-1-1 1 0-4-1 4 0-3-1 1 0-1 0 2-1 1 0 0 0-4 0 0 0 0 0 2-1 1 0-3-1 5 0-5 0 0-2 5 0-4-1-1 0 3 0 0 0 1 0 1-1 0 0-2 0-3 0 3-1-3 0 5 0-5-1 3 0 2 0-5 0 1 0 4-1-2 0-1-1-2 0 5-1 0 0-3 0 2-1 0 0-1-1-2 0-1 0 0-1 5 0 0 0-3-1-1 0 2 0-2-1 2 0 1 0-4 0 5 0-5-1 4 0-2-1 3 0-5 0 2 0 2-1 1-1-4 0 4 0-1-1-4 0 2 0 3 0 0-1-4 0 4-1 0 0 0-1 0-1-2 0 1-1 1 0-1 0-3-1 3-1-3 0 1-1 3 0-5-1 1-2 4 0-2-1-2 0 3 0-4 0 4-1-3-1-1 0 9 0 0 1 1 0-4 0 1 0 3 0 1 1-1 0 1 0-1 0 1 0-2 0-3 1 5 0-4 0 4 0-1 1-3 0 0 1 2 0 1 0-3 0 0 1 2 0 2 0-4 0-1 0 2 1-2 0 3 1 0 0-2 0 2 0-1 1 1 0-2 0 0 1 1 1-2 0 4 0 0 1-4 0 5 0-2 1-1 0-2 0 2 2-2 0 5 0-5 0 4 0-4 0 2 1 2 0 1 1-2 0-2 1-1 0 0 1 3 0 1 0 0 0-2 0 0 0-1 1 1 0-1 0-1 0 2 1 2 0-2 0-2 1 1 0-1 1 5 0-5 1 4 0-1 0 2 0 0 0-5 0 3 1 0 0-3 0 0 0 5 1-3 0-2 0 1 0 2 0-3 1 4 0-2 0 2 2-2 0-1 0-1 0 1 0 2 0-1 0 2 1 1 0-3 0-2 0 3 1-2 0 3 0-1 0-3 0 1 0 1 1-2 0 2 0-1 0-1 0 1 0-1 2 5 0-3 0-1 1-1 0 4 1-2 0 2 0-1 0-3 0 3 0 2 0-4 0 2 0 2 1 0 0-4 0 1 1-1 1 3 0 0 0 1 0-2 0-1 0-2 1 3 0-2 0 0 0 1 0-1 0 4 1 0 0-2 0 2 1 0 1 0 0-5 2 2 1-1 0 0 0 3 2 1 0-2 1-2 0 3 1-4 1 0 0 4 1-3 0 1 1 1 1-2 0 1 1 0 0 2 0-4 1 5 1-5 0 0 1 2 1-2 0 2 0-1 1 1 0 0 0-2 1 1 0 3 1-4 0 3 0 1 0-1 0-3 0 5 0-5 0 3-2 5 0-1-1 4-2-5-2 1 0 4-2-5 0 0-1 2 0 3 0-4-1 1-1-2-1 2 0-2-1 3 0 1-2-4-1 2-1 2-1-4-1 2-3-1-1-1-1 0 0 1-1-1 0 3-5 0-2 0-1 0-1-3 0 0 0 1-2 4-1 0-1-5-3 3-1-2-2 2 0 0-3 0 0-1 0 0-1-2-1 1-2 2-1-3 0 1 0 0 0-1-1 3 0 0-3-2-1 0-1 2-3-3 0 10 1-4 10 2 1-2 3 3 4-1 2 0 3-1 1 0 4 2 2-1 8-1 4-1 1 0 1 1 2-1 1 1 7 1 1 0 1-1 1 2 4 0"/>
<rect x="847.6" y="1509.1" width="92.9" height="47.3" fill="#85ceb7" fill-opacity="0.3"/>
<rect class="bx" x="847" y="1508.5" width="94.1" height="48.5" fill="none"/>
<path class="md" d="M847 1537.5H941.1"/>
<rect x="1004.5" y="1510.6" width="92.9" height="45.8" fill="#fda481" fill-opacity="0.3"/>
<rect class="bx" x="1003.9" y="1510" width="94.1" height="47" fill="none"/>
<path class="md" d="M1003.9 1537.3H1098"/>
<rect class="pb" x="800" y="1399" width="345" height="185.5"/>
<text class="t yl" x="795.4" y="1581.5">0</text>
<text class="t yl" x="795.4" y="1527.1">10</text>
<text class="t yl" x="795.4" y="1472.7">20</text>
<text class="t yl" x="795.4" y="1418.3">30</text>
<path class="tk" d="M797.4 1578.5h2.6M797.4 1524.1h2.6M797.4 1469.7h2.6M797.4 1415.3h2.6M894.1 1584.5v2.6M1050.9 1584.5v2.6"/>
<text class="t xl" transform="translate(893.9 1589.3) rotate(-45)" dy="6.2">Smoking</text>
<text class="t xl" transform="translate(1050.7 1589.3) rotate(-45)" dy="6.2">Non~smoking</text>
<text class="t ti" x="800" y="1390.8">Hg by smoking</text>
<text class="t at" x="972.5" y="1640.8">smoking</text>
<text class="t at" transform="translate(780.8 1491.8) rotate(-90)">Hg concentration (μg/L)</text>
<text class="t sg" x="891.4" y="1406.4">ns</text>
</g>
<g>
<path class="gn" d="M1182.8 1553.6H1528.5"/>
<path class="gn" d="M1182.8 1499.3H1528.5"/>
<path class="gn" d="M1182.8 1445H1528.5"/>
<path class="gm" d="M1182.8 1580.8H1528.5"/>
<path class="gm" d="M1182.8 1526.5H1528.5"/>
<path class="gm" d="M1182.8 1472.1H1528.5"/>
<path class="gm" d="M1182.8 1417.8H1528.5"/>
<path class="gm" d="M1277.1 1401.3V1586.5"/>
<path class="gm" d="M1434.2 1401.3V1586.5"/>
<rect x="1229.9" y="1516.5" width="94.3" height="46.3" fill="#85ceb7"/>
<rect x="1387.1" y="1515.8" width="94.3" height="45.2" fill="#fda481"/>
<path class="wk" d="M1277.1 1516.5V1447M1277.1 1562.8V1578.1"/>
<path class="wk" d="M1434.2 1515.8V1447M1434.2 1561V1578.1"/>
<path class="pt" d="M1246.5 1418.5l1 1 1-1 5 3 7-3 1 0 11 0 6 0 7 1 0-1 1 2 8-2 1 0 7 0 0 2 1-2 4 9-30-4-12 3-2 0-1-3-13 0 0 7 2 1 4-2 7 0 12 2 6 2 4-4 1 0 23 6-13 2-2 1-8-1-2-1-2 0-6-2-18 5-3 0-4-5-3 4 3 6 2-2 1 2 2 1 0-3 3 2 2-3 2 1 0-1 2 4 1-1 1-3 1 1 7 0 1 0 1-2 13 2 2-1 4 4 1 0 3-5 0 4 3-3 0 4 3 0 1-5-12 6-2 4-4-1-2-3-5 2-8 2-1-1-5 1-1-4 0 5-2-3-3-2-1 4-7-3-2 2-5-3 3 6 3 3 2 2 0 0 9-2 0-3 2 4 1 1 0-4 1 1 1-1 1-1 2 3 1 1 11-1 1 0 1 1 0 0 3-4 2 0 1 1 4 0 2 3 9-3 2 8-2-3-5 1-3 2-3-3-9 1-11-1-5 4-1-2-1 1-2-2-2 1-2 1-8-3 0 4-2 0-6-1 2 5 0-1 3 1 9 0 2 1 3 0 5-3 3 1 2 3 2-2 0 0 3 2 3 0 5 0 1-4 1 1 4-1 1 1 0 0 1 3 3-3 4 2 1-1 1 3 3 6-1-2-1-2 0 3-1-4-2 4-1-1-2 1-2 1-4-2-1 1-2-4-1 0-3 5 0-5-2 2-1 3-4 0-2-5-1 0-4 0-5 5-1-5-3 1-6-1-4 1-2 3 0-2-1-2-1 0 0 2-4 9 2-2 1 1 5 0 3-3 4 2 3-1 2 0 1-2 0 3 2 2 2-2 5-3 3 3 7-3 5 5 3-2 0 1 6 0 1-1 3-2 1-1 1 1 1 9-2-1-1 0-1-1-1-2-1 2-8-1-7 4-1 0 0 0-3-5-3 3-1-1-4 2-1 0-1 0-3-1 0 2-11-5-1 5-1-2-3-3-7 4 3 2 13 0 0 1 0 3 17-4 3 4 10-3 4 0 1 3 4 1 7 6-3-4 0 4-3-3-3 0 0 1-3 2-2-3 0-2 0 2-3 0-5 1 0-1-2 2-3 0-1-1-1 0-13 1-1 0-3 0-3 0 0 0-2 0-2-4-8 2 0 0-1 3 1 3 1 0 2 2 0 0 7-3 6 2 2 1 4-1 1 2 1-4 0 1 3-1 0 2 2-3 0 4 0 0 2 1 2-2 4-3 0 3 2-3 10 2 1 1 1-1 1-1 2 2 1-2 4 4 0-5 1 1 0 0 1-1-1 7-1 4 0-2-4 0 0 1-1-2-8-2-1 4-2-4-1 3-2 2-2 0-4-5 0 1-3 0-2 3 0 0-2-2-1 0-4 1-10 2-2-5-2 5-1-1-1-2-5 0-2 3 2 4 1-3 0 2 2 3 2-3 0 1 3 0 1-2 1 4 0-5 4 1 6 3 2 0 2 0 2-4 3 4 1-1 1-2 1 0 0 0 4 4 0-3 1 3 2-3 1 1 5-2 0 4 8-1 0-4 6 1 1 8-2-2 0 3-1 1-2 0-2-4-2 2-1-2-1 3 0-3-3 0-3 1-2 2 0 1-3 0-1-5-1 4 0-3 0 2-1 2-2-1-2-4 0 1-1 1 0-1-4 3-1 0-1 0-1-4 0 5-2-1 0-3-1 1 0 3-3-5-2 0 0 4-3-2-3-1-4 0 0 0-4-1 0 5 0-5-1 4 0 4 0-1 4 1 0-1 0 3 2-1 1-3 3 4 1-3 0 4 2-4 0 4 1 0 0-3 1 2 1 0 1-3 1 2 1 0 0-1 0 0 1 0 0 3 1-2 0-1 1 1 1 2 0-2 3-1 3 2 3-2 0 2 3-2 0 0 0 3 1-5 2 1 0-1 0 1 1 4 2-4 1 4 1-5 0 2 1-2 1 5 0-3 3-1 1 3 2-1 0 2 1-2 0-1 1-2 1 3 1-2 1 0 1 1 0 1 0 2 2-1 1-4 0 10-1-4-1 0-1 1-2 2-2 2-2-5 0 2 0 3-3 0 0-4 0 1-2 1 0-1 0 0 0 0-1 1 0-3-1 1-3 4 0-2-1-2-1 3 0-1 0-3 0 4-1 0 0-2-2-2-2 4-2-3 0 1 0-2 0 0 0 3 0 0-1-1-2 2-1-4 0 1-2 4-3-1 0 1 0-1-1-3-1 1-1 0-6 3 0-3-1 2-1 0 0-1-3 2-1-3-3 2-1-3 0-1 0 1 0 3-1-4 0 4 0 0-2 1-2-5 0 6 0 4 3 0 1-1 0-1 0 3 2-2 0-3 1 2 0 2 1 1 0-2 0 0 1 1 0 0 0-2 1 3 1 0 0-5 0 4 0-2 1-1 0-1 0 3 1 2 0-2 0 2 0 0 1-2 0 0 0-1 0-2 1 1 2 2 2 0 1 0 1 2 1-2 0 1 1-4 1 1 0 0 2 3 1 1 1-3 0 3 0-2 1 0 0-2 0 3 1 1 0 0 2-3 0 3 1-4 1 1 0 3 1-4 0 2 1 0 1-2 0 4 1-1 0-4 2 0 0 1 0 2 1 1 2-1 1-3 1 0 0 5 1-3 0-1 0 2 0-2 2 1 0 0 0 0 1 1 0 0 0 0 2-2 0 2 1-2 0 1 0 0 0 2 0-3 1 3 1-1 0 2 2 0 0-5 1 5 0-3 0 1 0 0 1 2 2 0 1 1 0 5 0-5-2 5 0-1 0-2 0-2-1 2-1 2-1-3 0 3 0-4 0 2 0 0-1 2 0-4 0 3-2-1-1 0 0 2-1 1 0-4-1 1 0-1 0-1-1 2-1 3 0-1 0-3-1 1-1 1 0 2-1-2-1 2 0-5-1 5 0 0 0-4-1 1 0 2-1-2-1-2 0 2 0 3-2-4-1 2 0-2 0 2 0-1-2 2 0-1 0 0-2 2 0-1 0-4-1 5 0-2 0-2-1 4-1-2-1 0-5-1 0 1-1 2-1 0 0-2-2 2 0-1-1-1 0 0-1 1-1-3 0-1-2 4 0-3 0 0 0 2-1 2-1-4-2 4-2-4-1 2 0-1 0 2-2 0 0-4-2 1 0-1-1 2-1 1 0 1 0 1-1-4-2 0 0 3 2 4 0 1 1 1 0-3 1 1 0-1 1 4 0-2 0-2 1 4 0 0 2-5 1 1 1-1 1 5 1-3 0 0 0-2 1 2 0-1 1 0 1 4 0-1 3-4 1 5 0-3 0 1 0 2 1-3 1 0 0 3 0-4 1 2 0 0 1 2 1-5 0 5 1 0 1-1 0 0 0 1 1-4 0 3 2 0 2-2 0 0 1 2 1-4 1 1 0 0 0 4 0 0 1-3 1-1 1 4 0-4 1 4 1-3 0-1 0-1 0 2 1 0 1-2 0 4 0 0 0 0 0-1 1-2 0-1 1 4 1-4 0 1 1-1 0 3 0-1 0 2 1 0 1 0 0 0 0-4 1 2 1-1 1 1 1 2 0-3 0 1 1-1 1 4 1 0 1 0 1-4 0 2 0-2 1 2 1-2 0 0 0 1 1 2 1-3 1 0 0 2 1 0 0-1-1 5-1 0-1-1 0 4 0 1-1-4 0 4-1-4-1 0 0 1-1-2-1 2-2 2-1 1-1 0 0-4 0 2-1-2 0 2 0-2 0 0 0-1-2 3-1-1-1 3 0-3 0 3 0-4 0 0 0 3 0 0-1 0-1-1-1 0 0-3 0 4-1-2 0 2-1-3 0 4 0-4 0-1 0 2-1 2 0 0-1 0 0-4-1 4 0 1 0-5 0 2-1 1-1 0 0 0 0 2-1-4-1 2-1 1 0-4-1 1-1 0 0 4-1-2-1-3-1 1-2 0-1 0-1 1 0-1 0 1-1-1-1 0 0-1-1 3-1-1-1-1 0 3 0-1-1-2-2 3-1-4-1 1 0 4 0-5 0 3-1-1-1-1-1 0 0 1-1-2 0 1-2 4-1 0 0-1 0 1 0-4-1 0-1 0 0 0-1 4 0-3 0-1-1 1-1-2 0 0-1 5 0 6 1-2 0 2 0-5 0 4 0-1 1-2 0-1 1 4 0-4 0 1 1 4 1-5 0 1 1 3 1-1 0 1 0 1 1-2 0 1 1 1 0-3 0 2 0-3 1-1 0 4 0 1 0 0 1-5 1 1 0 0 0 4 1-1 0 0 1-3 0 3 0 0 0 1 0-2 1-3 0 0 0 0 0 1 0 2 1 2 0-1 0-2 2 3 0-5 0 0 0 3 0-3 1 5 0-2 1 0 1-3 1 5 0 0 0 0 0-5 1 5 0-1 0 1 0-1 1-2 0-2 1 5 0-2 1-2 0 3 0-3 1 2 0-3 0 1 1 0 0 1 1 0 1-2 1 3 1 2 0 0 0-4 1 4 0-4 1 2 0 2 1-1 0 0 0 0 2-4 0 2 1 2 0-2 1 3 0 0 1-2 0 2 0 0 0-5 0 5 1-1 1 0 0-4 0 4 0-3 0 3 1-3 0 3 1 1 0-1 0 1 3 0 0-5 0 3 0 0 0-1 1 1 0-1 1 3 0-3 0 3 0 0 0-1 0-4 1 4 0-1 0-3 0 5 1-2 0-1 0 2 0-4 0 3 1 2 1-3 0-2 0 2 0 0 1 0 0-2 0 0 0 4 0-2 1 2 0 0 0-1 1 2 0 0 0-5 1 2 0 2 0 1 1-3 0-2 0 5 1-5 0 1 0-1 1 3 0-1 0 3 0-2 1 2 0 0 1 0-1 6 0-4-1 2 0-1 0 3 0-5 0 4-1-3 0-1 0 1 0 2-1-2 0 1 0-1 0 4 0-3 0-2-1 0 0 2-1 3 0-3 0-1 0 3-1-4 0 1 0 4 0-4-1 4 0-2 0-3-1 4 0-3 0-1 0 1-1 4 0-5 0 0 0 2-1 1 0 0 0-1 0 0-1 0 0 0 0-1 0 1 0 2 0-3 0 2 0-1-1 0 0-1 0 0-1 2 0 0-1-2 0 2 0-1-1 0 0-2 0 0 0 2-1-1 0 2 0 1 0-2 0 0 0 3-1-2-1 2 0 0 0-5-1 1 0 1 0-2-1 2 0-1 0 2 0 1 0-4-1 0 0 0-1 1 0 0 0 1 0-2 0 4-1-3 0 0 0 4 0-3 0 0-1-2 0 0 0 4 0-3-1 2 0-2 0 3 0-1-1 1 0-2 0 1-1-3-1 2 0 3 0-3-1 0-1-2 0 1 0 0 0-1 0 0 0 2 0-2-1 3 0 1-1-4 0 2 0 0 0 2 0-2-1 1 0-2 0 0 0 4 0-4-1-1 0 3-1-2 0 0-1 2 0-1 0 0-1 3 0-5 0 1-1 1 0 2 0-3 0 3 0 0-1-3 0 4-1-5 0 5 0-1-1-3 0-1 0 0 0 3 0 1-2-1 0-2-1 3 0-2 0 0 0-2-1 0 0 3 0 1-1 0 0-3 0-1 0 4-1-2 0-2 0 5 0-3 0 1-1-3 0 0-1 0 0 5 0-4 0 0-1 3 0-4 0 1 0 1 0-2 0 4-1-4 0 0 0 0 0 0 0 1-1 4 0 0-1-3 0 1 0-3 0 0 0 0 0 2 0-1-1-1 0 3 0 0-1-1 0 1 0 0 0-3 0 2-1 1 0-2 0 4 0-2 0 0-1-2 0 0 0 2-1-3-1 2 0 3 0-1 0-1-1-1 0-2 0 4 0-2 0-1 0 1-1 1 0 3 0 0 3 1 2-1 0 0 1 0 1 3 0-3 4 0 0 0 0 0 2 2 2-2 1 5 2-5 1 3 2-3 0 0 1 4 1 1 0 0 0 0 2-2 1-3 0 4 0 1 2-5 0 1 1 0 1 1 1 0 0 0 1-2 0 4 1-4 0 1 0 0 3 0 0 1 0 3 0-4 0 3 1-2 0 3 1-2 1 0 0-2 1 2 0-3 2 5 0-5 1 5 1-5 1 2 0-1 2 1 1 0 1-2 1 1 2 0 1 3 0-3 1 3 1-1 0 2 0-1 1-2 0 2 1-3 1 1 1 3 2-2 1 0 0-3-1 6-14 0-42 0"/>
<path class="pt" d="M1403.5 1418.5l8 0 4 0 6 0 3 1 8-1 5 0 1 0 12 0 10 0 5 0-9 7-6 1-2-1 0-2-2 4-8-1-20-4-13 8 1 0 6 1 14 2 3 0 0-4 7 0 5 1 13-1 6 2 2 1 3-4 0 10-15-1-2 0-27 2-5-3-1 1-7-2-1-1 0 3-3 5 1 0 13 0 5 0 7-2 4 5 7-4 2 2 1 0 0-1 9 3 8-1 0-4 1 3 3 5-1 2-1-2-6 3-2 0-5-1-2 1-1-2 0 2-1-5-3 3 0-3-2 5 0-1 0-2-1 1-5-1-3 0-5 0 0 3 0 0-7 0-1-5-6 3-1 0-1-2-3 1 4 7 0-2 4-1 0 2 1 2 2-2 3 2 2-2 1 2 5 1 2-1 1 1 1-4 1 3 4 1 1-3 4 1 5-1 1 0 1-2 3 0 9 10-2-4-9 5-4-5-1 4-1 1-2-5-2 5-1-2-2-3 0 0-5 4-4-1-3-3-5 3-1 2-5-2-9 1 4 4 2 1 0 1 2-1 6 1 0 1 5-1 1-3 6 4 0-5 2 2 8 1 8 2 1-1 1-2 3 0 1-1 7 1 1 3 0 1-1 0-1 2-2 0-10-1-2 3-2 0-6 1-1-4-2-1 0 1-1 0-1 0-10 4-1-1-3-2-5 3-1-2-7-2-4 6 4 0 1 2 0-1 1 3 7-3 3-1 0 0 2 0 6 3 5-1 6 0 10-3 3 2 3 2 9-2 0 0-9 9-3-4-3 1-3-2 0 4-2 0-2-2-12 1-1 2-2 0-1-5 0 3-3-3-8 1-1 4-2-1-4-2 0-2-1 0-1 4-2 1-2 3 1-1 1 3 2-3 1 1 1-2 5 4 4-4 0 4 2-3 2 0 8 4 1-1 1 0 1-1 0 2 1-4 2 0 0-1 1 5 8 0 4-4 4 0 0 2 2 1 9-3 0 0 0-1 1 3-3 6 0 2-5-1-1-2-5 0-6-1-4 3-3-2-5 1-4-1-1 1-3-2 0 4 0-2-1-2-4 1-6-1-3 0-3 0-2-1-2 8 2 3 2-5 4 2 1 2 4-3 0 0 1-1 3 0 2 5 1 0 0-4 3-1 0 4 2-4 1 5 2-4 0-1 2 4 5-2 5-2 4 5 0-2 6 1 0-2 5 2 0-4 7 5-3 5-1-4-3 3 0 1-2 0 0-3-1-1-1 5-2-4-1 1-1 2-2-4 0 1-4-1-2 5-5-5-2 0-1 4 0-4-2 3-6-2-2 2-2 1-2-4 0 2-3 2-4-4-3 5-4-5-1 5-2-5-1 11 1-5 1 4 1 0 0 0 1-2 1 2 3 1 2-5 0 1 2 2 0 1 2 1 2-5 3 3 1 2 3-1 1-4 1 2 0 3 3 0 0-1 2-4 3 5 1 0 0-2 1 0 0 0 1 1 2-3 1 0 1 2 0-2 1 1 0 2 2 1 2-3 6 1 0 1 4-3 1 1 6 7 0-3-1 4-3-3-1 0-1-1-1 4 0 0 0-3-3-1-3 3 0-1 0-1 0 4-2-4-2-1-1 5 0-3 0 2-1-2 0-1-4 1-1-2-1 5-1-5-2 1-2-1-1 4 0-3 0 3-1-1-1-2-3 1-1 2-2-3-2 0-1 0 0 1-1 0-1-2-1 1-2 4-2 0 0-3 0 0-3-2 0 5 0 0-3 0-1-5-1 3-5-3 0 7 0 4 1-5 0 5 1 0 1-1 0 0 1 0 0 1 0-3 1 2 1 1 2-5 0 4 0-4 1 3 0-1 2 1 0 1 2 0 0-3 3 3 1 1 0-4 1-1 1 2 1 1 0-1 0 1 2-2 2 3 0 1 0-3 0 0 0 0 4-2 0 4 1-4 0 2 1 1 1 1 1 1 0-2 1 0 2 2 1-1 1-1 2 2 0-3 3 3 0-4 1 2 1-3 3 2 0 0 1 1 0-3 1 0 0 3 1 0 1-1 2 3 2-1 0-3 2 4 2 0 0-4 0-1 1 0 1 0 0 1 0 2 0 1 2 5-1-3-1 3 0-1-1 0 0 1 0-2-1-1 0 2 0 2 0-1 0 1-1-2 0 3-2-2 0-3 0 1-1-1 0 0 0 2 0-1-1 0 0 4-3-4 0-1 0 1-1 4 0-3-1 2 0-1-1 0 0 0-1-2-1-1 0 4-2-4 0 2 0-2-2 4 0-4-1 2-1 1 0 0-1-1 0 0-2-1 0 1-1-1-2 3-1-2 0-1-1-1 0 1 0 3-1-3 0-1 0 4 0 0 0-2-1-2 0 3-1 0 0-2-1-1 0 3-1-3 0 4-1-1-1 1 0-4-1 5 0-3-1-2 0 3-1 0 0-1-1 2-3-1 0 2-1 0 0 0-1-2 0-1 0 0-1-2-1 5 0-4-1 4 0 0-1-3-1 1-1 2 0-4-1 2-1 2-1-2 0-3-1 3 0-3-1 0 0 3 0 2 0-2-1-1 0 1-1 2 0-2 0 0-1 1-2-2 0-1 0 10 0 0 0-5 0 1 2 2 0-3 1 4 0-4 0 2 0 1 1-2 0 1 1 2 3-2 1-1 2 3 0 0 0-4 1 5 1-5 2 1 0 3 0-3 0 1 0 3 0 0 1 0 2-5 0 5 1-4 0 0 0 3 2 1 0-5 1 0 0 2 1 1 0 2 1-4 0 3 0-3 0 4 0-1 1 0 0-3 1 4 0-4 0-1 0 4 0 1 0 0 1-1 0-3 0 1 1 2 0-3 0 4 1-2 0-3 0 0 2 4 0-2 1-1 1 2 1-2 1 0 2 0 0-1 1 5 0-5 0 2 1-2 1 3 0-1 0-2 0 2 1 3 1-5 1 2 1 0 1-2 0 4 2-4 0 5 2-5 2 2 1 0 0-1 1 1 1 2 1-3 0 4 1-2 0 0 1 1 0-4 0 3 1 2 0-2 1-2 0 2 0 0 2-2 0 0 0 2 1 0 0 2 0 4 0-1 0 2-2 0-1-1-1-2 0-1 0 4-1 0 0-3 0 3-1 0 0 1-1-1 0-2-2 3-1-2-1-3-1 5 0 0 0 0 0-2-1 2 0-5 0 2-1-1-1 3 0 0-1-4 0 2-1-1-1 3-1-1 0-2-1 1-1 0 0 3 0-4 0 2-1 1 0 1 0-1-2-1-1 1 0-4-1 5 0-1 0 1-1-1 0-3-1 1 0 1-1 0-1 0-1 1 0 0 0-1-1-3 0 0-1 3 0 0-1-2 0-1-1 5-1-2 0-2-2 1-2 0 0-2-1 5 0-2 0 0 0-1-1 3-1-2 0 0-1 2 0-3 0-1-1 2 0-3 0 1 0 2 0-1-1 3-1-4 0 2-1-1-1 1 0 1-1-1-1 2-1 0-1 0-1-5 0 1-2 2-1-3 0 5-1-4 0 4 0-4 0 3 0 1-1-1-1 0-1 0-1-2 0-1 0 10 1 0 1-2 1-2 0 0 0-1 0 5 1 0 0-5 1 4 0 0 1-1 0 1 0 0 0 0 1-1 0 0 0-1 2 1 2-2 0 1 1 2 0 0 1-3 1 3 0-4 0 2 0-1 1 4 0-5 1 1 0 2 1-3 0 3 1 1 0 1 1-5 0 0 0 5 1-1 0-4 1 4 0-2 1 1 0-2 0 0 1 2 1 2 0-1 2-2 1 1 0-3 0 1 1 2 0 2 2-1 0 0 0-3 1 2 0 2 0-4 1-1 0 3 1 1 1-4 0 2 0 1 1 1 0-1 1 1 1-2 1 0 2 3 1 0 1-1 1-4 1 0 1 0 1 2 0 0 1-1 1 1 0 2 0-3 1 3 0-1 0-2 1 1 0 0 1 3 0-1 0-2 0 2 1-2 0-1 1 4 0-1 1 0 1-1 1-2 0 4 1-2 0-2 1-1 0 5 1 0 1 0 0-2 0 0 1-1 0 0 1 7 0-2-1-1 0 2-1-2 0 3-1 1 0 0 0 0-1-3-1 4-2-2 0 1-1-1 0-3-1 1 0-1 0 2-1 1-1-3-1 5 0-1-2 1 0-4-1 4 0-4 0 1-1 0 0 3-1-5 0 4-2-1 0 2 0-3-1 1 0 2 0 0 0-5-1 5 0-4 0 2-1-1-1 0 0-2-1 2-1-2 0 0-1 4-1-2 0 1 0 2-1-4-1 1-1-1 0 0-1 0-2 1 0-2 0 2 0-2-2 3 0-2 0 1-1-1 0-1-2 5-1-3 0 2 0-4-1 3 0 1 0 1 0-4 0 4-1-3-2-1-1 0-1 0 0-1-1 3-1-3 0 0-1 4 0 0 0 0-1 0 0 1 0-1-1 0 0 0-1 1-1 0 0-3 0-1 0 4 0-5-2 5 0-3-1 0-1-2 0 2 0 0 0 3 0-4-1 0 0 4 0-4 0-1 0 0 0 3 0-3-2 3 0-2-1 3-1 0 0-2-1 3 0 6 1-3 1 2 0 0 0-3 0 4 0-4 1 0 0 3 1-3 1 2 0-2 0 0 0 1 1 3 1 0 0-4 0 4 0-4 1 3 0 1 1-5 0 4 0-4 0 4 1 1 0-1 1-2 0 2 0-4 1 1 0 2 0 1 1-1 0-3 0 3 0-1 0 1 1 2 0-2 1 1 0-1 0-2 0 2 1-2 0 2 1 1 1-2 0 3 0-5 0 3 1-2 0-1 0 2 2 1 0-3 0 0 0 3 1 2 0 0 0-1 1 1 0 0 0 0 0-4 0 1 1 0 1 2 1-1 0-1 0 3 1-4 0 0 1 2 0 1 0 1 0 0 1-3 0 3 0-2 0-2 0 2 0-1 1 0 0 1 0-3 1 4 0-3 0-1 0 5 1-4 0 1 1 3 0-1 0-1 0 0 1 1 0-4 0 0 0 0 0 0 0 2 1 1 0 0 1 1 1-3 0 1 1 3 0-5 1 2 0-1 0-1 1 2 0 1 1-3 0 1 0 2 0 2 1-1 0 0 0-3 1 4 0-1 0-1 0 0 0 0 1 0 0-2 1 4 0 0 1-2 0 2 1 0 0-4 0 2 0-3 1 4 0 0 0-1 0 1 0-2 0-2 0 0 1 5 0 0 0-2 0-1 1 0 0 1 0 1 1-1 0 1 0-3 1 1 0 0 1 1 1-3 1 3 0-1 1 1 0 2 1 0 0 0 0 0 0-2 1 2 1-1 0 0 0 0 0-4 1 1 0 2 1 1 0-3 0 1 1 3 0-2 0-3 0 4 0 1 1-1-1 3 0 4-1-3 0 0 0-1 0 0-1-1 0 0 0 0 0 2-1-1 0 4 0-4 0 0-1 2-1 1-2-3-1 3 0 0-1 1 0-2-2-1-1 0 0 1-1 1 0-3 0-1 0 0 0 5-1-5 0 1 0 0 0 0-1 1 0 0 0 2-2-4 0 1 0 0-1 3 0-1 0-3-1 1-1 4 0-3 0-1-1 3 0-3 0 0 0 3-1-3 0 0-3 0-1 3 0-2-1-1 0-1-1 3 0-2 0 3 0 1 0-2-1-2 0 2-2 0 0-2-1 2 0-2 0-1 0 4-1-1 0-1 0-2 0 1-1-1-1 0 0 3 0-1 0-1 0 4 0-1 0-1-1 2 0-5-2 2 0 1 0-1-1 2-1-2 0-1 0 3-1-3 0 2 0-3-1 5 0-2 0-1-1 3 0 0 0-1-1-1-1 0 0 2-1-4 0-1-1 3 0-1-1 3 0-4 0-1-1 4-1-3-1 0-1 3-1-3 0 1-1 3-1-4-1 1 0-2 0 1-1-1 0 1 0-1 0 1 0 3-1 1 0-4-1 3 0-2-1-1 0-1 0 2 0-2-2 4 0-3 0 0 0 7 2-2 0 4 0-4 4 2 3-2 2 1 2-1 4 1 4 0 1-1 1 0 1 3 1-3 2 5 1-5 1 0 0 5 0-3 1-1 2 3 0-3 1 2 1-1 1-1 1-1 0 4 1-1 1 1 0 0 0-2 1-1 2 4 3-4 2 4 0-5 6 4 7-4 0 2 0 3 2-4 0-1-4 6-34 0-10 0-4 0-1 0"/>
<rect x="1230.5" y="1517.1" width="93.1" height="45.1" fill="#85ceb7" fill-opacity="0.3"/>
<rect class="bx" x="1229.9" y="1516.5" width="94.3" height="46.3" fill="none"/>
<path class="md" d="M1229.9 1545.8H1324.2"/>
<rect x="1387.7" y="1516.4" width="93.1" height="44" fill="#fda481" fill-opacity="0.3"/>
<rect class="bx" x="1387.1" y="1515.8" width="94.3" height="45.2" fill="none"/>
<path class="md" d="M1387.1 1543.3H1481.4"/>
<rect class="pb" x="1182.8" y="1401.3" width="345.7" height="185.2"/>
<text class="t yl" x="1178.2" y="1583.8">0</text>
<text class="t yl" x="1178.2" y="1529.5">20</text>
<text class="t yl" x="1178.2" y="1475.1">40</text>
<text class="t yl" x="1178.2" y="1420.8">60</text>
<path class="tk" d="M1180.2 1580.8h2.6M1180.2 1526.5h2.6M1180.2 1472.1h2.6M1180.2 1417.8h2.6M1277.1 1586.5v2.6M1434.2 1586.5v2.6"/>
<text class="t xl" transform="translate(1276.9 1591.3) rotate(-45)" dy="6.2">Smoking</text>
<text class="t xl" transform="translate(1434 1591.3) rotate(-45)" dy="6.2">Non~smoking</text>
<text class="t ti" x="1182.8" y="1393.3">As by smoking</text>
<text class="t at" x="1355.5" y="1643.3">smoking</text>
<text class="t at" transform="translate(1163.6 1493.9) rotate(-90)">As concentration (μg/L)</text>
<text class="t sg" x="1274.4" y="1409.1">ns</text>
<text class="lt" transform="translate(1499.6 1652) scale(0.717 1)">F</text>
</g>
<g>
<path class="gn" d="M38 1841.5H379.3"/>
<path class="gn" d="M38 1798.5H379.3"/>
<path class="gn" d="M38 1755.5H379.3"/>
<path class="gn" d="M38 1712.5H379.3"/>
<path class="gm" d="M38 1820H379.3"/>
<path class="gm" d="M38 1777H379.3"/>
<path class="gm" d="M38 1734H379.3"/>
<path class="gm" d="M38 1691H379.3"/>
<path class="gm" d="M131.1 1675V1860.5"/>
<path class="gm" d="M286.2 1675V1860.5"/>
<rect x="84.5" y="1794.3" width="93.1" height="34.7" fill="#85ceb7"/>
<rect x="239.7" y="1795.3" width="93.1" height="33.7" fill="#fda481"/>
<path class="wk" d="M131.1 1794.3V1744.8M131.1 1829V1850.5"/>
<path class="wk" d="M286.2 1795.3V1744M286.2 1829V1850.5"/>
<path class="pt" d="M139.5 1691.5l-35 0-3 4 15-3 2 18 3 10 31 7-4-4-11-1-12 3-24 8 4-3 3 3 16-2 15-1 14 0 3 2 3 1-8 6-20-4-14-1 0 3-8 0-4 2-5-2 4 8 1-2 2-2 3 4 5-2 5 2 0-1 5 1 7-5 1 0 0 1 4 3 5 1 5-4 1 1 1-2 5 4 8 7-2-1-2-3-2 3-3 0-10 0-2-4 0 4-8-2-1 0 0-1-2 2-5-2-1 2-1 2-1-3-1-2-3 5-1-5 0 5-1-3-5 2-1-3-2 2 0 1-2-4 0 4-1-4-5 3 0 1 0 3 7 3 0 0 0-3 4 3 1-1 0-2 1 3 1-2 8 2 1 1 1-1 0 0 2-2 2-2 7 3 0-2 4-1 1 1 0 4 1-1 5-1 1-3 1 4 0 1 1-5 1 5 3 0 1 0 5-1 1 0-1 4-1 0 0 0-2 3 0-5 0 2-7-1-1 4 0 0-1-3-4 1-1-2 0 4-1-5 0 3-2 0-1-2 0-1-4 0 0 1-2 4 0 0-3-5-2 4-1-4-3 5-5 0-1-5-1 4 0-4 0 3-4 0-4-3-2 4-2-4-2 5-1 0 0-1 0 5 1-2 0 3 2-3 6 0 2 0 1 3 2-1 1 1 1 0 0-2 1-2 1 5 1-4 1 3 0-3 2 0 0-1 0 1 5 0 5 2 4 0 1 1 1-2 1 2 0-1 2-1 2 2 2 1 2-5 2 3 2 2 2-3 5 7 0 2 0-5-2 3-1-1-2 2-1 0 0-4-3 4-1-2-2 1-5 1 0-4-1 2-5 1-5-2-2 4-1-4-1 2 0 0-1-3 0 4-1-1-1 1 0 0-1-2 0-1-2 3 0 0-1 0-7-4-1 4-3-2 0 2-1-4-3 4-2-2 0 1-2-2 3 10 0-4 2 4 3-1 2-2 0 2 1 0 1-3 5 1 3-2 1 1 0 4 3-4 1 1 2 0 2 3 1-1 6-4 1 3 2 2 1-2 0 2 1-3 1 3 2-3 0-1 0 1 1 2 0-4 1 4 1 1 4-1 2 0 3-2 3-1 1 8 0 1 0-1-2 0-1-1-1 2-4-2-1 3-3-4 0 2-1 0-1-3 0 1-1-1-1 5-3-4 0 2-2-3 0 0 0 0-1 4-2 0-2-2-1-2 0 5-2-2 0 0-11-2 0-1-3 3 0-2-1 3-1 0-5-4-2 2 0 2-1-1-6 1-1-1 0 5 4-1 1 1 1 3 0-5 2 5 4 0 0-4 1 2 0-2 1 4 1-2 0-1 2-2 1 5 1 0 1-1 2-1 1 1 0-3 1-1 0 1 3 4 0-3 1 0 0 3 0-2 1-1 2-2 3 4 1 1 2-1 4-3 2 1 1-1 1 2 2 0 0 0 0-2 2 0 0 3 1-1 1 2 1 0 2-3 0 2 0 0 0 1 1-2 2 1 0 1 1-4 1 3 1-3 1 10-2 0-2-1 0-1-1 0 0-2-1 4 0-1-1-3 0 1 0-2-1 3-1 1 0 1-1-3 0-1 0 1 0 1 0 0-1 1 0 0-2 0-3-1-1 2-1-3-3 2 0 1 0 0-2-4-1-1 0 2-1-1 0-1-1 2 0-2 0 0-2 2-1 3-1-3 0 2 0 1 0-2-1-3 0 3-2-2-1-1 0 3-1 1-1-1 0 1 0-1-1 1-1-2 0 1-1 1-2-4-1 4 0-1 0 1-1-3-1 0-2 4-1 0 0-5-2 1 0 2 0-3-1 1 0 4-2-3-1 3 0-1-1-4-2 2 0 3 0-5-1 2-2 0 0 1-1-1 0 0-1-1 0 1-1 0 0-2 1 7 0 2 2-2 1 3 1 1 0-2 0 1 1-3 1 1 0 0 0 1 1 0 0-3 2 4 0-3 2 0 0 4 0-3 0 2 2-4 1 2 2-2 1 5 1-2 0 0 0 2 0-4 0 4 1-2 1-2 0 0 1 2 1 2 1-4 1 2 0 2 0-5 1 2 2-1 0 4 1-1 0-4 1 1 0 4 1-3 0 2 1-2 2-2 0 2 1-1 0 0 0 3 1 1 0-4 0 2 2-2 0 2 0-1 0 0 1 2 1 1 0-4 1 1 1 2 0-3 3-1 0 5 0 0 1-3 0 2 1 0 0-3 1 2 0-3 1 5 2-2 0-1 0 3 0-2 1 0 1-2 0 3 0 1 2-4 0 3 0-1 1-2 0 3 1-3 0 3 1 1 1-3 0-2 0 1 2 4 1 0-2 4-1 1-2-3-1-1 0 2 0 1 0-3-1 5 0-1-2-2-1 2 0 1-1-3 0 1-1 2 0 0 0-1-1-4 0 3-1-1 0 3 0-2-1-3-1 0-1 0 0 3 0-1 0 3-1-4 0 1 0-1 0 0-1 0 0 4-1-5 0 4-1-2 0-2-1 3 0-2-1 0 0-1-1 2-2-1 0 3-1-2-1-2-1 2 0 1 0-2-1 1-1 2-1-1 0-1 0 3-1-5 0 5 0 0-1-2 0-3-1 4 0-2-1 1-1 1 0-2 0 0-1 1 0-2-1-1 0 0 0 3-1 2 0-2-1 1 0-4-2 1 0 2 0 1-1-2-1 2-1 0-1-3 0 4 0 0-1-1 0 0 0-1-1 0 0 2 0-5-1 1 0 2 0 1 0 1 0-4-1-1 0 1 0-1 0 1-1 0 0 2-2 2 0-4 0-1-1 4-1-1-1 0 0-3-1 0 0 4-1 0-1-2 0-1 0 2 0-1 0 0-1 2 0-3 0-1 0 0-1 1 0 7 1-2 0 1 1 0 0 1 1-1 0 2 1 1 2-1 0 2 1 0 1-4 0-1 1 4 0-2 0-1 0 1 0 0 1 0 0-2 0 2 1 3 0 0 1-2 0-3 1 4 2-2 0 1 1 2 0-5 1 4 1-3 2 4 0-3 1 3 0-1 1-1 1-1 0-1 1-1 0 2 0-1 0-1 0 5 0-5 1 2 0 3 1-2 0-2 0 4 1 0 0-1 1-4 0 4 2-4 0 1 1 3 0 0 0 1 0 0 1-2 0 2 0-4 0 2 1-3 0 5 0-4 0 0 0 0 2 2 0 0 0 1 0-1 0 0 0 1 1-1 0 0 0 2 1-2 0 2 0-4 1 4 0-3 1 1 0 1 0-4 1 0 0 0 0 2 0 0 1 2 1-1 0 2 1-2 1-1 0-1 0 4 0-1 0-2 0 2 1 0 0-2 1 0 0 1 1 1 1-2 1 1 0 1 1-4 0 0 0 0 0 3 1 2 1-5 0 4 0-4 2 5 1-3 0 1 0 2 1-2 0-3 1 5 0-3 1 3 1-3 1 3 1-5 1 4-1 7 0-1 0-1-1-1 0-1-1 4 0 0-1-4 0-1-1 2 0 1-1 0-1-3 0 2 0-2 0 0-1 1 0-1-1 2 0 0-1 1 0 0 0-1-1 3 0-4 0 0 0 1-2 0 0 2-1 0-1-2 0 2 0-2-1-1 0 1-1 1-1 1 0-2 0 1-2-2-2 4-2-4 0-1 0 1-1 0 0-1 0 2-1-2 0 4-1 1 0-3 0-2-1 2 0-2-1 0 0 5-1-4-1 4 0-4-2 2 0-1 0-2 0 5 0-3 0-2 0 3 0 2-2 0 0-5-1 2 0 0 0 1 0 1 0 1 0 0-2-3 0-1 0 3-1-3-1 4 0-5-2 3-3-2 0 3-1-4 0 3-1-3 0 1 0 2-1 0 0-2 0 2-1 2-1-4 0 4-1-1 0-3 0 0 0 3-1-4 0 5 0-4 0 1-1 1 0 1 0-4-1 5 0-4 0 1 0 1-1-3-1 3-1 1 0-4-1 1 0 1 0 0-2-2 0 0-1 5 0-3-1 8 1-3 1 4 0 0 0-1 0-2 0 0 1 3 0-1 0 0 0-4 1 1 0 2 0-1 1-2 0 2 0 3 1-2 0-2 0 0 1 4 1-5 0 3 0-1 1 0 1 1 1-1 0 2 0-3 0 2 2 2 0-5 1 2 1 2 0-3 2 3 1-4 0 5 1-3 0 3 1-2 0 0 0-3 0 4 2 1 0-4 0 3 0 0 0-1 1 0 0-3 0 0 0 0 1 0 0 3 1 0 1 2 1-3 1-2 0 0 0 3 0-1 0 3 0 0 1-3 0 3 0-1 2-4 0 4 0 0 2-2 0 3 0-4 1 3 0-1 0-1 0 2 1-4 0 4 0 0 1-4 0 0 0 3 1-3 0 2 0 1 1 1 0 0 1 1 0-5 0 1 1 2 0 0 0 1 1 1 1-3 1-1 0 3 1-4 0 3 0 1 1-2 1 3 0-2 1 0 1-3 0 4 0-4 0 5 1-1 0-3 0 3 0 0 1 0 0-3 1 1 0 0 1 1 0-2 1 4 0-3 0 0 1-2 1 2 0 1 1 0 0 0 0 2 0-5 1 1 0-1 0 2 1-2 0 2 0 0 0-2 1 4 0-3 0 0 1 4 0-1 0-4 1 4 1 7 0 0-1-4 0 0-3 4 0 0-1-1 0-1 0-1 0 3-1 0 0-3 0 1 0-1-1-1-1 4 0-1 0 0 0-4-1 0 0 0-1 3 0-2 0 4 0-4-1 4 0-3 0-2 0 2 0 3 0-3-1 0 0 0 0 1-1-2 0 1-1 0 0-2 0 2 0-1 0 0-1 1 0 1 0-1 0 1-1-3 0 4 0-2 0 2-1-4 0 5 0 0-1 0 0 0 0-2-1 0 0-1-1-1 0 1 0 1 0 0 0 2 0 0-1-2 0 1-1-2-1 2 0-3 0 4 0-3 0 0-1 0 0-1-1 2 0-3 0 0-1 3-1 0-1 0 0 2-1-4 0 2 0-1 0 2 0-4-1 5 0-5 0 2-1-1 0-1 0 3 0 1 0-2 0-2 0 4-1-2-1 3 0-1 0 0 0-3 0 1 0 1 0-2-1 2 0-1 0 1 0 2 0-2-1 1 0 1 0-1-1-2-1 1 0-2-1 1 0 2 0 1 0-1 0-1 0-2-1-1 0 1 0 3 0-2 0 2-1-3 0 2 0-1 0 2 0-3 0 4-1-2 0 1-2-1 0-2 0-1 0 1-1 3 0-2 0-1 0-1 0 5 0-2 0 2 0-1-1-3-1 4 0-5-1 2 0 0-1 1 0-2 0 2-1 2 0 0 0-5 0 3-1-2 0 4-1-4 0 3 0-4 0 0 0 4-1 1-1-1 0 0 0 1 0-4 0 0-1 1 0 3-1-5 0 3-1-1 0 3 0-5-1 5 0-3-1-1-1-1 0 3-1-1 0-2 0 0-1 4-1-2 2 8 0 1 1-3 1-2 0 5 1-5 0 1 1 3 0-2 0 0 1-1 0-1 1 0 0 1 1-1 0 5 1-4 0 2 1-1 0-2 0 5 2-3 0-1 0 1 3 3 0 0 0-2 0-2 0-1 0 2 2 2 0-2 1 2 0 0 1-4 0 5 0-3 1-1 1 1 0 1 1 0 1 2 0-1 1-1 2-3 3 0 1 1 1 2 1-3 0 3 0 1 2 0 0-2 0-1 0 1 3 3 0-1 1-2 0 2 1 0 1 0 1-4 0 2 1-2 0 1 0 3 1 0 1-4 1 5 1-4 0 2 0-1 1 2 0-4 0 4 1 0 0-4 0 2 1 1 0 2 0-3 0 3 2-2 0 2 1-2 0 1 0 0 2-4 0 4 0-2 1 3 0-4 1 0 0-1 0 0 0 0 1 0 0 0 0 4 1 0 1-4 0 4 0-4 1 5 0-1 1-2 0-1 0 9-3-3 0 2-1-3 0 3-2-3-2 3-3-2-1 0 0 2-3-1 0 0-3 2 0 1 0-5-3 5-1-4-1 2-1-3 0 3-3 1-1-4-1 3 0 1 0-4-1 4 0 1-2-1 0-2-4 0-4 1-1 0-2 0-7 1-1-2 0 0 0 1-2-2 0 0 0 0-1 0 0 1-1 0 0-2-5 4 0 1-1 0 2 2 1 0 3-1 1 1 0-1 3 1 1 0 2 1 1-2 2 0 8 0 4 2 9-2 5 0 3 2 1-1 0 0 1 0 3 0 1-1 9 2 1-2 0 0"/>
<path class="pt" d="M299.5 1691.5l-17 0 8 6-18 12 45 1-7 5-39 6 7-2 24 6-13 2-24 0-10-2 14 8 4 0 6-3 10 1 16 0 12 7-13-3-5 2-1-1 0 3-9-2-1 2-1-3-1-1-7-1-4 2-1 1-2 0-8 2-1 0-7 0-1 5 4 0 13-2 2-1 9 1 1 0 0 0 2 2 7-1 1 1 13-3 4 3 3-1 3 2-2 5 0 1-2-5-1 0-1 1-2 1-2 2-1-4-4 0-1 3-4-2-4 1-6-1-2 4-5-3-4-1 0 0-1 0-1 3-1-4-1 5-5 0-1-4-3 4-4-5-1 3-1-2 0 4-1 3 2 2 5-3 0 1 3-2 1 0 2 1 1 3 2 0 4 1 1-4 0 4 1-4 0-1 3 3 0-2 0-1 1 5 4-3 0-2 1 1 8 2 4-2 0 1 1 3 1-3 1 0 3-1 5 3 5 1 1-1 1 4-3 1-1 2-2-4 0 0-1 1-5 0-1 0-4-1-1 4-3-1-1 0-4 0-1 0-1-4-2 3-1-2-5 2 0-1-2 2-3-4-8 2-3 0-5 2-3 0-1-2 3 6 1-2 4 4 0 0 2-3 2 4 0 0 2 0 3-1 2-2 2 2 1-4 2 3 0-3 1 1 1 0 2 1 5 3 1 0 0-1 2-2 0-1 1 4 2-4 5 3 0-1 1-3 2 4 2-2 2-2 2 2 0 3 2-3 2 3 0 0 3-3 1-1 0 6 0 4-7-2-2-3-1 2-3 0 0 3-2-1-3-2-1-1 0 3-1 0-1 1-1-4 0 2 0-3-1 3 0 0-7 2-1-4 0 4 0-5-4 0-1 5 0-4-2 2-3-3-1 4-2-2-4 3 0-3 0 0-2 2-1-4-2 1-3 3 0-4-1 3 0 1-1-4-2 2-1 5 2 4 2-2 0-1 3-1 3 0 1 2 0 1 18 0 2 1 1-4 0 3 0-2 1-2 2 2 1 3 2-3 1 2 2-2 3 3 1-1 3-4 1 0 2 3 0-2 4 1 0 3 3-1 0-4 1 4 1-3 0 1 1 0-2 8-1 1 0-5-1 2-1 3-2-4-1 3-1 0 0 1-3-4 0 3-1-3-3 2-2 2-2 0-1-3 0 2-1 1 0 0 0-2-1 1-2 1 0-5 0 5-2-2 0-3-2 0-1 2-1-2 0 3-7-1-3 2-2-4 0 5-1-3-4-2-1 0-1 0-1 4-1-2-2 2 0 0-1 1-1-5-2 0 0 4-1 0 0-4-2 1 1 7 0 3 1-4 2 4 0-2 1 0 1 2 1-1 0-2 2 0 1 1 0-3 1 0 0 2 0 3 1 0 2-1 0-1 1-2 0 2 1 2 0-1 1-1 1-2 1 2 3-3 0 2 1 3 1-3 0 1 2-1 2 2 1 0 1-3 5 2 0-3 3 1 3 2 0 1 2 0 0-4 2 3 0-2 1 0 0-1 0 0 2 5 3-4 2 4 0-1 2-4 5 1 1 6 0 1-3 2 0-2-6-2-1 4 0 0-1-4 0 5 0-3-1 3-1-2-1 0 0 0-1 0 0 0-2 2 0-1 0 1-1 0 0-1-2-2-1 3-1-2-2-3-1 5-2-4-1 0 0 0-1 1 0 1-2 2 0-4 0 0-5 4 0-3-1 3-1 0-1-5 0 1 0 2-1 2-2-2-2-3-2 1-1 3 0-1 0 0 0 1-1 0-2-1-1-2-1 4-1-5 0 1 0 3 0-3-1 2-1 2 0-3 0 2-1 1 0-4-2 0-1 4 0-4-1 4-1-5-1 7 1 4 3-3 1 1 0 0 0-2 1 0 0 3 0 1 1-3 0 2 0 1 1 0 0 0 0-3 0 1 2-3 0 3 0-2 0 1 0 1 0 1 1-2 0 2 1-1 1 1 0-1 0 1 1 0 0-2 0 2 0-1 1-1 0 2 0 0 0-1 1 1 0 0 0-4 0 3 3-1 0 0 1 3 0-5 1 1 0 0 0 1 0 2 1 0 1 1 0 0 0-3 0-1 0-1 1 0 1 1 0 2 0-1 1 0 1 3 0-3 1-2 1 1 1 3 0 1 1-4 2-1 1 2 0 2 1 1 0-5 0 3 1-3 0 1 1 0 0-1 1 1 0 2 0 2 2-1 0-4 0 0 1 1 1 2 1 1 1-3 0 3 1 0 0-3 0-1 1 4 0-1 1-2 0 4 1-3 1-2 1 3 0-3 1 4 0-1 1 2 0-3 1 1 0-3 1 1 0 2 0-3 0 0 1 3 0-1 1 3 0-2 0-1 1 2 0 0 1-1 1 2 0-1 0 1 0-4 0 4 3-3 0 9 0 0 0-2 0 1-1-4 0 5-1 0 0-3 0-2 0 3 0 1-1-3 0 1 0 1-1 1-1-3-1 2 0 1-1-4-1 2 0-1-1 0 0 0 0 3 0-3-2 1 0 0-1 1-1-3-1 4 0-1 0-2-1 0 0 2 0 2-1-5 0 0 0 1-1 4 0-1-1-1 0 2 0 0-1 0 0-1-1 1 0 0 0-4 0 0 0 0 0-1 0 2-1-2 0 1-1 0 0 2 0 1-1 1-1-5-3 5-1-2-1 0 0-1 0-1-1 3 0 1 0-5 0 3 0 1-1-1 0-1-1 0-1 0 0 3 0-5-1 0 0 3-1 1 0-3 0 2 0 2-1-1 0-2 0 1-1 0 0-2-1 3 0 1-2-5 0 5-1-1 0-2 0-1-1-1 0 1 0-1 0 0 0 2-1 2-1-3 0 4-1-1 0 0 0-3-1-1 0 1 0 0-1 4 0 0 0-2 0 2 0 0-1-2 0-2-3-1 0 4 0-2 0 3-1 0-1-1 0-2 0 3 0 0-1-3-1 2 0-4 0 2-1 3 0-1-1-2 0-2-1 0 0 3 0 1-1 1 0-3 0-2 0 0-1 4 0-2-2 9 1-3 1 2 0-2 1-1 0 4 2-4 0 0 0 2 1 1 0 0 0-1 0 0 0 0 1-3 1 5 0-5 1 5 0-4 0-1 0 2 0-1 1 3 0-4 1 4 0 0 0-2 0 0 0 1 1-2 1 4 0-3 1-2 1 1 0 0 0 3 0 0 1 0 1 0 0-2 0 3 2-3 0 2 2 0 1 1 0-5 0 4 0-4 1 1 0 0 0 0 0-1 1 1 1 4 0-5 0 5 0-1 1-2 0 2 0-3 2 1 0 0 0 3 0-5 1 1 0 4 2-4 0 1 1-2 0 0 0 5 1-4 0-1 0 0 1 5 1-1 0 0 1 1 0-5 0 0 1 3 0 2 1 0 0 0 1-5 1 1 0-1 0 3 0 0 0 0 1-2 1 1 0 2 0-3 0 4 0 0 2-4 1 1 1-2 2 0 1 1 0 0 0-1 0 3 0-2 0 2 1 1 0-4 0 4 0 1 1-1 0-1 0 0 3 0 2 0 0 0 0-1 1 1 0-1 1 2 1-2 0-2 1 3 2 7 0-3 0-1-1 0-1 3 0 1 0-2 0 0-2 1-1 2 0-3 0 3-1-3-1-1-1 4 0-3-1-1-1 1-1 1 0 2-1 0 0 0-1 0 0-2 0 0-1 2 0-1 0 0-2-4-1 4 0 1 0-3-1-1-1-1 0 4-1-4 0 2-1-2-2 4 0-1-1-3-1 0 0 2 0 1 0-3-2 3 0-2 0 1 0 3-1 0 0-2 0-2-1 3 0 0-1-1 0 2-1-1 0-3-1 3 0-4 0 2 0-1 0 1 0 3-1-4 0 4-1-3-1-2 0 4 0 0 0 1-1 0 0 0-1 0 0-2-1 2 0 0 0 0 0 0-1-2-1 2-1 0-1-1-1-3 0 2 0 2 0 0-2 0-1-4 0 3-1-4 0 1 0 1 0 2 0-2-1 2 0 1 0-3 0 3 0-5 0 3 0-1 0-2-2 3-1 0 0 1-1-4 0 0 0 1-1 4 0 0 0-1-1-3 0 1 0 1 0 1-1-4 0 4-1-4 0 5 0-2 0 0-1 0-1 1 0-2 0 0-1 2 0-4 0 0 0 1 0 0-1 2 0 2 0-1-1-3 0 2 0-3-1 4 0 5 0-2 1-1 1 2 0 0 1-1 0 1 0 0 1 1 0 1 0-4 1 1 0 0 2 0 0 2 0-2 0-1 0 0 1 1 0 0 1 0 0 3 0-3 2 3 0 1 1-3 1 3 0-2 2-3 0 0 0 3 0 2 0 0 0 0 1-4 1 2 1-1 1 1 0 0 1 0 0-2 1-1 0 3 1 1 1-4 0 3 0-1 1 3 0-2 1-2 0 3 1-3 0 2 1 1 0-3 0 4 1-4 1 1 1-2 0 5 0-3 0 3 2-4 0 2 0-1 2 3 0-2 0 2 1 0 0-1 0-3 0 4 0-3 1-1 0 0 1 3 0 1 0-5 0 2 0 2 2-2 0-2 1 0 0 2 0 0 0-2 1 0 0 1 0 3 1-2 0 3 1-4 0 3 0-4 0 1 0 0 1-1 0 4 0-3 1-1 0 3 0 0 0-1 1 1 0-3 1 2 0 2 0-2 1-1 0 4 0-4 0 0 1 2 1-2 1-1 0 1 1-1 1 0 2 5 0-5 1 3 0 0 1-2 0 3 3-1 1-2 0-1 0 4 0 1 0-2 0 2 1-4 0 3 0 4 0 1 0 2-1-2-2-1 0 0 0 0 0-2 0 3 0-1-1 2 0-4-1 1 0 1 0 3 0-1-1-1-1 0 0 1 0-3 0 3-1-2 0 1-1-2 0 3 0-2 0-1 0 4 0-3-1-1 0 3 0 0-1 1 0 0 0-2 0 0-1-1-1-1 0 2 0-3 0 1 0 1 0-2-1 4 0 1-1-3 0 1 0-1-1 2 0 0 0-1 0 1-1-1-1 2 0-1-2-4 0 3 0-3 0 1-1 2 0 0 0-3 0 1 0 1-1-1 0-1 0 5 0-2 0 1-1-1 0 1 0-1-1 0 0-2-1 3 0-3 0 0-1 0 0 4 0 0 0-5-1 1 0 0-1 2 0 1 0 0-1-3-1 0-1 4 0-2 0 1-2-2-1-1 0 1-1 0 0-1 0 1 0 3 0-3-1 3 0-1 0-2 0 1 0-1-1-2-1 3-1-1 0-2-1 1 0 0 0 1-2 0 0 1 0-3-1 1 0 1-1 0 0 0 0 3 0-1-1-3-1 4-1-2 0 2-1-3 0-2 0 0 0 0-1 3-1 2 0 0-1-4 0 1 0 0-1-1 0 4 0-4 0 0 0-1-1 0 0 2-1 1 0-2 0-1 0 2 0-2-1 0-1 5 0-2 0 0 0 2 0-5 0 2-1 2 0 1 0 0-1-1-1-1 0 1 0-4-1 4 0-1-1-3 0 0 0 4-1 0 1 5 0-1 1 2 0-4 0 3 1 1 2-3 1 0 0-1 1 1 1 0 0-1 0 0 1 1 0 2 0-1 1-1 0 1 1-1 0 0 0 4 0-3 1-1 0 1 1 1 0-1 0 2 1 1 0-5 0 0 0 1 0 1 1 0 0 3 1-3 0-1 0 3 1-1 0-3 1 1 1 2 1 2 1-3 0 1 0 0 1-3 0 5 0-2 2-3 0 2 0-2 0 0 1 5 0-1 0-1 1-1 1-1 1-1 0 1 1 2 1 1 0 0 0 1 1 0 1-3 0 1 2 2 1 0 0-5 1 1 0 0 0 1 2 0 0 2 2-3 0 1 0-2 0 1 0 1 1-1 1 0 1 1 1 2 0 1 0-5 1 0 0 3 0-2 0-1 0 3 1-3 0 1 1 0 0 0 1 2 0-3 1 2 2 0 3 3 0 0 0-5 2 1 1 2 0 2 1-1 2-3 0 3 0 0 1-4 0 6 0 2-5 2 0-1-1-2-6 0-2 1-2 2-1-1-5-3 0 0-1 1-1 0 0-1 0 1-4-1-4 4-1 1-1-5 0 3-1-2 0-1-2 4-4-2-1-1-1-1 0 4-1-3-1 0-1 3 0-2-6 2-1 0-1-1 0 1-2-3-1-1 0 3 0-1-2-1-1 1 9 5 5-1 0 0 4 2 8 0 0-2 4 1 5-1 1 1 0 0 9 0 2 2 2-2 5 0 5 0 1 0"/>
<rect x="85.1" y="1794.9" width="91.9" height="33.5" fill="#85ceb7" fill-opacity="0.3"/>
<rect class="bx" x="84.5" y="1794.3" width="93.1" height="34.7" fill="none"/>
<path class="md" d="M84.5 1813.8H177.6"/>
<rect x="240.3" y="1795.9" width="91.9" height="32.5" fill="#fda481" fill-opacity="0.3"/>
<rect class="bx" x="239.7" y="1795.3" width="93.1" height="33.7" fill="none"/>
<path class="md" d="M239.7 1813.5H332.8"/>
<rect class="pb" x="38" y="1675" width="341.3" height="185.5"/>
<text class="t yl" x="33.4" y="1823">200</text>
<text class="t yl" x="33.4" y="1780">400</text>
<text class="t yl" x="33.4" y="1737">600</text>
<text class="t yl" x="33.4" y="1694">800</text>
<path class="tk" d="M35.4 1820h2.6M35.4 1777h2.6M35.4 1734h2.6M35.4 1691h2.6M131.1 1860.5v2.6M286.2 1860.5v2.6"/>
<text class="t xl" transform="translate(130.9 1865.3) rotate(-45)" dy="6.2">Drinking</text>
<text class="t xl" transform="translate(286 1865.3) rotate(-45)" dy="6.2">Non~drinking</text>
<text class="t ti" x="38" y="1666">Pb by drinking</text>
<text class="t at" x="208.8" y="1916">drinking</text>
<text class="t at" transform="translate(14.1 1767.8) rotate(-90)">Pb concentration (μg/L)</text>
<text class="t sg" x="127.7" y="1681.9">ns</text>
</g>
<g>
<path class="gn" d="M416.5 1825.2H761"/>
<path class="gn" d="M416.5 1771H761"/>
<path class="gn" d="M416.5 1716.9H761"/>
<path class="gm" d="M416.5 1852.3H761"/>
<path class="gm" d="M416.5 1798.1H761"/>
<path class="gm" d="M416.5 1744H761"/>
<path class="gm" d="M416.5 1689.8H761"/>
<path class="gm" d="M510.5 1672.8V1859.8"/>
<path class="gm" d="M667 1672.8V1859.8"/>
<rect x="463.5" y="1813" width="94" height="27.5" fill="#85ceb7"/>
<rect x="620.1" y="1813" width="94" height="27.5" fill="#fda481"/>
<path class="wk" d="M510.5 1813V1773.5M510.5 1840.5V1851.4"/>
<path class="wk" d="M667 1813V1773.5M667 1840.5V1851.4"/>
<path class="pt" d="M527.5 1690.5l-12 0-8 0-20 0 14 11 27 3 3 10-21 12-11 1 17 9-12 0-23 3 6 4 7-2 12 4 23 6-7-3-14-2-6 1-11 6 5 1 2-2 1 3 13 1 17-2 11 3-1 6 0-3-6 2 0-1-11 0-5 0-27-2-4 2 7 6 0-3 2 5 5-5 6 5 9 0 4-2 3 2 19-5-3 11 0-1-4 1 0-2-9 1-2-2-3 1-11-1-5 2-3 0-7 0-1-4-5 4-3 0 0 1-2 0 0-1-2 5 0 0 1 2 1 0 0-5 2 3 2 1 2-3 0 2 2 1 1-2 2-2 3 2 4 1 0 2 0 0 1-3 2 3 0 0 2-1 1-4 1 4 3-1 0 2 2-4 1 0 1 3 2-4 1 3 2 1 4-3 3 1 1 3 0-1 2-2 4-2 3 5 0-3 1 1 2 0 1 0 0-1-6 6-2 0-3 2 0-2-1 0-1 2-1 1-2-5-1 1-2 2-2 0 0-2-2 0-1 4-5-1-1 0-2-4 0 2-1 1-4-1 0 1-2-1-4-2-3 2-5-1-1 1 0 2 0-2-1 2 0-3-4 4 0 0-1-4-1 1-2 0 0 6 3-1 0 0 2-1 2 0 1 1 1 3 2-2 0 0 0 0 1 1 4-2 4 3 2-3 1 3 1-4 2 5 0-1 3-4 1 2 3 2 2-4 2 4 2 1 1-3 2-2 1 3 0-3 1 2 0 2 1-3 3 3 2-4 1 3 2-2 3 1 0 3 2 0 3-4 0 0 0 1 0 5-4 0-1 2 0 2-2-4 0 1-1 0-1 1 0 1 0-4-1 5 0-3 0 3-1-3 0 3 0-1-1-3-1 3-2-3-1 2-1 0-2-3 0 1-1 0 0 0-3 3-1-2 0 1-4 0-1 1-3-1 0 0-1 2-1-3 0 0-2 2-5-1-2 1 0-2-4 2 0-2-1 3-1-2-2 0-1 0-3-1 0 0-1 0-1 2 0-2 0 1-3-2 0 8 1 2 2-2 0 0 1 2 2-1 0 1 8-5 1 2 0 3 3-4 1 4 2-5 3 3 0-2 2 3 1-3 0 3 2-4 0 5 0-4 2 4 0-5 2 4 1-2 2-1 0 2 1 0 0 2 1-2 2 0 2 2 0-2 3-1 3 0 2-1 1-1 0 3 1 1 1 1 2 0 0-3 2 2 1-1 2-2 1 0-2 9 0-1-2 0-1-1-1-1 0 1 0-1-1-1 0 0 0 5-4-1-3-4 0 5-1 0-1-1 0-1 0-2-1 1 0 1-2 2 0-2-3-1-1 1-2 0-1 0 0-3-1 1-3 2 0 2 0-3-1 2-1-1-2-2-2 2-1 2 0-5 0 2-2 1 0 0-1 1 0 0-1-3 0-1-3 2-1-1 0 0-1 2 0 0-1 2-2-4-1 3 0 1-2-3-4 2-1-4 0 5-3-1-2-3-1 3 2 7 0-1 1-3 0 3 1 0 0-4 0 3 0 1 0-2 4-2 0 2 0 1 2-3 0 3 1 0 1 1 1 0 0-1 1-2 0 2 1-2 0 1 1 1 0 2 2-3 1 2 3-2 0-1 1 1 0-1 0 2 2-1 1-1 2 4 0-4 1 4 0-4 1 2 0-2 1 3 0-3 2 1 1 1 0-1 3 1 0 1 1-1 0 0 2 1 0-3 1-1 0 5 0-1 1-1 1-3 0 3 0 0 1-1 0-1 0 3 3-3 0 3 1-2 0-2 2 3 1 0 1 1 1-4 0 1 1 4 3-1 1 0 0-1 0 2 0-2 0-1 0 0 1 2 3-1-1 8 0-4-1 4 0-4 0 0 0 4 0 0-1-2 0 0-1 1-1-2-1 0 0-1 0 2-1 0 0-1 0-1-1 3 0-1 0-1-1 2-1 0 0-1-2-1 0 1-1 2-2-1-1-3 0 3-1-4-1 2 0 2-1-4 0 4 0 1 0 0-1-3 0 3-1-2 0-3-1 2 0 3 0-4 0 0-1-1-1 5 0-2-1-3 0 5 0-4 0 1 0 2-1-3-1 2 0-1 0 2-1-3-1 3 0 1 0 0-1-5 0 5-2-1-1 1 0-1-1-3 0 4 0-4-1 4 0-2-3 1 0 1-2-3 0-2 0 2-1 3 0-3 0 2-1 0 0 0 0 1 0-2-1 0 0-3 0 5-1-2 0 0 0 2-1-2 0 1 0-2-1-2 0 1 0 3-1-4 0 2 0 0 0 1-2-3 0 5-1 0 0-5 0 5-1-5-1 1 0 3 0-1 0-3-1 0 0 5 0-3-2-1-1-1 0 4 0 1-1-4 0 3-2 1 0-5 0 4 0-1-1-2 0-1-1 4 0-1 0 0 0 7 0 1 1-3 0-1 0 1 1 0 0 3 0 0 1 0 1-4 1 0 0 4 0 0 0-2 2 0 0-2 0 1 0-1 0 4 1-4 0 0 1-1 0 1 0-1 0 5 1-2 0 1 0-3 2 1 1 2 0 0 0 1 0-5 0 3 2-3 0 1 0 1 0-2 0 2 0 0 1 2 0-3 0 2 1 2 0 0 1-4 0-1 1 5 1-4 0 4 0-1 0-4 1 4 1-4 1 1 0 2 0-1 1 2 0-4 1 4 0-3 1 2 0-3 0 1 0 3 2-3 1 4 0 0 0-5 0 2 1 1 1-1 0 0 1 3 0 0 1-2 0-2 1-1 0 4 1 1 0 0 0-2 1-2 0 4 1-5 0 2 0-2 0 0 1 5 0-1 1-3 2-1 0 1 0 3 1-4 1 1 0 1 0 0 0 2 1-3 1-1 0 0 0 1 1 1 0 0 0-1 0 1 0 1 1-2 0 3 0-3 0 3 0 0 0-4 1 0 0 2 2-2 1 5 0-3 1 1 0 1 0-4 1 3 0-2 0-1 1 4 1-2 0 2 0-2 0 2 1-1 1 2 1-1 0 0 1-2 0-1 1 1 0-1 0 2 0 2 0 0 1-2 1-3-1 6-1 3 0-2 0-1 0 0 0 5-1-2 0 0 0-1 0 1 0 0 0 0 0 2-1-3 0 0 0 1 0 2 0-3-1 3 0-1 0-1 0-2 0 2 0-1-1 2 0-2 0 3 0 0 0-4-1-1-1 5 0-2 0-3 0 5-1 0-1-4 0-1 0 4-1 0-1 0-1 1-1 0 0 0 0-4 0 1-1 0 0-2-1 2 0 2-1-4-1 4 0 0 0-1-1 0 0 2-2-3-1 3 0-2 0 0 0-2 0 2 0 0-1 0 0 1 0-1 0-3-1 5 0 0 0 0 0-3-1 2 0-4 0 3 0 2 0-5-1 2 0 2-2-2 0-1 0 3 0-3 0 2-2-2 0 0-1 4 0 0 0-2 0-2 0 2-1-3 0 4 0-3-1-1 0 4-1-2 0-2 0 4-1 1 0-2-1 0-1-1 0 2 0-4 0 0-1 4 0 0-1-4 0 2-1 1 0 1 0-2-1 3 0-4 0 1-1 1 0-2-1 3 0 1 0-1-1-3 0 0-1 3 0-3 0 4 0-4-1 2-1-2 0 1 0 3-2-2 0-1 0-1 0 1 0-1-1 3 0-2-1 3-2-4-1 1-1 0 0-2-1 1 0 1-1 0-1 0-1-2 0 1 0 2-1 2-1-5 0 5 0-5 0 3 0-1 0 0 0-1-1 3 0-4 0 1 0 6 0 2 0 1 0-3 0 3 0-1 1-1 0-2 1 5 0-4 0 0 0 2 1 2 0-4 0 2 1 2 0-3 1 0 0 1 0 2 1-5 0 2 0 3 0-4 0-1 0 3 1-3 0 3 0 1 0-4 1 1 0 2 1-2 0 1 1-1 0 3 0-1 0 1 0 0 1-1 1-2 0 3 1 1 0-2 0 1 0 1 1 0 0-4 0 0 0 2 0-2 0 2 1 0 0-3 0 3 0 0 1 1 0 0 0 0 0-2 1 3 0 0 0-1 0-3 0-1 1 0 0 3 0-3 0 4 0-3 0 2 1 1 0-1 0-2 0 4 1 0 0-2 1 0 0 1 0-4 1 5 1-3 0 0 0 0 0 0 1 2 0-3 1 4 0-3 0 3 0 0 1-1 0 0 0 0 0 1 1-2 0 0 0 2 1-4 0 1 0-1 1-1 1 0 0 4 0-3 1-1 0 1 0 0 0 4 1-5 0 2 0-1 1 3 0 1 0-1 0-4 1 4 0-1 0 2 0-3 0 1 0-1 0 1 0 0 0 2 1-3 0 3 0 0 0-4 0 2 1 1 0 0 1 1 0 0 0-5 1 5 0-5 0 4 0-1 0 0 0-3 1 5 0 0 0-5 1 1 1 1 0 3 0-1 0 1 1-4 0 4 0-3 1-2 0 5 0-3 0 3 1-3 0 2 0-3 0 3 0-1 0-1 1-1 0 3 0-3 0 1 1-2 0 0 0 3 0 0 1-1 0-2 0 5 1-5 0 3 0 0 0-1 1-2 0 5 0 0 1 0 0 0 1 0 0-1 0-3 1 1 0 3 0-1 1-3 0-1 0 0 1 4 0-2 0 1 0 2 1-2 0 0 1 2 0 0 0 0 1-1 0 1 0 0 1 0 1-2 0-1 0 0 1-1 0 0 0 4 0-1 1-3 0-1 0 4 1 1 0-4 0 6 0 2-1-3 0 1 0-1 0 5 0-4 0 0-1 3 0-4 0 2 0 0 0 2 0 1-1-4 0 0 0 1 0-1 0-1 0 0 0 0 0 2-1 3 0-4-1 0 0 4 0 0 0-3 0 1 0-2 0 2-1-3 0 3 0-3 0 0-1 5 0 0 0-1 0-3 0-1 0 3 0 2 0-5 0 5 0-5 0 2-1 3 0-3 0 1 0 1-1-1 0-1 0 3 0-5-1 0 0 1 0 0-1 1 0-2-1 2 0 3 0-2 0-3 0 0-1 1 0 3 0-3 0-1 0 2 0-2 0 3 0 2-1 0 0-4-1 1 0 0 0-1 0 1 0-1 0-1-1 2 0-2 0 1-1-1 0 1 0-1 0 3 0 0 0 1 0-1 0 0-1 1 0-4 0 4 0-3 0 2-1 2 0-1 0-3 0 0-1-1 0 1 0 4-1 0 0-5 0 1 0 4-1-1 0-3 0 3 0-3 0 1 0-1-1 3 0-4 0 4 0 0-1-4 0 4 0-2 0 2 0-3 0 1 0-2-1 1 0 1-1-2 0 3-1-2 0 0 0 1 0 2 0-1-1-2 0 1 0-1 0-1-1 2 0-2 0 3 0 2 0-2 0-2 0 0-1 1 0 0 0-2 0 3-1-1 0-2 0 0-1 1 0 0 0 0 0-1 0 2 0 2 0-2-1 2 0-4 0 4 0-3 0 0 0 4-1-3 0-1 0 3 0-3 0 2 0-2 0 0-1 3 0-3 0 1-1 2 0-1 0-1-1-1 0 1 0-1 0 2 0-2 0 0 0 3-1-4 0 1-1 4 0-3 0 1 0-3-1 2 0-2-1 1 0 3-2 1 0-5-1 2 0 3 0 0 0-4 0 1-1 2 0-4-1 2 0 0 0 1 0-1 0 2-1-1 0-3 0 1 0 2 0 0-1-2 0-1 0 2 0 2-1-3 0-1 0 0 0 0-1 2 0-1 0 2 0-3-1 3 0 0 0-2-1 2 0 0 0-3 0 4 0 1 0-5 0 1-1 3 0-2 0-2 0 1 0 3 0-2-1-2 0 4 0-4 0 0 0 4 0-4 0 5 0-5-1 5 0-1 0-4 0 4-1-1 0 1 0-4-1 5 0-4 0 4 0-4 0-1 0 1 0 4 0-5 0 3-2 2 0-4 0-1 0 3 0 0 0 1 0-2 0 0-1 3 0 0-1-4 0-1 0 1 0 1 0 0 0 2 0-3-1 3-1-1 0-2 1 7 1-2 0 3 1-1 2 1 1-3 1 2 1-2 1 1 1 2 0-2 1 2 0 0 2-1 1 1 1 0 1-1 3 0 1-2 0 2 1 0 0-2 0 1 1-1 2 3 3-3 1 1 3 2 2 0 2 0 0-3 0 0 1 0 2 0 1 2 0-2 1 0 2 0 1 2 1 1 1-1 1-1 0 0 0 2 2 0 1-3 0 1 3-1 0 0 2 0 0 3 1-3 2 0 0 0 0 2 2 1 2-3"/>
<path class="pt" d="M690.5 1690.5l-21 0-32 11 37 5 0 6-31 9 8-3 25 0 9 0 9 6-27 0-28 3 50 6 2-1-26 7-3-5-6 1 8 6 23 6-3-1-30 4-3-3-4-1-6 9 8 0 2-2 4 4 20-2 22 6-8 1-4-1-1 1-18 0-2-4-3 3-19 2-6 1 20 1 7 1 11 2 5 1 0 0 4-4 1 0 6-1 2 1 5 9-4 1-1-2-1 2 0 0-8 0 0 0-7-4-5 0-6 3-4-3-3 3-6-4-1 3 0 0-1 1-1 0-5 0 0-1-8-3 0 0 0 9 3-3 1 1 6 2 0 2 1-4 2-1 1 3 1 1 1 0 1-1 1 2 1-3 0-1 0-1 2 2 1 3 2-2 0-3 6 3 10-3 5 2 2 3 1-4 1 0 1 2 1-3 4 3 0-1 7 3 0-1-5 6-4 0-2-1-2-2-1-1-2 5-1-4-4 3 0-2-1 1-3 1 0 0-2 1-2-5-1 0-1 2-2 1-1-3-2 0-4 2-2 3 0-3-2-2 0 5-1-1-1-4-1 2-3 3-1-5-1 1-1 4-3-4-1 0-1-1-3 4-1-1 4 7 1 1 2 0 3 0 2-5 0 2 1-2 1 2 1-1 0 2 2 2 3-3 2 1 2-3 2 4 1 0 3 1 0-5 3 4 1 1 1-2 1 2 0-5 3 5 1-2 0-2 2 1 2-1 0 1 1 1 1-3 0 3 1 2 5-5 0 0 1 2 2-1 1 1 2-2 0 5 1-1 3 2-1 2-1-2 0 3 0 1-2-4-1 5 0-5 0 3 0 2-2 0 0-2-1-3 0 5-4-2-2-3-1 5 0-3-1-2-1 2 0-2 0 4-1 0-3-2 0 3-3-3 0-2-4 1 0 2-2-1-2-2 0 3-1 1-1-2 0 1-1 0-4-2 0 1-2 3-3-5-2 5-2 0-3 0-7-5-1 4-1-4 0 2-1 3 0-1 0-4-1 6 0 0 1 1 2-1 0 1 4 0 0-1 3 3 1 2 1-2 2-3 2 3 0-1 6-2 2 1 2 0 1 0 0 2 0 0 1 2 1 0 4-5 2 0 0 0 0 4 1-4 1 4 1-3 0 1 1-2 4 2 2 0 0-1 1 2 1 2 5-4 0 4 5-1 0 0 1 1 4 4 0-3 0 4-2-1-2-1-1-1 0 3-1-3 0 3-1 0 0-2 0-1-2-1-2 4-1-3-1 1-1 2-1-1-5-2-2 1-5 3 0-3 0 3 0 0-1-5 0 2-3 0-1 2-1 1 0-3-1 0 0 2-2-2 0 3-1-2-2 0-1 0-2-3 0 0-1 0-1 4-2 0-1-3 0 0 0 3-1-2-1-1-2-1-2 3-1-3-1 1 0 1 0 0-2-1 0 4-1-5-1 4 0-3-2 2-1-1 0 6 1 2 0 0 1-1 0-1 2 2 0-2 0 1 0-1 1 2 1-2 0 3 3-1 0 1 0-2 0 1 2 0 1 0 1-4 1 5 0-3 0 3 1-4 0 4 0-5 0 0 2 3 0-3 0 2 1 2 0-4 1 1 0 1 3 3 0-1 1-1 0 1 1-2 1 0 0 3 1-5 2 5 1 0 1 0 0-3 3 0 0-1 0 0 0 0 1 4 0-3 0 1 1 0 1 1 2 0 0-1 1 0 1-3 1 3 0 2 0-2 1 2 0-3 2 1 1-1 0 0 0-2 0 4 0-3 1 1 1 2 0 1 0 0 1-3 0 3 1-4 0 3 0-2 1 3 0-5 1 3 2 2 1-4 0 4 0-4 1 4 0-4 0 3 1-3 1 4 0-5 0 2 1 0 0-1 1 3 0-3 0-1 0 4 1 1 0-1 0 1 2 4 0 0-3 1-3-4 0 5 0-5 0 2-1 1 0-2 0 2 0-3-1 4 0 1 0-2 0-2 0 4 0-2-1-1 0-2 0 2 0-2-1 0-1 0 0 3-2 0 0-1-1-1 0 2 0-2-1 0 0 0-1 1 0-2 0 3 0 1-1-3 0 3-1-1 0-2-1 2 0-3-1 1 0 2-1 1 0-4 0 3-1 2 0-5-3 0 0 0 0 2 0 3-1-1 0-2 0 1 0-2-1 2 0-3-1 2 0 1 0 2 0-2-1 2 0-1-1 0 0 0 0-4-1 4 0-4 0 4-1-3 0 1 0 1 0-1 0-2-1 2 0 2 0-2 0 1 0-1 0 3-1-5 0 1 0 4 0-2 0-3-1 4 0-3 0 1-2-1 0 0-1-1 0 3-2-1 0 0-1-1 0 1 0 3-1-4-2 1 0 0-1 0-1 1 0 0 0-2-1 2-1-1 0 3-2-1-1-2 0-2 0 4 0-2 0 3-1-2 0-1-1 0 0-2 0 5 0-1-1-4 0 2 0 2 0-3-1-1 0 3 0-3 0 2-1-2 0 5 0 0-1-4 0 0-1 2 0-2-1 0-1 2 0-1-1 0 0 2 0-1 0 2 0-4-1 1 0 1 0 7 0 1 0-3 0-2 1 1 1 1 0 2 0-4 1 1 1 0 0-1 1 0 0 1 1-1 0 1 1 0 0 2 0 2 0-5 1 4 0 1 0-5 1 2 0 2 0-2 0-2 0 2 0 3 0-3 1 3 0-4 0 1 0 2 1-4 0 3 0 1 1-4 1 1 0 4 0-5 0 4 0-1 0-2 0-1 1 2 0 2 0-1 1-2 0 0 0 2 1-1 0-2 0 5 1-2 0-3 1 2 0-1 1 3 1-1 0 1 0-1 1-1 0 3 0-4 0-1 1 2 1-2 1 0 1 3 0-3 1 1 0 4 0-2 1-2 0 2 1 2 1-5 0 2 0-1 1 0 0-1 0 4 1-1 0-2 0 0 1 0 0 4 0-3 0 2 0-3 0 4 1-2 0-3 0 3 0-2 1 4 0-4 0 4 2-2 1 0 1 2 0-3 1 3 0-3 1-2 0 1 0 0 0 4 1-5 1 0 1 0 0 1 0 1 0 1 1 0 0-2 0 4 0-2 0 2 0-2 1-1 1 2 0-4 0 0 0 1 0-1 0 1 1-1 0 3 1-3 0 5 1 0 0-3 0-2 0 1 0 0 1-1 0 5 0-4 0 4 0-4 1 0 0 3 0 0 0 1 0-4 1-1 0 2 1 1 1 0 0 0 0 0 1-2 2 4 1 0 1 0 0-5 1 1 0-1 0 1 0-1 0 4 0-1 1 0 0 1 1 1 0-1 0 5 0-1 0 2 0-2-1 2 0-1 0-1-1 0 0 3 0-3-1 2 0-3-1-1 0 0 0 0 0 3 0 0-1 1 0 1 0-4-1 3 0-4 0 1 0 1-1 3 0-5 0 1 0 3 0-3 0 2-1-1 0-1 0 2 0-1 0 0-1-2 0 2-1-1 0 2 0 0 0-1-1 0-1 1-1 1-1 1 0 0 0-1 0-2-1 3-1-4-1-1 0 4-1-1-1-3-1 4 0-3 0 3-2 1 0 0 0-2 0-3 0 4 0-2 0 0-1-1-1 3 0-1 0-3 0 2-1 1 0 0 0-2 0-1 0 2-1-2-1 3 0-2 0 0-1 3-1-4 0 3-1-3 0 3 0 2 0 0 0-5 0 3 0-1 0 2 0 1-1-3-1 2 0-1 0-1-1 3-1-4 0 0-1 3 0-1 0-2-1 4 0-4 0 0 0-1 0 3-1-1 0 1 0 0-1-1 0 2 0 0 0-1 0-1-1 0 0 1-1-3 0 4 0-2-1-2 0 1 0-1-1 4 0 0 0-3-1 3 0-1 0 2-1-5 0 4 0 1 0-4 0-1-1 3-1-2 0 2 0 0 0-2-1 1 0-1 0 1-1-1 0 1-3-1 0 0-3-1 0 3 0-1 0 2 0 1 0 0 0-2-1-2 0 1-1-1 0 3 0-1 0-2-1 0 0-1-1 5-1-4 0 2-1 0-1-1 0-2 0 5 0-4-1 2 0 2 0-1 0 4 1 0 0 3 0-1 1-3 0-1 0 1 1 2 0-2 0 1 0-1 0 0 0 3 1 1 0-2 0 0 0-2 1 3 1 1 0-4 1 0 0 4 0-5 1 1 1 2 0-1 1 0 0-1 1-1 0 3 0-2 0 2 0-1 0 0 0 0 1 2 0-1 1 1 0 0 0 1 0-1 1-1 0-2 1 4 0-1 0 1 1-1 0-4 0 0 0 4 0-4 1 4 0-4 0 5 0 0 1-3 0 3 0-2 0-1 0 0 0-2 1 3 0-2 0 2 0 1 1-2 0 2 0-2 1 0 0 0 1 3 0 0 0-4 0 0 0 0 0 3 0 1 1-5 0 0 0 3 0-2 0 4 0-2 1-2 0-1 1 1 0-1 0 3 0 1 1-2 0 3 0-2 0 2 0-4 0 2 1 2 0-1 1-4 0 1 0 2 0 0 0-1 1 1 0 0 0-1 1 2 0-1 0 2 0-1 0-1 1 2 0-2 0-2 0 4 0-5 0 1 0 1 0-2 1 3 0 0 1 2 0-4 0 3 0 1 0-3 0-2 1 0 0 5 1-5 0 1 0 0 1 1 0-2 0 4 0 1 1-4 1 3 0 1 0-1 0-3 1-1 0 3 0-3 1 5 0-3 0-2 1 4 0-3 1-1 0 3 1 1 0 0 0 0 1-3 0 4 0-1 0-4 1 3 0 1 0-4 1 0 0 3 1-1 0 3 0-4 1-1 0 0 0 3 0-2 0 4 1-3 0 1 1 1 0 0 1-4 0 4 0-1 0 1 0 0 0-2 1-2 0 3 0 2 1-5 0 2 0 3 1 0 0-2 0-3 1 4 0-3 1 3 0 0 0 1 1-4 0 0 0 3 1 1 0-4 3 4 0-2 1 2 0 0 0 3 0 2-1 1 0-3 0-2-1 0 0 3 0 0 0-2-1 0 0 1 0-1 0 0-1 4 0-3 0-2-1 0 0 0 0 1-1 0 0 3 0-2 0-2-1 0 0 0 0 2 0-1-1 0 0 2 0-2-1 0 0 1 0-1 0-1 0 1 0 4-1-3-1 1 0-2 0 2 0-1 0 3-1 0 0-4 0 0 0 2 0-1 0 1-1-3 0 3 0-1 0 1 0 1-1-2 0 0 0-1-1 1 0-2 0 2 0-2 0 4-1-1 0-1 0 2 0-1 0-3 0 5-1-2 0-2 0-1 0 5 0-1 0-3-1 0 0 1 0 1 0 2 0-2-1-2 0-1 0 1 0 1 0 0-1-2 0 0 0 2 0 3 0-2-1-2 0 3 0 0-1 1 0-5 0 2 0-1 0 3 0-3 0 0 0 1-1 3 0-2 0-3-1 1 0-1 0 2 0 1 0-3 0 0-1 0 0 2 0-2 0 5 0 0 0-3 0-2 0 5-1-4 0 1-1 2 0-4 0 3-1-3 0 5 0-4-1 0 0 0 0 0 0 1-1 3 0-3-1 1 0 0 0-3 0 1-1 3 0 0 0-4 0 4 0 1 0-3-1 0 0 0 0-2 0 0 0 3 0-1 0-1-1 0 0 4 0-1 0-1 0-3-1 2 0-1 0-1 0 3 0-3-1 5 0-5 0 0 0 3 0-3 0 0 0 1-1 0 0 3 0-3 0 0-1 1 0 3 0-3 0-1-1 3-1-4 0 0 0 0-1 1 0 3 0-2-1 1 0-1 0-2 0 2-1 0 0 2 0-4-1 1 0-1 0 1-1 0 0 0-1 1 0 1 0-3 0 1 0 2-1-2 0 4 0 0 0-3 0-1 0 0 0-1-1 0-1 0 0 4 0-4 0 2-1-1 0 4-1-2 0 1 0 1-1-1 0-1-1 2 0 0 0-4-1 3 0-4 0 1 0 4-1-4-1 1 0-2 0 0-1 3-1 0 0 0 0 1-1-4 0 2-1-1 0 2 0 1 0-2 0-2 0 1 0 1 0-2-1 2 0-1 0-1 0 0 0 3 0-3-1 0 0 0 0 0 0 4 0-1 1 5 0-1 1-1 0 1 1 1 0-2 1 0 0 3 1-2 1-1 1 2 1-2 0 3 1 0 0-2 1-1 3 0 2 2 5-1 2-1 4 0 2 3 1-3 3 3 2 0 0 0 2-1 2-2 4 3 5 0 0-1 2-2 0 2 4-1 3 1 1-2 3 2 2 1"/>
<rect x="464.1" y="1813.6" width="92.8" height="26.3" fill="#85ceb7" fill-opacity="0.3"/>
<rect class="bx" x="463.5" y="1813" width="94" height="27.5" fill="none"/>
<path class="md" d="M463.5 1829.8H557.4"/>
<rect x="620.7" y="1813.6" width="92.8" height="26.3" fill="#fda481" fill-opacity="0.3"/>
<rect class="bx" x="620.1" y="1813" width="94" height="27.5" fill="none"/>
<path class="md" d="M620.1 1828.5H714"/>
<rect class="pb" x="416.5" y="1672.8" width="344.5" height="187"/>
<text class="t yl" x="411.9" y="1855.3">0</text>
<text class="t yl" x="411.9" y="1801.1">5</text>
<text class="t yl" x="411.9" y="1747">10</text>
<text class="t yl" x="411.9" y="1692.8">15</text>
<path class="tk" d="M413.9 1852.3h2.6M413.9 1798.1h2.6M413.9 1744h2.6M413.9 1689.8h2.6M510.5 1859.8v2.6M667 1859.8v2.6"/>
<text class="t xl" transform="translate(510.3 1864.6) rotate(-45)" dy="6.2">Drinking</text>
<text class="t xl" transform="translate(666.8 1864.6) rotate(-45)" dy="6.2">Non~drinking</text>
<text class="t ti" x="416.5" y="1664.8">Cd by drinking</text>
<text class="t at" x="589" y="1915.5">drinking</text>
<text class="t at" transform="translate(397.3 1766.3) rotate(-90)">Cd concentration (μg/L)</text>
<text class="t sg" x="508.4" y="1681.1">ns</text>
</g>
<g>
<path class="gn" d="M800 1827.6H1145"/>
<path class="gn" d="M800 1772.9H1145"/>
<path class="gn" d="M800 1718.2H1145"/>
<path class="gm" d="M800 1855H1145"/>
<path class="gm" d="M800 1800.3H1145"/>
<path class="gm" d="M800 1745.5H1145"/>
<path class="gm" d="M800 1690.8H1145"/>
<path class="gm" d="M894.1 1674.8V1860.5"/>
<path class="gm" d="M1050.9 1674.8V1860.5"/>
<rect x="847" y="1782.3" width="94.1" height="49" fill="#85ceb7"/>
<rect x="1003.9" y="1788" width="94.1" height="46.8" fill="#fda481"/>
<path class="wk" d="M894.1 1782.3V1709.8M894.1 1831.3V1852.3"/>
<path class="wk" d="M1050.9 1788V1719M1050.9 1834.8V1852.3"/>
<path class="pt" d="M925.5 1691.5l-2 0-2 0-2 0-1 0-4 0-3 0-5 0-2 0-3 0-4 0 0 0-2 0 0 0-1 0-5 0 0 0-8 0 0 0-1 0-6 0-2 0-6 0 8 6 3-2 8-2 11 4 13-1 3-2 1-1 10 10-13-3-3 3-11-5-4 5 0-3-5 0-21 2-3 6 10 0 1 0 8-2 1 3 1-2 2 0 1 2 1-2 0-1 6 3 2-4 2-1 7 3 0 0 4 1 4 1 10-3-4 5-2 0-8 2-3-3-5 5-11 0-3-4-2 2-1 1 0-3 0-1-1 3-1 0-9-2-2 2-8-2 5 6 0 2 7-1 2-1 1 0 3 1 4 1 2 0 6-1 2-2 2 5 1-3 2-1 0 3 1 0 4 0 2-2 8 1 2 0 6 4-1 4-2 0-2-4-5-1-12 5-6-1-1-3-1-1-6 0-1 5-3-4-2 1-1-1-6 2 0 0-1-2-1 4-3-5 0 3-3 0 0 4 1 0 1 3 1 1 3-4 1 3 8-4 0 1 4 1 1-2 1 5 3 0 1-2 6 1 1-3 0 1 7 1 2 2 0-4 5 0 2 1 1-2 1 1 1-1 8 1 0 0-7 9-1 0-2-1-3 0-6 2 0-1-2-1-2 0 0 2-6-5-17 3-6-2 0 0 0 3-4-3 0 1-2 1 0-2 2 6 1 4 1-5 1 1 4 1 0-2 1 1 1-1 2 1 4 2 4-3 3 3 10 0 1 1 1-2 7-1 2 1 1 3 3 0 7-3 1 9-3-5-3 4-2-2 0 1-1-1-3 1-2 1 0 0 0-3-3 4-5 0-7-2 0 2-1-2-1 1-2-3 0 4-6-3-3 1-1-2-8 2-2 2-2-3-1 1-2 7 1-4 2 3 6-1 5-1 2 2 2-1 2-2 3 3 2 1 10 0 0-4 4 1 0 0 1 3 1-3 2 4 1-1 1-4 0 5 2-2 3-2 0 4 0-2 3 2 2 0 1-1 0-3 1-1 1 3 1 8-2-1-1-2-1 0 0 2-3-1-1-3-1 4-4-1-1-1-3 0-1 3-5-5 0 5-4-3 0-1 0 1-1 1-2 1-3 0-4-3-2 0-5-1-1 3-4-1-5 0-1 3-6 5 14-2 2-2 0 3 5-1 0-1 2 1 0-1 6 4 0-1 0 0 3 1 4-5 0 2 6 1 0-3 2 0 10 2 0 1 1-2 3 2 0-2 3 3-2 3-3-1 0 4-4-4-2 3-4 0-3 2-1-4-1 3-7-3-5 0-1 4-6-4-3 2-1-1 0 1 0-2-2-1-2 0 0 0-4 5-2-4-1 3 0-4-1 0-5 3 0 5 3 0 2 0 1 3 1 0 2-1 0 1 0-5 5 1 1 0 0 3 2-4 1 0 0 1 1 4 4-3 1 3 2-1 0-2 0 3 3-3 0 2 3-2 2 2 7-4 2 3 4-2 0 2 0 2 1-3 3 1 6-2 3 0 0 10-3 0-2-4 0 1-2 3-2-5-2 1 0 1-2 0-1 2 0-4 0 1-1 3-2-3-5 3-4-2-2 0-1 1 0-1-4 3 0-1-1-2-1 3-1-1 0-4-3 1 0 0-3 1-3 3-1-1 0-4-1 1 0 0 0 3-1-4-2 4 0 1 0-3-1 0-2 1-1 0-3 2 0-2-3-3-1 1 0 8 1 1 1 1 1-3 0 1 0-2 1-1 0 0 2 1 1 2 0 0 1-3 0 5 2 0 1-4 1 1 2 3 1-5 0 4 0-4 0 1 1 2 1 1 1-4 0 2 0-1 2 2 0 2 1-2 1-1 1 3 0 0 1-2 0-1 1 3 0-3 2 3 0-5 1 5 0 0 1-5 2 3 0 2 0-3 1 2 2-1 0 2 0-1 1-2 3 1 3 1 2-4 1 2 2 1 0 0 1 2 0-2 1-1 1 2 0 0 1-4 0 3 1-1 2 3 1-2 0-1 2-1 0-1 1 2 0 2 2 1 2 0 0-2 0 0 0 3 0 1-1 0-1 4-1-2 0-3 0 4-1-1-2-2-2 0 0 0-2 4-1 0-2 0-1-5-3 5-2-2 0 0-1-2-1 2 0-1 0 0-1 2-1-2-1 2-1-4-1 5-2-1-1-4-3 5-1-2-2 1-3 0 0 1-1-2-1 2-1 0-1-5-1 1-2 1-2 1-1-1-2 3 0 0-2-1 0-4-1 1-1 2 0-3-2 2 0-2-1 5 0-4-1-1 0 4 0 0-3 1-1 6 0-4 1 2 0-1 1-1 0 4 0 0 1-4 1 1 2 0 2-1 0 2 0-1 0-1 1 3 0-4 1 2 0 0 2 1 1 1 0 0 1 1 0 0 2 0 0-2 0 0 1 2 0-3 1-1 1 2 0 2 1-1 0-3 1 3 2 0 0-4 1 0 1 4 0 0 0 0 2 1 1-3 0-2 1 5 1-2 1-2 0 1 1 2 2-3 0 4 0 0 1 0 2 0 1-1 2-4 0 1 1 2 1 1 1-2 0 0 1 2 1-1 0-2 1 3 0-3 0 2 0-2 0 4 1-3 1-2 1 2 1-2 1 0 0 0 0 0 2 2 1-2 0 2 1 2 1-3 0-1 2 1 0 3 0-4 1 3 0 1 1-4 1 1 0-1 0 3 0-2 1 7 0 1-1 2 0-2-1-1 0 3-3-1-2-2-1 1 0 1-1-1 0 2-1-5 0 4 0-2-2 0-1 3-1-2-1-2 0-1-1 5 0-1-1 1 0-4 0 2-1 2-1-3 0 1 0-3-1 3-1-2-1 0 0 3-1 1 0-2 0-2-2 0 0 3-2-4 0 5-1-4 0 2-1-3-1 4-1-1-1-1 0 2 0-2 0 3-1 0 0 0 0-3-1 2 0-4-1 1 0 4-1-1-2 1 0-3 0 3 0-3 0-1-1 1 0 2-1-4 0 4-1-2 0-1-1 0 0 3-1 0 0-1-1 0 0-2-1 2 0-1 0 1-1 2 0-1 0-2-3 1 0-2 0 4-1 0-1-3 0 0-1-1-1 1 0 0 0-1-1-1-1 5 0-5-1 1-2 2 0-3-3 3-1 0 0-1 0 4 2 0 0 1 2 3 0-3 1 3 1 0 0 1 0-1 1 0 0 1 1-2 1-3 1 0 0 0 0 1 1 0 0 1 1 0 1-2 0 3 1 0 1-1 0-1 0-1 1 3 1 0 0 1 1 1 1-3 0 2 0-3 1 0 0 4 1-2 0-2 0-1 1 2 0 2 0-3 1-1 0 2 1 3 1-4 0-1 1 0 1 1 0 4 0-5 0 3 1 1 1-3 0 4 0 0 1-5 1 0 0 2 2 1 0-3 2 4 1-4 0 2 1 1 0 0 1 2 2 0 0-2 1 1 1-4 0 3 2 1 2 0 0-2 1-2 1 0 0 1 0 3 2-3 2-1 2 4 2-1 0 1 2-3 0 3 1-1 1 1 0-3 1 9 0 0-1 1 0-1-2-4 0 4-1-2 0 1 0-3-1 4-2 0-1 1 0-1-1-1-1 0-1 2 0-1-1 1 0-5 0 3-1 2 0-1-2 1-1-1-1 1 0 0 0-2 0-1-1 1 0 0-1-2 0 0-1 1 0 2-1-3 0 2-1 1 0-4 0 4-1-2 0 3 0-4-1 3 0 1-1 0 0-3 0-1 0 3-1-4 0 5 0-5-1 1 0 3 0 1 0 0-1-1 0-4 0 4 0-2 0-1-1 4-2-2 0 1-1 0 0-2-1 2-1-1-1 2 0-2 0 2 0-5-2 1 0 0 0-1 0 2-2-1 0-1-1 4 0 1 0 0-1-3 0-1-1 1 0 1-1 1 0-3 0-1-1 0-1 1-1 0-1-1 0 4 0 0-2 0-1-3 0 3 0-3-1-1 0 3 0 2-1-3 0-1 0 1-1 0 0-1-1 4-1-4-1 4 0-3 0-2 0 1 0 1-1 1-2-2 0 4-2-3 0 9 0-3 1-2 0 1 0 2 1 2 0-3 0 1 1 2 0-1 2 0 1 1 1-1 0-4 2 3 1 1 0-1 0-2 0 0 0 3 1 0 0 0 0-2 1 3 0-5 1 4 2-3 1 1 0-2 1 4 0 1 1 0 0-1 0 0 2-2 0-1 0 3 1-1 1 2 0-3 1-2 0 3 0 1 0-2 1-2 2 1 0 1 1 3 0-5 0 5 0-2 0-2 0 4 0 0 0-5 1 5 0-5 1 0 0 4 0-3 1 4 0-2 1 2 1-5 0 4 1-4 1 3 1 0 0-3 1 0 0 1 1-1 0 0 0 0 1 1 0 2 0-1 1 2 0-4 1 2 1 1 0 0 0 1 1-1 2-2 0 4 2-1 0 0 0 0 0 0 1 0 0 1 1-5 0 5 1-4 0 4 1-4 0 1 0-1 0 2 3-2 0 4 2-2 1-2 3 0 0 2 3 0 0 7 0-1-1 1 0-4 0 3 0-1-1 2 0 0 0-4 0 3-1 1 0 0 0 1 0-1-1 0 0-1 0 0-1 2-1 0-2-1 0-3-1 3 0 0 0-4-1 1-1 0 0 2-1 1-2 0 0 0 0 1 0-1 0 1-1-5 0 1 0 3 0-1-1-3 0 3 0-1 0-2-1 2 0 1 0 0-1 1 0-3-1 3 0 0 0-4 0 4 0-4-1 0 0 1 0 3-1 1-1-3 0 2-1-4-1 5 0-5 0 5 0-2-1-2 0 2-1 0-1 2 0 0 0-5 0 4-1-1-1-2 0 2 0 2-1 0-1-1 0 0-1 0 0 1 0-1 0-4-1 4-1-2 0-2-1 4 0 1 0-4-1 2-1 1 0-4 0 5 0-2-2-1-1 3 0-4-1-1 0 2 0 3 0-3-1 1 0-1 0-2-1 5 0-2 0 2-1-4-1 2 0-3-2 3 0-2 0 3-1 1 0 0 0-2-1-1 0-2 0 0 0 3 0 1 0-4 0 4-1-2 0-2 0 4-1 1 0-3 0 2 0 0 0 1-2 0 0 0 0-1-1 0 0-4 0 2-1-1 0 3 0-1 0 1-2-3 0 1 0 2 0-3 0 0-1-1 0 3 0 1-1-1-1-2-1 0-1 0 0 9 0-4 0 5 0-3 1 3 0-3 1 3 0-4 1 0 0-1 0 2 1 1 0-3 0 5 1-2 0 0 0-2 0 1 1 1 0 0 0-1 1-2 0 5 1-4 1-1 0 0 0 2 1-1 0-1 0 1 1 3 0-2 0 1 1-3 0 5 0-4 1 1 0-1 0 3 2-3 0 3 0-4 0 2 0-1 1 3 0-4 0 0 1 0 1 4 0-1 1-2 0-1 0 0 0 2 1 1 0-1 0 2 1-4 2 4 1-4 0 5 1-1 0-1 1 2 0-2 2-3 1 4 0 0 1-1 0-3 0 5 0-1 1 0 0-2 2 2 0-3 1 4 0 0 1-1 0-1 1 2 0-3 0-2 1 0 0 3 0 0 1-1 0-2 0 0 0 4 1-1 0-3 1 2 0 1 0-2 1-1 1 0 1 5 0-4 0 4 1-4 1-1 0 1 0 0 0 1 1 2 0-3 1 2 1-1 0-1 1 2 0 0 1-3 0 0 0 1 1 4 1-5 0 0 0 0 0 0 1 2 1 0 0 1 0-2 0-1 1 2 1 2 0 0 0-1 0 1 0-2 3 0 0-2 1 1 0-1 1 3 0 0 1-1 0-1 0 1 0 4 0 5-3-4-1 2 0-1 0-2-1 1-2 4 0-5 0 2-3 2-1-4-2 3-1-2 0 0-2 2-2-1-1 1-2 0-2-3-2 0 0 3-2 1-1-1-3-3 0 3 0-2-1-1-1 1 0 1-1 2 0-3-1 2-4-1 0 3-1-2 0 0 0-1-1-2-1 0-1 1 0-1-1 1-2 2 0 0-3-3 0 4-2-2 0 0-3 0-1 0-2 1-3-2-1 1 0 3-1-2 0-2 0 0 0 1 4 4 0 1 1-1 2 3 5 1 2-2 4 1 5-1 4-2 8 0 6 0 1 1 3 0 6 3 1 0 6-2 2-1"/>
<path class="pt" d="M1074.5 1691.5l-8 0-6 0 0 0-1 0-11 0-1 0-8 0 0 0-7 0-2 0-10 0 17 2 22 4 3-3 1 1 7-1 0 3 8-4-17 7-14-1-17 3-5-3-2 2 24 8 3-1 1-4 1 3 3 1 13 1 12-3-3 4-12 2-8-2-2 0 0 3-3-1-2 3 0-1-26 5 4-1 7-1 1 4 1-2 1 1 7-4 4 5 3-2 8 2 3-5 1 3 4 2 3 0 5 0 5 0 0-1 1-3 0-1-4 11-1-3-2 3-1-4-3 0 0 1-1 0-1-1-2 1-39 3-2-2-6 8 0-2 4 2 0-2 3 0 8-2 4 0 1 1 3 1 1-2 2 0 2 4 2-1 4-2 2 0 0 1 1-3 1 0 4 5 3-4 10 1 3 1 2-1 1 2 0 3-3 0 0-1-8 2-6 3 0-4-3 0-2 2-3-3-7 2-1-1-6 1-8 3-6-1-3 1-5 0 0 0 4 6 5-3 4-1 1 1 4 1 4 1 1-1 0 0 5-1 7 0 0-1 1 1 1-1 3-1 3 1 9 1 3-1 4 4 3 2-1 3-1 1-2-4-6-1-5 1-11 2-5 0-4-2-2 3 0 0-6-1-3 0-3-3-2 5-2-2-7-3-1 6 1 1 2 0 1 1 2 1 1-2 5 2 0 1 5-1 1-1 0-2 0 1 1 4 4 0 4-1 6-4 5 4 0-4 3 0 1 1 3 3 1 0 1 1 5-5 8 9-1 0 0 0 0-3-1 2-13 2-1-1 0 1-2-3-1 0-8 0 0 2-4 2-2 0-1-2-4 1-7-4-4 4-9 1-3-1 0 7 5-1 2-2 5 0 0-1 1 4 3 0 2-1 0 1 1-4 8 0 1 1 0-2 2 1 0 1 1-1 1 4 0-5 0 3 1 2 19-3 1-1 3 4 0-5 2 1 2-1 2 1-5 9 0-4-2 3-5 0 0 0-7-3-1 5-5 0-1-4-2 3 0 1-5-3-5 3-2-5 0 3-1 1-2 0-2-4-5 5-2-5 0 2-5 1 0-2-2 4-1-3-1 2 2 6 2-1 1-1 1 3 3 0 1-1 1 0 2 0 5-2 1-1 0 1 0-1 7 2 4-3 3 2 0-2 1 2 1 3 2-1 3-3 1 0 5 2 0 2 3 0 4-2 1 2 1-2 6-2 0 5 0 5-1-1-5-2-1 3-1-1-1-1 0 0-2-2-1 4 0-3-5 1-1 0-1-2-3 2-1 2 0 0-2 0-2-3-2 2 0-4-1 0-1 2-1-1-4 4-2-3 0-2-1 2-3 3-1-3-4 2-1 1-3 0 0-2 0-3-2 3-2-1 0-1-1 0-2 4-1-1-3-2 0 1 0 8 2 0 0-3 1 2 3-2 0 3 0-1 3 1 6-2 0 0 1-3 1 5 1-3 0 0 0-1 3 0 2 4 0-2 3-1 0 3 3-1 1 1 2-3 1 1 1 2 0-4 2 1 1 2 0-4 0 2 1 3 4 0 4-2 1-1 1 2 1 1 0-4 0 0 0 2 1-2 2-1 0 0 0 3 2-2 2-1 1 1 1 1 2 3 1-3 0 1 1-3 0 6-2 2-1 3 0-3-1 3-2-2 0-1 0-2-1 1 0 0-1 4 0-3-1-1-2 2-2-3 0 4 0-1-3-2 0 4 0-3-2-1-2 0 0 2 0 1 0 0 0-1-1 2-3-1-1-1 0-3-2 1 0 4-1-4 0 1-1-1 0-1-2 4-2 1 0-3-3 0-1 1-3-1 0 2-1 0-2-1 0 1-1-3-1 1-2 1-1 0-1-3 0 1 0 1-2 0-2-2 0 3-2 0-3 0-1 0 0 1-1 0 0 1 0-5-1 10 1-1 0 0 0 2 1-5 1 4 0-3 0 4 1-2 0 0 1-3 2 1 1 1 1-1 0 1 0 1 2-3 0 2 1 2 1-2 1 2 0-2 1 2 0 1 2-3 0 0 1-2 0 1 1 4 0-1 1 0 0 1 1-3 0 0 0 2 1-1 0-2 0 3 1 0 1 1 2-3 0-1 1 2 1-1 0 1 1 2 2-3 1 1 1-1 2-2 1 5 0-3 2-1 1 1 2 2 1-1 1-3 3 3 0-1 0 3 2 0 2 0 1 0 6-2 0 2 1-5 3 5 0 5 0-2-1 3 0-5 0 1-1 0 0 3-1 0 0-3 0 1 0 2 0 0-1 0 0-1 0 0-1-3-2 3 0 0-1-3-1 0 0 2-1 0 0-1-2-1 0 5-1-3 0-1-1 1 0-2 0 4 0-1-1 1 0 0-1-3-1-1 0 3 0-1-1 2 0-3-1 3 0-2-1 1-1-2 0 2-2-1 0-2-2 4-1-4-1 4 0-3-2 3-1-1-1 0 0-2 0 0 0 4 0-2-1 2-2-1-2-1 0 0 0-2 0-1-1 2-1 3-1-1-1 1 0-1-1 0 0 1-2-4 0 3 0-4 0 5-1-5 0 2 0 3-1-4 0-1-1 0 0 5-3-4 0 3 0 0 0-3-1 1-1 3-1-4-1 4 0 0 0-1-2 1 0-1 0 1-1-4-1 4 0-3 0 0-4-1 0 2 0-1 0 3-1-4 0 8 0 2 1 0 1-3 0-1 2-1 0 3 0 1 1-4 1 4 2 1 1-1 3-1 0-3 0 4 1-3 0 4 1-4 0-1 1 2 1 3 0-3 0-2 1 3 1-3 1 2 0 2 1-2 0 1 0 0 1-1 2-1 0 0 0 0 0 1 1 0 0 1 0-2 2 4 1-4 0-1 0 0 0 1 1 2 0 1 1 1 0-4 1 4 0-3 0 1 2 0 0-1 1 0 0 3 1-4 0 2 0-2 0 3 1-4 0 4 1-2 0-2 0 3 0-1 1 2 0-4 0 4 0-3 2 4 0-4 2 0 1-1 0 4 1-2 0 1 0-1 1 0 1-1 0 3 0 0 0-2 1-2 0 4 1 0 2-2 0 0 2-1 2 4 2-4 0 4 0-3 0-2 1 3 1 1 2-3 0 3 0-4 2 4 1-2 0 5 0 1-1 2 0-3-1-1-1 0 0 3-2-2 0 3-1-3-1 0-1-1 0 3-1 2 0-5-2 5 0-3-2-1 0 3-2-2-1 0-1 3 0-5-2 0 0 5-2-5 0 4-2-2-1 3 0 0 0-5-1 1 0 1-3 3 0-2 0-2-2 0 0-1 0 4-1 1 0-2-1 2 0-4 0 0-1 3-1-2 0-2-1 3 0 0 0-3-1 1 0 3-1-4 0 1-1-1 0 3-1 2 0-3 0-1-1 4 0-2-1-3-1 5-1-5 0 5-2-1 0-4-1 3-1-3 0 4-1 0 0 1 0-4-1 3 0-3 0 3 0-3-1-1 0 0-2 1 0 2 0-2-4 3 0-2 0 1-2-1 0 0 0 3 0 0-2 0-1-3-1 2 0 2 0 0 2 4 0-1 0 2 1 0 0-1 1-3 0 1 1 2 0-2 0-2 0 1 0 3 1-3 1 0 0 2 2 2 0-4 0 2 0 2 0-4 3 3 1 1 2-4 0 1 4-1 0-1 2 0 0 4 0 1 1-1 1-1 0 0 0 0 1 2 0-4 0 2 1 2 2-4 0 2 0 0 1 0 1 1 0 0 1 0 0 0 0 0 0-4 1 5 0-1 0-3 1 0 1 0 0 1 0 2 1 1 1-5 0 4 1-3 0 2 1 0 0 1 0-3 1 0 0 4 1 0 0-4 1 4 0-5 0 1 1 0 0 4 2-3 0-2 1 5 0-2 0-3 1 2 1-2 0 3 1 1 0-1 0 0 2 2 0-2 0-2 0 2 1 2 0-3 0 2 1 1 0-3 1 1 1 2 1-2 0-3 0 3 0-3 1 2 0 3 1-1 0-3 0 1 1-1 0-1 1 5 0 0 0-2 1-1 0 0 0-2 1 5 0 0 1-5 1 0 0 0 0 5 0 5 0 0-2 0 0 1-1-4-1 0 0 1 0 2 0-4 0 3 0 0-2 1 0-3-1 0 0 4 0 0 0-1 0-3-1 4 0-5 0 1-1 4-1-5 0 5-1-2-1-3-1 5-1-2 0-2 0 2-1-3 0 0 0 5-1-2 0 2-2-4 0 2 0-1-1 0 0 1 0 1 0-3-1 4-1-4 0-1-1 4 0-3 0 2-1 1 0-3-1 2 0-1 0 0-1-2-1 5 0-3-2 1 0-1 0 3-1-5 0 4 0 0 0-1-1 0 0-1-1-1-1 0 0 0-1 3 0-1 0 0-1 0 0 0 0-3-1 1 0 3-1-1 0-2-2 2 0 0 0 0 0 0-1-2 0 1-2 0 0-1-2 1-1 1 0-3-1 4 0 1 0 0-1-3 0-2-1 3 0 0 0 2-1-4 0 4 0-4-1-1 0 4 0 1-1-1 0 0 0-4 0 4-1 0-1 1 0-5 0 2 0 0 0 1-1-2 0 3 0-2-1-1-1 2-2-2 0 2-1-3-1 3 0 0-1-1 0 3-2-5 0 5 0 0 0 2 1 3 0-1 0 1 0-4 0 2 0 1 1 1 0-1 0 0 0 0 1-2 0 0 1 4 0-3 1 0 0 3 0-5 0 2 0 0 1 3 0-4 0 0 1-1 0 3 0 0 0-3 0 2 0 1 1-2 0 4 0 0 0-2 1-2 0 1 0 1 0 1 0 0 0-4 1 5 0-5 0 5 0-4 1 4 0-3 0 3 0-4 0-1 0 1 1 2 0 2 0-4 0 0 1-1 0 1 0 1 0 1 1 0 0-1 0 0 1-1 0 3 0-1 1 1 0-1 0 0 1 2 0-4 0 2 0 1 0-1 0-2 1 3 0-1 0-1 0 3 0-2 0 2 0-1 1 0 0-1 0-1 0 0 0 0 1 0 0 1 0-1 0 1 0-1 0-1 1 3 1-4 0 4 0-1 0 0 1 2 0-4 0 0 1 0 0 3 1-2 0 2 0-3 0 3 0-3 1 0 0 3 0-2 0-2 1 1 0 2 0-1 2 0 0 1 0 2 0-3 0-1 0 4 1 0 0-5 0 5 0 0 0-1 2-3 0 0 0-1 0 0 0 5 0-5 1 5 0-2 0 0 0 2 1-1 1-4 0 4 0-2 0-2 1 1 0 2 0-1 0 3 1-1 0-2 0-1 0 4 0-5 0 1 0-1 1 0 0 0 1 0 0 1 1 0 0 3 1 1 0-1 1 1 0 0 0 0 0-3 0 2 1 0 0-2 0 0 0-1 0-1 0 0 1 5 0-3 0-1 1 2 0-1 0 1 0 1 1-2 0-1 0 3 0-1 0 1 2-2 0-2 0 2 1 3 0-5 0 4 0-3 0 1 1 3 0-4 1 2 0-1 0 3 0-5 0 3 0 1 0-3 1 0 0 4 0-2 0-3 0 2 1 1 0-2 0 4 0-5 1 3 0-2 1 3 0 1 0 0 0 0 0-4 0 3 1-4 0 5 0-5 0 3 1-3 0 5 0-4 0 1 0-2 1 5 0-3 0 0 0-1 1-1 1 3 0-3 0 1 0 2 1-2 0-1 1 4 0 3-1 4-1 0 0-5-1 3-1-2 0 0-1 1 0 2 0-2-2 2-3-3-1 0-1 1 0 2-1-1 0-3 0 1-1 4 0-1-1 0 0-1 0-3 0 5-1-2 0-1-1-2-1 2-3 2-1-1 0 0 0-1-1-1 0 0-1 3 0-3 0 2 0 2-1-3-1 3 0-4-1 4-1-4 0 3-2-3-1 4 0-5 0 0 0 3-1 2 0-3-1-1 0 1 0-2 0 5 0-1-1-4-1 4 0-4-1 2 0 2-3-4 0 1-1 0-1-1 0 0 0 1-1-1-1 4-1-2-1 1-1-3 0 4-3-3-1-1-1 1-2-1 0 3 0-2-1 2 0 0-1-1-1 2-1-3-1-1-1 5-1-4-1 3 0-1 3 5 3-1 3 3 0-4 0 4 1-1 1-3 4 3 2 1 3-4 0 2 1 0 1 2 2-2 0 0 0-2 3 4 2-2 2-1 0-1 1 4 0-2 3-2 2 0 2 2 2-2 1 1 6 0 1-1"/>
<rect x="847.6" y="1782.9" width="92.9" height="47.8" fill="#85ceb7" fill-opacity="0.3"/>
<rect class="bx" x="847" y="1782.3" width="94.1" height="49" fill="none"/>
<path class="md" d="M847 1810.8H941.1"/>
<rect x="1004.5" y="1788.6" width="92.9" height="45.6" fill="#fda481" fill-opacity="0.3"/>
<rect class="bx" x="1003.9" y="1788" width="94.1" height="46.8" fill="none"/>
<path class="md" d="M1003.9 1816H1098"/>
<rect class="pb" x="800" y="1674.8" width="345" height="185.7"/>
<text class="t yl" x="795.4" y="1858">0</text>
<text class="t yl" x="795.4" y="1803.3">10</text>
<text class="t yl" x="795.4" y="1748.5">20</text>
<text class="t yl" x="795.4" y="1693.8">30</text>
<path class="tk" d="M797.4 1855h2.6M797.4 1800.3h2.6M797.4 1745.5h2.6M797.4 1690.8h2.6M894.1 1860.5v2.6M1050.9 1860.5v2.6"/>
<text class="t xl" transform="translate(893.9 1865.3) rotate(-45)" dy="6.2">Drinking</text>
<text class="t xl" transform="translate(1050.7 1865.3) rotate(-45)" dy="6.2">Non~drinking</text>
<text class="t ti" x="800" y="1666">Hg by drinking</text>
<text class="t at" x="972.5" y="1916.5">drinking</text>
<text class="t at" transform="translate(780.8 1767.7) rotate(-90)">Hg concentration (μg/L)</text>
<text class="t sg" x="891.2" y="1682.8">****</text>
</g>
<g>
<path class="gn" d="M1182.8 1825.4H1528.5"/>
<path class="gn" d="M1182.8 1770.7H1528.5"/>
<path class="gn" d="M1182.8 1715.9H1528.5"/>
<path class="gm" d="M1182.8 1852.8H1528.5"/>
<path class="gm" d="M1182.8 1798H1528.5"/>
<path class="gm" d="M1182.8 1743.3H1528.5"/>
<path class="gm" d="M1182.8 1688.5H1528.5"/>
<path class="gm" d="M1277.1 1671.8V1858"/>
<path class="gm" d="M1434.2 1671.8V1858"/>
<rect x="1229.9" y="1786.8" width="94.3" height="46.5" fill="#85ceb7"/>
<rect x="1387.1" y="1788" width="94.3" height="45.5" fill="#fda481"/>
<path class="wk" d="M1277.1 1786.8V1718M1277.1 1833.3V1850.1"/>
<path class="wk" d="M1434.2 1788V1719M1434.2 1833.5V1850.1"/>
<path class="pt" d="M1305.5 1688.5l0 0-4 0-8 0-10 3-2-3-6 0-3 0-7 1-7-1-8 0-4 0 0 7 10 2 17-1 33-1-7 7-4-4-8 2-7 0-8 0-2 3-6 0-7-5-7 5-1 4 6 2 2-5 2 2 3 1 0 2 8-4 1 4 0 0 9-4 1-1 3 2 2 0 7 1 6 0 5-1 2 3 2 4-18 1-1-2-2 2-5-2-2-2-8 2-4 0-2 1-5-1-2-2-3 0-9 3 2 3 2 1 1-1 6 3 11-3 2 2 1 3 3-1 5 1 1-2 3 2 4-4 4 4 4 0 2-5 7 3 2-2 0 0 1 2 0 7-1-2-8 0-1 0 0 3-1-4 0 2-6-2-3 1-9 2-1 0 0 0 0 0-2 0-2-4-2 0-1 1-6 0-1 1-9 0-3-1 0 1-2 2-2 2 2 4 2 0 5-4 3 1 0 2 2 0 3-1 1 0 1 2 2-1 17-3 5 5 4-1 2-1 6-3 2 0 2 11 0-3-1 3-9-3-1 3-2-3-6 2-1-1-3 2-1 0-3-3-9 0-6-2-4 4-4 0-2-1-5 1 8 2 0 0 4 3 6 0 5 0 3 2 1-2 0-1 3-2 4 4 0-2 1-1 4 3 1-2 3 0 0 0 1-2 1 4 4-1 3-2 1 1 1 0 3 3 1 4-4-2-5-1-3 5-1-1-3-1-2-2-1 2-1 2-1-4 0-1-2 5-5-5-2 2 0 0-5 0-2-2-5 1-2 2-3 1-4 1-2-3-2-1-2 2-3-3-2 5 0 1 4 4 1-3 1-1 2 0 8 2 1-2 0 4 2 1 4-3 3 0 0-1 2-1 0 1 3 4 0-4 0 3 0 1 1-4 1-1 0 4 2-3 7 0 1 4 1-3 3-1 1 1 4 0 4 2 2 0 4 2 0 3-2 0-3 1-4-1-1-2 0 2 0-2-8 2-2-1-8 3-2-1-1 0-1-4-1 5-3-3-7 1 0-2-1 1-9 2-1-3-2 3 0 0-2 4 0 0 8 3 0-1 1-2 1-1 1 3 2-3 1 0 2 3 0-4 1 3 5 1 3-1 1-2 2 2 6 2 5-4 1 1 2-2 1 3 2 1 0 1 2-1 1 0 0 1 1-2 5-3 4 4-1 4-3 2-4 1-2-4 0 2-5 1-3 1-5-2-1-3-4 1-1 0-2-1-14 2-2 3-6-1-4-2 0 1-1-3-4 7 1 4 1-5 2 4 4-1 3 0 2-2 0-1 1 1 2 4 1 0 0 0 2-2 1 1 0 1 4-4 0 2 4 2 3 0 1-1 2-3 4 4 0-5 5 3 2-3 4 3 1-3 2 1 2 4 6-5 1 3 0 8-3-5-1 4 0 0-4-2-1 0 0-2-1 0 0 3-1 2-4-3-1-1-3 4-1-5-1 2-1-1-5 2-1-3-2 2-1-1-1 4-1-2 0-3-1 1 0 4-7 0-5-3-2 3-1-2 0 2-1-2 0-3-1 5-3-4-2 1-1-2-1 2 0 1-2 2 1 1 3 0 2 2 1 1 2 2 5 0 1-2 1-3 2 3 0-1 1 3 2 0 0-1 1-4 0 2 1-2 2 4 0 0 0-4 0 3 1 0 0-3 1 5 3-4 0 3 1 0 1 0 0-1 0-1 1 2 1 0 1 1 2-3 1 0 5 3 0-2 1-3 0 4 4-1 1-3 1 1 2 1 1 3 2-4 3 2 0-1 3 1 0-2 0 9 0-3 0 0 0 2 0-3-1 2 0 3-1-4-1 1-3-2 0 3 0-3-2 4-1-1-1-1-3-1-1 2 0 1 0-4-2 5-1-4 0 4-2 0 0-3-3-1-1 0-1 3-3 1-1-2-2-2-1 2-1 1-1 0 0 1-3-1-1 1-1-3-1-2-3 2-1 3 0-3-1-1-1 1-2 2-3-2 0-2-3 3-1-1 0-2-1 5-2-2-1-3 0 2-1 1-2 1 0-2 0 2-1 0 0-3 0 5 2 5 0-2 1 1 0 0 1 1 0-1 0 0 1-1 0-3 1 3 1-3 1 4 2 1 0-2 1 0 2-3 1 2 0-2 1 5 1-5 1 4 1-2 0 1 1-3 0 2 1 0 1 0 4 1 1 1 0-4 3 4 0-2 2 2 2-1 0-2 1 1 1 1 1-3 0 4 0-1 1 1 0-1 0 1 2-3 1 1 0 1 1 0 1 0 0-1 5 2 0-4 0 0 0 5 0 0 1-5 2 5 1-5 1 4 1-2 0 1 1 1 0 0 2 0 1 1 0-5 0 3 0 1 0 0 2-4 0 3 0-3 1 4 0-3 1 4 1-4 0-1 0 7-1 1 0 1 0-3-1 2 0-2-1 3 0 2-3-4-1 4-1 0 0-2-3 1 0-1 0 0-1 2-3 0 0-3-1 0 0-1-2 2-1 2 0-1 0-1-1 1-3 0-1 0 0 0-1-2 0 0 0 2-2-2 0 1-1 0 0 2 0-2-2 2-1 0-2 0-1-2 0-1-1 1-1 1 0-3-1 0 0-1 0 2-1 0 0-1 0 0-2 1-1-2 0 0-2 0 0 1-1 0-1 3-2-3-1 2-2 0 0 1 0 1 0-1-1 0 0 0 0-1-1-2 0 3-1-3 0-1-1 2-1 3 0-4 0 2-1 1-1-2-1 2 0-3-1 1 0 1-1-2 0 3-2-2 0 3 0-3 0 8 0-2 1 3 0-5 1 1 1 0 0 1 0 0 0 2 1-4 2 3 0-3 1 5 0-4 0-1 2 0 0 2 0 2 1-3 0 1 1-2 0 2 0 1 0-1 2 2 0-3 1-1 1 4 1-1 1-2 0-1 0 5 0-3 0 1 1-3 0 1 0 0 0 4 1-1 0-1 0-1 2 3 0-5 1 2 1 1 2 1 0-2 0 2 1-3 0 2 2 0 0-2 1 4 0-2 0-2 0 1 1 2 3 0 0-1 0 1 1-2 0 0 1 2 3-4 1 1 0 4 1-2 0-2 0 0 1 0 1 0 1 0 0 1 0-1 2 4 0-4 0 1 1 3 1-5 0 2 1 0 1-1 0 3 0-4 1 4 0 0 2 1 0-5 1 4 0-2 1 0 1 0 0-2 1 3 0-1 0 3 0-5 1 3 0-1 0-2 1 3 0 2 1-5 1 2 0-2 1 4 0 1 0 0 1 6 0-3 0 0-1 3 0-5-1 2-1 1 0-3 0 4 0 1 0-4 0 2-1-2 0 3-1-4 0 0 0 5-2-3 0 3-1 0 0-3 0-1 0 1-1-1 0-1-2 5 0-2-1 0 0-3 0 2-2 2-2-2-1 2-1 1 0 0 0-1-1 1-1-2 0 1 0 0 0 1-1-2 0 1-1-2-1-1 0 0 0 0 0 2-1 0-1-1-1 1 0-1 0-2-1 1-1 2 0-1 0 1 0-3-1 4-1-4 0 4-1-3 0 0 0 3-1-4-1 1 0 0-1 0-1 4 0-4 0 0-2 2-2 2-1-2-1-3 0 4 0-4 0 1-1 0 0-1 0 2-1 1 0 1-2-1-1-2 0 2 0 1-1 0 0-1-1 0-1-2-2 3 0 0-1-4-1 0 0 0 0 3-1 0 0-2-2-1-1 1 0 1 0 2-2 0 0-4 0 0-1 4 0-3-1 0 0 2 0-2-1 4 0-4 0 9 0-1 0 2 1-5 1 1 0-1 1 1 1 3 1-3 1 3 0-2 1-1 0-1 0 0 1 4 0 1 1-1 2-1 0-2 1-1 0 4 1 0 0 0 0 0 0-1 1 1 0-3 0 4 1-4 0 2 0 1 0 0 2-2 0 0 0-2 1 3 0 2 0-3 1 1 0-1 1 0 1-1 1-1 0 3 0 1 1-4 0 3 0-3 1 3 0 1 1-4 0 1 1 2 1 2 0-2 3 1 0-1 0-2 0-1 0 1 1 4 0-3 1 1 0-2 0 3 1 0 0-2 0 1 0-1 1 0 0-1 0 1 0 3 0-5 1 4 1-1 0-2 1 4 2-4 1-1 0 2 0 3 1-4 0 1 1 1 1 1 1-3 0 3 1 1 1-3 0 2 1 0 1 1 0-1 0-3 1 2 2 0 1-3 0 5 0-2 1-3 1 0 0 0 0 0 1 1 1 1 0-1 3 1 0-1 1 3 0-3 2 0 0 4 0 5 0-3 0 4 0 0 0-3 0 0-1 3 0 0 0 0 0-2 0-1 0 1-1-2 0 3 0 0-1-2 0 2-1-2 0 3 0-3 0-2-1 1 0 4-2-1-1 0 0 0 0 0-1 1 0-2 0-1-1 0 0 3 0 0 0-5-1 1 0 2 0 2 0-3-2 2 0-1 0-2-1-1-1 3 0-3 0 5-1-3-1 2-1-4 0 0-1 5 0-1-1-1 0 1 0-2-1 3 0-5 0 3 0 2-1-1 0-2 0-1-1 3-1-1 0-3 0 5-1-2 0-3 0 4-1 1 0-2-1-3-1 0 0 1-1 4-1-5 0 0-1 3-1 2 0-3 0 3-1-4-1 3 0 1-1-4 0 4 0-5 0 2-2 3 0-2 0-1 0 3 0 0-1-1 0-4 0 4-1-4 0 3 0-3 0 1 0 1 0-1-1 0 0 1 0 3 0-4 0 1-1 1 0 1 0-1 0 1 0-2 0 2-1 1 0 0 0-1 0-4 0 5-1-1-1 1 0-4 0-1-1 3-1-1-1 3-1-4-2-1 0 3-1 0-1 1 0 0 0 1-1-3-1-2 0 4 0-3-1 3 0-4-1 5 0-1 0-4 0 5-1-2 0 1-1-1-1 2-1-1-1 1 0-4 0-1-1 2 0 3 0 6 0-2 0-3 0 4 0-4 1 0 0 1 0 4 0 0 0-4 1-1 0 2 0 2 1-3 0 3 0-4 0 4 0-4 1 0 0 2 1-2 0 2 0-1 0 0 1 3 0 0 0-2 1 0 0 1 1-1 1-1 0-1 0 1 1 2 1-2 0 1 0-2 1 1 0 3 0-3 0 2 0-3 0 0 1 3 0 1 0-4 0 1 1 0 0 4 0-3 0 2 1-4 0 2 1 3 1 0 1-4 0-1 0 2 0-1 1 3 0-3 1 0 0 3 0-3 0 4 0 0 0-3 1 1 0-3 0 1 0 0 1-1 0 0 0 0 1 0 0 2 0 0 1-2 0 0 1 1 0 2 0 2 0-2 1 0 0 2 0-2 1 1 1-4 0 0 0 5 0-3 0-2 0 0 1 4 0-1 0-3 1 4 0-3 0 3 0 0 0-1 2-2 0 3 0-4 0 5 1-5 0 4 0-4 0 1 1 1 0 1 0 1 0-3 0-1 0 4 1-4 0 0 0 3 0-2 1 1 0-1 0 0 2 3 0-2 1 2 0-3 0 1 0 1 1 0 0-1 0 1 0-2 0 2 1-3 0 2 0 1 0-3 1 1 0 3 0-1 0 2 0-3 0-1 0-1 0 3 1 2 0-4 1-1 0 3 0-1 1-1 0-1 1 1 0-1 0 4 1 0 0-2 1 0 0 3 0-5 0 1 1 3 0 1 1 0 0 0 0-3 0 0 1-1 0 3 1-4 0 2 1-1 0-1 0 2 0 3 1-2 0-1 0-1 0 3 0-2 1-1 0 2 1-2 0 4 0-3 1-2 0 1 0-1 1 3 0-1 0 0 0-2 0 4 0 0 2 0 0 0 1 0 0 1 1-1 0-4 0 2 0 1 0-1 0 1 0 6-1-3 0 5 0-3-1-2-1 1-1 0 0 1-1 0-1-2 0 2-4-2-1 3-2 1-1 0-1-3 0-1 0 5-2-4 0-1 0 0-2 2 0 2-2-3 0 1-1-2 0 0 0 5-2-5 0 2-1 3-1-5-1 0 0 0 0 1-1 0-1-1-3 0-1 0 0 4-2-2 0-2-1 1-2 0 0 1-1-1-1 0 0 1 0 0-1-1 0 0-1 4-1-1-1-3-3 2 0-2-1 2-3-1-2-1-1 2-1 1-2-1-2 1 0-1 0 2 0-5-1 0 1 7 0 1 1-2 13 1 2-1 2 2 10 0 0-2 1 0 9 0 1 0 2 1 3-1 7 0 0 0 4 1 2-1 2 0"/>
<path class="pt" d="M1465.5 1688.5l-7 0 0 2-3-2-1 0-4 0-5 0-6 0-2 0-9 0-5 3-2-3-1 0-1 0-4 0 0 0-7 0-1 0 34 6 7 2 4-2 13-2-21 6-17 4-19 1-5 4 0 2 4-3 13 3 6 0 2-3 13 3 1 0 0-4 12-1 4 3 5-3-3 8-1 3-17-3-2 2-3 1-4-2-2-1 0 3-2-3-4 6 1 2 4 1 3-4 6 4 7-4 6-1 0 2 12-2 0 3-2 7-2-1-1 2-2-4-2 2-1 1-3 1-17-1-1 0-8-3-1 0-1 4 0-2-1 1-1-3-2 3-7-3-1 0-4 2-1-1 5 4 0 3 1-1 13 2 2-2 1 2 1-4 3 2 3 2 0-2 6 1 9-1 3 1 1-3 0 4 3-3 3 2 1 0 1 0-4 4-4 3-2 1 0-5-4 4-3-1-4 2-2-1-7-2-7-1-4 0-2 4-6-5-1 1-8 9 2-3 0 0 1 0 5 2 0 2 6-1 2-3 0 2 1-2 1 4 4-5 0 5 3-5 4 0 1 5 2-4 2 0 1 1 1 2 4-1 5 0 7 0 0-3 7 9-5-1-1-1-2 2-11-3-2 0-2 0-2 4-1-4 0 1-1 3 0-4-4 4 0-1-2-3-1 0 0 1 0 2-5-3-2 3-2-2 0 1-2-1-6 2-1-3-1 5-1-1-3-2-2-2 3 10 6 1 5-5 1 5 0-3 1-1 9 1 4 1 0 0 1 1 2-4 1 4 3-1 15 2 5-4 2 2 2-1-1 7-6 1-5-2-4 3-1-4-5 1-1-2-1 4-3-2-4 0-5-2-2 2 0-1-1 2-1 0-1 0-2 2-1-5-2 2-4-2-7 3-4 7 4 1 2-4 14 0 1-1 4 0 1 3 3 0 1 1 4-1 11-2 0 1 1 2 2 1 3-4 2 4 1-5 6 10 0 0 0-1-3-1-1 3-2-2-1-3-8 1-1 1-5 0-1-2-1 1 0 3 0-2 0 3-7-4-1 2-2 0-1 2 0-1-1-1-2 2-5-4-13 1 0-2-1 1-1 3-1-2-1 1-1 1 1 2 1 0 5 0 5 3 1 1 1-1 1-3 1 2 1 1 1-1 2 0 0-1 2 0 2-1 0 4 1 1 4-2 7-2 0 2 1-1 1 1 0-1 0 1 5 2 4 0 0-2 4 0 0-2 1 4 1 0 8-4 0 1 0-2 2 7-6-1 0 1-3 2-5-2-1-1-1 5-2 0-1-5-1 4 0 0-2-2-3 0-1-2-1 3 0-3 0 3-2-3-1 1-6-1-1 3-1-2-2 3 0 0-2-3-2 3-1-3 0 2 0 2-1 0-1-1 0 1-2-1-2 0 0 1-1-3 0-1-1 1-1 1-4 2-1-1 0 0-3 2 1 3 1-2 2 2 3-1 4-1 2 3 1-1 2 0 1-2 1 2 1-1 0 2 1-4 0 1 2 3 2 0 0 1 5-4 1-1 1 5 0-1 1 0 0-3 2-1 6 0 1 4 1-4 1 2 1 1 0 1 1 0 0 0 0 1 1-3 0 3 1-4 0 0 0 3 1 0 0 0 1-2 0 3 3-3 1 3 0-4 0 2 1-1 2 2 1-3 0 0 2 4 2 2-1 2 0 2 0-4-2 3 0-2 0 2-1-4-2 0 0 5 0 0-3-5 0 1 0 2-1 1 0 1 0 0-2-5 0 5-1-3 0 1 0-2-1-1-1 1-1 0-2 1-2-2-1 4-1-2 0 1 0-3-1 4 0-2 0 0-2 0-1 1-2-3-4 3-2 2-1-1-2 0 0-2-2-1-2 2-1-2 0 1 0 1 0 0-1-1-1 1 0-2-1 0 0 4-1-1 0 0-4-2 0 1-2-2 0 0-1 0 0 4-1-1 0-3-1 2-3 0 0 3 0 4 2-2 0 0 0-2 1 4 1 1 0 0 1-4 2 2 1-2 0 3 1 1 1-1 0 1 1-5 0 5 1-1 0 1 3-1 0 1 1-4 0 1 0 3 3 0 2-3 2 0 1 3 1-5 4 5 0-2 0 1 0 1 0-2 1-3 0 4 2-2 0 3 1-3 1 2 0-2 1-1 1 1 0-1 2 4 1-4 1 0 3 1 2 0 0 0 1 3 1-3 2 3 0-4 0 2 2-2 1 1 2 2 1-1 1-3 1 5 0-2 0 2 1-4 1-1 0 10-1-2 0 0-1 0-1 2 0 0-1 0 0-1 0-2 0 1-2 0-1-1 0 1 0 2 0-4-1 5 0-4 0 4-2-2 0 2 0-2-1-1-1 1 0 2-1-2 0 2 0-1-1-2 0-1 0 2-2 2 0-3-1-1 0 3-1-3-1 2 0 2-1-3 0 3-1-2-1 1-1-1-2 1 0-2-2 3-1-5 0 4 0-4-3 4 0-2-1-1-1 4 0-5-2 3-2-1 0-1 0 2-1-3-1 0 0 0-1 3 0 2-1-1 0-2-1-1-1 1 0 1 0-3-1 5 0-1-1 0 0-2-1 3-1-2-2-1 0-1 0 4-3 0-1-2 0 2-1 0 0-5 0 0-1 2 0-2 0 1-1 1 0 2-1-4-1 0 0 0-3 3-2 0 0 1 0-4 1 8 2-1 1 1 0-2 0 3 1-2 3 4 0-1 0-3 1 2 0-3 2 0 0 2 1-2 0 4 1-3 1 3 0 1 0-5 0 0 2 4 0-1 0-2 1 0 1 0 0 0 0 3 1 0 2-1 0-2 0 0 1 0 0 2 1-3 0 3 1-2 0 0 1 3 0-2 0-2 2 4 1-3 0-1 0 5 3-5 0 5 0-3 0 2 0-4 1 2 0-2 0 1 0-1 2 2 0-1 1 3 0-3 1 4 0-3 0-2 0 0 1 3 1-2 0-1 1 3 1 1 0 0 0-4 0 3 0-3 1 5 0-4 1-1 0 1 0 4 0-1 0 1 1-4 0 0 0-1 4 1 1 2 1 2 0-5 0 4 0-3 1-1 1 3 0-3 1 4 0-2 1-1 0 4 2-5 0 5 1-5 0 4 1-1 1-1 0 2 1-3 0 3 0-4 0 3 0 1 0 1 1-5 2 3 0-2 1 0-1 7-1 0 0-1 0 1-1 2-2 1-1-5-1 3-1-3-1 3 0-2 0 4-1-5 0 2-2 1 0 1-2-2 0 1-1 0-1-2 0 0 0 2-1-1 0 0-1 0 0 2-1-4 0 2-1 0 0-1 0 4-1-5 0 5-2-2 0 2 0-1-1-2-2 1 0-3-1 0-1 1 0 2 0-2-1-1-1 4 0-3-2 4 0-4-1 3 0-3 0 3-1 1 0-5-1 3 0-1-1-2-1 1-1-1 0 1 0 2 0 2-1-4-1-1 0 4-1 1-1-4 0-1 0 3-1 1 0 1 0-3 0 0 0 3 0-4-1 3 0 1-1-4-1 2-1 1 0-3 0 3-1-4 0 5-1-3 0 1 0 2-2-3-1-1-1 3 0-2 0-2-1 2 0 3-1-2 0 2-1-3-1 2 0-2 0-2-1 2 0 3-1-4-1 4-2 0 0 6 0-5 1 0 1 2 0 3 0-4 1 4 0 0 1-1 1-2 0 0 1-1 1-1 0 5 2-1 0-4 2 1 0 2 2 2 1-4 0 4 1-4 0 3 0 1 2-3 2-2 0 0 1 5 0-1 0 0 1 0 0-4 0 1 1 2 0 2 0-4 1 2 0 0 1-2 0 4 0-4 0 1 1 3 0-5 0 4 0-2 0 0 1 0 0 0 0 2 0-4 1 5 0-1 0 0 1-4 1 2 0 1 0 2 1-5 0 3 0-3 1 2 1 1 1-3 1 1 1 4 0-3 0-1 1 0 0 1 1 0 0 2 0-1 0-3 0 4 1-4 0 2 0 1 1-1 1 3 0-3 1-2 0 2 0 0 0 1 1-1 0 1 1-1 0 2 0 1 1-2 0-1 0 3 1-5 0 3 0-2 1 0 0 1 1 3 0-4 0 0 0 3 0 0 1 1 1-1 1-2 0 0 0-1 1 2 0-3 3 0 0 3 0 1 0 1 0-4 1 2 0 1 0-2 0 1 1-1 0 1 1 0 0-3 1 4 1 1 1-5 1 5 0 5-1-1 0-2 0 2-1 1 0-4 0 5 0-1-2-1 0 2 0-3 0 0 0-2-1 4-1-1 0 0 0-1 0 1 0 1-2 0 0-4 0 1-1-1 0 5 0-2 0 0 0 2 0-5-1 0 0 0 0 0 0 4 0 0-1-2-1-1-1 3 0 0-1-1 0 1-1 0 0-2 0 1-1-1 0 3-1 0 0-3 0 3 0-2-1-1-1-1 0 3 0-4-1 3 0-2-1 3 0-2 0 0 0 0 0 0 0-1 0 0-1 3 0-3 0 3-1-2-2 1 0 1 0 0 0 0-1 0 0-1 0-1-1 0 0 1 0 0-1-1-1 1-1-1 0 1-1-3 0 3 0-3-1 2 0 0 0 0 0 3-1-3 0-1-1 3 0 1 0-4 0 4 0-4-1 2 0 0 0 1-1 1-2-2 0-3 0 0 0 0-1 0 0 5 0-1-1 1 0-2 0 1 0-2-1 2 0 1 0-5 0 5-1 0 0-5 0 4-1-2 0 1 0-1-1 0-1 0 0-2 0 3-1-1-1 3-1-1 0 0 0-1-1-1 0 0 0 3-1 0 0-1 0 0-1-3 0 4-1-1 0-4 0 4 0-1-1 2-1-2 0-2 0 4 0-1 0-4 0 0 0 5 0-1-1-2 0 0 0 0-1 2 0-4-1 4 0-1-1-2 0-1 0 5 0-1-1-4 0 1 0 3-2-2-1 3 0-4 0 2 0 8 0-5 1 2 0 3 0-2 1 0 0 0 1-2 1 4 0-2 0-3 1 4 0-2 1-1 0-1 1 1 0 2 0 0 0-2 1-1 0 1 1 0 0 2 1 1 1-3 0 4 0 0 0-3 0 0 1-1 0 0 0 0 0 2 0 2 1-5 0 0 0 2 0 1 0-3 0 2 1 1 0 0 1 2 0 0 0 0 0 0 0-4 1 0 0 0 1 0 0 0 0 0 0 1 2 3 0-2 0-3 0 1 0 2 0-1 0-1 1 3 0 0 0-3 0 2 0-2 1 0 0 2 0 2 1 0 0-3 0 0 0 1 1-2 0 2 0-2 0 0 0 2 0-2 0 1 1 3 1 0 0-2 1-2 0 1 0 0 0 0 1-1 0 3 1-4 0 0 0 4 0 0 0 1 1-5 0 1 0 0 1 3 0 1 1-5 0 1 1-1 1 0 1 1 1 1 0 3 0 0 0-2 1 2 0-4 0 4 0-2 0 0 0 0 0 2 1-3 0-2 0 2 0-1 0 0 0 1 1 3 0-3 0-1 1 4 0-5 0 4 1-1 0 1 0-3 1 0 0 3 0-2 0-1 1 0 0-1 1 1 0-1 1 4 0-3 0 1 1 1 0 1 1 0 0-3 0 2 0-2 1-1 1 2 0-1 0 1 1 2 1 1 0-2 0-3 0 4 1-1 0-1 0 0 0 2 1-1 1-2 0 4 1 0 0-5 1 0 0 2 0-2 0 1 0 2 1 0 0-1 0-2 1 3 0 1 0-4 0 0 1 2 0 3 0-5 0 5 1-1 1 1 1-1 0-2 1-2 0 2 0 0 0 0 0 6 0 3-1-4-1-1-1 0 0 2 0-1-1 1-3 2 0-2-1-1-3 0 0 0 0 0-1-1 0 0-1 1 0 0 0 0-1 1 0 1-1-2 0-1-2 1-1 4-2 0-1-4-2 1 0 2-1-4-2 1 0 1-1-2 0 2-1 0-1 0 0 2 0-4-1 0 0 2 0-1 0 2-1-2-2 1-2 3-1-2-1-3-2 5 0-5 0 3 0-3-1 0-3 0 0 2 0 0 0 0-2 1 0-2-1 1-2-2-1 3 0-3-1 1 0 1-1-1 0 2-1 1-1 0 0 0-1-1-1-1 0 1-1-3 0 0 0 2 0 0 0-2-1 1 0 4 0-3-2 0-1 0 0-1 20 7 5-2 3 0 3 2 2 0 6-2 0 0 7 1 4 1 6-1 1 0"/>
<rect x="1230.5" y="1787.4" width="93.1" height="45.3" fill="#85ceb7" fill-opacity="0.3"/>
<rect class="bx" x="1229.9" y="1786.8" width="94.3" height="46.5" fill="none"/>
<path class="md" d="M1229.9 1816H1324.2"/>
<rect x="1387.7" y="1788.6" width="93.1" height="44.3" fill="#fda481" fill-opacity="0.3"/>
<rect class="bx" x="1387.1" y="1788" width="94.3" height="45.5" fill="none"/>
<path class="md" d="M1387.1 1816.3H1481.4"/>
<rect class="pb" x="1182.8" y="1671.8" width="345.7" height="186.2"/>
<text class="t yl" x="1178.2" y="1855.8">0</text>
<text class="t yl" x="1178.2" y="1801">20</text>
<text class="t yl" x="1178.2" y="1746.3">40</text>
<text class="t yl" x="1178.2" y="1691.5">60</text>
<path class="tk" d="M1180.2 1852.8h2.6M1180.2 1798h2.6M1180.2 1743.3h2.6M1180.2 1688.5h2.6M1277.1 1858v2.6M1434.2 1858v2.6"/>
<text class="t xl" transform="translate(1276.9 1862.8) rotate(-45)" dy="6.2">Drinking</text>
<text class="t xl" transform="translate(1434 1862.8) rotate(-45)" dy="6.2">Non~drinking</text>
<text class="t ti" x="1182.8" y="1663.5">As by drinking</text>
<text class="t at" x="1355.5" y="1914.8">drinking</text>
<text class="t at" transform="translate(1163.6 1764.9) rotate(-90)">As concentration (μg/L)</text>
<text class="t sg" x="1274.4" y="1679.9">ns</text>
<text class="lt" transform="translate(1501 1907) scale(0.967 1)">G</text>
</g>
</g></svg></body></html>
